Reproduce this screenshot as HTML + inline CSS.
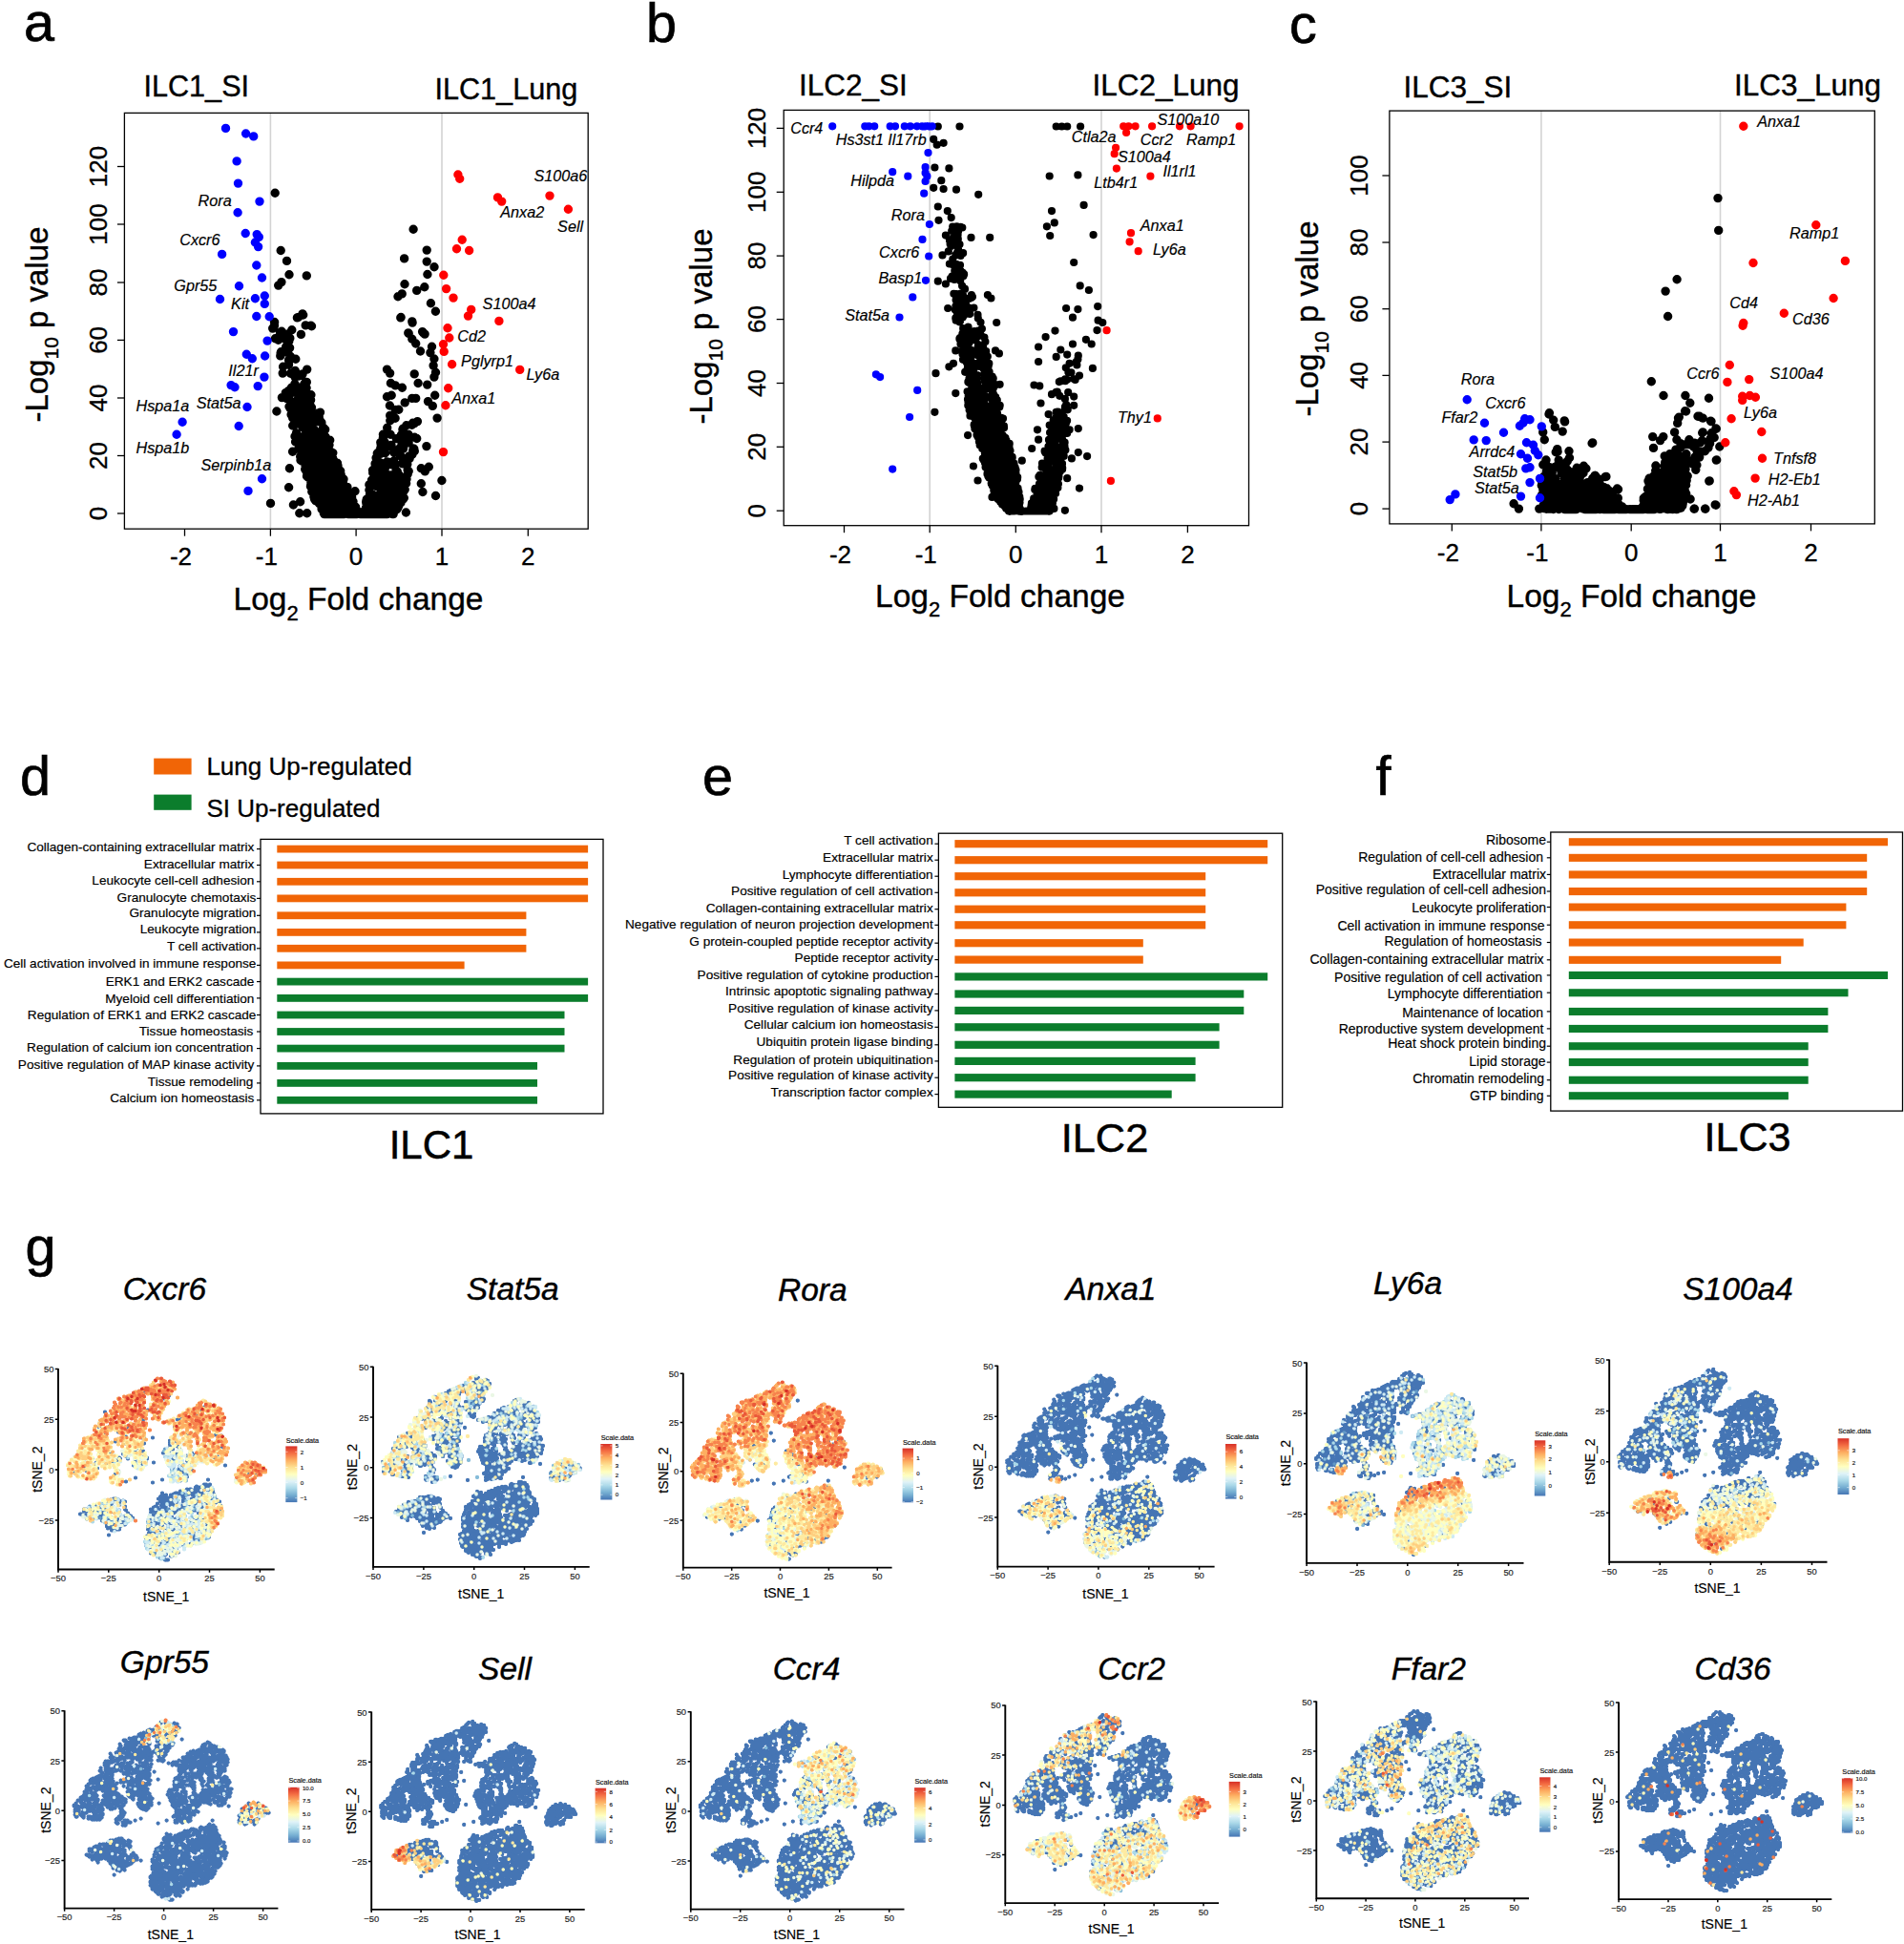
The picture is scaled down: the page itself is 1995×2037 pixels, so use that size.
<!DOCTYPE html>
<html><head><meta charset="utf-8"><title>Figure</title>
<style>html,body{margin:0;padding:0;background:#fff}svg{display:block}text{font-family:'Liberation Sans', sans-serif;stroke:#000}</style></head><body>
<svg width="1995" height="2037" viewBox="0 0 1995 2037" stroke-width=".18">
<defs><linearGradient id="rb" x1="0" y1="0" x2="0" y2="1"><stop offset="0" stop-color="#d73027"/><stop offset="0.125" stop-color="#f46d43"/><stop offset="0.25" stop-color="#fdae61"/><stop offset="0.375" stop-color="#fee090"/><stop offset="0.5" stop-color="#ffffbf"/><stop offset="0.625" stop-color="#e0f3f8"/><stop offset="0.75" stop-color="#abd9e9"/><stop offset="0.875" stop-color="#74add1"/><stop offset="1" stop-color="#4575b4"/></linearGradient></defs>
<rect width="1995" height="2037" fill="#fff"/>
<g id="pa"><line x1="283.4" y1="118.4" x2="283.4" y2="554.2" stroke="#d3d3d3" stroke-width="1.6"/>
<line x1="463" y1="118.4" x2="463" y2="554.2" stroke="#d3d3d3" stroke-width="1.6"/>
<path d="M288.2 202.3h0M433.1 240.3h0M294.2 262.5h0M300.5 273.4h0M447.2 262.1h0M423.6 270.9h0M447.2 274.1h0M455 279.7h0M303 287.8h0M321.3 288.9h0M447.9 287.5h0M294.9 295.6h0M291.7 299.1h0M424 297.7h0M444.8 300.8h0M436.7 304.4h0M421.2 307.9h0M417 310.7h0M451.4 317.7h0M456.4 326.2h0M420.1 332.5h0M432.1 338.1h0M317.7 330h0M312.5 332.5h0M325.8 341.3h0M428.2 349.4h0M442.6 347.6h0M445.1 350.1h0M289.9 431h0M306.6 473.2h0M303.4 490.8h0M302.6 510.7h0M283.5 527.4h0M307.4 529h0M314.6 525.8h0M313.8 537.8h0M321.7 537.8h0M372 514.7h0M345.7 461.3h0M446.9 467.6h0M458.1 438.1h0M441.3 490.8h0M449.3 489.2h0M445.3 493.9h0M462.9 503.5h0M441.3 506.7h0M442.9 515.5h0M456.5 519.5h0M425.4 537h0M447.7 403.1h0M455.7 414.2h0M448.5 420.6h0M453.3 425.4h0M434.2 391.9h0M438.1 401.5h0M419.8 332.9h0M431.8 336.9h0M443.7 348.9h0M427.8 348.9h0M431.8 355.2h0M435.7 360h0M440.5 368h0M452.5 363.2h0M450.9 369.6h0M454.9 376h0M454.1 383.1h0M456.5 390.3h0M454.9 395.1h0M405.5 387.1h0M408.6 391.1h0M409.4 401.5h0M414.2 403.9h0M421.4 406.2h0M405.5 415.8h0M410.2 414.2h0M431.8 417.4h0M435.7 417.4h0M317 328.9h0M311.4 332.9h0M320.2 340.9h0M326.5 341.7h0M315.4 350.4h0M305.8 345.7h0M321.7 387.1h0M317 391.9h0M296.2 391.1h0M295.4 416.6h0M307.4 446.1h0M309 457.3h0M367.8 531h0M318.4 462.7h0M339.9 502.6h0M344.7 483.1h0M337.1 533.4h0M320.3 443.5h0M309.6 463h0M352.1 507.6h0M368.5 524.9h0M300.7 416.7h0M359.2 537.2h0M304.4 391.3h0M348 525.7h0M346.8 537h0M343.8 508.3h0M339.7 524.6h0M349.4 525.6h0M328.9 520.6h0M324.4 443h0M322.3 484.5h0M308.5 435.2h0M356 517.3h0M346.5 473.2h0M357.2 509.7h0M325.1 480.2h0M351.9 492h0M322.1 440.1h0M319.7 491.8h0M362.1 524h0M332.1 510.4h0M347 496.7h0M327.6 479.5h0M344.3 508.2h0M326.7 459.3h0M345 512.3h0M340 537h0M348.8 474.6h0M333.1 491.3h0M352.9 528.8h0M327.9 461.1h0M312.1 435h0M358 500.6h0M336.4 493.2h0M351 522.1h0M293.8 372.9h0M336.6 458h0M324.9 424.2h0M324.8 451.4h0M336 495.2h0M371 535.5h0M327 494.2h0M340.9 501.6h0M340.4 515.4h0M344.5 497.9h0M334.5 488.7h0M347.2 537.1h0M355.9 528.3h0M330.6 434.8h0M335.6 454.7h0M363.4 523.1h0M316.6 479.8h0M339.3 537.7h0M318.7 464.5h0M359.8 532.5h0M329.7 516.4h0M354.3 529.4h0M343.9 528.9h0M328.7 473.2h0M346.4 518.1h0M353.3 537.3h0M332.5 509.8h0M370.6 532.5h0M330.2 501h0M348.5 489.6h0M339.3 537.5h0M362.3 530.3h0M361.3 529.4h0M333.9 478.9h0M370 525.5h0M325.3 454.5h0M356.8 525.3h0M348.3 512.2h0M352.7 518.2h0M348.8 535.4h0M302.8 357.6h0M362.3 519.3h0M365.4 519h0M325.4 466.9h0M329.9 523.3h0M303.9 427.6h0M339.2 448.5h0M325.9 494.1h0M335.5 432.1h0M331.1 474.5h0M339.9 513.6h0M358.5 526.5h0M332.5 508.7h0M361.6 532.8h0M348.1 520.1h0M362.2 517.9h0M300.6 417.6h0M344.8 526.8h0M320.1 458.3h0M358.2 526h0M336.9 442.9h0M362 516.4h0M331.1 477.5h0M359.5 524.5h0M342.9 533.9h0M304.5 411.3h0M330.9 463.7h0M317.9 441.8h0M338.6 516.7h0M323.6 432.3h0M309.8 376.2h0M356.1 530.9h0M337.1 532.8h0M370.4 534.6h0M336.5 456.9h0M351.5 516.7h0M321.5 458.5h0M327.8 494.1h0M346.8 534.1h0M318.6 422.1h0M308.9 402.3h0M360.4 521.5h0M306.7 446h0M317 480.2h0M369.8 532.2h0M347.2 536.4h0M329.8 509.8h0M342.7 528.9h0M314.1 466.9h0M309.3 411.4h0M302.6 353.6h0M338.2 520.3h0M327.6 504.5h0M316.1 483h0M376.6 538h0M352 520.2h0M336.5 507.1h0M372.5 535.2h0M303.8 354.4h0M343.7 532.4h0M354 488h0M346.8 497.4h0M323.8 481.5h0M332.5 497.5h0M333.1 523.7h0M368.2 521.2h0M349.4 507.3h0M351 484.3h0M337.9 512.5h0M340 517.7h0M334.9 439.8h0M341.3 519.6h0M342.6 497.2h0M327.3 490.9h0M348 537.5h0M358.2 534.6h0M339.7 534.7h0M326.7 485.5h0M324.8 455.9h0M309.4 434.1h0M352.6 502h0M373.5 534.4h0M363.7 528.6h0M317.4 447.9h0M355.6 532.6h0M305.5 406.1h0M305.1 420.6h0M299.3 411.6h0M363.8 518.6h0M338.3 452.9h0M330.5 441.9h0M319.5 477h0M331.1 508.8h0M336.4 472.6h0M332.1 523.3h0M303.6 364.6h0M340.9 496.7h0M320 438.3h0M339 512.1h0M330.3 522.9h0M330.9 483.9h0M321.7 494.1h0M332.2 515.5h0M345 531.6h0M319.6 445.7h0M349.5 511.6h0M330.7 524.6h0M340.4 499h0M331.5 483.5h0M340.5 477.6h0M350.1 524.3h0M332.2 504.3h0M347.1 510.6h0M325.9 413.7h0M354.7 521.6h0M340.4 536h0M355.3 500.9h0M363.7 529.4h0M312 425.7h0M344.5 476.5h0M353.9 514.1h0M332.3 468.4h0M334.2 436.5h0M301.4 369.1h0M342.7 528.4h0M353.9 525.7h0M311.6 464h0M340.2 478.4h0M347.3 516.1h0M362.1 529.1h0M375.7 536.4h0M328.6 451.8h0M365.8 522.2h0M294.4 370h0M338 459.9h0M340.9 481.9h0M359.9 507.6h0M293 351.9h0M322.2 453.2h0M346.1 529.1h0M370.4 531.5h0M294.1 370h0M333.2 490.3h0M346.7 532h0M360 523.6h0M346.4 538.4h0M325.7 508.2h0M339.2 486.6h0M312.8 443.7h0M350.1 520.9h0M352.4 521.8h0M357.2 523.4h0M335.7 456.2h0M295.1 347.3h0M355.4 503.1h0M329.1 461.5h0M337.3 513.2h0M367 532.6h0M364.3 532h0M357.1 497.1h0M343.9 463.3h0M354 530.9h0M331 493.9h0M336.1 501.8h0M321.5 499h0M341.9 507.9h0M343.8 519.5h0M331.9 458.2h0M347.5 502.9h0M334.3 513.6h0M349.8 538.4h0M351.3 490.6h0M323.4 445.5h0M355.8 506h0M354.4 510.9h0M334.6 519.4h0M336.8 487.7h0M326.8 515.2h0M342.6 512.6h0M359 511.2h0M346.4 492.4h0M322.9 418.5h0M351.2 502.9h0M340.1 484.8h0M331.5 486.3h0M340.2 486.4h0M313.6 393h0M330.8 440.1h0M327.4 449.7h0M337.3 516h0M344.4 473.8h0M326.5 497.2h0M322.2 444.4h0M325.9 505.5h0M350.4 501h0M338.9 509.7h0M315 482.3h0M358.1 501.4h0M327.9 476.9h0M335.6 477.1h0M339.7 526.3h0M310.2 424.3h0M368.9 534.5h0M335.6 499.6h0M350 500.9h0M359 528.9h0M341.9 472.8h0M353.5 522h0M353 524.7h0M364.2 528.6h0M314.7 432.6h0M369.5 525.4h0M343.4 474.1h0M372.9 537h0M328.5 487.3h0M354.2 508.8h0M314.8 457.6h0M322.5 486.9h0M293.5 348.4h0M319 410h0M327.3 489.5h0M326.8 499.2h0M362.5 530.8h0M356.3 515h0M359 524.1h0M322.8 471.9h0M351 532.7h0M326.9 502.9h0M334.6 527.7h0M351.6 490.7h0M332.5 525.7h0M342.5 474.5h0M299.6 363.5h0M360.3 516.5h0M362.2 532h0M351.5 533.3h0M337.3 502.6h0M342.3 528.9h0M322.3 448.3h0M326.9 492.9h0M323.9 472.6h0M352.6 491.2h0M368.5 536.1h0M315.2 436h0M348.8 513.2h0M308.5 406.5h0M326.5 427h0M369.8 529.9h0M344.3 537.8h0M315.9 481.1h0M331.3 513.5h0M355.9 505.9h0M300.1 414.1h0M369.7 535.3h0M348.4 536.3h0M338.7 532h0M362.9 537.1h0M335 466.8h0M327.3 440.3h0M350.6 512.6h0M298 354.8h0M332.4 523.9h0M309.8 394.6h0M350.8 515.9h0M339.7 495.4h0M350.9 535.3h0M333.2 510.6h0M315.9 427h0M341.2 481.5h0M336.4 467h0M319 465.2h0M287.4 341.5h0M321.1 406.6h0M306.7 438h0M367.8 533.6h0M338.1 505.3h0M358.4 536.4h0M329.7 507.8h0M353.4 512.1h0M303 426h0M325.1 499.5h0M310.5 453.8h0M352.9 536.8h0M322.3 469.2h0M365.8 531.3h0M336.4 452.1h0M344.9 519.5h0M352.3 523.8h0M340.8 517.5h0M341.3 458h0M322.6 492.4h0M331.7 483h0M342.2 471.7h0M332.3 475h0M325.6 419.1h0M334.3 520.5h0M346.9 514.2h0M349.3 533.2h0M320.8 493.6h0M328.9 449.8h0M339.6 518.8h0M339.7 515.7h0M328.1 466h0M327.2 499.3h0M307.1 409.2h0M330 517.7h0M358 504.2h0M321.3 400.4h0M338.2 449.6h0M318.6 404.2h0M355 531h0M356.7 493.5h0M332.5 458h0M323.3 466.3h0M309.3 388.5h0M343.7 511.5h0M327.7 498.6h0M361 530.1h0M354.1 495.1h0M348.8 527.8h0M313 470.1h0M357.1 533.1h0M333.3 522.3h0M354.7 522.6h0M324.6 499.3h0M369.8 534.6h0M321.8 484.4h0M305.1 434.4h0M359.8 514.4h0M322.4 473.4h0M319.5 421.8h0M333.3 433h0M351.1 509.4h0M356.4 497.2h0M332.5 454.4h0M340.7 450.1h0M337.5 523h0M337.9 466.3h0M340.5 500.6h0M359.9 511.4h0M327.7 454.9h0M370.7 536.4h0M331.6 506.3h0M355.8 519.9h0M343.7 538.3h0M363.6 519.6h0M345 466.3h0M342.4 497.4h0M340.2 496.4h0M351.7 497.5h0M302.6 377.3h0M327.7 486.3h0M348.2 519.7h0M339.4 492.1h0M287.5 341.1h0M353.5 485.3h0M331.3 468.5h0M342.3 514.4h0M316.2 393.5h0M347.8 480.3h0M318.9 402.2h0M344.3 513.1h0M320.5 455h0M327.4 465.8h0M345.3 517h0M349 532.1h0M326.2 510.4h0M343.3 528.6h0M324 435.9h0M368.6 520.8h0M350.1 522.9h0M335.6 467.8h0M354.7 508.7h0M350.3 503.6h0M359.7 503h0M315.1 472.3h0M372.6 531.3h0M331.6 524.9h0M348.9 523.2h0M302.8 378.6h0M341.9 470.9h0M360 533.7h0M340.6 496.6h0M364.5 516.2h0M288.4 354.8h0M336.1 496.2h0M318 480h0M340.2 522.4h0M353.5 504.2h0M330.5 435.9h0M316.6 479.2h0M352.1 512.6h0M348.5 520.2h0M302.7 414.7h0M308.4 437.4h0M361.4 512.9h0M352.5 526.8h0M359.6 510.2h0M348 520.7h0M317.2 420h0M361.6 525.9h0M346.5 517h0M376.9 538.1h0M349.6 482.2h0M291.6 356.3h0M337.5 497.7h0M339.4 463.5h0M341.6 524.9h0M327.4 474.1h0M342.3 531.2h0M342.5 495.3h0M300.8 369.1h0M322.9 489.2h0M336.3 510.5h0M322.6 476h0M345.9 525.9h0M336.8 505.1h0M324.3 489.6h0M324.5 427.1h0M323.4 498.3h0M354.9 517.8h0M346 484.1h0M310.8 421.7h0M335.5 502.8h0M340.2 531.4h0M332.9 523h0M347.5 497.9h0M345.7 495h0M338.7 525.1h0M353 494.5h0M325.5 509.7h0M350.3 537.5h0M320.1 488.3h0M358.1 525.2h0M350.9 516.6h0M322.9 500.1h0M332.8 517.5h0M360.7 523.4h0M314.7 478.4h0M364.7 534.3h0M348 532.9h0M330.8 522.1h0M343.6 536.9h0M362 511.8h0M324.7 485.1h0M323.6 478.7h0M334.2 500.5h0M302.5 382.3h0M329.3 453h0M325.6 441.1h0M316.7 431.1h0M336.7 478.8h0M342.8 499.1h0M336 498.2h0M319.3 418.3h0M322.5 496.7h0M329 501.2h0M348.6 525.8h0M330.1 497h0M350.2 522h0M339.1 504.9h0M350.2 532.8h0M335.2 482.7h0M352.5 497.2h0M336.4 471h0M350.1 537h0M319 478.2h0M302 409.8h0M309.5 427.4h0M333.8 441.6h0M362.6 517.1h0M367 529.4h0M343.4 513.3h0M358.6 532h0M355.8 522h0M328.2 454.1h0M375.5 538.2h0M315 405.9h0M348.2 513.5h0M316.6 425.8h0M329.3 459.1h0M361.1 509.7h0M349 511h0M355.7 535.7h0M365.1 536.6h0M340.9 538.6h0M340.8 532.4h0M335.9 501.3h0M368.6 522h0M317.8 412.5h0M335.4 453.4h0M362.4 523.8h0M352.7 524.2h0M333 515.3h0M340.5 459.7h0M362.9 518.8h0M353 516.2h0M311 460.8h0M339.4 508.6h0M361 520.3h0M351.5 508h0M335.5 485.6h0M363.4 535.6h0M306.4 421.8h0M333.8 484.4h0M355.3 516.6h0M285.7 344.1h0M311.9 418.8h0M311.8 444.1h0M315.4 472.2h0M365.8 517.1h0M344.3 482.3h0M342.1 506h0M352.2 502.9h0M318.5 471h0M345.5 508h0M354.4 494h0M310.7 442.2h0M330.6 513.8h0M341.3 537.2h0M362.9 528h0M344.1 480.7h0M334.3 520.7h0M300.5 350.3h0M296.6 384.2h0M350.5 512h0M343.8 468.5h0M335.8 498h0M369.9 538.3h0M318.4 413.5h0M336.5 516.5h0M341.4 460.1h0M294.5 368.8h0M338 492.3h0M355.6 509.2h0M312.7 394.1h0M338.1 475.2h0M335 482.8h0M361.2 523.6h0M360.3 531.9h0M347.9 512.8h0M333.5 484.6h0M287.6 337.5h0M375.5 537.9h0M338.8 518.9h0M348.4 510.3h0M323.9 473.9h0M338.1 498.3h0M338.5 501.9h0M348.8 528.9h0M333.9 512.7h0M319 449.3h0M356.1 529.9h0M331.3 440.5h0M344.3 487.4h0M332.8 517h0M343.5 523.1h0M347.3 521.4h0M339 530.1h0M337.5 523.3h0M325.8 453.5h0M349 526.9h0M322 430.5h0M335 496.1h0M356.9 527.1h0M367.1 534.4h0M366.2 535.5h0M352.8 513.2h0M323.2 491.5h0M323.8 497.9h0M345.4 524.1h0M355 520.9h0M359.8 515.4h0M359.2 525.2h0M348.1 516.1h0M368.4 533.7h0M350 526.3h0M360.9 520.5h0M341.5 491.3h0M319 464.6h0M369.3 535.4h0M360.2 518.6h0M304.4 373.5h0M369 532.8h0M325.1 485.8h0M351.8 526.3h0M370.5 531.8h0M342.4 473.8h0M362.2 513.1h0M362.6 531h0M329.6 523.1h0M342.9 531.8h0M322.8 462.8h0M346.7 504h0M354.7 522.2h0M348.6 480h0M354.9 501.8h0M300.9 357.9h0M335.8 509.8h0M368.3 533.2h0M356.6 531.3h0M326.2 506.8h0M364.1 525.9h0M355.9 497.9h0M301.6 413.1h0M314.9 478.9h0M342.2 509.7h0M303.7 373.2h0M352.5 527.5h0M329.2 499.8h0M361.3 515.1h0M311 459.7h0M312.6 414.2h0M311.9 444.1h0M369.7 530.2h0M329.8 520.9h0M360 502h0M319.1 443.6h0M336.5 454.8h0M330 483.9h0M313 414.3h0M309.1 395.1h0M312.4 412h0M347.7 509.3h0M333.5 518.5h0M350.6 491.8h0M363.5 521.5h0M334.8 457.2h0M363.9 510.4h0M327.7 456.3h0M357.7 532.2h0M373.4 537.8h0M341.8 517h0M344.5 496.5h0M337.1 492.6h0M348 485.6h0M405.4 516h0M395.3 475h0M393.5 531.9h0M415.5 529.4h0M385.7 532.4h0M403.7 524h0M434.3 472.7h0M421 465.5h0M383.1 537.1h0M421 500.5h0M420 526.8h0M409.6 508h0M391 501.7h0M415.5 531.4h0M386.1 526.7h0M411.2 525.9h0M390.9 526.9h0M401.6 526.2h0M403.6 487.4h0M436.7 459.5h0M398.8 472.5h0M420.2 524.1h0M403.2 463.5h0M399.8 516.2h0M393.1 485.9h0M413.2 524.1h0M401.4 455.2h0M413.7 504.6h0M415.3 459.6h0M386.5 530.2h0M402.1 533.3h0M390.9 533.6h0M384.3 530.2h0M422.5 523h0M399.8 489.4h0M408.7 435.4h0M389.2 537.3h0M386.9 507.9h0M396.1 483.2h0M397 473.6h0M394.6 509.8h0M402.2 525.5h0M400.2 520.8h0M396.7 498h0M406.8 530.9h0M419.8 525.1h0M404.1 517.3h0M381.6 537.7h0M402.9 534.3h0M427.2 496.8h0M413.8 516.9h0M386.7 522.5h0M413.4 517.7h0M431.9 476.2h0M418.2 470.3h0M406.7 508h0M413.1 513.7h0M421.2 505.8h0M404.3 515.7h0M422.5 470.3h0M408.9 510.1h0M418.5 475.9h0M394.7 527.1h0M389.5 503.1h0M421.6 515.2h0M399.2 528.5h0M427.1 492.6h0M415.1 493h0M402.2 520.1h0M402.8 499.3h0M394.1 479.8h0M421.6 485.3h0M383.9 524.6h0M407.5 522.8h0M428 479.4h0M385.4 529.6h0M415.8 533.7h0M393.8 498.9h0M428.2 493.7h0M397 502.8h0M397.6 492.4h0M412.7 483h0M401.6 505.9h0M399.6 525.3h0M404.8 510h0M401.3 461.6h0M416.5 530.1h0M412.3 502.8h0M398 500.6h0M392.9 519.4h0M416.8 532.3h0M426.8 486.5h0M403.2 538.5h0M403 524.5h0M390.7 495.5h0M406.9 520.9h0M418.8 459.2h0M407.5 524h0M398.8 505.1h0M397.6 508.2h0M390.8 538.1h0M398 535.1h0M421 512h0M421.8 485.9h0M397.2 526.8h0M386.4 528.6h0M406.6 510.9h0M413.8 533.3h0M381.3 535.9h0M405.5 536.1h0M400.2 465.3h0M398.1 538.2h0M384.3 523.1h0M387.6 538.2h0M393.1 530h0M396.6 508h0M390.5 528.4h0M409.1 455.2h0M404.8 507.6h0M399.9 523.2h0M386.8 538h0M418.9 499.5h0M389 529.2h0M405.7 448.2h0M428.6 478h0M411.2 532.5h0M383.4 532.4h0M396.5 525.7h0M404.9 504.5h0M420.2 478.2h0M388.6 533.7h0M396.5 486.1h0M424.2 421.9h0M393.1 529.1h0M398.8 527.5h0M383.9 527.6h0M390.1 527.5h0M402.3 522.1h0M424.5 459.2h0M422.3 502h0M401.8 519.9h0M414 527.9h0M434.4 458.3h0M392.2 503h0M407.9 535.7h0M420.4 455.7h0M437.4 441.6h0M407 484.8h0M399.5 515.3h0M403.7 519.3h0M385 537.9h0M402.3 531.5h0M426.3 460h0M398 532.4h0M393.6 500.8h0M401.9 535.4h0M406.8 528.3h0M412.7 531.4h0M400.3 524.4h0M422.1 508h0M434.2 443.6h0M392.5 494.4h0M401.5 530.7h0M398.8 489h0M423.3 521.7h0M421.1 511.5h0M428.1 463.9h0M414.7 500.8h0M388.5 522.6h0M408.4 425h0M406.6 526.5h0M391.5 529.6h0M410 466.5h0M399.2 518.8h0M412.1 536.6h0M390.5 492.8h0M386.1 534.7h0M420.8 521h0M389.8 532.8h0M403.6 524.3h0M421.9 450.1h0M422.3 449.1h0M420.5 516.9h0M406 505.3h0M400.3 511.1h0M387.8 516.9h0M410.3 529.8h0M389 533.1h0M394.9 531.7h0M393 536.7h0M414.8 502.6h0M401.9 461.3h0M396.4 499.1h0M407 522.5h0M422.6 468.9h0M391.1 537.9h0M386.9 513.5h0M393.2 536.5h0M392.1 507.2h0M391.9 535.9h0M414.3 486.8h0M423.1 503h0M406.1 506h0M387.5 518h0M403.1 536.1h0M398.8 463.6h0M393.9 531h0M416.5 524.2h0M394.4 527.5h0M424.2 513h0M408 525.2h0M395.3 536.7h0M414.1 438.3h0M410.7 521.7h0M409.9 506.7h0M414.6 502.7h0M397.5 523.7h0M405.9 519.2h0M421.8 506.6h0M402.8 519.3h0M433.8 470.2h0M410.2 527.9h0M410.8 527.7h0M397.6 537.1h0M414.8 506.3h0M432.5 443.3h0M406.7 506.9h0M398.6 538.1h0M416.5 507h0M403 531.7h0M405.1 536.6h0M412.8 472.6h0M416.3 494.1h0M386.7 524.7h0M406.6 484.3h0M397.7 531.8h0M433.2 470.1h0M425.6 506.5h0M399.7 531.3h0M388.3 538.3h0M401.4 458.5h0M409.2 497.9h0M390.7 533.5h0M390.8 523.3h0M425.8 445.7h0M405.2 524.5h0M403.5 517.2h0M393.4 507.8h0M426 502h0M418.7 504.3h0M389.1 525.9h0M412.2 538.3h0M394.7 533.7h0M418.2 497.9h0M405.5 501.7h0M412.6 474h0M398.8 469.6h0M394.9 489.6h0M402.5 519.8h0M398.3 530.9h0M399.1 465.2h0M417.7 530.3h0M400.9 515.7h0M431.6 445.3h0M403.5 531.3h0M410.1 531h0M418.7 507.5h0M412.1 536h0M414.3 528.6h0M421.3 516.3h0M383.3 534.5h0M423.2 514.4h0M405.9 514.6h0M401.3 531.7h0M421.2 517.3h0M410.7 486.9h0M387 532.4h0M396.7 502.5h0M403.6 474.8h0M420.9 515.4h0M385 534.4h0M386.1 536.5h0M397.3 520.6h0M383.6 526h0M403.6 513h0M403.7 486.9h0M399.6 505.3h0M399.1 485.1h0M403.7 512.9h0M407.1 515.1h0M399 509.2h0M432.7 472.1h0M412.2 507.3h0M403.8 489.4h0M405.8 504.3h0M401.5 513.2h0M395.1 509.2h0M390.2 528h0M397.2 504h0M429.1 480.5h0M405.5 484h0M417.8 429.2h0M408.4 521.4h0M405.4 497.2h0M427.3 479.5h0M391.9 525.6h0M413.1 519.2h0M396.3 496.2h0M421.5 519.8h0M418.7 503.1h0M405.5 468.5h0M401.6 536h0M413.5 520h0M400.1 525.3h0M398.7 475.4h0M390.7 518.5h0M415.8 509.4h0M397.9 485h0M407.1 516.6h0M416.4 499.7h0M414.3 429.5h0M416.4 532h0M416.4 531.9h0M401.8 533.7h0M386.4 533.3h0M415.6 523h0M403 492.2h0M394.3 532.9h0M390.5 531.3h0M405.5 512.3h0M408.8 440.7h0M409 509.5h0M394.5 532.7h0M413 532.9h0M386.4 522.2h0M406.9 513.9h0M427.8 455.1h0M415.7 529.8h0M403.1 538.4h0M407.9 536.9h0M353.2 538.6h0M397.8 538.6h0M398.9 538.6h0M395.9 538.6h0M347.4 538.6h0M368.6 538.6h0M347 538.6h0M392 538.6h0M412.2 538.6h0M377.6 538.6h0M387.1 538.6h0M388.2 538.6h0M349.8 538.6h0M366.5 538.6h0M364.9 538.6h0M394.3 538.6h0M369.5 538.6h0M366.3 538.6h0M379.6 538.6h0M354.4 538.6h0M344.1 538.6h0M356.7 538.6h0M340.8 538.6h0M388.4 538.6h0M372.8 538.6h0M384.5 538.6h0M380.9 538.6h0M343.3 538.6h0M399.1 538.6h0M399.3 538.6h0M339.8 538.6h0M370.8 538.6h0M396.9 538.6h0M369.8 538.6h0M402.3 538.6h0M390.3 538.6h0M387.7 538.6h0M405.7 538.6h0M396.4 538.6h0M382.2 538.6h0M342.8 538.6h0M372.6 538.6h0M389.8 538.6h0M377.7 538.6h0M382.2 538.6h0M364.9 538.6h0M401 538.6h0M357.3 538.6h0M386.2 538.6h0M371.3 538.6h0M350.2 538.6h0M340.7 538.6h0M348.8 538.6h0M360.4 538.6h0M373.9 538.6h0M341.2 538.6h0M344.2 538.6h0M397.7 538.6h0M411.2 538.6h0M370.9 538.6h0" stroke="#000" stroke-width="9.4" stroke-linecap="round" fill="none"/>
<path d="M236.5 134.4h0M257.6 140h0M265.7 142.9h0M248.1 168.9h0M249.5 192.1h0M272 211.1h0M249.1 222.7h0M257.2 244.5h0M269.2 245.6h0M271.3 248.4h0M267.4 254h0M270.6 258.6h0M232.6 266.4h0M268.8 278h0M274.5 291h0M250.5 299.8h0M277.3 310h0M230.5 313.5h0M267.4 312.8h0M277.3 318.4h0M268.8 331.5h0M282.2 331.8h0M244.5 347.6h0M280.1 357.1h0M258.3 371.2h0M264.3 375.8h0M277.6 373h0M276.9 395.1h0M242.1 403.6h0M246 405.7h0M270.2 404.6h0M259 426.5h0M191.1 442.3h0M250.2 446.5h0M185.1 455.3h0M274.5 501.8h0M260 514.4h0" stroke="#0000ff" stroke-width="9.4" stroke-linecap="round" fill="none"/>
<path d="M479.9 183h0M481.7 187.2h0M521.5 206.9h0M525.7 211.1h0M576 205.1h0M595.4 219.2h0M484.2 251.2h0M478.5 260.7h0M491.6 262.5h0M464.8 288.2h0M467.6 302.6h0M475 312.1h0M493.7 324.4h0M490.5 331.1h0M522.9 336.4h0M469 343.8h0M470.8 354h0M464.5 360.7h0M465.2 368.4h0M473.6 381.8h0M544.7 387.4h0M469.7 406.8h0M466.9 424.7h0M464.5 473.6h0" stroke="#ff0000" stroke-width="9.4" stroke-linecap="round" fill="none"/>
<rect x="130.4" y="118.4" width="485.8" height="435.8" fill="none" stroke="#000" stroke-width="1.3"/>
<line x1="193.5" y1="554.2" x2="193.5" y2="561.7" stroke="#000" stroke-width="1.3"/>
<text x="189.5" y="592.4" font-size="26" text-anchor="middle" stroke-width="0.31">-2</text>
<line x1="283.4" y1="554.2" x2="283.4" y2="561.7" stroke="#000" stroke-width="1.3"/>
<text x="279.4" y="592.4" font-size="26" text-anchor="middle" stroke-width="0.31">-1</text>
<line x1="373.1" y1="554.2" x2="373.1" y2="561.7" stroke="#000" stroke-width="1.3"/>
<text x="373.1" y="592.4" font-size="26" text-anchor="middle" stroke-width="0.31">0</text>
<line x1="463" y1="554.2" x2="463" y2="561.7" stroke="#000" stroke-width="1.3"/>
<text x="463" y="592.4" font-size="26" text-anchor="middle" stroke-width="0.31">1</text>
<line x1="553.3" y1="554.2" x2="553.3" y2="561.7" stroke="#000" stroke-width="1.3"/>
<text x="553.3" y="592.4" font-size="26" text-anchor="middle" stroke-width="0.31">2</text>
<line x1="122.9" y1="538" x2="130.4" y2="538" stroke="#000" stroke-width="1.3"/>
<text x="112" y="538" font-size="26" text-anchor="middle" transform="rotate(-90 112 538)" stroke-width="0.31">0</text>
<line x1="122.9" y1="477.5" x2="130.4" y2="477.5" stroke="#000" stroke-width="1.3"/>
<text x="112" y="477.5" font-size="26" text-anchor="middle" transform="rotate(-90 112 477.5)" stroke-width="0.31">20</text>
<line x1="122.9" y1="417" x2="130.4" y2="417" stroke="#000" stroke-width="1.3"/>
<text x="112" y="417" font-size="26" text-anchor="middle" transform="rotate(-90 112 417)" stroke-width="0.31">40</text>
<line x1="122.9" y1="356.4" x2="130.4" y2="356.4" stroke="#000" stroke-width="1.3"/>
<text x="112" y="356.4" font-size="26" text-anchor="middle" transform="rotate(-90 112 356.4)" stroke-width="0.31">60</text>
<line x1="122.9" y1="296" x2="130.4" y2="296" stroke="#000" stroke-width="1.3"/>
<text x="112" y="296" font-size="26" text-anchor="middle" transform="rotate(-90 112 296)" stroke-width="0.31">80</text>
<line x1="122.9" y1="235" x2="130.4" y2="235" stroke="#000" stroke-width="1.3"/>
<text x="112" y="235" font-size="26" text-anchor="middle" transform="rotate(-90 112 235)" stroke-width="0.31">100</text>
<line x1="122.9" y1="174.5" x2="130.4" y2="174.5" stroke="#000" stroke-width="1.3"/>
<text x="112" y="174.5" font-size="26" text-anchor="middle" transform="rotate(-90 112 174.5)" stroke-width="0.31">120</text>
<text x="375.5" y="639.2" font-size="33.5" stroke-width=".4" text-anchor="middle">Log<tspan font-size="22" dy="10.5">2</tspan><tspan dy="-10.5"> Fold change</tspan></text>
<text x="50" y="340" font-size="33" stroke-width=".4" text-anchor="middle" transform="rotate(-90 50 340)">-Log<tspan font-size="21" dy="10.5">10</tspan><tspan dy="-10.5"> p value</tspan></text>
<text x="150.5" y="100.8" font-size="30.6" stroke-width="0.37">ILC1_SI</text>
<text x="455.5" y="104" font-size="30.6" stroke-width="0.37">ILC1_Lung</text>
<text x="207.6" y="216.4" font-size="16.2" font-style="italic">Rora</text>
<text x="188.2" y="256.9" font-size="16.2" font-style="italic">Cxcr6</text>
<text x="182.3" y="305.4" font-size="16.2" font-style="italic">Gpr55</text>
<text x="242.1" y="323.7" font-size="16.2" font-style="italic">Kit</text>
<text x="239.3" y="394.1" font-size="16.2" font-style="italic">Il21r</text>
<text x="142.5" y="431" font-size="16.2" font-style="italic">Hspa1a</text>
<text x="205.8" y="427.5" font-size="16.2" font-style="italic">Stat5a</text>
<text x="142.5" y="475" font-size="16.2" font-style="italic">Hspa1b</text>
<text x="210.4" y="493.3" font-size="16.2" font-style="italic">Serpinb1a</text>
<text x="559.5" y="190" font-size="16.2" font-style="italic">S100a6</text>
<text x="524.3" y="228" font-size="16.2" font-style="italic">Anxa2</text>
<text x="584.1" y="242.8" font-size="16.2" font-style="italic">Sell</text>
<text x="505.6" y="323.7" font-size="16.2" font-style="italic">S100a4</text>
<text x="479.2" y="358.2" font-size="16.2" font-style="italic">Cd2</text>
<text x="483.1" y="384.2" font-size="16.2" font-style="italic">Pglyrp1</text>
<text x="551.4" y="397.6" font-size="16.2" font-style="italic">Ly6a</text>
<text x="473.3" y="422.9" font-size="16.2" font-style="italic">Anxa1</text>
<text x="25" y="42.5" font-size="57.5" stroke-width="0.69">a</text></g>
<g id="pb"><line x1="974.2" y1="115.4" x2="974.2" y2="550.7" stroke="#d3d3d3" stroke-width="1.6"/>
<line x1="1154" y1="115.4" x2="1154" y2="550.7" stroke="#d3d3d3" stroke-width="1.6"/>
<path d="M982.8 132.5h0M1005.5 132.5h0M1106.7 132.5h0M1112.5 132.5h0M1118.2 132.5h0M1132.1 132.5h0M978.2 145.9h0M981.7 151.7h0M988.6 149.8h0M979.4 175.5h0M994.4 176.4h0M1099.7 184.5h0M1129.4 183.4h0M986.3 189.2h0M978.2 196.8h0M988.6 198h0M1002 198.7h0M1025.2 203.8h0M982.8 216.5h0M992.8 221.1h0M996.7 228.1h0M983.5 230.8h0M1102 221.1h0M1135.6 214.9h0M1104.8 233.4h0M1096.9 237.3h0M1002.5 237.3h0M1008.3 238.5h0M990.9 246.6h0M1000.2 248.9h0M1017.5 248.9h0M1037.2 248.9h0M1100.2 247h0M1145.6 246.1h0M995.6 255.8h0M987.5 267.4h0M1001.3 267.4h0M1125.2 275h0M996.7 276.7h0M1006 277.8h0M982.8 294.7h0M990.9 297.5h0M1131.7 299.4h0M1140.9 304h0M1034.9 309.1h0M1038.4 312.5h0M1117.1 323h0M1129.4 324.1h0M1150.2 321.1h0M993.2 323h0M1124 332.7h0M1001.3 333.4h0M1024.5 329.9h0M1044.2 338h0M1150.6 335.7h0M1155.3 338h0M1149.5 346.1h0M1105.5 346.6h0M1095.6 353.1h0M1137.9 355.8h0M1124 360.5h0M1143.7 360.5h0M1088.1 363.5h0M1111.3 366.5h0M1001.3 367.4h0M1043 367.4h0M1046.9 370.4h0M1106.7 373.9h0M1129.8 372.7h0M1088.1 379h0M994.4 384.3h0M999 380.8h0M1144.9 385.9h0M980.5 391.2h0M1131 393.6h0M1047.6 402.8h0M1083.5 403.5h0M1089.3 404.4h0M1001.3 412.1h0M1090.5 422.5h0M1098.6 434.1h0M979.4 431.8h0M1087 450.3h0M1129.8 449.1h0M1014.1 456.1h0M1088.1 460.7h0M1081.2 470h0M1129.8 474.1h0M1139.1 478.1h0M1122.9 480.4h0M1070.8 482.7h0M1019.9 488.5h0M1118.2 501.2h0M1131 511.6h0M1024.5 503.5h0M1039.5 520.9h0M1104.4 532.9h0M1115.9 534.8h0M1118.2 371.6h0M1120.6 380.8h0M1119.4 390.1h0M1125.2 397h0M1111.3 399.4h0M1106.7 410.9h0M1115.9 417.9h0M1125.2 415.6h0M1102 413.2h0M1115.9 427.1h0M1125.2 424.8h0M1106.7 431.8h0M1099.7 445.6h0M1106.7 445.6h0M1113.6 445.6h0M1120.6 450.3h0M997.2 242h0M1066.6 527.1h0M1032.6 403.4h0M1054 499.3h0M1038.1 443h0M1054.2 518.8h0M1054.5 486.1h0M1003.8 238.9h0M1037.4 477.3h0M1054 532.3h0M1038 473.7h0M1060.5 488.3h0M1042.7 461.7h0M1039.9 509.1h0M1038.7 496.8h0M1057.7 464.9h0M1019.8 424.2h0M1015.2 312.9h0M1040 404h0M1034.3 392.7h0M1064.5 492.5h0M1062.6 518.4h0M1027.4 410.9h0M1040.1 460.7h0M1002.1 278.3h0M1015.7 358.7h0M1020.4 322.5h0M1046.3 474.4h0M1006.7 284.1h0M1033.8 469.6h0M1056.4 496.9h0M1066.6 517.8h0M1064.4 504.9h0M1064.8 499.1h0M1029.2 414h0M1046.1 463.3h0M1030.5 447.7h0M1054.7 512.7h0M1002.8 265.1h0M1066.5 528.1h0M1040.7 407.1h0M1061.6 514.8h0M1063.7 529.9h0M1044 504.2h0M1002.9 328.6h0M1052.4 462.4h0M1044.8 508h0M1009.7 324.4h0M1013.6 410.3h0M1037.9 491.1h0M1016.5 424.7h0M1066.2 533.4h0M1059 533.8h0M1012.1 368.8h0M1060.4 515.7h0M1032.8 487.4h0M1044.2 519.6h0M1053 493.9h0M1015.3 400.9h0M1034.7 495h0M1053.3 476.7h0M1039.4 401.9h0M1037 395.7h0M1028.2 414.3h0M1058.3 510.5h0M1038.1 498.1h0M1056.9 476.8h0M1059.2 522.3h0M1047.8 486.2h0M1068.3 520.5h0M1055.7 506.1h0M1030.5 481.7h0M1027.1 454.7h0M1052.2 530.1h0M1045.3 518.4h0M1033.5 435.6h0M1009.1 265.2h0M1052 509.6h0M1055.5 507.2h0M1044.3 438.5h0M1021.1 412.9h0M1046.8 481.2h0M1057 535.4h0M1034 483.6h0M1020 407.9h0M1051.4 525.5h0M1045.6 509.7h0M1039.8 462.7h0M1055.1 499h0M1065.5 512.2h0M1025.8 406h0M1044.1 464.6h0M1059.7 530.7h0M1030.4 461.8h0M1065.6 526.1h0M1049 490.5h0M1004.6 282.7h0M1066 501.9h0M1032.6 489.6h0M1016.8 420.8h0M1061.3 499.6h0M1014.3 424.8h0M1041.7 476.2h0M1033.4 469.7h0M1022.5 447.5h0M1047.9 502.6h0M993.8 263.4h0M1017 395.9h0M1034.3 451.6h0M1052.2 474h0M1034.9 485.9h0M1047 523h0M1020.9 347h0M1014 418.5h0M1040.9 428.8h0M1028.1 408h0M1047.4 491.9h0M1016.4 376.4h0M1040 461.6h0M1034.8 373.5h0M1013.5 356h0M1053.3 509.7h0M1050.5 506h0M1044.5 422.8h0M1047.4 448.2h0M1055.6 525.9h0M1054.2 520.2h0M1052.3 529h0M1018.9 311.1h0M1019.4 432h0M1043.1 500.9h0M1037 425.4h0M1046 478.4h0M1058.9 524.1h0M1006.5 237.9h0M1059.2 525.9h0M1020.8 410.9h0M1007.6 311.7h0M1026.1 415h0M1026.4 383.9h0M1054.9 520.4h0M1063.9 533h0M1003.7 323.4h0M1041 464.9h0M1053.6 484.3h0M1004 261.3h0M1058.5 472.3h0M1057.6 496h0M1040.4 429h0M1009.4 345.7h0M1031 439.3h0M1047.3 426.5h0M1016.5 435.7h0M1050.8 473.8h0M1014.5 322.2h0M1008 367.4h0M1003.8 250.4h0M1049 443.1h0M1001.4 320.9h0M1029 367.6h0M1061.4 513.8h0M1026.6 448.1h0M1012.2 373.6h0M1032.8 441.6h0M1054.7 506.8h0M1034.3 473.3h0M1050.1 528.4h0M1053.8 469.8h0M1040.2 429h0M1048.6 469.9h0M1042.3 495.3h0M1026.7 466.4h0M1065 527.6h0M1062.2 516.9h0M1021.3 383.2h0M1040.3 424.1h0M1005.3 337.3h0M1052.8 518.3h0M1037.3 473.7h0M1064.2 534.9h0M1049.6 490.5h0M1045.9 488h0M1008.7 332.5h0M1031.5 431.7h0M1053.4 458.9h0M1066.5 528h0M1055.4 499.8h0M1027.6 377.8h0M1058.3 486.2h0M1061.9 526.2h0M1048.3 486.5h0M1024.9 346.5h0M1027.2 437.3h0M1052.3 509.5h0M1047.3 509.6h0M1065.5 524.1h0M1043.5 488.5h0M1037.2 497.8h0M1033.5 475.1h0M1038.3 477.9h0M1017.7 312h0M1049.6 477.9h0M998.3 271.7h0M1052.7 525.5h0M1059.8 515h0M1043.4 489.3h0M1015.6 378.1h0M1025.9 371.4h0M1057.4 485h0M1061.5 494.2h0M1002 276.9h0M1044.8 419.4h0M1034.6 400.9h0M1024.8 333.4h0M1040.7 396.5h0M1055.1 501.6h0M1026.3 425.4h0M1036.6 485.9h0M1048.2 492.4h0M1001.9 312.9h0M1045.2 522.4h0M1044.5 492.9h0M1010.1 287.4h0M1023.9 393.2h0M1031.2 458h0M1016.4 357.5h0M1055.8 502.6h0M1051.5 519.7h0M994.9 276.5h0M1048.9 520.7h0M1050.6 507.2h0M1048.4 507.3h0M1045.6 507.8h0M1029.6 442h0M1056.8 489.5h0M1053.8 529.6h0M1015.1 346.5h0M1013.8 385.8h0M1052.1 462.2h0M1058.1 494.9h0M1031.6 442.1h0M1046.5 486.3h0M1028.2 439.8h0M1021.5 355h0M1038 447.7h0M1017.2 353h0M1047.2 483.1h0M1054.5 531.2h0M1068.1 522.3h0M1044.4 422.6h0M1055.8 527.9h0M1009 376.8h0M1054.8 524.8h0M1046.1 517h0M1016.9 425.6h0M1016.5 431.6h0M1002.2 308h0M1045 470.6h0M1056.7 521.1h0M1055 529.7h0M1008.8 286.3h0M1046.8 462.3h0M1003.8 328.5h0M1030.6 468.5h0M1048.2 523.6h0M1041.9 512.2h0M1050.8 511.8h0M1046.4 438.9h0M1010.9 302.5h0M1055.3 465.5h0M1045.5 518.2h0M1024.9 366.4h0M1050.9 512.4h0M1049.1 500.8h0M1042.4 480.4h0M1032 376.8h0M1037.6 453.6h0M1059.6 502.6h0M1059.4 510h0M1034.6 416.4h0M1063.1 532.8h0M1046.2 513.5h0M1042.1 449.6h0M1042.2 438.2h0M1028.4 415.2h0M1066.3 531.1h0M1030.1 363.5h0M1020.6 445.2h0M1044.1 514.2h0M1034.7 435.4h0M1067.4 515.4h0M1006.8 307.5h0M1042.6 501.6h0M1026.2 362.9h0M1063.9 503.6h0M1035.2 452.2h0M1053.4 482.5h0M1049.6 475.4h0M1062.4 523h0M1064.3 504.3h0M1049.5 511.9h0M1036.5 459.1h0M1054.5 461.7h0M1062.1 513.6h0M1039.2 418.3h0M1043.3 476.8h0M1048.4 493.7h0M1043.8 506.7h0M1033.4 471.6h0M1046.1 472.9h0M1040.6 499.1h0M1047.6 443.5h0M1057.1 510.9h0M1044.7 428.9h0M1023.8 421.8h0M1063.7 512.8h0M1036.3 500.5h0M1006 332.5h0M1045 498.5h0M1059.2 506.5h0M1047.5 494.1h0M1056.9 481.8h0M1064.2 534.1h0M1047.9 521.9h0M1031.2 443h0M1062.2 529.3h0M1006.8 291.3h0M1052.1 467.8h0M997.6 289.5h0M1065.2 500.5h0M996.8 276.8h0M1041.4 414.9h0M1043.2 446.9h0M1032.2 462h0M1042.1 512.1h0M1018.6 426.9h0M1030.6 439.2h0M1060.6 478.9h0M1046.5 486.4h0M1038.6 488.4h0M1054.8 510.7h0M1009.9 366.7h0M1003.6 246.1h0M1064.9 530.4h0M1047.4 484.8h0M1058.8 525.3h0M1050.2 462.9h0M1044 449.4h0M1018.9 403.9h0M1062.3 533.4h0M1047.9 522.1h0M1051.4 497.3h0M1039.7 440.7h0M995.4 251.4h0M1025.3 454.7h0M1028.7 425.6h0M1051.7 520.9h0M1030.3 428.4h0M999.1 248.3h0M1062.9 494.6h0M1022.3 443.2h0M1020.2 383.3h0M1004 242.6h0M1033.7 373.3h0M1056.8 465.1h0M1060 533.3h0M1005.4 354.9h0M1047.7 424.8h0M1040.1 410.9h0M1060.7 528h0M1033 442.3h0M1055.5 481.8h0M1043.9 518.3h0M1051.9 446.4h0M1025 361.2h0M1063.5 501.2h0M1057.4 531.8h0M1035.2 381.5h0M1060.1 484.6h0M1060.3 524.2h0M1055.1 529h0M1041.6 515h0M1046.7 484.2h0M1056.3 503.1h0M1061.5 530.6h0M1037.5 461.3h0M997.3 290.8h0M1044.4 480.5h0M1063.5 489.5h0M1038.4 451.5h0M1043.1 478.2h0M1027.2 376.1h0M1058.4 518.3h0M1053.3 522.3h0M1065.9 533.6h0M1035.4 434.8h0M1051.2 507.2h0M1041.5 473.8h0M1044 504.7h0M1040.1 397.7h0M1024.4 364.5h0M1059.2 533.1h0M1031.4 353.5h0M1041.7 456.9h0M1021.6 420.5h0M1024.4 412h0M1016.5 349h0M1033.1 427.5h0M1038.9 459.8h0M1023.9 396h0M1054.7 465.9h0M1031.4 399.1h0M1060 523.5h0M1032.5 438.5h0M1051.1 486.6h0M1031.3 391.5h0M1058.2 491.1h0M1037.8 493.2h0M1036.2 427.2h0M1046.5 483.7h0M1019.6 371.6h0M1006.2 294.3h0M1051.5 484.3h0M1035.7 383.6h0M1036.5 425.5h0M1032 484.9h0M1031.9 475.6h0M998.9 252h0M1043.3 443.5h0M1064.3 516.3h0M1036.9 496.7h0M1032.6 444.8h0M1002.1 285.6h0M1048.3 526.1h0M1062.2 532.9h0M1014.3 411.3h0M1049.2 496.1h0M1017.9 309.1h0M1016.1 328.9h0M1028.5 450.7h0M1023.7 441.6h0M1061 500h0M1045.5 452.4h0M1036.8 473.6h0M1044.3 466.2h0M1063.1 508.4h0M1048.4 516h0M1028.1 369.9h0M1056.2 510.6h0M1063.7 508.9h0M1037.1 447.8h0M1053.4 518.4h0M1039 472.2h0M1047.2 516.2h0M1043.2 416h0M1021.1 351h0M1013 380.1h0M1060 512.5h0M1057.9 535.8h0M1015.7 385.7h0M1052.3 515.6h0M1005.6 355.5h0M1007.5 327h0M1037 451.7h0M1068.7 523h0M1063.6 516.7h0M1010.8 325.7h0M1053.8 529.5h0M1029.2 470.1h0M1023 371.8h0M1016.9 376.3h0M1068.8 533.2h0M1052.1 512.7h0M1059.3 522.6h0M1034.2 473.9h0M1059.1 532h0M1014.1 383.6h0M1057 510.1h0M1043.6 435.6h0M1044.5 432.8h0M1067.1 519.1h0M1056.2 533h0M1064.7 525h0M1055.5 466h0M1029.8 441.1h0M1018.2 404.6h0M1023.5 455.7h0M1065.1 534.2h0M1039.8 409.4h0M1015.5 396.6h0M1042 402.6h0M1029.9 423.5h0M1038.1 501.1h0M1049.7 438.2h0M1065.5 523.8h0M1004.7 309h0M1008.4 349.8h0M1053.1 500.3h0M1012.6 325.3h0M1068.5 526.6h0M1047.1 451.5h0M1049 509.9h0M1052.3 526.5h0M1042.4 478.7h0M1043 429.5h0M1063.2 495.4h0M1026.4 430.5h0M1067.5 515.6h0M1015.6 429.5h0M1026.1 421.1h0M1054.6 481.5h0M1047.4 510.8h0M1053 458.6h0M1066.5 527h0M1018.1 409h0M1035.4 428h0M1030.1 412.8h0M1050.6 498.5h0M1052.1 508.9h0M1033.9 484.1h0M1049.2 509.6h0M1049.3 486.1h0M1019.5 399.2h0M1033.7 455.4h0M1043.6 510.3h0M1006.6 267.9h0M1046.3 517.2h0M1053.8 525h0M1029.8 480.6h0M1052.1 481.3h0M1010.8 357.2h0M1067.9 535.7h0M1041.8 488.3h0M1050.1 519.2h0M1045.2 505.1h0M1054 509.5h0M1016.4 368.9h0M1045.7 482.3h0M1025.4 352.1h0M1063.7 517h0M1053.6 501.2h0M1043.1 461.4h0M1036.9 497.3h0M1069.7 535.1h0M1009.4 319.4h0M1066.5 526.6h0M1041.1 466.6h0M1021.2 434.5h0M1062.8 511.4h0M1042.4 403.9h0M1060.7 479.4h0M1009.9 317.1h0M1001.6 314.3h0M1066.5 528.7h0M1056.9 520.8h0M1032.9 403h0M1062 511.2h0M1062.8 531.6h0M1008.9 309h0M1066.2 500.1h0M1037 406.7h0M1017.5 310.5h0M1048.4 451h0M1034.1 466.6h0M1044.8 503.5h0M1064.5 533.4h0M1060.3 485h0M1066.4 530.7h0M1050 514.3h0M1065.2 501.5h0M1031.2 432.6h0M1043 515.7h0M1063.7 490.3h0M1050.6 477.4h0M1000.8 324.5h0M1047.7 497.4h0M1050.5 510.4h0M1018 422h0M1023 417.9h0M1020.1 429.4h0M1021.4 380.9h0M1032.4 358.1h0M1021.4 449.3h0M1063.8 490.5h0M1040.8 430.8h0M1057.6 471.6h0M1008.1 299.5h0M1023.4 447.2h0M1059.2 535.2h0M1039.2 409h0M1036.6 389.7h0M1054.5 532.8h0M1038.7 506.6h0M1051.1 448.1h0M999.4 307.8h0M1037 427.3h0M1028.3 429.3h0M1064.4 509.1h0M1011 303h0M1024.6 457.8h0M1044.2 503.7h0M1045.1 508.3h0M1037.1 426.2h0M1066.2 516.7h0M1070.2 535.9h0M1041.9 448.9h0M1057.5 503h0M1005.2 327.8h0M1064.2 521.9h0M1041.6 507.4h0M1032.4 468.5h0M1048.2 512h0M1066.2 527.1h0M1043.3 453h0M1059.7 501.6h0M1058.4 531.6h0M1058.6 526.6h0M1035.2 429.3h0M1063.9 492.4h0M1051 438.6h0M1050.5 480.7h0M1059.5 525.5h0M1023.1 432.4h0M1021.6 438.5h0M1047.6 474.3h0M1031.9 470.9h0M1051.6 514.9h0M1029.5 430.8h0M1050.2 513.6h0M1039.6 499.2h0M1035.7 447.4h0M1034.5 496.7h0M996 291.8h0M1052.8 523.8h0M1036.3 380.9h0M1017.2 394.2h0M1005.9 354h0M1048.7 524.1h0M1041.5 453.5h0M1049.1 437.8h0M1033.7 397h0M1066.5 517h0M1008.8 285.8h0M1064.1 527.5h0M1042.3 463h0M1060.3 504.9h0M1029.9 372.3h0M1058.2 500.1h0M1063.2 526.9h0M1054.2 532.8h0M1061.9 525h0M1048.5 473.2h0M1048.2 448.1h0M1016.6 366.4h0M1068 528.5h0M1059.6 503.4h0M1006 336.6h0M1052.8 514.5h0M1027.5 350.9h0M1055.7 504.2h0M1010 330.5h0M1027.7 447.9h0M1014.5 342.6h0M1047.9 469.6h0M1060.1 497.7h0M1041.9 474.7h0M1033.2 407.2h0M1040.9 412.8h0M1019.5 371.1h0M1045 433.2h0M1064 530.2h0M1037.5 461.3h0M1052.4 523.3h0M1038.1 397.9h0M1037.6 396.1h0M1011.1 361.8h0M1042.1 419.2h0M1019.7 397.1h0M1025.8 416.1h0M1053 479.5h0M1018.2 423.7h0M1017.6 434h0M1063.4 512.8h0M1000 293h0M1016.2 392h0M1037.3 467.3h0M1058.1 527.2h0M1050.6 456h0M1053.6 525.1h0M1059.5 535.5h0M1061.7 505.1h0M996.5 258h0M1043.8 470.4h0M1057.5 468.7h0M998.2 237.6h0M1047.5 483.7h0M1033.1 431.4h0M1009.9 365.1h0M1054.8 474.4h0M1047 517.3h0M1022.7 440.5h0M1027.4 457.5h0M1050.6 515.3h0M1027.4 383.8h0M1039.6 442.6h0M1062.5 485.6h0M1040.5 445.9h0M1055.5 529h0M1052 448.2h0M1014.7 414.9h0M1014.1 371.8h0M1025.9 445.9h0M1065.9 529.6h0M1046.3 469.7h0M1032.2 414.5h0M1040.5 482.3h0M1032.2 460.8h0M1061.6 505.6h0M1056.5 494.2h0M1029.2 422.7h0M1019.1 382.7h0M1068.6 535.6h0M1033.8 398.2h0M1001.3 284.4h0M1049.4 480.6h0M1007.8 331.2h0M1039.6 394.5h0M1038.8 506.7h0M1059.7 518.3h0M1066.6 511.7h0M1067.7 526.3h0M1062.5 492.4h0M1037.2 494.7h0M1023.8 423.9h0M1005.5 256.1h0M1052.4 506.5h0M1048.1 456.4h0M1054.4 505.4h0M1044 463.1h0M1036.7 455.2h0M1044.1 487.2h0M1028.2 462.4h0M1055.9 486.1h0M1016.2 421.8h0M1044.8 482.9h0M1011.5 350.1h0M1009.4 289.2h0M1062.8 533.9h0M1044.6 460.2h0M1003.3 318.4h0M1006.5 360.5h0M1012.9 357.7h0M1067.6 533.3h0M1041 429.2h0M1038.9 485.6h0M1041.7 427.2h0M1048.6 504.8h0M1045.2 504.5h0M1001.7 335.7h0M1057.8 533.7h0M1026.1 383h0M1031.9 395h0M1011.9 317.8h0M1056.5 533.7h0M1034.1 483.1h0M1043.8 499h0M1028 424.7h0M1032.5 482.9h0M1033 475.9h0M1050.6 460.3h0M1053.6 484.9h0M1033.2 368.2h0M1037.2 480.5h0M1009.6 316.6h0M1057.5 504.2h0M1027.5 337.8h0M1040.4 488.9h0M1047.1 507.3h0M1065.8 511.5h0M1017.9 435.8h0M1052 526.1h0M1059.2 494.2h0M1045.3 510.6h0M995 251.9h0M1043 466.8h0M1057.7 494.9h0M1009.2 344.2h0M1050.6 500.2h0M1047.5 470.9h0M1020.2 387.7h0M1000.1 254.9h0M1061.1 533h0M1030.2 460.8h0M1014.1 325.2h0M1034.1 462.8h0M1051.1 521.7h0M1039 433.8h0M1014.5 421.4h0M1030.3 386.1h0M1031 421.9h0M1028.9 344.6h0M1034.8 448.8h0M1049.6 458.3h0M1039.8 423.5h0M1053.9 499.1h0M1055.6 509.1h0M1063.6 534.4h0M1040.7 406.5h0M1055 469.9h0M1041.3 513.7h0M1034 455.8h0M1050.4 485.8h0M1037 395.6h0M1052.7 497h0M1040 437h0M1035.9 448.6h0M1008.5 370.9h0M1014.3 382.4h0M1059.9 515.9h0M1039.3 475.6h0M1050.5 527.8h0M1040.4 504.9h0M1019.7 417.2h0M1045.3 488.2h0M1039.4 414.5h0M1023.8 436.5h0M1058.2 521.2h0M1055.7 490.5h0M1059.4 511.7h0M1041.6 491.8h0M1062.1 516.1h0M1043.3 466.1h0M1006.6 358.2h0M1034.1 457.5h0M1062.6 508.1h0M1050.6 508.2h0M1033.7 479.3h0M1035.4 499h0M1046.3 466.9h0M1064.4 495.8h0M1050.3 525h0M1046.4 460.8h0M1020.9 446.2h0M1046.4 483.8h0M1056 487.3h0M1014.4 400.2h0M1050.3 473.6h0M1028.5 381.4h0M1023.9 401.9h0M1022.3 356.6h0M1039.2 445.4h0M1032.6 396.9h0M1053.6 474.9h0M1053.8 481.5h0M1004.7 291.3h0M1066.9 520h0M1046.2 512.1h0M1060.1 531.3h0M1057.2 484.9h0M1052.3 517.1h0M1011.2 389.8h0M1035 482.9h0M1019.2 389.4h0M1046.6 520.8h0M1060 512.6h0M1046.6 523.7h0M1040.2 508.7h0M1035.7 405.3h0M1035 460.2h0M1065.6 532h0M1054.6 508.3h0M1058.6 508.6h0M1046.3 478.6h0M1053.3 484.3h0M1025.9 462.8h0M1013.9 365.3h0M1048.4 492.9h0M1044.9 446.2h0M1054.7 523.4h0M1033.3 439.4h0M1061.6 508.2h0M1033.6 432.8h0M1055.6 519.2h0M1018.7 383h0M1043.6 478.7h0M1054.3 499.1h0M1064 501h0M1013.5 354.5h0M1051.1 529.1h0M1019.6 368.8h0M1046.4 523.2h0M1015.8 384.9h0M1000.3 283.7h0M1028.6 437.5h0M1019.1 429.9h0M1041.2 505h0M1061.8 529.4h0M1069 535.3h0M1041.4 502.2h0M1059.8 532.8h0M1090.5 531.8h0M1089.6 507.5h0M1112 436.3h0M1100.2 470h0M1109.2 476.7h0M1099.5 467h0M1118.2 397.8h0M1099.6 532h0M1103.8 519h0M1082.9 525.1h0M1100 502.6h0M1106.6 484h0M1102 515.1h0M1090.4 502.4h0M1097.1 495.3h0M1091.5 499.4h0M1088 522.4h0M1092 485.5h0M1094.3 511h0M1103.7 440.1h0M1106.2 502.5h0M1107.6 511.6h0M1093.3 522.4h0M1089.3 519.1h0M1096.3 532.5h0M1110.6 486.8h0M1090.3 505.9h0M1113 485.9h0M1094.3 498.2h0M1107.4 501.7h0M1111.2 456.7h0M1094.8 473.3h0M1080.7 529.1h0M1097.1 508.2h0M1096.3 535.1h0M1105.1 499.2h0M1127.6 379.4h0M1108.7 472.3h0M1105.4 501.5h0M1102.4 465.3h0M1100.1 460.3h0M1109.2 500.7h0M1101.7 524.5h0M1103.6 505.3h0M1081.7 528.3h0M1095.6 522.5h0M1112.5 432.7h0M1096.2 501.7h0M1103.6 503.8h0M1107.1 442.5h0M1099.8 484.1h0M1083.2 522.4h0M1099.1 511.9h0M1097.5 503h0M1105.3 467.9h0M1105.1 481.5h0M1116.1 397.4h0M1103.7 508.9h0M1101.2 519.7h0M1086.6 517.8h0M1101 499.4h0M1089.1 519.1h0M1103.6 503.5h0M1098 510.7h0M1086.3 520.3h0M1112.6 453.1h0M1092.2 519.1h0M1089.7 497.9h0M1113.1 491.8h0M1102.9 482.4h0M1092 530h0M1105.2 495.6h0M1106.8 436.8h0M1101.1 530.8h0M1108.5 500.5h0M1110.6 493h0M1106.4 493.3h0M1112.7 489.4h0M1116.4 471.6h0M1089.6 511h0M1091.5 525.5h0M1104.4 498.3h0M1108.9 507h0M1084.6 511.9h0M1102.9 501.2h0M1098.8 523.1h0M1101.5 525.8h0M1108.2 508.6h0M1106.7 491.9h0M1101.2 525.3h0M1093.4 528.4h0M1100.2 527.8h0M1117 443.3h0M1103.8 468.3h0M1091.7 489.7h0M1092.1 530.7h0M1100.7 473.4h0M1080 535.3h0M1091.9 517.4h0M1116 426.3h0M1114.7 436.9h0M1110.2 480.1h0M1098.7 524.3h0M1103.9 495.7h0M1097.1 504.2h0M1115 450h0M1100.4 526h0M1089.1 500h0M1115.6 463.7h0M1095.4 509.6h0M1086.6 521.3h0M1097.8 500.5h0M1106.4 486.9h0M1098.4 526h0M1095.2 508.2h0M1094.7 526.5h0M1110 483.2h0M1105.2 456.4h0M1102.3 499.3h0M1084.3 513.1h0M1114.1 475.5h0M1108 506.2h0M1091.8 533.5h0M1099.7 512.5h0M1100.9 515.2h0M1087.7 525.4h0M1094.6 511.3h0M1107.4 511h0M1100.3 502.5h0M1091.9 529.6h0M1110.6 469.7h0M1122.4 390.3h0M1104.8 514.4h0M1094.9 530.3h0M1086.6 527.9h0M1115 466.6h0M1096.6 494.4h0M1093.6 505.1h0M1086.8 521.7h0M1126.6 398h0M1100 526.5h0M1110.7 472h0M1094.2 522.3h0M1112.7 457.7h0M1107.8 410.5h0M1091.9 517.3h0M1108.4 511.1h0M1129.4 376.4h0M1109.2 486.4h0M1103.7 448.5h0M1113.2 490.3h0M1090.7 527.5h0M1104.4 514.7h0M1089 507.1h0M1099.4 514.2h0M1088.4 499.5h0M1103.6 457.7h0M1092.5 534.3h0M1105.8 484.5h0M1080.3 531.5h0M1105 476.3h0M1090.7 535.4h0M1090 531.9h0M1098.1 478.7h0M1101.8 511.8h0M1096.7 521h0M1094.5 533.3h0M1091.6 523.5h0M1099.7 466.3h0M1105.3 461.9h0M1093.1 504.2h0M1102.9 527.1h0M1089.1 513.1h0M1099 460.9h0M1087.3 511.3h0M1100 534.3h0M1101.9 504.9h0M1088.6 528.6h0M1097.5 533.1h0M1098.6 535.6h0M1116.8 385.3h0M1086.6 520.2h0M1089.2 534.7h0M1108.2 501.4h0M1090.3 505.4h0M1088.7 510h0M1087.4 534.3h0M1100.1 453.3h0M1118.9 450.8h0M1096.4 494.1h0M1098.5 467.8h0M1106.9 501.7h0M1105.7 500.3h0M1100.2 526.8h0M1087.9 528.4h0M1110.7 494.3h0M1086.3 530h0M1100.8 467.5h0M1088.5 512.8h0M1104.4 464.3h0M1107.9 435.4h0M1095.1 532.3h0M1096.7 489.1h0M1085 535.5h0M1119.2 411.2h0M1107.8 484.8h0M1102.6 521.4h0M1108.1 506.3h0M1105.6 492.2h0M1118.1 440.8h0M1114.7 477.9h0M1092.2 511.3h0M1090.6 522h0M1108.7 431.6h0M1083.9 522.9h0M1114.6 477h0M1088.5 510.4h0M1114 469.3h0M1095.9 511.7h0M1096.7 514.2h0M1112.8 485.9h0M1106.1 517.1h0M1100.5 492h0M1103.9 450.1h0M1109.4 499.2h0M1116.2 452.7h0M1102.6 501h0M1101.1 465.7h0M1127.9 380.7h0M1100.6 504.9h0M1109.8 400.1h0M1102.6 521.1h0M1094.2 533.7h0M1088.3 519.5h0M1085.5 533.6h0M1099.5 514.8h0M1110.4 458.4h0M1092.2 528.2h0M1110.3 414.8h0M1097.6 480.5h0M1095.4 519.3h0M1109.6 453.1h0M1094 526.1h0M1095 533.4h0M1096 498.1h0M1098.5 490.3h0M1100.4 504.6h0M1100.8 461.5h0M1128.4 382.4h0M1101.5 526.3h0M1101.8 521.5h0M1100.9 524.8h0M1110.7 443.4h0M1109.4 483.2h0M1098.3 489.2h0M1115.5 467.9h0M1107.9 500.4h0M1094.4 515.2h0M1099.3 483.2h0M1113.7 463.9h0M1090.3 525.3h0M1110.7 437.1h0M1096.3 534.2h0M1091.4 526.6h0M1117 427.7h0M1094.6 472.7h0M1084.5 522.7h0M1085 524.8h0M1110.9 478.1h0M1105.3 477.5h0M1112.8 433.9h0M1096.9 534.2h0M1099.7 535.6h0M1103.5 495.7h0M1101.4 523.4h0M1097.5 515.1h0M1093.9 533.1h0M1111.3 450.4h0M1109.5 459.6h0M1107.7 498.4h0M1089.8 526.5h0M1113.1 460.5h0M1117.2 424.1h0M1106.5 484.4h0M1099.2 524.1h0M1102.5 457.1h0M1094.2 514.2h0M1095.5 474.6h0M1100.4 529.8h0M1104.3 468.2h0M1080.9 527.4h0M1100.2 528.3h0M1098.1 531.9h0M1098.9 526.8h0M1097.6 524h0M1106.8 467.8h0M1093.1 523.2h0M1104.1 522.9h0M1099.3 507.4h0M1093.2 518h0M1118.7 429.3h0M1118.1 454h0M1085.1 535.2h0M1097.9 531.5h0M1098 528.7h0M1085.6 526h0M1104.2 517.8h0M1086.2 522.6h0M1101.5 465.3h0M1100 495.8h0M1104.2 479.1h0M1084.5 524h0M1103.5 450.9h0M1095.3 522.4h0M1116.2 399.2h0M1091.1 517.9h0M1107.5 507.7h0M1101.6 496h0M1090.9 518.4h0M1104.8 508.1h0M1095.7 535.5h0M1092 535.5h0M1067.1 535.5h0M1097 535.5h0M1070.7 535.5h0M1071.7 535.5h0M1077.7 535.5h0M1062.3 535.5h0M1079.6 535.5h0M1097.5 535.5h0M1063 535.5h0M1098.4 535.5h0M1075.1 535.5h0M1068.5 535.5h0M1080.6 535.5h0M1062.1 535.5h0M1072 535.5h0M1089.8 535.5h0M1070.5 535.5h0M1088.9 535.5h0M1069.8 535.5h0M1089.4 535.5h0M1088 535.5h0M1082.1 535.5h0M1077.3 535.5h0M1067.4 535.5h0M1062.4 535.5h0M1079.4 535.5h0M1072.4 535.5h0M1093.2 535.5h0" stroke="#000" stroke-width="8.2" stroke-linecap="round" fill="none"/>
<path d="M872.2 132.3h0M906.3 132.3h0M910.5 132.3h0M916.2 132.3h0M932.7 132.3h0M938 132.3h0M947.8 132.3h0M953.8 132.3h0M960.8 132.3h0M966.1 132.3h0M969.6 132.3h0M973.2 132.3h0M976.7 132.3h0M972.5 160.1h0M969.6 175.2h0M935.2 180.2h0M951.3 184.7h0M969.6 181.2h0M971.4 184.7h0M969.6 190h0M968.2 202.7h0M973.9 235h0M966.5 250.9h0M973.2 268.5h0M970 293.8h0M956.3 311.4h0M942.5 332.5h0M917.9 392.3h0M922.1 395.1h0M961.2 408.9h0M953.1 437h0M935.2 491.6h0" stroke="#0000ff" stroke-width="8.2" stroke-linecap="round" fill="none"/>
<path d="M1177.2 132.3h0M1182.5 132.3h0M1189.6 132.3h0M1207.1 132.3h0M1236 132.3h0M1247.6 132.3h0M1298.6 132.3h0M1180.1 139h0M1169.1 154.8h0M1167.7 161.2h0M1169.9 176.6h0M1205.4 184.7h0M1185 244.2h0M1183.6 253.3h0M1192.7 263.2h0M1159.6 346.2h0M1212.8 438.4h0M1163.9 503.9h0" stroke="#ff0000" stroke-width="8.2" stroke-linecap="round" fill="none"/>
<rect x="821.2" y="115.4" width="487.3" height="435.3" fill="none" stroke="#000" stroke-width="1.3"/>
<line x1="884.5" y1="550.7" x2="884.5" y2="558.2" stroke="#000" stroke-width="1.3"/>
<text x="880.5" y="589.5" font-size="26" text-anchor="middle" stroke-width="0.31">-2</text>
<line x1="974.2" y1="550.7" x2="974.2" y2="558.2" stroke="#000" stroke-width="1.3"/>
<text x="970.2" y="589.5" font-size="26" text-anchor="middle" stroke-width="0.31">-1</text>
<line x1="1064.3" y1="550.7" x2="1064.3" y2="558.2" stroke="#000" stroke-width="1.3"/>
<text x="1064.3" y="589.5" font-size="26" text-anchor="middle" stroke-width="0.31">0</text>
<line x1="1154" y1="550.7" x2="1154" y2="558.2" stroke="#000" stroke-width="1.3"/>
<text x="1154" y="589.5" font-size="26" text-anchor="middle" stroke-width="0.31">1</text>
<line x1="1244.4" y1="550.7" x2="1244.4" y2="558.2" stroke="#000" stroke-width="1.3"/>
<text x="1244.4" y="589.5" font-size="26" text-anchor="middle" stroke-width="0.31">2</text>
<line x1="813.7" y1="535.2" x2="821.2" y2="535.2" stroke="#000" stroke-width="1.3"/>
<text x="802" y="535.2" font-size="26" text-anchor="middle" transform="rotate(-90 802 535.2)" stroke-width="0.31">0</text>
<line x1="813.7" y1="468.3" x2="821.2" y2="468.3" stroke="#000" stroke-width="1.3"/>
<text x="802" y="468.3" font-size="26" text-anchor="middle" transform="rotate(-90 802 468.3)" stroke-width="0.31">20</text>
<line x1="813.7" y1="401.5" x2="821.2" y2="401.5" stroke="#000" stroke-width="1.3"/>
<text x="802" y="401.5" font-size="26" text-anchor="middle" transform="rotate(-90 802 401.5)" stroke-width="0.31">40</text>
<line x1="813.7" y1="334.6" x2="821.2" y2="334.6" stroke="#000" stroke-width="1.3"/>
<text x="802" y="334.6" font-size="26" text-anchor="middle" transform="rotate(-90 802 334.6)" stroke-width="0.31">60</text>
<line x1="813.7" y1="268.1" x2="821.2" y2="268.1" stroke="#000" stroke-width="1.3"/>
<text x="802" y="268.1" font-size="26" text-anchor="middle" transform="rotate(-90 802 268.1)" stroke-width="0.31">80</text>
<line x1="813.7" y1="201.3" x2="821.2" y2="201.3" stroke="#000" stroke-width="1.3"/>
<text x="802" y="201.3" font-size="26" text-anchor="middle" transform="rotate(-90 802 201.3)" stroke-width="0.31">100</text>
<line x1="813.7" y1="134.4" x2="821.2" y2="134.4" stroke="#000" stroke-width="1.3"/>
<text x="802" y="134.4" font-size="26" text-anchor="middle" transform="rotate(-90 802 134.4)" stroke-width="0.31">120</text>
<text x="1048" y="635.5" font-size="33.5" stroke-width=".4" text-anchor="middle">Log<tspan font-size="22" dy="10.5">2</tspan><tspan dy="-10.5"> Fold change</tspan></text>
<text x="746" y="342" font-size="33" stroke-width=".4" text-anchor="middle" transform="rotate(-90 746 342)">-Log<tspan font-size="21" dy="10.5">10</tspan><tspan dy="-10.5"> p value</tspan></text>
<text x="837" y="100.3" font-size="31.5" stroke-width="0.38">ILC2_SI</text>
<text x="1144.5" y="100.3" font-size="31.5" stroke-width="0.38">ILC2_Lung</text>
<text x="828.2" y="140" font-size="16.2" font-style="italic">Ccr4</text>
<text x="875.7" y="152" font-size="16.2" font-style="italic">Hs3st1</text>
<text x="930.2" y="152" font-size="16.2" font-style="italic">Il17rb</text>
<text x="891.2" y="195.3" font-size="16.2" font-style="italic">Hilpda</text>
<text x="933.8" y="230.5" font-size="16.2" font-style="italic">Rora</text>
<text x="921.1" y="270.2" font-size="16.2" font-style="italic">Cxcr6</text>
<text x="920.4" y="297.3" font-size="16.2" font-style="italic">Basp1</text>
<text x="885.2" y="336" font-size="16.2" font-style="italic">Stat5a</text>
<text x="1212.4" y="131.2" font-size="16.2" font-style="italic">S100a10</text>
<text x="1122.7" y="148.5" font-size="16.2" font-style="italic">Ctla2a</text>
<text x="1194.8" y="152" font-size="16.2" font-style="italic">Ccr2</text>
<text x="1243" y="152" font-size="16.2" font-style="italic">Ramp1</text>
<text x="1170.9" y="170" font-size="16.2" font-style="italic">S100a4</text>
<text x="1218.4" y="185.4" font-size="16.2" font-style="italic">Il1rl1</text>
<text x="1146.3" y="197" font-size="16.2" font-style="italic">Ltb4r1</text>
<text x="1194.8" y="241.7" font-size="16.2" font-style="italic">Anxa1</text>
<text x="1207.9" y="266.7" font-size="16.2" font-style="italic">Ly6a</text>
<text x="1170.9" y="442.6" font-size="16.2" font-style="italic">Thy1</text>
<text x="677" y="43.8" font-size="57.5" stroke-width="0.69">b</text></g>
<g id="pc"><line x1="1614.9" y1="116.1" x2="1614.9" y2="548.9" stroke="#d3d3d3" stroke-width="1.6"/>
<line x1="1802.5" y1="116.1" x2="1802.5" y2="548.9" stroke="#d3d3d3" stroke-width="1.6"/>
<path d="M1800 207.6h0M1800.7 241.4h0M1757.1 292.8h0M1745.1 305.1h0M1747.6 331.5h0M1730.3 399.7h0M1743 414.5h0M1765.9 414.5h0M1770.8 422.2h0M1790.5 417.3h0M1758.5 438.1h0M1766.6 431h0M1780.7 436.3h0M1784.2 438.1h0M1793 441.6h0M1798.3 449.3h0M1623.4 432.8h0M1639.2 440.9h0M1668.1 464.5h0M1682.1 499.6h0M1694.5 512h0M1791.2 503.9h0M1798.3 482.1h0M1801.8 468h0M1586.1 527.8h0M1591.4 533.1h0M1612.8 533.1h0M1775.4 533.1h0M1786.6 533.1h0M1797.2 528.9h0M1623 434h0M1627.7 440.3h0M1639.6 441.9h0M1637.2 452.1h0M1629.3 447.4h0M1616.7 452.9h0M1618.3 460.8h0M1668.7 463.9h0M1731.7 457.6h0M1742.8 457.6h0M1739.6 461.6h0M1732.5 469.4h0M1754.6 452.9h0M1756.9 460.8h0M1760.9 464.7h0M1759.3 437.1h0M1765.6 430.8h0M1757.7 443.4h0M1779 436.3h0M1783.7 437.9h0M1792.4 441.1h0M1797.9 449h0M1682.9 499.4h0M1695.5 512.8h0M1727 504.1h0M1771.1 523h0M1790.8 504.1h0M1798.7 482h0M1786.9 533.2h0M1797.9 529.3h0M1775.1 533.2h0M1661.1 529.1h0M1665.2 525.9h0M1620.1 517.3h0M1687.6 533.3h0M1634.9 528.6h0M1683.1 523h0M1667 522.9h0M1669.3 530.9h0M1645.6 500.1h0M1662.8 511.2h0M1680.4 532.5h0M1638.5 518.8h0M1689.9 533h0M1673.5 523h0M1656.1 498.6h0M1635.9 491.5h0M1644.5 506.9h0M1659.4 488.2h0M1626.8 531.9h0M1696.9 529.5h0M1666.6 524.1h0M1657.6 527.6h0M1644.2 525.5h0M1660.6 519h0M1652.4 494.8h0M1659.2 489.8h0M1627.3 515.2h0M1672.3 501h0M1646.2 494.7h0M1630.4 512.9h0M1651.2 504.1h0M1620.5 528h0M1674.6 501.7h0M1683.9 532h0M1627.6 524.8h0M1679.6 527.8h0M1617.7 499.5h0M1618.6 517.8h0M1639 512.6h0M1671.1 498.4h0M1695.3 521.9h0M1621.6 527.4h0M1617.6 518.4h0M1649.8 529.9h0M1627.1 518h0M1690 532.8h0M1695.3 527.3h0M1636.1 496h0M1657.6 523.4h0M1660.1 516.5h0M1663.9 520h0M1640.2 486.8h0M1674.3 524.2h0M1640.6 529.1h0M1631.7 470.6h0M1616 520.4h0M1662.9 524.7h0M1668.4 533.2h0M1619.7 517h0M1650.7 517.2h0M1641.2 514.7h0M1668.8 513.3h0M1620.4 533.2h0M1686.6 514.9h0M1653.6 528.8h0M1639.9 518.7h0M1641.1 526.1h0M1664.6 525.9h0M1646.7 527.7h0M1617 509.1h0M1672.7 519.6h0M1633.8 527.4h0M1630.8 506.6h0M1652.1 530.1h0M1622.6 513.7h0M1643 527.1h0M1642.6 503.9h0M1625.3 501.6h0M1669.4 526.8h0M1640.7 497.8h0M1625.4 529.3h0M1630.3 521.1h0M1670 506.4h0M1638.8 530.2h0M1657.1 506.3h0M1637.7 506.4h0M1640.1 531.3h0M1633.2 507.4h0M1649.9 526.5h0M1648.8 524.6h0M1623.4 491.6h0M1696.8 533.5h0M1671.6 498.5h0M1693.1 524.1h0M1626.6 490.2h0M1674.2 510.9h0M1653.9 515.6h0M1643.8 527.9h0M1620.9 529.3h0M1637.4 518.9h0M1618.1 506.1h0M1653.1 494.9h0M1661.9 491h0M1647 495.5h0M1679.6 533.3h0M1640.7 530.4h0M1654.4 515.6h0M1692.5 524.7h0M1641.3 517.9h0M1687.8 528.7h0M1678.6 522.8h0M1631.6 526.4h0M1680 520.9h0M1682.6 530.5h0M1657.4 491.4h0M1615.6 504.9h0M1680.8 517.2h0M1638.6 532.7h0M1659.5 528.4h0M1654 524.5h0M1615.3 508.8h0M1626.1 532.6h0M1621 531.4h0M1644 472.7h0M1658.3 532.1h0M1641.4 527.3h0M1669 526.4h0M1643.2 518.9h0M1643.1 530.1h0M1662.7 531.4h0M1642.6 512.7h0M1630.5 532.2h0M1665.3 525.8h0M1640.9 508.3h0M1656.2 506.8h0M1645.7 524.2h0M1671.8 522.2h0M1672.3 524.5h0M1635.1 523.3h0M1670.3 520.9h0M1651.7 532.3h0M1687.5 524.4h0M1633.9 488h0M1659 495.8h0M1654.2 528.5h0M1684.8 531.4h0M1681.5 515.6h0M1659.7 507.5h0M1655.4 511.7h0M1665.6 531.8h0M1627.6 533.5h0M1618.2 508.9h0M1623.7 532h0M1625.4 498.4h0M1687.9 533.2h0M1687.4 531.4h0M1677.2 515h0M1642.3 483.2h0M1617.5 507h0M1650.4 509.4h0M1622.9 512.8h0M1680.9 510.7h0M1643.1 532.5h0M1680.1 519.8h0M1630.3 529h0M1667.1 528.8h0M1642.7 510.4h0M1648.1 526h0M1649.9 526.4h0M1658.2 532.1h0M1630.2 473.8h0M1626.5 510.8h0M1670.7 514.1h0M1653.5 515h0M1667.2 522.6h0M1623.4 495.9h0M1679.4 531.9h0M1642.6 492.5h0M1674.1 523.9h0M1637.9 530.2h0M1664.8 529.9h0M1634.6 527.3h0M1685.2 514.1h0M1674.3 527.8h0M1685.5 524.7h0M1635.9 519h0M1617.1 529.5h0M1646.2 522.8h0M1645.8 530.4h0M1679.8 527.1h0M1699.8 531h0M1663.7 522.8h0M1683 523.1h0M1650.7 505h0M1673.5 522.7h0M1639.1 501.4h0M1683.6 511.7h0M1633.8 523.1h0M1675.8 529.1h0M1686.3 514.9h0M1629.7 501.7h0M1637.1 530.1h0M1675 530.1h0M1668.7 501.2h0M1688.1 528.7h0M1650.6 527.3h0M1621.3 512h0M1686.8 532h0M1645.1 527.9h0M1667.8 519.2h0M1644.1 533.4h0M1655 524.1h0M1664.7 529.7h0M1633.2 482.1h0M1624.6 520.6h0M1671.1 528.2h0M1691.2 531.6h0M1620.4 494h0M1633.6 486.7h0M1667 509.1h0M1671.8 527.8h0M1675.7 516h0M1678.6 528.5h0M1644.5 479.8h0M1624.1 520.9h0M1643.5 522.3h0M1664.1 512.6h0M1629.4 519.7h0M1662.7 516.4h0M1690.9 530.3h0M1624.4 515.9h0M1622.3 489.1h0M1675.3 526.9h0M1658 518.5h0M1649.6 516.3h0M1629.9 527.4h0M1676.8 532.4h0M1653.1 510.3h0M1640.6 511.3h0M1647.4 528.4h0M1617.6 499.5h0M1635 521.9h0M1639.5 509.3h0M1648.8 526.9h0M1676.3 520.7h0M1685.6 526.4h0M1638.3 531.6h0M1624.8 531.8h0M1664.5 508.6h0M1631.2 530.2h0M1676.3 524.6h0M1663.4 505.6h0M1626.5 518.7h0M1631.1 525.2h0M1660.4 521.2h0M1636.4 529.8h0M1617.2 508.4h0M1673.7 506.7h0M1633.4 484.2h0M1661.1 520.3h0M1689.3 516.9h0M1637.2 514.4h0M1643.8 501h0M1671.2 518.3h0M1681.9 533.5h0M1651.9 515.6h0M1651.9 521.3h0M1660.1 530h0M1658.4 532.9h0M1648.7 516.4h0M1690.3 519.8h0M1622.7 496.7h0M1656.7 507.6h0M1646.2 532.7h0M1621.7 529.2h0M1688.9 520.8h0M1687.9 527.1h0M1625 513.9h0M1650.9 501.2h0M1652.2 490.3h0M1639.5 511.3h0M1676.1 506.4h0M1641 500.9h0M1649 510.2h0M1618.8 531.6h0M1632.4 532.2h0M1657.5 530.7h0M1654.4 513.7h0M1668.6 524.5h0M1654 527.5h0M1643.1 510.2h0M1691.6 530.3h0M1641.6 512.5h0M1659 525.9h0M1632.5 518.5h0M1633.3 533.5h0M1624.8 508.3h0M1631.1 523.4h0M1629.6 529.7h0M1629 525h0M1624.7 533.1h0M1656.9 530.5h0M1617.1 532.5h0M1648.5 523.7h0M1618.9 513.5h0M1647.9 525h0M1698.6 533.1h0M1623.1 529.5h0M1628.5 522.9h0M1641.6 517.4h0M1619.6 531.4h0M1634.9 512h0M1646.4 507.9h0M1630.4 488.9h0M1637.6 528.8h0M1655.8 505.7h0M1622.9 526.6h0M1686.7 514.6h0M1615.4 518.7h0M1623 533.1h0M1618.3 530.5h0M1671.6 532.6h0M1626.2 495.4h0M1632.1 473.3h0M1675.4 506.6h0M1616.8 487h0M1666 527.5h0M1619.4 485.1h0M1686.4 527.8h0M1648.5 531.5h0M1671.9 526.8h0M1624.1 489.9h0M1667.2 511.3h0M1649.6 503.7h0M1634.1 491h0M1634 524.7h0M1647.8 508.6h0M1629.4 528.4h0M1658.8 512.5h0M1643.2 513h0M1627.6 522.5h0M1616.8 513h0M1676.9 523.2h0M1622.3 514.8h0M1686.4 529.1h0M1681.6 516.5h0M1641.2 499.5h0M1655.8 496h0M1646 526.8h0M1649.5 532.3h0M1620 482h0M1623.8 519.6h0M1671 532.2h0M1619.3 529h0M1670.1 530.8h0M1616.1 519h0M1696.9 529.2h0M1662.8 529.4h0M1679.4 524.6h0M1675.9 518.2h0M1630.1 520.9h0M1621.9 530.3h0M1622.3 504.7h0M1698.7 533.2h0M1691 529.9h0M1655.1 532.1h0M1685.3 529.4h0M1664.3 517.8h0M1675.6 509.9h0M1665.4 526.5h0M1727.6 517.8h0M1763.4 485.2h0M1743.9 488.4h0M1744.6 512.8h0M1732.8 498.7h0M1743 522.2h0M1743.8 531.6h0M1748.6 498h0M1753.1 505.6h0M1736.3 527.1h0M1740.6 522.6h0M1730 531.2h0M1760.3 528.7h0M1768.2 498.8h0M1766.6 508.2h0M1742.6 513h0M1793.1 454.3h0M1783.7 453.5h0M1750.1 493.8h0M1770.2 465.8h0M1769.9 460.7h0M1751 530.9h0M1744.1 524.2h0M1727.9 506.3h0M1742.5 496.9h0M1737.7 518.4h0M1763.4 497.3h0M1726.1 524.5h0M1739.4 524h0M1727.3 531.4h0M1762.6 495h0M1758.4 477.6h0M1734.3 528.8h0M1746.1 516.9h0M1740.1 512.6h0M1751.5 482.3h0M1762.1 516.9h0M1747.5 489.5h0M1755.9 526.1h0M1726.1 533.3h0M1747.7 513.3h0M1723.3 528.7h0M1753.9 527.5h0M1766.2 516.8h0M1776.8 492.3h0M1728.4 532.6h0M1738.5 533.2h0M1724.1 522.5h0M1728.4 512.4h0M1732.5 523.6h0M1752.6 490.2h0M1723.5 525.5h0M1750.1 518.5h0M1767.2 503.4h0M1745.3 489.3h0M1752.8 529.7h0M1755.8 491.8h0M1761.1 485.9h0M1728.9 524.8h0M1747.2 533.1h0M1786.4 472.7h0M1752.4 516.7h0M1789.9 462.9h0M1743.6 508.8h0M1731.3 514h0M1750.1 528.1h0M1742.3 512.3h0M1741.8 521.9h0M1754.2 490.1h0M1734.4 529h0M1742 513.8h0M1775.4 482.6h0M1783.4 461.8h0M1744.4 532.7h0M1745.9 512.2h0M1752.1 524.8h0M1761 468.6h0M1743.2 504h0M1763.3 514.2h0M1734.8 505.9h0M1766.2 465.7h0M1758.4 520.6h0M1733.5 523.4h0M1793.8 453.4h0M1738.8 523.3h0M1727.3 524.7h0M1763.3 525.8h0M1730.5 531.3h0M1724.7 527.6h0M1756.7 513.6h0M1765.4 484.8h0M1734.9 488h0M1762.9 524.7h0M1732 531.6h0M1735 515.9h0M1726.4 512.4h0M1762.2 526.4h0M1759.1 529.4h0M1763.1 528.3h0M1755.5 503.5h0M1723.4 529.5h0M1738.9 495.4h0M1756 527.9h0M1744.2 477.9h0M1740.9 513.1h0M1737.3 530.5h0M1727.3 524.7h0M1726.5 529.4h0M1761.8 521.9h0M1728.9 531.4h0M1796.2 458.5h0M1736.6 526h0M1784.2 452.9h0M1742.1 501h0M1735 533h0M1765.4 496.6h0M1745.2 511h0M1743.7 512.9h0M1760.8 513.1h0M1746.5 527.6h0M1791.3 461.2h0M1761.9 528.3h0M1744.7 484.5h0M1730.3 525.3h0M1761.3 532.1h0M1760.7 519.5h0M1721.6 530.3h0M1775.9 479h0M1750.6 502.6h0M1735.5 494.7h0M1743.6 512.7h0M1746.3 529.3h0M1743.7 523.1h0M1736 521h0M1748.2 521.7h0M1792 459.9h0M1749.5 485.3h0M1726.9 525.1h0M1755.8 515h0M1749.9 522.4h0M1763.1 524.7h0M1743.9 517.4h0M1762.6 513.3h0M1743.5 513.4h0M1728.7 507.8h0M1759.8 518.7h0M1734.7 493.3h0M1756.1 481.9h0M1731.4 521.3h0M1763.3 512.3h0M1760.7 518.5h0M1744.6 500.3h0M1743.5 524h0M1738.6 519.9h0M1765 505.3h0M1731.4 510h0M1737.2 526.9h0M1731.8 508h0M1734.2 531.3h0M1722.9 524.7h0M1764.8 512.8h0M1756.6 513.1h0M1773.8 486.3h0M1774.6 468.1h0M1732.6 502.8h0M1759.2 476.8h0M1762.4 516.3h0M1729.8 524.5h0M1762.5 487.1h0M1722.1 531.2h0M1722.3 522h0M1744.6 485.7h0M1738.3 525h0M1742.8 514.4h0M1755 507h0M1726.8 518.2h0M1731.3 502.1h0M1755.9 518h0M1721.3 531.7h0M1741.8 516h0M1782 473.3h0M1740 522.8h0M1764 510.1h0M1737.9 527.5h0M1747.6 531.1h0M1759.2 532.8h0M1749.2 513.7h0M1730.6 531.2h0M1760.8 516.6h0M1736.7 512.8h0M1749.9 504.6h0M1734 527.5h0M1755.8 471.9h0M1751.4 513.2h0M1755.4 521.8h0M1790 469.1h0M1738.9 497.7h0M1738.8 531.9h0M1730.2 523.5h0M1751 478.6h0M1777.9 487.2h0M1759.2 530.1h0M1731.5 520h0M1722.9 528h0M1740.4 515.1h0M1775.7 482.5h0M1737.5 532h0M1729.9 520.4h0M1732.8 525.8h0M1742.8 501.8h0M1730.2 530.4h0M1747.5 517.9h0M1751.3 526h0M1749.8 527.1h0M1733.2 508.4h0M1748.2 496.3h0M1750.5 512.8h0M1745.4 507.1h0M1753.4 532h0M1761.4 481h0M1736.7 510.4h0M1778 472.2h0M1756.1 526.8h0M1765.2 522.2h0M1731.1 515.9h0M1743.9 499.8h0M1755.6 498.3h0M1743 530.5h0M1759.8 482.6h0M1762.2 512.8h0M1744.4 517.7h0M1761.3 510.1h0M1725.3 527.5h0M1755.9 495.2h0M1760.2 523.9h0M1766.9 475.7h0M1770.4 485.1h0M1722.2 524.3h0M1759.5 503.2h0M1742.8 522h0M1735.7 511.1h0M1752.8 501.5h0M1726.9 520.5h0M1738.5 511.9h0M1736.9 499h0M1730.8 520.1h0M1747.6 519.5h0M1723.3 530.5h0M1732.1 515.9h0M1731 514.7h0M1743.4 530.7h0M1791.6 464.8h0M1741.3 514.2h0M1732.3 531.7h0M1762.4 523.5h0M1760.6 530.2h0M1742.3 516.2h0M1762.7 525.4h0M1745.4 528h0M1732.5 514.4h0M1763.3 526.8h0M1766 491.7h0M1756 471.1h0M1761.4 501h0M1740.9 526.7h0M1754.8 523h0M1749.3 528.7h0M1743.4 525.2h0M1760.1 521.1h0M1752.7 497h0M1746.4 502.4h0M1745.4 489.9h0M1750.1 512.5h0M1724.2 520.4h0M1748.2 528.6h0M1753.5 527.2h0M1765.6 514.7h0M1770.6 483.1h0M1724 521.1h0M1757.4 511.8h0M1767.1 465.6h0M1762.4 528.9h0M1751.6 497.5h0M1736.5 497.6h0M1753.7 512.5h0M1732.5 508.8h0M1747.3 529.6h0M1749.6 475.8h0M1724.1 533.4h0M1750.1 492.4h0M1766.7 517.3h0M1737.1 508.3h0M1728.1 501.2h0M1751.6 524.7h0M1722.6 528.5h0M1738.3 514h0M1754.4 530.7h0M1757.4 520.4h0M1752.1 517.8h0M1731.6 523h0M1758.1 517.4h0M1731.9 522.2h0M1726.5 519.2h0M1746.5 523.4h0M1750.6 512.4h0M1722.8 524.4h0M1734.7 532.8h0M1745.4 527.7h0M1754.2 525.3h0M1754.5 508.9h0M1753 497.9h0M1736 518.7h0M1753.7 531.8h0M1727.9 515h0M1781.7 463.6h0M1745.1 507.4h0M1762.8 529.9h0M1736.6 528.6h0M1741.9 530.1h0M1734.1 516.1h0M1775.5 464.3h0M1740.2 533.2h0M1749.8 533.4h0M1780.7 479.1h0M1748.7 532.2h0M1742.1 523.8h0M1734.9 524h0M1747.3 529.7h0M1761 531.1h0M1760.6 532.4h0M1662.3 533.6h0M1649 533.6h0M1730.3 533.6h0M1704 533.6h0M1733.3 533.6h0M1701.3 533.6h0M1716.3 533.6h0M1648.9 533.6h0M1721.6 533.6h0M1701.8 533.6h0M1757 533.6h0M1639.5 533.6h0M1647.2 533.6h0M1721.9 533.6h0M1752.6 533.6h0M1690.6 533.6h0M1726.1 533.6h0M1707.7 533.6h0M1686.8 533.6h0M1696 533.6h0M1712.7 533.6h0M1642.3 533.6h0M1676.3 533.6h0M1729.5 533.6h0M1670.5 533.6h0M1696.9 533.6h0M1670.3 533.6h0M1682.7 533.6h0M1718.7 533.6h0M1730.2 533.6h0M1756.4 533.6h0M1697.4 533.6h0M1663.7 533.6h0M1680.2 533.6h0M1646 533.6h0M1668.2 533.6h0M1710.6 533.6h0M1713.9 533.6h0M1668.5 533.6h0M1661.1 533.6h0M1650.8 533.6h0M1660.7 533.6h0M1700.4 533.6h0M1670.1 533.6h0M1747.4 533.6h0M1708.2 533.6h0M1680.6 533.6h0M1691.8 533.6h0M1643.7 533.6h0M1728.8 533.6h0M1731.1 533.6h0M1683.5 533.6h0M1727.9 533.6h0M1672.3 533.6h0M1665.8 533.6h0M1666.8 533.6h0M1662.9 533.6h0M1713.2 533.6h0M1717.7 533.6h0M1728.2 533.6h0M1651.5 533.6h0M1732.9 533.6h0M1697.6 533.6h0M1685.3 533.6h0M1700.6 533.6h0M1692 533.6h0M1663.4 533.6h0M1687.3 533.6h0M1718.2 533.6h0M1726.7 533.6h0" stroke="#000" stroke-width="9.4" stroke-linecap="round" fill="none"/>
<path d="M1537.2 418.7h0M1555.5 443.3h0M1575.5 453.2h0M1544.2 460.9h0M1557.2 461.6h0M1592.4 446.2h0M1597.7 438.8h0M1603 439.8h0M1595.9 443.3h0M1615.3 446.9h0M1599.5 463.8h0M1606.5 466.2h0M1608.3 472.2h0M1611.8 476.8h0M1593.5 475.7h0M1600.5 480.3h0M1598.8 490.9h0M1603 489.8h0M1613.5 501.4h0M1603 505.6h0M1593.5 520.1h0M1613.5 521.8h0M1524.9 517.9h0M1519.2 523.6h0" stroke="#0000ff" stroke-width="9.4" stroke-linecap="round" fill="none"/>
<path d="M1826.8 132.3h0M1902.8 235.7h0M1837 275.5h0M1933.4 273.4h0M1921.1 312.5h0M1869.3 328.3h0M1826.8 338.5h0M1826.1 341.3h0M1812.3 382.5h0M1832.7 397.6h0M1809.9 400.4h0M1825.7 415.2h0M1833.4 414.5h0M1839.4 416.3h0M1825.7 419.4h0M1814.1 438.8h0M1845.8 452.5h0M1807.8 463.8h0M1846.5 480.3h0M1839.1 501.1h0M1816.9 514.8h0M1819.4 518.6h0" stroke="#ff0000" stroke-width="9.4" stroke-linecap="round" fill="none"/>
<rect x="1455.9" y="116.1" width="508.4" height="432.8" fill="none" stroke="#000" stroke-width="1.3"/>
<line x1="1521.3" y1="548.9" x2="1521.3" y2="556.4" stroke="#000" stroke-width="1.3"/>
<text x="1517.3" y="587.5" font-size="26" text-anchor="middle" stroke-width="0.31">-2</text>
<line x1="1614.9" y1="548.9" x2="1614.9" y2="556.4" stroke="#000" stroke-width="1.3"/>
<text x="1610.9" y="587.5" font-size="26" text-anchor="middle" stroke-width="0.31">-1</text>
<line x1="1709.2" y1="548.9" x2="1709.2" y2="556.4" stroke="#000" stroke-width="1.3"/>
<text x="1709.2" y="587.5" font-size="26" text-anchor="middle" stroke-width="0.31">0</text>
<line x1="1802.5" y1="548.9" x2="1802.5" y2="556.4" stroke="#000" stroke-width="1.3"/>
<text x="1802.5" y="587.5" font-size="26" text-anchor="middle" stroke-width="0.31">1</text>
<line x1="1897.5" y1="548.9" x2="1897.5" y2="556.4" stroke="#000" stroke-width="1.3"/>
<text x="1897.5" y="587.5" font-size="26" text-anchor="middle" stroke-width="0.31">2</text>
<line x1="1448.4" y1="533.1" x2="1455.9" y2="533.1" stroke="#000" stroke-width="1.3"/>
<text x="1433" y="533.1" font-size="26" text-anchor="middle" transform="rotate(-90 1433 533.1)" stroke-width="0.31">0</text>
<line x1="1448.4" y1="463.1" x2="1455.9" y2="463.1" stroke="#000" stroke-width="1.3"/>
<text x="1433" y="463.1" font-size="26" text-anchor="middle" transform="rotate(-90 1433 463.1)" stroke-width="0.31">20</text>
<line x1="1448.4" y1="393.4" x2="1455.9" y2="393.4" stroke="#000" stroke-width="1.3"/>
<text x="1433" y="393.4" font-size="26" text-anchor="middle" transform="rotate(-90 1433 393.4)" stroke-width="0.31">40</text>
<line x1="1448.4" y1="323.7" x2="1455.9" y2="323.7" stroke="#000" stroke-width="1.3"/>
<text x="1433" y="323.7" font-size="26" text-anchor="middle" transform="rotate(-90 1433 323.7)" stroke-width="0.31">60</text>
<line x1="1448.4" y1="254" x2="1455.9" y2="254" stroke="#000" stroke-width="1.3"/>
<text x="1433" y="254" font-size="26" text-anchor="middle" transform="rotate(-90 1433 254)" stroke-width="0.31">80</text>
<line x1="1448.4" y1="184" x2="1455.9" y2="184" stroke="#000" stroke-width="1.3"/>
<text x="1433" y="184" font-size="26" text-anchor="middle" transform="rotate(-90 1433 184)" stroke-width="0.31">100</text>
<text x="1709.5" y="635.5" font-size="33.5" stroke-width=".4" text-anchor="middle">Log<tspan font-size="22" dy="10.5">2</tspan><tspan dy="-10.5"> Fold change</tspan></text>
<text x="1381" y="334" font-size="33" stroke-width=".4" text-anchor="middle" transform="rotate(-90 1381 334)">-Log<tspan font-size="21" dy="10.5">10</tspan><tspan dy="-10.5"> p value</tspan></text>
<text x="1470.5" y="102" font-size="31.5" stroke-width="0.38">ILC3_SI</text>
<text x="1817" y="100.3" font-size="31.5" stroke-width="0.38">ILC3_Lung</text>
<text x="1841.2" y="132.7" font-size="16.2" font-style="italic">Anxa1</text>
<text x="1875" y="249.8" font-size="16.2" font-style="italic">Ramp1</text>
<text x="1812.3" y="322.7" font-size="16.2" font-style="italic">Cd4</text>
<text x="1878.1" y="339.5" font-size="16.2" font-style="italic">Cd36</text>
<text x="1530.8" y="402.9" font-size="16.2" font-style="italic">Rora</text>
<text x="1556.2" y="427.5" font-size="16.2" font-style="italic">Cxcr6</text>
<text x="1510.4" y="442.6" font-size="16.2" font-style="italic">Ffar2</text>
<text x="1767.3" y="396.9" font-size="16.2" font-style="italic">Ccr6</text>
<text x="1854.6" y="396.9" font-size="16.2" font-style="italic">S100a4</text>
<text x="1827.1" y="438.1" font-size="16.2" font-style="italic">Ly6a</text>
<text x="1539.6" y="479.2" font-size="16.2" font-style="italic">Arrdc4</text>
<text x="1543.2" y="500.4" font-size="16.2" font-style="italic">Stat5b</text>
<text x="1544.9" y="517.2" font-size="16.2" font-style="italic">Stat5a</text>
<text x="1858.1" y="485.6" font-size="16.2" font-style="italic">Tnfsf8</text>
<text x="1852.8" y="508.4" font-size="16.2" font-style="italic">H2-Eb1</text>
<text x="1831" y="529.6" font-size="16.2" font-style="italic">H2-Ab1</text>
<text x="1351" y="45" font-size="57.5" stroke-width="0.69">c</text></g>
<g id="pd"><rect x="290.3" y="885.7" width="325.8" height="7.8" fill="#f16506"/>
<line x1="269" y1="889.6" x2="273" y2="889.6" stroke="#000" stroke-width="1.2"/>
<text x="266.4" y="891.8" font-size="13.6" text-anchor="end">Collagen-containing extracellular matrix</text>
<rect x="290.3" y="902.6" width="325.8" height="7.8" fill="#f16506"/>
<line x1="269" y1="906.5" x2="273" y2="906.5" stroke="#000" stroke-width="1.2"/>
<text x="266.4" y="909.7" font-size="13.6" text-anchor="end">Extracellular matrix</text>
<rect x="290.3" y="919.9" width="325.8" height="7.8" fill="#f16506"/>
<line x1="269" y1="923.8" x2="273" y2="923.8" stroke="#000" stroke-width="1.2"/>
<text x="266.4" y="927.4" font-size="13.6" text-anchor="end">Leukocyte cell-cell adhesion</text>
<rect x="290.3" y="937.5" width="325.8" height="7.8" fill="#f16506"/>
<line x1="269" y1="941.4" x2="273" y2="941.4" stroke="#000" stroke-width="1.2"/>
<text x="268.4" y="944.6" font-size="13.6" text-anchor="end">Granulocyte chemotaxis</text>
<rect x="290.3" y="955.4" width="261.1" height="7.8" fill="#f16506"/>
<line x1="269" y1="959.3" x2="273" y2="959.3" stroke="#000" stroke-width="1.2"/>
<text x="268.4" y="960.5" font-size="13.6" text-anchor="end">Granulocyte migration</text>
<rect x="290.3" y="973" width="261.1" height="7.8" fill="#f16506"/>
<line x1="269" y1="976.9" x2="273" y2="976.9" stroke="#000" stroke-width="1.2"/>
<text x="268.4" y="978.1" font-size="13.6" text-anchor="end">Leukocyte migration</text>
<rect x="290.3" y="989.9" width="261.1" height="7.8" fill="#f16506"/>
<line x1="269" y1="993.8" x2="273" y2="993.8" stroke="#000" stroke-width="1.2"/>
<text x="268.4" y="996" font-size="13.6" text-anchor="end">T cell activation</text>
<rect x="290.3" y="1007.5" width="196.3" height="7.8" fill="#f16506"/>
<line x1="269" y1="1011.4" x2="273" y2="1011.4" stroke="#000" stroke-width="1.2"/>
<text x="268.4" y="1013.9" font-size="13.6" text-anchor="end">Cell activation involved in immune response</text>
<rect x="290.3" y="1024.7" width="325.8" height="7.8" fill="#0b7d2c"/>
<line x1="269" y1="1028.6" x2="273" y2="1028.6" stroke="#000" stroke-width="1.2"/>
<text x="266.4" y="1032.9" font-size="13.6" text-anchor="end">ERK1 and ERK2 cascade</text>
<rect x="290.3" y="1042" width="325.8" height="7.8" fill="#0b7d2c"/>
<line x1="269" y1="1045.9" x2="273" y2="1045.9" stroke="#000" stroke-width="1.2"/>
<text x="266.4" y="1050.9" font-size="13.6" text-anchor="end">Myeloid cell differentiation</text>
<rect x="290.3" y="1059.6" width="301.2" height="7.8" fill="#0b7d2c"/>
<line x1="269" y1="1063.5" x2="273" y2="1063.5" stroke="#000" stroke-width="1.2"/>
<text x="268.4" y="1067.5" font-size="13.6" text-anchor="end">Regulation of ERK1 and ERK2 cascade</text>
<rect x="290.3" y="1077.1" width="301.2" height="7.8" fill="#0b7d2c"/>
<line x1="269" y1="1081" x2="273" y2="1081" stroke="#000" stroke-width="1.2"/>
<text x="265.4" y="1085" font-size="13.6" text-anchor="end">Tissue homeostasis</text>
<rect x="290.3" y="1094.7" width="301.2" height="7.8" fill="#0b7d2c"/>
<line x1="269" y1="1098.6" x2="273" y2="1098.6" stroke="#000" stroke-width="1.2"/>
<text x="265.4" y="1101.5" font-size="13.6" text-anchor="end">Regulation of calcium ion concentration</text>
<rect x="290.3" y="1113" width="272.7" height="7.8" fill="#0b7d2c"/>
<line x1="269" y1="1116.9" x2="273" y2="1116.9" stroke="#000" stroke-width="1.2"/>
<text x="266.4" y="1120.1" font-size="13.6" text-anchor="end">Positive regulation of MAP kinase activity</text>
<rect x="290.3" y="1131" width="272.7" height="7.8" fill="#0b7d2c"/>
<line x1="269" y1="1134.9" x2="273" y2="1134.9" stroke="#000" stroke-width="1.2"/>
<text x="265.4" y="1138.1" font-size="13.6" text-anchor="end">Tissue remodeling</text>
<rect x="290.3" y="1148.9" width="272.7" height="7.8" fill="#0b7d2c"/>
<line x1="269" y1="1152.8" x2="273" y2="1152.8" stroke="#000" stroke-width="1.2"/>
<text x="266.4" y="1154.7" font-size="13.6" text-anchor="end">Calcium ion homeostasis</text>
<rect x="273" y="879.4" width="359" height="287.5" fill="none" stroke="#000" stroke-width="1.3"/>
<text x="452" y="1214" font-size="42" text-anchor="middle" stroke-width="0.50">ILC1</text>
<text x="21" y="833" font-size="57.5" stroke-width="0.69">d</text>
<rect x="161.2" y="794.6" width="39.4" height="16.9" fill="#f16506"/>
<rect x="161.2" y="832.6" width="39.4" height="16.2" fill="#0b7d2c"/>
<text x="216.4" y="812.2" font-size="26" stroke-width="0.31">Lung Up-regulated</text>
<text x="216.4" y="856.2" font-size="26" stroke-width="0.31">SI Up-regulated</text></g>
<g id="pe"><rect x="1000.4" y="880.1" width="327.8" height="8.2" fill="#f16506"/>
<line x1="979.4" y1="884.2" x2="983.4" y2="884.2" stroke="#000" stroke-width="1.2"/>
<text x="977.7" y="884.9" font-size="13.6" text-anchor="end">T cell activation</text>
<rect x="1000.4" y="897.1" width="327.8" height="8.2" fill="#f16506"/>
<line x1="979.4" y1="901.2" x2="983.4" y2="901.2" stroke="#000" stroke-width="1.2"/>
<text x="977.7" y="903.1" font-size="13.6" text-anchor="end">Extracellular matrix</text>
<rect x="1000.4" y="914.1" width="262.8" height="8.2" fill="#f16506"/>
<line x1="979.4" y1="918.2" x2="983.4" y2="918.2" stroke="#000" stroke-width="1.2"/>
<text x="977.7" y="920.8" font-size="13.6" text-anchor="end">Lymphocyte differentiation</text>
<rect x="1000.4" y="931.2" width="262.8" height="8.2" fill="#f16506"/>
<line x1="979.4" y1="935.3" x2="983.4" y2="935.3" stroke="#000" stroke-width="1.2"/>
<text x="977.7" y="938.3" font-size="13.6" text-anchor="end">Positive regulation of cell activation</text>
<rect x="1000.4" y="948.6" width="262.8" height="8.2" fill="#f16506"/>
<line x1="979.4" y1="952.7" x2="983.4" y2="952.7" stroke="#000" stroke-width="1.2"/>
<text x="977.7" y="955.7" font-size="13.6" text-anchor="end">Collagen-containing extracellular matrix</text>
<rect x="1000.4" y="965.2" width="262.8" height="8.2" fill="#f16506"/>
<line x1="979.4" y1="969.3" x2="983.4" y2="969.3" stroke="#000" stroke-width="1.2"/>
<text x="977.7" y="972.7" font-size="13.6" text-anchor="end">Negative regulation of neuron projection development</text>
<rect x="1000.4" y="984.1" width="197.4" height="8.2" fill="#f16506"/>
<line x1="979.4" y1="988.2" x2="983.4" y2="988.2" stroke="#000" stroke-width="1.2"/>
<text x="977.7" y="990.5" font-size="13.6" text-anchor="end">G protein-coupled peptide receptor activity</text>
<rect x="1000.4" y="1001.5" width="197.4" height="8.2" fill="#f16506"/>
<line x1="979.4" y1="1005.6" x2="983.4" y2="1005.6" stroke="#000" stroke-width="1.2"/>
<text x="977.7" y="1008.2" font-size="13.6" text-anchor="end">Peptide receptor activity</text>
<rect x="1000.4" y="1019.3" width="327.8" height="8.2" fill="#0b7d2c"/>
<line x1="979.4" y1="1023.4" x2="983.4" y2="1023.4" stroke="#000" stroke-width="1.2"/>
<text x="977.7" y="1026" font-size="13.6" text-anchor="end">Positive regulation of cytokine production</text>
<rect x="1000.4" y="1037.4" width="302.9" height="8.2" fill="#0b7d2c"/>
<line x1="979.4" y1="1041.5" x2="983.4" y2="1041.5" stroke="#000" stroke-width="1.2"/>
<text x="977.7" y="1043" font-size="13.6" text-anchor="end">Intrinsic apoptotic signaling pathway</text>
<rect x="1000.4" y="1054.8" width="302.9" height="8.2" fill="#0b7d2c"/>
<line x1="979.4" y1="1058.9" x2="983.4" y2="1058.9" stroke="#000" stroke-width="1.2"/>
<text x="977.7" y="1061.2" font-size="13.6" text-anchor="end">Positive regulation of kinase activity</text>
<rect x="1000.4" y="1072.2" width="277.2" height="8.2" fill="#0b7d2c"/>
<line x1="979.4" y1="1076.3" x2="983.4" y2="1076.3" stroke="#000" stroke-width="1.2"/>
<text x="977.7" y="1078.2" font-size="13.6" text-anchor="end">Cellular calcium ion homeostasis</text>
<rect x="1000.4" y="1090.7" width="277.2" height="8.2" fill="#0b7d2c"/>
<line x1="979.4" y1="1094.8" x2="983.4" y2="1094.8" stroke="#000" stroke-width="1.2"/>
<text x="977.7" y="1096.3" font-size="13.6" text-anchor="end">Ubiquitin protein ligase binding</text>
<rect x="1000.4" y="1107.8" width="252.2" height="8.2" fill="#0b7d2c"/>
<line x1="979.4" y1="1111.9" x2="983.4" y2="1111.9" stroke="#000" stroke-width="1.2"/>
<text x="977.7" y="1114.5" font-size="13.6" text-anchor="end">Regulation of protein ubiquitination</text>
<rect x="1000.4" y="1125.1" width="252.2" height="8.2" fill="#0b7d2c"/>
<line x1="979.4" y1="1129.2" x2="983.4" y2="1129.2" stroke="#000" stroke-width="1.2"/>
<text x="977.7" y="1130.7" font-size="13.6" text-anchor="end">Positive regulation of kinase activity</text>
<rect x="1000.4" y="1142.5" width="227.3" height="8.2" fill="#0b7d2c"/>
<line x1="979.4" y1="1146.6" x2="983.4" y2="1146.6" stroke="#000" stroke-width="1.2"/>
<text x="977.7" y="1148.5" font-size="13.6" text-anchor="end">Transcription factor complex</text>
<rect x="983.4" y="873.2" width="360.3" height="287.1" fill="none" stroke="#000" stroke-width="1.3"/>
<text x="1157.5" y="1206.8" font-size="43.3" text-anchor="middle" stroke-width="0.52">ILC2</text>
<text x="736" y="832.5" font-size="57.5" stroke-width="0.69">e</text></g>
<g id="pf"><rect x="1643.8" y="878.2" width="334.2" height="8.1" fill="#f16506"/>
<line x1="1620.8" y1="882.2" x2="1624.8" y2="882.2" stroke="#000" stroke-width="1.2"/>
<text x="1620" y="885.4" font-size="14" text-anchor="end">Ribosome</text>
<rect x="1643.8" y="894.8" width="312.4" height="8.1" fill="#f16506"/>
<line x1="1620.8" y1="898.8" x2="1624.8" y2="898.8" stroke="#000" stroke-width="1.2"/>
<text x="1617" y="903.1" font-size="14" text-anchor="end">Regulation of cell-cell adhesion</text>
<rect x="1643.8" y="912.4" width="312.4" height="8.1" fill="#f16506"/>
<line x1="1620.8" y1="916.4" x2="1624.8" y2="916.4" stroke="#000" stroke-width="1.2"/>
<text x="1620" y="921" font-size="14" text-anchor="end">Extracellular matrix</text>
<rect x="1643.8" y="930" width="312.4" height="8.1" fill="#f16506"/>
<line x1="1620.8" y1="934" x2="1624.8" y2="934" stroke="#000" stroke-width="1.2"/>
<text x="1620" y="937.2" font-size="14" text-anchor="end">Positive regulation of cell-cell adhesion</text>
<rect x="1643.8" y="946.5" width="290.6" height="8.1" fill="#f16506"/>
<line x1="1620.8" y1="950.5" x2="1624.8" y2="950.5" stroke="#000" stroke-width="1.2"/>
<text x="1620" y="955.8" font-size="14" text-anchor="end">Leukocyte proliferation</text>
<rect x="1643.8" y="965.2" width="290.6" height="8.1" fill="#f16506"/>
<line x1="1620.8" y1="969.2" x2="1624.8" y2="969.2" stroke="#000" stroke-width="1.2"/>
<text x="1618.5" y="974.5" font-size="14" text-anchor="end">Cell activation in immune response</text>
<rect x="1643.8" y="983.5" width="245.9" height="8.1" fill="#f16506"/>
<line x1="1620.8" y1="987.5" x2="1624.8" y2="987.5" stroke="#000" stroke-width="1.2"/>
<text x="1615.5" y="991.4" font-size="14" text-anchor="end">Regulation of homeostasis</text>
<rect x="1643.8" y="1001.8" width="222.4" height="8.1" fill="#f16506"/>
<line x1="1620.8" y1="1005.8" x2="1624.8" y2="1005.8" stroke="#000" stroke-width="1.2"/>
<text x="1617.5" y="1010.4" font-size="14" text-anchor="end">Collagen-containing extracellular matrix</text>
<rect x="1643.8" y="1017.9" width="334.2" height="8.1" fill="#0b7d2c"/>
<line x1="1620.8" y1="1021.9" x2="1624.8" y2="1021.9" stroke="#000" stroke-width="1.2"/>
<text x="1616" y="1028.6" font-size="14" text-anchor="end">Positive regulation of cell activation</text>
<rect x="1643.8" y="1036.2" width="292.7" height="8.1" fill="#0b7d2c"/>
<line x1="1620.8" y1="1040.2" x2="1624.8" y2="1040.2" stroke="#000" stroke-width="1.2"/>
<text x="1616.5" y="1046.2" font-size="14" text-anchor="end">Lymphocyte differentiation</text>
<rect x="1643.8" y="1055.9" width="271.6" height="8.1" fill="#0b7d2c"/>
<line x1="1620.8" y1="1059.9" x2="1624.8" y2="1059.9" stroke="#000" stroke-width="1.2"/>
<text x="1617" y="1065.6" font-size="14" text-anchor="end">Maintenance of location</text>
<rect x="1643.8" y="1073.9" width="271.6" height="8.1" fill="#0b7d2c"/>
<line x1="1620.8" y1="1077.9" x2="1624.8" y2="1077.9" stroke="#000" stroke-width="1.2"/>
<text x="1617.5" y="1082.5" font-size="14" text-anchor="end">Reproductive system development</text>
<rect x="1643.8" y="1092.2" width="250.9" height="8.1" fill="#0b7d2c"/>
<line x1="1620.8" y1="1096.2" x2="1624.8" y2="1096.2" stroke="#000" stroke-width="1.2"/>
<text x="1620" y="1098.3" font-size="14" text-anchor="end">Heat shock protein binding</text>
<rect x="1643.8" y="1109" width="250.9" height="8.1" fill="#0b7d2c"/>
<line x1="1620.8" y1="1113.1" x2="1624.8" y2="1113.1" stroke="#000" stroke-width="1.2"/>
<text x="1619.5" y="1116.6" font-size="14" text-anchor="end">Lipid storage</text>
<rect x="1643.8" y="1127.7" width="250.9" height="8.1" fill="#0b7d2c"/>
<line x1="1620.8" y1="1131.7" x2="1624.8" y2="1131.7" stroke="#000" stroke-width="1.2"/>
<text x="1618" y="1134.9" font-size="14" text-anchor="end">Chromatin remodeling</text>
<rect x="1643.8" y="1144.2" width="230.1" height="8.1" fill="#0b7d2c"/>
<line x1="1620.8" y1="1148.3" x2="1624.8" y2="1148.3" stroke="#000" stroke-width="1.2"/>
<text x="1617.5" y="1152.9" font-size="14" text-anchor="end">GTP binding</text>
<rect x="1624.8" y="872" width="368.7" height="292.1" fill="none" stroke="#000" stroke-width="1.3"/>
<text x="1831" y="1206.3" font-size="43" text-anchor="middle" stroke-width="0.52">ILC3</text>
<text x="1441.5" y="832.5" font-size="57.5" stroke-width="0.69">f</text></g>
<g id="pg"><g transform="translate(61 1384.5)" fill="none" stroke-linecap="round"><g stroke-width="4.2"><g id="t100">
<path stroke="#4575b4" d="m90 75h0m11 1h0m15 2h0m-5 3h0m-39 2h0m81 7h0m-5 3h0m-4 2h0m-50-2h0m-7 0h0m-38 2h0m56 1h0m40 2h0m3 9h0m-6 0h0m-14-5h0m-3 1h0m-36 0h0m-46 8h0m11-1h0m18 1h0m50 0h0m43 0h0m0 8h0m-23-3h0m-6 2h0m-69-3h0m-4 1h0m-13 3h0m0 5h0m21-3h0m17 1h0m2 0h0m9 0h0m18 3h0m2-3h0m27 2h0m25-4h0m-46 11h0m-1-5h0m0 3h0m-5 0h0m-2-2h0m0 2h0m-27-1h0m-5 0h0m0 2h0m-2-4h0m-11 0h0m-1 2h0m-11-2h0m-7 9h0m1 2h0m20-2h0m5 2h0m2 0h0m1-3h0m3 0h0m1 0h0m2 2h0m1 0h0m28-4h0m3 2h0m7-1h0m31 3h0m11-4h0m4 0h0m-6 10h0m-3 1h0m-12-3h0m-7-1h0m0 3h0m-3-2h0m-2-2h0m-5 3h0m-9 2h0m-2-4h0m-1 3h0m-1-1h0m-4 2h0m0-5h0m-4 4h0m-4-4h0m-17 5h0m-3-1h0m0 0h0m-5 0h0m-3-1h0m-8-3h0m-2 4h0m-2-1h0m-2-2h0m-4 4h0m-18 0h0m-2-5h0m-8 6h0m4 4h0m12-4h0m1 0h0m4 3h0m0-3h0m4 2h0m4-2h0m8 0h0m8 1h0m1 3h0m1 1h0m4-1h0m5-1h0m1-3h0m7 4h0m14-3h0m1 0h0m1 0h0m0 2h0m1 0h0m0 1h0m1 1h0m3-4h0m0 1h0m0-1h0m1 1h0m1 0h0m12 0h0m1 2h0m14-2h0m65 9h0m-40-4h0m-36-1h0m-1 0h0m-6 1h0m-2 2h0m-1 2h0m-2-3h0m0 1h0m-5 2h0m-3 0h0m-1-3h0m-2-2h0m-27 0h0m-2 0h0m-2 0h0m-2 2h0m-4-1h0m-29-1h0m-9 4h0m-3-4h0m-10 4h0m-13 4h0m15-1h0m30 3h0m1-1h0m2-2h0m0 2h0m55 2h0m7-5h0m3 0h0m3 2h0m1-1h0m3 3h0m5-4h0m52 5h0m7-2h0m9 2h0m-10 6h0m-10-2h0m-31 1h0m-22-3h0m-3 0h0m-2 2h0m-2 2h0m-19-1h0m-28-2h0m-10 4h0m28 1h0m46 4h0m6 0h0m2-2h0m1 1h0m1-1h0m3 1h0m1-1h0m0 2h0m3 5h0m-1 0h0m-1-4h0m0 5h0m-1-4h0m0 2h0m-1-3h0m0 3h0m-1-1h0m-1-2h0m0 0h0m-1 3h0m-2-3h0m0 1h0m-1 3h0m0 0h0m-1 0h0m-1-4h0m0 3h0m-1 2h0m0-4h0m0 3h0m-1-4h0m-2 2h0m-1-1h0m0 0h0m0 3h0m-1-4h0m0 0h0m-2 3h0m-1 2h0m-1 0h0m-1 0h0m0-3h0m-1 0h0m-3 0h0m0 0h0m-1 1h0m-6 1h0m-21 6h0m0 0h0m1-1h0m0 1h0m1-4h0m1 2h0m0 3h0m0-3h0m2 3h0m0-2h0m1-1h0m1 3h0m2 0h0m1 0h0m1-3h0m1 1h0m0 2h0m1-1h0m1-3h0m0 3h0m0-1h0m0 2h0m2-5h0m1 5h0m0-5h0m0 4h0m2-2h0m0-2h0m1 4h0m1-4h0m0 2h0m0 1h0m0-1h0m1-1h0m1-1h0m1 1h0m0 3h0m0-4h0m2 2h0m1 0h0m3-1h0m0 0h0m4 1h0m1-2h0m0 1h0m1 2h0m1-2h0m2 3h0m3-3h0m0 2h0m1-2h0m2 4h0m1-1h0m1-3h0m1 0h0m1 2h0m1-1h0m2 2h0m0 0h0m4-3h0m1 4h0m0-2h0m5 6h0m-3-2h0m0 1h0m-1 2h0m-2-1h0m-1-2h0m-2 0h0m-2 4h0m-4-5h0m-1 4h0m-1-3h0m-5 0h0m-1 0h0m0 0h0m0 2h0m-1 2h0m0-4h0m0 0h0m-2 1h0m-1-2h0m-2 2h0m0-2h0m-1 4h0m-3-1h0m0 1h0m0-1h0m-2 0h0m0 1h0m-1-3h0m-1 1h0m-1-1h0m0 2h0m0-1h0m-6 3h0m-1-5h0m0 2h0m0 1h0m0 0h0m-1-1h0m-4 1h0m0-3h0m-1 0h0m0 1h0m0 1h0m-1-2h0m0 3h0m-1 1h0m0-1h0m-1 1h0m0-3h0m0 3h0m0 0h0m0-4h0m0 1h0m0 1h0m0-1h0m-2 4h0m0-5h0m0 2h0m0 3h0m-2-2h0m-1-1h0m0-2h0m0 4h0m-1 1h0m0 0h0m0-2h0m0-3h0m-1 2h0m0-1h0m0 0h0m0 2h0m-1 0h0m0-2h0m-1-1h0m-1 0h0m-1 5h0m-34-2h0m-2-1h0m-4 2h0m0-2h0m-1 0h0m0-1h0m-1 3h0m-2-3h0m0-1h0m-2 3h0m0 0h0m0-3h0m-1 3h0m0-1h0m-1 0h0m-1-1h0m-1 3h0m-1-1h0m-1-1h0m-1 0h0m-1 1h0m-2 1h0m-21 7h0m2 0h0m2 0h0m3 0h0m0-1h0m1-1h0m3-1h0m3-2h0m2 5h0m0-4h0m1 3h0m0-4h0m1 3h0m0 1h0m0-2h0m1-2h0m0 5h0m2-1h0m0-1h0m0 1h0m4-1h0m0 1h0m0-2h0m0 0h0m1-2h0m1 1h0m1 2h0m0-3h0m1 1h0m1 3h0m2 0h0m1 1h0m4-5h0m1 0h0m5 5h0m0-3h0m0 3h0m27 0h0m3-2h0m0 1h0m0 0h0m2-2h0m0 0h0m0 2h0m2-1h0m0 1h0m3 1h0m1 0h0m0-1h0m0-3h0m1-1h0m0 2h0m2 0h0m0 1h0m1-2h0m0 0h0m1 3h0m0-3h0m1-1h0m3 5h0m1-4h0m2-1h0m1 3h0m0-2h0m0 3h0m1-1h0m5 0h0m0 1h0m1-2h0m1-1h0m1 3h0m0 1h0m1-4h0m0 2h0m0-1h0m1 1h0m3 1h0m1-3h0m0 1h0m0 3h0m1-3h0m0 2h0m2-1h0m1-2h0m1 3h0m0-3h0m2-1h0m1 2h0m2 3h0m1-1h0m3-3h0m1 2h0m5-3h0m0 5h0m4-4h0m2 0h0m8 0h0m0 6h0m-14-1h0m-9 3h0m-3-3h0m-2 0h0m-13 1h0m-1 3h0m-2-2h0m-2-2h0m-1 0h0m-1 2h0m-1 1h0m-2-1h0m0 0h0m-3 2h0m0 0h0m-3-3h0m-1 0h0m-3 0h0m0 0h0m0 4h0m-1-1h0m-1 0h0m0 1h0m0-2h0m-1 2h0m-3-3h0m-2-2h0m-1 1h0m0 4h0m0-5h0m-1 0h0m-2 2h0m0 0h0m-23 3h0m-1-2h0m-1 2h0m-1-5h0m-6 5h0m-1-5h0m0 4h0m-1-3h0m-8 1h0m-1-2h0m-1 4h0m0-4h0m-1 1h0m-1 3h0m0 1h0m-2-1h0m-2-2h0m-2 2h0m0 0h0m-4-2h0m-1 2h0m0-1h0m-4-2h0m0-1h0m-2 4h0m0 1h0m-1-5h0m-3 1h0m0 0h0m-1 0h0m0 4h0m0-4h0m-2 0h0m-1 4h0m-2-1h0m-1 0h0m7 5h0m0 0h0m3-3h0m3 1h0m0 2h0m0-1h0m3-2h0m1 1h0m0 1h0m1 0h0m2-2h0m1 0h0m0 0h0m1 2h0m1 3h0m1-3h0m0-1h0m1 2h0m1-3h0m0 1h0m3 1h0m0 2h0m0-3h0m3 2h0m0 1h0m1-2h0m1 2h0m2-2h0m3 1h0m0-2h0m0-1h0m0 3h0m1-3h0m4 5h0m2-2h0m1-3h0m1 1h0m2 4h0m1-1h0m1-4h0m1 1h0m0-1h0m2 2h0m19 2h0m2-1h0m1 0h0m1-3h0m0 2h0m1 3h0m0 0h0m0-5h0m1 3h0m1 1h0m0-3h0m2 3h0m0-3h0m0 2h0m3-1h0m0 3h0m0-1h0m0-3h0m1 3h0m0 0h0m1 0h0m1-2h0m1 1h0m1-3h0m3 5h0m2 0h0m0-4h0m4 2h0m3 1h0m1-3h0m0 2h0m0 1h0m5 1h0m8-2h0m3-1h0m1 3h0m8-3h0m6 2h0m4-2h0m-6 4h0m-1 3h0m-3-2h0m-1 0h0m-7 0h0m-1 4h0m-1-5h0m0 3h0m-3 1h0m-1-3h0m-1 1h0m-9-2h0m0 3h0m-1 2h0m-1-4h0m0 1h0m-4 2h0m-1-4h0m-1 1h0m-1 2h0m-1-1h0m0-2h0m-1 4h0m0-3h0m-1 3h0m0-3h0m-1 2h0m0-2h0m-2 0h0m-4 3h0m-1-1h0m0 0h0m-1 2h0m-1-3h0m0 0h0m0-1h0m-2 0h0m0 0h0m0 0h0m-1 1h0m-1 2h0m-3 1h0m0-5h0m0 4h0m-1 0h0m-2-3h0m-2-1h0m0 5h0m-24-4h0m0 2h0m-2 0h0m-2 0h0m-1 0h0m0 2h0m-1 0h0m-2-5h0m-1 3h0m-1-3h0m0 5h0m-1-2h0m-1-2h0m0 4h0m-1-4h0m-1 0h0m0 1h0m-1-1h0m-1 3h0m-1-4h0m0 5h0m-1-2h0m0 2h0m-1-1h0m0-1h0m0-3h0m0 5h0m0-1h0m1 3h0m1-1h0m1 0h0m2 1h0m0 2h0m2-2h0m0 0h0m1 2h0m2-1h0m3 0h0m30 0h0m1-1h0m1 0h0m0 3h0m1 1h0m0-5h0m1 4h0m3-4h0m0 5h0m3-4h0m2 4h0m2-5h0m4 4h0m1-3h0m0 4h0m1-4h0m1-1h0m0 1h0m4 4h0m1-2h0m2-2h0m4-1h0m2 0h0m4 4h0m5-3h0m1-1h0m1 2h0m0 1h0m1-2h0m7 1h0m6 1h0m0-2h0m2 1h0m1 2h0m3-4h0m0 5h0m4-5h0m-5 10h0m-3-4h0m-1 0h0m0 0h0m-1 4h0m-1-4h0m-1 3h0m0-3h0m-1 0h0m-1 1h0m-3-1h0m0 2h0m-2-2h0m-2 0h0m0 3h0m-2 0h0m-3-2h0m-1 2h0m-1 0h0m0 0h0m-5-2h0m-1 4h0m-1-4h0m-3 4h0m-1-5h0m0 5h0m0-5h0m-5 4h0m0 1h0m-1-2h0m-2 1h0m-2-3h0m-1-1h0m-2 4h0m0-1h0m-2-2h0m0 2h0m0-2h0m-2 3h0m-4-1h0m-1-1h0m-6-1h0m-1-1h0m-1 5h0m0 0h0m-1-2h0m-1 2h0m-39-3h0m39 8h0m0 0h0m1-4h0m4 1h0m1 2h0m1 1h0m5 0h0m0-3h0m2-1h0m0 5h0m2 0h0m1 0h0m0-4h0m2 1h0m0-2h0m3 0h0m1 4h0m1-1h0m0-3h0m0 0h0m1 4h0m0 1h0m0 0h0m2-4h0m0 1h0m5 3h0m1-3h0m0-2h0m4 0h0m4 4h0m1-4h0m5 5h0m1 0h0m1-5h0m0 1h0m4 0h0m2 1h0m0-2h0m2 2h0m-10 4h0m-7 0h0m-2 0h0m-6 5h0m-1-5h0m-1 3h0m0 2h0m-1-5h0m0 4h0m-2-1h0m0-1h0m-3-2h0m-1 2h0m-2 2h0m-2-4h0m0 0h0m-1 1h0m0 2h0m0-3h0m-5 4h0m0-4h0m-1 5h0m0-3h0m-2 1h0m-1 0h0m-4 1h0m-1-3h0m-2 3h0m-1-4h0m-1 1h0m5 8h0m4 1h0m2-4h0m2 5h0m5-5h0m2 0h0m0 5h0m1-1h0m2-4h0m4 1h0m3 4h0m1-4h0m3 1h0m-7 4h0m-1 0h0m-3 4h0m-2 0h0m-1 0h0m-1-1h0m-2-2h0m-1-1h0m-1 2h0m-2-2h0"/>
<path stroke="#649ac7" d="m112 134h0m18 20h0m-97 40h0m82 3h0m17-1h0m-88 10h0m102 0h0m-1 20h0m-44 16h0m10 7h0"/>
<path stroke="#86bcd9" d="m111 136h0m-28 8h0m39 3h0m9 3h0m-11 0h0m2 10h0m1-2h0m10 2h0m3-2h0m-2 9h0m-7-5h0m7 20h0m17 9h0m-6-5h0m-11 2h0m-98 9h0m5-1h0m84-1h0m17 2h0m-5 3h0m-20 1h0m-68-1h0m-8 1h0m7 4h0m2 4h0m52-1h0m3-4h0m10 1h0m9 4h0m16-4h0m-31 5h0m-48 5h0m36 4h0m36-1h0m1-1h0m2-1h0m1 3h0m20 8h0m-5-4h0m-3-1h0m-2 5h0m-20-4h0m-24 6h0m14 1h0m13-1h0m24-1h0m-21 7h0m-17 4h0m-1 0h0m-1-5h0m-6 13h0"/>
<path stroke="#abd9e9" d="m81 133h0m57 5h0m-13 5h0m-4-4h0m-6 2h0m-3 1h0m-20 0h0m-13-3h0m-6 4h0m-14 4h0m24 2h0m50 5h0m-3 1h0m-14-4h0m-33-1h0m-3 1h0m39 6h0m0 2h0m1-1h0m2-1h0m10 8h0m-5 2h0m-1-3h0m-2 0h0m-2 0h0m-2 2h0m-1-3h0m-3-1h0m46 14h0m-10-2h0m-28 9h0m6-3h0m15 2h0m19 2h0m-1 3h0m-19 0h0m-9 3h0m-9-3h0m-1 0h0m-2 2h0m-1-1h0m-8 3h0m-51-3h0m-2-2h0m0 0h0m-5 3h0m-1 1h0m-7 1h0m-3 0h0m0 2h0m7-1h0m0 2h0m3 3h0m71-4h0m1-1h0m7 4h0m1-4h0m5 4h0m1-3h0m5 3h0m-6 5h0m-11 1h0m-11-3h0m-54 3h0m-2-4h0m-6 1h0m-3 2h0m-4 0h0m-13 2h0m0 2h0m14 2h0m3-2h0m3 2h0m1 0h0m4-2h0m11 4h0m33 0h0m1-2h0m12-1h0m1 1h0m6-2h0m8-1h0m8 5h0m8-5h0m-1 10h0m-1 1h0m-1 0h0m-9-4h0m0 4h0m-2-3h0m-7 0h0m-8-2h0m-21 3h0m-2 0h0m-1 1h0m-2-3h0m-21-1h0m-2 1h0m0 1h0m-9 1h0m-6-2h0m-3-1h0m-4 1h0m0 0h0m-13-1h0m63 9h0m16-2h0m14 1h0m5 1h0m1 1h0m6-1h0m4 1h0m2-3h0m1 0h0m2-1h0m0 1h0m3 0h0m2 8h0m-3 2h0m-3-3h0m-9 0h0m-6-2h0m-1 1h0m-2 0h0m0 2h0m-1-2h0m-7 4h0m-8-4h0m-5 3h0m0-4h0m-1 4h0m-3-4h0m-15 9h0m3 0h0m38 0h0m7-3h0m6 4h0m1 0h0m2 0h0m1 0h0m-17 4h0m-7-1h0m-1 2h0m-15-2h0m-1 2h0m-9-1h0m-1-2h0m-5 4h0m7 2h0m16 0h0m5 0h0m2 0h0m-13 8h0m-1-1h0m-1 2h0m-4-2h0"/>
<path stroke="#ceeaf3" d="m135 125h0m-15 4h0m-6 7h0m0-3h0m13 2h0m2 1h0m29 4h0m-18 0h0m-11 1h0m-7 0h0m-4 1h0m-5 1h0m-22-2h0m-2 2h0m-3-2h0m-2 2h0m0-2h0m-5-3h0m-3 1h0m-7 1h0m-20 2h0m-22 5h0m38 0h0m16-3h0m3 3h0m2-3h0m5 1h0m25 2h0m0-3h0m1 0h0m1 5h0m1 0h0m2-1h0m3-3h0m3 2h0m2-1h0m1 0h0m5-2h0m8 3h0m8 0h0m20-3h0m-31 8h0m-3-1h0m-2-1h0m-1 0h0m-5 4h0m-2-2h0m-4 3h0m-1-4h0m-3 3h0m0-3h0m-1-1h0m-1 2h0m-25-2h0m-1 0h0m-5 2h0m-1 2h0m-2 0h0m-24-1h0m-1-2h0m65 10h0m4-1h0m6-4h0m5 2h0m-4 5h0m-4 3h0m0-1h0m-3 2h0m-2-1h0m-1 1h0m-2-2h0m-2 3h0m5 0h0m1 0h0m35 6h0m-28 4h0m-11 7h0m0-2h0m5 1h0m18 1h0m6 0h0m7-5h0m2 2h0m1 0h0m3 7h0m-5 0h0m-1 1h0m0 0h0m-1-3h0m-1 0h0m-4 2h0m-2-1h0m-9 3h0m-5-5h0m-3 5h0m-6 0h0m-4-2h0m-1-1h0m-54 0h0m-5-1h0m-6 2h0m-1 0h0m-7 1h0m-17 5h0m6 0h0m4-3h0m5 3h0m5 1h0m6-2h0m2 2h0m3-4h0m39 5h0m12-5h0m5 3h0m3 2h0m0-1h0m1 0h0m13-1h0m1 2h0m8-3h0m2 1h0m1-1h0m9 9h0m-5-1h0m-2 1h0m-4-5h0m-10 1h0m-7 2h0m-2-1h0m-10-1h0m-5 3h0m-2-3h0m-1-1h0m-3 2h0m-10 3h0m-31-1h0m-1-4h0m-5 0h0m-3 0h0m-1 0h0m-3 0h0m-8 0h0m-3 5h0m-6-2h0m-3-3h0m-4 7h0m5 0h0m0 1h0m1 1h0m6 0h0m8-2h0m2-1h0m9 4h0m2-4h0m6 0h0m1 3h0m3 0h0m2 1h0m1-4h0m0 5h0m3-1h0m0-1h0m17 1h0m1 1h0m4 0h0m3-3h0m13-2h0m1 1h0m1-1h0m6 5h0m2-3h0m4 2h0m0-2h0m1-2h0m2 1h0m6 1h0m6-1h0m0 1h0m5-1h0m0 3h0m2-4h0m6 3h0m2 5h0m-2-1h0m-8 3h0m0-2h0m-1 1h0m0 1h0m-2-4h0m-2 3h0m-2 0h0m-2-1h0m-1 1h0m-3 1h0m-2-1h0m-2-3h0m-3 1h0m-3-1h0m0 5h0m-4 0h0m-1-3h0m-2-1h0m-4 3h0m-1-3h0m-6 2h0m0-3h0m-8 2h0m-30 0h0m-7 2h0m-9-2h0m5 8h0m42-1h0m3 2h0m9 0h0m2-3h0m1 3h0m3-4h0m5 3h0m1 0h0m5-2h0m5-1h0m1 1h0m1 2h0m1-2h0m5 1h0m2 0h0m2-3h0m1 5h0m1-5h0m8 3h0m1 1h0m0 2h0m-1 4h0m-7-1h0m-5 1h0m-4-4h0m-2 4h0m-3-2h0m-4 3h0m-3-5h0m0 3h0m-5 0h0m-2-3h0m-3 4h0m-2-1h0m-1-2h0m-1 1h0m-1 1h0m-1 1h0m-10-2h0m-2 1h0m-2-2h0m0 3h0m-5 1h0m0-1h0m-2 0h0m0 5h0m1-3h0m1 4h0m1 0h0m7-2h0m1 3h0m2 0h0m1-5h0m3 0h0m1 3h0m0 2h0m1-1h0m6 0h0m2-1h0m1 2h0m5-3h0m2 1h0m1-3h0m0 5h0m1-2h0m3 0h0m3 2h0m5-3h0m4 3h0m1-3h0m6 0h0m1-2h0m-13 7h0m-7 2h0m0 2h0m-5-3h0m0-1h0m-1-1h0m-2 3h0m-1-3h0m-1 2h0m-7-2h0m-1 4h0m0-1h0m-1-1h0m-3-2h0m-1 1h0m-1 2h0m-8 0h0m-6 2h0m-2-4h0m0-1h0m20 10h0m1-3h0m4 0h0m1 1h0m6-2h0m-14 8h0m-1 0h0m-1 0h0"/>
<path stroke="#eaf7e5" d="m112 65h0m39 33h0m-14 8h0m-94 0h0m1 7h0m3 12h0m3 0h0m75-1h0m1-4h0m32 9h0m-22 0h0m-4-1h0m-2 1h0m-7 0h0m-2 1h0m-2-2h0m-43 3h0m-49 3h0m1-1h0m2 4h0m8-5h0m16 4h0m13 0h0m3-1h0m4 2h0m3-2h0m4-1h0m3 2h0m31 1h0m2-4h0m8 3h0m2-1h0m2 0h0m9 1h0m12 1h0m3 0h0m2-1h0m7 0h0m2-3h0m-13 9h0m-1-2h0m-10 3h0m-1-5h0m-2 2h0m-4 1h0m-7 2h0m-4 0h0m-3-5h0m-3 1h0m-2 0h0m-22 4h0m-4 0h0m-2-4h0m-5 1h0m-1-2h0m-2 2h0m-1-2h0m-3 1h0m0 2h0m-4 0h0m-10 1h0m-2-3h0m-3 4h0m-13-3h0m-9 2h0m-13 0h0m-3 0h0m4 7h0m14 0h0m5 0h0m6-2h0m1 1h0m2-3h0m9 0h0m0 1h0m22-2h0m5 5h0m0 0h0m0-2h0m1-1h0m3-2h0m2 0h0m0 2h0m1 3h0m0-2h0m21-2h0m1 1h0m10 1h0m1-1h0m0 2h0m3-3h0m13 4h0m1-2h0m1-2h0m2 4h0m1-4h0m1 1h0m2 1h0m0-1h0m21 1h0m-30 3h0m-3 3h0m-1-2h0m-2 2h0m-1 0h0m-16-3h0m-2 0h0m-25 0h0m-2 5h0m-1-1h0m-1 0h0m-1-2h0m-1 0h0m-2 0h0m-1 0h0m-20 2h0m-2-2h0m0-1h0m-13-1h0m-11 0h0m-5 2h0m-1 3h0m-6-5h0m-4 1h0m-8 0h0m8 10h0m2-5h0m0 5h0m14 0h0m2-4h0m26 4h0m0-4h0m1 1h0m53 3h0m3-2h0m3-2h0m1 2h0m0 0h0m9-2h0m3 1h0m2 2h0m58-4h0m-2 6h0m-8 4h0m-54-3h0m-3 1h0m-2 3h0m-65-5h0m56 6h0m33 5h0m35-5h0m-29 8h0m-1 0h0m-2 3h0m-4-2h0m-10 0h0m-13 8h0m23 0h0m3-2h0m2-3h0m2 5h0m1-3h0m2-1h0m4 1h0m0 5h0m-3 2h0m-6-1h0m-3-1h0m-4 4h0m-5-2h0m-6 2h0m-19-4h0m-57 3h0m-1 0h0m-4-3h0m-3 4h0m-4-4h0m-20 10h0m7-3h0m3 2h0m3-4h0m4 2h0m5 0h0m2 1h0m6 0h0m0 2h0m8-5h0m1 0h0m54 5h0m1-3h0m2-1h0m2 1h0m5-2h0m4 3h0m0 0h0m3 0h0m0 0h0m1 1h0m0-4h0m7 0h0m0 4h0m2-3h0m4-1h0m0 5h0m1-3h0m2 3h0m3-5h0m0 3h0m0 2h0m1-2h0m0-2h0m4 10h0m-9 0h0m-3-5h0m-3 3h0m-12-2h0m-5 1h0m-1 0h0m-1-2h0m-2 5h0m-2-2h0m-1 2h0m-6-1h0m-9-2h0m0 2h0m-5 1h0m-32 0h0m-2 0h0m-17-3h0m0 1h0m-4 0h0m-9 1h0m-3 1h0m-6 0h0m-6 0h0m0 2h0m10-1h0m2 0h0m2 2h0m7 3h0m1-2h0m1 1h0m7-1h0m4-1h0m1-2h0m6 2h0m0 1h0m6 2h0m3-1h0m19-3h0m4 1h0m4 2h0m0-4h0m5 2h0m3-2h0m5 4h0m1 1h0m1 0h0m2 0h0m2 0h0m9-2h0m9 1h0m2 1h0m1-4h0m2-1h0m7 1h0m5 0h0m2 7h0m-5-2h0m-1 3h0m-1-3h0m-3 5h0m-4-2h0m-7 2h0m-1 0h0m-1-4h0m-4 3h0m-1-3h0m-1 0h0m-9 1h0m-1 3h0m-2 0h0m-14 0h0m-4-1h0m-33 0h0m-2 0h0m0-4h0m-2 2h0m-4-2h0m-6 0h0m0 3h0m6 3h0m1 0h0m2 1h0m0-1h0m36 1h0m5 0h0m0-1h0m2 0h0m7 0h0m0 4h0m1 1h0m4 0h0m1 0h0m4 0h0m2-4h0m3-1h0m7 5h0m2-4h0m2 1h0m2 2h0m3-4h0m1 2h0m6 0h0m1 2h0m0-1h0m3-3h0m3 4h0m-1 4h0m0 0h0m-3 2h0m-1-3h0m0 1h0m-4-1h0m-1 2h0m-2-2h0m0-1h0m-8 3h0m-2 2h0m-3-2h0m0 0h0m-1 2h0m-1-1h0m-3 1h0m-7-3h0m0 1h0m-1-1h0m0 0h0m-4 1h0m-5-1h0m-10 2h0m-2 1h0m-1-1h0m-1 1h0m0 0h0m-2 0h0m-1 1h0m4 5h0m7-4h0m3 0h0m5-1h0m6 1h0m2 1h0m0-1h0m3 0h0m2-1h0m1 2h0m4 3h0m4-1h0m5-4h0m3 4h0m3 1h0m0-1h0m2 1h0m3-1h0m0-2h0m0 0h0m2-1h0m-18 6h0m-6-1h0m-1 0h0m-4 5h0m0-2h0m-4 2h0m-1-2h0m-1-2h0m0 1h0m-2 2h0m-3-2h0m0 1h0m-2 1h0m-5 0h0m-1-1h0m-2 0h0m-1-1h0m-1 3h0m-4-3h0m-1 0h0m-1-1h0m3 5h0m4 0h0m3 5h0m1 0h0m0-3h0m0 2h0m0-3h0m2 1h0m0 3h0m2-1h0m2-2h0m0-1h0m4 0h0m2 1h0m0 0h0m9-1h0m-3 5h0m-4 0h0"/>
<path stroke="#ffffbf" d="m118 66h0m-7 4h0m-5 10h0m-27 3h0m5 5h0m32-4h0m50 9h0m-6 2h0m-5-4h0m-2 2h0m-10 2h0m-42 0h0m-28 1h0m61 3h0m39 1h0m-39 7h0m-2-4h0m-6 4h0m-7 0h0m0 0h0m-4 0h0m0-1h0m-68 5h0m29 1h0m10-2h0m66 3h0m5-2h0m10-3h0m-4 8h0m-6 3h0m-15-4h0m-14-1h0m-5 2h0m-38 3h0m-56 4h0m1 0h0m3-2h0m3 4h0m9-1h0m23 0h0m4-1h0m1-1h0m1 3h0m5-2h0m2 2h0m2-3h0m36 0h0m1-1h0m12 2h0m13-1h0m2 0h0m16 5h0m-3 3h0m-14-2h0m-20-1h0m-3 3h0m-2 1h0m-2-5h0m-31 1h0m-2 1h0m-2 3h0m0-5h0m-7 1h0m-7-1h0m-16 3h0m-5 1h0m-2-3h0m-4 2h0m-5 0h0m-1-1h0m0-2h0m-1 3h0m-5-2h0m-1-1h0m-6 8h0m5-1h0m2 3h0m10-1h0m0-2h0m9 1h0m1-1h0m4 0h0m15 1h0m2 1h0m1 1h0m1 0h0m1-3h0m2 4h0m0-4h0m1 2h0m3-2h0m2-1h0m2 1h0m28 4h0m1-1h0m3-2h0m2-1h0m8-1h0m1 5h0m10 0h0m9-3h0m1 0h0m0 2h0m4-1h0m5-3h0m7 4h0m2 0h0m2 7h0m-3-2h0m-1 0h0m-5-3h0m-10 0h0m0 2h0m-5 1h0m-6 0h0m-9-2h0m0-1h0m-3 2h0m-5-2h0m-29 4h0m-1-4h0m-3 5h0m-3-2h0m-1-3h0m-1 0h0m-1 4h0m-2-3h0m0 2h0m-9-2h0m-2-1h0m0 0h0m-8 3h0m-7 1h0m-2-3h0m-1-1h0m-5 2h0m-3 3h0m-1-3h0m-6 3h0m-3 0h0m-2-5h0m-1 4h0m-1 1h0m-1-1h0m-1-4h0m-3 3h0m-3 1h0m-4 1h0m0 2h0m1-1h0m3 5h0m1-4h0m4 2h0m6-2h0m4 0h0m5 3h0m3-2h0m1 3h0m0-5h0m7 1h0m3 1h0m5 0h0m2 3h0m2-5h0m14 4h0m1 1h0m1-1h0m4-4h0m1 5h0m6-2h0m23 1h0m5-1h0m5 0h0m5 1h0m0-4h0m6 1h0m2 3h0m1-3h0m4 1h0m1 0h0m6-1h0m5-1h0m5 3h0m2-1h0m2 0h0m4 2h0m3-1h0m24 5h0m-29-2h0m-1 0h0m-27 0h0m-2 1h0m-2 1h0m-44 1h0m-3 2h0m-5-2h0m0-3h0m-18 0h0m-1 0h0m-1 2h0m-1 2h0m-2-3h0m0 0h0m-2-1h0m-5 2h0m-1-1h0m0 3h0m-2-3h0m-2 0h0m-6 1h0m-3 1h0m0 1h0m-1-1h0m0 1h0m-8 1h0m-5-4h0m-8 4h0m-2-3h0m-3-2h0m1 7h0m0 3h0m2-3h0m0 2h0m1 0h0m1-3h0m9 1h0m9 2h0m3-3h0m2 1h0m3 3h0m19-3h0m1 1h0m1-2h0m64 2h0m2 3h0m11-2h0m50 0h0m3-2h0m1 2h0m2 0h0m-2 6h0m-5-3h0m-55 5h0m0-1h0m-1-2h0m-2 0h0m-1 2h0m-5-2h0m-6 2h0m-53 0h0m-4-3h0m-1 1h0m-3 2h0m-19-4h0m0 1h0m-5 1h0m-2-2h0m-4 0h0m-2 2h0m-5-2h0m35 6h0m7 0h0m125 1h0m9-1h0m-36 7h0m0 4h0m-9-5h0m-20 3h0m6 3h0m11 2h0m4 3h0m3-3h0m4 3h0m0 0h0m8 3h0m-2 1h0m-3 2h0m-4-5h0m0 1h0m-2 2h0m-2-3h0m-1 2h0m-5-2h0m-4 3h0m-1 1h0m-1-3h0m-2 1h0m-2 3h0m-1-2h0m-87-1h0m-1 2h0m-2-2h0m-6 3h0m-5 6h0m1-5h0m2 4h0m3 1h0m5 0h0m6-4h0m4 4h0m62-1h0m16 1h0m23-3h0m2 3h0m2-2h0m7-3h0m1 10h0m-5-4h0m-9 1h0m-2 0h0m0 4h0m-1-4h0m-3-1h0m-1 4h0m-10-2h0m-10 0h0m-10 1h0m-11-1h0m-3 1h0m-33 2h0m-12-2h0m-2-2h0m-4 4h0m0-4h0m-1 4h0m-2 0h0m-2-2h0m-5 0h0m-5-1h0m-6 1h0m-3-3h0m0 9h0m9-2h0m10 1h0m6 0h0m1 0h0m3-1h0m1 3h0m3-4h0m12 1h0m35 2h0m1 1h0m3-1h0m18-3h0m13 1h0m4 1h0m6 2h0m1-3h0m2 2h0m1-3h0m2 3h0m2 2h0m0-5h0m5 0h0m-9 6h0m-1 4h0m-1-3h0m-7 1h0m-6-2h0m-2 5h0m-10-3h0m-8 1h0m-3-3h0m-8 0h0m-4 2h0m-15 3h0m-38-3h0m-2 0h0m4 4h0m44 1h0m14 2h0m7 2h0m2 0h0m9-2h0m5-2h0m11 0h0m1-1h0m2 4h0m4-3h0m3-1h0m3 0h0m-4 7h0m-1 2h0m-2-3h0m-3 0h0m-3 3h0m-16 0h0m-6 0h0m-8-3h0m-2 1h0m-2 1h0m-1 1h0m-2-2h0m-3 4h0m-1-4h0m0 4h0m-3-2h0m-5 0h0m-1-1h0m-4 2h0m-3 0h0m-1 0h0m-1 0h0m2 2h0m5 2h0m1 2h0m0-1h0m4 2h0m3-5h0m12 3h0m5 2h0m5-1h0m1 0h0m1-4h0m0 4h0m1-1h0m3-2h0m4-1h0m2 5h0m5-1h0m8-1h0m-14 4h0m-3 0h0m-11 0h0m-4 0h0m-2-1h0m-1 1h0m-8 1h0m-11 1h0m-1 4h0m1 3h0m19 0h0m3 0h0m1-3h0"/>
<path stroke="#feeaa0" d="m113 64h0m8 7h0m-2-4h0m-5 1h0m-9 0h0m-3 3h0m-5-4h0m55 16h0m-38-3h0m-8 2h0m-1-4h0m-27 5h0m-6-2h0m-3-2h0m28 8h0m51 0h0m1-2h0m18 8h0m-5-2h0m-1 1h0m0 1h0m-9-2h0m-5 3h0m-6-2h0m-6 1h0m0 1h0m-28-1h0m-26 0h0m-2-3h0m-18 1h0m-4 2h0m-2 6h0m3 1h0m21-4h0m29 0h0m23 0h0m5 3h0m6-1h0m1-1h0m2-1h0m6 2h0m6-2h0m1 2h0m5 0h0m4 0h0m4 2h0m1 0h0m-1 7h0m-9 0h0m-5-5h0m-2 4h0m-1 1h0m-2-2h0m-7 0h0m-2 1h0m-5 1h0m0 0h0m-4 0h0m0-2h0m-4-2h0m-9-1h0m-5 2h0m-1 1h0m-58 1h0m0 3h0m0 3h0m3 0h0m0-4h0m8 0h0m15 0h0m39 0h0m0 5h0m3 0h0m0-2h0m2-3h0m1 1h0m1 0h0m6-1h0m2 0h0m3 0h0m2 2h0m6 3h0m3 0h0m7-3h0m4-2h0m4 3h0m0 6h0m-9 2h0m-1-1h0m-4-3h0m-1 0h0m-6 4h0m-3-1h0m-18-1h0m-36 2h0m-8-1h0m-8-1h0m-4-3h0m-3 1h0m-5-1h0m-14 5h0m-1-1h0m-3 1h0m-1-4h0m-8 8h0m2-1h0m2 2h0m1-3h0m1 4h0m7-2h0m3 2h0m3 0h0m0 0h0m16-5h0m1 5h0m2 0h0m5-1h0m0 1h0m12-4h0m2 0h0m0 2h0m28-1h0m1 2h0m1-3h0m1 2h0m3 1h0m5 1h0m2-1h0m3-4h0m1 5h0m2-4h0m1-1h0m2 0h0m5 3h0m3 1h0m7-2h0m3 1h0m10 1h0m6 5h0m-5 1h0m-4-3h0m-2 3h0m-5-1h0m-21 1h0m-1-1h0m-1 1h0m-8-4h0m-7 1h0m-35 2h0m-2-2h0m-5 2h0m-4-3h0m-1 5h0m-1-3h0m0-2h0m-1 2h0m-18 1h0m-1-3h0m-5 2h0m-2 3h0m0 0h0m-2-5h0m-1 0h0m-3 5h0m0 0h0m-1 0h0m-2-1h0m-1-2h0m-1 3h0m0-4h0m-3 4h0m-5 0h0m-3-1h0m-2 6h0m1 0h0m2 1h0m4-1h0m4 1h0m6-5h0m1 0h0m4 5h0m1-5h0m0 4h0m0-3h0m2 1h0m1 2h0m2-1h0m0 1h0m2 0h0m1-2h0m1 2h0m0-2h0m18 3h0m2-4h0m2 2h0m5-3h0m8 1h0m51 2h0m11-1h0m1 3h0m2-5h0m1 1h0m1 1h0m2 1h0m0-3h0m1 4h0m0 1h0m3-3h0m1-2h0m0 5h0m7-3h0m7-1h0m-2 6h0m-1-1h0m-4 5h0m-18-3h0m-2 0h0m-2 3h0m-1-1h0m0 0h0m-1 0h0m-6 0h0m-2 0h0m-10 1h0m-36-2h0m-1-2h0m-5 1h0m-1-2h0m-3 5h0m-1-5h0m-6 0h0m-4 3h0m-13 2h0m-2-3h0m-3 2h0m-4 0h0m0 0h0m-1 0h0m-1-4h0m-1 0h0m0 3h0m-11-2h0m-1-1h0m-3 0h0m-1 5h0m-2-3h0m0-1h0m-1 1h0m0 3h0m-2-5h0m-2 0h0m-2 2h0m0 1h0m-8 7h0m2-3h0m3 2h0m2 1h0m6 1h0m2-1h0m7-1h0m7-2h0m0 0h0m1 0h0m0 1h0m2-1h0m3 2h0m1-3h0m3 1h0m2 2h0m12-1h0m20 1h0m4 1h0m3 1h0m48-1h0m1 0h0m2-2h0m1 1h0m2-2h0m3 0h0m0-1h0m2 1h0m2 2h0m2-2h0m0 0h0m1 4h0m2-5h0m11 0h0m1 1h0m1-1h0m30 3h0m14 6h0m-22-2h0m-4 3h0m-23-4h0m-23 1h0m-4 3h0m-2 1h0m-50 0h0m-24-5h0m-4 3h0m-1-2h0m-4 2h0m0-3h0m-5 1h0m-1 0h0m-2 1h0m-6 3h0m-2-1h0m-1-4h0m-4 2h0m-1 0h0m-2 0h0m0 3h0m-3-5h0m-4 5h0m-1-3h0m-1 2h0m0 1h0m-1-2h0m-1-3h0m-3 2h0m-2 1h0m0-2h0m0 3h0m-2-3h0m-2 0h0m0 0h0m2 6h0m2-1h0m0 1h0m0 2h0m6 0h0m2-3h0m1 2h0m10-2h0m0 5h0m1-5h0m2 1h0m1-1h0m1 3h0m0 2h0m1-3h0m1 0h0m0-2h0m21 0h0m67 3h0m10-2h0m51 2h0m0 2h0m4-4h0m1 3h0m1-1h0m2 0h0m3-2h0m10 1h0m-15 7h0m-1-3h0m-1 0h0m-67 5h0m-59-1h0m-3 1h0m0-1h0m-5-1h0m-4 0h0m-16-2h0m-2 2h0m-2-3h0m-1 0h0m-2 3h0m-4-1h0m-2-2h0m-5 1h0m-9-1h0m44 7h0m6 2h0m2-1h0m1-1h0m1 0h0m124-1h0m3 2h0m2-1h0m-34 8h0m-8 6h0m3 1h0m11 4h0m-4 1h0m-5 2h0m-2-3h0m-2-2h0m-14 4h0m-71 1h0m0-1h0m-7 0h0m-2-4h0m-7 3h0m-26 8h0m6 0h0m9-2h0m7-1h0m5 3h0m2-2h0m7-2h0m61 0h0m32 1h0m3 1h0m3 0h0m1-3h0m1 4h0m4-1h0m3-1h0m1 7h0m0 1h0m0-1h0m-2 1h0m-2-2h0m-2 3h0m0-3h0m-4 1h0m-5-2h0m-2 0h0m-23 3h0m-17 0h0m-51-2h0m-1 1h0m-9-1h0m-3-2h0m-16 2h0m0 3h0m-1-3h0m-1 7h0m76 2h0m19-5h0m6 4h0m17 1h0m6 0h0m4-3h0m0 3h0m9-3h0m2-2h0m-7 11h0m-1-1h0m-2-1h0m-1 1h0m0 0h0m-1-3h0m0 3h0m-4-4h0m-1 0h0m-4 4h0m-22-2h0m-34 2h0m0-4h0m-34 1h0m38 7h0m5 2h0m3-4h0m3 1h0m21 3h0m1-2h0m0 3h0m6-4h0m2 2h0m1 2h0m4-3h0m16 2h0m-32 7h0m-16-5h0m0 5h0m-15-3h0m0 1h0m-3-1h0m6 4h0m1 0h0m1 2h0m2 1h0m9-2h0m6 0h0m12 1h0m0-2h0m18 0h0m1 0h0m-43 11h0m-5-4h0m-6 7h0m3 3h0m25-3h0"/>
<path stroke="#fecf80" d="m100 64h0m13 1h0m5 6h0m0-5h0m-2 4h0m-9-1h0m-1 2h0m-3-1h0m-1 1h0m-3-5h0m-1 4h0m-1-2h0m0 1h0m-14 8h0m2 0h0m4-5h0m10 5h0m1-1h0m5-2h0m2-2h0m11 4h0m-5 6h0m-7-1h0m0-1h0m0-1h0m-1 4h0m-1-2h0m-4-1h0m-1 2h0m-11 1h0m-7-2h0m-10-1h0m-4 3h0m-2-1h0m2 5h0m2-2h0m2 1h0m1 0h0m0 0h0m2 1h0m0-3h0m7 4h0m1-4h0m7 5h0m11-1h0m4 0h0m2 1h0m6-2h0m36 1h0m6-4h0m2 2h0m14 7h0m-2-1h0m-3 0h0m-3 2h0m-5-2h0m-1-1h0m-1 2h0m-2 0h0m0-1h0m-9-1h0m-6 2h0m-1 0h0m0-1h0m-27 0h0m-1 1h0m-10-1h0m-1 3h0m-1-3h0m0-2h0m-7 4h0m-3-3h0m-5 3h0m-1-1h0m0-1h0m-6-2h0m-3 0h0m-4 5h0m-6-4h0m-3-1h0m0 4h0m-10 6h0m7 0h0m0-4h0m17 5h0m1-2h0m7-1h0m7-2h0m3 5h0m1-5h0m9 2h0m25 2h0m0 0h0m1 0h0m1-1h0m11-2h0m0 1h0m6-2h0m2 4h0m6-1h0m3 2h0m2-2h0m1 1h0m12 1h0m0-2h0m2 1h0m-1 2h0m0 5h0m-1-5h0m0 5h0m-1-5h0m-4 5h0m-1-4h0m0-1h0m-2 5h0m-2-5h0m-3 1h0m-3-1h0m0 2h0m-3 2h0m-2-4h0m-1 3h0m0 0h0m-3 2h0m-3-3h0m-4 3h0m0-2h0m-2-2h0m-3-1h0m-3 3h0m-1-1h0m0-1h0m-1 2h0m-3 1h0m-7-1h0m-1-1h0m0 2h0m-2 1h0m-13-5h0m-18 5h0m-1-1h0m-8 1h0m-6-2h0m-13 1h0m-8-2h0m-1 1h0m-5 2h0m-5 5h0m5-2h0m4 3h0m8-4h0m1 4h0m2-4h0m3 1h0m6 1h0m3 1h0m5 1h0m5-2h0m1 0h0m2-1h0m4 2h0m2 1h0m33-1h0m0-4h0m3 5h0m0-4h0m0 4h0m1-4h0m0 1h0m3 1h0m5 0h0m0-1h0m1 0h0m1 0h0m0-1h0m0 0h0m0 0h0m2-1h0m7 2h0m1 3h0m6 0h0m0 0h0m1-4h0m1 1h0m1 0h0m4 2h0m2 0h0m2 0h0m5 1h0m2-2h0m0-3h0m0 6h0m-13 5h0m-4-1h0m-7-1h0m-1-2h0m0 3h0m-1-4h0m-2 5h0m-2 0h0m-2-2h0m-2 0h0m-1-3h0m-6 5h0m-4-5h0m-2 0h0m-33 3h0m0 2h0m-1-3h0m0-2h0m-3 2h0m-4 3h0m-2-5h0m0 4h0m-1 1h0m-1-3h0m-9 0h0m-2-1h0m-2 1h0m-2-1h0m-8-1h0m-3 0h0m-1 4h0m-4-2h0m-3 2h0m-16 5h0m3-1h0m1 2h0m4-4h0m2 4h0m1-1h0m4-3h0m0 4h0m2 1h0m1-5h0m2 3h0m1-3h0m2 2h0m0 1h0m12 0h0m4 2h0m1-3h0m0 3h0m2-3h0m6 1h0m2 1h0m3-4h0m4 0h0m2 1h0m2 1h0m1 2h0m32-1h0m2 2h0m7-2h0m0 0h0m5-2h0m1 3h0m3-3h0m1-1h0m4 3h0m11 1h0m2-2h0m3-1h0m8-1h0m2 2h0m1 3h0m2-2h0m1 4h0m-15 0h0m-7 1h0m-2 1h0m-4 1h0m-9-1h0m-2 1h0m-2-3h0m-7 0h0m-2 1h0m-5 0h0m-32 0h0m0 1h0m0-1h0m0-1h0m-1 1h0m-1 3h0m-2 0h0m-1-3h0m-2 0h0m-1-2h0m-6 4h0m-2-3h0m0 0h0m-4 2h0m0 0h0m-5 0h0m0-3h0m-7 1h0m-3 4h0m-3 0h0m0-3h0m-2 0h0m-2-2h0m0 0h0m-3 3h0m-1-2h0m-2 0h0m-1 4h0m-3 0h0m-2-4h0m-5-1h0m-1 5h0m-4 0h0m-1 2h0m9 0h0m23-1h0m18 1h0m2 3h0m11 0h0m51-3h0m1-1h0m0 1h0m8 4h0m3-2h0m2 1h0m1-2h0m1 2h0m2-4h0m1 3h0m0-2h0m5 4h0m1 0h0m2 0h0m0 0h0m0-5h0m11 5h0m2-4h0m-2 5h0m-1 0h0m-2 3h0m-7 1h0m-3 0h0m-1-1h0m-1-3h0m-2 0h0m-4 5h0m0-2h0m-1-1h0m-1-1h0m-3 4h0m-1-4h0m-1 3h0m-9-2h0m-52-1h0m-4-1h0m-23 3h0m-3-1h0m-3 3h0m-3-2h0m-17 2h0m-2-3h0m0 2h0m-3 0h0m-1 0h0m0 1h0m-2-2h0m-1 0h0m0-3h0m-1 2h0m-1 0h0m-3 2h0m3 2h0m4 0h0m0 0h0m3 0h0m2 5h0m1-1h0m1-4h0m1 4h0m9 1h0m1-2h0m6 2h0m0 0h0m4-1h0m3-2h0m34 2h0m24-2h0m26-2h0m0 3h0m8-3h0m1 2h0m18 2h0m0-4h0m0 5h0m3-2h0m1-3h0m35 5h0m-1 4h0m-2-3h0m-2 1h0m-1 4h0m-1-4h0m-1 4h0m-1 0h0m-1-3h0m-1-1h0m-1 1h0m0 3h0m-1-1h0m0 0h0m-2-1h0m-1 2h0m-25-5h0m-35 1h0m-82 3h0m-12 1h0m-6-4h0m-4 4h0m-2-4h0m0 2h0m-2 2h0m-1-1h0m-3-4h0m-1 2h0m-5 4h0m0 3h0m5 1h0m1-3h0m8-1h0m0 0h0m4 2h0m1 0h0m5-2h0m0 5h0m4-2h0m145 2h0m1 0h0m2-3h0m3 3h0m0-1h0m2-4h0m1 2h0m11 0h0m3 1h0m0-2h0m0 0h0m4-1h0m-8 9h0m-7 2h0m-3-5h0m-2 5h0m-1-4h0m-2 4h0m-1-1h0m0-4h0m-114 4h0m-17-4h0m-24 1h0m-2 0h0m-1 0h0m-11-1h0m0 0h0m-7 0h0m44 7h0m7 2h0m128-1h0m1-1h0m1-1h0m8 2h0m1-2h0m1 0h0m-51 9h0m-30 7h0m-68 3h0m-3 0h0m-9 4h0m26 4h0m98 2h0m1-2h0m4 4h0m-1 4h0m0-1h0m-2-2h0m-1 0h0m0 0h0m0-1h0m0 2h0m-3-2h0m-4 4h0m-2 0h0m-1-2h0m-9 0h0m-90 0h0m-26 4h0m1 4h0m2-1h0m24-3h0m94 1h0m5 3h0m3-5h0m3 4h0m1-2h0m1 5h0m-2 3h0m-2-2h0m-60 8h0m58-4h0m-9 9h0m-13 1h0m-38 2h0m2 12h0"/>
<path stroke="#fdae61" d="m108 61h0m0 2h0m12 1h0m2 7h0m-2-5h0m0 3h0m-5-3h0m-1 5h0m-4-3h0m0-1h0m-2 4h0m-4-4h0m-1 3h0m-3 0h0m-2-1h0m-8 1h0m-1 1h0m-8 3h0m0 3h0m2 0h0m0-3h0m4 1h0m1 1h0m1 0h0m5 0h0m0-2h0m4-1h0m1 4h0m2-5h0m4 3h0m7-2h0m3 2h0m1-1h0m9 6h0m-17 3h0m0-2h0m-2-1h0m0 0h0m0-1h0m-3 1h0m0 1h0m-2 1h0m0 0h0m-2-4h0m0 1h0m-9 4h0m-1-2h0m0 1h0m-1-2h0m0 3h0m-2-2h0m-5 0h0m-2-1h0m-2 1h0m-1-3h0m0 0h0m0 3h0m-2-3h0m0 1h0m-3 2h0m-6 1h0m-2-1h0m1 8h0m5-4h0m1-1h0m3 1h0m1 4h0m0-2h0m9-3h0m2 1h0m3 3h0m12 0h0m1-2h0m2-2h0m4 2h0m1 0h0m2 3h0m0 0h0m0-3h0m1 3h0m3-5h0m1 1h0m0 1h0m31 2h0m2-1h0m0-1h0m0 3h0m1-1h0m7-1h0m0 0h0m3 0h0m0 2h0m5-1h0m4 3h0m-3 3h0m-7-1h0m-2 1h0m-5 1h0m-1-5h0m-1 1h0m-2 2h0m-1 1h0m-3-2h0m-7 3h0m-36 0h0m-2-4h0m0 0h0m-1 2h0m-4 1h0m-6 0h0m-1 1h0m-3-1h0m-1 1h0m-1-2h0m-1 2h0m0-2h0m-1-1h0m-8-1h0m-1-1h0m0 3h0m-1 2h0m0 0h0m-2-2h0m-3 1h0m-1 0h0m-1-3h0m-3 4h0m-10 6h0m3-2h0m4 2h0m1-4h0m4 2h0m8-1h0m3 0h0m0-1h0m2 1h0m1 2h0m1-2h0m4 2h0m2 0h0m4-1h0m4 2h0m1-2h0m0 2h0m1-3h0m9 2h0m3-4h0m2 3h0m1-3h0m23 2h0m1 2h0m1-3h0m3 4h0m4-4h0m2 0h0m1 3h0m2-4h0m1 5h0m0-5h0m1 0h0m2 2h0m1 2h0m2-2h0m0 2h0m11-1h0m0 0h0m0 0h0m4 1h0m1-4h0m1 4h0m1-1h0m4 5h0m-1-2h0m-1 2h0m-12-1h0m-6 2h0m-1 0h0m-1-1h0m-1 2h0m-2-1h0m-2-3h0m0 2h0m-1 2h0m-8-3h0m-1 4h0m-1-5h0m-3 1h0m-1 2h0m-3 0h0m0 0h0m-6 2h0m-4-3h0m-2 2h0m-10-4h0m-1 1h0m-19 0h0m-2 3h0m0-1h0m-3-1h0m0-2h0m-9 2h0m-2 0h0m-7 1h0m-1 2h0m0 0h0m-5-1h0m-4-3h0m-3 2h0m-3-2h0m-1 1h0m0-1h0m-2 1h0m-5 6h0m7 3h0m1 0h0m4-2h0m3-1h0m1-2h0m1 4h0m0-1h0m0-2h0m5 1h0m0 0h0m1-2h0m0 0h0m3 1h0m0 2h0m1 1h0m0-3h0m0 0h0m5 1h0m10-2h0m4 0h0m1 1h0m0 0h0m5 3h0m1-3h0m30 0h0m7 2h0m1-1h0m0-2h0m0 3h0m3-2h0m2 3h0m1-3h0m2 2h0m1-3h0m4 4h0m0-4h0m2 5h0m1 0h0m0-4h0m1 2h0m1-1h0m0 0h0m6 3h0m1 0h0m1-5h0m4 4h0m1-1h0m1-1h0m0 0h0m1 0h0m1 1h0m1 2h0m1 0h0m1-2h0m0 0h0m2 2h0m-2 2h0m-1 0h0m-3-1h0m-3 5h0m-3-2h0m-3 2h0m-7-4h0m-2 2h0m-6 0h0m-4-3h0m-3 3h0m-3 1h0m-7 1h0m-32-2h0m-2-2h0m-7 3h0m-14-4h0m0 4h0m-2-2h0m0 1h0m-1-1h0m0 0h0m-13-1h0m-1 0h0m-5 0h0m0 1h0m-2 2h0m-3-1h0m-13 6h0m7 2h0m0-3h0m1 1h0m7-3h0m2 5h0m2 0h0m1-4h0m1 4h0m2-4h0m10 3h0m6-2h0m2 1h0m0 0h0m0-2h0m13 0h0m8-1h0m3 4h0m29-1h0m1-3h0m21 0h0m3 4h0m7-1h0m1-3h0m0 5h0m1-4h0m3-1h0m2 0h0m2 0h0m5 4h0m0-3h0m2 4h0m0-5h0m2 0h0m4 4h0m1 2h0m-3 3h0m0-2h0m-6 4h0m0-5h0m-2 1h0m-3 3h0m-1-3h0m-1 1h0m-7 2h0m-14-4h0m0 5h0m-2-5h0m-5 3h0m-48 0h0m-17 2h0m-16-3h0m-24-1h0m-2 6h0m8 1h0m2 0h0m6-1h0m1 0h0m9 1h0m1 1h0m0-3h0m1 0h0m4 5h0m24-5h0m76 5h0m1-2h0m0-1h0m3 3h0m1-4h0m1-1h0m2 2h0m1 0h0m1-2h0m1 1h0m2 4h0m0-1h0m1 1h0m3-3h0m3 3h0m1-4h0m-2 6h0m-2 0h0m0-1h0m-1 0h0m-2 0h0m-1 0h0m-2 0h0m-3 4h0m-10-1h0m-1-1h0m-5-2h0m-97 4h0m-2-4h0m-7 4h0m-11 1h0m0-5h0m-11 5h0m-3-1h0m1 6h0m12 0h0m3-4h0m12 1h0m114 1h0m2 1h0m3-2h0m3 1h0m2 0h0m1-2h0m25 4h0m19 7h0m-2-1h0m-1-1h0m-4-2h0m-1 1h0m0 2h0m-4-3h0m-2 0h0m-1 0h0m-1 2h0m-4-1h0m-4 1h0m0 0h0m-163-2h0m-4 3h0m-4-1h0m0-3h0m-9 5h0m3 4h0m7-2h0m19 3h0m22-1h0m129 1h0m1-2h0m0 3h0m4 0h0m1-4h0m3 0h0m1 4h0m1-2h0m2 0h0m5-3h0m1 0h0m2 4h0m1-4h0m2 2h0m1-2h0m1 2h0m-10 4h0m-3 3h0m-1 2h0m-1-1h0m-1 1h0m-3-2h0m-6 2h0m-2 0h0m-1-4h0m-61 2h0m-73-1h0m-18-1h0m-3 2h0m-8-3h0m166 6h0m0 2h0m-44 19h0m8 6h0m15 1h0m-6 4h0m-1-1h0m0-1h0m-6 5h0m-103-3h0m-21 7h0m125-1h0m5 1h0m1-2h0m0 9h0m0 0h0m-4-3h0m-101 3h0m-10-3h0"/>
<path stroke="#f7834d" d="m102 62h0m2-2h0m5 5h0m1-3h0m2 1h0m2 2h0m7 4h0m-4-2h0m-4 2h0m-2 0h0m-6-2h0m-4 1h0m-4 3h0m-13 3h0m1 3h0m0-4h0m2 3h0m1-1h0m3-3h0m0 0h0m1 3h0m3-2h0m3 0h0m1 2h0m1-2h0m0-1h0m1 1h0m1 3h0m3 0h0m2-1h0m0-3h0m3 2h0m1-2h0m2 1h0m2 2h0m1 2h0m1-5h0m-2 8h0m-3-1h0m-5 4h0m-1-4h0m-1 4h0m-1 0h0m-1 0h0m-1-4h0m0 0h0m-1-1h0m-1 3h0m-12 1h0m-1 0h0m-1-4h0m-1 0h0m-1 4h0m0 0h0m0-2h0m-1 1h0m-2-3h0m-3 0h0m-1 5h0m-1-5h0m-4 2h0m0-1h0m-3 0h0m-5 3h0m-5 7h0m0-4h0m0 4h0m1-2h0m5-1h0m1-1h0m3 3h0m1-2h0m2 3h0m1-3h0m15 2h0m2-3h0m10 2h0m2 1h0m2-4h0m1 5h0m3-5h0m4 3h0m36-1h0m0 3h0m0 0h0m1-2h0m0 2h0m1-4h0m5 4h0m4 0h0m11 3h0m-1 3h0m-2-1h0m-15-1h0m-5-2h0m-3 0h0m-2 3h0m0 1h0m-1 0h0m-5-2h0m-27-2h0m-1 0h0m-6 1h0m-1 1h0m0 0h0m-3-3h0m-11 3h0m-1-1h0m-2 3h0m-3-5h0m0 2h0m-5 3h0m-2-2h0m0 1h0m-1-2h0m0-1h0m-5 4h0m-2-5h0m-3 0h0m-4 2h0m-1-1h0m-3 3h0m-5 3h0m6 0h0m0 0h0m3-1h0m2 4h0m3 0h0m2-4h0m0 0h0m0 1h0m1 2h0m0 1h0m3 0h0m4 1h0m2-4h0m3 4h0m1-5h0m1 4h0m1 0h0m0 0h0m1-3h0m3 1h0m2 2h0m2-4h0m37 3h0m5-2h0m2-1h0m2 5h0m2 0h0m4-2h0m3 1h0m6-3h0m4 3h0m3-1h0m4 0h0m3-2h0m4-1h0m3 1h0m0 7h0m0-2h0m-4 2h0m-1-1h0m-1 0h0m-2 2h0m-15 0h0m-1 2h0m0-5h0m-1 2h0m0-2h0m-2 1h0m0 2h0m-3 2h0m-2-2h0m0-2h0m-6 2h0m-7 2h0m-7-3h0m-6 1h0m-4 1h0m-11-4h0m-7 5h0m0-5h0m-11 2h0m-12 2h0m-2-1h0m-3-3h0m-5 0h0m-1 5h0m-1-3h0m-6 1h0m-4 3h0m8 0h0m6 4h0m5-1h0m3 1h0m7 0h0m0-1h0m1-1h0m2-2h0m2 4h0m0-1h0m0 1h0m3-3h0m2 4h0m1-4h0m38 4h0m1-1h0m12-2h0m4 1h0m1-3h0m1 3h0m1-3h0m4 2h0m7 1h0m0-1h0m7-1h0m8 3h0m2-4h0m-15 8h0m-2-1h0m0 3h0m-2-1h0m-1-1h0m-4-2h0m-5 5h0m-1-1h0m-4-1h0m-1 1h0m-7-1h0m-35-3h0m-11 2h0m-2-2h0m-3 5h0m-1-4h0m-5-1h0m-1 2h0m0-1h0m-5 3h0m0-1h0m-1-1h0m-16 2h0m-2-2h0m-4 2h0m-5 1h0m-2 0h0m0-5h0m-4 9h0m9-1h0m2 1h0m21 2h0m1-3h0m5 0h0m4 2h0m1-4h0m0 1h0m0-1h0m5 1h0m4 1h0m56-2h0m3 0h0m1 2h0m7 3h0m0-3h0m2 0h0m0 3h0m1-1h0m12-3h0m3 5h0m-9 5h0m-16-5h0m-71 5h0m-34-2h0m-2-2h0m-12-1h0m-1 2h0m22 8h0m0-3h0m2 3h0m107-2h0m6 2h0m5-4h0m6 0h0m2 8h0m-16 0h0m-15-2h0m-125 2h0m-8 9h0m186 0h0m5-1h0m3 0h0m5 3h0m0 2h0m-2-2h0m-1-1h0m-1 0h0m0 1h0m0 1h0m-14-1h0m-178 4h0m17 4h0m110-2h0m47-1h0m3 3h0m2-3h0m1 5h0m6 0h0m4-5h0m3 2h0m2 3h0m2 0h0m1-4h0m2-1h0m2 0h0m-11 8h0m-3 3h0m-3 0h0m-1-5h0m-1 1h0m-11 1h0m-122 7h0m2-3h0m138 1h0m-38 31h0m0 1h0m-1 0h0m-85 8h0m80-3h0m3 3h0m0-5h0m1 6h0m-2 6h0"/>
<path stroke="#ea593a" d="m108 60h0m9 3h0m1 1h0m4 3h0m-3 0h0m-25 3h0m-2 0h0m-13 5h0m6 2h0m6-5h0m3 0h0m4 4h0m7 1h0m1-4h0m5 4h0m2 0h0m0 0h0m6-4h0m-4 7h0m-3 0h0m-4 3h0m-4-1h0m-1 1h0m-13-4h0m-1-1h0m-3 1h0m-5 4h0m-5 0h0m-4 0h0m0-3h0m-8 1h0m12 5h0m1-2h0m6 1h0m7 0h0m10 3h0m12-2h0m43 1h0m8 2h0m-6 5h0m-15-2h0m-36 3h0m-5 0h0m-2 0h0m-1-3h0m-2 1h0m-6-2h0m-4 3h0m0-3h0m-1 3h0m-7 1h0m-6-4h0m-11 4h0m-11 4h0m11 0h0m17-1h0m6-1h0m0 0h0m3 1h0m2 2h0m15-4h0m1 5h0m29-2h0m9-2h0m7 1h0m9 3h0m15 0h0m-22 2h0m-2 4h0m-2-2h0m-2-1h0m-2 0h0m-33 2h0m-22 0h0m-12-4h0m-5 1h0m-17 4h0m0-4h0m-5 1h0m-5 4h0m4 4h0m18 0h0m3 1h0m4-4h0m3 2h0m13-2h0m48-1h0m32 4h0m-1 2h0m-45 0h0m-41 0h0m0 1h0m-5-1h0m-3 1h0m-8 2h0m-27-1h0m3 4h0m35 0h0m80 5h0m14 5h0m-4-4h0m-5 2h0m-9 3h0m-8-3h0m-95 0h0m164 26h0m-6-3h0m-5-1h0m-2 3h0m-176-1h0m177 7h0m4-3h0m3 1h0m1 3h0m-7 6h0m-174-1h0m136 34h0m1 13h0"/>
<path stroke="#d73027" d="m102 62h0m10 7h0m-1-3h0m-4 1h0m-19 4h0m14 6h0m4-4h0m9-1h0m-5 8h0m-27 1h0m-6-2h0m-4 2h0m8 7h0m4 0h0m78 0h0m-12 4h0m-70 2h0m-2 0h0m-2-1h0m-18 8h0m78-1h0m30 1h0m1 3h0m-100 2h0m-7 0h0m63 4h0m26 2h0m17 1h0m5 8h0m43 33h0"/>
</g></g><use href="#t100" stroke-width="3.5"/></g>
<path d="M61 1433.9V1644.5H287.7" fill="none" stroke="#000" stroke-width="1.9"/>
<text x="61" y="1657.3" font-size="9.4" text-anchor="middle" fill="#333">−50</text>
<text x="113.8" y="1657.3" font-size="9.4" text-anchor="middle" fill="#333">−25</text>
<text x="166.7" y="1657.3" font-size="9.4" text-anchor="middle" fill="#333">0</text>
<text x="219.5" y="1657.3" font-size="9.4" text-anchor="middle" fill="#333">25</text>
<text x="272.4" y="1657.3" font-size="9.4" text-anchor="middle" fill="#333">50</text>
<text x="56.4" y="1437.9" font-size="9.4" text-anchor="end" fill="#333">50</text>
<text x="56.4" y="1490.8" font-size="9.4" text-anchor="end" fill="#333">25</text>
<text x="56.4" y="1543.6" font-size="9.4" text-anchor="end" fill="#333">0</text>
<text x="56.4" y="1596.5" font-size="9.4" text-anchor="end" fill="#333">−25</text>
<path d="M61 1644.5v3.2M113.8 1644.5v3.2M166.7 1644.5v3.2M219.5 1644.5v3.2M272.4 1644.5v3.2M61 1434.4h-3.2M61 1487.3h-3.2M61 1540.1h-3.2M61 1593h-3.2" stroke="#000" stroke-width="1.5" fill="none"/>
<text x="174.2" y="1677.6" font-size="14" text-anchor="middle">tSNE_1</text>
<text x="44.5" y="1539.7" font-size="14" text-anchor="middle" transform="rotate(-90 44.5 1539.7)">tSNE_2</text>
<text x="172.4" y="1362.1" font-size="33.5" text-anchor="middle" font-style="italic" stroke-width="0.40">Cxcr6</text>
<rect x="299.3" y="1515.4" width="12.1" height="58.7" fill="url(#rb)"/>
<text x="299.7" y="1511.5" font-size="7.3" fill="#222">Scale.data</text>
<text x="314.7" y="1523.5" font-size="6.1" fill="#333">2</text>
<text x="314.7" y="1539.7" font-size="6.1" fill="#333">1</text>
<text x="314.7" y="1555.7" font-size="6.1" fill="#333">0</text>
<text x="314.7" y="1571.9" font-size="6.1" fill="#333">−1</text>
<path d="M299.3 1521.3h2.3M311.4 1521.3h-2.3M299.3 1537.5h2.3M311.4 1537.5h-2.3M299.3 1553.5h2.3M311.4 1553.5h-2.3M299.3 1569.7h2.3M311.4 1569.7h-2.3" stroke="#fff" stroke-width="0.5" fill="none"/>
<g transform="translate(391 1381.9)" fill="none" stroke-linecap="round"><g stroke-width="4.2"><g id="t101">
<path stroke="#4575b4" d="m108 62h0m0 1h0m2-1h0m3 3h0m5-1h0m2 1h0m2 3h0m-1 3h0m-3-5h0m0 5h0m-3-5h0m-1 2h0m-3-2h0m-1 2h0m-2 3h0m-1-3h0m-2 0h0m0-1h0m-7 3h0m0-1h0m-1 1h0m-3 0h0m-15 6h0m2-1h0m3 0h0m1 2h0m3-2h0m1-2h0m2-1h0m1 4h0m3-2h0m3 3h0m4-5h0m3 5h0m0-1h0m2-3h0m0-1h0m3 3h0m2-1h0m1-1h0m0 4h0m1-5h0m1 3h0m0 0h0m0-2h0m1 2h0m3-2h0m-4 7h0m-2 2h0m-1-1h0m0-1h0m-2 0h0m-3 3h0m-1-2h0m0 0h0m0 0h0m0 0h0m0-2h0m0 4h0m-1 0h0m-1-2h0m-1 0h0m-1-3h0m-1 5h0m-1-3h0m-10-1h0m-5-1h0m-2 3h0m-2-2h0m-3 0h0m-2-1h0m0 3h0m-4 1h0m-7 0h0m-1 0h0m-5 4h0m0 3h0m1-2h0m5-1h0m7 0h0m0 3h0m1-3h0m3 0h0m9-1h0m3-1h0m9 3h0m3 0h0m0 1h0m0 1h0m2-1h0m2-4h0m0 4h0m3-2h0m1-2h0m0 0h0m2 5h0m0-2h0m1 2h0m1-1h0m3-2h0m0 0h0m1-2h0m32 2h0m0 3h0m0-3h0m0 1h0m1 2h0m1-4h0m5 4h0m4 0h0m0 0h0m4-1h0m5 4h0m-1 1h0m0 1h0m-1-1h0m-4 1h0m-1 0h0m-3-1h0m-1 0h0m0 1h0m-1-3h0m-1 2h0m-2 0h0m0-1h0m-1 1h0m-3-1h0m-2 2h0m0-1h0m-1 1h0m-4-2h0m0 2h0m-5-1h0m0 0h0m-2 1h0m0 0h0m-25-1h0m0-3h0m-1 1h0m-1 0h0m-1 2h0m-1 2h0m0-5h0m-5 5h0m0-2h0m0 1h0m-2 1h0m-1-4h0m0 4h0m-1-2h0m-3 0h0m-4-1h0m-1-2h0m-2 4h0m0 0h0m0-1h0m-1 1h0m0-2h0m-5 1h0m0-3h0m0 2h0m-1 1h0m-8-3h0m-1 1h0m-1-1h0m-1 5h0m-8 0h0m-4-2h0m-1 5h0m3-2h0m2 4h0m0-1h0m7-3h0m1 0h0m4 5h0m3-5h0m2 3h0m3-1h0m1 2h0m1-3h0m1 0h0m3 1h0m1 3h0m0-5h0m1 4h0m1 1h0m1 0h0m10-3h0m0 2h0m0-4h0m4 5h0m1-2h0m21 0h0m1 0h0m3-3h0m0 4h0m1-2h0m0 0h0m2-2h0m0 3h0m1 2h0m1-5h0m0 4h0m3-3h0m0 1h0m2-1h0m1 2h0m0-3h0m0 4h0m1-3h0m0 0h0m1 0h0m1-1h0m0 3h0m1-3h0m1 4h0m1-2h0m1 2h0m1-2h0m1-2h0m2 4h0m5 0h0m0-2h0m0 2h0m4 0h0m0-1h0m0 0h0m1-1h0m2-1h0m2 0h0m0 2h0m1 1h0m1-1h0m2 1h0m0 0h0m1 0h0m1 4h0m-1 1h0m0-3h0m0 0h0m-1 0h0m0 5h0m0-2h0m-1-3h0m-2 2h0m-1-1h0m-1 4h0m0-3h0m-1 0h0m-6-1h0m-1 1h0m-1-2h0m-1 0h0m-1 4h0m-2-1h0m-1 0h0m0 1h0m-2-3h0m-1 3h0m-1-1h0m-2-2h0m0 4h0m-1 0h0m0-4h0m-2 2h0m0 1h0m-1 1h0m-4-5h0m-1 5h0m0-4h0m-3-1h0m-3 3h0m0 0h0m-1-2h0m-1 2h0m-1-2h0m0 2h0m-1 2h0m-1-1h0m-1-3h0m-4 0h0m-2 4h0m0 0h0m-3-2h0m0 2h0m-1-1h0m-5 0h0m-4-4h0m-1 1h0m-2-1h0m-12 0h0m-2 5h0m-4 0h0m-1-1h0m-3-2h0m-5 3h0m-4-4h0m0 1h0m-2 1h0m-7 1h0m-1 1h0m-5-1h0m0-2h0m-2 3h0m-4-2h0m-5-1h0m1 9h0m9-1h0m5-2h0m5-1h0m4 3h0m5 1h0m1-1h0m0 0h0m1-2h0m2-1h0m1 2h0m3-1h0m1-1h0m2 0h0m4 1h0m2-1h0m23-1h0m7 1h0m0 0h0m2 1h0m1 3h0m0-3h0m0 3h0m1-4h0m2 0h0m1 3h0m0-2h0m1 1h0m0 0h0m4-3h0m0 4h0m1 0h0m1-1h0m0-1h0m0-1h0m0 1h0m0-2h0m0 1h0m1 0h0m1 2h0m0-3h0m1 0h0m1 0h0m2 3h0m0-3h0m0 3h0m1 2h0m0-4h0m0 0h0m1 3h0m1-4h0m1 1h0m1 2h0m1-3h0m0 3h0m0 2h0m2-1h0m1 1h0m3-3h0m1 3h0m1-5h0m0 3h0m0-1h0m1 1h0m1-1h0m1 2h0m1 0h0m2-3h0m0 1h0m0-2h0m1 1h0m0 2h0m3 2h0m1-2h0m0-2h0m1 4h0m1 0h0m1-4h0m0 3h0m3-4h0m-3 6h0m-1 0h0m-2 2h0m-1 1h0m-3-3h0m-6 5h0m-1-1h0m0-3h0m0 3h0m-2-4h0m0 3h0m-1-1h0m-1 0h0m0-2h0m-3 0h0m-2 1h0m-1-1h0m-1 5h0m0-4h0m0 4h0m-1-5h0m-1 5h0m-1-4h0m-3 2h0m-3 1h0m-1-4h0m-7 1h0m-3 0h0m-1 2h0m-1-2h0m-1 4h0m-26-5h0m-6 4h0m0-1h0m0 2h0m-1-5h0m0 0h0m-1 2h0m0 3h0m-3 0h0m-2-5h0m0 1h0m-1 4h0m-1-1h0m-1 1h0m0 0h0m-1-4h0m-1 0h0m-3 0h0m-2 1h0m-5 3h0m-3-3h0m0 1h0m-1-1h0m-9-2h0m-10 4h0m-18 6h0m9-4h0m2 5h0m1 0h0m0-2h0m3-3h0m2 5h0m6-1h0m13-1h0m3-1h0m1 3h0m1-2h0m0-1h0m0 1h0m1 2h0m3-2h0m0 0h0m1-1h0m3 2h0m0 1h0m0-1h0m1-3h0m0-1h0m1 1h0m3 4h0m0-4h0m2 1h0m4-1h0m2 1h0m1 0h0m0-1h0m0 2h0m27 2h0m1-3h0m1 0h0m0 3h0m1-4h0m0 0h0m5 3h0m1-3h0m3 4h0m0-5h0m2 4h0m0-1h0m1 0h0m2-3h0m1 5h0m0 0h0m1-4h0m1 1h0m0 2h0m1-4h0m2 1h0m1-1h0m1 0h0m3 4h0m0-4h0m0 3h0m1 1h0m0-2h0m1 0h0m1 3h0m5-3h0m1-2h0m1 2h0m0 0h0m0 3h0m0-2h0m1 2h0m2-2h0m0 2h0m0-4h0m2-1h0m1 1h0m6 4h0m1-3h0m0 2h0m1-3h0m0 4h0m2-5h0m0 3h0m0-3h0m3 4h0m1 0h0m1 2h0m-1 1h0m-2 2h0m0-2h0m-1 3h0m-1-4h0m-3 0h0m-1 5h0m0-5h0m-2 1h0m-2 1h0m0 3h0m-1 0h0m0-1h0m-2-2h0m-2 2h0m-4 1h0m-1-3h0m0 2h0m-6 0h0m-1-2h0m0 0h0m-7-2h0m0 5h0m-1-2h0m-1-3h0m0 4h0m-1 0h0m0 1h0m0-1h0m-1 0h0m-1-3h0m-2 2h0m-2 0h0m-3-3h0m0 2h0m-1-1h0m-1 2h0m0 2h0m-1-5h0m0 3h0m-1 0h0m0 1h0m-2 1h0m-1-3h0m0 1h0m-1 0h0m-2-1h0m0 1h0m-27-1h0m-2 0h0m0 1h0m0-1h0m0-1h0m-1 1h0m-1 0h0m0 3h0m-1-3h0m0 3h0m-1 0h0m0-4h0m-1 0h0m0 0h0m0 1h0m-5 2h0m-1-2h0m-1 3h0m-1 0h0m-1-1h0m0-4h0m-2 2h0m0-1h0m-1 2h0m-1-3h0m-2 3h0m-5-3h0m-10 5h0m-1-5h0m-1 2h0m-4 0h0m-1-2h0m-5 3h0m-2 2h0m-9-5h0m-9 10h0m3-2h0m1 0h0m3 3h0m0-5h0m3 5h0m4-3h0m6 1h0m1-2h0m3-1h0m2 5h0m1-1h0m1 0h0m0 0h0m1 0h0m1-2h0m0 0h0m1 0h0m0 1h0m0-2h0m1 3h0m0-1h0m1 2h0m1-4h0m12-1h0m0 4h0m3-1h0m1 2h0m1-1h0m1-4h0m1 4h0m1 0h0m0 1h0m3-1h0m1 1h0m2-5h0m0 1h0m0 4h0m1-3h0m1-2h0m1 0h0m1 2h0m1 0h0m2-1h0m23 4h0m1-3h0m2 2h0m0-2h0m0 2h0m3-2h0m0 0h0m2-1h0m1 1h0m5 2h0m2-3h0m0-1h0m0 3h0m0 0h0m1 2h0m9-4h0m1 4h0m0-4h0m0 4h0m1-2h0m7 2h0m2-3h0m0 2h0m1-1h0m1-1h0m1 3h0m0-1h0m1 0h0m0-1h0m1 2h0m0-1h0m0-3h0m1 0h0m1 3h0m0-3h0m0 1h0m1 1h0m0-2h0m1 1h0m0 1h0m0-3h0m1 4h0m0 1h0m0-3h0m0 2h0m0 1h0m3 0h0m0-3h0m1-2h0m0 1h0m0 4h0m0 0h0m2 0h0m0 0h0m0-5h0m0 1h0m1 1h0m1 0h0m0 3h0m1-5h0m1 1h0m0 0h0m1 1h0m1 2h0m1 1h0m2-5h0m1 0h0m2 1h0m1 4h0m0-4h0m1 0h0m-2 6h0m0 2h0m-1-3h0m0 0h0m-1 0h0m0 1h0m0 1h0m-1-2h0m0 0h0m-2 0h0m-1 0h0m-1 5h0m-1-4h0m0 4h0m-1-1h0m-2 1h0m0-2h0m0 1h0m-1-1h0m-2-3h0m-1 0h0m0 3h0m-1-1h0m-1-2h0m-1 3h0m0-3h0m-3 3h0m-1 0h0m0 2h0m0-2h0m-1-1h0m-1-1h0m0 1h0m-1 3h0m0-2h0m-1-1h0m0-2h0m-1 5h0m0-5h0m0 2h0m0-2h0m-1 1h0m-1 4h0m0-1h0m-1 1h0m0-1h0m-1 1h0m0-3h0m-1 2h0m-2-2h0m-2-2h0m0 5h0m0-2h0m-1 2h0m0-5h0m-1 1h0m0 2h0m0-1h0m-5 2h0m-4 0h0m0-3h0m0-1h0m-2 5h0m-1 0h0m0-2h0m0 2h0m-2-4h0m-1 3h0m-1-1h0m0 0h0m-1-3h0m0 2h0m-3 2h0m0-3h0m-2 0h0m-1-1h0m0 3h0m-1-2h0m0 3h0m-1 1h0m0-5h0m-1 4h0m-2-3h0m-19 3h0m-1 1h0m0-4h0m0 3h0m-2 1h0m-2-3h0m0-1h0m0 3h0m-1-2h0m-1-1h0m0 4h0m0-2h0m0-3h0m-2 5h0m0-2h0m-1-1h0m0 3h0m-1-4h0m0 2h0m-1-3h0m0 1h0m-1 1h0m-4-2h0m0 3h0m-3-1h0m-1 1h0m0 0h0m-1-2h0m0 0h0m-5 4h0m-3-2h0m-6 2h0m-1-1h0m-1 1h0m-1-1h0m-1-4h0m-1 3h0m-4 0h0m0-3h0m-1 0h0m0 3h0m-2-3h0m0 4h0m-11-3h0m-3 4h0m-1 0h0m-1 0h0m-5-3h0m-2 1h0m0 0h0m1 8h0m0 0h0m5-5h0m5 4h0m3-1h0m0 1h0m2-4h0m5 1h0m3 2h0m3 2h0m2-4h0m1 4h0m0 0h0m1-4h0m1-1h0m5 0h0m0 3h0m0-1h0m0-2h0m1 1h0m0 1h0m1 1h0m3 2h0m2-5h0m1 2h0m0-2h0m8 0h0m5 5h0m2-5h0m1 0h0m0 1h0m3-1h0m0 3h0m1 2h0m0-1h0m0 1h0m2 0h0m1-5h0m1 1h0m0 3h0m2 0h0m0-4h0m0 4h0m1-4h0m0 3h0m1-3h0m20 1h0m1 1h0m0 2h0m0-2h0m1-1h0m0 1h0m1 1h0m0-3h0m0 1h0m0 2h0m1 0h0m0-3h0m0 4h0m1 1h0m0 0h0m1-2h0m0 2h0m2-4h0m0 1h0m0 0h0m0 2h0m1-4h0m0 3h0m0 0h0m1-1h0m1 1h0m0-2h0m0 3h0m1-1h0m0 2h0m0-5h0m2 3h0m1-2h0m1 3h0m0-2h0m0-1h0m1 1h0m5 0h0m0-1h0m0-1h0m1 4h0m2-3h0m2 3h0m1-4h0m0 5h0m1-3h0m0 2h0m1 0h0m0-1h0m0-2h0m1 3h0m1 1h0m1-3h0m1 0h0m2 1h0m0-3h0m0 2h0m0-1h0m0 0h0m1 1h0m0 1h0m1 0h0m0-2h0m3-1h0m1 1h0m0 0h0m1 4h0m2-5h0m1 4h0m1-2h0m1 1h0m2-1h0m1-2h0m1 1h0m3 2h0m0-3h0m1 0h0m1 1h0m0 2h0m0-1h0m1-1h0m0 0h0m0-1h0m1 0h0m43 11h0m-4-1h0m-2-3h0m0 0h0m-2 1h0m0 2h0m-1-1h0m-8 2h0m-1-3h0m-5 1h0m-17-1h0m-9-2h0m0 0h0m-1 1h0m-1 0h0m-21 0h0m-3-1h0m0 3h0m-1-2h0m0 3h0m-1-3h0m-1 0h0m0 0h0m-1 1h0m-1-1h0m-1 2h0m-1 2h0m0-3h0m0 2h0m-2-3h0m-1 2h0m0 2h0m-1-1h0m0 1h0m-2-3h0m0 1h0m-4 2h0m-1 0h0m0-3h0m-2-2h0m-1 4h0m0 1h0m-1-3h0m0-1h0m-1 1h0m0-1h0m-1 0h0m0 0h0m-1 0h0m-23-1h0m-1 1h0m-1 0h0m-1 0h0m0 2h0m-1 2h0m-1-1h0m0 1h0m-1-3h0m0 3h0m-1-4h0m0 3h0m0-2h0m-2-2h0m0 1h0m0 1h0m0 3h0m-2-3h0m-1-1h0m-1-1h0m-16 0h0m-2 4h0m0-2h0m-2 1h0m0-2h0m-1 1h0m-2-2h0m-2 3h0m0-3h0m-3 2h0m-1 2h0m-1 0h0m-1-2h0m-2-1h0m0-1h0m-6 3h0m-3 2h0m-1-2h0m-3 0h0m-1-1h0m-1-1h0m-4-1h0m-2 3h0m-2-2h0m-1 1h0m0 2h0m-1 1h0m-2-4h0m-5 2h0m-4-3h0m1 10h0m2-4h0m0 3h0m0 0h0m1 0h0m4 1h0m1-3h0m12 2h0m2-3h0m1 1h0m1 4h0m1-4h0m0 0h0m1-1h0m0 0h0m1 3h0m0 2h0m2-3h0m0-2h0m20 4h0m1-2h0m0 1h0m0-3h0m1 3h0m0-3h0m1 5h0m0-4h0m1 1h0m22-2h0m32 5h0m1-4h0m0 2h0m1 0h0m0-1h0m2 0h0m0 2h0m1-3h0m0 1h0m0 3h0m1-1h0m1-4h0m1 2h0m1 3h0m1-1h0m0 1h0m0-5h0m2 0h0m1 3h0m2-1h0m0 2h0m0-4h0m2 4h0m1-2h0m0 0h0m2-1h0m0 3h0m0-2h0m1 1h0m1-2h0m2 0h0m45 4h0m2-1h0m2 0h0m1 1h0m3-2h0m0 2h0m1 0h0m5-5h0m5 2h0m3 2h0m0-3h0m0 0h0m0-1h0m2 5h0m5-5h0m1 1h0m-9 5h0m-2 2h0m-1 1h0m-1 1h0m-2 0h0m-7-4h0m0 4h0m-1-4h0m-1 3h0m-4 1h0m0-3h0m-1 0h0m0 3h0m-2 1h0m-29-1h0m-22-3h0m-1 4h0m0-4h0m-1 4h0m0 0h0m-1-4h0m0 1h0m0 1h0m-2-1h0m0 1h0m0 1h0m0-1h0m-1-1h0m0 2h0m-1 1h0m-1 0h0m0 0h0m0-5h0m0 5h0m-1-3h0m0 3h0m-1-1h0m-1-1h0m0-1h0m-2 0h0m0 1h0m-2 1h0m-1-3h0m-1 3h0m-1-4h0m-1 0h0m-35 3h0m-16 1h0m-1 1h0m0-1h0m-4-2h0m-3 2h0m-2-1h0m-17-3h0m-1 4h0m0-4h0m0 1h0m-2-1h0m-1 2h0m-2 1h0m-1-2h0m-1 2h0m-9-2h0m-1 0h0m35 5h0m1 1h0m6 2h0m2-1h0m1-1h0m1 0h0m1-1h0m32 1h0m19 0h0m2-1h0m4 0h0m1 0h0m20 5h0m8-2h0m1 2h0m1-2h0m3 1h0m1 0h0m0 1h0m31-5h0m2 1h0m2-1h0m1 1h0m5-1h0m3 0h0m1 1h0m-42 7h0m0 3h0m-1-5h0m0 5h0m0-2h0m-1-3h0m0 2h0m0 3h0m-1-4h0m0 2h0m-1-2h0m-1 1h0m-1-2h0m0 2h0m0-2h0m-1 3h0m-1 2h0m-1-5h0m0 4h0m0-3h0m-1 0h0m0 4h0m0-1h0m-1-4h0m0 0h0m0 0h0m0 4h0m-1-1h0m0 0h0m-1 1h0m-1-4h0m-2 2h0m-1-1h0m0 0h0m0 3h0m-1-3h0m0-1h0m-2 4h0m-1 1h0m-1-2h0m-1 2h0m0-3h0m-1 0h0m-3 0h0m0 1h0m-1 0h0m-1 1h0m-2-1h0m-3 1h0m-21 7h0m0 0h0m2-4h0m1 1h0m0 3h0m0-3h0m2 3h0m0-2h0m1-1h0m1 3h0m2 0h0m1 0h0m1-2h0m1 1h0m0 1h0m1-1h0m1-3h0m0 3h0m0-1h0m0 2h0m1 0h0m0-2h0m1-2h0m0 3h0m1-1h0m0-3h0m0 5h0m2-2h0m0-3h0m1 4h0m0 1h0m1-4h0m0 1h0m0 1h0m0-1h0m1 0h0m1-1h0m0-1h0m1 1h0m0 4h0m0-5h0m2 2h0m1 0h0m0 1h0m3-2h0m0 0h0m0-1h0m3 0h0m1 3h0m1-3h0m1 4h0m1-2h0m1 1h0m1 2h0m2-3h0m1-2h0m0 1h0m0 3h0m1 1h0m0-4h0m1 4h0m1 0h0m0 0h0m1-1h0m0 0h0m1-3h0m1 0h0m0 1h0m0-1h0m1 3h0m0 0h0m1 1h0m1-5h0m1 4h0m0 0h0m0 1h0m1-3h0m0-1h0m0-1h0m1 3h0m2-2h0m1 1h0m0 3h0m0-2h0m0 2h0m5 4h0m-2-1h0m0 0h0m-1-1h0m0 1h0m-1 2h0m-1-3h0m0 3h0m-1 0h0m0-3h0m-1 4h0m-1-2h0m-1-2h0m-1 2h0m0-3h0m-1 5h0m0-1h0m0 1h0m0-4h0m0 4h0m-1-4h0m-1 1h0m0 1h0m0-1h0m-1 1h0m-1-3h0m0 1h0m0 0h0m-1 1h0m0 2h0m-1-1h0m0-2h0m0 0h0m-1 4h0m-1-2h0m-2-2h0m0 3h0m0 1h0m-1-4h0m-1 0h0m0 0h0m0 3h0m-1-4h0m0 1h0m0-1h0m0 2h0m-1 1h0m0-1h0m-1 1h0m0-1h0m0 3h0m-1-3h0m-1 3h0m-1-2h0m0-1h0m0 2h0m-1 0h0m-1 1h0m-1-1h0m0 1h0m-1-5h0m0 4h0m0 0h0m0-1h0m-1 2h0m-1-3h0m0 2h0m0 1h0m-1-4h0m-1 1h0m-1-1h0m0 2h0m0 0h0m-4-3h0m-1 1h0m-1 4h0m0-4h0m-1 0h0m0 1h0m0-2h0m0 3h0m0 0h0m-1-1h0m0 1h0m0 0h0m-1-1h0m0 0h0m-3 1h0m0-3h0m-1 1h0m0 0h0m0 0h0m0 1h0m-1-2h0m0 3h0m-1 1h0m0 0h0m-1 0h0m0-3h0m0 3h0m0 1h0m0-5h0m0 1h0m0 1h0m0 0h0m-1 3h0m-1 0h0m0-4h0m0 2h0m0 2h0m-2-2h0m-1-1h0m0-1h0m-1 4h0m0 0h0m0-2h0m0-3h0m-1 2h0m0-1h0m0 0h0m0 2h0m-1 1h0m0-3h0m-1-1h0m-1 0h0m-1 5h0m-34-2h0m-1 2h0m0-1h0m-1-1h0m0-1h0m-4 2h0m0-2h0m-1 1h0m0-1h0m0 0h0m0-1h0m-1 3h0m0 0h0m-1 0h0m0-4h0m-1 1h0m0 0h0m0 3h0m0-4h0m-2 3h0m0 0h0m0-3h0m-1 4h0m0-1h0m0-1h0m-1-1h0m0 3h0m0-2h0m-1 3h0m0-4h0m0 0h0m-1 3h0m-1-1h0m0 0h0m0 2h0m-1-4h0m0 1h0m-1 0h0m-1 1h0m-1 1h0m0-3h0m-1 3h0m0 1h0m-3 0h0m-2 0h0m-11 4h0m2 2h0m2-3h0m1-2h0m1 4h0m1 1h0m2 0h0m1-5h0m0 3h0m0 2h0m1 0h0m0-4h0m1 4h0m1-1h0m0 0h0m1-4h0m0 2h0m1 1h0m1 0h0m1-1h0m2 0h0m1 2h0m0 0h0m0-2h0m0 1h0m1-3h0m0 1h0m0 2h0m1-2h0m1 2h0m0-3h0m1 1h0m0 2h0m1 1h0m1-2h0m1 1h0m0 2h0m1-1h0m3-4h0m0 1h0m1 0h0m1-1h0m2 0h0m1 1h0m2 4h0m0-3h0m27 3h0m3-2h0m0 1h0m0 1h0m2-3h0m0 3h0m0-3h0m0 3h0m2-2h0m0 1h0m3 1h0m1 0h0m0-1h0m1-4h0m0 2h0m2 0h0m0 2h0m1-3h0m0 0h0m1 3h0m0-3h0m1-1h0m0 1h0m3 4h0m1-3h0m1 2h0m0-1h0m2 0h0m0 1h0m1 1h0m0-2h0m0 1h0m0 1h0m1-3h0m0 2h0m1-3h0m1 2h0m1-2h0m1 2h0m0-1h0m0-2h0m0 4h0m0-4h0m1 2h0m1-1h0m1 4h0m1-3h0m0 1h0m0-1h0m1 1h0m0-3h0m0 4h0m1-4h0m1 4h0m1 0h0m0 1h0m0-5h0m1 3h0m0-2h0m0 1h0m0 1h0m0 0h0m0 2h0m1 0h0m0-1h0m2-1h0m0 0h0m0 1h0m1 0h0m0 0h0m0-2h0m1-1h0m0 4h0m0-4h0m2-1h0m1 3h0m1-3h0m0 2h0m1 2h0m0 1h0m1-1h0m0-4h0m0 4h0m1-2h0m1-1h0m1 0h0m1 2h0m2 2h0m1-3h0m2-1h0m0 4h0m0-2h0m0-1h0m0 3h0m2-3h0m1-2h0m0 3h0m0 2h0m0-1h0m1-3h0m0 4h0m0-2h0m0-2h0m2 2h0m0-2h0m0 3h0m1-4h0m1 5h0m3 0h0m1-2h0m0 0h0m1-3h0m1 2h0m1 2h0m0-2h0m1 7h0m0 2h0m0-1h0m0-3h0m-1 4h0m-1-1h0m0-3h0m0 3h0m-1-2h0m-1 0h0m0 0h0m0-1h0m0 1h0m0 2h0m-1-2h0m0 1h0m-1-2h0m0 3h0m0-2h0m-1 1h0m0-3h0m0 1h0m-1 1h0m0-2h0m0 5h0m-2-2h0m-1 2h0m-2 0h0m-1 0h0m0-2h0m-2-2h0m-1 0h0m-1 4h0m-1-4h0m-1 3h0m0-4h0m-2 5h0m0-5h0m-1 3h0m0 0h0m0 1h0m-3-3h0m-2-1h0m-2 0h0m0 0h0m-2 3h0m-1-1h0m-2-1h0m-1 0h0m-4 1h0m0 2h0m-1-2h0m-1-1h0m0-1h0m-1 3h0m0-2h0m0 2h0m0 1h0m-1 1h0m0-1h0m-1-1h0m-1 0h0m0 0h0m-1 2h0m-1-4h0m-1-1h0m-1 2h0m-1 1h0m-2 0h0m0 2h0m0-3h0m0 0h0m-1-1h0m-1 2h0m0-1h0m-1 2h0m0 0h0m-1 0h0m0-4h0m-2 1h0m-1 3h0m0-3h0m-2 1h0m0-1h0m0 3h0m-1-3h0m0 0h0m0 1h0m0 3h0m-1-1h0m0-2h0m-1 2h0m0-1h0m-1 2h0m0-3h0m-1 1h0m-2-1h0m-2-2h0m-1 1h0m0 4h0m0-5h0m-1 0h0m-2 2h0m0 0h0m-1 3h0m-22 0h0m-1-2h0m0 2h0m-1 0h0m-1 0h0m0-5h0m-6 5h0m0 0h0m-1-5h0m0 2h0m0 2h0m-1-1h0m0-2h0m-1-1h0m-2 4h0m-1-1h0m0-3h0m-1 1h0m-2 0h0m0 0h0m-1 1h0m0-2h0m0 1h0m0 1h0m-1-2h0m0 5h0m0-3h0m0 1h0m0-2h0m-1 4h0m0-5h0m-1 0h0m-1 0h0m0 4h0m-1-1h0m-1 0h0m0 0h0m0 1h0m0-1h0m-2-1h0m0-2h0m-2 4h0m0 0h0m-4 0h0m0 1h0m0-2h0m-1 1h0m-1-2h0m-1 3h0m-2-4h0m0-1h0m-1 3h0m0 2h0m-1-3h0m-1 2h0m-1-4h0m0 5h0m-2-4h0m-1 1h0m-2-1h0m-1 4h0m-2-1h0m6 6h0m0 0h0m0-1h0m3-1h0m1 1h0m2-1h0m0-2h0m0 4h0m0-1h0m0-1h0m2-2h0m1 2h0m0-2h0m1 2h0m0 0h0m0 0h0m0 1h0m3-3h0m1 0h0m0 0h0m0 3h0m1-1h0m1 3h0m1-3h0m0 3h0m0-4h0m1 2h0m0 0h0m0-2h0m0 0h0m1-1h0m0 1h0m0 1h0m1 1h0m0 2h0m0-5h0m1 0h0m1 2h0m0 2h0m0-3h0m3 1h0m0 2h0m0 0h0m1-2h0m0 1h0m0 0h0m1 1h0m0-1h0m2-1h0m0 3h0m0-4h0m1 1h0m0 2h0m0-2h0m1-1h0m0-1h0m0 0h0m1 3h0m0-2h0m0-1h0m0 3h0m1-3h0m0 0h0m4 2h0m0-1h0m0 2h0m0 2h0m1-1h0m1-1h0m1-2h0m1 0h0m0 2h0m1 2h0m0-5h0m1 5h0m0 0h0m1-5h0m0 4h0m0 1h0m1-5h0m1 4h0m0-4h0m1 4h0m1-2h0m3 3h0m13-1h0m1-3h0m2 4h0m2-1h0m0 1h0m0-3h0m1 1h0m1-3h0m0 2h0m1 0h0m0 3h0m0-1h0m0 1h0m0-5h0m1 4h0m0-4h0m0 3h0m1 1h0m1 1h0m0-5h0m1 4h0m0-1h0m0-2h0m0 2h0m2-1h0m1 0h0m0 3h0m0 0h0m0 0h0m0-4h0m1 3h0m0 1h0m0-2h0m1-3h0m0 4h0m0 0h0m1-2h0m1 1h0m1-3h0m0 3h0m1-3h0m0 2h0m1 2h0m1-4h0m0 5h0m0 0h0m1-3h0m1 3h0m0-1h0m0-3h0m1 4h0m2 0h0m1 0h0m1 0h0m1-4h0m1 4h0m1-4h0m0 2h0m0 1h0m1-3h0m1 3h0m0-2h0m1-2h0m1 3h0m1-2h0m0 0h0m0 4h0m1-4h0m1 3h0m4-2h0m2 0h0m0 1h0m0 1h0m2 1h0m1-3h0m0-1h0m1 1h0m0 0h0m1-2h0m1 2h0m3-1h0m0 0h0m0 1h0m0 2h0m2 1h0m0-4h0m1 1h0m0-1h0m3 3h0m0-4h0m1 1h0m1 4h0m0-5h0m0 2h0m1 2h0m1 1h0m0-3h0m0-2h0m2 3h0m0-1h0m0 1h0m1-1h0m0-1h0m1 4h0m0-5h0m1 3h0m0 2h0m0-5h0m1 5h0m0-3h0m1-2h0m0 3h0m2-3h0m2 2h0m1-2h0m1 0h0m-5 8h0m0 0h0m-2 3h0m0-1h0m0 0h0m0-4h0m0 4h0m-1 0h0m-1-2h0m-1 1h0m-1 1h0m0 0h0m0-3h0m-1 0h0m0 4h0m-1-3h0m0-2h0m0 2h0m-1 2h0m-1-3h0m0 0h0m-1-1h0m0 0h0m-1 0h0m0 3h0m-1-3h0m-1 3h0m-1-2h0m0 0h0m-1 0h0m0 4h0m-1-2h0m-1 2h0m0-1h0m0-2h0m-1 2h0m0 0h0m0 1h0m-2 0h0m0-5h0m-1 3h0m-1-2h0m0 2h0m0-3h0m-1 5h0m-1-5h0m0 4h0m-1-4h0m-1 2h0m-1 3h0m0-2h0m-1-2h0m-1 4h0m0-4h0m0 1h0m0 3h0m-1-1h0m-1-2h0m-1 1h0m-2 1h0m0-2h0m0-2h0m-1 1h0m-1 1h0m-1-1h0m0 1h0m-1 0h0m0-2h0m0 4h0m-1 1h0m-1-4h0m0-1h0m0 3h0m0 2h0m-2-2h0m-2 2h0m0 0h0m-1-3h0m0-2h0m0 0h0m0 2h0m-1-2h0m0 1h0m-1 3h0m0-3h0m-1 2h0m0-3h0m0 0h0m0 5h0m-1-1h0m0-2h0m-1 0h0m-1 1h0m0 1h0m0-3h0m-2 1h0m0-2h0m-4 2h0m0-2h0m0 4h0m-1-1h0m0 0h0m0-3h0m-1 5h0m-1-3h0m0 0h0m0-1h0m-2 1h0m0-1h0m0 4h0m0-4h0m-1 2h0m-1 1h0m-2 0h0m0-2h0m-1 3h0m0-2h0m0-3h0m0 4h0m-1 0h0m-1-1h0m-1 1h0m0-3h0m-1 3h0m0-3h0m-1-1h0m0 5h0m0 0h0m0-4h0m-21-1h0m-2 1h0m0 1h0m-1 0h0m0 0h0m0 1h0m-2 0h0m-1 1h0m-2-1h0m0 1h0m0-4h0m0 5h0m-1 0h0m-1-3h0m0 2h0m-1-1h0m0-3h0m-1 3h0m0-2h0m-1-1h0m0 4h0m0 1h0m-1-5h0m0 3h0m-1-2h0m0 4h0m-1-3h0m-1-1h0m0 1h0m0-1h0m-1 0h0m-1 4h0m0-3h0m0 1h0m-1-3h0m0 0h0m0 0h0m0 5h0m-1-2h0m-1 1h0m0-1h0m0-3h0m0 5h0m-1-3h0m-1-1h0m0 1h0m-13-1h0m16 5h0m0 1h0m1-1h0m1 0h0m2 1h0m0 2h0m2-2h0m0-1h0m0 2h0m1 1h0m0 1h0m0-4h0m1 0h0m1 2h0m1-2h0m2 3h0m30-1h0m1-1h0m1 3h0m1-1h0m0 2h0m0-5h0m1 2h0m0 2h0m1-1h0m0 0h0m2-3h0m0 3h0m0 2h0m1-3h0m1 2h0m0-3h0m0-1h0m1 2h0m0 3h0m0-1h0m1-4h0m3 0h0m2 1h0m2 3h0m0-4h0m1 5h0m0-4h0m0 4h0m0 0h0m1-3h0m1-2h0m0 2h0m0-1h0m1 4h0m0-2h0m1 2h0m1 0h0m1-4h0m0 4h0m1-5h0m0 3h0m2-2h0m1 4h0m1-4h0m0 4h0m1-1h0m1-4h0m1 0h0m1 1h0m1 1h0m1 1h0m1 1h0m1-2h0m0 3h0m1-3h0m1 1h0m0 0h0m0-2h0m0 4h0m1-1h0m0-3h0m1 0h0m0 1h0m0-2h0m1 4h0m0-3h0m0 2h0m1-3h0m0 1h0m0 1h0m0-2h0m1 2h0m0-1h0m0 2h0m1 1h0m0 0h0m0-2h0m1 1h0m0 2h0m1-5h0m1 0h0m1 2h0m1 2h0m0 0h0m0-2h0m2 0h0m0-2h0m0 1h0m1 0h0m2-1h0m0 1h0m0 1h0m1 3h0m0-1h0m2-1h0m0 1h0m0-3h0m0 0h0m1-1h0m1 3h0m2 0h0m0-2h0m0 3h0m1 1h0m1-5h0m0 5h0m2-1h0m0-4h0m2 0h0m0 0h0m0 0h0m-4 7h0m-1 3h0m0-1h0m0-3h0m-1 5h0m0-1h0m-1-2h0m0 0h0m0-2h0m-1 0h0m0 3h0m-1-2h0m0-1h0m-1 4h0m0 0h0m0-3h0m-1 0h0m0-1h0m0 2h0m0 1h0m0-2h0m-1 2h0m0-3h0m-1 0h0m0 3h0m0 0h0m-1-3h0m0 2h0m0-1h0m-1-1h0m0 1h0m-1 2h0m-1-3h0m0 2h0m-1 2h0m0-3h0m0 3h0m0-4h0m-1 0h0m-2 0h0m0 3h0m-1-3h0m-1 2h0m0 2h0m-1 0h0m0 0h0m-2-1h0m0-2h0m-1 1h0m-1 3h0m0-2h0m0 0h0m-1 1h0m0-3h0m-1 0h0m-1 4h0m0-2h0m0 0h0m0-3h0m-1 2h0m0 1h0m-1 1h0m0-3h0m-1-1h0m0 4h0m0 1h0m-1-4h0m0 2h0m-1 2h0m0-4h0m-2 4h0m-1-5h0m0 5h0m0-1h0m0-4h0m-1 5h0m-1-5h0m-2 2h0m0 1h0m-1 0h0m0 1h0m0 0h0m0-2h0m0 3h0m-1-1h0m0-3h0m-1 2h0m-1 1h0m0-3h0m-1 2h0m0 0h0m0-1h0m0 0h0m-1-1h0m-1 0h0m0 3h0m0-4h0m-2 4h0m0 0h0m-1-1h0m0 2h0m0 0h0m0-5h0m-1 1h0m0 0h0m0 2h0m0-2h0m0 4h0m-2-1h0m-1-4h0m0 3h0m0-3h0m-3 3h0m0-1h0m-1 0h0m-1 1h0m0 0h0m-1-1h0m0 2h0m-1-3h0m-1 1h0m0 1h0m0 2h0m-1-1h0m-1 1h0m0-4h0m0 4h0m0 0h0m-1-5h0m0 2h0m-1 3h0m0 0h0m0-1h0m-1 1h0m0-2h0m-1 1h0m0 1h0m0 0h0m-1-1h0m-38-2h0m38 7h0m1 0h0m0 1h0m1-4h0m0 0h0m0 0h0m0 0h0m1 4h0m0-1h0m0-3h0m1 4h0m2 1h0m0-4h0m1 2h0m0-1h0m1 2h0m0 0h0m0 1h0m2-5h0m0 0h0m1 2h0m0-2h0m1 2h0m0-1h0m0 4h0m1-1h0m0-3h0m0 0h0m1 4h0m0-2h0m1-3h0m0 1h0m0 4h0m0-5h0m1 1h0m1 4h0m1 0h0m0-5h0m0 2h0m0-2h0m1 3h0m0 2h0m1 0h0m0-3h0m1-1h0m1-1h0m1 1h0m0 0h0m1 3h0m1-1h0m0-3h0m0 0h0m1 4h0m0 0h0m0 1h0m0-3h0m0 3h0m1-1h0m0-3h0m1 0h0m0 2h0m1 2h0m0-3h0m0-1h0m0 0h0m3 1h0m1 3h0m1-4h0m0 2h0m0-3h0m0 2h0m2 1h0m1-3h0m0 4h0m1-1h0m0 1h0m0-3h0m0-1h0m1 5h0m0-4h0m0 0h0m0 3h0m1 0h0m1-2h0m0 1h0m0-3h0m0 3h0m1 1h0m1 0h0m0-3h0m0-1h0m1 5h0m3-5h0m1 0h0m0 0h0m0 5h0m1 0h0m0 0h0m1-5h0m0 2h0m1 2h0m2 1h0m1-1h0m0 1h0m0-4h0m0 1h0m0 2h0m1 0h0m1-2h0m0 3h0m0-5h0m1 4h0m1-2h0m0 2h0m1-4h0m0 4h0m0-2h0m0 0h0m1 0h0m0-2h0m1 1h0m0-1h0m0 0h0m1 4h0m1-4h0m-9 6h0m-6 2h0m0-2h0m0 1h0m-3 0h0m-2 0h0m-1 0h0m-1 1h0m0 1h0m0-3h0m0 5h0m-2-4h0m-2-1h0m-1 2h0m0-1h0m0-1h0m-1 0h0m-1 1h0m0 0h0m-1 4h0m0-2h0m0 0h0m-1 2h0m0-5h0m0 3h0m0-3h0m0 0h0m-1 4h0m0-2h0m0 3h0m-1-5h0m0 4h0m0-3h0m-2 4h0m0-5h0m0 3h0m0-1h0m-1-1h0m0 2h0m-1-2h0m0 1h0m-1 3h0m0-5h0m-1 5h0m0-3h0m0-2h0m0 4h0m-1-4h0m0 4h0m-1 0h0m0-2h0m-1 0h0m0 1h0m-1-3h0m-1 1h0m0 1h0m0 1h0m0-3h0m0 0h0m0 4h0m-1-3h0m0 0h0m-1 4h0m0-2h0m0 0h0m-3 1h0m0 1h0m0-5h0m-1 5h0m0-2h0m0-1h0m-1-1h0m-1 2h0m0 0h0m-1 0h0m0-1h0m-1 2h0m0 1h0m-1-2h0m0 0h0m-1-3h0m-2 1h0m0 1h0m-1 0h0m-1 2h0m0 1h0m0-4h0m-1 3h0m-1-3h0m0 0h0m0 0h0m5 7h0m0-2h0m0 3h0m1-2h0m1 3h0m1-4h0m0 5h0m1-3h0m0-1h0m0 3h0m2-4h0m0 1h0m1 4h0m1 0h0m0-3h0m0 2h0m0-3h0m0 4h0m2-3h0m0 3h0m2-1h0m1-4h0m1 2h0m0-1h0m1 3h0m0-4h0m0 5h0m1-4h0m2 0h0m0 0h0m1-1h0m1 3h0m0-1h0m0-1h0m1 1h0m0 2h0m1-3h0m2 3h0m0-3h0m1 4h0m0-4h0m1-1h0m0 1h0m1-1h0m1 2h0m1 0h0m0 0h0m-3 5h0m-5-1h0m-5 4h0m-1 1h0m-1-2h0m0 0h0m-1-1h0m0 0h0m-1-1h0m0 1h0m-1 1h0m0-3h0m0 1h0m0 2h0m-1-1h0m-2-2h0m-1 1h0"/>
<path stroke="#649ac7" d="m151 97h0m-65 14h0m4 13h0m-56 7h0m36 5h0m-44 7h0m47 1h0m123 8h0m-3 7h0m-7 3h0m-110 43h0"/>
<path stroke="#86bcd9" d="m113 69h0m-16-1h0m16 9h0m-10 8h0m2 4h0m3-5h0m53 8h0m-10 0h0m-14 9h0m18 3h0m-7-1h0m-32 4h0m-40 4h0m10-1h0m49-2h0m26 4h0m-75 4h0m-13-1h0m-22 0h0m-3 8h0m23 2h0m3 0h0m14-3h0m0 0h0m0 14h0m-6 2h0m-27 8h0m31-2h0m14 4h0m115 5h0m-8 0h0m-18 1h0m-58-4h0m-47 2h0m-25 1h0m-13-1h0m-8-2h0m-22 3h0m-5 3h0m201 5h0m-13 2h0m-90 3h0m-42 0h0m123 2h0m-141 22h0m-2-1h0m-14 8h0m9-5h0m-16 11h0m8 6h0m7-3h0m25 7h0"/>
<path stroke="#abd9e9" d="m120 66h0m-4 4h0m-13 1h0m-6-4h0m-9 5h0m13 1h0m4 1h0m10 6h0m-9 0h0m-3 3h0m-4 0h0m-10-5h0m0 3h0m-17-2h0m13 9h0m15 1h0m1-3h0m45 2h0m1 3h0m-45 1h0m-6 2h0m-15 0h0m-15-3h0m-10 7h0m78 1h0m11 1h0m6-2h0m21 0h0m-1 9h0m-16-5h0m-3 1h0m0 2h0m-1-1h0m-1 2h0m-2 1h0m0-1h0m-1-3h0m-8 2h0m-4-3h0m-15 2h0m-52 3h0m-11 5h0m70-4h0m3 0h0m8 2h0m15-1h0m10 4h0m8-1h0m-25 5h0m-24-3h0m-43 5h0m-12-2h0m-2-1h0m0 0h0m-15 0h0m-4-2h0m0 5h0m-4 1h0m29 1h0m6-1h0m9 2h0m54-2h0m6 4h0m11-4h0m12 1h0m-9 9h0m-7-4h0m-2 3h0m-27-2h0m-5 3h0m-34 0h0m-1-1h0m-12-2h0m-27 4h0m-22-1h0m21 2h0m30 5h0m15-1h0m40 0h0m0 0h0m28 1h0m6-5h0m6 0h0m-9 6h0m-15 4h0m-26-4h0m-1 5h0m-26-1h0m-1-1h0m-11-1h0m-28 2h0m-20 1h0m-2-5h0m-2 4h0m-4-4h0m0 3h0m-4 1h0m2 3h0m4-1h0m6 4h0m8 1h0m1-1h0m5-3h0m36 4h0m10-2h0m123 7h0m-11-4h0m-1 2h0m-2 0h0m-33-2h0m-109 2h0m-22-2h0m-7 2h0m-12 1h0m-6-3h0m18 7h0m2 1h0m9 2h0m159-3h0m0 0h0m8 2h0m5-3h0m0 1h0m2 0h0m-11 8h0m-6 2h0m-140-5h0m-3 4h0m141 2h0m-38 10h0m-9-3h0m14 14h0m-1-2h0m-4 0h0m-123 8h0m6-3h0m5 5h0m2-1h0m6 1h0m99-5h0m-6 9h0m-94 1h0m-19 0h0m-1-4h0m0 6h0m0 2h0m1 1h0m2-2h0m13 3h0m76-2h0m33 1h0m-50 6h0m14 8h0m-7 29h0"/>
<path stroke="#ceeaf3" d="m112 70h0m-2-2h0m-11-1h0m-7 3h0m-3 2h0m13 4h0m15-3h0m-1 6h0m-8 2h0m-6-1h0m-14 3h0m-5-1h0m-2 1h0m-2-2h0m-7 2h0m0-2h0m0-1h0m-8 2h0m5 3h0m3 2h0m16 1h0m2-2h0m22 0h0m0 2h0m36 1h0m1-1h0m5-4h0m2 3h0m14 6h0m0-1h0m-1 3h0m-1-3h0m-3 0h0m0 2h0m-2-4h0m-1 1h0m-2 4h0m-4-1h0m-3-3h0m-3-1h0m-2 3h0m-5 2h0m-2 0h0m0-2h0m-3 1h0m-2 0h0m-38-3h0m-5 3h0m-7-3h0m-1 3h0m-6-4h0m-5 0h0m-1 3h0m-11-2h0m-3 4h0m15 6h0m0-2h0m2-2h0m4-1h0m4 2h0m2 0h0m5 1h0m1-3h0m34 4h0m0 0h0m1 1h0m24-2h0m0 1h0m4 0h0m16 1h0m2-1h0m1 1h0m-2 1h0m0 5h0m-9 0h0m-14-2h0m-3 0h0m-1 0h0m-1-1h0m-4 2h0m0-3h0m-2 4h0m-8-2h0m0-1h0m-2 2h0m-2 1h0m-7-2h0m-4 0h0m-16-3h0m-22 0h0m-15 5h0m-12-3h0m8 5h0m3 4h0m9 0h0m17-4h0m0 3h0m4 0h0m31 0h0m17-4h0m6 3h0m20 0h0m2 2h0m3-2h0m-7 5h0m-6 3h0m-3 0h0m-1-1h0m-2-2h0m-5-2h0m-1 3h0m-1 2h0m-2 0h0m-4 0h0m-6-2h0m-1 0h0m-6-3h0m-42 0h0m-5 2h0m-10 2h0m-34 5h0m3 2h0m6-5h0m0 0h0m3 3h0m4-1h0m10 2h0m8-4h0m2 3h0m8 2h0m11-5h0m30 2h0m3 1h0m34 2h0m2-3h0m4-2h0m10 1h0m0 4h0m2 4h0m-5 1h0m-6-3h0m-31 2h0m-51-1h0m-10 1h0m-23-1h0m-19-1h0m3 10h0m0-4h0m14 1h0m2-1h0m5 3h0m20-3h0m4 1h0m3-2h0m1 2h0m0 0h0m57-2h0m19 1h0m-8 8h0m-12 1h0m-45 0h0m-3 1h0m-4-1h0m-5-4h0m-4 1h0m-24 0h0m-2-1h0m-6 1h0m-14-1h0m0 4h0m-9 1h0m-1-3h0m24 6h0m0-1h0m1-1h0m1 4h0m2-3h0m4 0h0m2 4h0m6-3h0m20 2h0m5 0h0m6-3h0m2-1h0m48 4h0m8-4h0m4 4h0m9-1h0m9 0h0m27 2h0m17 5h0m-16-1h0m-6-2h0m-56 2h0m-5-2h0m-51 2h0m-18-3h0m-5 1h0m0 0h0m-20 3h0m-1-1h0m-1 1h0m-6 1h0m-4-2h0m-7-2h0m-5 8h0m7-2h0m11 3h0m28-3h0m64 2h0m8-1h0m57 0h0m2-2h0m1 2h0m0-1h0m4-1h0m1 4h0m5-1h0m1 0h0m1 0h0m1-3h0m2 0h0m10 2h0m-7 4h0m-12 1h0m-5-1h0m-1 0h0m0 2h0m-117 2h0m-13-4h0m-1 1h0m-2 2h0m-21-2h0m-4-1h0m-1 2h0m-2-1h0m-3 2h0m-1-2h0m30 6h0m7 2h0m1 0h0m61-3h0m60 0h0m1 1h0m6 1h0m-85 14h0m45-1h0m-13 3h0m-79 0h0m-20 5h0m-14 6h0m2 0h0m2 0h0m5 0h0m0 0h0m8-5h0m4 4h0m4-4h0m7 5h0m1 0h0m61-3h0m4-1h0m15-1h0m-76 10h0m-12-3h0m-1 4h0m-16-1h0m-5-3h0m0-1h0m-1 1h0m-6 4h0m10 2h0m3-1h0m17 1h0m3 1h0m19-1h0m20 4h0m9-3h0m19 1h0m21 2h0m13-2h0m-41 7h0m-60-2h0m-3 2h0m9 3h0m81 2h0m6-3h0m-2 11h0m-11-2h0m-6-2h0m-14 1h0m-2 1h0m-1-2h0m-2 6h0m15 1h0m14 0h0m-29 5h0m-18-1h0"/>
<path stroke="#eaf7e5" d="m102 63h0m6-3h0m4 4h0m7 3h0m-1 0h0m-7 3h0m-8 1h0m-6 0h0m-14 3h0m2 3h0m0-4h0m3 3h0m11 0h0m2 1h0m5-4h0m0 1h0m1 1h0m18 5h0m-20-2h0m-1 5h0m-1-3h0m-2-1h0m0 4h0m-1-2h0m-11 1h0m-2 0h0m-2-3h0m-4 2h0m-4-1h0m-1-1h0m-2 0h0m0 1h0m-1 1h0m-2 0h0m-7 8h0m2-4h0m8-1h0m4 0h0m5 0h0m1 4h0m64-1h0m1 2h0m3-5h0m3 4h0m1-2h0m0 1h0m3 0h0m5 2h0m-9 2h0m-2 3h0m-9 1h0m0-3h0m-1 0h0m-34 1h0m-10-1h0m-9 2h0m-3-2h0m-6 0h0m-4 2h0m-18-2h0m-10 8h0m0-4h0m1 3h0m2 1h0m3-1h0m1 1h0m3-4h0m2 4h0m8-1h0m3-2h0m1-1h0m3 2h0m4 3h0m2-1h0m4-4h0m18 1h0m1-1h0m2 0h0m1 0h0m22 3h0m9-2h0m6-1h0m6 2h0m6-1h0m2 4h0m3-2h0m4 1h0m7 0h0m-23 7h0m-1-2h0m-4 0h0m-9-3h0m-2 4h0m0-1h0m-2-2h0m0 1h0m-10 3h0m-4-3h0m0 1h0m0 1h0m-4-1h0m-3 1h0m-19 1h0m-3-4h0m-5 3h0m0 0h0m-17 0h0m-6 0h0m-11-1h0m-2 0h0m-9 6h0m4-3h0m2 0h0m2 3h0m2 1h0m5-2h0m0 0h0m3 0h0m1-2h0m3 2h0m1-1h0m3 1h0m9-1h0m7 2h0m0 1h0m0-1h0m44 1h0m1-2h0m8 0h0m1 1h0m3-3h0m7 5h0m3-2h0m1-1h0m3 3h0m2-5h0m7 3h0m1-1h0m3 3h0m1-2h0m1 0h0m-9 5h0m-1 2h0m-15 1h0m-3-2h0m-3 1h0m-1-4h0m-6 4h0m-49-4h0m0 4h0m-11-2h0m-2 2h0m0-3h0m0 4h0m-4-2h0m-12 2h0m-1 0h0m-5-2h0m0 2h0m-4-3h0m-13 7h0m1 0h0m4-2h0m1 2h0m1 0h0m1 2h0m13-4h0m1 4h0m16 0h0m1-2h0m1 2h0m0-4h0m0 3h0m8-1h0m5-3h0m4 1h0m36 2h0m0 0h0m1-3h0m2 5h0m7-1h0m9-4h0m3 0h0m2 3h0m8 1h0m14-2h0m-2 6h0m-7 1h0m-37 1h0m-1-3h0m-1-1h0m-47 1h0m-16 0h0m-9 1h0m-4 1h0m-5 2h0m0-2h0m-1-1h0m1 5h0m1-1h0m2 1h0m14 0h0m20 0h0m11 3h0m61-2h0m16 2h0m1 0h0m10-2h0m0 4h0m-2 4h0m-2-4h0m-33 2h0m-2 1h0m-44-2h0m-6 2h0m-8-2h0m-3 1h0m-4 2h0m-1-2h0m-1 0h0m-9 1h0m-1-2h0m-1-1h0m-2 3h0m-13 0h0m-8-1h0m-1-1h0m0 4h0m-2-4h0m0 2h0m-4-1h0m-1 1h0m-1 1h0m-1-4h0m0 1h0m-1 2h0m-2 2h0m-3 0h0m-1 0h0m10 5h0m2-4h0m4 0h0m1 0h0m6 5h0m3 0h0m10-2h0m0-3h0m8 2h0m22 3h0m8-2h0m46 1h0m31 0h0m2 0h0m37 1h0m8 6h0m-3-2h0m-1-2h0m-4 0h0m-7 0h0m-6 3h0m0 0h0m-59-3h0m-1-1h0m-7 2h0m-77-2h0m0 2h0m-1 0h0m-4-2h0m-4 4h0m-6-4h0m0 0h0m-7 5h0m0-4h0m-1 4h0m-2-5h0m0 1h0m-2-1h0m-9 1h0m-3 0h0m-1 0h0m0 0h0m2 7h0m2 1h0m10-2h0m14 0h0m1 1h0m1 2h0m23-2h0m0 1h0m74-3h0m52 3h0m3 0h0m9 2h0m9-3h0m2 3h0m3-3h0m-26 4h0m-57 1h0m-106-1h0m36 6h0m9 0h0m121 2h0m10 0h0m3-1h0m-55 6h0m-42 8h0m34-2h0m15 2h0m8 7h0m-23-4h0m-86 3h0m-6-1h0m-17 6h0m5 0h0m1 2h0m13-1h0m0-1h0m5 3h0m12-2h0m1 2h0m38-3h0m12-2h0m27 4h0m10 3h0m-103 1h0m-1 2h0m-9-1h0m0-3h0m-3 2h0m-1 2h0m-6 1h0m-5-5h0m-3 7h0m2 0h0m49 2h0m77-1h0m7 3h0m-19 4h0m-81 2h0m-10-1h0m45 3h0m11-1h0m8 1h0m10 4h0m26-5h0m5 4h0m4-4h0m-29 11h0m-32-1h0m-5 1h0m-2 5h0m36 1h0m-15 11h0m6 3h0m0-1h0m-10 1h0"/>
<path stroke="#ffffbf" d="m104 61h0m9 4h0m4-1h0m3 5h0m-1-2h0m-2 1h0m-6 2h0m-2-4h0m-2 4h0m-1 1h0m-2-3h0m-4 2h0m-17 7h0m4-1h0m0 0h0m3-1h0m1-3h0m7 1h0m1 4h0m1 0h0m1-5h0m4 3h0m6-3h0m0 5h0m7-1h0m4-4h0m-16 7h0m-1 4h0m-3-4h0m-14 3h0m-2-2h0m-2 2h0m0-1h0m-1-3h0m-2 3h0m-5 2h0m-4 0h0m-1-2h0m-2-2h0m-4 4h0m-2-1h0m6 6h0m1-1h0m3-2h0m1 2h0m8-3h0m1 2h0m5 3h0m2-4h0m18 2h0m40 2h0m1-3h0m3 6h0m-4-2h0m-4 1h0m-46-1h0m-1 3h0m0-3h0m-14 4h0m-1 0h0m0 1h0m-1-1h0m0 0h0m-1 1h0m-16 0h0m-1-4h0m-1 0h0m-13 10h0m7-5h0m8 4h0m2-4h0m0 1h0m1 3h0m0 0h0m3 0h0m2-2h0m2 1h0m1 1h0m3-4h0m3 4h0m5 0h0m6-1h0m8-3h0m4 0h0m38 2h0m3-2h0m14 5h0m8 0h0m2-5h0m-1 8h0m-3-2h0m-1 4h0m-3-4h0m-14 2h0m-1 0h0m-1-2h0m-8 2h0m-45-1h0m-6 0h0m-5 1h0m0-2h0m-11 4h0m-1 0h0m-5-3h0m-7 3h0m0 0h0m-8-1h0m-2-1h0m-4 2h0m-5 7h0m5-2h0m0 0h0m13 0h0m0-2h0m5 1h0m5 2h0m0 0h0m1 0h0m0-1h0m2 2h0m12-4h0m0 3h0m4-4h0m37 0h0m3 5h0m1-1h0m3-1h0m4-1h0m5-2h0m17 2h0m9 1h0m2 4h0m-1 4h0m-5 0h0m-18-3h0m-18-1h0m-1 2h0m-34-1h0m-4 0h0m-17-2h0m-1 2h0m0-2h0m-3 2h0m-4-2h0m-11 2h0m-2 0h0m0-2h0m-2 1h0m-5 1h0m0 1h0m-2-3h0m-7 8h0m3 3h0m4-4h0m5 4h0m3-5h0m3 5h0m2-3h0m1 3h0m27-1h0m3-3h0m10 3h0m62 1h0m7 2h0m-1 0h0m-14 0h0m-74 0h0m-4 2h0m-5 1h0m-3-4h0m-7 3h0m-1-3h0m-6 0h0m-3 3h0m-4 2h0m0-4h0m-3 4h0m-2-4h0m0 0h0m-3 4h0m0-4h0m-4 0h0m-1 4h0m-4 5h0m2-4h0m3 2h0m1 0h0m5 0h0m5-1h0m3 0h0m3 3h0m6-1h0m1 1h0m2-3h0m1 4h0m19-4h0m0 3h0m1 0h0m11-3h0m32-1h0m45 11h0m-17-5h0m-62 1h0m-6-1h0m-3 0h0m-2 5h0m-12-1h0m-4-1h0m-7 2h0m-1-1h0m-1 1h0m-14 0h0m-2 0h0m-2 0h0m-2-4h0m-10 4h0m-5 5h0m2-3h0m3 0h0m2 3h0m3-4h0m10 1h0m10 0h0m0 1h0m5 2h0m18-1h0m18-3h0m2 5h0m1-3h0m57 1h0m3-1h0m21 2h0m29 1h0m17 5h0m-5-4h0m-6 3h0m-7 2h0m-1-3h0m-3 1h0m-72-2h0m-27-1h0m0 0h0m-5 0h0m-5 2h0m-1-2h0m-2 1h0m-19 4h0m-12-4h0m-11 3h0m-7-2h0m-2 3h0m-7 0h0m-1-1h0m0-4h0m-5 5h0m-3-4h0m-1 6h0m4 1h0m6-1h0m1-1h0m1 0h0m4 1h0m6 4h0m7-5h0m1 3h0m148-3h0m3 5h0m0-1h0m2-4h0m0 4h0m1-1h0m0-1h0m2-1h0m2 2h0m11-2h0m-7 10h0m-5-1h0m0 1h0m-9-5h0m-150 1h0m-5 3h0m-2-3h0m-19-1h0m177 6h0m3 2h0m10-2h0m-46 8h0m1 6h0m-48 8h0m-83 7h0m7-1h0m11-2h0m0 0h0m92 1h0m19 4h0m-2 1h0m-17 0h0m-30 3h0m-43-5h0m-35 6h0m4 3h0m40 2h0m32-5h0m11 1h0m31 10h0m-11-4h0m-22 1h0m-2 8h0m26-2h0m12 0h0m-30 5h0m-1 7h0m-5 9h0m-11-5h0m-6 4h0"/>
<path stroke="#feeaa0" d="m100 64h0m12 1h0m9 4h0m-7-3h0m-13 3h0m-10 3h0m3 3h0m0-2h0m4 1h0m1 3h0m1-4h0m0-1h0m16 6h0m-2 2h0m-10 2h0m-1 1h0m-13 0h0m-2-2h0m-2-2h0m0 3h0m-2 1h0m-3-5h0m-4 5h0m-1-4h0m-7 1h0m-2 8h0m2-3h0m1-1h0m1 2h0m6-2h0m2 0h0m35 1h0m-16 7h0m-19 0h0m0 2h0m-5-1h0m0 1h0m-1-2h0m-1-1h0m-2 2h0m-2 2h0m-1-1h0m-4 1h0m-4-5h0m-1 1h0m-3 3h0m-5 3h0m29 4h0m0-5h0m11 0h0m44 11h0m-75-5h0m0 0h0m-3 0h0m-1 1h0m-2 0h0m-7 2h0m-2-1h0m0 9h0m3-5h0m8 1h0m1 4h0m6-4h0m3 3h0m6-2h0m1 1h0m5 0h0m6-3h0m3 5h0m36-2h0m30 2h0m-14 4h0m-64-3h0m-2 3h0m-9-1h0m-12 2h0m-13 1h0m-6 6h0m11-3h0m2 3h0m0-1h0m0 1h0m2 0h0m0-3h0m1 3h0m3-1h0m48-1h0m-11 5h0m-8-2h0m-30 5h0m0-3h0m-1 2h0m-3-4h0m-3 0h0m-1 1h0m0 0h0m-2 0h0m-1 4h0m-2-5h0m-1 4h0m-1-2h0m-8-2h0m-4 7h0m54 2h0m7 2h0m-38 6h0m-4-3h0m-15 2h0m0-2h0m-3 1h0m-5 1h0m-1 3h0m1 4h0m7-2h0m1 0h0m9-2h0m5 0h0m2-1h0m98 4h0m60-1h0m2 1h0m3 0h0m2 3h0m-1-1h0m-5 1h0m-2 0h0m-5 1h0m-4 1h0m-129-3h0m-38 4h0m-1 1h0m-3-1h0m-1-3h0m-4 4h0m-2 2h0m1 0h0m5 4h0m1-1h0m1 1h0m16-4h0m173-1h0m3 1h0m-19 6h0m-1 4h0m-6-3h0m-59 2h0m-102-4h0m-1 2h0m-5-2h0m172 8h0m-47 35h0"/>
<path stroke="#fecf80" d="m102 71h0m-12 0h0m-1 6h0m17 3h0m-7-1h0m0 0h0m-22 3h0m-18 7h0m15-2h0m7 1h0m0 1h0m-6 1h0m-14 2h0m-4 6h0m9-1h0m16 3h0m2-4h0m-33 16h0m4-3h0m0-1h0m5 4h0m0-4h0m6 2h0m2-1h0m-16 6h0m-8 4h0m-1-1h0m-8 6h0m5-4h0m14 9h0m-3 0h0m-15 0h0m-10-1h0m3 5h0m15 1h0m-11 9h0m-16 5h0m182 7h0m-4-3h0m-2-1h0m-135 0h0m-44 3h0m0 2h0m1 0h0m12 0h0m6 4h0m160-3h0m1 0h0m13 5h0m-15 5h0m-172-5h0m-8 0h0"/>
<path stroke="#fdae61" d="m102 62h0m-8 14h0m17 5h0m-44 2h0m-9 17h0m-28 23h0m3 0h0m15 20h0m-26-5h0m14 7h0m168 5h0m-173 0h0m-18 2h0m10 6h0m6-2h0m172 5h0m0 6h0"/>
</g></g><use href="#t101" stroke-width="3.5"/></g>
<path d="M391 1431.7V1641.9H617.7" fill="none" stroke="#000" stroke-width="1.9"/>
<text x="391" y="1654.7" font-size="9.4" text-anchor="middle" fill="#333">−50</text>
<text x="443.9" y="1654.7" font-size="9.4" text-anchor="middle" fill="#333">−25</text>
<text x="496.7" y="1654.7" font-size="9.4" text-anchor="middle" fill="#333">0</text>
<text x="549.5" y="1654.7" font-size="9.4" text-anchor="middle" fill="#333">25</text>
<text x="602.4" y="1654.7" font-size="9.4" text-anchor="middle" fill="#333">50</text>
<text x="386.4" y="1435.7" font-size="9.4" text-anchor="end" fill="#333">50</text>
<text x="386.4" y="1488.5" font-size="9.4" text-anchor="end" fill="#333">25</text>
<text x="386.4" y="1541.3" font-size="9.4" text-anchor="end" fill="#333">0</text>
<text x="386.4" y="1594.1" font-size="9.4" text-anchor="end" fill="#333">−25</text>
<path d="M391 1641.9v3.2M443.9 1641.9v3.2M496.7 1641.9v3.2M549.5 1641.9v3.2M602.4 1641.9v3.2M391 1432.2h-3.2M391 1485h-3.2M391 1537.8h-3.2M391 1590.6h-3.2" stroke="#000" stroke-width="1.5" fill="none"/>
<text x="504.2" y="1675.2" font-size="14" text-anchor="middle">tSNE_1</text>
<text x="374.5" y="1537.2" font-size="14" text-anchor="middle" transform="rotate(-90 374.5 1537.2)">tSNE_2</text>
<text x="537.2" y="1362.1" font-size="33.5" text-anchor="middle" font-style="italic" stroke-width="0.40">Stat5a</text>
<rect x="629.3" y="1513" width="12.1" height="58.5" fill="url(#rb)"/>
<text x="629.7" y="1509" font-size="7.3" fill="#222">Scale.data</text>
<text x="644.7" y="1517.1" font-size="6.1" fill="#333">5</text>
<text x="644.7" y="1527.2" font-size="6.1" fill="#333">4</text>
<text x="644.7" y="1537.5" font-size="6.1" fill="#333">3</text>
<text x="644.7" y="1548" font-size="6.1" fill="#333">2</text>
<text x="644.7" y="1558.1" font-size="6.1" fill="#333">1</text>
<text x="644.7" y="1568.4" font-size="6.1" fill="#333">0</text>
<path d="M629.3 1514.9h2.3M641.4 1514.9h-2.3M629.3 1525h2.3M641.4 1525h-2.3M629.3 1535.3h2.3M641.4 1535.3h-2.3M629.3 1545.8h2.3M641.4 1545.8h-2.3M629.3 1555.9h2.3M641.4 1555.9h-2.3M629.3 1566.2h2.3M641.4 1566.2h-2.3" stroke="#fff" stroke-width="0.5" fill="none"/>
<g transform="translate(715.8 1382.6)" fill="none" stroke-linecap="round"><g stroke-width="4.2"><g id="t102">
<path stroke="#4575b4" d="m120 85h0m31 13h0m-20 17h0m-39 4h0m-7 5h0m53-1h0m30 5h0m-6-2h0m-5 5h0m-5-3h0m-57-1h0m-21 5h0m7 5h0m1-2h0m70 5h0m-12 3h0m-25-1h0m-2-4h0m-5 0h0m-34 4h0m-32 5h0m26-2h0m10 3h0m1-2h0m31 3h0m0-3h0m4 1h0m5 2h0m2-2h0m23-3h0m18 3h0m35 7h0m-28 1h0m-38-4h0m-10 1h0m-33 0h0m-2 0h0m-4 0h0m0 1h0m-7-1h0m50 5h0m77 2h0m5-2h0m0 2h0m-4 6h0m-11 1h0m-5-1h0m-61 2h0m0-5h0m-3 2h0m-10 0h0m-2 1h0m-39 4h0m6-1h0m17 4h0m10-3h0m13-1h0m6 1h0m1 0h0m4 1h0m23-1h0m43 2h0m-43 4h0m-6 2h0m-38 8h0m10-2h0m9-1h0m2 3h0m15-4h0m7 4h0m1 5h0m-12-1h0m-11 2h0m-11 0h0m-4-1h0m-3-2h0m-6 1h0m0 0h0m-43 2h0m-5-2h0m-3 0h0m0 1h0m0 1h0m-20 6h0m7 0h0m12-5h0m0 2h0m2-2h0m1 0h0m1 1h0m4 2h0m4 0h0m31 2h0m25 0h0m1-3h0m4 2h0m12 1h0m16 0h0m-19 2h0m-8 3h0m-2-1h0m-8-3h0m-2 0h0m0 4h0m-3-3h0m-7 2h0m-1-3h0m-6 1h0m-1 1h0m-1 1h0m0-3h0m0 2h0m-2-1h0m-1 3h0m-31-2h0m-12-2h0m-3 0h0m-3 0h0m-6 0h0m-6 1h0m-7 8h0m7 1h0m2-2h0m1 0h0m3 1h0m0 2h0m6-1h0m1-1h0m1 2h0m0-2h0m1 0h0m1-1h0m1 0h0m4 3h0m15-2h0m1-2h0m3 2h0m20 0h0m3 2h0m4-3h0m4-2h0m2 3h0m2-1h0m2 3h0m1-2h0m1 0h0m1-1h0m0-2h0m0 0h0m26 4h0m11-3h0m-12 7h0m0 3h0m-10-2h0m-4 1h0m-5-3h0m-3 0h0m-2 1h0m-8 0h0m0-1h0m-1 3h0m-4-4h0m-4 4h0m-2-4h0m-1 3h0m-1-1h0m-2-2h0m-12 1h0m-10 2h0m-8 1h0m-1-1h0m0-1h0m-4 1h0m-2 0h0m6 4h0m2 3h0m2-4h0m2 0h0m30 4h0m0-1h0m3 2h0m0-2h0m6-2h0m5 2h0m21 0h0m2 2h0m1-2h0m26-3h0m-7 10h0m-4 1h0m0-3h0m-17 3h0m-5-2h0m-1 0h0m-1-1h0m-2 0h0m-3 3h0m-1-4h0m-3 3h0m-1 1h0m-2-1h0m-2-1h0m-1-3h0m-4 4h0m-2 1h0m-1-1h0m-3 0h0m-48-1h0m39 4h0m0 0h0m1-1h0m0 5h0m0-4h0m1-1h0m2 4h0m7-2h0m6 1h0m8-1h0m1 1h0m7 2h0m3-5h0m1 3h0m1 2h0m2-4h0m9 2h0m1 2h0m2-2h0m1 2h0m2 0h0m3-4h0m3-1h0m-24 7h0m-4 2h0m-1-1h0m-1-1h0m-1 1h0m0 2h0m-3 0h0m0 1h0m-6 0h0m-3-1h0m-1-4h0m-1 2h0m0-1h0m-1 3h0m-1 0h0m-3 1h0m-2-4h0m0-1h0m-4 4h0m-3-1h0m-1 0h0m0-1h0m-2 0h0m11 5h0m7 2h0m0-1h0m2 3h0m4-3h0m4 3h0m2-4h0m0-1h0m-1 6h0m-3 1h0m-2-1h0m-2 5h0m-6-2h0m-4-3h0"/>
<path stroke="#86bcd9" d="m70 147h0m-16 66h0"/>
<path stroke="#abd9e9" d="m81 140h0m-41 54h0m65 2h0m16-1h0m-74 8h0m45 2h0m4 4h0m-1 6h0m-35 0h0m-3 6h0m49-2h0m14 4h0m-21 3h0m-10 0h0m8 4h0m30 8h0m-18 1h0m-8 8h0"/>
<path stroke="#ceeaf3" d="m77 136h0m-2 5h0m-4 2h0m0-2h0m-2 5h0m12 2h0m2-1h0m26 3h0m-27 1h0m-4 2h0m-1-1h0m-14-2h0m52 13h0m1 8h0m6-1h0m-3 20h0m-15 1h0m-57-1h0m-17 7h0m11-2h0m7-2h0m50 4h0m21 3h0m-17 2h0m-2-4h0m-5 2h0m-42 2h0m-8-2h0m-12-1h0m-3 0h0m-2 1h0m-2-1h0m-1 6h0m29 3h0m7-4h0m74 6h0m-20 3h0m-9-3h0m-7 1h0m-8 0h0m-33 1h0m-1 5h0m1 0h0m35 4h0m6-2h0m1 0h0m21-2h0m12 4h0m-22 4h0m-6 1h0m-3-3h0m-13 4h0m-1 5h0m4-4h0m13 1h0m5 1h0m3 3h0m5-2h0m1-3h0m14 7h0m-6 2h0m-15-3h0m-11 5h0m-3-1h0m-4-3h0m10 5h0m2 1h0m1 9h0"/>
<path stroke="#eaf7e5" d="m85 140h0m-2 3h0m-5-2h0m-1 1h0m0 1h0m0-1h0m-2-3h0m0 0h0m-4 1h0m-3 3h0m-2-1h0m-7 7h0m2-2h0m6-2h0m4 0h0m6 0h0m1-1h0m0 5h0m1-4h0m1 3h0m3-3h0m2 3h0m3 1h0m0-4h0m2 2h0m22 1h0m88 6h0m-8 0h0m-75 1h0m-2-2h0m0 1h0m-3-4h0m-31 5h0m-1-1h0m-1-2h0m-3 2h0m3 2h0m2 0h0m34 3h0m6 2h0m5-3h0m2 1h0m54 2h0m8 5h0m-5-1h0m-58 1h0m0 1h0m-3 0h0m-1-3h0m-1 3h0m-2 0h0m-3-4h0m0 4h0m-2-4h0m-2 2h0m1 4h0m1 0h0m4 1h0m2 0h0m1 1h0m0-1h0m1 0h0m2-2h0m2 0h0m1 2h0m59 2h0m-47 6h0m-35 5h0m8 2h0m35 4h0m-25-3h0m-8 5h0m-2-2h0m-2 1h0m-4-3h0m-1 1h0m0 3h0m-2-5h0m0 4h0m-1-3h0m-37 3h0m-14 1h0m-7 0h0m-13 5h0m8-2h0m11 3h0m2-4h0m45 3h0m7-3h0m17 4h0m6-3h0m3 3h0m13-2h0m3-2h0m1 3h0m-22 3h0m-5 4h0m-3-5h0m-1 5h0m-4 0h0m-4-5h0m-4 3h0m-1 1h0m-46 1h0m-4-2h0m-13-2h0m-2 0h0m-4 0h0m0 2h0m-3 1h0m0-2h0m-10 5h0m3 0h0m4 4h0m0 0h0m3 0h0m0-5h0m0 5h0m1-5h0m1 0h0m3 1h0m1 3h0m11-3h0m1 3h0m3 0h0m6 1h0m1-3h0m36-1h0m3 1h0m0 3h0m5-1h0m0-4h0m2 0h0m2 0h0m3 2h0m7 3h0m5 0h0m15-1h0m-6 6h0m-14-3h0m-5 0h0m-3 2h0m-3-3h0m-1 0h0m-2 5h0m0-3h0m-2-2h0m-2 3h0m0-3h0m-1 0h0m0 4h0m-1-4h0m-3 2h0m-1 2h0m-3-1h0m0 2h0m-20-5h0m0 1h0m-18-1h0m-1 4h0m-5-1h0m3 5h0m4 1h0m2-2h0m34-1h0m4 5h0m1-4h0m0-1h0m1 5h0m1-5h0m2 0h0m11 4h0m1-2h0m0 0h0m1 2h0m0-4h0m3 5h0m2-4h0m0 2h0m5-2h0m5 3h0m1-1h0m5-1h0m1-2h0m-5 11h0m-2-5h0m-4 2h0m0 3h0m-6-4h0m-1 4h0m-1-2h0m0-2h0m-1 2h0m-3 0h0m-2 1h0m0-3h0m-2 4h0m-1-4h0m-2 2h0m-4-3h0m-3 5h0m0-1h0m-1-1h0m0 2h0m-1-3h0m0 1h0m-2-1h0m-2 0h0m0 1h0m-3 8h0m0-5h0m2 1h0m3 1h0m1 1h0m1 2h0m0-5h0m1 5h0m1-4h0m3 1h0m1 2h0m1-3h0m0 1h0m3-2h0m0 3h0m1 1h0m0-4h0m0 0h0m1 0h0m4 4h0m1-1h0m1-1h0m2 2h0m3-4h0m2 2h0m1 1h0m3 1h0m0-4h0m1 5h0m1 0h0m14 1h0m-1 0h0m-8 2h0m-6-2h0m-3 1h0m-2 1h0m-1-1h0m-1 3h0m-1-1h0m-4-1h0m0-2h0m-1 3h0m-1 0h0m0-2h0m-1 0h0m-1 2h0m-2-2h0m-1-1h0m-2 0h0m-5 2h0m-9 3h0m-1-3h0m-1 0h0m5 6h0m0-1h0m5 1h0m2-1h0m1 1h0m4 2h0m3-3h0m4 0h0m1 2h0m0 0h0m3-2h0m3-1h0m0 1h0m-12 9h0m-2-2h0m0 1h0m-2 0h0m0-3h0m-2 0h0"/>
<path stroke="#ffffbf" d="m107 78h0m-7 12h0m-31 2h0m14 9h0m23-3h0m-17 9h0m-32 0h0m-2-4h0m5 10h0m5 5h0m-11-3h0m-20 10h0m36-4h0m16 7h0m-52 0h0m14 4h0m1 0h0m2 4h0m19-4h0m2 5h0m2 0h0m4-1h0m7 1h0m21 6h0m-19 0h0m0-1h0m-2-2h0m-2 0h0m-2 2h0m-2 0h0m0-4h0m-3 5h0m-4-3h0m-1 2h0m0 0h0m0-2h0m0 0h0m-2-1h0m-2 3h0m-15-1h0m-18 7h0m21 0h0m7 0h0m5-4h0m8 0h0m2 4h0m1-1h0m2-2h0m1 2h0m1-2h0m0 0h0m0-1h0m5 3h0m2 1h0m19 1h0m1-2h0m92 7h0m-2-1h0m-5-2h0m-1 4h0m-7-1h0m-64 1h0m-5-4h0m-2 3h0m-1-4h0m0 4h0m0-1h0m-1 2h0m-1-4h0m0 4h0m0-5h0m0 4h0m-1 0h0m-23-4h0m-1 4h0m0-3h0m0-1h0m-4 4h0m0 1h0m-1-1h0m-5 1h0m-1-2h0m-16 0h0m-3 2h0m-1-5h0m-2 3h0m-6 4h0m9-1h0m21 0h0m2 0h0m4 2h0m30-2h0m0 5h0m1-4h0m1 4h0m1 0h0m1-3h0m1 3h0m3-4h0m1-1h0m4 5h0m4 0h0m54-1h0m0 0h0m2-1h0m1 0h0m13 1h0m1-1h0m-1 3h0m-2 3h0m-13 0h0m-1 2h0m-3-5h0m0 4h0m-2 1h0m-47-4h0m-4 3h0m0 0h0m-1-3h0m-1 3h0m-3-3h0m-2 2h0m-2-3h0m0 1h0m-5 3h0m-62 5h0m11 1h0m0-3h0m55-1h0m1 1h0m1 2h0m1-1h0m3-2h0m3 1h0m57 1h0m0 0h0m3-1h0m2 0h0m4 1h0m1 1h0m0-2h0m-51 10h0m-9 0h0m-1 0h0m-28 6h0m0-1h0m12 1h0m8-5h0m34 10h0m-4-1h0m-6 1h0m-3-4h0m-4 3h0m-5 1h0m-3 1h0m-9-2h0m0 2h0m-3-3h0m-1-1h0m-3 4h0m0-4h0m-1 3h0m0 1h0m0 0h0m-1-3h0m-1-2h0m-2 3h0m-3 2h0m-1-2h0m-3 2h0m-2 0h0m-1 0h0m0-1h0m-1-3h0m0 2h0m-42 1h0m-5-2h0m-1 3h0m-2-2h0m-18 7h0m1-2h0m5 0h0m2 2h0m0 1h0m1-4h0m0 3h0m2-2h0m1-1h0m2 3h0m1 1h0m0-3h0m3 3h0m1-2h0m1-3h0m5 0h0m0 0h0m0 3h0m3-1h0m2 0h0m1 0h0m35 3h0m2-1h0m2-3h0m0 1h0m1-2h0m1 4h0m1-1h0m0 0h0m1-2h0m1 1h0m0 1h0m1-2h0m1-1h0m7 3h0m1-2h0m4 2h0m3-1h0m2-2h0m5 0h0m6 2h0m2 0h0m3 3h0m11-3h0m3-2h0m3 11h0m-4 0h0m0-4h0m-17-1h0m-3 2h0m-1 0h0m-3-2h0m-2 4h0m-1-1h0m-1-3h0m-3 4h0m-3-1h0m0 2h0m-2 0h0m-3-5h0m0 3h0m-1-2h0m0 0h0m-2-1h0m-1 0h0m-1 5h0m-1-2h0m-4 0h0m-3 1h0m0-1h0m-1 1h0m-1-3h0m-1 4h0m-4-1h0m-1-3h0m-1 0h0m-3 3h0m-23 1h0m-3-3h0m-7 1h0m-6-3h0m-1 0h0m-1 2h0m0 1h0m-1-1h0m0-1h0m0 3h0m0-1h0m-2 0h0m0-1h0m-1 0h0m-3-2h0m-1 4h0m-2-4h0m-4 5h0m-1 0h0m-2-5h0m-5 2h0m-2 0h0m-1 1h0m0 0h0m0 1h0m0-3h0m-2 0h0m-3 5h0m4 3h0m2 2h0m2-2h0m0-1h0m1 1h0m1-2h0m1 0h0m0 2h0m1 2h0m3-2h0m0-3h0m1 0h0m5 0h0m2 4h0m1-1h0m0-3h0m2 0h0m2 3h0m3 1h0m0 1h0m3-1h0m0-1h0m1 1h0m1-2h0m1 3h0m1-5h0m3 2h0m1 2h0m0 1h0m4-4h0m1 0h0m1 0h0m2 2h0m22 1h0m2-2h0m0 2h0m1 0h0m2-1h0m1-1h0m0-1h0m1 0h0m0 2h0m1-2h0m2 0h0m4 4h0m1-3h0m4-2h0m0 4h0m6 0h0m0-3h0m5 1h0m2 0h0m0-2h0m1 2h0m9 1h0m19 1h0m5-2h0m-17 8h0m-5 1h0m-2-4h0m-2 3h0m-3-1h0m-3 2h0m-2-3h0m0-1h0m-1 2h0m-1 0h0m-1 2h0m-3-2h0m0-1h0m0-2h0m-1 5h0m-1-5h0m-2 2h0m-1-2h0m-1 5h0m-1-1h0m-1-3h0m0 2h0m-2 0h0m-2 0h0m-1-1h0m-2-2h0m-1 4h0m0 1h0m-1 0h0m-2-2h0m0 0h0m-1-1h0m-1 1h0m-5-2h0m-2 4h0m-3-4h0m-22 1h0m0 1h0m0 1h0m-10 1h0m-1-4h0m-1 2h0m0 2h0m-1-5h0m-1 4h0m-4 1h0m-1 0h0m-4-4h0m-10-1h0m14 6h0m3 2h0m2 2h0m2 0h0m0-1h0m2-3h0m1 3h0m2-3h0m0 1h0m29 0h0m1 2h0m2 0h0m0 1h0m1-2h0m1-2h0m4 5h0m1-4h0m1 0h0m2 0h0m0 1h0m5 0h0m2 1h0m3-3h0m1 3h0m2-2h0m5 0h0m10 3h0m3-1h0m5 2h0m5-2h0m9 6h0m-1-3h0m-1 5h0m-2-3h0m-3 0h0m-3-1h0m-3-1h0m-2 1h0m-6 3h0m-1-1h0m-1 1h0m-1-2h0m0-2h0m-2 4h0m-1 0h0m-2 1h0m-4-5h0m0 0h0m-1 1h0m-1 0h0m-3 2h0m-1 2h0m-2-4h0m0 4h0m0-2h0m-1 1h0m0 1h0m0-5h0m-1 2h0m-1 0h0m0-1h0m0 4h0m-1-3h0m-1-2h0m-2 2h0m-4-2h0m-2 5h0m-2-5h0m-1 5h0m-2-1h0m-1 1h0m0-4h0m-2 4h0m-3 6h0m1-5h0m1 0h0m1 5h0m1-5h0m6 4h0m1 0h0m0-2h0m3-1h0m1 2h0m2-2h0m5 1h0m1-1h0m0 4h0m0-4h0m3 2h0m0 0h0m1-3h0m1 3h0m5 1h0m3 1h0m0-4h0m1 2h0m0-1h0m2-2h0m0 4h0m2 1h0m7-4h0m0 2h0m1 2h0m4-3h0m3 1h0m1 0h0m-11 5h0m-5 0h0m-1 0h0m-5-2h0m-3 0h0m-1 1h0m-2 1h0m-1-2h0m-1 1h0m-1 3h0m-1-2h0m0 2h0m-1-3h0m-3 4h0m-1-2h0m-1-2h0m-1 2h0m0 2h0m-1-5h0m0 2h0m-1 2h0m-3-4h0m0 1h0m-1 3h0m0-1h0m-2 1h0m-1 0h0m-1-4h0m-1 4h0m-2 1h0m0-3h0m0-2h0m-4 1h0m1 5h0m4 3h0m1-2h0m1 4h0m1-4h0m3-1h0m1 2h0m2 1h0m6-1h0m2-2h0m0 1h0m1-1h0m3 2h0m3 0h0m0-2h0m3 2h0m0 1h0m0 0h0m6-3h0m-12 7h0m-6 4h0m-1 0h0m-2-2h0m-2 1h0m-1-1h0m-3-1h0"/>
<path stroke="#feeaa0" d="m85 77h0m11-1h0m7-2h0m10-1h0m4 1h0m-6 7h0m-6-1h0m-3-1h0m-5-1h0m-1 1h0m-14 4h0m-1-3h0m-14 5h0m3 0h0m5-1h0m1 5h0m10-3h0m0 1h0m11 1h0m4 1h0m1-4h0m10-1h0m-32 7h0m-11 0h0m-13 9h0m10 1h0m4 0h0m14-4h0m13 3h0m49 3h0m-4 0h0m-54 1h0m-4-1h0m-7 3h0m-21-1h0m-11 3h0m1 2h0m20 1h0m12-2h0m63 3h0m2-2h0m-12 4h0m-45 4h0m0 0h0m-8-1h0m-6 1h0m-18 0h0m-9 0h0m-3-3h0m-5 2h0m3 7h0m2-1h0m2 1h0m3-3h0m2-1h0m25 5h0m1-4h0m0 4h0m3-1h0m4-3h0m36 4h0m39-4h0m-69 7h0m-1 0h0m-7 3h0m0 0h0m-3-1h0m-1-2h0m-7-1h0m0 4h0m0 0h0m-3-2h0m-3-3h0m-15 2h0m-4 1h0m-2 0h0m-2 2h0m-4-1h0m-3 1h0m0-4h0m-1-1h0m0 9h0m3-3h0m3 3h0m4-2h0m4 4h0m3-4h0m2 0h0m14 3h0m4-3h0m1 4h0m4-2h0m4 2h0m3-1h0m0-1h0m3-3h0m3 0h0m67 2h0m-35 9h0m-7 0h0m-1-2h0m-2-1h0m0 1h0m-26 2h0m0-5h0m-5 0h0m0 0h0m-2 4h0m0-1h0m-3 2h0m-1-3h0m-4-2h0m-1 1h0m-2 4h0m0-3h0m-10 1h0m-4-3h0m-1 1h0m-1 3h0m-4-1h0m-16 1h0m-8 0h0m6 4h0m13 3h0m1-5h0m2 5h0m1-2h0m3-1h0m0 3h0m2-1h0m1 0h0m0 1h0m2-3h0m1-2h0m2 3h0m1 2h0m1-5h0m1 2h0m9-1h0m18 2h0m0 0h0m1 0h0m1-1h0m1 0h0m0-1h0m20 1h0m3-1h0m0 4h0m2-1h0m1-3h0m2 4h0m1-4h0m0 2h0m0 2h0m1 0h0m0-3h0m25 1h0m56 5h0m0 0h0m0 3h0m-4-3h0m0 3h0m-6 0h0m-1 0h0m-1 0h0m-1-1h0m-26-1h0m-23 2h0m-2-4h0m-3 3h0m-4 1h0m-2 0h0m-3-4h0m-3-1h0m-2 0h0m-2 0h0m0 1h0m-2 2h0m-1 1h0m0-2h0m-3-1h0m-13 0h0m-8 2h0m0-3h0m0 4h0m-1-1h0m-3 1h0m-2-2h0m-1 1h0m0-3h0m-2 1h0m-18-1h0m-2 4h0m0 0h0m-1 0h0m-1-4h0m-1 5h0m-1 0h0m-1-1h0m-7-1h0m-3-1h0m-1 3h0m-10-2h0m-4 0h0m-4-2h0m-1-1h0m-7 4h0m0 0h0m-5 7h0m45 0h0m1-5h0m2 5h0m17-5h0m2 2h0m1 0h0m3 1h0m34-1h0m1 2h0m1 0h0m3-1h0m1-2h0m1 2h0m3-1h0m4-2h0m1 4h0m0 1h0m2-5h0m0 4h0m49-4h0m1 5h0m2-3h0m1 3h0m1-1h0m1 0h0m1-1h0m0-2h0m1 1h0m1 3h0m5-5h0m4 4h0m0 1h0m1-4h0m2 3h0m2-2h0m0 0h0m0 2h0m0-4h0m2 5h0m-6 3h0m-5 3h0m-4-3h0m-3-2h0m-3 0h0m-1 1h0m-1-1h0m-1 0h0m0 2h0m0-1h0m-3 2h0m-48-3h0m-4 1h0m-12 1h0m-58-1h0m-4 2h0m-23-1h0m-3 2h0m-10 0h0m-1-3h0m-7-1h0m50 8h0m0-1h0m1 0h0m61 0h0m55 2h0m1 1h0m3-1h0m0 0h0m2 1h0m1-4h0m0 5h0m3-2h0m1-1h0m2 1h0m5-2h0m-43 8h0m-1-3h0m0 4h0m-5 0h0m-2-1h0m-3 1h0m-4-1h0m-9 2h0m-67-5h0m46 10h0m8 0h0m3 1h0m3-1h0m1 0h0m1-1h0m1 0h0m2-2h0m1 4h0m0-5h0m6 2h0m1-2h0m0 1h0m1 3h0m2 0h0m5-2h0m2-2h0m1 0h0m1 3h0m1-3h0m3 3h0m5 0h0m1 4h0m-1 2h0m-2 2h0m-2-4h0m0-1h0m-3 4h0m0-4h0m-4 1h0m-5 2h0m0-2h0m-2 3h0m-1 1h0m-11-1h0m-6-1h0m-2 0h0m0 2h0m-1-4h0m-1 4h0m-1-4h0m-1 0h0m0 0h0m-3 2h0m0-2h0m-3 2h0m-1 2h0m-6-2h0m-1-1h0m-36 3h0m-5 0h0m0-1h0m-1-2h0m0 1h0m-1-1h0m-1 1h0m-2 2h0m-5-1h0m-2 1h0m-12 6h0m3-3h0m2 0h0m3 0h0m1 3h0m2-1h0m3 0h0m0 0h0m1-4h0m0 5h0m1-4h0m4 4h0m0-1h0m2-4h0m3 2h0m5-1h0m43 2h0m2-3h0m0 1h0m3 3h0m2-2h0m2 2h0m2-1h0m2 1h0m1 0h0m3 1h0m5 0h0m0 0h0m2-3h0m1 3h0m1-2h0m0-1h0m6-2h0m3 4h0m1-3h0m2 1h0m3 2h0m2-4h0m1 5h0m1-2h0m3-1h0m0-2h0m7 4h0m-3 3h0m-1 2h0m-7 2h0m-3-2h0m0 0h0m0-2h0m0 0h0m-3 2h0m-3-1h0m-2-2h0m-1 0h0m0 5h0m0-4h0m-7 3h0m-2-4h0m-1 3h0m0-2h0m-2-1h0m-2 0h0m-4 0h0m-1 5h0m-5-1h0m-4-1h0m-2-1h0m-4 1h0m-4-2h0m-2 4h0m-34-4h0m-6 1h0m0 3h0m-2-3h0m-1-1h0m-1 0h0m0 0h0m0 1h0m-1 1h0m-2 0h0m-2 2h0m-1 0h0m-1-5h0m-2 5h0m-1-5h0m0 5h0m-5-4h0m-1 0h0m-1 3h0m-3 0h0m0-3h0m-3 4h0m0-3h0m-1-2h0m-4 3h0m-3 0h0m2 5h0m3-1h0m1 4h0m2-1h0m2-2h0m1 0h0m2 2h0m0 0h0m1-3h0m1 1h0m1 2h0m1-2h0m0 0h0m1-2h0m3 5h0m1 0h0m3-4h0m0-1h0m1 1h0m3 4h0m2-2h0m1-1h0m1 1h0m0 0h0m1-1h0m1 0h0m2-1h0m2 4h0m1 0h0m2-4h0m0 4h0m3-3h0m2 0h0m1 3h0m28 0h0m0 0h0m6-1h0m3-4h0m4 5h0m0-2h0m5 0h0m2 0h0m3-3h0m2 3h0m6 1h0m1 1h0m5-2h0m4 0h0m0 1h0m3 0h0m0-1h0m2 1h0m4 1h0m6 0h0m7-4h0m1-1h0m-13 10h0m0-2h0m-1-2h0m0 2h0m-2 0h0m-1-2h0m-2 2h0m-1 0h0m-3 3h0m0-5h0m-3 1h0m-1 3h0m0-1h0m-5 1h0m-3-1h0m-7 0h0m0-3h0m0 4h0m-1-2h0m-6 1h0m-2 0h0m-3-3h0m-1 5h0m0-2h0m0-3h0m-6 1h0m-1-1h0m-2 4h0m-1-3h0m-27-1h0m-4 2h0m0-1h0m-3 4h0m-3 0h0m0-4h0m-1 1h0m-1 3h0m-8-2h0m-3-1h0m-1-2h0m-1 2h0m-1-2h0m0 3h0m-1 0h0m-2-2h0m-12 0h0m16 5h0m2 1h0m4 1h0m1-1h0m0 0h0m3-1h0m31 4h0m10-3h0m14-1h0m4 0h0m2 3h0m2-1h0m1 0h0m3 2h0m3 1h0m0-1h0m0-2h0m2-2h0m1 3h0m0 1h0m1-3h0m0 2h0m0 1h0m2 1h0m0-2h0m1 1h0m1 1h0m0-4h0m1 3h0m2-3h0m1 0h0m1-1h0m1 1h0m0 2h0m1-1h0m0 0h0m0-2h0m0 3h0m2-1h0m1 1h0m2 1h0m5-3h0m2 1h0m3-2h0m-4 6h0m-2 0h0m-1 2h0m-2-2h0m-2 2h0m-1-1h0m-1 4h0m-1-4h0m0-1h0m-1 2h0m0 2h0m-1-1h0m-1 1h0m0-1h0m-1-1h0m0 1h0m-1 2h0m-1-3h0m-2 0h0m-2 3h0m0-4h0m-2 4h0m0 0h0m-3-1h0m-3 0h0m-1-2h0m-1 3h0m-16-5h0m-4 2h0m-3 0h0m-14 3h0m0 6h0m1-4h0m0 0h0m2 3h0m7-3h0m2 4h0m7-3h0m1 0h0m4 3h0m1 0h0m7-4h0m1 0h0m1-1h0m1 1h0m1 1h0m3 2h0m0-3h0m2 0h0m11 1h0m0 3h0m2 0h0m3-4h0m0 2h0m-5 3h0m-6 0h0m-4 0h0m-12 1h0m-1 0h0m-3 2h0m-5 1h0m-3-3h0m-1 1h0m-3-2h0m-5 3h0m-1 1h0m-5 1h0m5 6h0m5 0h0m7 0h0m6-2h0m0 2h0m4-3h0m0 5h0m-10-1h0m-4 0h0m0 2h0m-4-2h0"/>
<path stroke="#fecf80" d="m115 71h0m-8-1h0m-2-2h0m-1 0h0m0 1h0m-5-1h0m-1 9h0m1-1h0m1-3h0m1 0h0m5 2h0m3-1h0m1-2h0m5 1h0m2 4h0m-5 6h0m-2-2h0m-3 2h0m-6-3h0m0 2h0m-3 0h0m-3-1h0m-1-2h0m-3 1h0m-1-2h0m-1 3h0m-4 1h0m0-1h0m-4-2h0m-1 1h0m-18 8h0m2 0h0m3 1h0m2-3h0m3-2h0m6 0h0m2 3h0m1 1h0m2-4h0m0 1h0m16 4h0m3-1h0m0-3h0m2 4h0m0-2h0m2-1h0m2 0h0m2 0h0m1 3h0m42 6h0m-4-2h0m-7-1h0m0 3h0m-31-3h0m-4 2h0m0-1h0m-1 2h0m-2-3h0m-3 3h0m-3-1h0m-1-2h0m-1 2h0m-2-1h0m-9 1h0m-3 0h0m-1-3h0m-9 2h0m-2-2h0m-1 0h0m0 3h0m-2-2h0m0 3h0m-3-5h0m-11 9h0m1 2h0m1-3h0m4-1h0m1 3h0m6 1h0m2-5h0m3 2h0m0 1h0m5 0h0m1 1h0m1-3h0m2 4h0m0-2h0m3-2h0m1 1h0m2 1h0m1-2h0m5 2h0m4 2h0m1-2h0m4 2h0m2-3h0m0 3h0m34-4h0m2 4h0m0 0h0m8-2h0m1-1h0m11 1h0m8 6h0m-2 1h0m-2 1h0m0-3h0m-4 1h0m-3 0h0m-5 2h0m-15-2h0m-4 0h0m-3 2h0m-6-3h0m-22 2h0m-15 0h0m-1-1h0m-2-2h0m-4 2h0m-1 0h0m0-2h0m-3 0h0m-4 1h0m0 0h0m-1 2h0m-11-1h0m-2 1h0m-3-3h0m0 4h0m-1-3h0m-3 1h0m-2-1h0m-7 7h0m2 2h0m1-5h0m3 1h0m1 0h0m1 1h0m4 2h0m0 1h0m1-2h0m5 1h0m2-2h0m7 0h0m1-2h0m9 1h0m0 4h0m3-2h0m4 0h0m1-3h0m24 4h0m1-2h0m1 2h0m5 1h0m8-4h0m1 4h0m3-3h0m2 1h0m0 1h0m2 0h0m0 0h0m4-3h0m3 4h0m1 0h0m1-4h0m5-1h0m0 2h0m2-1h0m16 3h0m-2 3h0m-6 4h0m-6-3h0m-1 0h0m-1 1h0m0-2h0m-4 2h0m-2-2h0m-4 1h0m-18 3h0m-1-1h0m-32-4h0m-1 0h0m-7 5h0m-1-4h0m-2 1h0m-2 3h0m-1-4h0m-1 2h0m-1-3h0m-3 2h0m-1-1h0m0 2h0m-3 0h0m0 2h0m-2-3h0m-1-2h0m-4 3h0m-3-3h0m-2 4h0m-1-3h0m0 0h0m-10 2h0m0-1h0m0 9h0m0 0h0m2-2h0m4 1h0m13-4h0m0 1h0m2-1h0m2 4h0m0-2h0m0-2h0m0 1h0m0 2h0m1-2h0m6-1h0m4 4h0m1-1h0m0 0h0m1-1h0m1 1h0m4-2h0m2-1h0m0 3h0m2 0h0m30 1h0m4 1h0m10-3h0m2-1h0m1 3h0m3 0h0m1 0h0m7-4h0m3 3h0m1 1h0m2-1h0m4 2h0m15 5h0m-7-1h0m-2 1h0m-2 1h0m-4 0h0m-6-5h0m0 3h0m-34-2h0m-30 4h0m-1-5h0m-3 5h0m-6-2h0m-2-1h0m-1 2h0m-1-1h0m-2-2h0m0 4h0m-1-2h0m-1 1h0m-2-3h0m-7 3h0m-8-1h0m0 1h0m-4-1h0m-1-3h0m-1 3h0m0 2h0m-2-1h0m-1-3h0m-4 2h0m-4-2h0m-1 0h0m-2-1h0m-1 1h0m0 3h0m-1-3h0m-2 3h0m0 1h0m1 5h0m3-1h0m1 2h0m3-5h0m1 3h0m1 0h0m3 2h0m8-3h0m3 3h0m1-2h0m2 1h0m12-3h0m5 3h0m1-2h0m2 1h0m2-1h0m3-2h0m2 4h0m1-2h0m0-1h0m1-1h0m1 0h0m0 3h0m1-3h0m1 1h0m27 3h0m1-4h0m1 1h0m2 1h0m0-2h0m3 2h0m28-2h0m4 4h0m5-1h0m2 2h0m9-4h0m3 4h0m-2 5h0m-5-4h0m-5 3h0m-2 0h0m0 0h0m-7-1h0m-3-1h0m0 1h0m-2 1h0m-2 2h0m-9-2h0m-10-2h0m-10 3h0m-3 1h0m-3-3h0m-26 2h0m0-4h0m-1 5h0m-24 0h0m-6 0h0m-1-5h0m0 0h0m-1 4h0m0-2h0m-2 0h0m-1 2h0m-1-4h0m-1 4h0m0 0h0m0-4h0m-1 3h0m-2-2h0m-8-1h0m-1 4h0m-1-2h0m-1 1h0m-6 1h0m-5 4h0m1-2h0m2 5h0m1-5h0m2 1h0m1 3h0m0-4h0m0 2h0m1 1h0m1-1h0m0 0h0m1 1h0m0 1h0m4-2h0m8 3h0m0-5h0m2 2h0m1-1h0m1-1h0m2 2h0m2-2h0m2 2h0m1 2h0m4 1h0m1 0h0m14-2h0m17-2h0m24 3h0m10-1h0m3 1h0m6 0h0m3 1h0m2-2h0m4-1h0m1 3h0m6-3h0m4 3h0m9-3h0m6 2h0m0 0h0m38 6h0m-2 1h0m-1 0h0m0-1h0m-4 0h0m-5-2h0m-1 3h0m-1-3h0m-26-1h0m-3 3h0m-2 0h0m-3-4h0m-11 0h0m-7 1h0m-1-1h0m-1 3h0m0-1h0m-3 2h0m0 0h0m-1 1h0m-1-1h0m-3 0h0m-1 0h0m-1-3h0m0-1h0m-1 0h0m-4 1h0m-9-1h0m-24 4h0m-7-1h0m0 0h0m-24 1h0m-1 1h0m-3-3h0m-1-1h0m-3 1h0m-2 3h0m-1-4h0m0 4h0m-1-1h0m-1-1h0m-2-3h0m-11 1h0m-1 3h0m-5-1h0m-4 0h0m0 1h0m-2-2h0m-7 2h0m-1-1h0m2 6h0m1-3h0m1 2h0m3-2h0m2 1h0m3 2h0m1 2h0m2-5h0m1 4h0m0-1h0m1-1h0m1 1h0m1-3h0m2 0h0m4 0h0m2 4h0m2-1h0m10-3h0m9 4h0m0-2h0m1 2h0m1 0h0m1 0h0m22-1h0m0-1h0m1 1h0m2-3h0m39 3h0m57 1h0m2-1h0m0-2h0m3 3h0m0-3h0m7 2h0m3 0h0m2 0h0m0-3h0m1 1h0m2 3h0m3 0h0m2 1h0m1-1h0m0-1h0m-4 5h0m-3-1h0m-1 2h0m-4-3h0m0 0h0m-1 0h0m-1 3h0m-5-2h0m-1 2h0m-1 0h0m-3-1h0m0-1h0m-3 3h0m-1-2h0m-49-2h0m-69 0h0m-1 2h0m-3-1h0m-19-1h0m-3 4h0m-6-4h0m-5 3h0m-1 2h0m-4-2h0m0-1h0m-1 2h0m-2-3h0m-3-1h0m0 0h0m-1 1h0m14 5h0m27 4h0m5-1h0m3 1h0m3-1h0m49 0h0m65-1h0m2-1h0m1 0h0m1 2h0m3 2h0m1-2h0m4-1h0m3 3h0m3-5h0m0 0h0m-42 9h0m-2 2h0m-2 0h0m-1 0h0m-1-5h0m-1 1h0m-3 1h0m-3 1h0m-2 1h0m0-2h0m0 3h0m-1-2h0m-9 2h0m-69-5h0m-2 0h0m61 9h0m2 2h0m1-2h0m1 2h0m0-1h0m4 1h0m4-1h0m0-1h0m4-1h0m3-1h0m1 4h0m4-1h0m0 0h0m5-2h0m1 1h0m3-3h0m1 4h0m0-2h0m0 0h0m1 3h0m0-5h0m6 11h0m-10-3h0m-2 1h0m0 2h0m-1-2h0m0-3h0m0 1h0m-2 0h0m-2 0h0m-3 2h0m-1-1h0m0 1h0m-4 0h0m-2 1h0m-3-1h0m-3 1h0m-2 1h0m-5-2h0m-1-1h0m-3-1h0m-2-1h0m-1 5h0m0-3h0m-2 0h0m-1 1h0m-1-1h0m-6-1h0m-37 4h0m-6-1h0m-8 0h0m-3 1h0m-2 0h0m-5 3h0m3-1h0m5 1h0m1 1h0m10-3h0m5 4h0m33-3h0m9 1h0m1-1h0m0 0h0m2-1h0m4 4h0m1 1h0m5-3h0m5 3h0m2-4h0m1 0h0m0 1h0m1 1h0m0 1h0m0-4h0m0 0h0m0 0h0m1 2h0m2-2h0m1 4h0m1-3h0m2 0h0m1 3h0m3-2h0m1-2h0m7 0h0m0 5h0m2-4h0m1 1h0m0-2h0m0 1h0m1 2h0m2 2h0m1-5h0m5 5h0m2-1h0m2 5h0m-4 1h0m-2 0h0m-3 0h0m-1 1h0m0-5h0m-2 1h0m-1 0h0m0-1h0m-4 3h0m-3-1h0m-3 3h0m-1-5h0m-1 3h0m-4-1h0m-1-1h0m-1-1h0m-1 5h0m-9-3h0m-1 2h0m-10 0h0m-7-4h0m-45 4h0m-4-4h0m-5 4h0m-1 0h0m-7-3h0m-3 4h0m0-3h0m4 9h0m0-2h0m1-1h0m20 0h0m6 0h0m2 2h0m30 0h0m1 1h0m17-4h0m0-1h0m1 4h0m0-1h0m11 0h0m5 0h0m1 1h0m4-2h0m1-2h0m2 1h0m2 2h0m1-1h0m0 1h0m2-2h0m0 3h0m2 1h0m0-1h0m0-3h0m1 1h0m2 0h0m0-1h0m6 0h0m0 3h0m0-4h0m1 1h0m0 1h0m-4 7h0m-2-3h0m-2 1h0m0 4h0m-1-1h0m-1-1h0m-2 1h0m-2-2h0m-1 0h0m-3 1h0m0 1h0m-2-3h0m-7 0h0m-1 4h0m-4-2h0m-3 1h0m-1-4h0m-2 5h0m-4-5h0m-2 4h0m-5-2h0m-1-1h0m-44 0h0m-1-1h0m-4 5h0m-9-5h0m0 0h0m-3 3h0m-2 1h0m-1 1h0m-2 0h0m-15-3h0m16 5h0m9 1h0m3-2h0m36 1h0m10 4h0m2-2h0m1-3h0m13 3h0m7-1h0m0 0h0m1-1h0m0-1h0m6 0h0m0 2h0m3-1h0m1 3h0m1-4h0m4 4h0m1-3h0m0 1h0m3 2h0m2-2h0m2-2h0m2 1h0m2-1h0m-9 10h0m0-1h0m0-2h0m-1 3h0m-1-4h0m0 1h0m-1 3h0m-1-2h0m-1 3h0m-2-4h0m-3 4h0m-1-4h0m-2 3h0m-1-4h0m-1 3h0m-1-3h0m-6 2h0m-1-1h0m-1-1h0m-6 1h0m-4 1h0m-1 3h0m-1-5h0m-23 6h0m18 1h0m15 4h0m5-3h0m4 0h0m0-1h0m1 0h0m7-1h0m0 5h0m4-4h0m1 1h0m1-2h0m0 5h0m-5 1h0m-7 0h0m0 0h0m-1 3h0m-9-1h0m-2-1h0m-4 3h0m-23 2h0m1 5h0m0-5h0m14 2h0m3-2h0m-9 7h0"/>
<path stroke="#fdae61" d="m113 70h0m-5 1h0m-4 0h0m-6-2h0m-1 1h0m-11 7h0m1-1h0m7 1h0m0-4h0m1 3h0m2-2h0m2 2h0m2-2h0m2 1h0m1 2h0m2-3h0m0-2h0m1 4h0m6 1h0m1-5h0m2 0h0m0 3h0m-3 7h0m-1-2h0m0-2h0m-1 0h0m-3 1h0m-5-1h0m-1 1h0m-5 0h0m-1 3h0m-2 0h0m-2-3h0m-1 3h0m-3-4h0m-1 0h0m0 3h0m-1 1h0m-2 0h0m-1-1h0m-3 2h0m-1 0h0m-1-3h0m0 3h0m-16 4h0m6-1h0m1 1h0m4-3h0m0 0h0m0 3h0m1 0h0m0-2h0m2 1h0m2 3h0m0 0h0m0-2h0m2 1h0m1-2h0m3 0h0m2-2h0m0 1h0m1 4h0m8-1h0m1-1h0m1 1h0m3 0h0m0-2h0m2 0h0m0 0h0m0 1h0m0-1h0m0-1h0m2 4h0m3-2h0m4-2h0m36 4h0m1 0h0m9 5h0m-4 1h0m-3-2h0m0 0h0m-1 1h0m-5-3h0m0 2h0m-1-1h0m-1 0h0m0 2h0m0-1h0m-1 0h0m-30-2h0m-1-1h0m-2 3h0m-3 2h0m-2-4h0m-6 3h0m-2 1h0m-1 0h0m-7-4h0m-6 2h0m-3 0h0m-2 2h0m-3-3h0m-2 3h0m0-3h0m-2 3h0m-2-2h0m0-3h0m-4 2h0m-1 3h0m-5-1h0m0 7h0m0-4h0m0 4h0m1-1h0m2-4h0m1 4h0m5 0h0m1-2h0m2-2h0m4 5h0m4 0h0m0-3h0m1 0h0m0-1h0m0 2h0m0 0h0m1 0h0m3 0h0m2 0h0m1 2h0m1 0h0m3-2h0m0 2h0m2-2h0m2-1h0m1 2h0m1-3h0m7 3h0m2-4h0m1 2h0m32 1h0m0 1h0m1 0h0m0 0h0m0-3h0m1 4h0m1 0h0m1-2h0m0 2h0m1-3h0m4-1h0m1-1h0m0 2h0m0-1h0m3 2h0m0-3h0m5 1h0m0 2h0m1-3h0m3 1h0m0 1h0m3-1h0m1 3h0m3 5h0m-1 2h0m0 0h0m-4-5h0m0 2h0m-2-2h0m-1 5h0m-1-4h0m-1 1h0m-1 3h0m-1-1h0m-1 0h0m-1-1h0m-2 2h0m-4-5h0m-1 1h0m-1 0h0m-4 4h0m0 0h0m-2-5h0m-2 0h0m0 2h0m-2-1h0m-3 2h0m0 1h0m-1 1h0m-1-3h0m-2-1h0m-5 2h0m0 0h0m-23 2h0m-3 0h0m-7-3h0m-1 2h0m-1 0h0m-1-1h0m-5-3h0m-3 3h0m-2 1h0m-3-3h0m-1 2h0m-3-2h0m-5 2h0m-1-3h0m0 0h0m-4 3h0m-5-2h0m0 2h0m-6 1h0m-7 6h0m1-3h0m3 4h0m6-5h0m2 5h0m0-5h0m2 3h0m0 0h0m1 2h0m3-2h0m1 2h0m5-3h0m2-1h0m2 0h0m7 4h0m5 0h0m2-5h0m28 3h0m3-2h0m2 0h0m2 4h0m4-1h0m0 0h0m1-2h0m1-2h0m2 0h0m3 4h0m0-2h0m1 3h0m2 0h0m2-5h0m1 2h0m3 3h0m0 0h0m2-2h0m0-2h0m2 3h0m1 0h0m0-2h0m0 0h0m0 0h0m0 0h0m1 1h0m2-1h0m0 1h0m0-2h0m7-1h0m4 4h0m3 0h0m1 1h0m3 0h0m1-4h0m0 0h0m1 3h0m-4 7h0m-1-4h0m0 0h0m-2 2h0m0-2h0m-2 0h0m0 2h0m-1-2h0m-1 0h0m0 1h0m-1 0h0m-2-1h0m-3 3h0m-3 0h0m-3 1h0m-1-2h0m0-1h0m-1 2h0m-1-1h0m-1 2h0m0-1h0m0-3h0m-2 1h0m-4-1h0m-2-1h0m0 0h0m0 0h0m-1 5h0m-6-3h0m0-2h0m-1 5h0m-1-4h0m-1-1h0m0 4h0m-1-2h0m-2 0h0m-31 1h0m-3-3h0m-1 3h0m-5-2h0m0 0h0m-1 4h0m-6 0h0m-1 0h0m-4-2h0m-1-1h0m-1 1h0m0-1h0m-5-2h0m-6 0h0m-6 3h0m-2 1h0m0-3h0m-1 3h0m-7-3h0m-1 4h0m2 3h0m3 3h0m1-2h0m1-2h0m0 2h0m6 0h0m11-2h0m1 0h0m2-1h0m0 1h0m2 1h0m0-2h0m1 3h0m0 2h0m8 0h0m2-5h0m2 5h0m7-5h0m1 5h0m1-3h0m0-1h0m29 4h0m4-4h0m4 2h0m2-1h0m1 0h0m2 3h0m2-3h0m2 2h0m0-1h0m1-2h0m0 1h0m2 1h0m1-3h0m0 1h0m3 3h0m0-1h0m1-3h0m6 0h0m0 0h0m1 3h0m0-1h0m2 0h0m2-1h0m2 3h0m2 1h0m3-1h0m1-4h0m8 8h0m-4 2h0m-2-1h0m-2-3h0m-11 1h0m0 0h0m-2 3h0m-6-2h0m0-2h0m-1 2h0m0-1h0m-1 0h0m-7 3h0m-2 0h0m-1 1h0m-2-3h0m-3 1h0m-2 1h0m-2-2h0m0 3h0m0-2h0m-1 1h0m-2-3h0m0 0h0m0 0h0m-2 4h0m0-4h0m-1 3h0m0-4h0m0 3h0m-2 0h0m-26-2h0m-2-1h0m-5 0h0m-1 3h0m-5-1h0m0 1h0m-3-3h0m-1 5h0m-3-3h0m-1-2h0m0 3h0m-1 0h0m-4-1h0m-11-2h0m0 2h0m0-2h0m-1 4h0m-1-1h0m-1 0h0m-2-1h0m0 3h0m0-1h0m-6 1h0m-1-3h0m-3 1h0m0-2h0m-3 2h0m-4-2h0m-5 10h0m1-1h0m10-4h0m2 2h0m1 3h0m2-1h0m3-3h0m2 3h0m3-4h0m0 0h0m2 3h0m4-2h0m1 4h0m8-3h0m9 3h0m10-5h0m5 0h0m0 0h0m25 5h0m4 0h0m1-3h0m0-1h0m1 2h0m6-3h0m0 4h0m1 1h0m2-4h0m2 0h0m4 1h0m0 1h0m1 2h0m0-3h0m1-1h0m0 3h0m9-2h0m6 3h0m1 0h0m2 0h0m1-3h0m4 2h0m0-2h0m6 3h0m5-1h0m0-4h0m1 1h0m2 4h0m-2 4h0m-1-3h0m0 4h0m-1 0h0m-1-1h0m-1 0h0m0-1h0m-1 2h0m-3-2h0m-2 0h0m-1 0h0m-2 1h0m-2 1h0m-1-2h0m-3-2h0m-2 3h0m0-3h0m-1 3h0m0 2h0m-1-5h0m-1 1h0m-1 3h0m-1-4h0m0 0h0m-2 4h0m-7-3h0m-9 2h0m0-1h0m0 2h0m-3-2h0m-4 2h0m-1-4h0m-6 2h0m-41 1h0m-17-1h0m-1 0h0m-1-2h0m-1 2h0m-2-1h0m0 1h0m-13-2h0m-2 4h0m-2 0h0m-3-4h0m-1 0h0m0 4h0m-2-4h0m-1 0h0m0 3h0m0 1h0m-2-2h0m-1 0h0m-6 9h0m2-2h0m1 2h0m2-3h0m0-1h0m1 1h0m1 1h0m2-2h0m1 0h0m5 1h0m1-2h0m1 3h0m1 1h0m1 0h0m2-1h0m10-1h0m1 0h0m4 0h0m3 0h0m0 3h0m1-5h0m4 1h0m4 3h0m25-2h0m1 1h0m30-2h0m3 2h0m2-1h0m1 2h0m4-3h0m3 1h0m2-1h0m0-1h0m1 2h0m1 1h0m2-3h0m1 1h0m2 4h0m1 0h0m0-3h0m3 1h0m0 2h0m1 0h0m1-5h0m3 5h0m0-2h0m9-2h0m3 1h0m1 1h0m0 0h0m1 2h0m1 0h0m1-1h0m27 6h0m-5 1h0m-25-4h0m-1 1h0m-2 2h0m-5-4h0m-7 1h0m-4-1h0m-4 1h0m-2-1h0m-1 1h0m-6-1h0m0 4h0m-1-1h0m-47-2h0m-27-1h0m-3 3h0m-3 1h0m-1 1h0m-3-4h0m-3-1h0m-1 2h0m-2 0h0m-3 2h0m-3-3h0m0 1h0m-3-1h0m-1 4h0m-2-1h0m-5 1h0m0-1h0m-2-1h0m-1 1h0m-1-3h0m-5 4h0m-1 0h0m0-2h0m0-2h0m-2 4h0m-1 0h0m1 4h0m1 1h0m1 1h0m1 0h0m1-1h0m0-1h0m1-1h0m5-1h0m1 2h0m0-3h0m1 2h0m1 1h0m1-3h0m2 2h0m1 0h0m2 3h0m0-3h0m2-2h0m3 4h0m0-3h0m1 3h0m0-1h0m0 0h0m2-1h0m1 3h0m0 0h0m0-2h0m1-3h0m0 2h0m8 0h0m5-1h0m5-1h0m2 2h0m69 3h0m1-5h0m3 3h0m2-1h0m48-1h0m3-1h0m7 5h0m2-4h0m4 4h0m6-5h0m1 3h0m0-2h0m-1 7h0m-16 0h0m-1 2h0m-5-3h0m0 2h0m-122 0h0m0-2h0m-1-1h0m-20 1h0m0 1h0m-1 2h0m-1-4h0m-1 3h0m-4-2h0m0 1h0m-1-2h0m-1 4h0m0-3h0m-4 3h0m-1-1h0m-5 0h0m-2-1h0m-4-2h0m-1 3h0m18 3h0m5 1h0m17-1h0m2 1h0m2-1h0m5 5h0m6-2h0m117 2h0m12-1h0m0-1h0m-41 8h0m-2-1h0m-1-2h0m-1 1h0m-1 1h0m0-1h0m-1 0h0m-4-1h0m-2 1h0m-22 5h0m2-2h0m9 1h0m3 4h0m7 0h0m1-5h0m2 1h0m3 2h0m1 2h0m2 0h0m3-4h0m1 0h0m2 4h0m2 4h0m-2 1h0m0-4h0m-4 3h0m-1-2h0m-1 2h0m-1 0h0m-3 2h0m-2-2h0m0 1h0m-1-3h0m0 4h0m-2-5h0m-2 3h0m-3 2h0m-3-2h0m-86 1h0m2 4h0m16 3h0m36-5h0m23 4h0m6 1h0m3-2h0m2-1h0m2-2h0m3 4h0m8-1h0m2 1h0m0-3h0m4 2h0m1-3h0m2 0h0m3 5h0m1-3h0m0-2h0m1 9h0m-2 1h0m0 0h0m-1 1h0m-1-1h0m-1-1h0m-1-1h0m0 0h0m-7 1h0m-2 1h0m-2-3h0m-3 4h0m-10-5h0m-2 1h0m-2 0h0m-74 4h0m-1-4h0m-4 1h0m-4 3h0m-13-4h0m0 8h0m16 0h0m4 2h0m9-4h0m63 4h0m14-3h0m3 0h0m0-2h0m1 1h0m7 4h0m2-4h0m0 1h0m2 2h0m2-2h0m7-2h0m-3 10h0m-2-2h0m-2 1h0m-1-2h0m-1 4h0m0-4h0m-1 2h0m-1-2h0m-3 4h0m-1-4h0m-1 1h0m-4 2h0m-5-2h0m-4-1h0m-18 3h0m-44-4h0m-4 1h0m-18 1h0m0 5h0m1-1h0m78 5h0m4-1h0m6-1h0m2 0h0m3 2h0m6 0h0m2-5h0m1 0h0m1 1h0m1 0h0m-4 10h0m-7-1h0m0-3h0m-13 1h0m-12 7h0m15 0h0m10 0h0m1-2h0"/>
<path stroke="#f7834d" d="m110 71h0m-1 0h0m-1 0h0m-8-4h0m-12 9h0m6-2h0m0 1h0m0 0h0m1-3h0m4 5h0m3 0h0m4-3h0m6 2h0m1-2h0m1-1h0m1 2h0m1 2h0m-7 6h0m-6-5h0m-2 5h0m-3-1h0m0 1h0m-2-5h0m-1 1h0m0 4h0m-8-5h0m-2 0h0m-9 3h0m-15 6h0m1 1h0m1-1h0m3-2h0m3 2h0m0 1h0m0-3h0m1 4h0m0-3h0m1 3h0m2-5h0m0 5h0m5-2h0m2 0h0m0 2h0m2-5h0m0 3h0m13-3h0m0 1h0m2-1h0m1 1h0m1 3h0m0-3h0m0 1h0m1 1h0m1-3h0m2 4h0m5-3h0m1 3h0m1-2h0m48 8h0m-5-2h0m-8-2h0m-1 5h0m0-1h0m-2 0h0m0 0h0m-35-2h0m-1 0h0m-2-2h0m-2 5h0m-2-2h0m-1-3h0m-3 3h0m0 1h0m-9-4h0m-2 4h0m-7 1h0m0-1h0m-5 1h0m-3-5h0m-4 0h0m-1 3h0m-7-1h0m-1-1h0m0 3h0m-10 7h0m9-5h0m8 0h0m2 4h0m4-2h0m0-1h0m4 2h0m1 2h0m1-4h0m2 2h0m1 1h0m3-1h0m12-1h0m0-1h0m1 0h0m1 3h0m1 1h0m0-2h0m2-2h0m1 4h0m4 0h0m22 0h0m3 0h0m1-2h0m1 2h0m1-3h0m0 0h0m1 1h0m2 1h0m4-3h0m3 2h0m1-2h0m2 0h0m0 4h0m4-5h0m0 2h0m2 1h0m5 0h0m5-1h0m0 1h0m1-2h0m1 4h0m1-3h0m0-1h0m4 9h0m-2-1h0m0-2h0m-1 4h0m0-2h0m0 0h0m-1 2h0m-2-2h0m-6-1h0m-4-1h0m0 1h0m-1-2h0m-2 5h0m0-2h0m-2 0h0m-2-2h0m0 2h0m-1 2h0m-1-2h0m-4 0h0m-2-2h0m-3-1h0m0 0h0m-1 5h0m-3-1h0m-1-2h0m-2-1h0m-1 2h0m-1-2h0m-3 1h0m-1 1h0m-19 2h0m0-3h0m-5-1h0m0 2h0m-15 0h0m-8 2h0m-1-5h0m-2 4h0m-2-4h0m-4 3h0m-3 0h0m0 2h0m-14-5h0m-1 3h0m-3 4h0m4 1h0m7-1h0m3 4h0m2-1h0m5 1h0m1-2h0m7 1h0m7 1h0m1-2h0m1 1h0m7 0h0m17-1h0m1 0h0m3-1h0m1-1h0m3 0h0m0 2h0m1 1h0m2-4h0m3 0h0m1 3h0m1 1h0m1-2h0m1 0h0m1-2h0m1 2h0m0 0h0m1-2h0m0 1h0m5-1h0m1 5h0m0 0h0m0 0h0m3-1h0m2-3h0m0 2h0m2-1h0m0-1h0m0 1h0m4 2h0m5-1h0m1 2h0m2-5h0m4 5h0m0-1h0m2-2h0m1-2h0m0 0h0m2 0h0m0 1h0m3 3h0m2 1h0m1-4h0m-5 9h0m0 0h0m-1-1h0m-1 1h0m0-3h0m-3-1h0m-4 3h0m-3-2h0m-2-1h0m-1 0h0m-1 3h0m0 1h0m-4-3h0m0 0h0m-4 2h0m-1-2h0m-4-1h0m-3 5h0m0-2h0m0-2h0m-1 1h0m0-2h0m-4 1h0m-2-1h0m-2 0h0m-1 4h0m0 0h0m-1-4h0m-1 5h0m-1-5h0m-33 3h0m-1-3h0m0 1h0m-2-1h0m-1 5h0m-6-3h0m-1-1h0m-6 3h0m-4-4h0m-4 3h0m-4 0h0m-1 0h0m0-3h0m-4 5h0m-1-3h0m-10 4h0m0 0h0m6 1h0m2 4h0m2-3h0m20 3h0m2-4h0m3 4h0m3-2h0m2 2h0m0-5h0m3 5h0m0-2h0m42 1h0m7 1h0m4-1h0m0 1h0m0 0h0m2-1h0m2 0h0m1-3h0m10-1h0m1 4h0m0-2h0m0 1h0m1 2h0m2-1h0m6-4h0m0 2h0m3 3h0m1-1h0m1 0h0m4 7h0m-3-2h0m-2-2h0m-3 3h0m-7 1h0m-2-5h0m0 3h0m-2 0h0m0 0h0m-2 1h0m-5-1h0m-2-1h0m0-2h0m0 5h0m-9-5h0m0 3h0m-3 0h0m-2-1h0m-1 0h0m0-1h0m-40-1h0m-3 0h0m-10 1h0m-5 0h0m-2 2h0m-1 0h0m0-2h0m-5 3h0m-2-2h0m-4 3h0m-4-1h0m-6-3h0m-1 3h0m-2 1h0m-2 0h0m-2-2h0m-1 0h0m-3 0h0m-3 2h0m-2 0h0m-2-3h0m-4 6h0m3-2h0m10 1h0m2 2h0m0 2h0m0-4h0m3 0h0m1 4h0m3-1h0m1-4h0m20 1h0m3 0h0m45 0h0m6 0h0m0 0h0m1 2h0m1-2h0m6 0h0m3 1h0m3 1h0m0 2h0m8-5h0m0 0h0m4 1h0m2 4h0m1-3h0m1 1h0m2 2h0m1-4h0m5 3h0m1 0h0m1-4h0m1 3h0m1 1h0m1 1h0m0-3h0m1 2h0m2-2h0m7 3h0m-2 6h0m-3-1h0m0 1h0m0 0h0m-5-1h0m-2-4h0m-2 3h0m-2-1h0m-1-2h0m-1 4h0m-1-4h0m-1 1h0m0 3h0m0-1h0m-1 0h0m-4-1h0m-4 0h0m-9 2h0m-1 0h0m-9 1h0m-2-4h0m-5 4h0m-4-5h0m-62 2h0m-3-2h0m-6 2h0m-9 3h0m-2-2h0m-5 2h0m-8 5h0m3-4h0m1 3h0m3 1h0m1-2h0m0-2h0m5 5h0m8 0h0m4-2h0m3 1h0m5-1h0m71-3h0m2 1h0m6 0h0m2-1h0m5 5h0m2-3h0m2 0h0m1 1h0m1-3h0m1 0h0m0 4h0m0 1h0m3-5h0m1 0h0m1 1h0m0 0h0m3-1h0m0 4h0m2-4h0m1 1h0m1 1h0m2 1h0m1-1h0m0 3h0m6-1h0m1-3h0m4-1h0m24 10h0m-29-3h0m-12 0h0m-3 2h0m-4-2h0m-2-1h0m-1 1h0m-4 2h0m-1-3h0m-1 1h0m-4 3h0m-1-2h0m-13-1h0m-73 4h0m-3-4h0m-3 1h0m-1 1h0m-2 0h0m-11 1h0m0-3h0m-2 3h0m-8-3h0m-3 5h0m2 5h0m0-5h0m3 4h0m2 0h0m0 0h0m1-2h0m0 0h0m1 3h0m1-4h0m10 3h0m2-1h0m0-2h0m1 3h0m0-3h0m92 0h0m9 3h0m50 2h0m-8 3h0m-121 1h0m0 1h0m-21-3h0m-1 1h0m0 1h0m-3-1h0m0 2h0m-1 0h0m-2-1h0m-18-1h0m-2-2h0m43 5h0m1 4h0m131 1h0m10-3h0m-47 7h0m0-3h0m-16 4h0m22 6h0m7 6h0m-4-2h0m-7-1h0m-4 4h0m-8-5h0m-1 4h0m-11-3h0m-75 8h0m115 8h0m-2-5h0m-1 4h0m-2-1h0m-94-2h0m92 8h0m0 1h0m1-2h0m-8 4h0m-101 2h0m94 7h0m1-3h0m6 2h0m7-2h0m-13 14h0"/>
<path stroke="#ea593a" d="m114 70h0m-10-4h0m-13 10h0m18-1h0m1 2h0m5 2h0m-6 0h0m-1 4h0m-7-2h0m-6 2h0m-13-1h0m-1 1h0m-10 2h0m3 4h0m1 0h0m9-1h0m1 0h0m0-1h0m11-1h0m5 2h0m1-2h0m49 6h0m-8 2h0m-57 1h0m-12-5h0m-17 5h0m2 2h0m2-1h0m2 5h0m2-2h0m11 2h0m6-4h0m2 2h0m10-3h0m6 5h0m4-5h0m26 3h0m1 0h0m5-1h0m2-2h0m4 0h0m0 2h0m10 0h0m2 2h0m7 6h0m-5-2h0m-13 3h0m-1-2h0m0 2h0m-3-3h0m-2-2h0m-56 1h0m-2-1h0m0 3h0m-1 2h0m-11-3h0m0 1h0m-8-1h0m-4 8h0m9 1h0m17-3h0m2 3h0m18-5h0m11 3h0m2 1h0m0-2h0m3 2h0m12 0h0m5 0h0m0-2h0m3 2h0m2-4h0m7 2h0m2 2h0m16 6h0m-6-2h0m-2-1h0m-16 3h0m-15-2h0m-1 0h0m-3 0h0m-1 3h0m-2-1h0m-1-1h0m-39 0h0m-19-2h0m0 0h0m-1 4h0m-21 6h0m0-1h0m1 0h0m5-4h0m1 5h0m4-5h0m15 0h0m55 1h0m22 3h0m1-2h0m10 1h0m12 2h0m3 0h0m-6 4h0m-12-1h0m0-2h0m-14 4h0m-13 1h0m-5-5h0m-31 0h0m-39 1h0m-21 8h0m2 2h0m12 0h0m4-2h0m88-1h0m23-2h0m2 5h0m0-2h0m1-3h0m10 4h0m3 5h0m-1 1h0m-4 0h0m-6-4h0m-4 4h0m-4-4h0m0 1h0m0 0h0m-8 3h0m-2-1h0m-8 1h0m-1-1h0m-8-1h0m-97 0h0m-10 6h0m1 0h0m1-2h0m11 2h0m5 3h0m9 0h0m86-1h0m27 1h0m2-4h0m4 2h0m1 4h0m-2-1h0m-1 3h0m-5-2h0m-22 0h0m-87 4h0m-13-1h0m-19 6h0m17-1h0m-4 9h0m5 1h0m92 14h0m7 1h0m14-3h0m7 7h0m-21 4h0m28 12h0"/>
<path stroke="#d73027" d="m108 75h0m-5 5h0m-18 9h0m15-1h0m57 7h0m-25 13h0m3 4h0m27-3h0m2 8h0m0-1h0m-18 2h0m-18-4h0m-54 3h0m-36 18h0m-7 12h0m1 0h0m102-3h0m8 1h0m3-1h0m4 4h0m-115 17h0"/>
</g></g><use href="#t102" stroke-width="3.5"/></g>
<path d="M715.8 1438.7V1642.6H934.6" fill="none" stroke="#000" stroke-width="1.9"/>
<text x="715.8" y="1655.4" font-size="9.4" text-anchor="middle" fill="#333">−50</text>
<text x="766.7" y="1655.4" font-size="9.4" text-anchor="middle" fill="#333">−25</text>
<text x="817.5" y="1655.4" font-size="9.4" text-anchor="middle" fill="#333">0</text>
<text x="868.4" y="1655.4" font-size="9.4" text-anchor="middle" fill="#333">25</text>
<text x="919.3" y="1655.4" font-size="9.4" text-anchor="middle" fill="#333">50</text>
<text x="711.2" y="1442.7" font-size="9.4" text-anchor="end" fill="#333">50</text>
<text x="711.2" y="1494" font-size="9.4" text-anchor="end" fill="#333">25</text>
<text x="711.2" y="1545.2" font-size="9.4" text-anchor="end" fill="#333">0</text>
<text x="711.2" y="1596.5" font-size="9.4" text-anchor="end" fill="#333">−25</text>
<path d="M715.8 1642.6v3.2M766.7 1642.6v3.2M817.5 1642.6v3.2M868.4 1642.6v3.2M919.3 1642.6v3.2M715.8 1439.2h-3.2M715.8 1490.5h-3.2M715.8 1541.7h-3.2M715.8 1593h-3.2" stroke="#000" stroke-width="1.5" fill="none"/>
<text x="824.5" y="1673.9" font-size="14" text-anchor="middle">tSNE_1</text>
<text x="700.5" y="1540.6" font-size="14" text-anchor="middle" transform="rotate(-90 700.5 1540.6)">tSNE_2</text>
<text x="851.3" y="1362.5" font-size="33.5" text-anchor="middle" font-style="italic" stroke-width="0.40">Rora</text>
<rect x="945.6" y="1517.6" width="11.4" height="56.7" fill="url(#rb)"/>
<text x="946" y="1513.6" font-size="7.3" fill="#222">Scale.data</text>
<text x="960.3" y="1530.3" font-size="6.1" fill="#333">1</text>
<text x="960.3" y="1545.6" font-size="6.1" fill="#333">0</text>
<text x="960.3" y="1560.8" font-size="6.1" fill="#333">−1</text>
<text x="960.3" y="1575.9" font-size="6.1" fill="#333">−2</text>
<path d="M945.6 1528.1h2.3M957 1528.1h-2.3M945.6 1543.4h2.3M957 1543.4h-2.3M945.6 1558.6h2.3M957 1558.6h-2.3M945.6 1573.7h2.3M957 1573.7h-2.3" stroke="#fff" stroke-width="0.5" fill="none"/>
<g transform="translate(1045.3 1381.6)" fill="none" stroke-linecap="round"><g stroke-width="4.2"><g id="t103">
<path stroke="#4575b4" d="m102 62h0m0 0h0m2-2h0m3 1h0m1 1h0m0-2h0m0 5h0m1-3h0m2 1h0m1 1h0m1 0h0m0 0h0m1 1h0m3-2h0m1 0h0m2 2h0m0-1h0m2 3h0m0 4h0m-1-3h0m0 2h0m-1-1h0m-1-2h0m-1-1h0m0 0h0m0 1h0m-1 4h0m0-4h0m-1 3h0m-1-4h0m-1 5h0m0-4h0m-1 2h0m-1 0h0m-1 2h0m0-1h0m-1-2h0m0-1h0m0 2h0m0-3h0m-2 5h0m-1-4h0m0 2h0m-1 2h0m-1-3h0m-1-1h0m-1 3h0m0 0h0m-1 1h0m0 0h0m-1-3h0m0 3h0m-1-1h0m-1-4h0m-1 4h0m0-1h0m-1-1h0m0 3h0m0-2h0m-3 1h0m-3 0h0m-1 0h0m-1 1h0m-1 0h0m-9 4h0m2-1h0m0 3h0m2 0h0m0 0h0m0-4h0m1 1h0m1 2h0m0 1h0m0 0h0m0-4h0m1 2h0m1 0h0m1 1h0m0-2h0m1-2h0m0 4h0m1-4h0m0 3h0m1-3h0m0 0h0m1 3h0m2 1h0m0-4h0m1 1h0m3 0h0m0 3h0m1 1h0m0-2h0m0 2h0m1-4h0m0 3h0m0-4h0m1 0h0m0 4h0m1 0h0m3-2h0m0 3h0m0-2h0m0 1h0m1-4h0m0 1h0m1-1h0m0 0h0m2 2h0m2 3h0m1-4h0m0 4h0m1-4h0m0 4h0m2-2h0m0 0h0m0-3h0m1 2h0m0 3h0m1-5h0m1 3h0m1-2h0m33 10h0m-27-3h0m-9-2h0m-1 1h0m-1 1h0m0 0h0m-1 2h0m-1-2h0m0-1h0m-1 2h0m-1-1h0m-2 3h0m0-2h0m0 2h0m-1 0h0m-1-3h0m0 0h0m0 1h0m0-1h0m0-1h0m0 3h0m0-3h0m-1 1h0m0 3h0m0 0h0m0-4h0m0-1h0m-1 3h0m0 1h0m0 1h0m-1 0h0m0 0h0m0-3h0m0 0h0m-1-1h0m0 0h0m-1-1h0m0 4h0m0 0h0m-1-1h0m0-1h0m-1-2h0m0 1h0m0 3h0m-9-3h0m0 4h0m-1-5h0m0 2h0m0 2h0m-1 1h0m0-2h0m-1 1h0m-1-4h0m0 1h0m-1-1h0m0 3h0m-1-1h0m-1 1h0m0 1h0m0-1h0m0 2h0m-1 0h0m-1 0h0m0-2h0m-2-1h0m0 3h0m-1 0h0m0-5h0m-1 5h0m0-2h0m0-2h0m-1-1h0m0 0h0m0 3h0m0-3h0m0 5h0m-2-5h0m0 5h0m0-4h0m-1 1h0m-1 3h0m0-2h0m0 1h0m0-2h0m0-1h0m0 1h0m-1 1h0m0-1h0m-1 3h0m-1-4h0m0 0h0m-2 4h0m-2-2h0m0 1h0m-1 0h0m0-1h0m-1 0h0m-4 7h0m0-3h0m0 4h0m1-2h0m4 2h0m1-3h0m1-1h0m1 2h0m2 1h0m0-4h0m0 0h0m2 2h0m1-1h0m0 4h0m0-3h0m0 3h0m1-3h0m0-2h0m0 2h0m1 1h0m0 2h0m2-3h0m1-2h0m4 4h0m0 0h0m2-3h0m1 3h0m0-3h0m1 3h0m3 0h0m0 0h0m1 1h0m1-4h0m0-1h0m7 3h0m3 0h0m0 1h0m0 0h0m0 0h0m1-2h0m1 2h0m1-4h0m1 0h0m0 4h0m1 1h0m1 0h0m1-3h0m1-2h0m0 2h0m2 3h0m0 0h0m0-3h0m1 3h0m1-3h0m0 1h0m0 0h0m2-3h0m1 1h0m0 1h0m1-2h0m30 4h0m1-1h0m1-1h0m0 0h0m0 3h0m0-1h0m0 0h0m0-2h0m0 3h0m1-4h0m0 2h0m0 2h0m0-1h0m1-3h0m5 4h0m0-2h0m1 0h0m0-1h0m0 1h0m2 2h0m1 0h0m0-2h0m4 2h0m0-1h0m1 0h0m6 5h0m0-1h0m-1 3h0m-1-4h0m0 1h0m-1 0h0m0 2h0m-1-1h0m-1-2h0m0 3h0m-3-3h0m0 2h0m-1 0h0m-1-1h0m0 3h0m-2-2h0m-1-1h0m0 2h0m-1 0h0m0-4h0m-1 1h0m0 2h0m-2 0h0m0-3h0m0 3h0m0-1h0m-1 1h0m0-2h0m-2 4h0m0-5h0m-1 1h0m-1 2h0m-1-2h0m0 2h0m0 0h0m-1 1h0m-1 1h0m-1-4h0m0 0h0m-1 4h0m0 0h0m0-3h0m-1 0h0m0 1h0m0 2h0m-1 0h0m0-3h0m-3 1h0m-1 0h0m0-1h0m-1 3h0m0-2h0m-1 0h0m0 1h0m-1 1h0m-24-3h0m-1 1h0m-1-2h0m0-1h0m-1 3h0m-1 2h0m-4-3h0m-1 3h0m0 0h0m0-2h0m0 0h0m-1 2h0m-1-1h0m-1-3h0m0 0h0m0 0h0m0 0h0m0-1h0m-1 2h0m0 0h0m0-2h0m-1 3h0m-2 0h0m-1 1h0m-3 0h0m0-3h0m-3 2h0m0-2h0m0 2h0m-1 2h0m0-4h0m0 0h0m-1 2h0m0 1h0m-2 1h0m0-1h0m-1-1h0m0 2h0m-1-2h0m0 0h0m0-2h0m0 2h0m0-3h0m0 2h0m0 1h0m-1 2h0m0 0h0m0-2h0m-1-1h0m0-2h0m0 3h0m-1 2h0m-1-2h0m-1 2h0m-1-5h0m-1 2h0m0 2h0m-1-2h0m0-1h0m-1 0h0m-1-1h0m-1 0h0m0 3h0m-1 2h0m-1 0h0m0 0h0m-1-2h0m-1 2h0m0-5h0m-2 4h0m-1-4h0m0 4h0m-1-3h0m0 0h0m-1 0h0m-2-1h0m0 5h0m0-3h0m-1 2h0m0-4h0m-1 3h0m-2 1h0m-6 1h0m0 4h0m0 2h0m1-2h0m0-2h0m2 2h0m3-1h0m1-1h0m0 3h0m0-4h0m1 1h0m1 3h0m1 1h0m0-5h0m2 3h0m0 1h0m0-2h0m3 1h0m2-3h0m0 0h0m1 3h0m0 0h0m2-1h0m1 1h0m2-2h0m0 0h0m1 4h0m0-5h0m1 2h0m0 3h0m0-3h0m1 2h0m1-3h0m0 1h0m2 0h0m1 3h0m0-5h0m1 4h0m1 0h0m0 0h0m0-3h0m1 3h0m0-3h0m0 3h0m2-3h0m2 1h0m0 1h0m1-1h0m1 2h0m0-4h0m1 4h0m0-4h0m1 4h0m1 1h0m0-1h0m1-2h0m0-2h0m9 2h0m0 2h0m3-4h0m0 0h0m1 5h0m0-3h0m0-2h0m2 0h0m1 0h0m18 4h0m0 0h0m1 0h0m0-1h0m1 0h0m2-1h0m1 2h0m1-3h0m0 0h0m2 2h0m0-1h0m1 3h0m1-2h0m0 2h0m1-1h0m2-2h0m0-1h0m2 0h0m1 2h0m0-1h0m1-1h0m0 0h0m1-1h0m1 4h0m0 1h0m0-5h0m0 0h0m1 0h0m1 4h0m3-1h0m1-2h0m0 1h0m0-1h0m2 2h0m2 1h0m1 1h0m1-5h0m0 5h0m1-2h0m0-1h0m0 1h0m1 1h0m0 0h0m2 1h0m1-2h0m0 0h0m0 0h0m0 0h0m1-2h0m2 3h0m0-3h0m2 4h0m0-5h0m0 2h0m1 2h0m1-4h0m0 3h0m1 2h0m1-1h0m0 1h0m0-2h0m1 2h0m0-4h0m0 3h0m1 0h0m0 0h0m1 1h0m-1 3h0m-1-2h0m0 5h0m0-3h0m0-2h0m-1 5h0m0 0h0m0-3h0m-1-2h0m-2 2h0m0-1h0m-1 0h0m-1 4h0m0-4h0m-1 0h0m0-1h0m-1 3h0m-1 2h0m-1 0h0m-3-5h0m-1 1h0m-3 1h0m0 2h0m-1 1h0m-1-3h0m-1-2h0m0 3h0m0 0h0m0 0h0m-1-1h0m-1 3h0m0-5h0m-1 3h0m0 1h0m0-1h0m0 0h0m-1 2h0m0 0h0m0-5h0m0 3h0m0 0h0m-1-1h0m0-2h0m-1 0h0m0 2h0m0 0h0m0 3h0m-1-1h0m0-3h0m0 2h0m0 0h0m-1-1h0m-1 0h0m0 1h0m-1 2h0m0 0h0m-2 0h0m0-2h0m0-2h0m-1 4h0m0-3h0m-1 3h0m0 0h0m-1-1h0m0-3h0m0-1h0m-1 5h0m-2 0h0m0 0h0m0-2h0m0-3h0m0 3h0m-2-2h0m0 0h0m-1 2h0m0-1h0m-1 0h0m0-1h0m0 0h0m-2-1h0m0 3h0m0 0h0m-1 0h0m0 2h0m-1-1h0m0 1h0m-1-4h0m-3 4h0m-1-5h0m-2 5h0m0-3h0m0 3h0m-1-3h0m0 0h0m0 2h0m-2-2h0m0 3h0m0-1h0m-1 1h0m0-2h0m0 1h0m-1-1h0m-3 0h0m-1 0h0m-4-3h0m-1 1h0m-2-1h0m-4 0h0m-7 5h0m-3-4h0m0 3h0m-3-3h0m-1 3h0m-1-1h0m0 1h0m0-1h0m-1 2h0m-2-3h0m0-2h0m-1 2h0m-3-2h0m-1 5h0m-4-4h0m0 1h0m-2 1h0m0-1h0m-1 2h0m-1 0h0m-1-1h0m-3-3h0m-1 3h0m-1 2h0m-1-1h0m0 1h0m-2-5h0m-1 5h0m-1-1h0m0-1h0m0 1h0m0-2h0m-2 3h0m0-4h0m-2 0h0m-2 2h0m-1-2h0m-2 2h0m-1-2h0m-1 1h0m0-1h0m-2 1h0m-1 1h0m0 2h0m-5 5h0m1-2h0m4 0h0m0 1h0m1 1h0m1-4h0m1 5h0m1 0h0m0-5h0m0 5h0m0-3h0m2 2h0m2-1h0m3-1h0m0 0h0m1-2h0m0 1h0m0-1h0m1 4h0m0-2h0m1-1h0m0 3h0m1-4h0m2 4h0m0-4h0m1 1h0m0 1h0m0-1h0m0 3h0m1-4h0m0 0h0m3 1h0m0 2h0m1 1h0m0-1h0m0-2h0m0-1h0m1 4h0m0-1h0m1 2h0m0-5h0m1 4h0m1 1h0m0-1h0m1-2h0m1 1h0m2-3h0m1 5h0m1-1h0m0-2h0m0 2h0m1-2h0m0 1h0m2-3h0m1 3h0m1-1h0m0 2h0m0-4h0m0 2h0m0 2h0m2-2h0m1-1h0m1-1h0m1 5h0m0-4h0m0 1h0m0-2h0m1 1h0m0 3h0m2 1h0m1-4h0m1 3h0m1-3h0m30 0h0m0 3h0m0-4h0m0 0h0m0 5h0m0-2h0m2 2h0m0-4h0m1 4h0m0-2h0m0 2h0m0-4h0m0 4h0m1-4h0m0 1h0m0 2h0m2-3h0m1 2h0m0 0h0m0-2h0m1 1h0m0-2h0m0 3h0m3-2h0m1 3h0m0-1h0m0-2h0m1 1h0m0-2h0m1 2h0m0-1h0m0 0h0m0 0h0m0 0h0m1-1h0m1 0h0m0 1h0m0 1h0m0-2h0m1 0h0m3 2h0m0 1h0m1 1h0m0-4h0m0 0h0m1 3h0m1 1h0m0-2h0m1 3h0m0 0h0m0-5h0m1 2h0m0 1h0m1-1h0m0 2h0m1-2h0m1 2h0m1 1h0m1-1h0m0 1h0m0 0h0m1-4h0m1 0h0m0 4h0m1 0h0m0-3h0m1-2h0m0 3h0m0-1h0m1 1h0m1-1h0m1 2h0m1 0h0m1-2h0m0 2h0m1-4h0m0 2h0m0 0h0m1-1h0m0 1h0m0 2h0m1-1h0m1 2h0m1 0h0m0-2h0m1-1h0m0-2h0m0 5h0m0-3h0m1 3h0m1 0h0m1-3h0m0 3h0m0-5h0m0 3h0m1 1h0m1-4h0m-4 6h0m-2 1h0m0 0h0m0 2h0m-1 2h0m-2-5h0m0 2h0m-3 3h0m-2-3h0m-1 3h0m0 0h0m0-2h0m0 2h0m-1-1h0m0-3h0m0 2h0m-2 2h0m0-2h0m-1-1h0m0 2h0m-1-3h0m-1 0h0m-2-1h0m-2 1h0m-1 2h0m-1 0h0m0 2h0m0-4h0m0 3h0m-1-4h0m0 5h0m-1-1h0m-1-3h0m0 4h0m0-3h0m0 2h0m-2 1h0m0 0h0m-1-2h0m0 0h0m-1-1h0m0 2h0m-2-1h0m0 1h0m-1-4h0m0 0h0m-3 3h0m-2 0h0m-1 1h0m0 1h0m-1-5h0m-3 0h0m-1 0h0m0 3h0m-1-3h0m0 2h0m-1 3h0m-26-5h0m-6 3h0m0 0h0m0 2h0m-1-3h0m0-2h0m-1 1h0m0 4h0m-2-3h0m-1 0h0m0 2h0m-2-4h0m0 0h0m-1 5h0m-1-2h0m-1-3h0m0 4h0m0 1h0m0-1h0m-1-3h0m0 4h0m-1-3h0m0-2h0m-3 1h0m-1-1h0m-1 2h0m0-2h0m-1 2h0m-3 0h0m-1 3h0m0-1h0m0-1h0m-1 0h0m0-2h0m0 1h0m0-1h0m0-1h0m0 4h0m-2-2h0m0-1h0m0 0h0m0 1h0m-1 0h0m0 0h0m-1-1h0m0 1h0m-3-2h0m-8 0h0m-1 1h0m0 3h0m0 0h0m-1-3h0m0 4h0m-1-3h0m-2 0h0m-1 3h0m-1-4h0m0 1h0m0 2h0m-1 0h0m-1 0h0m-1 1h0m-1-4h0m-1 4h0m0-4h0m0 2h0m-2 2h0m0-5h0m-11 9h0m1-1h0m1 1h0m1 0h0m1-1h0m1 2h0m1-1h0m0-2h0m1 4h0m0-2h0m0-1h0m1 0h0m0 1h0m1 2h0m0-5h0m1 4h0m0 1h0m1 0h0m0-4h0m0 3h0m1-1h0m3-3h0m1 0h0m0 4h0m0-2h0m0-2h0m1 5h0m1-1h0m0-1h0m0-1h0m0 3h0m1-5h0m0 5h0m1 0h0m0-4h0m1 1h0m0 3h0m1-5h0m0 5h0m1-1h0m0 1h0m0-4h0m1 0h0m0 2h0m1 2h0m0 0h0m0 0h0m8-1h0m3-1h0m3-1h0m0 3h0m1 0h0m0-3h0m1 1h0m0-1h0m0 2h0m0-2h0m0 2h0m1 0h0m1-2h0m1 2h0m0-4h0m1 2h0m0 1h0m1-1h0m1 3h0m2-2h0m0 1h0m0 0h0m0 0h0m1-4h0m0 1h0m0-1h0m1 0h0m0 4h0m1-1h0m1-2h0m1-1h0m0 5h0m1-3h0m0-1h0m3-1h0m1 1h0m1 1h0m0-1h0m1 0h0m1 1h0m0-2h0m1 1h0m0 3h0m0-3h0m0 2h0m2 0h0m7-1h0m18 2h0m1-2h0m0 2h0m1-2h0m0 0h0m1-2h0m0 1h0m1 2h0m0-1h0m1 1h0m0-3h0m2 5h0m0-1h0m1 0h0m1-4h0m2 5h0m3-1h0m0-1h0m1 0h0m2 1h0m0-4h0m1 5h0m1-4h0m1 0h0m0 3h0m1-4h0m2 1h0m1-1h0m1 0h0m1 0h0m2 3h0m0-3h0m0 3h0m0-1h0m1 2h0m0 0h0m0-2h0m1 0h0m1 2h0m5 1h0m0-2h0m0-1h0m1-2h0m0 5h0m1-4h0m0 1h0m0 3h0m0-3h0m1 2h0m0 0h0m1-2h0m1 1h0m0-3h0m2 0h0m1 1h0m1-1h0m5 4h0m0-3h0m1 4h0m0-4h0m0 3h0m1-4h0m0 5h0m0-5h0m1 2h0m0 3h0m1-5h0m0 0h0m1 0h0m0 5h0m2-2h0m1 1h0m1 1h0m-1 2h0m-1 2h0m-1 0h0m0-2h0m-1 3h0m-5-4h0m-1 5h0m-1-4h0m0 0h0m-2 0h0m0 1h0m-1 3h0m0-1h0m0 0h0m-1-3h0m-1 0h0m0 3h0m0-3h0m-2 2h0m-1 0h0m-3 2h0m-1-3h0m0 2h0m-2-1h0m-4 0h0m-1-1h0m0 0h0m0-2h0m-7 0h0m-1 3h0m0 2h0m-1-5h0m0 4h0m-1-1h0m0 1h0m0-1h0m-1 1h0m-1-3h0m-2 1h0m0 0h0m-2 1h0m-3-3h0m0 1h0m-1 0h0m-1 1h0m0 2h0m-1-4h0m0 3h0m-1 0h0m0 1h0m-2 1h0m-1-5h0m0 2h0m0 1h0m-1-3h0m0 3h0m-2-2h0m0 2h0m-27-1h0m-2 0h0m0 1h0m0-1h0m0-1h0m0-1h0m-1 2h0m-1 0h0m0 3h0m-1-2h0m0-1h0m0 2h0m-1 1h0m0-1h0m0-1h0m0-3h0m-1 0h0m0 1h0m0 1h0m-2 3h0m0-3h0m-1-2h0m-2 3h0m-1-2h0m-1 4h0m-1 0h0m-1-1h0m0-4h0m-1 5h0m-1-3h0m0-2h0m0 1h0m0-1h0m0 0h0m-1 2h0m0 0h0m-1-2h0m-2 3h0m0 0h0m-5-3h0m-3 0h0m-4 0h0m-2 3h0m-1 0h0m0 2h0m-2-3h0m0 0h0m-1 3h0m0-3h0m-1 2h0m-1-2h0m-1-1h0m0 0h0m-1-1h0m0 0h0m-1 5h0m-2-2h0m0 0h0m0-3h0m-1 0h0m0 1h0m-1 2h0m-1-2h0m-1 4h0m0 0h0m0 0h0m0-4h0m-1 4h0m0-2h0m-1-1h0m-1 2h0m0 1h0m0-2h0m-1-1h0m-1 2h0m0-3h0m0 0h0m-3 4h0m0-5h0m-2 0h0m-1 5h0m-1-5h0m0 1h0m-1 1h0m0 3h0m-2 0h0m-1-1h0m-2 6h0m1 0h0m1-3h0m1 1h0m0 3h0m1-4h0m2 1h0m1 2h0m0-3h0m1 0h0m1 4h0m1-1h0m1 1h0m0-4h0m1 1h0m2-1h0m3-1h0m0 0h0m1 0h0m2 0h0m0 3h0m0-2h0m1 0h0m1 4h0m1-5h0m0 4h0m2-2h0m1 2h0m1 0h0m1-1h0m0 1h0m1-2h0m0 2h0m1 0h0m0-2h0m0-1h0m1 1h0m0 1h0m0-3h0m1 3h0m0 1h0m0-4h0m0 2h0m1 2h0m0 1h0m1-4h0m0-1h0m2 5h0m13-3h0m0 1h0m1 2h0m1-2h0m1-2h0m0 0h0m0 3h0m0-1h0m1 2h0m0-2h0m1 0h0m0-2h0m0 3h0m2 1h0m0-2h0m1 0h0m1 1h0m1-4h0m1 1h0m0 0h0m0 4h0m1-4h0m1-1h0m1 5h0m0-1h0m1-2h0m0-2h0m1 2h0m0 2h0m2 0h0m0-3h0m1 3h0m22 0h0m1-2h0m1 1h0m0 2h0m1-1h0m0-3h0m1 4h0m2-4h0m0-1h0m0 2h0m2-1h0m1 1h0m5 2h0m2-3h0m0-1h0m0 3h0m0 0h0m1 2h0m1-1h0m8-3h0m1 2h0m0 1h0m0-4h0m0 1h0m0 3h0m8 1h0m1-3h0m0 0h0m1 2h0m1-2h0m1 3h0m0-4h0m1 4h0m0-2h0m1 0h0m0-1h0m1 3h0m0-1h0m0-4h0m2 2h0m1 1h0m0-3h0m0 1h0m1-1h0m0 2h0m0 0h0m0 3h0m1-2h0m0 1h0m0-2h0m0 2h0m0 1h0m0-1h0m3 1h0m0 0h0m0-3h0m1 3h0m0-5h0m0 1h0m0 4h0m0-1h0m1-4h0m0 4h0m1 0h0m0 1h0m0 0h0m0-5h0m0 0h0m1 2h0m1 0h0m1-2h0m1 0h0m0 1h0m1-1h0m0 2h0m1 3h0m0-1h0m1 0h0m2-4h0m0 0h0m1 2h0m1 3h0m0 0h0m1-4h0m0 0h0m1 4h0m1-4h0m-2 5h0m0 2h0m-2-2h0m0 1h0m0 0h0m0-1h0m-1 0h0m0 0h0m-1 3h0m-1-3h0m-1 0h0m-1 5h0m-1-5h0m0 5h0m-1-1h0m-2 0h0m0-2h0m0 2h0m-1 1h0m0-2h0m-2 1h0m-1-1h0m-1-1h0m0-2h0m-1 0h0m-1 2h0m-3 1h0m-1-1h0m0 3h0m0-2h0m-1-1h0m-1 0h0m-1 2h0m0-2h0m-1 0h0m-1 3h0m0-5h0m0 2h0m0-2h0m0 5h0m0-3h0m-1-1h0m-1 4h0m0-2h0m-1 1h0m0 0h0m-1 0h0m0-4h0m0 1h0m0 3h0m-1-1h0m-2-1h0m-1 3h0m-1 0h0m-1-1h0m0-4h0m0 0h0m-1 0h0m0 3h0m0-1h0m-1 0h0m-1 2h0m-1-1h0m-2 0h0m-4 0h0m0-2h0m0-1h0m-2 4h0m-1 1h0m0-3h0m0 3h0m-1 0h0m-1-4h0m-1 3h0m-1-1h0m0 2h0m0-2h0m-1-3h0m0 1h0m-2-1h0m-1 5h0m0-2h0m0-3h0m-2 0h0m-1 3h0m-1-2h0m0 3h0m-1 1h0m-1-1h0m-2-4h0m-17 5h0m-1-2h0m0 2h0m0-1h0m-1-1h0m0 0h0m0-3h0m-1 4h0m0-3h0m0 3h0m-1 1h0m-1 0h0m0 0h0m-2-4h0m0-1h0m0 3h0m-1 0h0m0 0h0m0-1h0m-1-2h0m0 5h0m-1-5h0m0 3h0m-1-3h0m0 4h0m0-1h0m-1-1h0m0 3h0m-1-5h0m0 3h0m-1-2h0m0-1h0m0 0h0m0 1h0m-1 1h0m-1-2h0m-1 0h0m-2 0h0m0 3h0m-1 2h0m0-4h0m0 4h0m-3-2h0m0 0h0m0 0h0m-1-1h0m-1-1h0m0-1h0m-5 5h0m-2-2h0m-1 1h0m-1-2h0m-1-1h0m-1 4h0m-1-3h0m-1 2h0m0-2h0m-2 3h0m-1-1h0m0-3h0m0 3h0m-2-2h0m0-2h0m-1 4h0m-1 0h0m0-1h0m-1 1h0m-1-2h0m0 3h0m0-5h0m-1 3h0m0 2h0m-1-5h0m0 0h0m-1 5h0m0-1h0m-1-2h0m0 0h0m-6 3h0m-2-4h0m-1 4h0m0-5h0m0 5h0m0-1h0m-1 1h0m0-5h0m-1 0h0m0 2h0m0 2h0m-1 0h0m-1 1h0m0-1h0m-1 0h0m0 0h0m-1 0h0m0-3h0m0-1h0m0 1h0m0 4h0m-1-3h0m0 2h0m-1-1h0m-1 0h0m0-3h0m0 0h0m0 3h0m-1-1h0m-1 0h0m0-2h0m0 5h0m-1-1h0m0 1h0m-1-3h0m0 2h0m0-1h0m0-1h0m-1 2h0m-1 0h0m-1 0h0m0 1h0m-7 6h0m2 0h0m0-1h0m2-3h0m3 0h0m0 2h0m1-3h0m1 4h0m0 0h0m2 1h0m0 0h0m1-4h0m3 4h0m1-5h0m0 0h0m0 3h0m1 0h0m0 1h0m2-4h0m2 5h0m0-1h0m1 0h0m0-3h0m1-1h0m1 3h0m0-3h0m0 4h0m1 1h0m1-5h0m0 1h0m4 4h0m0-1h0m1-3h0m0 3h0m0-3h0m1 0h0m0 1h0m1 3h0m1-3h0m0-1h0m0 2h0m1 2h0m1-2h0m0-2h0m0 2h0m1 1h0m1-4h0m1 1h0m1 4h0m0 0h0m1-5h0m1 0h0m0 1h0m1 2h0m0-3h0m1 4h0m1-3h0m2 2h0m0-1h0m0-2h0m1 1h0m0 1h0m1 1h0m1-1h0m1 0h0m1 3h0m2-5h0m1 2h0m0-2h0m0 2h0m13 2h0m1 1h0m1-5h0m0 4h0m1-4h0m0 1h0m1 3h0m1-4h0m0 5h0m0-2h0m1-3h0m1 5h0m0-2h0m0 2h0m0-2h0m0 2h0m1-5h0m0 2h0m3-2h0m0 4h0m2-3h0m0 2h0m0-3h0m0 2h0m0 2h0m1 1h0m0 0h0m0-2h0m0 0h0m1-3h0m7 4h0m12-3h0m2 1h0m0 2h0m0-3h0m1-1h0m0 1h0m0 1h0m1 1h0m0-1h0m0-1h0m0 1h0m1-2h0m0 4h0m1 1h0m0 0h0m1-2h0m0 2h0m1-2h0m1-2h0m0 1h0m0-1h0m1 1h0m0 1h0m1-2h0m1 2h0m0-2h0m0 2h0m1-1h0m0 2h0m2-1h0m1-2h0m1 2h0m0-1h0m0-2h0m1 2h0m5 0h0m0-2h0m0 0h0m1 4h0m1 0h0m1-3h0m1 2h0m1 2h0m0-2h0m1 0h0m0-1h0m2 1h0m0-1h0m0 0h0m0-1h0m1 2h0m1 2h0m1-4h0m1 1h0m1 1h0m0-1h0m1-2h0m0 1h0m0 0h0m1 1h0m0 0h0m1 1h0m0-2h0m2 2h0m1-3h0m1 1h0m1 4h0m2-5h0m1 3h0m1-1h0m1 0h0m1 1h0m1-1h0m2-1h0m3 3h0m0-2h0m0-2h0m0 5h0m1-4h0m0-1h0m1 3h0m0 0h0m0-2h0m1-1h0m0 0h0m0 3h0m1-3h0m24 4h0m2 1h0m3-2h0m2 1h0m3 0h0m0 1h0m1 0h0m8 5h0m0 0h0m0 0h0m0-1h0m-1 2h0m-1 0h0m0-1h0m-1-1h0m-1-2h0m0 2h0m-2-3h0m0 1h0m-1 0h0m0-1h0m-1 1h0m0 3h0m0-3h0m0 1h0m-1 1h0m-2-3h0m0 0h0m-1 1h0m-1 2h0m0-2h0m-1 4h0m-1-4h0m0 0h0m0-1h0m-1 5h0m0-2h0m-1 2h0m-1-3h0m-2 0h0m0 3h0m-1-1h0m0-2h0m0 2h0m0-2h0m-1-2h0m0 1h0m-1 1h0m-1 3h0m0-2h0m0 0h0m-2 1h0m-14-3h0m-9-1h0m0 0h0m-1 0h0m-1 0h0m-21 1h0m-3 1h0m-1-2h0m0 4h0m-1-4h0m-1 1h0m0 2h0m0-3h0m-1 1h0m-1 0h0m0-1h0m-1 3h0m-1 1h0m0-1h0m-1-2h0m-1 0h0m0-1h0m-1 3h0m0 1h0m0 1h0m-1-1h0m0 1h0m-2-3h0m0 0h0m0 1h0m-5 2h0m0 0h0m0-4h0m-2-1h0m-1 4h0m0-3h0m0 4h0m-1-3h0m0-2h0m-1 1h0m0-1h0m-1 1h0m0-1h0m-1 0h0m-23 0h0m-1 0h0m-1 0h0m-1 0h0m0 3h0m-1 2h0m-1-5h0m0 5h0m-1-4h0m0 4h0m0-1h0m-1-4h0m-1 4h0m0-2h0m-1-2h0m0 2h0m0 2h0m-1-2h0m-1 0h0m0 1h0m0-3h0m-1 1h0m-1-1h0m-16 0h0m0 0h0m-1 0h0m-1 4h0m-1 0h0m-1-2h0m0 0h0m0-1h0m0 2h0m-1-2h0m0 0h0m0 0h0m-1 0h0m-1-1h0m-2 3h0m0-3h0m-3 2h0m-1-2h0m0 1h0m0 2h0m-1 1h0m0-3h0m-1 0h0m0 0h0m-2 0h0m0 1h0m0-2h0m-5 4h0m-1-2h0m0 3h0m-2-1h0m-1-1h0m0-3h0m0 5h0m0-1h0m-1-1h0m0 1h0m-1-4h0m-2 2h0m-1 0h0m-2-1h0m0 1h0m0 3h0m0-3h0m-1 3h0m-1-1h0m0 1h0m0-4h0m-1 4h0m0-5h0m-1 2h0m-1-1h0m0 2h0m-1 1h0m-1 1h0m0-4h0m0 4h0m0-5h0m-1 2h0m0 2h0m-1 0h0m0 1h0m-1-2h0m0-3h0m-1 1h0m0-1h0m0 0h0m-3 2h0m-1 3h0m0-1h0m-1-1h0m0-2h0m0 3h0m-1-2h0m-1-1h0m-1 0h0m0 4h0m-1-4h0m0 0h0m1 6h0m0 3h0m2-4h0m0 3h0m0-2h0m0 1h0m1 1h0m0-3h0m0 3h0m0-2h0m0 2h0m1-1h0m0-2h0m2 4h0m2-3h0m1 4h0m0-2h0m1-3h0m0 4h0m0-3h0m1-1h0m1 2h0m0-1h0m4-1h0m0 0h0m3 1h0m1 1h0m1 1h0m0-1h0m1 1h0m0-3h0m0 4h0m1-4h0m1 5h0m1-4h0m0-1h0m0 0h0m1 0h0m0 1h0m0 4h0m1-3h0m0-2h0m0 5h0m1-3h0m1 0h0m0 2h0m0-4h0m1 3h0m0 1h0m19-3h0m0 3h0m1-2h0m0-2h0m1 3h0m0-3h0m1 4h0m0-3h0m0 2h0m0-2h0m1 1h0m53 3h0m0 0h0m2-4h0m0 2h0m1 0h0m0-1h0m2-1h0m0 3h0m1-3h0m0 1h0m0 3h0m1-2h0m0 0h0m1-3h0m1 2h0m1 2h0m1-1h0m0 2h0m0-5h0m3 2h0m1-1h0m0-1h0m1 1h0m0 3h0m2 0h0m1-2h0m0 0h0m2-1h0m0 3h0m0-2h0m1 1h0m1-3h0m2 1h0m44 4h0m1-1h0m2-4h0m0 2h0m0 1h0m0 0h0m0 2h0m2-2h0m1-1h0m0 3h0m0 0h0m0-2h0m0 2h0m0-4h0m0 3h0m1-3h0m0 2h0m1-3h0m0 0h0m0 3h0m1 0h0m0 2h0m0-2h0m0 2h0m0-3h0m1-2h0m1 3h0m0-2h0m2 2h0m1-2h0m0 0h0m1 3h0m0 1h0m1-2h0m1 0h0m1 0h0m1-3h0m1 2h0m2 3h0m0-3h0m1 1h0m0-2h0m0 0h0m0 0h0m0-1h0m1 5h0m0-5h0m1 4h0m0 0h0m2-3h0m0-1h0m2 2h0m0-2h0m1 0h0m0 0h0m1 2h0m-10 4h0m-1 2h0m-1 1h0m-1 1h0m0-1h0m-1 2h0m0 0h0m-1-1h0m-1 1h0m-2-5h0m0 5h0m-1-1h0m0 1h0m0-4h0m-1 2h0m-2-3h0m0 3h0m-1-3h0m0 0h0m-1 3h0m0-3h0m0 5h0m-1 0h0m0-4h0m-2 4h0m0 0h0m0 0h0m-1-4h0m0-1h0m-1 3h0m0 0h0m-1-3h0m-1 4h0m-29 0h0m-23 0h0m0-3h0m-1 4h0m0-1h0m-1-3h0m0 0h0m0 1h0m-2 0h0m0 1h0m-1-1h0m0 2h0m0-1h0m0 1h0m-1 1h0m0-2h0m-1 2h0m0 0h0m0-5h0m-1 2h0m0 2h0m0 1h0m-1-1h0m-1 1h0m0-3h0m-1 0h0m-1 1h0m-1-1h0m-2-1h0m0 3h0m-1 0h0m-2-4h0m-7 4h0m-28-2h0m-6 2h0m-8 0h0m-2 0h0m-1 0h0m-2-4h0m-1 1h0m-1 1h0m-1 1h0m-1-3h0m-1 3h0m-2 0h0m-16-2h0m-1-1h0m0 1h0m-1 2h0m0-2h0m-2-1h0m-1 0h0m0 3h0m0-2h0m-1 1h0m-1 1h0m0-2h0m-1-1h0m0 1h0m-1 2h0m-2-1h0m-1-2h0m-1 0h0m0 0h0m-1 2h0m-4-1h0m-1-1h0m0 0h0m-7 0h0m-1 0h0m43 6h0m11 1h0m1-1h0m4 0h0m28 1h0m19-1h0m2 0h0m5 0h0m1 0h0m25 5h0m2-2h0m1 1h0m4 0h0m1 1h0m27-5h0m1 1h0m5-1h0m0 2h0m0 0h0m1 0h0m0-1h0m1-1h0m0 1h0m2-1h0m6 2h0m1-2h0m2 1h0m-43 7h0m-2-2h0m0 1h0m0 4h0m0 0h0m-1-2h0m-1-3h0m-1 2h0m0 0h0m-1-2h0m0 0h0m-1 3h0m-1 2h0m-1-5h0m-1 0h0m0 4h0m0-1h0m-1-3h0m-1 3h0m-1-3h0m0 4h0m0-1h0m-1-2h0m-1-1h0m-1 2h0m-1-1h0m0 0h0m0 3h0m-1-4h0m0 0h0m-2 5h0m-1-1h0m-1-2h0m-1 0h0m-1 3h0m-1-3h0m-2 0h0m0 0h0m-1 1h0m-1 1h0m-2 1h0m0-2h0m-24 7h0m1-1h0m0 1h0m1-4h0m1 2h0m0 3h0m0-3h0m2 2h0m1-2h0m1 3h0m2 0h0m1 0h0m1-3h0m1 1h0m0 2h0m1-1h0m1 0h0m0-1h0m0 2h0m1 0h0m0-2h0m1-3h0m0 4h0m1 1h0m0-1h0m2-2h0m0-2h0m0 4h0m1 0h0m0 1h0m1-3h0m0 1h0m0-1h0m1-1h0m1-1h0m0 0h0m1 1h0m0 3h0m2-2h0m1 0h0m0 0h0m3-1h0m0 0h0m4 1h0m1-1h0m1 2h0m1-2h0m1 4h0m1-1h0m3-1h0m1 1h0m1 0h0m1 1h0m1-2h0m0 1h0m2-4h0m0 2h0m0-2h0m1 3h0m0 1h0m1 1h0m0-3h0m0 0h0m1-2h0m1 4h0m0 1h0m0 0h0m1-3h0m0-1h0m3-1h0m1 2h0m0 3h0m0-2h0m0 1h0m5 5h0m-3-2h0m0 1h0m-1 1h0m-1-2h0m-1 2h0m0 0h0m0-2h0m-1 0h0m0 4h0m-1-2h0m-2 0h0m-1 2h0m0-1h0m0 1h0m0-5h0m-1 1h0m0 0h0m-1 1h0m0 1h0m0-2h0m-2-1h0m0 0h0m0 0h0m-2 3h0m0 1h0m0-3h0m0 0h0m-1 4h0m-1-3h0m-2-2h0m0 3h0m-1-2h0m-1 0h0m0 2h0m-1 2h0m0-4h0m0-1h0m0 1h0m-1 2h0m-1 0h0m0-1h0m0 2h0m-1-3h0m-2 1h0m0-2h0m-1 4h0m0-2h0m0 2h0m-1 1h0m-1-2h0m0 2h0m-1-5h0m0 3h0m0 1h0m0-1h0m-1 1h0m-1-2h0m0 1h0m0 1h0m-1 1h0m-1-4h0m0 0h0m-1 0h0m0 2h0m0-1h0m-4 3h0m-2 0h0m0-4h0m-1-1h0m0 3h0m0 0h0m-1 0h0m-1-1h0m0 0h0m-3 0h0m0-2h0m-1 1h0m0-1h0m0 1h0m0 1h0m-2 2h0m0-1h0m-1 1h0m0-3h0m0 3h0m0-4h0m0 1h0m0 1h0m0-1h0m-1 4h0m-1 0h0m0-5h0m0 5h0m-2-2h0m-1-1h0m0 2h0m-1 0h0m0-4h0m0 5h0m0-2h0m0-3h0m-1 2h0m0-1h0m0 0h0m0 2h0m-1 0h0m-1-2h0m0-1h0m-1 0h0m-1 5h0m-34-2h0m-1 2h0m0-1h0m-6-2h0m0-1h0m-1 3h0m-1-4h0m-1 1h0m0-1h0m0 4h0m0-4h0m-2 3h0m0 0h0m-1 0h0m0-1h0m-1 1h0m-1 1h0m-2-1h0m-2-1h0m-2 2h0m-1 0h0m-1-2h0m-6 3h0m-12 6h0m0 0h0m2-2h0m2-1h0m1 3h0m0-1h0m1-1h0m1 2h0m0 0h0m3-1h0m3-4h0m0 3h0m1-2h0m2 3h0m1 1h0m2-1h0m4-1h0m0 1h0m0 0h0m0-2h0m1-2h0m0 3h0m1-2h0m1 2h0m2 1h0m1-2h0m1 2h0m4-4h0m0 1h0m1-1h0m1 0h0m2 0h0m3 2h0m0 3h0m27 0h0m3-2h0m0 1h0m2-2h0m0 3h0m0-1h0m2-1h0m0 1h0m3 1h0m0-4h0m1 4h0m0-1h0m1-4h0m0 2h0m2 0h0m0 1h0m1-2h0m0 0h0m1 3h0m0-3h0m1-1h0m0 0h0m1 5h0m2 0h0m1-4h0m1 3h0m0-1h0m1-3h0m1 1h0m0 3h0m1 1h0m0-2h0m1 1h0m1-3h0m1 2h0m0-2h0m2 2h0m0 1h0m1-2h0m2 2h0m0 1h0m1-4h0m0 2h0m0-1h0m1 1h0m0-3h0m0 4h0m2 0h0m1 1h0m0-5h0m1 3h0m0-2h0m0 1h0m0 1h0m0 0h0m0 2h0m1-3h0m0 3h0m0-1h0m2-1h0m0 0h0m1 1h0m0-4h0m0 4h0m0-3h0m1 0h0m0 3h0m0-3h0m1 4h0m2-3h0m1 0h0m1 3h0m1-1h0m1-2h0m1-1h0m1 0h0m3-1h0m0 5h0m1-3h0m2-2h0m0 5h0m0-2h0m0-1h0m0 3h0m1-3h0m2-2h0m0 3h0m0 0h0m1-2h0m2 2h0m0-2h0m0 2h0m1-3h0m1 4h0m3 1h0m1-2h0m1-3h0m1 1h0m1 3h0m0-2h0m1 7h0m0 1h0m0-1h0m-1 1h0m-1 0h0m-2-2h0m0-1h0m0 1h0m0 1h0m-1-1h0m0 1h0m-1 0h0m0 2h0m0-3h0m-1 0h0m0-2h0m-1 1h0m0-1h0m0 5h0m-1 0h0m-1-2h0m-1 2h0m-2 0h0m-1 0h0m0-2h0m-1 2h0m0-4h0m-1-1h0m0 1h0m-2 0h0m-1 0h0m-3 4h0m0-5h0m-1 3h0m0 1h0m-3-4h0m-2 0h0m-2 0h0m-3 3h0m0-1h0m-2-1h0m-1 0h0m-4 1h0m0 1h0m-1-1h0m-2-1h0m0 2h0m0 1h0m-1 1h0m0-1h0m-2-2h0m0 0h0m-1 3h0m-1-5h0m-2 2h0m-1 1h0m-2 0h0m0 1h0m0-2h0m0 0h0m-2 1h0m0-2h0m-1 3h0m0 0h0m-1 0h0m-2-3h0m-1 3h0m-1-3h0m-1 1h0m0-1h0m0 3h0m-1-3h0m0 4h0m-1-3h0m-1 2h0m0 1h0m0-2h0m-1 2h0m-1 0h0m0-2h0m-4-3h0m-1 1h0m-1-1h0m-2 2h0m-1 3h0m-22 0h0m-2 0h0m-1 0h0m0-5h0m-7 0h0m0 0h0m-1 1h0m-2-1h0m-2 3h0m0-3h0m-1 1h0m-3 1h0m0 0h0m-1 1h0m-1 2h0m-2 0h0m0-5h0m0 4h0m-2-1h0m-8 1h0m-3 1h0m-2-5h0m-1 2h0m-2 1h0m0-3h0m-3 1h0m0 0h0m-1 4h0m-3 0h0m-2-1h0m-1 0h0m3 3h0m7 0h0m0 0h0m3-1h0m0 4h0m0-1h0m4-1h0m0-1h0m0 1h0m0 1h0m4-3h0m0 0h0m3 0h0m3 5h0m2-3h0m3 2h0m1-1h0m4 1h0m1-4h0m1 3h0m0-2h0m0 2h0m8-3h0m1 1h0m0 2h0m2 2h0m0-1h0m1 0h0m1-4h0m1 4h0m5 1h0m13-1h0m1-3h0m0 4h0m6-5h0m1 2h0m0 3h0m0-1h0m0 1h0m0-5h0m1 4h0m0-4h0m0 1h0m0 2h0m1 1h0m1-1h0m1-2h0m0 2h0m2-1h0m0 2h0m1-2h0m0 3h0m0 0h0m0-4h0m1 3h0m0-1h0m1-3h0m0 4h0m1-2h0m1 1h0m1-3h0m0 3h0m1-3h0m0 1h0m1 3h0m1-4h0m0 5h0m0 0h0m0 0h0m1-3h0m1 3h0m0-4h0m5 4h0m1-3h0m1 2h0m1-1h0m0 1h0m1-4h0m1 4h0m0-2h0m1-2h0m1 3h0m1-3h0m0 1h0m0 4h0m1-5h0m5 2h0m2-1h0m0 3h0m1 1h0m1 0h0m1-3h0m1-1h0m0 4h0m0-3h0m1-1h0m0-1h0m1 2h0m3-1h0m0 1h0m0 2h0m2-4h0m0 2h0m1-1h0m2 1h0m1 2h0m1-3h0m1 4h0m0-4h0m1 3h0m0-1h0m0-1h0m1 3h0m0-5h0m2 3h0m0-1h0m0 0h0m0 3h0m1-3h0m0-2h0m1 5h0m1-2h0m0-3h0m1 4h0m0-3h0m1 1h0m2-2h0m2 2h0m2-2h0m-5 8h0m-2 3h0m0-1h0m0 0h0m0-4h0m0 4h0m-1 0h0m-2-1h0m-1 1h0m0-3h0m-1 3h0m0-3h0m-1-1h0m0 2h0m-1 2h0m0-2h0m-1-1h0m0 0h0m-1-1h0m-1 0h0m0 3h0m-1-3h0m-1 3h0m-1-2h0m0-1h0m-1 1h0m0 3h0m-2 1h0m0-3h0m0 2h0m0-2h0m-1 1h0m0 1h0m0 0h0m-2 1h0m0 0h0m0-5h0m-2 3h0m0-2h0m0 2h0m0-3h0m-1 5h0m-1-5h0m0 3h0m0 2h0m-2-3h0m-1 2h0m0-1h0m-1 2h0m-1 0h0m0-4h0m0 1h0m-1-1h0m0 3h0m-1-2h0m-1 1h0m-2 1h0m0-2h0m-1-1h0m-1 0h0m-1 0h0m0 1h0m-1-2h0m0 3h0m-1 2h0m0-3h0m-1-1h0m0-1h0m0 2h0m0 3h0m-4-1h0m-1-2h0m0-2h0m0 2h0m-1 3h0m0-5h0m0 1h0m-1 2h0m0-2h0m-1-1h0m0 5h0m-1-1h0m0-3h0m-1 3h0m0-3h0m-1 3h0m0-3h0m-2 0h0m-4 1h0m-1 1h0m0 0h0m0-3h0m-1 5h0m-1-3h0m0-1h0m-2 0h0m0 0h0m0 0h0m-1 1h0m-1 2h0m-2 0h0m0-2h0m-3 1h0m-1-2h0m-1 3h0m-1-3h0m-28 2h0m-1 0h0m0 1h0m-2-2h0m-1 1h0m-2-3h0m0 4h0m-1-4h0m-3 2h0m0-1h0m-1 0h0m-1 1h0m0 0h0m-1 1h0m0 2h0m-1-2h0m-1 1h0m-2-3h0m4 5h0m1 0h0m2 3h0m2-2h0m0 0h0m4 0h0m0-1h0m2 2h0m30 0h0m2-1h0m1 4h0m0-5h0m1 4h0m3-4h0m0 3h0m0 2h0m2-4h0m0-1h0m1 1h0m0 4h0m3-5h0m4 4h0m2-3h0m0 4h0m1-4h0m1-1h0m0 2h0m1 3h0m0-2h0m1 2h0m1 0h0m1-4h0m0 4h0m3 0h0m0-4h0m2 0h0m0 3h0m1 0h0m0 1h0m1-5h0m1 0h0m1 2h0m0-1h0m3 3h0m1 1h0m2-2h0m0 0h0m0 2h0m1-4h0m1 0h0m0 1h0m0-2h0m1 4h0m1-2h0m0 1h0m0-3h0m1 1h0m1 2h0m0-2h0m1 2h0m2 0h0m0-3h0m1 2h0m1 2h0m0-1h0m2-1h0m0-2h0m1 5h0m0-4h0m1-1h0m1 0h0m0 1h0m0 0h0m3 2h0m0 1h0m0-3h0m0 0h0m1-1h0m2 4h0m1 0h0m0-1h0m0-2h0m0 3h0m2-4h0m0 5h0m1-5h0m1 0h0m1 0h0m0 0h0m1 0h0m-5 10h0m0-4h0m-1 5h0m0-1h0m-1-2h0m0 0h0m0-2h0m-1 0h0m-1 0h0m0 0h0m-1 4h0m0-4h0m-1 1h0m0-1h0m0 3h0m-1-3h0m-1 0h0m0 3h0m0 0h0m-1-3h0m0 2h0m0-1h0m-2 4h0m0-2h0m0-2h0m-1 1h0m-1 2h0m0-3h0m0 3h0m0-4h0m-2 0h0m-1 0h0m0 3h0m-2-1h0m0-2h0m-2 4h0m-1-1h0m0-2h0m-1 2h0m0-1h0m-1 3h0m0-2h0m-1 0h0m0-3h0m-2 5h0m0-2h0m-1 2h0m0-2h0m-1-2h0m0 0h0m-1-1h0m0 3h0m-1 0h0m-4 1h0m-1 1h0m-1-5h0m-2 3h0m0-3h0m-1 2h0m0 2h0m-1-3h0m0 3h0m-2 0h0m-1-2h0m-1-1h0m-1-1h0m0 4h0m0-4h0m-3 5h0m-1 0h0m-2-1h0m-1-1h0m-3 0h0m-4 1h0m-1-1h0m0 2h0m-1-1h0m-1 0h0m-2 1h0m0 0h0m0 0h0m0 0h0m-1-2h0m-40-1h0m40 4h0m1 3h0m4 0h0m3-3h0m2 5h0m0-4h0m1 0h0m1 4h0m1-5h0m3 5h0m2-1h0m0-2h0m0-1h0m3 0h0m1-1h0m2 4h0m0-2h0m0 3h0m2-3h0m0 1h0m1-1h0m5-2h0m0 0h0m0 2h0m1 0h0m1 1h0m1-3h0m0 0h0m0 4h0m1-1h0m1-2h0m0 3h0m1-1h0m1 0h0m3 2h0m4-5h0m0 0h0m0 5h0m1 0h0m2-1h0m2-2h0m1 2h0m0-3h0m0 4h0m0-1h0m1 0h0m0-4h0m1 2h0m2 0h0m1-2h0m0 4h0m0-2h0m0 0h0m1 0h0m0-2h0m1 0h0m1 3h0m1-3h0m-15 8h0m0-2h0m0 1h0m-3 0h0m-4 1h0m0-2h0m-1 5h0m-4-5h0m0 1h0m-1-1h0m0 0h0m-2 3h0m-1 2h0m0-5h0m-2 3h0m-2 2h0m0-5h0m0 2h0m-2 1h0m-1-3h0m-1 2h0m0 2h0m-2 0h0m-3 0h0m-1-3h0m0 0h0m-1 2h0m-5-2h0m-1 2h0m-1-1h0m-2 1h0m-2 1h0m-2-2h0m-2-2h0m-1 1h0m11 5h0m0 0h0m1 5h0m1-3h0m2 3h0m4-4h0m4 0h0m1-1h0m10 2h0m-14 8h0m-4-3h0m-1 1h0"/>
<path stroke="#649ac7" d="m122 241h0"/>
<path stroke="#86bcd9" d="m72 142h0m60 68h0m-34 7h0m14-1h0m3 24h0m-8 9h0"/>
<path stroke="#abd9e9" d="m100 63h0m-3 3h0m1 7h0m-17 5h0m-12 8h0m18 8h0m-18 1h0m-13 14h0m26 6h0m-37 15h0m110 2h0m-9 13h0m-12 5h0m-1 2h0m-72 0h0m-41 1h0m-2-1h0m1 9h0m168 3h0m-53-1h0m21 8h0m-49 13h0m18-1h0m-97 14h0m100-3h0m-71 5h0m-1-1h0m-3 0h0m-23 1h0m19 8h0m75 0h0m28 2h0m12 3h0m-48 1h0m-21-3h0m19 11h0m2-4h0m4 10h0m22 2h0m3 4h0m-17 3h0m-22 2h0m0-4h0m-6 3h0m2 7h0m4 0h0m5-4h0m13 0h0"/>
<path stroke="#ceeaf3" d="m105 66h0m-3 11h0m5-3h0m-19 9h0m-4-1h0m70 2h0m-3 8h0m-53 3h0m-42 6h0m28-4h0m47-1h0m7 5h0m11-4h0m0 2h0m-22 8h0m-7-3h0m-70 1h0m5 8h0m1 0h0m109-3h0m-97 10h0m90 5h0m-95 4h0m-19 4h0m30 4h0m3-4h0m52 2h0m24-2h0m13 3h0m-14 3h0m-81 0h0m-20-1h0m-21 0h0m56 10h0m85-4h0m25 7h0m-111 0h0m125 7h0m2 3h0m-81 4h0m20 8h0m2 2h0m-13 4h0m-12-2h0m-7 4h0m22 6h0m-19 1h0m-7 1h0m-2 1h0m-52-3h0m-7 0h0m0 0h0m-1 0h0m-5 1h0m-7 9h0m1-5h0m4 3h0m0 1h0m74 1h0m1-3h0m3-1h0m13 2h0m3-3h0m4 4h0m24 3h0m-23 2h0m-30-2h0m-17-1h0m-44 0h0m-7 2h0m-17 3h0m4 3h0m2-2h0m9 5h0m1-4h0m11 3h0m1-2h0m18 0h0m47-1h0m2 0h0m40 7h0m-7 2h0m-22-3h0m-16 4h0m-4-3h0m-9-2h0m-1 3h0m-12 1h0m-31 1h0m-3-5h0m-9 0h0m42 7h0m4 2h0m3-1h0m28 0h0m9 0h0m11 0h0m2 9h0m-2-2h0m-21 2h0m-2 0h0m0-4h0m-12 2h0m0-2h0m-4 3h0m-1-2h0m-1 2h0m-14-2h0m-4 2h0m0 5h0m1 1h0m1-4h0m1 4h0m8-4h0m1 5h0m6-4h0m6 3h0m1-4h0m2 1h0m6 4h0m6-5h0m2 0h0m17 4h0m-25 3h0m0 2h0m-1-3h0m-8 0h0m-3 2h0m-20-2h0m6 7h0m1 3h0m2-4h0m4 5h0m12-3h0m4 2h0m-6 6h0m-2 0h0m-2-1h0m-2-2h0"/>
<path stroke="#eaf7e5" d="m94 74h0m-7 6h0m-6 1h0m-20 13h0m74 7h0m4-5h0m3 4h0m2-2h0m4 0h0m3-2h0m-102 8h0m96 4h0m-100 10h0m86 5h0m-12 5h0m-52 3h0m-37-5h0m18 7h0m33 1h0m74 2h0m-86 2h0m72 11h0m1-2h0m12-2h0m13 3h0m-30 7h0m-99-5h0m169 6h0m-150 13h0m105 9h0m-1-1h0m-2-2h0m-1 2h0m-7 1h0m-39 5h0m36-1h0m4 3h0m15 3h0m0 0h0m-25-2h0m-19 2h0m-6-2h0m-4 2h0m-45 0h0m-10-2h0m-1 3h0m-2-2h0m-4 1h0m-20 9h0m5-3h0m1-2h0m2 4h0m2-4h0m1 5h0m3-2h0m14 2h0m1 0h0m0-1h0m9-1h0m1 2h0m30-1h0m2-2h0m19 1h0m1 1h0m5-4h0m1 1h0m23 2h0m8 2h0m1-4h0m12 6h0m-4 1h0m-2-1h0m-1 0h0m-10 4h0m-25-5h0m-1 2h0m-20-1h0m-9 4h0m-27 0h0m-1 0h0m-7-1h0m-1-2h0m-10 0h0m0-2h0m-1 3h0m-1-2h0m-1 4h0m-10 0h0m-6-2h0m-6-2h0m-2 0h0m3 8h0m0 0h0m4 0h0m7-1h0m5 3h0m2-4h0m1 0h0m3 3h0m0-3h0m11-1h0m4 2h0m0 1h0m5 2h0m3-4h0m1-1h0m29 0h0m0 5h0m5-1h0m10 1h0m2 0h0m12-1h0m9-3h0m14 2h0m-33 6h0m-18-1h0m-2 3h0m-5-5h0m0 4h0m-4-4h0m-1 5h0m0 0h0m-24-4h0m-1 2h0m-1 0h0m-1 1h0m-6 1h0m-3-4h0m0 4h0m-1-4h0m-3 3h0m-1-4h0m-2 3h0m-1-2h0m2 5h0m4 1h0m3 3h0m38-1h0m7 1h0m1-4h0m3 0h0m2 1h0m22 4h0m2-4h0m3 0h0m14 2h0m10 1h0m-2 3h0m-1 2h0m-19 1h0m-7-1h0m-3 2h0m-4 0h0m-1 0h0m-1-5h0m-5 3h0m-1 0h0m-6 0h0m-1 1h0m-1-3h0m-8 2h0m-1 1h0m-2-2h0m-2 3h0m-3-1h0m-1 5h0m1-3h0m5 2h0m1 1h0m2-3h0m1 2h0m4-2h0m0 0h0m1 1h0m1 4h0m4-5h0m5 4h0m1-1h0m1-2h0m1 0h0m3 4h0m9-3h0m0 1h0m1 1h0m1 0h0m11 0h0m2 1h0m-13 2h0m-1 0h0m-10 2h0m-1-1h0m0 3h0m-1-5h0m-4 1h0m-1 4h0m0-3h0m-1 3h0m-1-5h0m-2 3h0m-1-3h0m-1 0h0m-2 5h0m-4 0h0m-3-2h0m-1 2h0m-1-2h0m-1-3h0m-2 2h0m-2 2h0m0 1h0m-1-1h0m4 5h0m4-1h0m4-1h0m0 4h0m7-5h0m0 5h0m1-4h0m0 3h0m5-2h0m0 2h0m4 1h0m2-5h0m1 2h0m-6 5h0m-1-1h0m-7 3h0m-2-2h0m-1-1h0"/>
<path stroke="#ffffbf" d="m56 97h0m35 2h0m64 3h0m-63 0h0m77 28h0m-48 0h0m-54 6h0m73 4h0m-57 9h0m4 5h0m-75 3h0m49 2h0m-6 5h0m149 4h0m-43 6h0m0 4h0m-12 1h0m-8-2h0m-13 3h0m9 0h0m8 2h0m4-1h0m1 0h0m3 2h0m1-2h0m5 3h0m6 6h0m-2-1h0m-5 1h0m-10 1h0m-2-4h0m-5 4h0m-15-4h0m-3 2h0m-59 1h0m-1-2h0m-2 2h0m-5-1h0m-2 1h0m-1 1h0m-4-4h0m-1 4h0m-3-1h0m-7 5h0m6 1h0m2-2h0m1 1h0m0 2h0m2-3h0m3-2h0m3 5h0m0-5h0m1 1h0m12-1h0m79 3h0m0 1h0m13-1h0m10 7h0m-15-3h0m-3 3h0m0-4h0m-3 3h0m-23 0h0m-17-3h0m-3 2h0m-3 0h0m-49 3h0m0-3h0m0-1h0m-1-1h0m-4 3h0m-2-1h0m-2 2h0m-1-1h0m-4 1h0m-4-3h0m0 4h0m-1 0h0m-3-5h0m-2 0h0m-2 7h0m2 2h0m6-2h0m0 0h0m3-1h0m4 0h0m2 2h0m2 0h0m2 2h0m0-2h0m1-2h0m3 1h0m2 1h0m2 2h0m0-1h0m2-1h0m2-2h0m7 3h0m0 0h0m5 2h0m2-4h0m22 3h0m2-1h0m0 2h0m0-3h0m7 2h0m5 0h0m29-1h0m9-3h0m13 5h0m-48 2h0m-5 3h0m-10 1h0m-1-1h0m-28-2h0m-5-2h0m-1 5h0m-3-4h0m-5 1h0m0-1h0m-3-1h0m-2 4h0m0-4h0m0 5h0m8 4h0m0-3h0m1 0h0m1 2h0m42 2h0m3 1h0m6-1h0m3-3h0m5 2h0m2 2h0m10-3h0m1 0h0m4 1h0m1-2h0m0 1h0m13-2h0m0 4h0m4 5h0m-3-2h0m-19 0h0m-2 0h0m-1 3h0m-6-4h0m-5 2h0m-3 0h0m0-1h0m-1 2h0m-2-2h0m0 4h0m0-2h0m-3-3h0m-1 1h0m0 2h0m-1-2h0m-5 1h0m-2 1h0m-1-1h0m-1-1h0m-3 4h0m-4-1h0m0 0h0m1 2h0m4 5h0m0-4h0m2 3h0m0 0h0m4-2h0m1-1h0m5-1h0m1 3h0m0 2h0m4-5h0m1 3h0m5 2h0m0-4h0m3 0h0m2 1h0m3 3h0m1-1h0m5-3h0m0-1h0m4 0h0m2 2h0m0 3h0m1-5h0m-9 9h0m-2-3h0m-5 1h0m-1 4h0m-3-1h0m-3-1h0m-5-1h0m-3-1h0m0-1h0m-1 3h0m-1 0h0m-3 1h0m-1-1h0m0-1h0m-12-1h0m5 7h0m3-2h0m7 2h0m2 2h0m3 0h0m5-3h0m4-1h0m2 6h0m-13 2h0m-1 0h0m-1 1h0m-4-2h0"/>
<path stroke="#feeaa0" d="m54 142h0m11 29h0m80 2h0m13-2h0m-2 5h0m-3 1h0m-29 3h0m37 2h0m-1 5h0m-7 1h0m-89 0h0m-3-2h0m-8 3h0m-1-2h0m-2 1h0m-1 2h0m-22 7h0m6 0h0m9-5h0m3 1h0m0 1h0m7 0h0m0 0h0m7 1h0m76 1h0m12-4h0m13 5h0m11 6h0m-2-3h0m-15 3h0m-17-3h0m-14-2h0m-26 2h0m-33 2h0m-4-1h0m-7 1h0m-3-1h0m-1 1h0m-5-4h0m-3 2h0m0 1h0m-7 1h0m0 1h0m-1 4h0m0-1h0m1 3h0m0-2h0m5-2h0m5 1h0m6 1h0m5 0h0m1-1h0m3-1h0m0 0h0m3-1h0m1 0h0m4 0h0m0 5h0m7-5h0m0 5h0m3-1h0m0-1h0m24-1h0m14-1h0m4 2h0m3 2h0m34 1h0m-14 3h0m-5 2h0m-38-2h0m-26-3h0m-2 1h0m0 1h0m-8 2h0m-14-3h0m-13-1h0m16 7h0m47 1h0m40 2h0m6-2h0m2-1h0m6 9h0m-1-2h0m-6-2h0m-6 3h0m-20-1h0m-14-2h0m-4 2h0m-7-2h0m-3 5h0m0 5h0m12 0h0m1-1h0m12 2h0m13 0h0m17-1h0m5-3h0m-31 6h0m-3 0h0m-5 2h0m-3-1h0m-8 1h0m-6-2h0m-2 0h0m3 5h0m3 5h0m11-3h0m8-1h0m4 0h0m3 1h0m-7 4h0m-10 2h0m-4-2h0"/>
<path stroke="#fecf80" d="m64 167h0m-2 4h0m2-1h0m91 18h0m-114 8h0m10-2h0m2-1h0m1 4h0m2-2h0m1 2h0m50 5h0m-34-1h0m-9 1h0m-1-1h0m-18 1h0m-5-1h0m-1-1h0m-5 0h0m-8 3h0m7 1h0m15 3h0m8-1h0m5-1h0m39 2h0m21 3h0m-60 3h0m-3 0h0m0 3h0m55 5h0m28 0h0m-6 4h0m-7-2h0m-32 0h0m-1 9h0m11 1h0m7 5h0m-2-4h0m6 8h0"/>
<path stroke="#fdae61" d="m56 169h0m6-1h0m2 3h0m4 17h0m-6 2h0m-19 1h0m-5 3h0m8-2h0m122 2h0m-103 9h0m-16 1h0m7 3h0m56 3h0m-52 5h0m36 5h0m39 0h0m20-2h0m-61 8h0"/>
<path stroke="#f7834d" d="m65 169h0"/>
</g></g><use href="#t103" stroke-width="3.5"/></g>
<path d="M1045.3 1430.8V1641.6H1272.6" fill="none" stroke="#000" stroke-width="1.9"/>
<text x="1045.3" y="1654.4" font-size="9.4" text-anchor="middle" fill="#333">−50</text>
<text x="1098.1" y="1654.4" font-size="9.4" text-anchor="middle" fill="#333">−25</text>
<text x="1150.9" y="1654.4" font-size="9.4" text-anchor="middle" fill="#333">0</text>
<text x="1203.8" y="1654.4" font-size="9.4" text-anchor="middle" fill="#333">25</text>
<text x="1256.6" y="1654.4" font-size="9.4" text-anchor="middle" fill="#333">50</text>
<text x="1040.7" y="1434.8" font-size="9.4" text-anchor="end" fill="#333">50</text>
<text x="1040.7" y="1487.7" font-size="9.4" text-anchor="end" fill="#333">25</text>
<text x="1040.7" y="1540.7" font-size="9.4" text-anchor="end" fill="#333">0</text>
<text x="1040.7" y="1593.6" font-size="9.4" text-anchor="end" fill="#333">−25</text>
<path d="M1045.3 1641.6v3.2M1098.1 1641.6v3.2M1150.9 1641.6v3.2M1203.8 1641.6v3.2M1256.6 1641.6v3.2M1045.3 1431.3h-3.2M1045.3 1484.2h-3.2M1045.3 1537.2h-3.2M1045.3 1590.1h-3.2" stroke="#000" stroke-width="1.5" fill="none"/>
<text x="1158.4" y="1674.5" font-size="14" text-anchor="middle">tSNE_1</text>
<text x="1029.6" y="1536.6" font-size="14" text-anchor="middle" transform="rotate(-90 1029.6 1536.6)">tSNE_2</text>
<text x="1164" y="1361.7" font-size="33.5" text-anchor="middle" font-style="italic" stroke-width="0.40">Anxa1</text>
<rect x="1284" y="1513" width="11.5" height="57.6" fill="url(#rb)"/>
<text x="1284.4" y="1508.2" font-size="7.3" fill="#222">Scale.data</text>
<text x="1298.8" y="1523.4" font-size="6.1" fill="#333">6</text>
<text x="1298.8" y="1538.8" font-size="6.1" fill="#333">4</text>
<text x="1298.8" y="1554.9" font-size="6.1" fill="#333">2</text>
<text x="1298.8" y="1570.7" font-size="6.1" fill="#333">0</text>
<path d="M1284 1521.2h2.3M1295.5 1521.2h-2.3M1284 1536.6h2.3M1295.5 1536.6h-2.3M1284 1552.7h2.3M1295.5 1552.7h-2.3M1284 1568.5h2.3M1295.5 1568.5h-2.3" stroke="#fff" stroke-width="0.5" fill="none"/>
<g transform="translate(1369.1 1377.9)" fill="none" stroke-linecap="round"><g stroke-width="4.2"><g id="t104">
<path stroke="#4575b4" d="m100 64h0m2-2h0m0 1h0m2-2h0m4 0h0m0 2h0m0-3h0m1 5h0m1-3h0m2 3h0m0-1h0m1 1h0m1 0h0m3-2h0m1 1h0m2 1h0m2 6h0m-1-2h0m0 2h0m-1-5h0m0 3h0m-1-2h0m-1-1h0m0 5h0m-1-3h0m-1 2h0m-1-4h0m-1 5h0m0-3h0m-1 1h0m-1 0h0m-1 1h0m0-1h0m0-3h0m-1 2h0m-2 3h0m0-2h0m-1-1h0m-1 3h0m-1-3h0m-2 2h0m-1 1h0m-1-3h0m-3 2h0m0-1h0m-1-1h0m0 3h0m0-1h0m0-3h0m-3 3h0m-2 0h0m-2 0h0m-1 1h0m-10 5h0m2-1h0m2 2h0m0-3h0m1 0h0m1 3h0m0 0h0m0-4h0m2 3h0m0 0h0m1 0h0m0-1h0m1-2h0m0 3h0m0-4h0m2 0h0m0 0h0m0 0h0m1 4h0m2 0h0m0-3h0m2 1h0m2-1h0m0 4h0m1 0h0m0-1h0m1-3h0m0 3h0m0-4h0m1 1h0m0 4h0m4-3h0m0 3h0m0-2h0m0 1h0m1-3h0m0 1h0m1-2h0m3 2h0m1-2h0m0 5h0m1-4h0m1 4h0m0 0h0m1-4h0m1 2h0m0 0h0m0-2h0m1 2h0m1-2h0m1 3h0m1-3h0m-3 5h0m0 0h0m-1 2h0m-1 0h0m-1 2h0m-1-2h0m-1 1h0m-1-1h0m-2 3h0m0-2h0m0 2h0m-1 0h0m-1-2h0m0-1h0m0 1h0m0 0h0m0 0h0m0-2h0m0 3h0m0-2h0m-1 3h0m0 0h0m0-5h0m-1 3h0m0 1h0m0-2h0m-1 3h0m0 0h0m-1-4h0m0-1h0m-1 0h0m0 4h0m0 1h0m-1-2h0m0-1h0m-1-1h0m0 4h0m-9-4h0m-1-1h0m0 3h0m0 1h0m-1 1h0m0-3h0m-1-2h0m-1 2h0m-1-2h0m-1 4h0m0 1h0m0-2h0m-1 0h0m0-3h0m0 3h0m-2 0h0m0-2h0m0 2h0m0-3h0m-2 3h0m-1-2h0m-1 4h0m0-3h0m-1-2h0m0 1h0m0-1h0m0 5h0m-1-5h0m-1 2h0m-1 1h0m-1 2h0m0-1h0m0-1h0m0 2h0m0-4h0m0 1h0m-1 0h0m-2 0h0m0-1h0m-4 3h0m0 0h0m-1 0h0m0 0h0m-1 0h0m-4 7h0m0-3h0m5 3h0m2-4h0m1 3h0m2 0h0m0-3h0m1-1h0m0 3h0m0-2h0m1 1h0m1 0h0m0 3h0m0-3h0m1 0h0m0-1h0m1 2h0m0 0h0m0-3h0m2 2h0m1-2h0m1 0h0m1 0h0m2 4h0m1-4h0m1 1h0m0-1h0m1 4h0m1 0h0m5-2h0m0-1h0m7 2h0m3 0h0m0 1h0m0 0h0m0 1h0m1-3h0m3-2h0m0 4h0m1 1h0m2-3h0m1-2h0m0 3h0m2-1h0m2 0h0m0 2h0m0 1h0m0-2h0m2-3h0m1 2h0m1-2h0m32 5h0m0 0h0m1 0h0m7-2h0m7 1h0m1 1h0m6 4h0m-13 0h0m-1 1h0m0-3h0m-3 0h0m-1 2h0m-2-3h0m-9 3h0m-3 1h0m-1-1h0m-1 2h0m-1-1h0m-24-4h0m-1 2h0m-1-1h0m0 2h0m-1-2h0m-1 2h0m-1 2h0m-4-3h0m-1 3h0m0-2h0m-1 2h0m-1-3h0m0 3h0m-1-4h0m0 0h0m0 1h0m0-2h0m-1 3h0m0-3h0m-1 4h0m-2-1h0m-1 1h0m-3 0h0m-1-4h0m-2 4h0m0-2h0m0 2h0m0-1h0m-1 1h0m0-3h0m0 1h0m-1 2h0m-2 0h0m-1 0h0m0 1h0m-1-2h0m0 1h0m0-2h0m0 2h0m0-4h0m0 2h0m-1 3h0m0-2h0m-1-1h0m0-2h0m-1 5h0m-1-2h0m-1 2h0m-1-5h0m-1 3h0m0 1h0m0-4h0m-2 1h0m0-1h0m-1 1h0m-1-1h0m0 3h0m-1 2h0m0 0h0m0 0h0m-2-1h0m-1-3h0m-2 4h0m-1-5h0m-1 1h0m0 0h0m-1 4h0m0-3h0m-2-2h0m0 5h0m0 0h0m0-3h0m-1-1h0m-1 2h0m-2 1h0m-6 6h0m0-4h0m0 5h0m1-2h0m0-2h0m2 3h0m3-1h0m1-1h0m0 0h0m0 2h0m0-4h0m1 2h0m1 2h0m1 1h0m0-5h0m2 4h0m0 0h0m0-1h0m3 1h0m2-4h0m0 0h0m0 1h0m1 3h0m1-4h0m1 3h0m1 1h0m2-3h0m1 4h0m0-5h0m1 3h0m0 2h0m1-1h0m1-3h0m2 1h0m1 3h0m0-5h0m1 0h0m0 5h0m1-1h0m1 0h0m0 0h0m1-3h0m1-1h0m0 1h0m0 1h0m2-2h0m0 4h0m1-2h0m1 2h0m0-4h0m2 4h0m0 1h0m1 0h0m0 0h0m1-2h0m0 0h0m0-3h0m9 2h0m0 2h0m0-4h0m3 0h0m0 0h0m1 5h0m0-5h0m1 3h0m1-3h0m1 0h0m24 2h0m3 3h0m7-1h0m1-3h0m15 1h0m0 1h0m2 2h0m5-4h0m2 0h0m0 2h0m4 2h0m3 0h0m0 3h0m-2-2h0m-4 1h0m0 1h0m-2 3h0m-3 0h0m-5-4h0m-3 3h0m-2-3h0m-1 2h0m-2 2h0m0-4h0m-4 1h0m-1 3h0m0-2h0m-1-1h0m-10 3h0m0 0h0m0-5h0m-4 1h0m-4 4h0m-6-3h0m-2 0h0m-3 2h0m-4 0h0m-6-3h0m-2-1h0m-4 0h0m-7 5h0m0-5h0m-3 1h0m0 4h0m-4 0h0m-1-1h0m0 0h0m0 0h0m-3-2h0m0-2h0m-4 0h0m-1 5h0m-4-4h0m0 1h0m-2 2h0m0-1h0m-1 1h0m-1 0h0m-1 0h0m-3-4h0m-2 5h0m0 0h0m-1-1h0m-4 0h0m0-2h0m-1-2h0m-1 5h0m0-4h0m-2 0h0m-2 2h0m-1 0h0m0-1h0m-1 1h0m-2-1h0m-1-1h0m-3 3h0m-4 4h0m4-2h0m0 3h0m0 0h0m1 2h0m1-5h0m2 0h0m0 5h0m0-2h0m2 1h0m2-1h0m3-1h0m0 0h0m1-1h0m0 0h0m0-1h0m1 5h0m0-1h0m0-1h0m0-2h0m1 1h0m1-1h0m2-1h0m1 4h0m0-2h0m0 0h0m0 0h0m0 3h0m1-4h0m0 0h0m4 3h0m0-2h0m0-1h0m1 3h0m2 1h0m1 0h0m0-1h0m1-2h0m1 1h0m2-2h0m2 3h0m0-1h0m0 1h0m1-2h0m0 1h0m4 1h0m0-3h0m0 3h0m2-2h0m0-2h0m1 1h0m1-1h0m1 2h0m0 0h0m1 2h0m2 1h0m1-3h0m1 2h0m1-3h0m30 0h0m0 3h0m3 1h0m0-1h0m3-3h0m5 1h0m2 2h0m1-4h0m2 0h0m0 2h0m0 1h0m1-3h0m3 0h0m0 3h0m1-3h0m4 3h0m1 2h0m4 0h0m3-3h0m1-2h0m0 3h0m3 1h0m3-2h0m1-1h0m3 4h0m1-2h0m1 2h0m2-2h0m0-2h0m-10 10h0m-4-4h0m-2 3h0m-1-2h0m-6-1h0m-2 0h0m0 4h0m-6-2h0m-14 0h0m-2-2h0m-27-1h0m-6 4h0m0-1h0m-1-1h0m0-2h0m-1 2h0m0 3h0m-2-3h0m-1 0h0m0 3h0m-2-5h0m0 0h0m0 1h0m-1 4h0m-2-5h0m0 5h0m0 0h0m0-1h0m-1-3h0m0 4h0m-1-3h0m0-1h0m-4-1h0m-1 2h0m-1 1h0m-3-1h0m-1-2h0m0 4h0m0 0h0m-1-1h0m0-2h0m0 1h0m0 0h0m0-2h0m-2 2h0m0 0h0m0 1h0m-1-1h0m0 0h0m-1-1h0m0 2h0m-3-3h0m-5 0h0m-3 1h0m-1 4h0m0-1h0m-1-2h0m-1 0h0m-2 0h0m0-2h0m-1 0h0m0 5h0m-1-1h0m0-2h0m0 3h0m-1-1h0m-1 0h0m-2-3h0m-1 1h0m0 1h0m-2 2h0m0-5h0m-9 9h0m2-1h0m1 3h0m1-2h0m1 2h0m0-2h0m0 0h0m1 0h0m1 2h0m0-5h0m0 4h0m2-3h0m0 3h0m1 1h0m1-5h0m2 0h0m0 0h0m1 0h0m0 5h0m0-3h0m0-2h0m1 5h0m1-1h0m0 0h0m0 1h0m1-5h0m0 3h0m1 2h0m0-4h0m1 2h0m0 2h0m1-4h0m0 4h0m1-1h0m0 1h0m0-3h0m1 0h0m0 1h0m1 2h0m0 0h0m8-1h0m3-1h0m3-1h0m0 3h0m1 0h0m0-2h0m1-3h0m0 3h0m0-1h0m0 3h0m0-2h0m0-2h0m0 3h0m1 1h0m1-2h0m1 2h0m0-4h0m1 2h0m2 2h0m2-2h0m0 2h0m0-1h0m1-4h0m0 1h0m0-1h0m1 1h0m0 3h0m1-1h0m2-3h0m0 5h0m0-4h0m1 0h0m1 1h0m2-1h0m1 1h0m1-1h0m1 1h0m1 0h0m1 0h0m0 2h0m0-3h0m0 2h0m29-1h0m0 3h0m1-4h0m5 3h0m1-3h0m12-1h0m2 1h0m5-1h0m1 4h0m11-4h0m4 0h0m6 4h0m0-2h0m5 3h0m2-1h0m-1 3h0m-10 4h0m-1 0h0m-4-2h0m-7 0h0m-12 2h0m-5-4h0m-2 1h0m-11 2h0m-2-4h0m-2 2h0m-27 0h0m-2 0h0m0 1h0m0-1h0m0 0h0m0-1h0m-1 1h0m-1 3h0m-1-1h0m0-2h0m-1 3h0m0 0h0m0-3h0m-1-1h0m-2 1h0m-1-2h0m-2 4h0m-1-3h0m-1 4h0m0 0h0m-2-1h0m0-4h0m-2 2h0m0-2h0m0 1h0m0 0h0m0 0h0m-1 2h0m0 0h0m-1-3h0m-2 3h0m0 0h0m-5 0h0m0-3h0m-3 0h0m-4 1h0m-2 2h0m-1 0h0m0 2h0m-1-5h0m-1 3h0m-1 2h0m0-3h0m-1 2h0m-2-2h0m0 0h0m-1-2h0m0 0h0m0 0h0m-1 5h0m-1-2h0m-1 0h0m-1-3h0m0 1h0m-1 2h0m-1-2h0m-1 4h0m0 0h0m0 0h0m0-4h0m-1 4h0m0-2h0m-1-1h0m0-2h0m-1 4h0m0 1h0m-1-3h0m-1 3h0m0-4h0m0 0h0m-2 0h0m-2-1h0m-1 0h0m-2 0h0m0 1h0m-1 1h0m0 3h0m-3-1h0m0 3h0m1-1h0m0 2h0m1 0h0m2 0h0m1 3h0m0-5h0m1 1h0m2 3h0m1 1h0m0-4h0m1 1h0m2 0h0m3-1h0m1-1h0m2 1h0m0 2h0m1-2h0m2-1h0m0 4h0m0-2h0m1-2h0m1 2h0m1 3h0m1-4h0m1 3h0m0 0h0m1-1h0m1 1h0m0-2h0m0 0h0m1 0h0m0-1h0m1 3h0m0 0h0m0-4h0m0 3h0m1 2h0m0 0h0m1-4h0m12-1h0m0 4h0m3-2h0m0 1h0m1 2h0m2-4h0m0 3h0m1 1h0m0-1h0m1-3h0m0 3h0m2-3h0m1 2h0m0 0h0m1 2h0m2-5h0m0 1h0m0 1h0m0 0h0m1 0h0m1-2h0m1 4h0m1-2h0m1 0h0m0 2h0m2 0h0m0-3h0m26 3h0m24 1h0m15 0h0m0-1h0m4-1h0m2-1h0m5 2h0m5-4h0m7 1h0m0 6h0m0 2h0m-2-2h0m-4-1h0m-5 3h0m0 1h0m-7-2h0m-5 0h0m-3 0h0m-10 1h0m-1-3h0m-2 4h0m0-2h0m-4 2h0m-4-1h0m-5-2h0m-1 3h0m-9-3h0m0 3h0m0-4h0m-22 4h0m0 0h0m-1-1h0m0-3h0m-1 5h0m0-1h0m-2 1h0m-2-3h0m0-1h0m-1 3h0m0-2h0m-1-1h0m0 2h0m0-3h0m-1 0h0m0 1h0m-1 2h0m-1-1h0m0 3h0m-1-5h0m0 1h0m-1-1h0m0 1h0m-1 1h0m-1-2h0m-1 1h0m-2 0h0m0 2h0m-1 2h0m-3-2h0m0 0h0m-1-1h0m0-1h0m-1 1h0m-4 3h0m-3-2h0m-2 0h0m-2-3h0m-1 3h0m-1 0h0m-1 1h0m-1 1h0m-1-1h0m0-3h0m-2 2h0m0-3h0m-1 5h0m-1 0h0m0-1h0m-1 0h0m-1-1h0m0 2h0m0-5h0m-1 0h0m0 3h0m-2-3h0m-1 2h0m0 1h0m-8-1h0m-1 3h0m0-4h0m0 4h0m0 0h0m-1 0h0m0-5h0m-1 0h0m0 5h0m-1-1h0m0-4h0m-1 5h0m0 0h0m-1-1h0m0 0h0m-1 0h0m0-2h0m0-1h0m0 0h0m0 4h0m-1-2h0m0 2h0m-2-2h0m0-3h0m0 1h0m0 2h0m-1-1h0m-1 0h0m0-2h0m-1 5h0m0 0h0m-1-3h0m0 2h0m0-1h0m0 0h0m-1 1h0m-1 1h0m-1 0h0m-5 5h0m2-3h0m3 0h0m0 2h0m1-2h0m1 4h0m0-1h0m2 1h0m0 0h0m1-4h0m0-1h0m4 3h0m1 0h0m0 1h0m2-4h0m2 4h0m1 0h0m0-3h0m1-1h0m1 3h0m1-3h0m0 4h0m1-3h0m4 4h0m1-4h0m0 0h0m1 0h0m0 1h0m1 3h0m0-5h0m1 2h0m0-1h0m1-1h0m1 1h0m0 2h0m1 0h0m0 1h0m2-3h0m1 4h0m0 0h0m1-4h0m1-1h0m0 1h0m1 2h0m0-3h0m1 5h0m4-4h0m3 1h0m1 3h0m2-5h0m1 2h0m17 3h0m1-5h0m0 5h0m1-2h0m1 2h0m1-5h0m0 2h0m1 3h0m2-4h0m0 3h0m2-3h0m0 3h0m0 0h0m1 1h0m0-5h0m0 3h0m0 0h0m21-2h0m6 4h0m2-3h0m3 1h0m0-2h0m0 3h0m5-3h0m7 3h0m4 0h0m2 0h0m1-2h0m0-1h0m8 0h0m9 1h0m2 1h0m9-3h0m25 4h0m2 1h0m3-2h0m14 8h0m0-2h0m0 2h0m-1-1h0m-2-1h0m-4 1h0m-1-4h0m0 1h0m-2-1h0m-3 1h0m-3 4h0m0 0h0m0-2h0m-4-1h0m-1 0h0m-2 1h0m-1 2h0m0-2h0m0 0h0m-16-1h0m-35-2h0m-2 1h0m-3 0h0m-2 2h0m-4 2h0m-11-3h0m-2-1h0m-24-1h0m-3 1h0m0 2h0m-1 2h0m-1-5h0m-2 4h0m-1-2h0m-1-2h0m0 0h0m-2 3h0m-2-3h0m0 1h0m-17-1h0m-1 4h0m-2-2h0m0 1h0m0-2h0m0 2h0m-1-2h0m-2-1h0m-2 3h0m-3-1h0m-1-2h0m0 2h0m-1 2h0m0-2h0m-1-1h0m0 0h0m-2 0h0m0 1h0m-1-2h0m-4 4h0m-1-1h0m0 2h0m-2-1h0m0-4h0m-1 0h0m0 5h0m0-1h0m-1-1h0m0 1h0m-1-4h0m0 0h0m-2 3h0m-1-1h0m-1-2h0m0 1h0m-1 1h0m0 3h0m0-3h0m-2 2h0m0 1h0m0-4h0m-1 4h0m0-5h0m-1 3h0m-1-3h0m0 1h0m0 2h0m-1 1h0m-1-3h0m0 4h0m-1-3h0m0 2h0m-1 0h0m0 1h0m-1-2h0m0 1h0m0-4h0m-1 1h0m0 0h0m-1 1h0m-2 1h0m-2 0h0m0-2h0m0 3h0m-2-3h0m0-1h0m-1 1h0m-1 0h0m0 0h0m0-1h0m1 7h0m0 3h0m0-4h0m1 2h0m1-2h0m0 3h0m0-2h0m0 2h0m1 0h0m0-3h0m0 1h0m0 2h0m1-1h0m3 2h0m1-3h0m2 4h0m0-4h0m1-1h0m1 0h0m0 2h0m1-1h0m3 0h0m0-1h0m3 1h0m1 1h0m3-1h0m1 4h0m1-4h0m0 0h0m1-1h0m0 1h0m0-1h0m1 3h0m0-2h0m2-1h0m1 3h0m19-2h0m0 3h0m1-2h0m0-2h0m1 3h0m0-3h0m1 5h0m0-3h0m1 0h0m53 3h0m2-2h0m5 0h0m1-3h0m3 5h0m15-4h0m46 2h0m3 0h0m1-2h0m0 2h0m1 1h0m1-4h0m0 3h0m0-1h0m1 3h0m4-4h0m1-1h0m0 5h0m0 0h0m5-3h0m3 2h0m1-4h0m2 5h0m3-3h0m0-1h0m2-1h0m0 2h0m-6 4h0m-3 0h0m-3 3h0m-1 1h0m-1 1h0m0-1h0m-5 0h0m0 1h0m0-4h0m-2 3h0m-1-4h0m-1 1h0m-1 2h0m0 2h0m-4-5h0m-1 4h0m-30 0h0m-24 1h0m-1 0h0m-3-3h0m0 2h0m-1 0h0m-2-2h0m0 3h0m0 0h0m-18-1h0m-28-1h0m-6 1h0m-8 0h0m-2 0h0m-4-3h0m-1 1h0m-1 1h0m-2 1h0m-23-4h0m-4 3h0m-2 0h0m-1-3h0m-1 0h0m-1 2h0m-4-1h0m-1-1h0m0 0h0m0 1h0m-8-1h0m43 6h0m1 1h0m1 0h0m5-1h0m2 3h0m1 0h0m0-2h0m1 0h0m1-1h0m4 0h0m53 0h0m2 0h0m60 0h0m1 1h0m3-1h0m0 0h0m4 0h0m1 1h0m1-1h0m7 0h0m-51 11h0m-45 6h0m0 0h0m1-2h0m1-2h0m1 1h0m0 3h0m2 0h0m1-3h0m4 3h0m4-4h0m0 3h0m0-1h0m3 1h0m20-3h0m1 4h0m11-1h0m8 6h0m-10-4h0m-2 1h0m-5 0h0m-10 4h0m-3-1h0m-6-4h0m-5 2h0m-5-1h0m-1-1h0m-1 2h0m-1 2h0m0-3h0m0 1h0m-2 1h0m0 2h0m-1-2h0m-2-2h0m0 3h0m-1 1h0m0-5h0m-1 2h0m0 1h0m-1 1h0m-1-4h0m-1 0h0m-35 3h0m-1 1h0m-1-1h0m-4-1h0m-4-1h0m0 3h0m-2-1h0m-1 1h0m0-1h0m-1 1h0m-1 1h0m0-4h0m-3 0h0m-1 1h0m-1 1h0m-2 1h0m-1-1h0m-18 8h0m3-2h0m7 1h0m2-4h0m1 0h0m0 3h0m1 2h0m0-4h0m4 2h0m2-1h0m3 1h0m0-3h0m0 4h0m0-2h0m1-2h0m0 3h0m1 2h0m1-2h0m2 2h0m2-2h0m1 1h0m3-4h0m0 1h0m4-1h0m3 3h0m0-1h0m0 3h0m35-2h0m7-2h0m2 0h0m5 3h0m3 0h0m13 1h0m24 0h0m3-1h0m6-1h0m-4 3h0m-58 5h0m-32-2h0m-10-3h0m-8 1h0m-1 1h0m0-1h0m-3-1h0m-1 5h0m-2-2h0m0 0h0m-2-3h0m-2 4h0m-1-1h0m-3 2h0m-11-4h0m6 7h0m3-2h0m1 2h0m1 0h0m6 3h0m1-2h0m0-2h0m1-1h0m0 1h0m0 1h0m2-2h0m4 4h0m1-1h0m2 1h0m1-3h0m2-1h0m2 0h0m6 3h0m1-2h0m1 2h0m2 2h0m2-4h0m1 0h0m1 3h0m0-1h0m1-1h0m3 3h0m17 0h0m1-3h0m4-2h0m29 5h0m17-3h0m15 3h0m0-5h0m-5 6h0m-10 5h0m-20-3h0m-56-2h0m-3 2h0m0 0h0m-5 2h0m0-4h0m0 5h0m-3-5h0m-1 5h0m-1-1h0m-4-3h0m-1 0h0m-1 2h0m-1 1h0m0-4h0m-2 5h0m1 1h0m1 0h0m5 2h0m1 1h0m1-3h0m1 2h0m1-2h0m2 3h0m39-2h0m2 4h0m8 0h0m8-5h0m13 5h0m11-1h0m6 0h0m-4 7h0m-7-1h0m-22 0h0m-7 1h0m-5-5h0m-12 5h0m-41-3h0m46 8h0m10 1h0m7-5h0m10 2h0m3-1h0m0-1h0m12 2h0m6 0h0m-25 6h0m-3 0h0m-11 1h0m-14-2h0m-1 0h0m8 9h0m24-2h0m-13 9h0"/>
<path stroke="#649ac7" d="m115 80h0m30 20h0m17-1h0m0 0h0m7 1h0m-14 4h0m-16 1h0m-23 2h0m-53-2h0m71 5h0m32 7h0m-44 2h0m-83 4h0m49-1h0m47 3h0m-10 6h0m-11 5h0m0-2h0m15 2h0m33 1h0m-46 10h0m33-3h0m17 6h0m-39 2h0m-98 4h0m91 2h0"/>
<path stroke="#86bcd9" d="m105 67h0m-17 22h0m60-2h0m0 2h0m0-2h0m22 5h0m-12 1h0m-5 0h0m-16 0h0m-63 6h0m52 1h0m10 1h0m6-2h0m6-1h0m3-1h0m20 10h0m-6-4h0m-22 2h0m-28 0h0m-9-3h0m19 11h0m15-5h0m22 2h0m7 4h0m-6 2h0m-9 3h0m-2-5h0m-17 0h0m-45 5h0m-25-3h0m56 7h0m10 0h0m17 1h0m27 3h0m-2 2h0m-6 2h0m-30-1h0m-13-1h0m5 7h0m22 1h0m2-4h0m-2 9h0m-1-4h0m-24 5h0m-11-5h0m-60 5h0m75 3h0m11-2h0m0 5h0m18-1h0m11-1h0m-31 7h0m-4-3h0m-16 0h0m-100 0h0m103 9h0m2-1h0m70-3h0m-59 7h0m65 5h0m5 1h0m-151 31h0m2 12h0m3 8h0m97 4h0m-33 10h0m0 0h0"/>
<path stroke="#abd9e9" d="m122 68h0m-4-1h0m-17 5h0m1 4h0m10 5h0m-23 1h0m13 6h0m8 1h0m38-3h0m2-1h0m4-1h0m1 5h0m1-3h0m13 9h0m-4-3h0m-12 2h0m0-2h0m-1 0h0m-4 1h0m-4-2h0m-2 3h0m-69-3h0m-6 9h0m14-2h0m9-2h0m40 2h0m1-2h0m0 4h0m6 0h0m8-4h0m6 2h0m13 0h0m5-2h0m3 4h0m0 7h0m0-5h0m-6 2h0m-1-2h0m-13 3h0m-1-1h0m-1 2h0m-1-1h0m-1 0h0m-1-1h0m-1 3h0m-6-2h0m-2-3h0m0 5h0m0-4h0m-1 4h0m-6-2h0m-2 0h0m-1 0h0m-17 1h0m-54 0h0m8 4h0m1 2h0m1-1h0m1-2h0m55-1h0m2 2h0m0 3h0m2-5h0m3 2h0m0 1h0m6-2h0m0 1h0m2-2h0m6 3h0m2-2h0m2 2h0m0-1h0m12 2h0m2 0h0m1-4h0m0 1h0m0 2h0m2 2h0m0-2h0m2-3h0m6 0h0m-15 8h0m-4 1h0m-10 2h0m-9-5h0m-3 3h0m-3 1h0m-1-4h0m-3 1h0m-1-1h0m-49 1h0m-48 9h0m6-3h0m56-1h0m3 4h0m25 1h0m1-3h0m11 3h0m3-2h0m3 2h0m2-1h0m18-2h0m1 3h0m2 0h0m11-1h0m-1 2h0m-3 2h0m-5-1h0m-24 4h0m-6-2h0m-4-2h0m-6 0h0m0 1h0m-1 1h0m-2 0h0m-33-3h0m-48 3h0m-14 7h0m6-2h0m20 2h0m24 0h0m1-4h0m16 4h0m22 0h0m1-2h0m15-2h0m31 5h0m3-3h0m1-1h0m2 4h0m0 0h0m1-3h0m1 2h0m2-3h0m7 5h0m-1 0h0m-1 0h0m-3 0h0m-2 0h0m0 5h0m-8-3h0m-11 3h0m0-5h0m-1 1h0m-1 4h0m0-1h0m-2 1h0m0-1h0m-5-4h0m0 5h0m-14 0h0m-4 0h0m0-2h0m-9 2h0m-28-2h0m-1 2h0m-53-3h0m-1-2h0m-13 5h0m19 2h0m0-1h0m78 2h0m0 2h0m3 0h0m1 1h0m3-4h0m2 1h0m5 1h0m1 1h0m0-2h0m6 0h0m9 2h0m2-2h0m3-2h0m1 2h0m4-2h0m2 5h0m5-2h0m7 0h0m3-3h0m37 7h0m-5 1h0m-7-1h0m-28-1h0m-4 1h0m-21 0h0m-3 2h0m-6-3h0m-3 5h0m-8 0h0m-1 0h0m-7-4h0m-23-1h0m-7 0h0m-2 2h0m-25-1h0m-44 8h0m6 0h0m102-1h0m9 0h0m2-2h0m4 0h0m1 4h0m49 1h0m8-2h0m0 2h0m7-2h0m-4 8h0m-64-4h0m-1 3h0m-3-1h0m-1-1h0m-103-2h0m94 6h0m5 0h0m65 0h0m-132 18h0m-9 1h0m118 14h0m-11-2h0m-28 4h0m-56 0h0m-13-2h0m-6 1h0m-3-1h0m7 6h0m3-1h0m2 1h0m13-3h0m59 1h0m6 3h0m15 0h0m16-2h0m-6 9h0m-15-2h0m-15-1h0m-14-2h0m-24 4h0m-33 1h0m-8-4h0m0 6h0m78 2h0m4-3h0m17 3h0m-6 5h0m-5-2h0m-45 1h0m-5 5h0m7 1h0m2 0h0m1 0h0m2-1h0m3 0h0m22 4h0m21-4h0m-20 9h0m-8 2h0m-27 3h0"/>
<path stroke="#ceeaf3" d="m113 65h0m-3 3h0m-7 3h0m-1 0h0m-3-5h0m-14 11h0m5-2h0m8-2h0m9-1h0m-3 11h0m-2-3h0m-12 3h0m-3-1h0m-6 1h0m-4-2h0m-1 0h0m-9 2h0m-8 6h0m1-2h0m5-1h0m20-1h0m61 3h0m2-2h0m0 3h0m1-4h0m0 4h0m10-2h0m0 2h0m9 3h0m-3 2h0m-2-4h0m-1 1h0m0 3h0m-1-2h0m-1 3h0m-13-4h0m0 3h0m-12 0h0m-45-2h0m-9 2h0m-2 0h0m-6-1h0m3 5h0m10 0h0m41 2h0m0-1h0m1 0h0m6 0h0m2 1h0m3-2h0m5-2h0m0 1h0m1-1h0m6 4h0m0-2h0m2 2h0m2 0h0m7 0h0m4 0h0m3-1h0m4 1h0m0 0h0m-1 2h0m-1 0h0m0 5h0m-14-5h0m-1 0h0m-2 5h0m-1-2h0m-5 2h0m-1-4h0m-1-1h0m0 0h0m-3 4h0m-3-3h0m-3 0h0m-5 0h0m-5 4h0m-5 0h0m-6-2h0m0 2h0m-1-2h0m-34-1h0m-22-2h0m-11 3h0m-2 0h0m-8 7h0m28 0h0m13-4h0m2 3h0m6-2h0m35 2h0m2-1h0m2 0h0m3 2h0m0-2h0m2-2h0m4 3h0m0-3h0m1 3h0m0-1h0m2-2h0m1 0h0m6 0h0m0 5h0m0-3h0m1 3h0m8 0h0m3-2h0m6 1h0m4-1h0m0 4h0m-4-1h0m-6 5h0m0-2h0m-1 1h0m-10-4h0m-2 0h0m-2 5h0m-4-2h0m0 2h0m-2-1h0m-11-4h0m-2 2h0m-55 2h0m-17-3h0m-1 4h0m-20 4h0m69 0h0m20-1h0m12 1h0m1 1h0m2-4h0m6 0h0m1 0h0m2 0h0m0 0h0m10 3h0m0-1h0m1 3h0m1-3h0m3-2h0m3 1h0m8 0h0m2-1h0m-4 6h0m-2 1h0m-2 1h0m-3 2h0m-7-2h0m0 2h0m-6 0h0m-1-2h0m-11 2h0m-3-1h0m-5-1h0m-2 0h0m-4 3h0m-1-1h0m0-1h0m-36 0h0m-36-1h0m-4-2h0m-6 7h0m3 0h0m14-1h0m19 4h0m7-4h0m36 0h0m10 3h0m1 2h0m10 0h0m0-5h0m10 4h0m0-2h0m3 2h0m3-3h0m2 0h0m1 0h0m0 1h0m0 1h0m0-3h0m1 3h0m0 2h0m6-5h0m3 0h0m4 5h0m3-5h0m0 7h0m-1-1h0m-9 3h0m-2 1h0m-1-1h0m-3-3h0m-4 3h0m0 2h0m0-2h0m-7 2h0m-1-1h0m-1-3h0m-6 4h0m-1-4h0m0 2h0m0-1h0m-9-2h0m-7 3h0m-1-3h0m-2 0h0m-1 5h0m-8-4h0m-24 3h0m-17-3h0m-9 3h0m-17 0h0m-18-1h0m1 3h0m14 5h0m1-1h0m7-3h0m9 1h0m23 2h0m5 0h0m6-4h0m2 0h0m21 2h0m1-1h0m1 2h0m0-3h0m3 3h0m3 0h0m3-1h0m0-2h0m1 5h0m3-5h0m6 1h0m0-1h0m2 4h0m4-1h0m2 1h0m0-1h0m2 2h0m4-3h0m9-2h0m8 1h0m1 3h0m5-4h0m39 7h0m-3-1h0m-2 3h0m-5-1h0m-6 0h0m-30-1h0m-29 1h0m-3 3h0m-2-4h0m-4 1h0m0 1h0m-9-3h0m-2 1h0m-29 4h0m-1-3h0m-28-1h0m-35-1h0m-8 5h0m-2-3h0m20 4h0m90 2h0m3 0h0m2 3h0m2-5h0m2 2h0m4 0h0m3 0h0m53 3h0m0 0h0m0-4h0m0 3h0m5-3h0m7 2h0m1-3h0m4 1h0m-3 7h0m-1 1h0m-4 2h0m-1-4h0m-8 4h0m-3-1h0m0-3h0m-1 0h0m-56 0h0m-2 2h0m-3 2h0m-5-3h0m-2-1h0m-2 3h0m-63-1h0m-42-3h0m51 8h0m54-1h0m74 1h0m11-2h0m-47 21h0m-93-1h0m0 0h0m0-1h0m-6 1h0m-4 1h0m-3-1h0m-2 7h0m9 1h0m2 1h0m6-5h0m75 4h0m5-2h0m15-1h0m7 4h0m4-1h0m1 5h0m0 2h0m-4-3h0m-3-2h0m-1 5h0m-7-4h0m-7 2h0m-3 0h0m-10-1h0m-21 2h0m-52-4h0m0 2h0m0 2h0m-1-1h0m0-2h0m-1-1h0m-8 1h0m-10-1h0m11 8h0m0 2h0m1-2h0m3 0h0m0 3h0m2-5h0m12 5h0m1-1h0m0 1h0m21 0h0m16-1h0m7 1h0m4 0h0m7-3h0m11 1h0m4 2h0m7 0h0m4-5h0m4 5h0m0-5h0m6 2h0m1 1h0m0 7h0m-3-2h0m-2 2h0m-4-3h0m-4 2h0m-2 2h0m-3 0h0m-2-5h0m-2 0h0m-4 2h0m-11 2h0m-1-2h0m-6 3h0m-1-5h0m0 2h0m-2 2h0m-1-2h0m-1 2h0m-4-2h0m-8-1h0m-5 3h0m-37-1h0m-4-3h0m-1 1h0m36 7h0m14-2h0m4 4h0m2-2h0m3 3h0m8 0h0m4-3h0m5 1h0m0-2h0m1 0h0m2 3h0m1-3h0m0 0h0m2 3h0m1-1h0m6-2h0m1 0h0m2 0h0m11 3h0m-2 3h0m-7-1h0m-3 0h0m-8 0h0m-1 2h0m-1 2h0m0 0h0m-3-2h0m-1 1h0m-2-2h0m-1-1h0m-1 5h0m-2-5h0m-9 3h0m-1 2h0m-1-4h0m-3 2h0m-2-2h0m-4 2h0m-6 0h0m-2 0h0m-5 2h0m-3-2h0m-1 7h0m0 0h0m1-4h0m4 5h0m8-2h0m3 2h0m3 0h0m0-4h0m1 0h0m3 3h0m5-3h0m5 0h0m3-1h0m0 5h0m2-4h0m2 1h0m1 3h0m3 0h0m4 0h0m1-5h0m4 5h0m0-3h0m1 2h0m4-2h0m3 2h0m-8 2h0m-6 1h0m-14 0h0m0 0h0m-1 2h0m-1 2h0m-2-4h0m-6 2h0m0-3h0m-5 4h0m-1-1h0m-4 2h0m-3-2h0m-1 1h0m-1 0h0m-6 0h0m7 4h0m18 4h0m-14 0h0"/>
<path stroke="#eaf7e5" d="m119 67h0m-19 3h0m-6 5h0m5 2h0m26 3h0m-26-1h0m-13 2h0m-14 0h0m9 7h0m22-4h0m12 2h0m34 1h0m6 1h0m4 1h0m7 4h0m-9 1h0m-2-3h0m0 2h0m-4-1h0m-4 1h0m-1 1h0m-2 1h0m0-3h0m-1 3h0m-1-3h0m-1 3h0m-40-1h0m-4-2h0m-34 2h0m9 4h0m10 2h0m45 0h0m12-3h0m2 0h0m2 1h0m2 1h0m1-3h0m2 4h0m1 0h0m1-2h0m1 0h0m6-1h0m11 4h0m4-4h0m1 3h0m-1 5h0m-2-3h0m-2 2h0m-4 2h0m-9-4h0m-3 4h0m-3-1h0m-1-2h0m0 2h0m-2 0h0m0 0h0m-4 2h0m-7-5h0m-1 4h0m-2-2h0m-4 1h0m0-2h0m-3 0h0m-3 0h0m-3 2h0m0 2h0m-1-1h0m-32-3h0m-29 3h0m-13-2h0m13 8h0m18 1h0m5-2h0m1 0h0m5 2h0m0-4h0m40 0h0m0 3h0m3-1h0m8-3h0m6 5h0m5-5h0m3 5h0m0-1h0m1 1h0m1-4h0m1 1h0m1 3h0m1-3h0m2 0h0m3 1h0m4 0h0m5 1h0m1 0h0m-1 2h0m-4 1h0m-1 4h0m-14-4h0m-2-1h0m-3 3h0m-1 0h0m0 2h0m-3-3h0m0 3h0m-20-5h0m-41 4h0m-36-3h0m-8 10h0m35-2h0m1-1h0m3 2h0m44-3h0m1 2h0m1 0h0m7-3h0m7 1h0m10 3h0m0-2h0m1 0h0m8 0h0m0 3h0m3-3h0m11 3h0m6-1h0m-3 6h0m-1-4h0m-10 1h0m-6 4h0m-16-5h0m-1 3h0m-1-3h0m-1 3h0m-13 1h0m-37-2h0m-1 3h0m-54 0h0m21 4h0m21-2h0m2 3h0m6 1h0m36-3h0m3 0h0m5 2h0m2-3h0m10 0h0m1 0h0m1 2h0m7 2h0m4-3h0m2 1h0m0-1h0m3-1h0m2 4h0m1-1h0m5-4h0m5 1h0m4 9h0m-1-4h0m-2 5h0m-4 0h0m-1 0h0m-3-5h0m-9 2h0m-1 1h0m-2-3h0m0 3h0m-14 0h0m-6-2h0m-3 2h0m-5-1h0m-3 2h0m-2-3h0m-1 2h0m-3 1h0m-19 1h0m-3-4h0m-13 0h0m-3-1h0m-3 2h0m-1 1h0m-12-2h0m-7-1h0m-7 1h0m-20-1h0m3 6h0m17 3h0m11-1h0m2-2h0m1 0h0m1 3h0m14-3h0m44 0h0m1 5h0m3-4h0m18 0h0m8 1h0m2 1h0m0-2h0m0 0h0m6 0h0m1 0h0m12-1h0m2 1h0m1 2h0m32 1h0m3 0h0m1 1h0m9 5h0m-1 0h0m-7-2h0m-1 0h0m-5 1h0m-2-2h0m0 0h0m-3 1h0m-2 3h0m-1-1h0m-28-4h0m-32 3h0m-4 0h0m-10-3h0m-1 4h0m0 1h0m-2-3h0m0-1h0m-26 0h0m-4 3h0m-2-2h0m-25 3h0m-5-5h0m-5 4h0m-4-4h0m-9 3h0m-22 2h0m4 6h0m20-3h0m24-1h0m56 0h0m5 0h0m11 3h0m1-2h0m3 1h0m1-2h0m49 1h0m0 2h0m8-1h0m2 0h0m11-1h0m0-2h0m1 5h0m2-5h0m0 0h0m0 5h0m3-5h0m-21 6h0m-3 0h0m-5 2h0m-1-2h0m0 5h0m-54-4h0m0 2h0m-4 2h0m-2 0h0m-1-1h0m-1-1h0m0-1h0m-2 1h0m-2 1h0m-56 0h0m-6-4h0m-3 3h0m7 6h0m130-2h0m0 1h0m1 0h0m9 0h0m-41 13h0m6 5h0m0 0h0m-1 0h0m-1-1h0m-4 2h0m-3 2h0m-3-2h0m-3 0h0m-1 2h0m-1-2h0m-4 0h0m-84 1h0m-1 0h0m-1-4h0m-2 3h0m-2-2h0m0 1h0m-3 3h0m-1-3h0m-4 3h0m-3 0h0m-11 5h0m2 1h0m2-1h0m4-4h0m3 4h0m8-1h0m5-1h0m1 3h0m77-4h0m0 3h0m4 0h0m7-4h0m3 1h0m1 2h0m3-1h0m2-1h0m4 4h0m0-2h0m2-2h0m1-1h0m1 4h0m8 6h0m0-3h0m-2 3h0m-1-2h0m-1-1h0m0 3h0m-2 0h0m0-2h0m-1-1h0m-3 2h0m-3 2h0m0-2h0m-7 1h0m0-4h0m-2 5h0m-10-2h0m-3-2h0m-1 0h0m-4 3h0m-2-4h0m-1 3h0m-1 1h0m-1-1h0m-2 2h0m-7-4h0m-9 1h0m-49 2h0m-1-4h0m-1 1h0m-3-1h0m-1 3h0m-3-3h0m-2 4h0m-8 0h0m-15 1h0m4 5h0m0-1h0m8-3h0m9 2h0m6-1h0m3 1h0m4 2h0m1-3h0m1-1h0m0 3h0m1-3h0m4 3h0m1 1h0m4 1h0m4-5h0m23 5h0m3-1h0m4 0h0m3-2h0m0 3h0m1-1h0m1 0h0m6-4h0m1 2h0m1 3h0m0-1h0m0-3h0m1 4h0m3 0h0m1 0h0m1-3h0m1 3h0m1-4h0m0 3h0m1-1h0m0-2h0m2-1h0m1 3h0m1-2h0m0 0h0m8 1h0m5-1h0m0-1h0m1 2h0m3-1h0m0 3h0m2-3h0m6 1h0m1 2h0m5-2h0m5-2h0m-3 10h0m0-4h0m-4 1h0m-1 0h0m-1 3h0m-3-4h0m-4 1h0m-1 0h0m-1 1h0m-3 3h0m-2-2h0m-1-2h0m-1 4h0m-4 0h0m-2 0h0m0-3h0m-1 2h0m-2-1h0m-2 1h0m0-2h0m0-2h0m-1 1h0m-1 1h0m-4 1h0m0 2h0m-2-2h0m-2 2h0m-3-4h0m-1 2h0m0-3h0m0 0h0m-2 2h0m-7 0h0m0-2h0m-1 3h0m0-3h0m-2 1h0m-2 1h0m0 3h0m-10 0h0m-23-4h0m-1 2h0m-2 0h0m-1 1h0m-4 0h0m-1-1h0m-1 0h0m0-2h0m-1-1h0m-2 5h0m-4-3h0m-1-2h0m0 5h0m-2-2h0m-2-2h0m3 6h0m10 0h0m35 2h0m0-3h0m1 2h0m5 2h0m0-4h0m1 2h0m0 2h0m1-4h0m3 0h0m2 1h0m2 3h0m3-4h0m0 1h0m3 4h0m1 0h0m3 0h0m2-4h0m0 4h0m2-5h0m2 1h0m4 1h0m3 2h0m1-2h0m1 1h0m3 1h0m0-2h0m3 1h0m0-3h0m2 4h0m0-2h0m2 0h0m4 3h0m1-5h0m2 0h0m3 4h0m1 1h0m1 0h0m4-5h0m-5 10h0m-1 0h0m-1-2h0m0-2h0m-1 0h0m0 3h0m-2 1h0m-1-2h0m-1 1h0m-1-3h0m0 3h0m-2-2h0m-1 2h0m0-1h0m-2-1h0m-3-1h0m0 3h0m-5 0h0m-1 0h0m-4 2h0m0-2h0m0 0h0m-1-1h0m-4-1h0m-3 4h0m0-1h0m-1 1h0m-3-3h0m0 1h0m0-1h0m-3 1h0m-1-1h0m-1 1h0m0-1h0m-1-1h0m-1 0h0m0 3h0m-2 0h0m-1-1h0m0 2h0m-1-4h0m0 0h0m0 0h0m0 4h0m-6-3h0m-1 0h0m-3 2h0m-1-2h0m0 1h0m-1 1h0m-1 1h0m0-4h0m-1-1h0m-1 5h0m0-1h0m-1 1h0m-1 4h0m1-3h0m0 0h0m1 4h0m1 0h0m7-2h0m0-2h0m2 1h0m2 0h0m0-1h0m1 1h0m2 1h0m1 1h0m0 2h0m3-5h0m4 2h0m1-1h0m1 1h0m0 1h0m1-1h0m3 0h0m1 3h0m2-5h0m1 4h0m2-1h0m3 0h0m2 1h0m0-4h0m5 0h0m0 0h0m0 0h0m0 5h0m1-3h0m5-1h0m3 3h0m1-2h0m2 0h0m1-1h0m0-1h0m-16 7h0m-3 0h0m-1 1h0m0-2h0m-5 2h0m0-1h0m-1-1h0m-7 0h0m-4 4h0m-1 1h0m-1-3h0m-1 0h0m0 1h0m-1-3h0m-1 1h0m0 1h0m0 1h0m0-3h0m-1 1h0m0 0h0m-4-1h0m-2 1h0m-2 1h0m-4 2h0m-4 0h0m-1-3h0m5 5h0m0 3h0m2-2h0m1-1h0m0 5h0m4-5h0m1 1h0m6 0h0m3 0h0m2-1h0m10 2h0"/>
<path stroke="#ffffbf" d="m107 75h0m-19 9h0m0 4h0m68-1h0m12 5h0m-1 1h0m0 1h0m-6 0h0m-12-2h0m-6 0h0m-1 3h0m-36-5h0m-8 5h0m36 4h0m0-3h0m6 1h0m5-1h0m6 0h0m7 4h0m2 1h0m2-2h0m9 1h0m0 5h0m-10-3h0m-2 1h0m-10 2h0m-4-2h0m-10 2h0m-4 0h0m0-2h0m-5 3h0m-7 1h0m-1-2h0m-60 3h0m57 0h0m7 1h0m12 3h0m2-3h0m7 2h0m0-2h0m6 1h0m18 3h0m2 0h0m-12 5h0m-5-2h0m-9 3h0m-4-2h0m-3 0h0m-63-2h0m-45 8h0m95-3h0m14 1h0m3-1h0m5 4h0m0-1h0m0 0h0m13 0h0m5-3h0m5 1h0m3 2h0m0-3h0m1 1h0m2 8h0m-5 1h0m-5-3h0m-2 3h0m-2-2h0m-2 1h0m-12-1h0m0-1h0m-19-1h0m-3 0h0m0 3h0m-41-2h0m-32 1h0m-30 8h0m29 0h0m35-3h0m32 1h0m2-1h0m29 1h0m1 1h0m6 1h0m0-2h0m6 3h0m1 0h0m1-5h0m0 4h0m1-3h0m5 1h0m1 2h0m4-4h0m0 2h0m3-1h0m-2 5h0m-1 0h0m-7 4h0m-6-4h0m-6 3h0m-3-2h0m-8 3h0m-2-2h0m-15 3h0m-9-4h0m-27 3h0m-2 1h0m-9-2h0m-6-3h0m-17 9h0m3-1h0m5 1h0m15-3h0m1 0h0m3 0h0m1 3h0m6 0h0m10 1h0m14-2h0m2 1h0m24 1h0m1-2h0m8 0h0m2 1h0m11-1h0m6 2h0m0-4h0m1 2h0m41 8h0m-2-3h0m0 0h0m-5-1h0m-10 4h0m-1-3h0m-56 2h0m0-3h0m-4 2h0m-4 2h0m-7-2h0m-40 0h0m-1 0h0m-1-1h0m-17-1h0m-5 2h0m-43 4h0m6 1h0m11 1h0m29 1h0m2 0h0m23-3h0m32 5h0m5 0h0m5-1h0m0-4h0m5 2h0m0 2h0m56-4h0m3 2h0m0 2h0m5-4h0m3 1h0m4 2h0m3-3h0m2 1h0m1 0h0m3 0h0m-6 5h0m-14 0h0m-61 2h0m-3 2h0m-13-4h0m-52 5h0m35 2h0m95 1h0m11-1h0m-48 7h0m-8 8h0m3 1h0m6-5h0m6 2h0m0 3h0m2 2h0m-1 3h0m0 0h0m-2 0h0m-1-3h0m0 4h0m-3-2h0m0-3h0m-1 5h0m0-4h0m0 4h0m-5-1h0m-5 1h0m-5-3h0m-7 2h0m-2 1h0m-10-2h0m-55 2h0m-1-3h0m-5 1h0m-2-3h0m0 0h0m-7 4h0m0-1h0m-5 1h0m0 0h0m-20 7h0m4-3h0m3 0h0m5 3h0m5 0h0m2-1h0m3-2h0m2-1h0m2 0h0m1 2h0m4 2h0m4-4h0m4 0h0m2 4h0m47 0h0m4-2h0m2 1h0m2-3h0m2 1h0m4 3h0m0-3h0m5 0h0m0 1h0m0 2h0m1 0h0m2-1h0m2 1h0m0-4h0m3 2h0m2 2h0m1-1h0m0 0h0m1-2h0m1-1h0m4-1h0m0 5h0m3 0h0m0-2h0m0 2h0m2-3h0m2-1h0m8 2h0m1-3h0m1 2h0m1 0h0m0 9h0m-1-1h0m0-3h0m-2 1h0m-1 0h0m-1-1h0m-1 2h0m-1-1h0m-9-1h0m-1 4h0m-1-4h0m-3-1h0m-1 3h0m-7-3h0m0 0h0m-3 2h0m-7 0h0m0 0h0m-2-1h0m-1 2h0m-3 0h0m0 0h0m-3-3h0m-4 2h0m-2 1h0m-2 1h0m-5-2h0m0-1h0m-10 0h0m-27 4h0m-2 0h0m0-5h0m-6 5h0m0 0h0m-1-1h0m-10-4h0m0 5h0m-1-1h0m-1-3h0m-3 2h0m-4 1h0m-4-1h0m-6 1h0m-12 1h0m3 2h0m7 1h0m11-2h0m1 2h0m1 3h0m2-2h0m0-2h0m4 0h0m4 2h0m4-1h0m2-1h0m5 0h0m4 0h0m2 4h0m26-1h0m1-1h0m2-1h0m2 2h0m0-2h0m1 3h0m1-2h0m0 0h0m4 0h0m2-1h0m4-1h0m0 3h0m1 1h0m6-2h0m6 1h0m5 0h0m4-2h0m5 0h0m0-1h0m1 1h0m0 0h0m5-1h0m3 1h0m0-1h0m7 1h0m2 1h0m2-3h0m1 3h0m1 2h0m2-5h0m5 0h0m-5 8h0m0 0h0m-6 2h0m-1 1h0m-1-3h0m0 0h0m-2-1h0m-2-1h0m-1 0h0m-6 4h0m-7-4h0m-2 3h0m-1-2h0m-1 0h0m0 4h0m-1-4h0m-7 0h0m-3 0h0m0-1h0m-5 2h0m-1-2h0m0 1h0m-4 3h0m-1-1h0m0 1h0m-1-2h0m-1-2h0m-4 4h0m-1-1h0m-1-1h0m-1 0h0m-2-1h0m-1 2h0m-1 1h0m-2-2h0m-1 3h0m0-2h0m0-3h0m0 4h0m-4-3h0m-1 0h0m-29 2h0m-6 0h0m-3-1h0m-2 3h0m-1-5h0m-1 3h0m-3-1h0m5 4h0m2 3h0m39-2h0m1 0h0m0 3h0m1 1h0m1-1h0m3-1h0m0 2h0m1-3h0m10-2h0m1 1h0m0 4h0m2-4h0m1 2h0m3-2h0m1 2h0m2-2h0m5-1h0m4 4h0m2-2h0m3-2h0m3 2h0m0 0h0m0-1h0m0 2h0m2 2h0m1-5h0m2 2h0m3-2h0m2 0h0m1 0h0m0 2h0m3 1h0m0 1h0m0-3h0m0 0h0m3 3h0m2-3h0m1-1h0m2 0h0m2 0h0m-5 9h0m0-3h0m-1 5h0m-3-4h0m0-1h0m-1 4h0m0-3h0m-1 0h0m-5-1h0m-1 4h0m-1 0h0m0-4h0m-7 1h0m-2 4h0m0-2h0m-2 1h0m0-3h0m-3 0h0m0 2h0m-1 1h0m0-3h0m-1 3h0m0 1h0m-1-4h0m0 2h0m-1 2h0m-2 0h0m-1-5h0m-1 0h0m-1 0h0m-2 1h0m-1 3h0m-3-3h0m-1 1h0m-2-2h0m-6 4h0m-1-4h0m0 3h0m-5 0h0m-1-1h0m0 2h0m-4 1h0m-1-3h0m-1 3h0m-2-1h0m0 1h0m0 4h0m1-3h0m5 2h0m1 3h0m2-5h0m2 3h0m1 1h0m1 1h0m4-5h0m5 1h0m2 2h0m0-3h0m1 5h0m1-1h0m1-3h0m1 4h0m5-2h0m0-1h0m3 2h0m1 0h0m1-3h0m0 3h0m4-3h0m6 4h0m2-1h0m2 1h0m1-1h0m1 0h0m1-4h0m2 4h0m1-4h0m0 4h0m0-2h0m4-2h0m-15 6h0m-5 1h0m-2 4h0m-2-5h0m-2 0h0m-1 0h0m-2 3h0m-2 0h0m-1 1h0m-1-4h0m-2 3h0m-3 2h0m0-5h0m-1 5h0m-4-4h0m-1-1h0m-2 5h0m-4 0h0m0-2h0m-1-3h0m-1 3h0m-3 0h0m-1-3h0m-2 1h0m0 2h0m-1-1h0m-1 3h0m-1-5h0m-1 1h0m9 6h0m2 0h0m2 4h0m0-3h0m0 3h0m7-1h0m5-2h0m0-1h0m2 0h0m2 3h0m1 1h0m0-4h0m1-1h0m0 1h0m0 6h0m-4 0h0m-9 1h0m-2 1h0m0-1h0m-4-1h0"/>
<path stroke="#feeaa0" d="m104 68h0m48 15h0m-49-2h0m33 12h0m-6 11h0m27 15h0m-15-4h0m-11 2h0m-7 8h0m32-1h0m13-4h0m7 6h0m-23 0h0m-17 4h0m-9 5h0m35 2h0m4-3h0m12-1h0m-19 5h0m-10 2h0m-4-2h0m-63 5h0m-2-3h0m-8 3h0m-20-1h0m13 2h0m16 1h0m4 4h0m0 0h0m3-5h0m28 1h0m6 2h0m24-1h0m7 2h0m18 0h0m0-4h0m22 7h0m-4 3h0m-50-3h0m-2 0h0m-6-1h0m-45 5h0m-23-5h0m-2 2h0m-28 9h0m7-3h0m80 1h0m18-2h0m51 4h0m3 2h0m-65-1h0m-65 0h0m-24 0h0m-4 2h0m-2 1h0m124 9h0m-23 4h0m-14 7h0m1-1h0m2-1h0m5 0h0m22-2h0m1 4h0m7-2h0m1-1h0m1 3h0m1-3h0m4 1h0m6 6h0m-6 0h0m-4-2h0m-2 3h0m0-3h0m-1 0h0m-5 0h0m-4 3h0m-2-3h0m0-1h0m-1 2h0m-1 1h0m-4-1h0m-1 2h0m-31-3h0m-44 3h0m-2 0h0m-2-3h0m-3 2h0m-2-2h0m-12 4h0m-7 6h0m1-5h0m1 2h0m4 3h0m2-5h0m1 2h0m0 0h0m1-2h0m0 2h0m6 2h0m3-4h0m47 5h0m0-3h0m5 3h0m6-1h0m6-2h0m3 3h0m0-2h0m0 2h0m5-2h0m0-3h0m0 4h0m0-4h0m1 2h0m3 1h0m1-3h0m0 4h0m1-4h0m1 4h0m2-1h0m0 0h0m1 0h0m0 1h0m4-3h0m2-1h0m2 0h0m1 4h0m1 0h0m12-1h0m0 1h0m3-1h0m6 5h0m-7 3h0m-5-4h0m-2 1h0m-5 2h0m-5-4h0m-15 1h0m-5 0h0m-3 2h0m-2 2h0m-1-4h0m-1 3h0m-2-4h0m-3 4h0m0-3h0m-2 3h0m-1-3h0m0 4h0m-1-1h0m0-2h0m-1 3h0m0-2h0m-6-3h0m-1 5h0m0-5h0m-3 2h0m-41-1h0m-1 1h0m-2-2h0m-2 4h0m-11 0h0m-2 1h0m-2-5h0m-1 5h0m-2-5h0m-1 5h0m-2-4h0m-1 1h0m-2-1h0m-1 4h0m3 1h0m4 1h0m0 2h0m1 0h0m2-1h0m0-2h0m0 3h0m3-1h0m1 0h0m0 0h0m3-2h0m1 0h0m0 3h0m3-2h0m2 3h0m1-1h0m0 2h0m0-5h0m2 2h0m15 0h0m5-2h0m29 2h0m1 3h0m1-2h0m1 1h0m1-4h0m3 2h0m1 3h0m0 0h0m1 0h0m1-5h0m2 3h0m1 0h0m1-3h0m10 1h0m17 4h0m12-3h0m2-1h0m1 2h0m0-3h0m1 5h0m0-2h0m3-1h0m0 3h0m1-4h0m1 4h0m8-5h0m-6 10h0m-1 0h0m-2-1h0m-6-3h0m-1 3h0m-3-2h0m-4 3h0m-2 1h0m-2-2h0m-2-3h0m0 3h0m-14-3h0m-1 5h0m-9 0h0m-3-4h0m-7 2h0m-1 2h0m-9-1h0m-1-1h0m-1-2h0m-1 3h0m-1 1h0m-23-3h0m-5 1h0m-9-1h0m-6-2h0m0 4h0m-1-2h0m8 5h0m0-1h0m1 0h0m40 3h0m0 0h0m2-3h0m12 5h0m2-3h0m1 3h0m9-1h0m6-1h0m1 2h0m4-4h0m2-1h0m0 2h0m12 0h0m7 1h0m3-3h0m3 0h0m-11 9h0m-1-3h0m-2 1h0m-1-1h0m-24 0h0m-5 4h0m-3 0h0m-2-1h0m-3 2h0m-1-5h0m-12 5h0m-6-1h0m0 1h0m5 2h0m1 2h0m1 1h0m4 1h0m3 0h0m5-3h0m4-1h0m2 3h0m0 0h0m0 1h0m3-4h0m12 2h0m0-3h0m16 5h0m3-5h0m-12 8h0m-9-1h0m-9 3h0m-2 1h0m-1-3h0m0 1h0m-1-1h0m-3 2h0m-1 0h0m-8 1h0m-1-3h0m-4 3h0m-1-2h0m1 8h0m5-1h0m2-2h0m1 3h0m2-5h0m1 2h0m2 2h0m2-3h0m3 3h0m6-4h0m2 2h0m-11 8h0m-2 0h0m-2-1h0m-2-2h0m-1-1h0m0 3h0"/>
<path stroke="#fecf80" d="m106 79h0m26 19h0m35 13h0m-43 15h0m53 11h0m-94 18h0m-2-5h0m-48 10h0m175-1h0m-171 4h0m-2-1h0m-1 4h0m119 5h0m1 2h0m7 1h0m-1 0h0m-7 1h0m-1 3h0m-2-1h0m-4-1h0m-2-2h0m-5 5h0m-13 1h0m1 4h0m0 1h0m4-4h0m1-1h0m2 2h0m3-1h0m5 2h0m1 1h0m2-1h0m1 2h0m2-3h0m3 3h0m2-2h0m1 1h0m0 0h0m1-3h0m1 3h0m1 1h0m2-1h0m4-3h0m1 4h0m-1 2h0m-7 1h0m-2-1h0m-1 1h0m-5-1h0m-1 0h0m-3 1h0m-2-2h0m-1 5h0m-1-2h0m0 1h0m-2 1h0m-2-1h0m0-1h0m-1 1h0m-1-2h0m-3-1h0m0 2h0m-7-3h0m-1 3h0m-5-2h0m-2 3h0m0 0h0m-1-4h0m-1 5h0m-1 0h0m-72 0h0m-14 6h0m12 0h0m5 0h0m1-1h0m3 0h0m4-2h0m4-1h0m41 4h0m3-2h0m4 1h0m4-3h0m1-1h0m0 4h0m0-2h0m2 0h0m1-1h0m2-1h0m5 3h0m1-3h0m1 2h0m0 2h0m2-2h0m1-1h0m1 2h0m4-2h0m2 1h0m1 1h0m3-3h0m4 3h0m1-1h0m16 0h0m3-2h0m0 11h0m-13-4h0m-17 3h0m-16-3h0m-4 0h0m-2 3h0m-1-2h0m-1 3h0m0-2h0m-6-3h0m-2 2h0m-44 3h0m-6-3h0m-6 0h0m-2 0h0m-5 3h0m-1-1h0m-1-4h0m-4 7h0m5-1h0m1 3h0m0 2h0m2-5h0m4 3h0m12 1h0m24 0h0m18 0h0m2-3h0m5-1h0m1 5h0m0-5h0m4 1h0m3 0h0m6-1h0m0 2h0m34 8h0m-7 0h0m-91 0h0m-15-3h0m116 12h0m-2 2h0m-55 6h0m28 8h0m0-5h0m-5 1h0m-4-1h0m-10 11h0m8-5h0m0 5h0m3-4h0m2 2h0m1-1h0m3-1h0m-3 5h0m-7 3h0m-2-2h0m0 1h0m-1-1h0"/>
<path stroke="#fdae61" d="m154 120h0m-96 26h0m20 3h0m43-1h0m11 3h0m-42-1h0m-58 10h0m5 1h0m1 0h0m2-1h0m1 0h0m-2 3h0m-2 3h0m-6-3h0m0 0h0m128 9h0m0 1h0m3 6h0m-1-2h0m-1-1h0m0 3h0m0-2h0m-2-2h0m-1 1h0m0-2h0m-2 3h0m-2-3h0m0 4h0m-1 0h0m-1-4h0m0 0h0m0 0h0m-2 5h0m0-4h0m-4 0h0m0 3h0m-3 0h0m-2-1h0m-5 0h0m-4 0h0m-21 5h0m4 3h0m4-2h0m1 1h0m4-4h0m1 0h0m4 2h0m0 1h0m1-1h0m2 3h0m6-5h0m5 0h0m10 5h0m3-4h0m1 1h0m3 2h0m2-3h0m-5 7h0m-1-1h0m-10 0h0m-2 2h0m-1-1h0m-6-2h0m-3 1h0m-1 1h0m-7-1h0m-1 2h0m-2-1h0m0 0h0m-3-2h0m-1 1h0m-1 2h0m-7-1h0m-1 3h0m0-2h0m-1-2h0m-77 10h0m2 0h0m1 0h0m68-3h0m12-1h0m12 0h0m14 2h0m-18 5h0m-3 1h0m0-1h0m-16 0h0m-29 3h0m-20-3h0m-18-1h0m-2 1h0m-4-2h0m-1 1h0m-5 3h0m12 6h0m0-3h0m31 4h0m7-5h0m88 3h0m-68 3h0m-34 5h0m49 29h0m1 4h0"/>
<path stroke="#f7834d" d="m38 163h0m-5 1h0m-1-1h0m113 10h0m10-2h0m3 1h0m4 4h0m-1 3h0m-2-1h0m-3-2h0m-2 3h0m-2-4h0m-2 0h0m0 2h0m-1 1h0m-1-4h0m-3 1h0m-1 0h0m-5 1h0m-4 0h0m-1 1h0m-26 7h0m4-1h0m9 2h0m1 0h0m1-1h0m1-1h0m4-2h0m5 1h0m1 1h0m3-2h0m5 0h0m8 0h0m4 0h0m6-1h0m-17 11h0m-3-5h0m-3 3h0m-6 0h0m-6 2h0m-1-4h0m0 1h0m-5 1h0m-1-1h0m-3 2h0m0-3h0m0 4h0m-2-5h0m-9 5h0m-77 6h0m8-2h0m65 1h0m0 1h0m2 0h0m6 0h0m3-1h0m29-4h0m-44 11h0m-56-1h0m-5-1h0m-1 1h0m-4 6h0m3-2h0"/>
<path stroke="#ea593a" d="m159 175h0m-18 4h0m-1 0h0m-11-1h0m-13 7h0m14-4h0m0-1h0m-4 7h0m-3 2h0m-16-2h0"/>
<path stroke="#d73027" d="m138 176h0m-9 6h0"/>
</g></g><use href="#t104" stroke-width="3.5"/></g>
<path d="M1369.1 1427.5V1637.9H1596.5" fill="none" stroke="#000" stroke-width="1.9"/>
<text x="1369.1" y="1650.7" font-size="9.4" text-anchor="middle" fill="#333">−50</text>
<text x="1422" y="1650.7" font-size="9.4" text-anchor="middle" fill="#333">−25</text>
<text x="1474.8" y="1650.7" font-size="9.4" text-anchor="middle" fill="#333">0</text>
<text x="1527.7" y="1650.7" font-size="9.4" text-anchor="middle" fill="#333">25</text>
<text x="1580.6" y="1650.7" font-size="9.4" text-anchor="middle" fill="#333">50</text>
<text x="1364.5" y="1431.5" font-size="9.4" text-anchor="end" fill="#333">50</text>
<text x="1364.5" y="1484.4" font-size="9.4" text-anchor="end" fill="#333">25</text>
<text x="1364.5" y="1537.2" font-size="9.4" text-anchor="end" fill="#333">0</text>
<text x="1364.5" y="1590.1" font-size="9.4" text-anchor="end" fill="#333">−25</text>
<path d="M1369.1 1637.9v3.2M1422 1637.9v3.2M1474.8 1637.9v3.2M1527.7 1637.9v3.2M1580.6 1637.9v3.2M1369.1 1428h-3.2M1369.1 1480.9h-3.2M1369.1 1533.7h-3.2M1369.1 1586.6h-3.2" stroke="#000" stroke-width="1.5" fill="none"/>
<text x="1352.4" y="1533" font-size="14" text-anchor="middle" transform="rotate(-90 1352.4 1533)">tSNE_2</text>
<text x="1475" y="1355.6" font-size="33.5" text-anchor="middle" font-style="italic" stroke-width="0.40">Ly6a</text>
<rect x="1607.8" y="1509.3" width="11.5" height="58.2" fill="url(#rb)"/>
<text x="1608.2" y="1504.7" font-size="7.3" fill="#222">Scale.data</text>
<text x="1622.6" y="1517.6" font-size="6.1" fill="#333">3</text>
<text x="1622.6" y="1531.2" font-size="6.1" fill="#333">2</text>
<text x="1622.6" y="1545" font-size="6.1" fill="#333">1</text>
<text x="1622.6" y="1558.6" font-size="6.1" fill="#333">0</text>
<path d="M1607.8 1515.4h2.3M1619.3 1515.4h-2.3M1607.8 1529h2.3M1619.3 1529h-2.3M1607.8 1542.8h2.3M1619.3 1542.8h-2.3M1607.8 1556.4h2.3M1619.3 1556.4h-2.3" stroke="#fff" stroke-width="0.5" fill="none"/>
<g transform="translate(1686.2 1376.8)" fill="none" stroke-linecap="round"><g stroke-width="4.2"><g id="t105">
<path stroke="#4575b4" d="m109 58h0m-5 1h0m-6 6h0m1 0h0m4-5h0m0 1h0m3 4h0m2-5h0m1 1h0m0 3h0m1-3h0m1 4h0m1-3h0m1 1h0m0 0h0m1 0h0m0 1h0m1 0h0m3-2h0m0 3h0m0-3h0m1 2h0m1-1h0m0 2h0m1-1h0m1 2h0m0 4h0m-1-3h0m0 2h0m-2-3h0m-1 3h0m-1 2h0m-1 0h0m0-2h0m-1 1h0m-1-4h0m-1 2h0m-1 2h0m0-2h0m0 0h0m-1-2h0m-1 0h0m-2 4h0m0-4h0m0 4h0m-1 1h0m-1-2h0m-1-2h0m-1 2h0m0 0h0m0-3h0m-1 3h0m-1 1h0m0 1h0m-1-4h0m-1 4h0m0 0h0m-1-2h0m0 2h0m-1-4h0m0 0h0m0 2h0m-4-1h0m0 3h0m-2 0h0m-1 0h0m0-1h0m-1-1h0m-1 1h0m0 0h0m-4 1h0m-12 6h0m2 0h0m1-1h0m0 1h0m0 0h0m2 0h0m2-3h0m2 3h0m0-4h0m0 3h0m1 0h0m1 0h0m0-4h0m1 3h0m0 2h0m0-1h0m0-3h0m1 3h0m1 1h0m0-3h0m0 0h0m2 1h0m0-2h0m0 2h0m0 2h0m2-4h0m2 1h0m2 0h0m1-2h0m2 0h0m0 3h0m1 0h0m0-1h0m0 1h0m0 2h0m1-2h0m1 2h0m1-3h0m0 1h0m1 2h0m0-1h0m2-4h0m0 3h0m0 1h0m1-2h0m2-1h0m2 0h0m1 3h0m2 0h0m0-4h0m0 3h0m1-3h0m1 2h0m0 0h0m1 2h0m1 1h0m0-4h0m1 1h0m2-2h0m35 11h0m-2-1h0m-37-4h0m0 4h0m-1-3h0m-1 4h0m0-5h0m-1 1h0m-1 1h0m0-2h0m-2 0h0m-1 4h0m0 1h0m-1-3h0m0 1h0m0 1h0m-1-3h0m0 1h0m0-2h0m-1 1h0m0 2h0m0-3h0m0 3h0m0-3h0m-1 4h0m0-1h0m-1-1h0m0 1h0m0-2h0m-1 4h0m0-5h0m0 3h0m0 1h0m0-3h0m-1 2h0m-1 0h0m-1-1h0m0-1h0m-1 2h0m-8 1h0m-1 1h0m0-5h0m0 2h0m-1 1h0m0-2h0m0 3h0m0-2h0m-2-2h0m-1 2h0m-1-1h0m-1 1h0m0 1h0m0 0h0m-1-1h0m0 2h0m-1-2h0m0 2h0m0 0h0m-1-3h0m-1 3h0m-1 0h0m-2-2h0m0-2h0m0 5h0m-1-3h0m-1 2h0m0-4h0m-2 5h0m0-4h0m-1 1h0m0 0h0m0-2h0m-1 1h0m-1 3h0m0-4h0m0 5h0m-1-5h0m-2 3h0m-2 0h0m0-1h0m-1 0h0m-6 9h0m1 0h0m0-2h0m0-3h0m1 4h0m3 1h0m1-1h0m2-4h0m0 1h0m1 4h0m5-5h0m0 0h0m0 1h0m2 0h0m2 4h0m1-4h0m2 4h0m3-2h0m1-3h0m2 3h0m0-3h0m1 3h0m3 0h0m0 0h0m1-3h0m0 4h0m8 1h0m0-3h0m1 3h0m1-3h0m0 1h0m0 0h0m1 0h0m0-2h0m2 2h0m1 0h0m1 1h0m1 0h0m2 1h0m1 0h0m0-4h0m1 3h0m1 0h0m0-3h0m1 0h0m0 3h0m0-2h0m1 0h0m2-1h0m32 1h0m1-1h0m0 3h0m0-1h0m0-2h0m0 3h0m0-2h0m1-1h0m0 2h0m1-3h0m0 2h0m0 1h0m0 1h0m0-1h0m1-3h0m2 5h0m3-1h0m0-2h0m0 3h0m1-3h0m0-1h0m2 3h0m1 0h0m0-2h0m3 1h0m1 1h0m1-1h0m6 5h0m0-1h0m-1 3h0m0 1h0m-1-5h0m0 1h0m-1 0h0m0 4h0m0-2h0m-2-3h0m0 2h0m-1 0h0m-2 0h0m-1-2h0m0 2h0m-1-1h0m0 3h0m-3 1h0m-1-2h0m0-2h0m0 2h0m-1-1h0m-1-2h0m-1 1h0m0 0h0m-1 1h0m0-1h0m0-1h0m-1 5h0m-1-4h0m0 3h0m-2-4h0m-1 0h0m0 2h0m0 0h0m0 0h0m-1 1h0m0 2h0m-1 0h0m-1-1h0m0 1h0m0 0h0m0-5h0m-1 4h0m0 0h0m0-3h0m0-1h0m-1 1h0m0 1h0m0 2h0m-2 0h0m0-3h0m-1 4h0m-1-3h0m-1 0h0m0-1h0m-1 3h0m0-2h0m-2 0h0m0 1h0m-1 1h0m-2 1h0m-22-4h0m0 1h0m-2 0h0m0 3h0m-1-1h0m-1 1h0m-2 0h0m-1-4h0m-1 1h0m-1 2h0m0 0h0m0-2h0m-1 1h0m0 1h0m-1-4h0m0 0h0m0 0h0m0 0h0m0 4h0m-1-3h0m-1 0h0m-1 1h0m-1 0h0m-2 1h0m0 2h0m-3 0h0m0-3h0m0-2h0m-3 2h0m0-2h0m0 0h0m0 2h0m-1 0h0m0 2h0m0-4h0m-1 5h0m0-2h0m-2 0h0m0 1h0m-1-2h0m0 0h0m0-1h0m0 1h0m-1 2h0m-1 0h0m0-2h0m0 2h0m-1-3h0m-2 1h0m0 2h0m-3-1h0m-1 2h0m0-4h0m0-1h0m-4 3h0m0 1h0m0 0h0m-3 0h0m0 1h0m-4-5h0m0 0h0m0 0h0m-1 3h0m-1-2h0m-1 2h0m0 2h0m-2-3h0m-1 3h0m-1-2h0m-6 1h0m2 4h0m1 0h0m4-2h0m0 1h0m0-1h0m0 3h0m0 1h0m2-4h0m0 3h0m3 0h0m1-1h0m0-1h0m2 1h0m3 0h0m1 0h0m2-1h0m2-1h0m0 0h0m2 1h0m0 3h0m1-3h0m0 2h0m1-3h0m1 0h0m1 1h0m2 3h0m1-4h0m0 5h0m1-2h0m0 0h0m0 0h0m1-3h0m1 0h0m2 1h0m2 2h0m0-2h0m2 2h0m1 1h0m1-2h0m0 1h0m1-2h0m7 4h0m1-4h0m1 2h0m1 2h0m2-1h0m1 1h0m0-4h0m16 4h0m4-2h0m1 0h0m0-1h0m0 1h0m2 2h0m0-3h0m2-1h0m0 2h0m2-3h0m0 0h0m2 2h0m0 2h0m0 1h0m0-4h0m1 3h0m1-2h0m0 2h0m0 1h0m1-2h0m1 1h0m1-3h0m0-1h0m2 0h0m0 2h0m0 1h0m1-2h0m0-1h0m1 0h0m1 3h0m0-2h0m1 3h0m0 1h0m2-4h0m0 2h0m0 2h0m1-2h0m0 2h0m1-5h0m1 5h0m0-3h0m0-2h0m1 0h0m0 1h0m1 4h0m1-3h0m1 1h0m1 2h0m1-1h0m1-2h0m0 2h0m1-3h0m0 1h0m1 1h0m0 0h0m0 2h0m2-1h0m0-2h0m1 0h0m0 0h0m0 0h0m1-2h0m1 5h0m1-2h0m0-3h0m2 4h0m0-3h0m2 1h0m1 3h0m1 0h0m0-2h0m0 1h0m0 0h0m0-2h0m1 3h0m0-5h0m0 3h0m1 0h0m0 0h0m1 1h0m-1 3h0m-1 4h0m0-1h0m-1 0h0m0-3h0m-1 4h0m0-1h0m-2-3h0m-1-1h0m0 5h0m0-5h0m-2 0h0m0 4h0m0-4h0m-1 2h0m-1 2h0m-1 1h0m0-1h0m-4-4h0m-2 5h0m-1-4h0m0 2h0m-2 1h0m-1-2h0m0-1h0m0 1h0m-1 0h0m0-1h0m-1 3h0m-1-1h0m0-1h0m-1 2h0m0-2h0m0 0h0m0 0h0m-1-1h0m0 3h0m-1 0h0m0 1h0m-1 0h0m0-2h0m0-1h0m0-1h0m0 0h0m0 1h0m-1-2h0m-1 5h0m0-4h0m0 1h0m0 3h0m-1-4h0m0 3h0m-1 0h0m-1 0h0m0-2h0m-1-1h0m0-1h0m-1 4h0m0 1h0m0 0h0m0 0h0m-1-1h0m0 0h0m0-4h0m-1 3h0m0 1h0m0 1h0m-1 0h0m-1-1h0m-1 0h0m0-2h0m-2-2h0m0 2h0m0-2h0m-1 2h0m0-1h0m0 4h0m0-5h0m0 0h0m-2 2h0m-1 0h0m0 2h0m0-2h0m-1 1h0m0 1h0m0 0h0m-2-4h0m-2 5h0m0 0h0m-1-1h0m-1-3h0m-1 3h0m-1 0h0m0-3h0m0 0h0m0 1h0m0 1h0m-3-2h0m0 3h0m0-1h0m0 0h0m-1-1h0m0 2h0m0-2h0m-3 1h0m-1-1h0m-6-2h0m-15 0h0m-1 3h0m-3-3h0m0 5h0m-1-1h0m0 1h0m-1-3h0m0 2h0m0-1h0m0-1h0m-3-1h0m0 4h0m0-4h0m-2 4h0m-3-1h0m-4-4h0m0 1h0m-2 0h0m-1 2h0m0 0h0m-1-1h0m-2 3h0m-3 0h0m-2-2h0m-1 2h0m-3-2h0m0 0h0m0-2h0m-1-1h0m0 5h0m-1 0h0m-2-5h0m-3 2h0m0-2h0m-1 1h0m-1 1h0m-1-2h0m-1 1h0m0-1h0m-1 5h0m-7 6h0m1-4h0m0 2h0m4-2h0m1 1h0m3 2h0m0 0h0m0-2h0m2 1h0m2-1h0m1 3h0m2-4h0m0 0h0m1 4h0m1-1h0m0-2h0m0-2h0m1 0h0m5 0h0m3 0h0m1 2h0m2 3h0m0-3h0m0 3h0m1-2h0m1 0h0m1-2h0m1 1h0m4 1h0m1-1h0m1-1h0m0 4h0m2-3h0m1 1h0m1-1h0m0 1h0m1-2h0m1 4h0m2-1h0m1-4h0m2 5h0m0-1h0m2-4h0m1 0h0m4 5h0m26-2h0m1 2h0m0-1h0m0-2h0m1-1h0m1 3h0m0-2h0m0 3h0m0-1h0m0 0h0m1-4h0m0 4h0m0-4h0m0 5h0m0-2h0m1-2h0m1 4h0m0-5h0m1 2h0m1-1h0m0 1h0m0-2h0m1 2h0m3-2h0m1 3h0m0-1h0m0-1h0m1 4h0m0 0h0m0-5h0m0 1h0m0-1h0m0 0h0m0 0h0m1 1h0m1 1h0m1-1h0m4 0h0m0 1h0m1 1h0m1-1h0m0 3h0m0-4h0m1 3h0m0 0h0m1 0h0m1-3h0m0 0h0m0 1h0m1 2h0m1-3h0m1 2h0m1 1h0m1 0h0m0 0h0m0 0h0m1-4h0m0 0h0m1 4h0m0 0h0m1-3h0m1 1h0m0-1h0m1 1h0m1-1h0m0 2h0m2 0h0m1-1h0m0 1h0m1-2h0m0 0h0m0 2h0m1 2h0m0-5h0m0 1h0m1 1h0m1 2h0m0-3h0m1 3h0m0-2h0m1 0h0m0 2h0m0-2h0m1 2h0m0 1h0m0-1h0m1-2h0m1 3h0m0-2h0m1 0h0m0 8h0m-1 0h0m-1 0h0m-3-5h0m0 0h0m-1 2h0m-1 2h0m-1-3h0m-1 4h0m-2 0h0m-1-1h0m-1-3h0m-1 3h0m0 0h0m0-2h0m-1 1h0m0-3h0m0 3h0m-2 2h0m0-1h0m-1-1h0m0-1h0m-1-2h0m0 1h0m-1-1h0m-5 0h0m0 2h0m-1 0h0m0 2h0m0-4h0m0 5h0m0-2h0m-1 1h0m-1 1h0m0-2h0m-1-3h0m0 5h0m-1-1h0m0-1h0m-1 2h0m-1 0h0m0-3h0m0 0h0m-1 3h0m0-3h0m0 1h0m-3-1h0m0 1h0m-2 2h0m-1-3h0m-2 0h0m-1 2h0m-1-1h0m-4-1h0m-2-1h0m-1 3h0m-31-2h0m-1 1h0m-1-2h0m0 4h0m-1-1h0m-2-3h0m0 0h0m-1 4h0m0-1h0m-2-4h0m-1 4h0m0-1h0m-1 2h0m-1-2h0m0 0h0m-1 1h0m-1 1h0m-1 0h0m0 0h0m-3-4h0m-1 1h0m0-2h0m-4 3h0m-1 2h0m0-2h0m-1-1h0m0-1h0m-2 1h0m-1-1h0m-1-1h0m0 1h0m-11 2h0m-1-3h0m-1 0h0m0 4h0m-1 1h0m-2-4h0m-1 3h0m0 1h0m-1-2h0m0-3h0m0 1h0m0 2h0m-1 0h0m0 0h0m-1 2h0m0 0h0m0 0h0m-1 0h0m-1-5h0m-1 4h0m0-3h0m-13 7h0m0 3h0m1-3h0m1 0h0m0 3h0m1-3h0m0 3h0m1-4h0m1 2h0m1-1h0m0-2h0m1 2h0m1 2h0m0-3h0m0 1h0m1 2h0m0-1h0m2 1h0m0 1h0m1-1h0m0-2h0m0-2h0m0 3h0m4 2h0m0-4h0m1 4h0m1-2h0m0 1h0m1-1h0m0 2h0m0-1h0m0 1h0m1-5h0m1 4h0m0-2h0m0 2h0m1 0h0m1-1h0m1-1h0m0-2h0m1 4h0m0-3h0m0 4h0m0-1h0m8-1h0m1 2h0m2 0h0m3-4h0m1 3h0m1 0h0m0-2h0m0-1h0m0 2h0m1-1h0m0 2h0m1 1h0m1-3h0m1-1h0m0 1h0m0 3h0m1-4h0m2 4h0m1-2h0m0 1h0m1-4h0m0 3h0m2 0h0m1 2h0m1-1h0m0-4h0m2 1h0m4-1h0m1 1h0m1-1h0m0 1h0m1 0h0m0 2h0m0-3h0m2 3h0m8-1h0m17 2h0m2 1h0m0-4h0m0 2h0m1-2h0m0 0h0m1-1h0m0 0h0m1 2h0m0 0h0m1 0h0m1 3h0m1 0h0m0-1h0m1-4h0m0 3h0m1 2h0m2-1h0m2-2h0m1 0h0m0 1h0m0-1h0m3 2h0m1 0h0m0-4h0m1 0h0m0 3h0m1 2h0m1 0h0m1-5h0m5 2h0m1 0h0m0 0h0m1 1h0m0 0h0m0-2h0m0 0h0m0 4h0m2-2h0m5 2h0m0-3h0m0-1h0m0 3h0m1-4h0m1 3h0m0-2h0m0 3h0m0-3h0m1 2h0m1-1h0m0-1h0m1 3h0m3-4h0m5 3h0m0-2h0m1 4h0m0 0h0m1-5h0m0 3h0m1 1h0m0-4h0m1 2h0m0 3h0m2-5h0m0 4h0m2-1h0m1 0h0m1 2h0m-1 1h0m-1 2h0m-1 3h0m0-3h0m0 3h0m0-5h0m-2 3h0m-2 2h0m-1-2h0m-1 2h0m-1-1h0m-1-3h0m-2-1h0m0 1h0m0 4h0m0 0h0m-1 0h0m0-1h0m0-1h0m0 1h0m-1-4h0m-1 0h0m0 3h0m0-2h0m-3 1h0m0 0h0m-1 3h0m-3-4h0m0 2h0m-2-1h0m-4 1h0m-1-2h0m0 0h0m-8 3h0m0 1h0m-1-3h0m-1 1h0m0-1h0m0 2h0m0-1h0m-1 0h0m-1-3h0m-2 1h0m-1 1h0m-1 0h0m-3 3h0m-1-4h0m0-1h0m-1 1h0m-1 3h0m0-2h0m-1 0h0m0 1h0m-2 1h0m-1-1h0m0-2h0m-1-1h0m0 3h0m0-1h0m-1 0h0m-1-1h0m0 1h0m-1 3h0m-27-4h0m-1 0h0m-1 0h0m0 1h0m0-1h0m0-1h0m-1 1h0m0 0h0m-1 0h0m-2 3h0m0 0h0m0-2h0m0-1h0m0 4h0m-1-5h0m-1 5h0m-1 0h0m-4-5h0m-1 4h0m-2-1h0m-1-2h0m0 4h0m-1-5h0m0 0h0m0 2h0m0-2h0m-4 2h0m-1 3h0m-4-3h0m-7-2h0m-1 5h0m-1-3h0m-1 3h0m0-3h0m0 2h0m-1-3h0m-2 0h0m-2 0h0m-1 0h0m-2 3h0m-1 1h0m-1-3h0m-1 0h0m-2-2h0m-1 5h0m0-1h0m0-4h0m0 2h0m-1 2h0m-2-1h0m0-1h0m-1-1h0m-1 3h0m0-4h0m0 0h0m-2 0h0m-1 4h0m-3 1h0m0-5h0m-2 1h0m0 3h0m-2 1h0m-1-2h0m-2 6h0m1 2h0m0-2h0m1-3h0m1 5h0m1-4h0m2 0h0m1 0h0m1 3h0m0-4h0m1 5h0m1-1h0m0 1h0m1-1h0m0 1h0m1-4h0m2 0h0m3-1h0m0 0h0m3 0h0m0 2h0m0-2h0m1 0h0m1 5h0m2 0h0m0-4h0m3 2h0m0-3h0m1 3h0m0 0h0m1 2h0m1-2h0m0-2h0m0 4h0m1-4h0m0 1h0m0-2h0m0 1h0m1 2h0m0-1h0m1 1h0m0 1h0m1-4h0m2 5h0m13-3h0m2 1h0m1-3h0m0 0h0m1 4h0m0 1h0m0-2h0m0 0h0m1 0h0m1-3h0m0 3h0m1-3h0m1 2h0m0 3h0m0-3h0m1 2h0m1 1h0m1 0h0m0-1h0m1-4h0m0 1h0m1 4h0m1-2h0m1-2h0m0-1h0m0 5h0m1-2h0m1-2h0m1 2h0m1-3h0m0 3h0m2 2h0m20-2h0m1-2h0m2 2h0m0 0h0m0 2h0m1-4h0m2 0h0m1 0h0m1-1h0m1 5h0m1-4h0m1 4h0m4-2h0m2-3h0m0 2h0m0 0h0m1 2h0m1-1h0m0 0h0m8-3h0m0 4h0m0 0h0m1-2h0m0 3h0m0-5h0m1 5h0m6 0h0m1-1h0m1-3h0m0 0h0m1 4h0m0-2h0m0 2h0m1-3h0m1 3h0m0-4h0m1 3h0m0-1h0m1 1h0m0-1h0m0-1h0m0-1h0m1-1h0m0 0h0m1 3h0m1-3h0m0 1h0m1-1h0m0 2h0m0 2h0m0-4h0m1 1h0m0 1h0m1 0h0m0-1h0m0 2h0m0 2h0m0-1h0m1 1h0m1-4h0m0 4h0m1-1h0m0 1h0m0-1h0m1-4h0m0 4h0m0 0h0m1-1h0m1 0h0m0 1h0m0 0h0m0-4h0m1 1h0m1 0h0m2 4h0m0-5h0m0 0h0m1 5h0m0-4h0m1 4h0m1-1h0m0 1h0m1 0h0m1 0h0m0-4h0m0 4h0m1 0h0m1 0h0m0 0h0m1-5h0m0 0h0m1 4h0m1-4h0m-2 6h0m0 2h0m-2-2h0m-1 0h0m-1 3h0m-1 2h0m0 0h0m-2-1h0m0 1h0m-1 0h0m-1-2h0m-2 1h0m0-2h0m0 1h0m-1-1h0m-1 3h0m-1-1h0m-1-2h0m-3-1h0m0 4h0m-3-3h0m-1 0h0m0 2h0m0-2h0m0 3h0m-1-4h0m-2 3h0m0-2h0m0-1h0m-1 0h0m-1 3h0m0-3h0m0 4h0m0 0h0m0-3h0m-2 2h0m0-4h0m0 3h0m-1 1h0m0-1h0m-1 1h0m0-4h0m0 3h0m-2 0h0m-1-2h0m-2 4h0m0-1h0m-1-2h0m-1-2h0m0 4h0m0-2h0m-1-1h0m0 0h0m-1 2h0m-2-1h0m0 3h0m-2-2h0m-3-3h0m-1 3h0m-2-1h0m0 2h0m-1 0h0m0 1h0m-2-5h0m-1 5h0m0-3h0m0 1h0m-1-1h0m0-1h0m-3 3h0m-1-1h0m0-3h0m-1 0h0m0 5h0m-1 0h0m-1-2h0m0-1h0m-1-2h0m-1 3h0m0 1h0m-3-4h0m-16 5h0m-1 0h0m-1 0h0m0-2h0m-1 2h0m0-5h0m0 2h0m0 1h0m-1 1h0m0 0h0m-2 1h0m0-1h0m-1-1h0m-1-2h0m0-1h0m0 5h0m0-3h0m0-1h0m-1 3h0m-1-4h0m0 5h0m0-3h0m-1-2h0m-1 4h0m0-2h0m-1-1h0m0 4h0m0-1h0m0-2h0m-1 3h0m0-4h0m0-1h0m-1 0h0m-1 1h0m-1-1h0m-3 1h0m0 1h0m-1 2h0m0 1h0m0 0h0m-2-4h0m0 1h0m-1-1h0m0 1h0m0 1h0m-1-3h0m-1 1h0m-3 4h0m-1-1h0m0 1h0m-3-3h0m-1 1h0m-2-3h0m0 5h0m-1 0h0m-1-3h0m-1 2h0m0-2h0m-1 1h0m-1 2h0m0-1h0m0-1h0m-1 0h0m0-3h0m-1 2h0m-3 2h0m-1 0h0m-1-2h0m0 2h0m-1-2h0m0 3h0m-1-5h0m0 3h0m-1 2h0m-1-4h0m-7 4h0m-1-1h0m0-3h0m-1 3h0m0-4h0m0 5h0m-2-3h0m-1 1h0m0 2h0m-1-1h0m0 0h0m-1 0h0m0-1h0m-1 0h0m0 2h0m0-4h0m0 3h0m-1 1h0m0-3h0m-1 1h0m0-1h0m-1 0h0m0-2h0m-1 1h0m-1 0h0m0 4h0m-1-1h0m-1-3h0m0 2h0m0-1h0m0 0h0m-1 1h0m-1 1h0m-1 0h0m-7 7h0m2 0h0m0-2h0m2-3h0m3 1h0m0 2h0m2 1h0m0-4h0m0 3h0m2 2h0m0-1h0m0 1h0m1-5h0m1 5h0m2 0h0m1-3h0m1 0h0m1 3h0m0-2h0m3 0h0m1 2h0m0-2h0m1-3h0m1 2h0m1 3h0m0-2h0m1-3h0m0 0h0m0 5h0m1 0h0m1 0h0m2 0h0m0-1h0m1-4h0m0 4h0m0-4h0m1 0h0m1 4h0m0-3h0m1 0h0m1 4h0m0-5h0m0 2h0m1-2h0m0 5h0m1-2h0m0 1h0m1-4h0m1 0h0m1 4h0m0 0h0m1-4h0m1 0h0m1 2h0m1 2h0m1-3h0m0 4h0m1 0h0m1-3h0m0-1h0m1-1h0m4 5h0m1 0h0m0 0h0m2-4h0m1 1h0m13 2h0m0 1h0m1-2h0m1 2h0m1-5h0m1 4h0m0 0h0m1 1h0m0-3h0m1 2h0m0-1h0m0 1h0m1-1h0m0 2h0m0-4h0m1 4h0m0-1h0m2-4h0m1 3h0m1-3h0m0 3h0m0-1h0m1 3h0m0 0h0m0-1h0m0-2h0m0 3h0m1-3h0m20-2h0m1 2h0m1 1h0m0-2h0m0 0h0m1-1h0m0 2h0m1 0h0m1 1h0m0 1h0m1 0h0m0-2h0m1 3h0m0 0h0m1-4h0m0 0h0m0 2h0m1-3h0m0 2h0m1 0h0m1-1h0m0-1h0m0 3h0m1-1h0m0 0h0m1 2h0m2-2h0m1-1h0m0-1h0m0 0h0m1 3h0m1-2h0m1 4h0m2 0h0m1-4h0m0-1h0m1 3h0m2 0h0m1-2h0m1 2h0m1 0h0m0 2h0m0-1h0m0-1h0m1-2h0m1 2h0m0-1h0m0 1h0m0-3h0m1 2h0m1 1h0m0 2h0m1-4h0m0 0h0m1 0h0m2 1h0m0 0h0m1-1h0m0-1h0m0 0h0m1 2h0m1 0h0m0-2h0m2 3h0m1-3h0m1 4h0m0-4h0m4 3h0m1-2h0m1 1h0m0 0h0m2-1h0m2-1h0m1 5h0m0 0h0m1-2h0m0 2h0m1-2h0m0-1h0m1-1h0m0 1h0m1 1h0m0-2h0m1-1h0m0 0h0m0 2h0m25 2h0m2 0h0m3-2h0m2 1h0m1 2h0m2-2h0m0 2h0m1-1h0m1 1h0m8 6h0m-1-2h0m0 1h0m0 0h0m-1 1h0m-1 0h0m0-2h0m-1-1h0m-1-2h0m0 3h0m-1 2h0m-1-5h0m0 5h0m0-5h0m-1 0h0m-1 1h0m0 0h0m0 1h0m-2 3h0m-1-5h0m-1 1h0m-1 1h0m0-2h0m-1 5h0m-1-4h0m0-1h0m-1 4h0m0-1h0m-1 1h0m-1-3h0m-1 0h0m0 4h0m-1-4h0m0 4h0m-1 0h0m0-2h0m0-2h0m0 2h0m0-2h0m-1-1h0m0 0h0m-1 2h0m-1 3h0m0-3h0m0 0h0m-2 1h0m-14-2h0m-11-1h0m-1 0h0m-21 0h0m-2 2h0m-1 1h0m-1-3h0m-1 5h0m0-5h0m0 0h0m-1 0h0m0 2h0m0-1h0m-1-1h0m-1 2h0m0-2h0m-1 1h0m0 2h0m-1 2h0m-1-5h0m0 0h0m-1 2h0m0 2h0m-1-1h0m0 1h0m0 1h0m-2-4h0m0 4h0m-1-4h0m0 2h0m-4 1h0m0 0h0m0-3h0m-3 2h0m0-3h0m-1 1h0m0-1h0m-1 1h0m0-1h0m-1 0h0m0 0h0m-1 0h0m-26 0h0m0 2h0m-1-2h0m-1 3h0m0 2h0m-1-1h0m-1 0h0m-1-4h0m0 3h0m0-2h0m0 0h0m-1 3h0m-1-4h0m0 1h0m-2 0h0m-1 0h0m-1-1h0m-17 4h0m-1-2h0m-1 0h0m0 2h0m-1-4h0m0 0h0m0 2h0m0-2h0m-1 1h0m0-1h0m-4 3h0m-3-3h0m-2 4h0m0-3h0m-1-1h0m0 1h0m-1-1h0m-1 1h0m-5 3h0m0 1h0m-1-3h0m0 3h0m-2-2h0m-1 2h0m0-3h0m0 2h0m0-1h0m0 2h0m-1-2h0m0 0h0m-3 2h0m0-3h0m-1-1h0m-1-1h0m0 1h0m-1 4h0m0-1h0m0-3h0m-2 3h0m0 0h0m-1 0h0m0 1h0m-1-3h0m-1 0h0m-1 3h0m0-2h0m-1-3h0m0 4h0m-1 0h0m0-3h0m0 3h0m0 1h0m-1-1h0m-1-1h0m0 0h0m-1-3h0m0 0h0m-1 2h0m-2 0h0m-1 3h0m0-1h0m-1 1h0m0-3h0m0-2h0m0 3h0m-1-2h0m0 4h0m-1-5h0m-1 0h0m0 5h0m-1-5h0m1 6h0m0 4h0m1 1h0m1-3h0m1 1h0m0-1h0m0-1h0m0 1h0m1-1h0m0-1h0m3 3h0m1 2h0m0-5h0m1 5h0m0-2h0m1-3h0m0 5h0m0-5h0m2 1h0m1 0h0m2 4h0m0 0h0m4-4h0m2 1h0m0 1h0m0-1h0m1 1h0m1-3h0m1 4h0m0 1h0m1-5h0m1 0h0m1 2h0m0 3h0m0 0h0m0-5h0m1 4h0m1-3h0m0 0h0m1 1h0m0 1h0m0 1h0m19-4h0m0 3h0m1-2h0m0 1h0m1 1h0m0-3h0m0 0h0m1 3h0m0-3h0m1 1h0m0 1h0m52 3h0m2-1h0m0 1h0m1-4h0m1 2h0m0 0h0m1-2h0m1 0h0m0 3h0m1 0h0m1-4h0m0 1h0m1 1h0m0 1h0m1-2h0m0-1h0m1 5h0m1-1h0m0 0h0m1-1h0m2-1h0m1-1h0m2 0h0m0 3h0m1-1h0m1-1h0m0-1h0m3-1h0m0 3h0m0-2h0m1-1h0m3 0h0m44 5h0m1-1h0m2-4h0m0 1h0m0 1h0m0 1h0m0 2h0m0 0h0m2-1h0m0-1h0m1-2h0m0-1h0m0 5h0m0-3h0m0 2h0m0-4h0m0 3h0m1-1h0m1-2h0m0 5h0m0-3h0m0 1h0m1-1h0m0 2h0m0 1h0m0 0h0m0-4h0m2 2h0m0-3h0m2 1h0m0 1h0m1-1h0m1 3h0m0 1h0m1-3h0m1 0h0m1 0h0m2-1h0m1 4h0m1 0h0m0-3h0m1 1h0m0-3h0m0 0h0m0 0h0m1 1h0m0 4h0m1-1h0m0 0h0m1 1h0m1-5h0m2 1h0m0-1h0m1 0h0m1 1h0m-11 7h0m-1 1h0m-1 0h0m0-1h0m-1 3h0m0 0h0m0 0h0m-1-1h0m-3-4h0m0 5h0m-1-1h0m0 0h0m0-3h0m-1 2h0m-2 0h0m-1-3h0m-1 3h0m0-3h0m-1 4h0m0-3h0m0 3h0m-2 1h0m0 0h0m0 0h0m-1-5h0m-1 3h0m0 0h0m-1-3h0m0 2h0m-1 3h0m0-1h0m-29 0h0m-23-4h0m0 1h0m-1 3h0m-1 0h0m0-3h0m0-1h0m0 4h0m-1-3h0m0 1h0m-1 0h0m-1 0h0m0 0h0m0 1h0m0-1h0m-1 2h0m0-1h0m-1 2h0m-1-4h0m0 3h0m0 0h0m0 0h0m-1-1h0m0 2h0m-1 0h0m0-3h0m-1 0h0m-1 1h0m-1-2h0m-1 4h0m-1-5h0m0 4h0m-1-1h0m-10 1h0m-28-2h0m-5 2h0m-9-1h0m-2 1h0m0-1h0m-2-3h0m-2 0h0m-1 1h0m-1 2h0m-1-3h0m-1 3h0m-1-1h0m-17-1h0m-1-1h0m-1 3h0m0-2h0m-2 2h0m0-3h0m-1 1h0m-1 1h0m-1 1h0m0-3h0m-1 0h0m0 0h0m-1 2h0m-2-2h0m0 2h0m-3-1h0m-4-1h0m-1 0h0m35 6h0m11 0h0m1 0h0m4 0h0m29 1h0m19-1h0m8 0h0m19 4h0m6 1h0m0 0h0m2 0h0m2-3h0m5 3h0m27-4h0m5-1h0m0 2h0m0 0h0m1-1h0m0 0h0m1-1h0m2 0h0m6 1h0m2-1h0m1 0h0m-43 8h0m-1 2h0m0-2h0m-1 3h0m-1-4h0m0 4h0m0-5h0m0 2h0m-2-2h0m-1 0h0m0 2h0m-1 0h0m-3 1h0m0 0h0m-1 1h0m0 0h0m-1-2h0m-1-2h0m0 4h0m0-2h0m-5 2h0m-3-1h0m-1-1h0m-1 3h0m0-4h0m-1 3h0m-1-3h0m-2 0h0m0 1h0m-3 2h0m-1 1h0m0-3h0m-5 3h0m-20 5h0m1 0h0m1-1h0m1-1h0m0-1h0m2 3h0m0-2h0m1-1h0m4 4h0m0 0h0m1-3h0m2 2h0m0 0h0m1 0h0m0-1h0m1-2h0m0 4h0m1-3h0m2 3h0m0-5h0m2 4h0m1-4h0m1 1h0m0 0h0m1-1h0m2 0h0m2 2h0m0 0h0m4-1h0m0-1h0m5 1h0m1 0h0m0 2h0m2 2h0m0-3h0m4-1h0m0 0h0m1 3h0m1 0h0m0 0h0m2 0h0m1-4h0m1 0h0m0 2h0m1 2h0m1-4h0m0 1h0m2 3h0m0-1h0m0 1h0m1-3h0m3 4h0m1-3h0m3 6h0m-3-1h0m-1 2h0m0 0h0m-1 2h0m-1-5h0m-1 2h0m-2 2h0m-1 1h0m0-4h0m-1 1h0m-1-1h0m0 1h0m-1-2h0m-1 0h0m-1 3h0m-1 2h0m-3-2h0m-1 2h0m-1-5h0m0 0h0m0 3h0m-1 2h0m0-5h0m-1 1h0m-1 2h0m0-1h0m-2 2h0m-1-4h0m-1 4h0m-2-1h0m-2 0h0m0 1h0m0-1h0m-2-1h0m0 1h0m0 1h0m-3-2h0m-4-2h0m-1 0h0m-2 2h0m0 0h0m-1 0h0m-4-2h0m0 1h0m-1-1h0m-1 0h0m-1 0h0m0 0h0m0 2h0m0-1h0m-1 0h0m0 3h0m-1-4h0m-1 2h0m0 3h0m-4-3h0m0-1h0m0 2h0m-1-2h0m-4 3h0m-42-1h0m-12-1h0m-21 9h0m14-4h0m1-1h0m11 5h0m8-4h0m7 4h0m1 0h0m27 0h0m2-2h0m2-1h0m0 3h0m1-3h0m1 2h0m4 1h0m0-4h0m1 3h0m3-3h0m2-1h0m6 4h0m1-4h0m1 3h0m1 2h0m0-2h0m1 1h0m1-3h0m2 0h0m1 1h0m0-2h0m1 1h0m2 3h0m1-1h0m4 0h0m0 2h0m1-2h0m1-1h0m2 1h0m0-1h0m1-1h0m0 0h0m7-1h0m5 0h0m4 0h0m0 3h0m0-1h0m2 2h0m14 3h0m-9 4h0m-5 0h0m-9-2h0m-3-3h0m0 3h0m-4-3h0m-6 1h0m0-1h0m-7 2h0m-3 0h0m0 0h0m-1 3h0m-3-3h0m-1 0h0m-3 1h0m0 1h0m0-3h0m-1 0h0m-5 3h0m-1-3h0m-1 3h0m-1-2h0m0-1h0m0-1h0m0 1h0m-1 4h0m-3 0h0m0-2h0m-2-1h0m-3-2h0m-5 5h0m-40-5h0m-9 2h0m-17-1h0m0 8h0m4 0h0m0 0h0m2-1h0m1-2h0m7 0h0m3 5h0m2-4h0m4 0h0m9 2h0m13 2h0m6 0h0m14 0h0m4-4h0m3 2h0m2-2h0m1 4h0m1-5h0m0 3h0m1-3h0m2 2h0m1 2h0m0-3h0m2 3h0m2-1h0m1-3h0m1 1h0m2 4h0m3-1h0m2 1h0m6-1h0m4-4h0m0 1h0m10 4h0m9-5h0m6 4h0m5 1h0m-2 2h0m-16 2h0m-2 0h0m-3-1h0m-5 1h0m-5-2h0m-1 1h0m-7 0h0m0 3h0m-2-2h0m-2-2h0m-17 3h0m-2-1h0m-4-2h0m-1 4h0m-38-4h0m-7 0h0m9 6h0m0-1h0m2 4h0m4-2h0m33 2h0m3-1h0m2 0h0m0 2h0m13-4h0m1-1h0m9 5h0m4-3h0m4 3h0m1 0h0m1-4h0m5 3h0m0-1h0m6-1h0m7-1h0m1 3h0m0-3h0m1 1h0m5 3h0m-6 5h0m-3-1h0m-9 0h0m-9 2h0m-2-2h0m-1-2h0m-1 4h0m0-2h0m-4-3h0m-5 3h0m-1-2h0m-12-1h0m-4 2h0m-9 3h0m-41-3h0m39 7h0m1-3h0m12 1h0m13 4h0m5-4h0m8 4h0m20-3h0m-37 8h0m-5-1h0m-3 5h0m5-2h0m7 6h0"/>
<path stroke="#649ac7" d="m74 124h0"/>
<path stroke="#86bcd9" d="m89 71h0m-31 35h0m-15-1h0m36 10h0m-30 0h0m-3 9h0m21 0h0m100 11h0m-83 8h0m-8-5h0m52 29h0m14 19h0m-5 0h0"/>
<path stroke="#abd9e9" d="m92 69h0m3 4h0m10 0h0m1 6h0m-34 9h0m12 6h0m-25 0h0m0 7h0m14-1h0m4 1h0m9-3h0m4 2h0m3 1h0m-1 5h0m-41-2h0m17 7h0m7-3h0m2 3h0m3 2h0m8 1h0m-8 4h0m-11-3h0m-3 0h0m2 6h0m1-1h0m14 5h0m7-3h0m-5 7h0m-4-2h0m-3 1h0m-11 7h0m4-2h0m88 3h0m10 6h0m-41 0h0m-69-2h0m-23 3h0m-9-5h0m181 17h0m0-2h0m-126-1h0m-1 0h0m-48 8h0m126 12h0m-27 12h0m25-2h0m-26 4h0m-6 3h0m-9 1h0m-7-1h0m-2-3h0m-45 4h0m53 7h0m0-5h0m7 3h0m10 1h0m9-1h0m12 4h0m-25 4h0"/>
<path stroke="#ceeaf3" d="m101 62h0m19 5h0m-12 1h0m-9 9h0m27 1h0m-22 5h0m-27-1h0m-4 0h0m-8-2h0m5 7h0m2 1h0m1-4h0m36 11h0m-4 0h0m-17-2h0m-6-1h0m-8-1h0m-6 1h0m-4 1h0m-1 0h0m-14 5h0m32 1h0m91 4h0m-37 1h0m-72 2h0m-1 0h0m-5-1h0m-2 1h0m-11-3h0m-1 3h0m13 2h0m1 3h0m3 2h0m6-5h0m8 5h0m3-3h0m8-2h0m72 10h0m-14-3h0m-2 4h0m-62-5h0m-3 0h0m-11 0h0m-14 3h0m-11-1h0m6 6h0m4 2h0m37-3h0m68 9h0m-69 0h0m-36 0h0m-2-3h0m-2 4h0m-7-1h0m-3 0h0m8 5h0m31 0h0m96 0h0m-79 6h0m-1 0h0m-5 0h0m-17-3h0m-17 5h0m-4-2h0m-16 1h0m-5 0h0m-6 0h0m26 5h0m11-2h0m59 1h0m90 6h0m-73 2h0m-83-1h0m-23-3h0m-9 0h0m-6 7h0m8 3h0m15-4h0m27 4h0m-8 5h0m99 5h0m4 1h0m4 7h0m-5-3h0m-5-1h0m-2 5h0m-2-5h0m-2 1h0m-1-1h0m-3 4h0m-14 5h0m19 1h0m2-1h0m9 2h0m4-3h0m1-2h0m-4 11h0m-1-2h0m0-3h0m-4 2h0m-5-2h0m-9 3h0m-1 2h0m-6-4h0m-10 2h0m-6 0h0m0 0h0m-1 0h0m-2 2h0m-3-1h0m-1-4h0m0 4h0m-2-1h0m-45-1h0m-7-2h0m-8 5h0m7 4h0m45 1h0m1 1h0m0-1h0m8-4h0m3 3h0m2-2h0m3 3h0m3-1h0m3-1h0m1-2h0m5 0h0m3 1h0m0 1h0m0 0h0m2 2h0m3-1h0m12-1h0m14-2h0m10 8h0m-4 1h0m-4-3h0m-41 0h0m-10 1h0m-7 2h0m-7-2h0m-76 3h0m76 5h0m1-2h0m2-1h0m3 3h0m3 2h0m4-3h0m14 2h0m3-2h0m4 2h0m6-2h0m4 0h0m6-2h0m1 5h0m9 3h0m-3-2h0m-8 4h0m-40-4h0m-3 1h0m-1 0h0m0 0h0m-48 6h0m3-1h0m48 0h0m39 11h0m-2-5h0m-5 4h0m10 6h0"/>
<path stroke="#eaf7e5" d="m106 71h0m-5-3h0m-3 0h0m15 12h0m-7-2h0m-34 1h0m-3 4h0m-5-2h0m-4 5h0m10 3h0m1 0h0m3-1h0m1-2h0m6 3h0m0-2h0m27-3h0m8 0h0m42 8h0m-69 3h0m-8-5h0m-1 2h0m-10-1h0m-1 3h0m-19 2h0m9 4h0m5 1h0m17-2h0m88 0h0m2 1h0m-100 4h0m-3 3h0m-21 0h0m-3 5h0m18-3h0m0 2h0m8 1h0m21-1h0m31-3h0m37 11h0m-91-5h0m0 2h0m-3-1h0m-1 0h0m-26 3h0m-2 1h0m35 5h0m6-2h0m2 0h0m8 8h0m-16-3h0m-20 1h0m-7 0h0m-4 2h0m-16 3h0m6 4h0m2-5h0m14 1h0m1 3h0m0 1h0m3-3h0m0 1h0m5 1h0m17 0h0m2 1h0m55 0h0m32 2h0m-8-1h0m-104 4h0m-16 0h0m-14 0h0m40 4h0m3 2h0m39-1h0m16-3h0m99 8h0m-15-2h0m-81 4h0m-29-4h0m-32 1h0m-34-1h0m-13 7h0m1 4h0m1-3h0m125 0h0m75-2h0m-19 11h0m-41 5h0m5-1h0m2 3h0m-6 4h0m-6-3h0m-3-1h0m0 2h0m-4 3h0m-35 5h0m2-4h0m2 5h0m3 0h0m5 0h0m1-2h0m2 1h0m2 0h0m3-2h0m1 3h0m1-4h0m6 1h0m3-1h0m4 1h0m7 0h0m5-2h0m2 3h0m5-2h0m4 2h0m3 5h0m-2-2h0m-2 1h0m-5 3h0m0-4h0m-3 3h0m-3 1h0m-1-4h0m-6 0h0m-1 3h0m-2-2h0m-3 1h0m0 0h0m-7-1h0m-2 1h0m-4 3h0m-2 0h0m-1-5h0m0 3h0m-2-1h0m-2 0h0m-1 0h0m-3 2h0m-1 0h0m-4-2h0m-2 2h0m-3-4h0m-37 4h0m-7-4h0m-2 4h0m-2-1h0m-2 0h0m-1 2h0m-4-3h0m-2 2h0m-17 5h0m4 1h0m2-1h0m15-2h0m1-1h0m49 4h0m7-2h0m2 0h0m1 2h0m8-3h0m2 4h0m3-3h0m2 1h0m4-3h0m4 0h0m1 5h0m0-3h0m0 1h0m2 0h0m2-2h0m1 3h0m1 1h0m2-3h0m2 2h0m3-3h0m0-1h0m2 2h0m4 2h0m2-2h0m2 1h0m0-1h0m1-1h0m0 0h0m2 2h0m5 1h0m1-2h0m1-2h0m1 3h0m0 7h0m-1-2h0m-3 3h0m0-4h0m-9 4h0m-2-5h0m-1 5h0m-5-1h0m-11-3h0m-6 1h0m-1 0h0m-3-2h0m-2 2h0m-9 1h0m0-2h0m-1 3h0m-9 0h0m0-2h0m0 1h0m-2 2h0m-7-5h0m-1 2h0m-1 0h0m-33-2h0m0 0h0m-15 4h0m-22 3h0m8 4h0m25-1h0m10-4h0m4 0h0m2 4h0m18 1h0m0-1h0m6-1h0m1-3h0m2 5h0m0-5h0m1 4h0m0-1h0m4-1h0m1 2h0m1 1h0m5-4h0m5 4h0m3-2h0m4-3h0m4 0h0m10 5h0m3-3h0m1-1h0m2 1h0m5-1h0m7 1h0m3 0h0m3-1h0m1 3h0m-5 6h0m-6-4h0m0 0h0m-2 3h0m-11-3h0m-2 4h0m-1 1h0m-1-4h0m-5 3h0m-5-4h0m-2 1h0m0-1h0m-10 1h0m-1 0h0m-7 4h0m0-2h0m-1-1h0m-8 2h0m-3-4h0m-1 4h0m-29-4h0m-12 3h0m43 4h0m0 4h0m1-1h0m1-3h0m3-1h0m2 4h0m5-4h0m3 4h0m7-3h0m0 4h0m14-3h0m0 3h0m7-3h0m2 3h0m2-3h0m7-1h0m3-1h0m5 0h0m-1 6h0m-5 1h0m0 1h0m-2 1h0m-1-2h0m-7-1h0m-8 3h0m-3 2h0m-9 0h0m-7-3h0m-7-1h0m-14-1h0m-2 4h0m38 3h0m15 3h0m1 0h0m1-2h0m3-2h0m-17 7h0m-8-1h0m-5 7h0m1 3h0m4-2h0"/>
<path stroke="#ffffbf" d="m117 66h0m-6 2h0m-5 4h0m-18 7h0m0 2h0m-9-2h0m-3 3h0m-6 3h0m86 1h0m-75 6h0m-3 2h0m-6-4h0m-6 5h0m-16 5h0m99 4h0m-85 0h0m-1 3h0m-5 0h0m-1 4h0m4-2h0m5 2h0m9 1h0m6-2h0m3 3h0m3-5h0m0 1h0m1 2h0m61 2h0m-26 6h0m-56-5h0m-23 10h0m19-2h0m9-2h0m10 0h0m2 5h0m82 1h0m-89 4h0m-9-2h0m-19 1h0m-7-3h0m-5 1h0m-13 10h0m57-4h0m1 0h0m33 4h0m-72 3h0m17 5h0m1 0h0m26 6h0m0 4h0m-36-3h0m-1-1h0m-40-1h0m17 6h0m175 11h0m-50 6h0m5 2h0m-3-1h0m-9 0h0m-16 3h0m-71 8h0m65-5h0m1 4h0m1-2h0m4 0h0m21 2h0m4-1h0m5 2h0m6-1h0m5 5h0m-4-1h0m0 2h0m-2-1h0m-3-3h0m-1 3h0m-5-3h0m-4 2h0m-4-2h0m-3 4h0m0-3h0m-1 4h0m-5 0h0m-5 0h0m-10-3h0m-11 1h0m-2-3h0m-41 1h0m-5 3h0m-6-1h0m-1-2h0m-3 3h0m-1 1h0m-1-3h0m-5 0h0m-20 9h0m0 0h0m7 0h0m0 0h0m2-4h0m3 3h0m0 0h0m7-1h0m0-1h0m2 2h0m7 1h0m4-3h0m1 3h0m2 0h0m2-5h0m6 4h0m35-1h0m7-2h0m7 0h0m2 2h0m7 0h0m2 2h0m6 0h0m1-4h0m7 1h0m3 2h0m1 0h0m7-2h0m4 1h0m2 2h0m1-2h0m9-2h0m0 1h0m2 9h0m-1-1h0m-1 0h0m0-3h0m-2 0h0m0 1h0m-1-1h0m0 2h0m-1-2h0m0-1h0m-1 0h0m-2 1h0m0 4h0m-2-2h0m-1 2h0m-2-2h0m-2-2h0m-6 4h0m-2-2h0m-5-3h0m-4 3h0m-2-2h0m-8 3h0m-2 0h0m-4-4h0m-9 4h0m-8 1h0m-1-3h0m-6 3h0m-36-4h0m-13 3h0m-10-2h0m-1 1h0m-4 2h0m-2-3h0m0 1h0m-2 2h0m-2 0h0m-7-1h0m14 6h0m13-4h0m17 5h0m6-1h0m3-4h0m22 4h0m1 1h0m4 0h0m1-1h0m2 0h0m5-1h0m3 0h0m2-3h0m1 0h0m0 4h0m3 1h0m0-2h0m0-2h0m6 1h0m2 2h0m1-4h0m2 3h0m7-2h0m11 0h0m0 1h0m6 0h0m2-1h0m1 3h0m2-4h0m1 3h0m1-1h0m1 0h0m0-2h0m2 10h0m-1-3h0m-3 3h0m-1-4h0m-4 3h0m-3-2h0m0-1h0m-1 4h0m-2-2h0m-3 3h0m-2-2h0m0-3h0m-5 2h0m-2 0h0m-1-1h0m0 3h0m-4-2h0m0-2h0m-4 3h0m-1-1h0m-3 1h0m-4-3h0m-1 1h0m-1 1h0m-1-2h0m-1 4h0m-1-1h0m-2-2h0m-1-1h0m-3 2h0m-1-2h0m-4 1h0m-1 4h0m-1-1h0m0-2h0m-3 3h0m0-3h0m-2 1h0m-1-2h0m-24-1h0m-2 1h0m-3 2h0m-3 1h0m-3 1h0m0-5h0m0 5h0m-1-1h0m-1-4h0m-1 0h0m-6 0h0m-1 5h0m1 1h0m5 1h0m4 0h0m32 1h0m1-1h0m2 2h0m6-2h0m1 0h0m2-1h0m1 5h0m4-4h0m1-1h0m2 1h0m3 4h0m0-2h0m3 0h0m0 2h0m3 0h0m2-1h0m2-4h0m7 3h0m0-2h0m3 0h0m0 1h0m0 1h0m2-2h0m1 0h0m1 2h0m7-2h0m2-1h0m2 0h0m1 3h0m4 1h0m1 0h0m2-4h0m2 0h0m-4 9h0m0 1h0m-1-4h0m-2 0h0m-4 0h0m-1 0h0m-1 0h0m-3 4h0m0 0h0m-5-2h0m0-2h0m-4 3h0m-1 2h0m-1-2h0m0-3h0m-3 3h0m-1-2h0m-1 4h0m-1-4h0m-5 3h0m-1-4h0m-3 2h0m-2 2h0m-1-3h0m-3 2h0m-1-3h0m-4 1h0m0 3h0m-1 0h0m-5-1h0m0-1h0m-3 0h0m-1-1h0m-6 2h0m0 3h0m4 5h0m1-2h0m4-3h0m1 1h0m1 0h0m2-1h0m15 1h0m5-1h0m3 4h0m4-1h0m0-3h0m1 4h0m0 0h0m2 1h0m3-5h0m1 0h0m0 5h0m3-1h0m3 0h0m0-3h0m1-1h0m4 2h0m1-1h0m0-1h0m1 0h0m0 4h0m-13 4h0m-1-2h0m-6 3h0m0-3h0m-9 3h0m0-3h0m-2 1h0m-5 1h0m-5 1h0m-7 0h0m18 8h0m0-4h0m1-1h0m-1 7h0m-3 0h0m-4 3h0m-7-4h0m-4 2h0"/>
<path stroke="#feeaa0" d="m72 81h0m-4 5h0m2 13h0m-9 12h0m6-1h0m24 8h0m-58 24h0m-6-3h0m130 34h0m2 4h0m-24-1h0m-29 9h0m24-5h0m23 3h0m13 6h0m-2 2h0m-24 0h0m-4-1h0m-68 1h0m-5-3h0m0-1h0m-2 2h0m0-3h0m-1 0h0m-3 2h0m-2 2h0m0-3h0m-1 1h0m0 1h0m-2 2h0m-2-1h0m-2 0h0m-2 0h0m-4 1h0m-1 0h0m-12 5h0m4-2h0m3 3h0m6 0h0m3-4h0m1-1h0m0 5h0m1-2h0m2 0h0m3-2h0m1 2h0m0-1h0m2-1h0m4 1h0m1 2h0m48 1h0m29-3h0m4 2h0m6 0h0m1-1h0m5 1h0m4 1h0m8-1h0m4-1h0m4 7h0m0-1h0m-2 2h0m-2-3h0m-4 0h0m0-2h0m-7 1h0m-2 0h0m-1 4h0m-2-1h0m-3-4h0m-18 3h0m-1-3h0m-1 2h0m-10 0h0m-9 3h0m-2-4h0m-34 4h0m-4 0h0m-12-2h0m-4-3h0m0 1h0m-1 3h0m-1 1h0m-4-2h0m-8 2h0m0-2h0m-3 2h0m-8-4h0m0-1h0m3 6h0m1 2h0m3 1h0m1-3h0m1 0h0m1 2h0m4 0h0m4-1h0m4 3h0m4-2h0m6 1h0m1-3h0m5 3h0m1 0h0m2 0h0m5-3h0m0 1h0m20 0h0m6 1h0m8 2h0m1 0h0m5 0h0m2 1h0m1-3h0m9 1h0m5 2h0m1-5h0m7 4h0m2-3h0m3 0h0m0-1h0m1 5h0m9-1h0m1-1h0m0-2h0m2 2h0m1 2h0m5-2h0m0-3h0m3 0h0m3 2h0m-3 6h0m0-1h0m-2 3h0m0-4h0m-2 4h0m-1-1h0m-2 1h0m0-3h0m-2 3h0m0-2h0m-1-1h0m-1-1h0m-5 0h0m-2 2h0m-1 1h0m-1 1h0m-1 1h0m-1 0h0m-1-4h0m-2 2h0m-5 2h0m-6-4h0m-5 4h0m0-3h0m0 3h0m-4-1h0m-1-4h0m0 2h0m-1 3h0m-2 0h0m-1-1h0m-3 0h0m-6 0h0m-1-1h0m-1-2h0m-8-1h0m-2 3h0m-3 2h0m-29-1h0m-1 1h0m-2-2h0m-5-2h0m-3 3h0m0-2h0m-1 3h0m-2-2h0m-2-2h0m-13-1h0m18 6h0m2 3h0m5-1h0m37-2h0m1 2h0m4-1h0m1-1h0m9 5h0m0-1h0m1-3h0m0 4h0m2 0h0m0-4h0m6 0h0m3 3h0m0-3h0m2-1h0m1 0h0m3 4h0m0-2h0m3 0h0m2 2h0m1-4h0m1 4h0m0-3h0m1 1h0m0 0h0m0 1h0m2-2h0m4 2h0m3-1h0m1-1h0m1-1h0m1 1h0m0 3h0m0-1h0m6 0h0m1-2h0m3 3h0m2-4h0m0 0h0m1 0h0m-4 7h0m-3 4h0m-1-3h0m0 0h0m-1-2h0m-2 0h0m0 1h0m-2-1h0m0 3h0m-1-1h0m-2 1h0m0-2h0m-1-1h0m0 2h0m-2-1h0m-1-1h0m-5 4h0m-2-1h0m-1 0h0m-3-2h0m0 2h0m-3-3h0m-1 3h0m-2 2h0m0-4h0m-2 4h0m-1 0h0m0-5h0m-3 3h0m-1 1h0m0 1h0m-1-1h0m-3-1h0m-1-1h0m-1 2h0m-3-1h0m0 2h0m0 0h0m0-5h0m-1 2h0m-9 1h0m0 1h0m-1 0h0m-2-1h0m-1-2h0m-5 3h0m0 1h0m0-1h0m0 5h0m0 1h0m2 0h0m5 0h0m13-3h0m5 3h0m1-3h0m1 0h0m1 2h0m6-1h0m0 0h0m2-2h0m0 3h0m1 1h0m0-3h0m2-1h0m2 2h0m1-1h0m1-1h0m4 0h0m2 2h0m0 3h0m1-5h0m0 1h0m3 1h0m1 3h0m0-1h0m2 1h0m0-1h0m3-2h0m0 2h0m1-4h0m2 0h0m-14 7h0m-4 0h0m-2 0h0m-6-1h0m-1 0h0m-2 3h0m-1 2h0m0 0h0m-1-5h0m-1 4h0m0-2h0m-2-2h0m-2 3h0m-2-1h0m-1-2h0m-1 5h0m-3-3h0m-12-2h0m0 3h0m-2-2h0m-4 0h0m4 5h0m3 5h0m2-3h0m3 3h0m13-3h0m2-1h0m6 1h0m1 0h0m-14 9h0m-2-3h0"/>
<path stroke="#fecf80" d="m102 70h0m-56 42h0m107 75h0m-85 1h0m-4 0h0m-3-2h0m-4 3h0m-5-2h0m-3 0h0m-6 4h0m-1 0h0m-1 0h0m-10 6h0m3-2h0m3-3h0m1 2h0m7 2h0m6-2h0m0 3h0m1-4h0m2 3h0m4 1h0m2-1h0m1 0h0m7-4h0m2 3h0m97 6h0m-7 2h0m-5-4h0m-3-1h0m-35 3h0m-44 2h0m-1 0h0m-6 0h0m-2-1h0m-1-3h0m-4-1h0m-4 2h0m-1 0h0m0 1h0m-1-2h0m0 2h0m-2 2h0m-2-3h0m-3 2h0m-2-2h0m-1 3h0m-2-2h0m-1 0h0m-1-1h0m-3-2h0m0 4h0m-1-1h0m-2-3h0m-3 1h0m-3-1h0m2 6h0m4 1h0m0 0h0m3 0h0m4 1h0m8 1h0m0-3h0m1 1h0m1 3h0m1-1h0m4 0h0m0 1h0m1-2h0m3 0h0m0-1h0m1 1h0m2-1h0m9 0h0m1 4h0m2-2h0m0 2h0m2-4h0m2 3h0m0-2h0m45 3h0m1-1h0m2-3h0m15 0h0m3 4h0m5-1h0m4-4h0m11 5h0m2-3h0m0 8h0m-16 1h0m0-1h0m-6 1h0m-1 0h0m-6 0h0m-1-4h0m-1 1h0m-4-1h0m-11 0h0m-4 0h0m-7 2h0m-38-2h0m0 1h0m-8 0h0m-2 1h0m-2-2h0m0 4h0m-2-3h0m-3 0h0m-1-2h0m-1 5h0m-1-5h0m2 7h0m6 2h0m46 2h0m0-1h0m8 1h0m22-2h0m8 0h0m1-3h0m2 4h0m5-2h0m7 2h0m0 6h0m-2-1h0m-1-3h0m-1 4h0m0-4h0m-2 3h0m-14-2h0m-1 1h0m-6-1h0m-1 3h0m-9-4h0m-1 2h0m-4 1h0m0-1h0m-3-1h0m0-1h0m-3 1h0m-1 2h0m-3 0h0m-4 0h0m-3-1h0m0 3h0m-3 0h0m0 0h0m-1 0h0m0-1h0m0 1h0m-1 0h0m-1-1h0m1 2h0m0 0h0m6 4h0m0 0h0m2-2h0m0-2h0m1 2h0m2 2h0m1-4h0m2 1h0m0 4h0m1-5h0m0 1h0m2 2h0m0-1h0m0-1h0m2-1h0m1 1h0m1 0h0m1 2h0m0-3h0m0 4h0m0-4h0m1 2h0m1 2h0m1-2h0m1-1h0m1 4h0m0-3h0m4 3h0m1-5h0m1 2h0m2 1h0m0 2h0m3-2h0m0 1h0m8 1h0m5 0h0m5-3h0m-17 6h0m-1 3h0m-4-3h0m-3-1h0m-1-1h0m-1 5h0m-5-4h0m-1 4h0m-4-3h0m-2-2h0m-1 1h0m0 0h0m0-1h0m-2 3h0m-3-3h0m-8 4h0m-1-2h0m-1-1h0m-1 3h0m4 5h0m14 2h0m2-4h0m1 0h0m1 0h0m1-1h0m1 3h0m1-1h0m4-1h0m-3 5h0m-7 4h0m-2-1h0m-1-2h0m-2 2h0m0-2h0m0 1h0"/>
<path stroke="#fdae61" d="m64 166h0m-2 1h0m3 1h0m5 21h0m-1 2h0m-11-2h0m-1-1h0m-2-1h0m-23 10h0m3-2h0m8 2h0m6-1h0m0-2h0m3 1h0m4-2h0m0 2h0m8-3h0m2 0h0m4 2h0m4 7h0m-2 2h0m-7-1h0m-1 1h0m-4-2h0m-1-2h0m-5 1h0m-3 1h0m-6 0h0m-1-3h0m-9 2h0m-1 2h0m0 1h0m-5-4h0m-3 4h0m4 4h0m0 0h0m3-1h0m3-2h0m4 1h0m7 4h0m0-5h0m5 1h0m4 1h0m1 1h0m1 1h0m5-4h0m4 0h0m1 3h0m5 2h0m5-3h0m84 3h0m-4 1h0m-59 4h0m-29-1h0m-2 1h0m-2-1h0m-2 1h0m-3 1h0m-5-4h0m0 0h0m0 0h0m-3-1h0m-1 3h0m-1 1h0m0-1h0m64 5h0m7 3h0m17-5h0m0 10h0m-22-1h0m0 1h0m-2-3h0m-18 3h0m-2-2h0m0 7h0m0 1h0m2-3h0m1 1h0m3-2h0m2 5h0m3-4h0m0 4h0m5-1h0m6 1h0m1-1h0m12 0h0m0 3h0m-2 0h0m-3 0h0m-2 2h0m-1-3h0m0 4h0m-3 1h0m0-2h0m0-1h0m-2-2h0m-2 5h0m-2-3h0m-1-1h0m-1-1h0m0 4h0m-1-1h0m-1 2h0m-4 0h0m0 0h0m-2-4h0m0-1h0m-1 3h0m0-1h0m-1 3h0m-1-1h0m-5-2h0m-2-1h0m-1 0h0m5 7h0m2-1h0m2-1h0m0 5h0m1-4h0m2-1h0m1 5h0m0-1h0m3 1h0m1-1h0m4-3h0m5 0h0m-8 7h0m-1 0h0m0 1h0"/>
<path stroke="#f7834d" d="m57 168h0m0 0h0m5 3h0m3-2h0m0 2h0m-2 16h0m-13 1h0m-9 8h0m1-1h0m2 1h0m1-2h0m7 1h0m1 1h0m0 1h0m11 5h0m-8-3h0m-1 0h0m-6 1h0m-13-1h0m-10 4h0m14 2h0m1 0h0m7 2h0m9 0h0m3-2h0m2-1h0m6 2h0m98 8h0m-95-3h0m-6 2h0m-4-2h0m-2 2h0m53 13h0m-3 1h0m-13 0h0m-4 5h0m13-1h0m1 2h0m4 0h0m0 0h0m8 2h0m-2-1h0m-2 4h0m-5-3h0m-5 1h0m-3 1h0m-2 0h0m-4 1h0m-1 1h0m-1-5h0m8 10h0m3-3h0m8 1h0m1 2h0m0 1h0m6 0h0m5-5h0m-12 9h0m-3-1h0"/>
<path stroke="#ea593a" d="m64 170h0m-4 16h0m-3 10h0m-3 7h0m-2-5h0m-7 6h0m1 2h0m2-1h0m1 2h0m3-1h0m4 0h0m3 2h0m2-4h0m-11 7h0m9 5h0m57 22h0m-11 1h0m-3-2h0m3 4h0m7 0h0m-7 5h0"/>
<path stroke="#d73027" d="m47 197h0m16 4h0m-13 0h0m-10 6h0m9-3h0m12 0h0m43 41h0m3-3h0"/>
</g></g><use href="#t105" stroke-width="3.5"/></g>
<path d="M1686.2 1424.6V1636.8H1914.5" fill="none" stroke="#000" stroke-width="1.9"/>
<text x="1686.2" y="1649.6" font-size="9.4" text-anchor="middle" fill="#333">−50</text>
<text x="1739.3" y="1649.6" font-size="9.4" text-anchor="middle" fill="#333">−25</text>
<text x="1792.3" y="1649.6" font-size="9.4" text-anchor="middle" fill="#333">0</text>
<text x="1845.4" y="1649.6" font-size="9.4" text-anchor="middle" fill="#333">25</text>
<text x="1898.5" y="1649.6" font-size="9.4" text-anchor="middle" fill="#333">50</text>
<text x="1681.6" y="1428.6" font-size="9.4" text-anchor="end" fill="#333">50</text>
<text x="1681.6" y="1482" font-size="9.4" text-anchor="end" fill="#333">25</text>
<text x="1681.6" y="1535.3" font-size="9.4" text-anchor="end" fill="#333">0</text>
<text x="1681.6" y="1588.7" font-size="9.4" text-anchor="end" fill="#333">−25</text>
<path d="M1686.2 1636.8v3.2M1739.3 1636.8v3.2M1792.3 1636.8v3.2M1845.4 1636.8v3.2M1898.5 1636.8v3.2M1686.2 1425.1h-3.2M1686.2 1478.5h-3.2M1686.2 1531.8h-3.2M1686.2 1585.2h-3.2" stroke="#000" stroke-width="1.5" fill="none"/>
<text x="1799.5" y="1669.3" font-size="14" text-anchor="middle">tSNE_1</text>
<text x="1670.5" y="1531.5" font-size="14" text-anchor="middle" transform="rotate(-90 1670.5 1531.5)">tSNE_2</text>
<text x="1821" y="1361.7" font-size="33.5" text-anchor="middle" font-style="italic" stroke-width="0.40">S100a4</text>
<rect x="1925.5" y="1507.2" width="11.9" height="58.8" fill="url(#rb)"/>
<text x="1925.9" y="1502.4" font-size="7.3" fill="#222">Scale.data</text>
<text x="1940.7" y="1522" font-size="6.1" fill="#333">3</text>
<text x="1940.7" y="1534.9" font-size="6.1" fill="#333">2</text>
<text x="1940.7" y="1547.7" font-size="6.1" fill="#333">1</text>
<text x="1940.7" y="1560.8" font-size="6.1" fill="#333">0</text>
<path d="M1925.5 1519.8h2.3M1937.4 1519.8h-2.3M1925.5 1532.7h2.3M1937.4 1532.7h-2.3M1925.5 1545.5h2.3M1937.4 1545.5h-2.3M1925.5 1558.6h2.3M1937.4 1558.6h-2.3" stroke="#fff" stroke-width="0.5" fill="none"/>
<g transform="translate(67.6 1739.6)" fill="none" stroke-linecap="round"><g stroke-width="4.2"><g id="t106">
<path stroke="#4575b4" d="m101 65h0m19 6h0m-2-2h0m0-2h0m0 3h0m-2-3h0m0 2h0m-1-3h0m-3 2h0m-6-2h0m-5 0h0m-5 4h0m-16 7h0m2 0h0m1 0h0m0-1h0m4-1h0m0-1h0m2 1h0m0-2h0m1 0h0m2 2h0m1-2h0m7 1h0m1-1h0m3 3h0m0-2h0m4 3h0m4-1h0m1-2h0m2 1h0m1-1h0m3 0h0m4 9h0m-7-4h0m-2 1h0m-1-2h0m-1 5h0m-1-3h0m-1 2h0m-2 1h0m-2-5h0m-2 5h0m0-1h0m0 0h0m-1-1h0m-1 2h0m-1-1h0m0-2h0m-1-1h0m-1 2h0m-1-2h0m-1 1h0m0-2h0m0 2h0m0 2h0m-1-3h0m-3 0h0m-5 2h0m-1-3h0m-1 5h0m-1-2h0m0-3h0m-1 2h0m-1-1h0m0 2h0m0 2h0m0-3h0m-1 0h0m-1 0h0m-1 1h0m0-1h0m-2-2h0m-2 3h0m0 1h0m-1-1h0m0 0h0m0 0h0m-2 0h0m0 1h0m-2 1h0m0-1h0m-1 1h0m0 0h0m-2-1h0m0 0h0m-10 6h0m4-4h0m1 1h0m0-1h0m1 0h0m0 1h0m0 4h0m1-1h0m1-2h0m2 3h0m0-2h0m0 0h0m1-1h0m1 3h0m0-5h0m1 2h0m0-2h0m0 1h0m0 3h0m0 1h0m1 0h0m0-2h0m0 2h0m0-5h0m1 2h0m1 0h0m1 3h0m0-5h0m0 0h0m1 2h0m0 1h0m1-1h0m1 0h0m2-2h0m0 2h0m0 0h0m0-2h0m1 4h0m0-4h0m1 0h0m0 1h0m1 0h0m4 1h0m0 0h0m0-2h0m1 1h0m1 3h0m0-1h0m8-2h0m1-1h0m1 1h0m0 4h0m1-4h0m1 2h0m0-1h0m0-2h0m1 2h0m2-1h0m1-1h0m0 5h0m1-3h0m1 3h0m1 0h0m2 0h0m2-2h0m1 2h0m32 0h0m0 0h0m1 0h0m1-1h0m1 0h0m2-2h0m2 1h0m2 2h0m13 6h0m-1-1h0m-1 1h0m-1 0h0m-2-1h0m-2-2h0m0-1h0m-1 3h0m-1 1h0m-1-5h0m-1 2h0m0 0h0m-2 3h0m0-5h0m-1 2h0m0-2h0m0 3h0m-1 1h0m0-4h0m-1 5h0m-1-2h0m0 2h0m0-1h0m0 1h0m-2 0h0m-1-5h0m0 1h0m0 1h0m0-1h0m-1 3h0m0-3h0m-1 3h0m0-2h0m0-1h0m0 1h0m0-2h0m-1 1h0m-2 3h0m-1 1h0m0-1h0m-1 1h0m-1 0h0m-4 0h0m-25-5h0m0 2h0m0-2h0m-1 2h0m-1 3h0m0-3h0m-1 1h0m-1 0h0m-2-1h0m-1 0h0m-2 3h0m-2-4h0m-1-1h0m0 1h0m0 0h0m-1 3h0m0 0h0m0 0h0m0-1h0m-1 0h0m0-3h0m-1 5h0m-6-1h0m-1-2h0m-1-1h0m0 0h0m-1 3h0m-1 0h0m-1-3h0m0 3h0m-1-3h0m-3 4h0m0-4h0m-1 3h0m0-1h0m0-2h0m-1 2h0m-1 2h0m-3-2h0m-1 2h0m0-5h0m0 2h0m-1 3h0m0-1h0m-1 0h0m0-2h0m0 0h0m-2 1h0m0 0h0m-1-2h0m0 4h0m-2-5h0m-1 3h0m-2-1h0m-1 1h0m-1 1h0m0 0h0m-1 0h0m-1-4h0m-1 3h0m0-2h0m0 4h0m0-3h0m-1 1h0m-9 5h0m1 2h0m5-3h0m1 4h0m0-1h0m0-1h0m1-3h0m1 4h0m1-2h0m0-1h0m2 0h0m0 4h0m2-4h0m1 0h0m2 1h0m0 1h0m0 0h0m1-3h0m1 1h0m0 1h0m1 3h0m0-3h0m0-1h0m3 3h0m0-1h0m0 1h0m2 1h0m0-4h0m0 4h0m2-1h0m0-2h0m1-2h0m1 2h0m0 3h0m1-3h0m0-2h0m0 2h0m1 0h0m0-2h0m0 4h0m1-4h0m0 0h0m0 0h0m0 0h0m1 0h0m0 4h0m0-3h0m1 1h0m0 2h0m0-3h0m1 2h0m1-3h0m0 2h0m0-1h0m1-1h0m0 5h0m1 0h0m0-5h0m0 0h0m1 2h0m1 1h0m0-3h0m3 5h0m0-4h0m0 2h0m2-3h0m1 0h0m3 2h0m1-1h0m1 4h0m0-3h0m0-1h0m0-1h0m1 0h0m3 3h0m0 0h0m1-1h0m0 3h0m2-5h0m0 3h0m0 0h0m1-3h0m21 5h0m1-3h0m1 2h0m0 0h0m2 1h0m0-5h0m0 2h0m0 3h0m1-4h0m1 1h0m0-2h0m1 0h0m1 0h0m1 3h0m0 2h0m0-1h0m1-2h0m1 2h0m1-4h0m0 2h0m0 3h0m0-1h0m1-2h0m0 0h0m0 2h0m1-2h0m0 1h0m0 0h0m0 2h0m1-3h0m1-1h0m0 2h0m1-3h0m0 5h0m0-5h0m0 0h0m2 4h0m1-2h0m0 2h0m1 0h0m0 1h0m0-2h0m1-3h0m3 0h0m1 1h0m0-1h0m1 0h0m0 3h0m1 2h0m1-3h0m1-2h0m1 5h0m0-5h0m2 4h0m1-4h0m0 4h0m1-4h0m1 1h0m1 2h0m0 2h0m1-3h0m0 1h0m1-3h0m2 4h0m2 4h0m0 3h0m-1-5h0m0 0h0m0 1h0m-1 1h0m0 3h0m0-3h0m0 3h0m0-5h0m0 3h0m-1 0h0m0-3h0m0 1h0m-1 1h0m-1-2h0m0 5h0m0-5h0m-1 1h0m0 3h0m0 0h0m-2-3h0m0 3h0m-1 0h0m0-1h0m-2-3h0m-1 0h0m0 0h0m0 2h0m-2-1h0m0 0h0m0 2h0m-1 1h0m-1-4h0m0 2h0m0-2h0m-1 2h0m-1 2h0m-1-1h0m0-3h0m-1 0h0m-1 3h0m0 2h0m0 0h0m-1 0h0m-1-5h0m-1 3h0m-1 2h0m0-5h0m0 3h0m0 2h0m-1-1h0m0-3h0m0 2h0m-1 2h0m-1-4h0m0 1h0m0 2h0m0 1h0m0-2h0m0 2h0m-2-1h0m-1 1h0m-1-5h0m0 0h0m-2 5h0m0-2h0m-1-1h0m-1-1h0m0 3h0m-1-4h0m0 2h0m0 1h0m-1-1h0m0 0h0m-1 0h0m-2 1h0m0 1h0m-1 1h0m0 0h0m0-4h0m-1 4h0m0-1h0m0 0h0m-2-1h0m0 2h0m0-5h0m-1 1h0m0-1h0m-1 0h0m0 0h0m-1 4h0m-3-1h0m-2 2h0m-1 0h0m-1 0h0m0 0h0m-2 0h0m-10-2h0m-1-2h0m0 3h0m-2-1h0m-1-2h0m-2 2h0m-7 0h0m-1-3h0m0 1h0m-1 1h0m-1-1h0m0 2h0m0-2h0m-2 0h0m-1 3h0m-1-4h0m-3 1h0m0-1h0m-1 1h0m0 0h0m-1 3h0m0-3h0m0 4h0m0-3h0m-1 0h0m-2 0h0m-2-2h0m-2 1h0m-1 1h0m0 1h0m0 2h0m-2-5h0m0 5h0m-3-5h0m0 0h0m-3 0h0m0 3h0m-3-3h0m0 1h0m-2 1h0m0 0h0m-1-2h0m-1 4h0m-1-3h0m0 1h0m-1 1h0m-2 1h0m-1-4h0m-1 0h0m0 5h0m-1 0h0m0-4h0m0 3h0m-1-4h0m0 5h0m-1 0h0m-1-1h0m-1 1h0m0-1h0m-2 0h0m-5 7h0m4-5h0m0 2h0m1 3h0m0 0h0m1-3h0m2 0h0m0 3h0m7-1h0m0 1h0m1-2h0m0-1h0m1 3h0m0-1h0m0-2h0m1-1h0m0 3h0m0-4h0m0 1h0m1 1h0m0 1h0m2-1h0m1 2h0m0 1h0m0-5h0m0 4h0m1-1h0m0 0h0m0-2h0m0 1h0m1-2h0m2 4h0m1 0h0m0-1h0m1 2h0m0-5h0m1 1h0m0 2h0m1-2h0m1-1h0m1 4h0m5-2h0m0 3h0m1-1h0m0 1h0m2-2h0m0 2h0m1 0h0m0-2h0m1 2h0m1-1h0m1-2h0m0-2h0m1 0h0m0 0h0m0 3h0m0 0h0m1-2h0m0 2h0m1 1h0m0 0h0m0 1h0m2-4h0m2 3h0m1 0h0m1-3h0m18-1h0m0 0h0m4 0h0m0 2h0m0-2h0m0 1h0m1 0h0m0 0h0m2-1h0m1 2h0m0 0h0m3 2h0m0-1h0m0-1h0m1 0h0m1 2h0m1 0h0m1 0h0m0 1h0m0-5h0m0 1h0m1-1h0m0 2h0m0 0h0m1 2h0m0-4h0m1 5h0m0-1h0m1 1h0m0-3h0m0 3h0m3-1h0m1-2h0m0-1h0m0-1h0m0 0h0m0 4h0m1 0h0m0 1h0m0-3h0m0 1h0m1 2h0m0-4h0m0 2h0m0 1h0m0-2h0m1-1h0m0 4h0m0-3h0m0 1h0m1-1h0m0 1h0m0 1h0m0-1h0m0 0h0m2-1h0m0-2h0m1 2h0m1 3h0m0-3h0m0 3h0m1-2h0m0-3h0m0 3h0m1 2h0m1-3h0m0-1h0m0-1h0m1 1h0m0 2h0m1-1h0m0 3h0m0 0h0m1-3h0m0-2h0m0 0h0m0 0h0m1 0h0m0 4h0m1-3h0m1-1h0m0 0h0m2 4h0m0 0h0m0-2h0m1 3h0m1-3h0m0-1h0m1 3h0m1 1h0m1-1h0m2 1h0m1-1h0m1-1h0m0 1h0m0-2h0m0 3h0m1-3h0m0 1h0m0-3h0m2 1h0m0 4h0m1-2h0m0 2h0m0 0h0m1 0h0m2 0h0m1-2h0m0-1h0m0-1h0m1 0h0m1 1h0m-2 6h0m0-2h0m0 0h0m-2 2h0m0 0h0m-1-1h0m-1 3h0m0-3h0m-1 1h0m0 1h0m0-2h0m-1-1h0m-1 2h0m0 3h0m-1-4h0m-1-1h0m-3 0h0m-1 4h0m-1-4h0m0 4h0m-2-3h0m0 1h0m-2 2h0m0-3h0m0 3h0m0-3h0m0 1h0m-1-1h0m0 3h0m-1-4h0m-2 2h0m0-1h0m-1-1h0m-1 3h0m0 2h0m0-3h0m-1 3h0m0-3h0m0 1h0m0-2h0m-1-1h0m0 2h0m-1-1h0m-1 2h0m0 1h0m-3 1h0m0 0h0m-1 0h0m-3-2h0m0-1h0m-1-1h0m0-1h0m-2 5h0m-2 0h0m-1-5h0m-1 3h0m-2-3h0m-1 1h0m0-1h0m0 2h0m0 0h0m0 0h0m0 1h0m-1 0h0m0 2h0m-1-2h0m0 2h0m-1-4h0m0 1h0m0-2h0m-26 3h0m-5-2h0m0 4h0m-1-3h0m-1 2h0m0 0h0m0-2h0m-1-2h0m-1 1h0m0 3h0m-1 0h0m-2-2h0m0 1h0m-1 0h0m-1-3h0m-1 3h0m-2 0h0m0 2h0m-1-2h0m-1-2h0m-1 0h0m0 3h0m-1-3h0m0 1h0m-1 2h0m0-1h0m-1 2h0m0-5h0m-2 0h0m-1 1h0m0 3h0m0-2h0m-1 0h0m-1-1h0m0 2h0m0 2h0m0-1h0m0-1h0m-1-3h0m0 0h0m-1 4h0m0 0h0m0 0h0m0-4h0m0 5h0m-1-1h0m0 0h0m-1 0h0m0 1h0m-2-5h0m0 1h0m-1 1h0m-3-1h0m-1 0h0m0 0h0m-1 1h0m-3 1h0m-1 0h0m0-3h0m-1 4h0m-1 0h0m0-4h0m-2 5h0m0-3h0m0-1h0m-1 1h0m-1 1h0m0 2h0m-1-4h0m-3 3h0m-1 0h0m0 1h0m-1-4h0m-1 1h0m-9 9h0m1 0h0m1 0h0m0-1h0m2 1h0m1-2h0m0 2h0m1 0h0m1-3h0m0 3h0m2-4h0m1 4h0m0-2h0m1-1h0m2 0h0m1 1h0m0 1h0m0-2h0m1 0h0m0-2h0m0 1h0m1 0h0m0 0h0m1 1h0m0 0h0m0 3h0m1-1h0m1 1h0m1-2h0m1-2h0m1 0h0m0 3h0m0 0h0m0-4h0m15 4h0m1-4h0m0 5h0m0-4h0m1 1h0m0 3h0m0-4h0m0 4h0m0-2h0m0-3h0m2 5h0m1-2h0m1 2h0m0 0h0m0-1h0m4 1h0m1-3h0m0 1h0m0-1h0m1 1h0m1-2h0m1 0h0m0 2h0m0-2h0m0-1h0m1 2h0m0-2h0m1 4h0m0-1h0m0-2h0m2 0h0m1 2h0m1 1h0m1-3h0m0 3h0m0 0h0m1 0h0m0 1h0m0-3h0m1 2h0m0-1h0m1-3h0m0 1h0m9 4h0m18-1h0m1 0h0m0 1h0m1-2h0m0 0h0m1 2h0m0 0h0m1-4h0m0 4h0m1-3h0m3 1h0m3-3h0m0 2h0m2 3h0m1 0h0m1-3h0m3 2h0m0-4h0m0 0h0m0 3h0m2-1h0m0-1h0m1 1h0m1 0h0m0 0h0m0 1h0m2-1h0m0 0h0m0-1h0m1 1h0m0-1h0m1 4h0m0-3h0m1-1h0m0 1h0m0-1h0m0 4h0m1-1h0m0 0h0m7-4h0m0 4h0m0-4h0m1 2h0m0 2h0m0-3h0m1 3h0m0 1h0m0-5h0m1 1h0m0-1h0m0 1h0m1 0h0m0 1h0m0 2h0m0-1h0m2-2h0m1 1h0m1 1h0m1 0h0m2-1h0m1-2h0m1 4h0m1 0h0m2-1h0m0 0h0m1-1h0m0 3h0m0-3h0m2 1h0m3 5h0m-1 1h0m0-3h0m-1 5h0m0-5h0m0 3h0m-1 2h0m0-4h0m-2 1h0m-1-1h0m-1 0h0m-1 1h0m-1-1h0m0 1h0m-1 1h0m-2 0h0m-1 1h0m-2 0h0m-1-1h0m-2-3h0m0 1h0m-1 0h0m-1 0h0m-1 0h0m-1 1h0m0-2h0m0 2h0m-1 2h0m-1 1h0m-3-4h0m-2 3h0m0-4h0m0 0h0m0 4h0m0-1h0m-1-3h0m-7 2h0m0 3h0m-1-3h0m-1-1h0m-1 0h0m-1 2h0m0-2h0m-2 4h0m0 0h0m-1-5h0m0 0h0m-1 5h0m-2-4h0m-1 1h0m0 2h0m-1-1h0m-1 2h0m0-5h0m-1 2h0m0 1h0m0-2h0m0 4h0m-1 0h0m-3-2h0m0 1h0m0 1h0m-1 0h0m0-4h0m-2 0h0m0 3h0m0 1h0m-25-5h0m-1 4h0m-1-4h0m0 0h0m-1 4h0m0 0h0m0-1h0m-1 1h0m0 1h0m0-1h0m-1 0h0m-1 0h0m-1-1h0m-1 0h0m0 2h0m0-1h0m-3 0h0m0-3h0m-1-1h0m0 2h0m-1-1h0m-1 3h0m-1-4h0m0 1h0m0-1h0m-2 1h0m0 1h0m-2 2h0m0-1h0m0 0h0m0 0h0m-1-2h0m0 2h0m0 2h0m0 0h0m-1-3h0m-1-1h0m-1 4h0m0-4h0m0-1h0m0 5h0m-1-4h0m-1 0h0m-3 1h0m-3-2h0m0 2h0m-4 1h0m-2 2h0m-1 0h0m-1-1h0m0-3h0m0 1h0m0 0h0m-1 3h0m0-5h0m-1 0h0m0 1h0m0 3h0m-1-3h0m-1 0h0m0 3h0m0 0h0m0-3h0m-1 3h0m-1-3h0m0-1h0m0 3h0m0-2h0m0 1h0m0 0h0m-1-1h0m-1 0h0m0 4h0m0-3h0m-1 1h0m0 2h0m-1 0h0m0-2h0m-1 0h0m-2-2h0m0 0h0m0 4h0m-1-4h0m0 1h0m-1 2h0m0 1h0m-1-4h0m0-1h0m-1 1h0m0 3h0m0-1h0m-1 0h0m-2-2h0m0 2h0m-1-1h0m-1 1h0m-2-3h0m0 2h0m0 1h0m-2 1h0m-2 2h0m0 3h0m1-1h0m0 2h0m1 0h0m0-3h0m1 3h0m2-2h0m0 2h0m0-1h0m2-2h0m2 2h0m1-2h0m0 3h0m1 0h0m1-4h0m0 1h0m2 2h0m0 0h0m0-2h0m1 0h0m0 1h0m1-1h0m0 0h0m1 2h0m0 2h0m0-2h0m1 0h0m3-1h0m0-1h0m0 3h0m1-2h0m0 2h0m2-1h0m1-3h0m1 1h0m0 4h0m1-1h0m0 0h0m1 0h0m0 1h0m1-2h0m0-2h0m0 4h0m2-2h0m0-1h0m8-2h0m4 2h0m2 3h0m1-1h0m3-4h0m0 3h0m0 0h0m0-1h0m2-1h0m1 0h0m1 3h0m0 1h0m1 0h0m0-5h0m2 2h0m0 2h0m1-2h0m0 1h0m0 1h0m0 0h0m2-3h0m0 1h0m1-2h0m0 2h0m0 2h0m0-1h0m1-2h0m1 3h0m0-3h0m2 2h0m23 1h0m2 0h0m3 0h0m0-2h0m0 2h0m2-1h0m1-3h0m0 4h0m1-3h0m0-1h0m2 0h0m2 1h0m2 2h0m0-1h0m0 3h0m0 0h0m8-5h0m1 0h0m0 1h0m0-1h0m1 3h0m0-3h0m1 5h0m0-4h0m0 1h0m0 1h0m9-3h0m0 4h0m0 0h0m2 1h0m1-1h0m2 1h0m0 0h0m1-2h0m0 0h0m0-3h0m1 1h0m1 2h0m0 1h0m1-1h0m0 1h0m0 1h0m0 0h0m0-3h0m0 1h0m2 2h0m0-1h0m1-4h0m1 4h0m1-3h0m0-1h0m1 2h0m0 1h0m0-1h0m0-1h0m1 1h0m1 2h0m0-1h0m1 1h0m1-2h0m0-1h0m1 2h0m0 0h0m1-1h0m0 2h0m0-4h0m3 0h0m2 2h0m0 2h0m0-2h0m2 1h0m1 0h0m1 0h0m-1 4h0m-1 2h0m0 2h0m-1-3h0m0 0h0m-1 0h0m0 1h0m0 0h0m0-1h0m-1 0h0m0 0h0m-2-2h0m0 1h0m0 1h0m-1 0h0m-2 0h0m-1-2h0m-2 0h0m0 5h0m-1 0h0m0-4h0m0 0h0m0-1h0m-2 1h0m0 0h0m0 0h0m0 0h0m-1 1h0m0 3h0m0-3h0m-1 2h0m-1-2h0m0-1h0m0-1h0m0 2h0m0-1h0m-1 3h0m-1-3h0m-2-1h0m0 4h0m0 1h0m0 0h0m-1-1h0m-1-3h0m0-1h0m0 3h0m-1-2h0m0 4h0m0-5h0m0 4h0m-1 0h0m-1-2h0m0 2h0m0 1h0m-1-3h0m0-2h0m0 2h0m-1 1h0m-1-2h0m-1 1h0m0 1h0m-3 1h0m-3-2h0m0 3h0m-1-2h0m0 2h0m0-3h0m0-1h0m0 3h0m-1-3h0m0 3h0m-2 1h0m-6-5h0m0 5h0m0-2h0m0-1h0m0-2h0m-1 1h0m-2 4h0m-1-5h0m-1 3h0m-2 2h0m0 0h0m-1-3h0m0 2h0m-2-2h0m-1 1h0m-2 0h0m-1-1h0m0 3h0m-1-5h0m0 3h0m0-3h0m0 2h0m-3-2h0m-1 3h0m-18 2h0m-1 0h0m0-2h0m0-1h0m-2-2h0m0 0h0m-2 4h0m0-1h0m0-3h0m-1 5h0m0-1h0m-1-2h0m0-2h0m-1 3h0m0 2h0m-1-3h0m0 1h0m0 2h0m-1-1h0m0-3h0m-1 1h0m0 3h0m-1-2h0m0 0h0m0-1h0m0-1h0m-1 3h0m0-1h0m-1-1h0m0 1h0m-2-3h0m0 0h0m0 3h0m-1-1h0m0 0h0m0-2h0m-1 3h0m0-2h0m0-1h0m0 0h0m0 5h0m-2-1h0m0-3h0m0-1h0m-1 5h0m0 0h0m-1-1h0m0 1h0m0-2h0m-1 1h0m-1-4h0m-6 5h0m-2 0h0m-1-2h0m-1-1h0m-1 2h0m-1-3h0m0 4h0m-1-4h0m-1-1h0m0 0h0m-1 3h0m-1-3h0m0 2h0m-1 3h0m0-3h0m0-2h0m-1 0h0m0 0h0m-1 0h0m-1 1h0m0 1h0m-1 3h0m-1-3h0m0 3h0m-1-2h0m0-1h0m0-2h0m-1 5h0m-1-1h0m-7 0h0m-1-1h0m-1-2h0m-1 0h0m0 1h0m-1 0h0m0 2h0m0-2h0m-1 0h0m-1-1h0m-1 2h0m-1 0h0m-1 1h0m-1 1h0m0 0h0m0-3h0m0 0h0m0 3h0m-1-1h0m0-1h0m-1 1h0m0-4h0m-1 0h0m0 2h0m-1 2h0m0 1h0m-1 0h0m-5 4h0m3 0h0m0-3h0m0 5h0m0-4h0m1 0h0m0 2h0m1-3h0m0 0h0m2 0h0m0 1h0m1 2h0m0-1h0m3 0h0m0 3h0m1-5h0m0 2h0m0-1h0m0 4h0m0-4h0m1-1h0m1 0h0m0 1h0m0 0h0m1-1h0m0 2h0m2-2h0m1 1h0m0 0h0m0 1h0m0 1h0m0-2h0m1-1h0m1 5h0m0-3h0m1 1h0m0 0h0m0-1h0m5 1h0m0 0h0m1 0h0m1 1h0m1 0h0m0-2h0m0-2h0m1 3h0m0 2h0m0-3h0m1 1h0m0-2h0m1 4h0m0-5h0m0 5h0m1-4h0m0-1h0m0 2h0m1-1h0m0 2h0m2 0h0m1-1h0m0 1h0m0-3h0m1 5h0m0-3h0m0-1h0m1-1h0m1 1h0m0 3h0m2-3h0m0 4h0m0-1h0m1-2h0m0 1h0m0 1h0m1 1h0m1-5h0m0 4h0m1 0h0m2-3h0m1 1h0m1 2h0m0-2h0m0 3h0m7-4h0m1 0h0m0 1h0m6 0h0m1 0h0m0-1h0m1 2h0m1-3h0m1 2h0m0 0h0m0 3h0m1-4h0m1-1h0m0 5h0m0-1h0m1-4h0m0 2h0m1 0h0m1 0h0m0-1h0m1 0h0m1-1h0m0 3h0m0 2h0m0-3h0m0 3h0m0-5h0m1 0h0m0 2h0m0-2h0m0 5h0m1-3h0m0 3h0m1-4h0m18-1h0m1 3h0m0-2h0m1 3h0m0 0h0m0-4h0m1 3h0m0 1h0m1-2h0m0 1h0m0 2h0m1 0h0m0-3h0m0 3h0m1-4h0m0-1h0m1 5h0m2-2h0m0 1h0m0-1h0m1-2h0m0 4h0m0 0h0m1-1h0m0-4h0m1 5h0m0-2h0m0 2h0m1-1h0m0-2h0m1-1h0m0 0h0m1 4h0m0-4h0m1 2h0m1 1h0m0-2h0m1 2h0m3-4h0m2 4h0m0-1h0m0-1h0m3 1h0m1-3h0m1 2h0m0-1h0m0 4h0m1-1h0m1 1h0m0-2h0m1 2h0m0-1h0m1-4h0m0 5h0m1-4h0m0 2h0m0 1h0m0-4h0m1 4h0m0-3h0m0-1h0m1 1h0m0-1h0m1 5h0m0-1h0m1 0h0m0-3h0m0 1h0m0 1h0m0-1h0m0 1h0m1 1h0m1 1h0m0-2h0m0-3h0m3 3h0m0-2h0m0 1h0m1 1h0m3-1h0m1 3h0m1 0h0m0-1h0m1 1h0m1-5h0m1 1h0m0 3h0m2-3h0m0-1h0m0 3h0m2-3h0m0 1h0m1 3h0m0-3h0m0 1h0m0 0h0m1 1h0m0 2h0m0-1h0m1-2h0m0 0h0m0 0h0m0 3h0m1-3h0m1-2h0m41 11h0m-3 0h0m-2-2h0m-1 0h0m-1-1h0m0 2h0m-1-4h0m0 3h0m-1 2h0m-1-3h0m-2 1h0m-2 0h0m0 0h0m-4 0h0m0-3h0m-1 4h0m-20-1h0m-4-3h0m-2 0h0m-1 0h0m0 2h0m-2 0h0m0 0h0m-1 0h0m-1 0h0m-8-1h0m-2-1h0m-9 1h0m-2 2h0m0-3h0m-1 0h0m-1 2h0m0-1h0m0 3h0m-1-4h0m-1 2h0m-1 1h0m0-1h0m0-2h0m0 2h0m-1-2h0m0 4h0m-1-1h0m0-1h0m-1 3h0m0-3h0m-1 2h0m0 1h0m-1-2h0m-1 0h0m0-1h0m-1 3h0m-1-5h0m-2 4h0m0 0h0m0 1h0m-2-4h0m-3 2h0m-1-3h0m-1 2h0m-1-1h0m0 2h0m0-2h0m-1 3h0m0-2h0m0-1h0m-1 3h0m0-2h0m0 0h0m0-2h0m-1 3h0m-1-3h0m0 2h0m-14-2h0m-8 1h0m0 1h0m-1-1h0m0-1h0m-1 2h0m0 0h0m-1-2h0m0 5h0m-1-3h0m-2 0h0m0 2h0m0-4h0m-1 1h0m0 1h0m0-1h0m-1 3h0m0-3h0m0 3h0m-1-2h0m0-1h0m-1 0h0m0 1h0m0 2h0m-1 0h0m0 1h0m0-3h0m-1 2h0m0-1h0m-1-3h0m0 3h0m-1-3h0m0 1h0m-15 1h0m0 0h0m-1-1h0m0 1h0m-1 2h0m-2 0h0m0 1h0m0-2h0m0 2h0m-1-2h0m0 0h0m0 0h0m0 0h0m-2-1h0m-1 0h0m-1-1h0m0 4h0m-3-3h0m0 2h0m-1-1h0m0-2h0m0 0h0m-1 2h0m-1 0h0m0 0h0m-1 0h0m0-3h0m-1 4h0m0-2h0m-1 0h0m-2-1h0m-1-1h0m-1 1h0m-1 3h0m0-4h0m-1 2h0m-2 3h0m0 0h0m0-3h0m-1 0h0m0 0h0m-1-2h0m-2 4h0m-1-3h0m0 3h0m0-4h0m0 0h0m-1 3h0m0 1h0m0 0h0m-3-2h0m0-2h0m0 3h0m-1 1h0m-1-3h0m0 4h0m-1-2h0m-1-1h0m-1 1h0m0 1h0m-1-3h0m0 0h0m-1 4h0m0 0h0m0-3h0m-1-1h0m0 2h0m0-3h0m-1 4h0m0-1h0m0-1h0m-3 2h0m-1 1h0m0-2h0m-1 1h0m-1-1h0m0-2h0m0-1h0m-1 3h0m-1 0h0m0 0h0m0-1h0m1 7h0m0-2h0m1 2h0m1-1h0m0 1h0m0 0h0m0 1h0m1 1h0m0-3h0m0 3h0m0-5h0m0 5h0m1-1h0m0-2h0m0-1h0m0 0h0m4 2h0m0 2h0m1-3h0m0 1h0m1-3h0m0 0h0m1 1h0m0 1h0m1-1h0m0 3h0m0-1h0m1-3h0m2 1h0m0 1h0m1 0h0m1-2h0m0 1h0m1 0h0m0 0h0m1 2h0m1 1h0m0 1h0m1-1h0m0-2h0m1 3h0m1-3h0m1 1h0m0-3h0m1 2h0m0 0h0m0 1h0m0-2h0m0 1h0m1-2h0m0 2h0m0-2h0m1 4h0m1 0h0m0 0h0m0-2h0m1 3h0m0-5h0m0 1h0m8-1h0m2 0h0m9 3h0m0-3h0m1 0h0m0 4h0m0 1h0m0-3h0m1 3h0m0-3h0m1 1h0m0 2h0m0-2h0m1 1h0m19-4h0m1 0h0m2 1h0m0-1h0m1 0h0m0 1h0m0 0h0m31 2h0m0-3h0m0 1h0m0 4h0m1 0h0m0-1h0m2-1h0m0-2h0m1 2h0m0-2h0m0 3h0m1 1h0m0 0h0m1-3h0m1 2h0m2 1h0m0-3h0m1-2h0m0 1h0m1-1h0m0 1h0m1 2h0m0 1h0m1-2h0m1 1h0m0-3h0m2 4h0m1 0h0m1-3h0m1 2h0m0 1h0m0 1h0m1-5h0m1 2h0m2 1h0m46 1h0m0 1h0m0 0h0m0-5h0m2 5h0m0-4h0m1 2h0m0 0h0m1 2h0m1-5h0m0 5h0m0-5h0m1 1h0m0 3h0m1-2h0m1 3h0m0-2h0m1-2h0m1 0h0m7 3h0m1-4h0m2 5h0m0-2h0m0 0h0m3 0h0m0-1h0m2-2h0m0 0h0m1 4h0m0-2h0m2 2h0m-6 2h0m-5 4h0m-2 1h0m-7 0h0m-2-3h0m0 3h0m-3-4h0m0 2h0m0-2h0m0-1h0m-3 2h0m-2 0h0m0 2h0m-1-3h0m-47-1h0m-3 0h0m-1 2h0m0 1h0m-1-3h0m-1 3h0m0 0h0m0 1h0m-1 1h0m-1-1h0m0 1h0m-1-1h0m0 0h0m-1-3h0m0 4h0m-1-3h0m0-2h0m-1 4h0m-2 0h0m0 0h0m-1-3h0m-1-1h0m0 4h0m0 1h0m-2-2h0m-2-2h0m-1 0h0m-1 1h0m-34 2h0m-18-4h0m-1 2h0m-1 1h0m-1-3h0m0 4h0m-1 1h0m-1-3h0m-1 3h0m-1-1h0m-1 1h0m-14-5h0m0 0h0m-1 3h0m-1-2h0m-1 4h0m0-3h0m0-1h0m0 2h0m0 0h0m-2-1h0m-1-1h0m0 1h0m0 3h0m0-2h0m-2-3h0m0 4h0m-1 1h0m0-2h0m0 0h0m-1-1h0m-1 3h0m-1-1h0m-1-2h0m-1 0h0m-1 0h0m0 2h0m-5-3h0m0 2h0m0-1h0m0-2h0m-1 2h0m-1-1h0m-1-1h0m-4 2h0m-1 0h0m-1-2h0m43 8h0m1 1h0m1 0h0m5 2h0m0-3h0m2 2h0m0-4h0m0 0h0m0 5h0m1-5h0m0 5h0m0-3h0m1 0h0m1 0h0m0-2h0m3 2h0m5-2h0m24 3h0m9-3h0m9 2h0m0-2h0m2 0h0m0 2h0m4-1h0m1-1h0m0 2h0m1-2h0m0 2h0m0-2h0m1 1h0m0 0h0m2-1h0m0 0h0m3 1h0m1-1h0m1 0h0m19 5h0m1-1h0m3-4h0m1 5h0m27-5h0m4 1h0m0 0h0m0 0h0m2 3h0m0 0h0m1-1h0m0 0h0m1 0h0m4-3h0m1 1h0m2 0h0m1 3h0m0-4h0m1 1h0m0 0h0m0 1h0m1 0h0m-42 8h0m0 0h0m-1-2h0m0-1h0m-1 2h0m0 1h0m-1-4h0m0 2h0m0 3h0m-1-3h0m0-2h0m-1 3h0m0 0h0m0-2h0m-1 1h0m0 2h0m0 0h0m-2-3h0m0-1h0m0 3h0m-1 2h0m-1-3h0m0-1h0m0 0h0m0 0h0m0 4h0m-1-1h0m-1-2h0m0 2h0m-1-1h0m-1-1h0m-2 0h0m0 1h0m0-2h0m0 3h0m-1-2h0m0 0h0m-3 3h0m-1-1h0m-1 0h0m-2-1h0m-2 0h0m0 1h0m-1 0h0m-3 1h0m-3 0h0m-19 3h0m0 3h0m1-1h0m0-1h0m2 1h0m1-1h0m5 1h0m1 1h0m2-2h0m0 2h0m1-1h0m1-2h0m1 2h0m0-2h0m2 2h0m0-3h0m1 4h0m1-3h0m0 1h0m0 1h0m0-1h0m1 0h0m1-1h0m0 0h0m1 0h0m0-1h0m2 3h0m0-4h0m1 4h0m0 0h0m3-1h0m0 0h0m0-1h0m1-2h0m2 1h0m1-1h0m0 4h0m0-3h0m1 2h0m1 2h0m1-2h0m0-3h0m1 4h0m3 1h0m0-1h0m1-3h0m0 2h0m0 0h0m0-3h0m2 0h0m0 0h0m1 5h0m1-3h0m0 3h0m1-5h0m0 2h0m1 0h0m0 2h0m0 1h0m1-1h0m1-2h0m0 1h0m2 0h0m0 2h0m0-4h0m1 2h0m0-2h0m1-1h0m0 0h0m0 4h0m1-2h0m1 3h0m1-1h0m5 7h0m-3-1h0m0 0h0m-1-2h0m0 3h0m0-2h0m-1 0h0m0-3h0m-1 5h0m0 0h0m0-4h0m0 1h0m0 3h0m-2-3h0m-1 0h0m0 2h0m-1-4h0m-1 0h0m0 5h0m0-3h0m0-1h0m-1 4h0m0-4h0m0 2h0m0-1h0m-1-2h0m-1 3h0m0 2h0m0-2h0m-1-1h0m0 0h0m0 2h0m-1-2h0m0 2h0m0-4h0m-2 5h0m0-5h0m0 0h0m0 2h0m0 1h0m-1-3h0m0 4h0m-1-4h0m-1 2h0m0 3h0m-1-3h0m-1 0h0m0 0h0m0-2h0m0 5h0m-1-4h0m0 1h0m0 0h0m0 1h0m-1 2h0m-1-1h0m0 0h0m0-1h0m-1 0h0m-1-1h0m-1 2h0m0-2h0m-1 3h0m0-1h0m0 1h0m-2 0h0m-1-3h0m0 3h0m0 0h0m-2-1h0m0 1h0m-2-2h0m0 0h0m-1-1h0m0-2h0m0 4h0m0 0h0m-4-4h0m0 1h0m-1 1h0m-1 0h0m-1 0h0m0 1h0m0-2h0m0 3h0m0 1h0m0-5h0m-1 3h0m0-3h0m0 4h0m0 0h0m-1-4h0m0 4h0m0 0h0m-1-4h0m0 1h0m-1-1h0m-1 0h0m0 4h0m0-3h0m-1 1h0m0 0h0m0 1h0m0 1h0m-1-2h0m0 3h0m0-4h0m-1 4h0m0-5h0m0 5h0m0-1h0m0-1h0m-1-1h0m0-1h0m0 1h0m-1 0h0m0-1h0m-1 3h0m-1-4h0m0 5h0m-1 0h0m-1-4h0m0 3h0m0-2h0m-1 1h0m0 2h0m0-3h0m-1 2h0m0-1h0m0-3h0m0 4h0m-1-4h0m0 0h0m0 5h0m0-3h0m-1 0h0m0-1h0m-35 3h0m-2 0h0m0-1h0m-4 2h0m0-1h0m-1 0h0m0-1h0m0 0h0m0 0h0m-1 2h0m0 0h0m-1 0h0m0-4h0m0 1h0m-1 0h0m0 0h0m0-1h0m-2 4h0m0 0h0m0-4h0m-1 4h0m0 0h0m0-1h0m0 0h0m-1-2h0m0 3h0m0-2h0m-1 0h0m0-1h0m-1 2h0m-1 1h0m-1-2h0m0 1h0m-1-1h0m-1 1h0m-1-1h0m-17 7h0m2-1h0m1 2h0m0 0h0m1-2h0m2-2h0m0 4h0m0-1h0m3-3h0m1 0h0m0 0h0m1 0h0m0 0h0m0 3h0m0-1h0m2 2h0m0-2h0m0-1h0m0 2h0m1 1h0m0-4h0m0-1h0m0 3h0m1 1h0m1 1h0m0-5h0m0 1h0m1 4h0m0 0h0m0-2h0m1-3h0m1 3h0m1 2h0m0 0h0m0-4h0m0 4h0m0-2h0m0 0h0m1-1h0m0 0h0m0 3h0m0-4h0m0 3h0m1-4h0m1 4h0m0-4h0m0 3h0m0-2h0m1 4h0m1 0h0m2-1h0m0-1h0m1-3h0m3 1h0m0 2h0m1-1h0m1-1h0m2 0h0m0 1h0m2 2h0m0-3h0m0-1h0m1 3h0m29 2h0m2-1h0m1-1h0m1 2h0m0-5h0m1 4h0m3-1h0m1-3h0m0 1h0m0-1h0m0 5h0m0-1h0m2 1h0m1-2h0m0-1h0m0 1h0m1-3h0m0 1h0m0 4h0m1-3h0m0 0h0m0 0h0m1-2h0m0 0h0m0 0h0m4 3h0m0 2h0m1-4h0m1 3h0m0-1h0m0 2h0m1 0h0m0 0h0m1-2h0m1-1h0m1 2h0m0-4h0m0 3h0m1 0h0m1 2h0m0-1h0m0-3h0m0 4h0m0-4h0m1 2h0m0-1h0m3 1h0m0 1h0m0-1h0m1 1h0m0-3h0m0 4h0m1-4h0m0 4h0m1-5h0m1 5h0m0-5h0m0 1h0m1 3h0m0-2h0m0 2h0m0 1h0m0-1h0m0 1h0m0-5h0m1 4h0m0-3h0m1 0h0m0 4h0m1 0h0m0-1h0m1-1h0m0-1h0m0-1h0m0 4h0m0-2h0m1-3h0m1 1h0m1 3h0m0-4h0m1 3h0m1-2h0m1 4h0m1 0h0m0-4h0m0 0h0m1 3h0m1-1h0m0-1h0m2 2h0m0-3h0m1-1h0m0 1h0m1 2h0m2-1h0m1 2h0m0-1h0m1 1h0m0-3h0m1 0h0m0 4h0m0-5h0m0 0h0m1 4h0m0 0h0m0-1h0m1-1h0m1 3h0m1-1h0m0-2h0m0-1h0m0 0h0m3-1h0m2 4h0m0 0h0m2-2h0m1 3h0m0-2h0m0 1h0m2 6h0m-1 1h0m0-2h0m-2 0h0m0 2h0m-1-2h0m0 2h0m-1-2h0m0 0h0m0-1h0m0 2h0m0 0h0m-1-1h0m0 2h0m0-2h0m-1-1h0m-1 2h0m0-3h0m0 0h0m0 1h0m-1 1h0m0-3h0m-2 4h0m-2-3h0m-1-1h0m0 4h0m-1-2h0m-1 1h0m0-3h0m-1 3h0m0-1h0m0-2h0m-1 3h0m-2 0h0m0-3h0m-1 1h0m-2 1h0m0 2h0m0 1h0m-1-1h0m-1-4h0m0 0h0m-1 4h0m0-4h0m-2 1h0m-2 0h0m0 0h0m-1-1h0m-1 0h0m-1 4h0m0-1h0m-2-3h0m0 3h0m-1-1h0m0 0h0m-1-2h0m0 1h0m-3 2h0m0 2h0m-1-1h0m-1-2h0m0-2h0m0 1h0m-1 3h0m0-2h0m0 2h0m-1 1h0m-2-1h0m0 0h0m0 0h0m-2-2h0m-1-1h0m-1 2h0m0-2h0m0 0h0m-1 3h0m-2 1h0m0-2h0m0-3h0m0 4h0m-1-1h0m0 0h0m-1 1h0m0-4h0m0 5h0m0 0h0m-2 0h0m0-4h0m-1 2h0m-2 0h0m-1 2h0m-1-2h0m0 0h0m-1-1h0m0 0h0m0 1h0m-1 2h0m0-5h0m0 4h0m0 1h0m0-4h0m-1 4h0m-1-1h0m0-1h0m-2 0h0m-1-3h0m-1 0h0m-1 1h0m0-1h0m-1 2h0m0-2h0m-1 2h0m-1-2h0m0 3h0m-1 0h0m-23 1h0m-3-4h0m0 0h0m-6 1h0m0 0h0m0 2h0m0 2h0m-1-1h0m0-1h0m-1-2h0m-2-1h0m0 5h0m0-5h0m0 0h0m-1 0h0m0 4h0m0-3h0m-1 1h0m-1-1h0m-1 1h0m0 1h0m-1 0h0m0-2h0m0 1h0m0 1h0m-1 0h0m0-2h0m0-1h0m0 3h0m0 1h0m0-2h0m-1 0h0m0 3h0m0-4h0m0 4h0m-1-4h0m-1 0h0m-1 3h0m-1 0h0m0 0h0m0 1h0m0-1h0m-2-1h0m0-2h0m-1-1h0m0 5h0m-1 0h0m-1-5h0m0 4h0m0-2h0m-1-1h0m0-1h0m-2 5h0m0-5h0m0 3h0m0 1h0m-1 1h0m0 0h0m-1-5h0m0 0h0m-2 0h0m0 2h0m-1 3h0m0-4h0m0-1h0m-1 4h0m-1-4h0m0 3h0m0 2h0m0-4h0m0 0h0m-3 0h0m0 1h0m-1 0h0m0 0h0m0 1h0m0-2h0m0-1h0m-1 2h0m-1-2h0m-1 2h0m0-2h0m-3 6h0m1 0h0m1 1h0m1 1h0m0-2h0m2 2h0m1 3h0m0 0h0m0-4h0m0 3h0m3-2h0m0-2h0m0 1h0m0 3h0m1-4h0m0 4h0m0-1h0m0 1h0m0 0h0m1-4h0m1 3h0m0-3h0m0 2h0m0-1h0m0 2h0m1-2h0m0 4h0m0-1h0m1-2h0m1-1h0m0-1h0m1 4h0m0-1h0m0 0h0m0 0h0m0 1h0m1-1h0m0-2h0m2 0h0m1 3h0m1-3h0m0 1h0m1 2h0m1-2h0m1 3h0m0-2h0m0 1h0m0-2h0m0 0h0m1-1h0m0 4h0m0-2h0m0 0h0m1 1h0m0-3h0m1 0h0m0-1h0m1 3h0m0 2h0m0-3h0m1-2h0m0 3h0m1-3h0m1 3h0m0 2h0m0 0h0m1-2h0m0 1h0m0 0h0m0-1h0m1 1h0m1 1h0m1-2h0m0-1h0m1 1h0m0 2h0m0-2h0m1-1h0m0-1h0m0 0h0m1 4h0m0-3h0m0-1h0m0 4h0m1-4h0m0 0h0m1-1h0m1 0h0m0 0h0m2 4h0m0-2h0m0 2h0m1 0h0m0 1h0m2-1h0m0-2h0m1 0h0m0-2h0m1 0h0m0 0h0m0 1h0m2 0h0m0 4h0m0-5h0m1 1h0m0 4h0m0-3h0m0 0h0m1-1h0m1 4h0m0-2h0m0 1h0m16 1h0m2-3h0m0-2h0m3 3h0m1 2h0m0-5h0m0 4h0m1-3h0m0 2h0m1 0h0m0 2h0m1-4h0m0 1h0m1 3h0m0 0h0m0-2h0m0 1h0m2-3h0m0 3h0m0-4h0m0 1h0m0 3h0m1-4h0m0 2h0m1 1h0m1 0h0m0-3h0m1 5h0m0-1h0m0-2h0m1-1h0m1-1h0m0 4h0m0 1h0m1-1h0m1 0h0m1-3h0m0 0h0m0 2h0m1-1h0m0 3h0m1-4h0m1 2h0m1-3h0m0 5h0m0-3h0m4 2h0m2-1h0m0-3h0m0 2h0m2 0h0m0 2h0m0 1h0m1-5h0m0 2h0m1 3h0m0-2h0m0-3h0m1 2h0m1 2h0m1-2h0m0 0h0m1 0h0m5 1h0m1 1h0m1-1h0m3 0h0m0-1h0m0 1h0m1 0h0m1-1h0m0-1h0m1 2h0m2-1h0m0 1h0m0 2h0m1-3h0m1-2h0m0 2h0m1 1h0m1-3h0m0 2h0m1 1h0m1-3h0m0 5h0m0-4h0m1 2h0m1 1h0m0-1h0m1-2h0m0 3h0m1-4h0m0 0h0m0 3h0m1-2h0m1 3h0m0-4h0m1 3h0m0 1h0m0-2h0m1 2h0m0-3h0m1 4h0m0-4h0m1 2h0m1 1h0m1-3h0m1 0h0m2-1h0m1 1h0m0-1h0m0 4h0m1-4h0m0 1h0m-5 8h0m0 0h0m-1 2h0m0-5h0m0 5h0m0-4h0m-1 4h0m-1-2h0m0-3h0m0 5h0m-1-5h0m-1 4h0m0-4h0m-1 5h0m0-3h0m0 3h0m0-3h0m-1-1h0m0 0h0m-1 4h0m0-2h0m0 1h0m-1-4h0m0 0h0m0 2h0m-1-1h0m0 1h0m0-1h0m-1 3h0m-1-3h0m0 0h0m-2 1h0m0 2h0m0-2h0m-1 0h0m-1-2h0m-1 4h0m0 1h0m0-2h0m-1 2h0m0 0h0m-2-4h0m-2 3h0m0-2h0m0 2h0m0-3h0m-1-1h0m-1 1h0m0 3h0m0 1h0m0-5h0m-2 1h0m0-1h0m-1 3h0m0 1h0m-1-2h0m-1 0h0m0 1h0m-1 2h0m-1-2h0m0 1h0m-1-4h0m0 4h0m-2 1h0m0-2h0m0-1h0m0-2h0m-1 3h0m-1 0h0m-1-1h0m0 1h0m-1-2h0m0 4h0m-1-2h0m-1-1h0m0 0h0m0 2h0m0-4h0m-2 0h0m0 4h0m-1-4h0m-1 0h0m-1 3h0m0-2h0m0 0h0m0 2h0m-1-2h0m0 1h0m0-2h0m-1 4h0m0 1h0m0-5h0m0 2h0m-1-1h0m0 0h0m0 2h0m0-3h0m-1 0h0m0 5h0m-1-1h0m0 1h0m0-2h0m-1 2h0m0-3h0m-1 1h0m0 0h0m-1-2h0m-2-1h0m-1 3h0m0-3h0m0 0h0m-1 4h0m0-3h0m0 4h0m0-5h0m0 0h0m-1 4h0m0 0h0m0-3h0m-1 2h0m0 0h0m-1-3h0m0 2h0m-1 0h0m-1 1h0m0-1h0m-1-2h0m0 5h0m0-1h0m0-4h0m-2 5h0m-1-2h0m-1-3h0m0 4h0m0 1h0m0-4h0m0 4h0m-1-5h0m0 4h0m-1 1h0m0-3h0m-1 0h0m-1 0h0m0-2h0m0 5h0m-1-4h0m-12-1h0m-7 0h0m-1 1h0m0-1h0m0 0h0m-1 0h0m-1 2h0m0 1h0m-1 0h0m0 0h0m-1 1h0m-1 0h0m-1 1h0m0-5h0m-1 4h0m-1 0h0m0 1h0m0-4h0m-2 3h0m-1 0h0m0-3h0m-1 3h0m0-2h0m-1-1h0m0 4h0m-1-4h0m0-1h0m0 4h0m-1-2h0m-1 1h0m-1 0h0m0-1h0m0 1h0m0-1h0m-1 0h0m-1 3h0m0-2h0m0 1h0m-1-3h0m0 0h0m0 0h0m-2 4h0m0-1h0m0-2h0m0 3h0m-1-5h0m0 3h0m-1-1h0m0 1h0m-2-3h0m0 0h0m-11 2h0m-1-2h0m17 7h0m0-1h0m0 2h0m1-1h0m1-1h0m2 2h0m0 2h0m2-2h0m0-1h0m0-1h0m1 4h0m0 1h0m0-4h0m1-1h0m0 1h0m1-1h0m0 3h0m1-1h0m0-1h0m1-1h0m1 0h0m0 4h0m1-4h0m28 3h0m0-2h0m0-1h0m1 2h0m2 0h0m0 3h0m1-1h0m0 1h0m0-4h0m1 3h0m0-1h0m1-3h0m0 4h0m2-3h0m0 3h0m1-2h0m0 1h0m1 0h0m0 2h0m0-5h0m0 1h0m1 0h0m0 4h0m3-5h0m0 1h0m1 0h0m2 1h0m1 3h0m0-4h0m0 4h0m1-3h0m1 1h0m1-2h0m0 2h0m0-1h0m0 0h0m1 2h0m2-4h0m1 2h0m1 2h0m2-4h0m0 0h0m0 2h0m2 0h0m0 3h0m1 0h0m1-4h0m0-1h0m1 1h0m1 2h0m0-1h0m2 2h0m1 1h0m1-2h0m1 1h0m0-1h0m0-1h0m1 2h0m1 1h0m0-3h0m1 0h0m0 1h0m0 1h0m0-3h0m1-1h0m0 5h0m0-3h0m0-2h0m1 3h0m0-2h0m0 1h0m0 1h0m0 1h0m0-3h0m1 2h0m0-3h0m0 2h0m0 3h0m1 0h0m0-2h0m1 1h0m1 0h0m0-3h0m1 2h0m0-3h0m0 1h0m1 3h0m1 1h0m0-2h0m1-3h0m0 1h0m0-1h0m1 3h0m0-1h0m0-2h0m1 2h0m1-2h0m0 1h0m0 0h0m1 2h0m0-1h0m0 3h0m0-2h0m1-2h0m0-1h0m1 4h0m0-2h0m1-1h0m0 4h0m0-3h0m1 2h0m1 1h0m1-1h0m1-2h0m0 3h0m1-4h0m1 0h0m1 4h0m0-5h0m1 1h0m1 0h0m0 0h0m1 0h0m1-1h0m-5 6h0m0 2h0m-2-2h0m0 5h0m0-1h0m0-3h0m-1 4h0m-1-1h0m0-1h0m0 0h0m0-2h0m-1 0h0m0 0h0m-1 4h0m0-4h0m0 1h0m-1 0h0m0-1h0m0 4h0m0-2h0m-1 1h0m0-2h0m-1-1h0m0 3h0m0 0h0m0-3h0m0-1h0m0 4h0m-1-3h0m0 2h0m0-1h0m-1-1h0m-1 3h0m0-2h0m-1-1h0m0 2h0m-1 2h0m0 0h0m-1-3h0m0-1h0m-1 0h0m-1 0h0m0 3h0m-1-4h0m-1 3h0m0 2h0m0-4h0m-2 4h0m0 0h0m-1-1h0m0-2h0m-1 2h0m0-1h0m-1 1h0m-1 0h0m0 0h0m0-3h0m-1 1h0m0-2h0m-1 4h0m0 0h0m0-4h0m0 1h0m-1 2h0m0 1h0m-1 1h0m0-3h0m0 0h0m-1-1h0m0 4h0m-1-3h0m0 2h0m-1-2h0m-2-2h0m-1 1h0m0 4h0m0-4h0m-1-1h0m-1 0h0m0 1h0m-2 2h0m0 1h0m0-1h0m0 1h0m0-3h0m-1 4h0m0 0h0m0-5h0m-1 5h0m0-3h0m0-2h0m-1 4h0m0-4h0m-1 4h0m0 0h0m0-4h0m0 3h0m0 2h0m0-3h0m-1 1h0m0 0h0m-1 2h0m0-1h0m0-2h0m-1-2h0m0 2h0m0-2h0m0 0h0m0 2h0m0-1h0m-2 4h0m0-1h0m0-3h0m-1 2h0m0-1h0m-1 0h0m0 2h0m0-2h0m0 3h0m-2-5h0m0 5h0m0-4h0m-1 3h0m-1-4h0m-2 4h0m0-1h0m0 0h0m-1 1h0m0-4h0m-1 4h0m0 1h0m-1-2h0m0 2h0m-1-3h0m0 1h0m-1 1h0m-1 1h0m0-3h0m0-2h0m-2 5h0m0-4h0m0 2h0m-2 2h0m0 0h0m0-1h0m-1 1h0m0 0h0m-38-2h0m38 7h0m0 0h0m0-4h0m0 5h0m0 0h0m1-4h0m1-1h0m0 1h0m0 0h0m0 0h0m1 4h0m0-5h0m0 0h0m0 4h0m0 1h0m0-5h0m1 0h0m0 0h0m0 0h0m1 2h0m1 2h0m0-1h0m1 1h0m0-4h0m1 5h0m0 0h0m1-4h0m0 0h0m1 2h0m0-2h0m1 2h0m0-1h0m1 3h0m0-3h0m1 2h0m0-2h0m1-1h0m0 1h0m0-1h0m2 1h0m1-1h0m0 1h0m0-2h0m1 4h0m0-4h0m1 0h0m0 5h0m0-2h0m0-1h0m1-1h0m1 0h0m1 1h0m1 0h0m1 2h0m0-3h0m0 4h0m0-4h0m1 4h0m0 0h0m0-2h0m1 1h0m0-2h0m1 0h0m0 1h0m0 1h0m0-4h0m1 3h0m0-1h0m0 0h0m3 0h0m0-2h0m1 0h0m1 0h0m0 1h0m0 2h0m0-2h0m0 2h0m1 0h0m1-3h0m0 4h0m1-3h0m0 0h0m0 4h0m1-1h0m0 1h0m0-5h0m0 0h0m1 2h0m0-1h0m0 4h0m1-5h0m0 4h0m1-4h0m0 3h0m0 1h0m0-3h0m0 3h0m1 1h0m1 0h0m0-3h0m0-1h0m1-1h0m3 1h0m0 0h0m1 0h0m1 2h0m1-2h0m0 1h0m1 3h0m2-2h0m1 2h0m0 0h0m0-3h0m0 3h0m1 0h0m0-4h0m1-1h0m0 3h0m0 2h0m2-2h0m0 2h0m1-4h0m0 2h0m0 2h0m0-2h0m0 0h0m1-1h0m0-2h0m0 1h0m0 0h0m1 3h0m1-3h0m3-1h0m-9 6h0m-2 0h0m-1 0h0m-4 0h0m0 0h0m-1 2h0m0 0h0m0-2h0m-1 1h0m-2 1h0m-1-2h0m-2 2h0m0-1h0m-1 2h0m0 0h0m0-2h0m-2-1h0m0 1h0m-2-1h0m-1 1h0m0 2h0m0-1h0m0-2h0m-1 1h0m-1 1h0m-1 2h0m0-2h0m0-2h0m0 4h0m-1-3h0m0 3h0m0-4h0m0 1h0m-1 3h0m0-2h0m-1-1h0m0 4h0m0-3h0m-1-2h0m-1 1h0m0 2h0m0 0h0m-1-1h0m0 0h0m0 2h0m-1-4h0m0 3h0m0-3h0m-1 3h0m0-2h0m-1 0h0m0 4h0m-1 0h0m0-1h0m-1 1h0m0-2h0m0 0h0m-1-2h0m0 3h0m-1-1h0m0-2h0m-1 0h0m0-1h0m0 4h0m0-3h0m0 0h0m0 4h0m-1-5h0m0 2h0m0 2h0m0-2h0m-1-2h0m0 3h0m-2-3h0m0 0h0m-1 5h0m0-1h0m0 1h0m0-4h0m-1 2h0m-1-1h0m0-2h0m0 0h0m-1 4h0m0 0h0m-1 0h0m0-1h0m-1 1h0m-1 0h0m0-3h0m0 2h0m-2 2h0m0-3h0m0-2h0m-1 3h0m-1 1h0m0-1h0m0-1h0m-1 3h0m-1-4h0m0 1h0m0-1h0m-1 1h0m2 4h0m3 2h0m0-1h0m1 2h0m1-2h0m1 4h0m1 0h0m0-5h0m0 5h0m0-5h0m1 2h0m0-1h0m2-1h0m0 1h0m0 0h0m1 4h0m0-4h0m1 1h0m1 1h0m2-3h0m0 4h0m1-3h0m1 2h0m1 2h0m0-3h0m1 3h0m0-4h0m1 1h0m1-2h0m0 1h0m0 1h0m1-2h0m0 1h0m1 2h0m1 0h0m0-1h0m0 1h0m0 2h0m1-5h0m0 2h0m2 3h0m0-4h0m1 1h0m0-2h0m1 0h0m0 1h0m0 1h0m1-2h0m0 1h0m1 2h0m1-1h0m0 1h0m5-3h0m-8 7h0m-1-1h0m-3 1h0m0 0h0m-1-1h0m-3 5h0m-2 0h0m-1 0h0m0-5h0m-1 4h0m-1-1h0m0 0h0m-1-1h0m0 1h0m0-1h0m-1 1h0m0-3h0m0 1h0m0 1h0m0 1h0m-3-3h0m0 1h0m0-1h0m-1 0h0m0 2h0"/>
<path stroke="#649ac7" d="m90 75h0m9-2h0m4 6h0m11 8h0m89 65h0m-6 7h0m11 3h0m-25 8h0m-85 29h0"/>
<path stroke="#86bcd9" d="m98 75h0m-13 7h0m-5 32h0m82 16h0m32 24h0m8 4h0m8-2h0m-19 8h0"/>
<path stroke="#abd9e9" d="m113 69h0m-2-2h0m-3 3h0m-10 13h0m5 3h0m4 1h0m4-2h0m-15 10h0m-70 47h0m164 11h0m8 9h0m-14 0h0m6 7h0m-139 46h0m61 20h0"/>
<path stroke="#ceeaf3" d="m108 65h0m2 2h0m-14 4h0m-7 4h0m7 1h0m1 0h0m5-3h0m4 1h0m12-2h0m-14 11h0m-1-5h0m-12 0h0m-13 5h0m25 2h0m3 1h0m-33 25h0m85 3h0m-41 14h0m-43 7h0m81-3h0m12 8h0m-115 4h0m82 0h0m65 11h0m-8-1h0m-170 3h0m168 4h0m2-3h0m0 3h0m5 0h0m13 2h0m-5 1h0m-12-2h0m-1 8h0m-145 20h0m67 2h0m31 8h0m-94 3h0m111 2h0m-104 14h0m62-2h0m-10 33h0m-3 0h0"/>
<path stroke="#eaf7e5" d="m102 64h0m1 7h0m-1-1h0m1 7h0m6-5h0m1 1h0m3 9h0m-24 4h0m15 0h0m2-2h0m7 4h0m49 3h0m-60 0h0m-1 0h0m-46 9h0m0 12h0m12 12h0m92 5h0m-24 26h0m57 6h0m7 0h0m6-2h0m1-1h0m-1 5h0m-16 7h0m0-2h0m4 2h0m-138 24h0m66 3h0m-51 2h0m-38 0h0m71 11h0m-51 6h0m1 1h0m72-1h0"/>
<path stroke="#ffffbf" d="m111 68h0m-2 3h0m-5-1h0m-5-3h0m-6 10h0m3-3h0m0-2h0m8 4h0m2-4h0m3 3h0m2-3h0m4 5h0m5-3h0m-10 9h0m-6 0h0m0 0h0m-3-1h0m-14-3h0m-1 6h0m16-1h0m4 2h0m-8 12h0m-59 31h0m28 12h0m17 8h0m122 4h0m-9 0h0m-6 1h0m-2 1h0m0 5h0m9-3h0m2 4h0m6-3h0m5-1h0m1-1h0m-14 7h0m-6 0h0m-2 4h0m0-3h0m-1-1h0m-3 4h0m0-2h0m0-2h0m-60 6h0m75 1h0m-152 20h0m115 8h0m-126 3h0"/>
<path stroke="#feeaa0" d="m116 70h0m-4 1h0m-5-3h0m-19 6h0m8-2h0m4 3h0m1-1h0m4 1h0m5-3h0m4 9h0m-1-3h0m0 5h0m-2-3h0m-2 0h0m-5 2h0m-1-2h0m-15 2h0m13 4h0m1 1h0m-5 7h0m-23 5h0m28-1h0m53 33h0m53 24h0m-4-1h0m0-3h0m-4 2h0m-187 8h0m178-3h0m5 1h0m11 1h0m0 3h0m-12 2h0m-4-1h0m-6 3h0m-1 4h0m-136 21h0"/>
<path stroke="#fecf80" d="m115 71h0m-5-3h0m-1 1h0m-3 1h0m-9 3h0m1 3h0m7-1h0m5 1h0m7 0h0m2-4h0m-19 7h0m-3 2h0m-11-2h0m-5 7h0m28-2h0m-51 14h0m-7 37h0m150 26h0m4-1h0m8-2h0m0 0h0m-11 9h0m-1 0h0m-129 43h0"/>
<path stroke="#fdae61" d="m99 71h0m14 4h0m1-2h0m-26 6h0m-5 9h0m-21 37h0m20 4h0m116 20h0m3 3h0m-2-2h0m-4 1h0m-7 4h0m-2 3h0m17 0h0m7 0h0m-15 11h0"/>
<path stroke="#f7834d" d="m106 64h0m0-1h0m11 7h0m-20-1h0m-3 7h0m6 0h0m-11 2h0m-1 5h0m-4 1h0m106 69h0m6 11h0"/>
<path stroke="#ea593a" d="m208 153h0m-12 2h0m-8 0h0"/>
</g></g><use href="#t106" stroke-width="3.5"/></g>
<path d="M67.6 1792.3V1999.6H291.4" fill="none" stroke="#000" stroke-width="1.9"/>
<text x="67.6" y="2012.4" font-size="9.4" text-anchor="middle" fill="#333">−50</text>
<text x="119.6" y="2012.4" font-size="9.4" text-anchor="middle" fill="#333">−25</text>
<text x="171.6" y="2012.4" font-size="9.4" text-anchor="middle" fill="#333">0</text>
<text x="223.6" y="2012.4" font-size="9.4" text-anchor="middle" fill="#333">25</text>
<text x="275.6" y="2012.4" font-size="9.4" text-anchor="middle" fill="#333">50</text>
<text x="63" y="1796.3" font-size="9.4" text-anchor="end" fill="#333">50</text>
<text x="63" y="1848.5" font-size="9.4" text-anchor="end" fill="#333">25</text>
<text x="63" y="1900.7" font-size="9.4" text-anchor="end" fill="#333">0</text>
<text x="63" y="1952.9" font-size="9.4" text-anchor="end" fill="#333">−25</text>
<path d="M67.6 1999.6v3.2M119.6 1999.6v3.2M171.6 1999.6v3.2M223.6 1999.6v3.2M275.6 1999.6v3.2M67.6 1792.8h-3.2M67.6 1845h-3.2M67.6 1897.2h-3.2M67.6 1949.4h-3.2" stroke="#000" stroke-width="1.5" fill="none"/>
<text x="178.8" y="2031.8" font-size="14" text-anchor="middle">tSNE_1</text>
<text x="53" y="1896.7" font-size="14" text-anchor="middle" transform="rotate(-90 53 1896.7)">tSNE_2</text>
<text x="172.4" y="1753.3" font-size="33.5" text-anchor="middle" font-style="italic" stroke-width="0.40">Gpr55</text>
<rect x="302" y="1872.8" width="11.6" height="57.9" fill="url(#rb)"/>
<text x="302.4" y="1868.4" font-size="7.3" fill="#222">Scale.data</text>
<text x="316.9" y="1875.5" font-size="6.1" fill="#333">10.0</text>
<text x="316.9" y="1889.3" font-size="6.1" fill="#333">7.5</text>
<text x="316.9" y="1903.1" font-size="6.1" fill="#333">5.0</text>
<text x="316.9" y="1916.9" font-size="6.1" fill="#333">2.5</text>
<text x="316.9" y="1931.2" font-size="6.1" fill="#333">0.0</text>
<path d="M302 1873.3h2.3M313.6 1873.3h-2.3M302 1887.1h2.3M313.6 1887.1h-2.3M302 1900.9h2.3M313.6 1900.9h-2.3M302 1914.7h2.3M313.6 1914.7h-2.3M302 1929h2.3M313.6 1929h-2.3" stroke="#fff" stroke-width="0.5" fill="none"/>
<g transform="translate(389.2 1740.9)" fill="none" stroke-linecap="round"><g stroke-width="4.2"><g id="t107">
<path stroke="#4575b4" d="m101 65h0m1-1h0m4 0h0m0-1h0m2 2h0m12 5h0m-2-1h0m0-2h0m-1 3h0m-1-3h0m0 2h0m0 0h0m0 1h0m-1 0h0m0-4h0m-2 3h0m-1-1h0m0 3h0m-1-3h0m0-1h0m-1 1h0m0-1h0m-1 2h0m-1 2h0m0-1h0m-1-2h0m-1-2h0m0 4h0m-3 1h0m0-1h0m-1 0h0m-2-4h0m-1 5h0m0-4h0m-2 2h0m-2 2h0m0-1h0m-15 7h0m2 0h0m1 0h0m0-1h0m4-1h0m0-1h0m0 0h0m2 1h0m0-2h0m1 0h0m0 2h0m2-2h0m0 2h0m1 2h0m1-1h0m1-4h0m1 0h0m0 2h0m0 2h0m1-3h0m0 3h0m1 0h0m0-3h0m0 2h0m1 0h0m0 0h0m1-1h0m1 0h0m0-1h0m0 0h0m2 4h0m1-1h0m0 0h0m0-2h0m1 3h0m0-2h0m0 0h0m1-1h0m0-2h0m2 5h0m1-2h0m0-2h0m0-1h0m1 0h0m0 4h0m1 0h0m0-4h0m1 2h0m1 1h0m1 2h0m0-4h0m1 1h0m0 1h0m2 1h0m1-4h0m1 0h0m0 2h0m1 0h0m3 9h0m-7-4h0m-2 2h0m0-1h0m-1-2h0m0 0h0m0 4h0m0 1h0m-1 0h0m-1-3h0m0 0h0m-1 3h0m0-1h0m-1-2h0m-1 3h0m-4 0h0m0 0h0m0 0h0m0 0h0m0-1h0m0 0h0m0 0h0m-1-2h0m0-2h0m0 1h0m0 2h0m-1 2h0m-1-1h0m-1 0h0m0-3h0m0 0h0m0 1h0m-1 1h0m-1 2h0m0-4h0m-1 1h0m0-2h0m0 2h0m0 1h0m0 1h0m-1-3h0m-3 0h0m-2-1h0m-2 0h0m-1 1h0m0 2h0m0 1h0m-1-3h0m0-1h0m0 5h0m-1 0h0m-1-2h0m0-3h0m0 4h0m0-3h0m-1 1h0m-1-1h0m0 2h0m0 2h0m0-3h0m-1 0h0m-1 0h0m-1 1h0m0-1h0m-2-2h0m-1 5h0m-1-2h0m-1 0h0m0 0h0m0 1h0m0-1h0m-2 0h0m0 1h0m-1 1h0m-1 0h0m0-1h0m-1 1h0m0 0h0m-2-1h0m-1 0h0m-9 6h0m4-4h0m1 1h0m0 0h0m0-1h0m1 0h0m0 5h0m1-1h0m1-3h0m2 1h0m0 3h0m0-2h0m0 0h0m2 1h0m0-4h0m0 5h0m1-3h0m0-2h0m0 1h0m0 3h0m1 1h0m0-2h0m0 2h0m1-3h0m1 0h0m1 3h0m0-3h0m0-2h0m0 0h0m0 3h0m2-1h0m1 0h0m1-2h0m1 0h0m0 2h0m0 0h0m1 2h0m0-4h0m0 2h0m1-2h0m0 1h0m0 0h0m1 3h0m1-4h0m2 1h0m1 0h0m0 1h0m0-2h0m1 4h0m0-3h0m1 2h0m0-1h0m8-1h0m1-1h0m1 1h0m0 4h0m0-4h0m2 2h0m0-1h0m0 0h0m0-2h0m1 3h0m0-3h0m0 1h0m0 1h0m1 0h0m0 0h0m1-1h0m1-1h0m0 2h0m0 3h0m1-3h0m0 1h0m0-3h0m0 2h0m1 3h0m1 0h0m1-5h0m1 5h0m1-4h0m1 2h0m1 1h0m0 1h0m1-2h0m31 2h0m0 0h0m1 0h0m1-1h0m1 0h0m2-2h0m2 1h0m2 2h0m13 6h0m0 0h0m-2-1h0m0 1h0m-1 0h0m-2-1h0m-1-3h0m-1 1h0m0-1h0m-1 2h0m-1 1h0m-1-4h0m-1 2h0m0 0h0m-2 3h0m0-5h0m-1 0h0m0 3h0m-1 1h0m0 1h0m0-3h0m0-2h0m-1 5h0m-1-2h0m0 2h0m0-1h0m-1 0h0m-1 1h0m-1-5h0m0 2h0m0-1h0m-1 3h0m0-3h0m-1 3h0m0-3h0m0 0h0m0 0h0m0 1h0m0-2h0m-1 0h0m-3 5h0m0-1h0m0 0h0m-1 1h0m-2 0h0m-3 0h0m0 0h0m-25-5h0m0 1h0m0-1h0m-1 2h0m-1 3h0m0-3h0m-1 1h0m-1 0h0m-2-1h0m-1 0h0m-1-1h0m-1 4h0m-2-4h0m-1-1h0m0 1h0m0 0h0m-1 3h0m0 0h0m0-1h0m-1 1h0m0 0h0m-1 1h0m0 0h0m0-2h0m0-3h0m-6 4h0m-1-2h0m-1-1h0m0 0h0m-1 3h0m-1 0h0m-1 0h0m-1-3h0m-3 4h0m0 0h0m0-4h0m-1 3h0m0-1h0m0-2h0m-1 2h0m-1 1h0m-3-1h0m-1 2h0m0-5h0m0 2h0m-1 3h0m0-1h0m-1-2h0m-1 2h0m0-2h0m-1 1h0m-1-2h0m0 2h0m-2-3h0m-1 3h0m-2-1h0m-1 1h0m-1 0h0m0 1h0m-1 0h0m-1-4h0m-1 3h0m0-2h0m0 4h0m0-3h0m-1 1h0m-1 2h0m-8 3h0m1 2h0m5 1h0m0-4h0m1 3h0m0 0h0m0-1h0m1 1h0m1-3h0m1 1h0m0 0h0m2-1h0m0 4h0m2-4h0m0 0h0m3 1h0m0 1h0m0 0h0m1-3h0m1 1h0m0 1h0m0 0h0m1 3h0m0-4h0m3 3h0m0-1h0m0 1h0m2 1h0m0-4h0m0 4h0m1-2h0m1 1h0m0-2h0m1-2h0m1 2h0m0 3h0m1-3h0m0-2h0m0 2h0m1-1h0m0-1h0m0 0h0m0 4h0m1-4h0m0 0h0m0 0h0m1 1h0m0 3h0m0-3h0m1 1h0m0 2h0m1-1h0m1-3h0m0 2h0m0-1h0m1-1h0m0 5h0m1 0h0m0-5h0m0 0h0m1 2h0m1 1h0m0-3h0m3 5h0m0-4h0m0 2h0m2-3h0m1 0h0m2 2h0m2-1h0m0 1h0m1 3h0m0-3h0m0-1h0m0-1h0m0 0h0m3 3h0m0-1h0m1 1h0m1-1h0m0 3h0m1-5h0m0 3h0m1 0h0m1-3h0m21 5h0m1-3h0m1 2h0m0 0h0m1-2h0m1 3h0m0-5h0m0 5h0m0-4h0m2 1h0m0-2h0m2 0h0m1 3h0m0 2h0m0-1h0m1-1h0m0-1h0m2 0h0m0-2h0m0 2h0m0 2h0m0-1h0m1-1h0m0 2h0m1-2h0m0 1h0m0-1h0m0 3h0m1-3h0m0 1h0m1-2h0m1-1h0m0 4h0m0-4h0m0 0h0m2 4h0m1 0h0m0-2h0m0 2h0m1 1h0m0-2h0m1-3h0m4 1h0m0-1h0m0 3h0m1-3h0m0 4h0m2-3h0m1-1h0m1 5h0m0 0h0m0-5h0m1 5h0m1-1h0m1-4h0m0 3h0m1-3h0m1 3h0m0 2h0m0-4h0m2 1h0m0 1h0m3 1h0m2 3h0m-1-1h0m0 5h0m0-4h0m-1 1h0m0 3h0m0-3h0m0 1h0m0-3h0m-1 3h0m0-3h0m0 1h0m0 4h0m0-5h0m-1 2h0m-1-2h0m0 0h0m-1 1h0m0 3h0m0 1h0m0-1h0m-2-3h0m0 3h0m-1 0h0m0-1h0m-3-3h0m-1 2h0m-1-1h0m0 0h0m-1 3h0m0-1h0m-1-3h0m0 0h0m-1 2h0m-1 0h0m-1 1h0m0 1h0m0-4h0m-2 3h0m0 2h0m0-5h0m-1 5h0m0 0h0m-1-5h0m-1 3h0m-1 2h0m0-5h0m0 3h0m0 2h0m-1-1h0m0-3h0m0 2h0m-2-1h0m0 3h0m0-2h0m0 2h0m0 0h0m-1-4h0m0 3h0m-1 0h0m-1 1h0m-1-5h0m0 0h0m-2 5h0m0-2h0m-1-1h0m-1-1h0m0 3h0m-1-4h0m0 2h0m0 1h0m-1-1h0m-1 0h0m0 0h0m-2 1h0m-1 2h0m0 0h0m0-1h0m-1 1h0m0-1h0m0 0h0m0-3h0m-2 2h0m0-3h0m0 5h0m-1 0h0m-1-4h0m0-1h0m0 0h0m0 0h0m-1 4h0m-4-1h0m-1 2h0m-1 0h0m-1 0h0m0 0h0m-2 0h0m-2 0h0m-8-2h0m-1-2h0m0 2h0m-2-1h0m-2-1h0m-2 2h0m-6 0h0m-1-3h0m0 1h0m-1 1h0m-1-1h0m0 2h0m0-2h0m-2 0h0m-1 3h0m-1-4h0m-3 1h0m-1 0h0m0 0h0m0-1h0m-1 4h0m0-3h0m0 4h0m0-3h0m-1 0h0m-2 0h0m-3-2h0m-1 1h0m-1 0h0m0 2h0m0 1h0m-2 1h0m-1-5h0m-2 0h0m0 0h0m-3 0h0m0 3h0m-3-3h0m0 0h0m-2 2h0m0 0h0m-1-2h0m-1 4h0m-1-3h0m0 1h0m-1 1h0m-2 1h0m-1-4h0m-1 5h0m-1-5h0m0 5h0m0-1h0m-1-4h0m0 1h0m0 4h0m-1 0h0m-1-1h0m-1 1h0m0-1h0m-2 0h0m-5 7h0m4-5h0m0 2h0m1 3h0m0 0h0m1-3h0m2 0h0m0 3h0m7-1h0m0 0h0m1-1h0m0 0h0m0-1h0m0 0h0m1 3h0m0-2h0m1-2h0m0 3h0m0-4h0m0 0h0m1 2h0m0 1h0m2-1h0m1 2h0m0 0h0m0-4h0m0 1h0m0 3h0m1-1h0m0 0h0m0-2h0m1-1h0m2 4h0m1 0h0m0-1h0m1 2h0m0-5h0m1 1h0m0 2h0m1-2h0m1-1h0m1 4h0m1 1h0m2-2h0m1-2h0m1 4h0m1-1h0m0 1h0m2-2h0m0 2h0m1 0h0m0-2h0m1 2h0m1-1h0m1-2h0m0-2h0m0 0h0m1 0h0m0 3h0m0 0h0m1-2h0m0 2h0m1 1h0m0-1h0m0 2h0m2-4h0m2 3h0m1-1h0m0-2h0m19-1h0m0 0h0m4 2h0m0-2h0m0 0h0m1 1h0m0 0h0m2-1h0m1 2h0m0-1h0m3 3h0m0-1h0m0-1h0m0-1h0m2 3h0m1 0h0m1 0h0m0 0h0m0-4h0m0 1h0m1 2h0m0-1h0m0 0h0m2 3h0m0-1h0m1 1h0m0-3h0m0 3h0m3-4h0m0 3h0m1-2h0m0-2h0m0 0h0m0 4h0m1 0h0m0 1h0m0-2h0m0 1h0m0-2h0m0 1h0m1 2h0m0-4h0m0 1h0m1-1h0m0 4h0m0-3h0m0 1h0m1-1h0m0 0h0m0 2h0m0-1h0m0-1h0m2 0h0m0-2h0m1 1h0m1 4h0m0-3h0m0 1h0m0 2h0m1-2h0m0-3h0m1 5h0m1-3h0m0-1h0m0-1h0m1 1h0m0 2h0m1-1h0m0 3h0m0 0h0m1-3h0m0 2h0m0-4h0m0 0h0m0 0h0m1 0h0m0 1h0m2-1h0m0 0h0m1 4h0m1 0h0m0-2h0m1 2h0m0-3h0m1 1h0m0 2h0m1 1h0m2-1h0m2 1h0m1-1h0m1-2h0m0 1h0m0 1h0m0-2h0m0 1h0m0 2h0m1-5h0m1 5h0m0 0h0m1-4h0m1 4h0m0-2h0m0 2h0m0 0h0m3 0h0m0-2h0m1-2h0m0 0h0m1 1h0m0-1h0m-1 5h0m-1 2h0m0-2h0m-1 1h0m0 1h0m-1-1h0m-1 3h0m0-3h0m-1 0h0m0 2h0m0 2h0m-1-4h0m-1 1h0m-1 2h0m0-3h0m-1-1h0m-1 0h0m-2 0h0m-1 4h0m-2-4h0m0 4h0m-1-3h0m0 1h0m-1 3h0m-1-1h0m0 0h0m-1-3h0m0 0h0m0 0h0m0 1h0m-1 2h0m0-4h0m-2 2h0m-1-1h0m0-1h0m-1 3h0m0-1h0m-1 0h0m0 3h0m0-4h0m-1 4h0m0-2h0m-1-2h0m0-1h0m0 2h0m-1 1h0m0 1h0m-3 1h0m0 0h0m-1 0h0m-3-3h0m0 0h0m-1-2h0m0 0h0m-2 5h0m-2 0h0m-3-2h0m-2-3h0m0 1h0m0 2h0m0-3h0m-1 1h0m0 2h0m0-2h0m0 1h0m0 3h0m-1-2h0m0 2h0m-1-5h0m0 2h0m0-2h0m-26 2h0m-5-1h0m0 4h0m-2-1h0m0-2h0m0 0h0m-1 2h0m0-4h0m-1 1h0m-1 3h0m0 0h0m-2-2h0m0 0h0m-1 1h0m-1-3h0m-1 2h0m0-2h0m-2 3h0m0 1h0m-1-1h0m-1-2h0m-1 0h0m0 2h0m-1-2h0m0 1h0m-1 2h0m0-1h0m-1 2h0m-2-5h0m-1 4h0m0-3h0m-1 1h0m0-1h0m-1-1h0m0 3h0m0 2h0m0-1h0m0-2h0m-1-2h0m0 0h0m-1 4h0m0 0h0m0 0h0m0-4h0m0 5h0m-2-1h0m0 0h0m0 0h0m-1 1h0m-1-4h0m-1-1h0m0 2h0m-3-1h0m-1 0h0m0-1h0m-1 2h0m-3 1h0m-1 0h0m0-3h0m-1 4h0m-1 0h0m0-4h0m-2 5h0m0-3h0m0-1h0m-1 1h0m-1 3h0m-1-4h0m-3 3h0m-1 0h0m0 1h0m-1-4h0m-1 1h0m-9 9h0m1 0h0m1 0h0m0-1h0m2 1h0m1-2h0m0 2h0m1 0h0m1-3h0m0 3h0m2-4h0m1 4h0m0-2h0m1-1h0m2 0h0m1 0h0m0 2h0m0-2h0m1 0h0m0-2h0m0 1h0m1-1h0m0 1h0m1 0h0m0 1h0m0 3h0m1-1h0m1 1h0m1-2h0m1-2h0m1 0h0m0 3h0m0 1h0m0-1h0m0-4h0m12 5h0m3-1h0m1-4h0m0 4h0m0 1h0m0-4h0m1 1h0m0 3h0m0-4h0m0 4h0m0-2h0m0-3h0m2 5h0m1-2h0m1 2h0m0 0h0m0-1h0m4-2h0m0 3h0m1-3h0m0 1h0m0 0h0m1-2h0m2 0h0m0 2h0m0-2h0m0-1h0m1 2h0m0-2h0m1 4h0m0-1h0m0-2h0m2 2h0m0-2h0m2 3h0m0-1h0m1-2h0m0 3h0m1 0h0m0 0h0m0-2h0m1 2h0m0-4h0m0 3h0m0 2h0m1-4h0m8 4h0m19-1h0m1 0h0m0 0h0m1-1h0m0 0h0m1 2h0m0 0h0m1-4h0m0 4h0m0-3h0m4 1h0m3-3h0m0 2h0m1 3h0m1 0h0m2-3h0m2-2h0m0 3h0m1 0h0m0-3h0m2 2h0m0-1h0m1 1h0m0 1h0m1-1h0m0 0h0m1-1h0m0 0h0m1 1h0m0 0h0m1-1h0m0 0h0m1 4h0m0 0h0m1-4h0m0 1h0m0-1h0m1 3h0m0 0h0m7 1h0m0-5h0m0 1h0m0 3h0m1-2h0m0 2h0m0 0h0m1 0h0m0-4h0m1 1h0m0-1h0m0 0h0m0 1h0m1 4h0m0-3h0m0 2h0m0-1h0m2-2h0m1 1h0m1 1h0m1-1h0m2-1h0m2 3h0m1 0h0m1-1h0m0 0h0m2-1h0m0 3h0m0-3h0m1 1h0m4 5h0m-1 1h0m0-3h0m-1 5h0m0-5h0m-1 5h0m0-2h0m-1-2h0m-1 1h0m-2-1h0m0-1h0m-1 2h0m-1-2h0m0 2h0m-2 2h0m0-1h0m-1 0h0m-1 1h0m-2-1h0m-1 0h0m0 1h0m-2 1h0m0-4h0m0 4h0m-2-4h0m0 0h0m-1 0h0m-1 0h0m-1 1h0m0 2h0m-2 1h0m-2-5h0m-2 4h0m0-4h0m0 0h0m0 4h0m0-1h0m-1-3h0m-7 2h0m-1 0h0m0 3h0m-1-5h0m0 5h0m-1-4h0m-1 0h0m-2 3h0m-1 1h0m0-5h0m0 0h0m-1 5h0m-2-4h0m-1 3h0m-1-2h0m0 1h0m-1 1h0m0-4h0m-1 2h0m0 0h0m0-1h0m0 4h0m-1 0h0m-3-1h0m0 1h0m-1-2h0m0-1h0m0 3h0m-1-4h0m-1 0h0m0 3h0m0 1h0m-25-5h0m-1 4h0m-2 0h0m0 0h0m-1 1h0m0-1h0m0-1h0m-1 1h0m0 0h0m-1 0h0m-2 1h0m0-3h0m0 1h0m0 1h0m-1-1h0m-2 1h0m0-3h0m-1-1h0m0 2h0m-1 3h0m0-4h0m-1 2h0m-1-2h0m0-1h0m-1 0h0m-1 1h0m0 1h0m-2 2h0m0-1h0m0 0h0m-1-1h0m0-1h0m0 2h0m0 2h0m0-1h0m-2-2h0m-1 3h0m0-5h0m0 5h0m0-4h0m-1 0h0m0 0h0m-1 0h0m-3 4h0m-1-3h0m-2-2h0m0 2h0m-4 1h0m-2 2h0m-1 0h0m-1-4h0m0 1h0m0-1h0m-1 3h0m0 1h0m-1-5h0m0 1h0m0 3h0m-1-3h0m-1 0h0m0 3h0m0 0h0m0-3h0m-1 3h0m-1-4h0m0 2h0m0-1h0m0 1h0m0 0h0m-1-2h0m0 1h0m-1 0h0m0 4h0m0-3h0m-1 0h0m0 3h0m-1 0h0m0-2h0m-1 0h0m-1 0h0m-1-2h0m0-1h0m0 5h0m-1-4h0m0 1h0m-1 2h0m-1-3h0m0-1h0m0 5h0m-1-4h0m0 3h0m0-1h0m-1 0h0m-2-2h0m0 2h0m-1-1h0m-1 0h0m-2-2h0m0 2h0m0 1h0m-2 1h0m-2 2h0m0 3h0m1-1h0m0 2h0m1-1h0m0-2h0m1 3h0m2-2h0m0 1h0m0 0h0m2-2h0m2 2h0m1-2h0m0 3h0m1 0h0m1-4h0m0 1h0m2 2h0m0 0h0m0-2h0m1 0h0m0 1h0m1-1h0m0 0h0m1 2h0m0 2h0m0-2h0m1 0h0m2-1h0m1-1h0m0 3h0m1-3h0m0 3h0m2-1h0m1 2h0m0-5h0m1 1h0m0 3h0m1 0h0m0 0h0m1 0h0m0 1h0m0-3h0m1 3h0m0-3h0m0-1h0m0 3h0m2-1h0m0-1h0m12 0h0m2 3h0m1-1h0m1 1h0m2-5h0m0 3h0m0 0h0m0 2h0m0-3h0m2 3h0m0-2h0m0-2h0m1 0h0m1 2h0m0 2h0m1 0h0m2-3h0m0 2h0m1-2h0m0 1h0m0 0h0m0 1h0m2-3h0m0 1h0m1-2h0m0 1h0m0 3h0m0-1h0m1-3h0m1 4h0m0-3h0m2 2h0m23 1h0m2-1h0m3 1h0m0-2h0m0 2h0m2-4h0m0 3h0m1 1h0m1-3h0m0-1h0m2 0h0m2 1h0m2 2h0m0-1h0m0 3h0m0 0h0m2 0h0m6-5h0m1 0h0m0 0h0m0 0h0m1 3h0m1 2h0m0-4h0m0 1h0m0 1h0m9-3h0m0 4h0m0 0h0m2 1h0m1-1h0m1 1h0m1-1h0m0-2h0m1 1h0m0-3h0m1 3h0m0-2h0m1 3h0m1-1h0m0 1h0m0 1h0m0 0h0m0-3h0m0 1h0m1 2h0m1-1h0m1-4h0m1 4h0m1-1h0m0-2h0m0-1h0m1 2h0m0 0h0m0-1h0m1 1h0m0 1h0m1 1h0m1 0h0m1-2h0m0-1h0m1 2h0m0 0h0m1-1h0m0 2h0m0-4h0m3 0h0m1 2h0m1 0h0m0 2h0m2-1h0m0 0h0m2 0h0m-1 4h0m-1 2h0m0 1h0m-1-3h0m0 1h0m-1 0h0m0 1h0m0 0h0m-1-1h0m0 0h0m-1 3h0m-1-4h0m0 1h0m-1 0h0m0-1h0m0-1h0m-2 2h0m-2-2h0m-1 5h0m-1-5h0m0 5h0m0-4h0m0 0h0m-1-1h0m-1 1h0m0 0h0m0-1h0m-1 2h0m0-1h0m0 4h0m0-3h0m-1 2h0m-1-2h0m0-2h0m0 0h0m0 2h0m-1 2h0m0-3h0m-1 0h0m-2-1h0m0 5h0m0 0h0m-1-1h0m0 0h0m-1-3h0m0-1h0m-1 1h0m0 2h0m0-3h0m0 4h0m-1 0h0m-1 0h0m0-3h0m-1 1h0m0-2h0m0 4h0m0-2h0m0 2h0m-1-1h0m0 2h0m-1-4h0m-1 1h0m0 1h0m-2 2h0m-1-1h0m-3-2h0m0 2h0m-1-2h0m0 3h0m0-3h0m-1-1h0m0 3h0m0-3h0m0 3h0m-3 1h0m-1 0h0m-4-5h0m0 3h0m0-1h0m-1-1h0m0 4h0m-2-1h0m-1-4h0m-1 3h0m-2 2h0m0 0h0m-1-3h0m0 1h0m-2-1h0m-1 3h0m0-3h0m-2 1h0m-1-2h0m0 4h0m-1-5h0m0 3h0m0-3h0m-1 1h0m-2-1h0m-1 3h0m-18 2h0m-1 0h0m0-2h0m0-1h0m-2-2h0m0 0h0m-2 3h0m0 2h0m0-5h0m-1 3h0m0 2h0m0-1h0m-1-2h0m0-2h0m-1 2h0m0 3h0m-1-3h0m0 1h0m0 2h0m-2-3h0m0 2h0m0 1h0m0-4h0m-1 2h0m0-1h0m0 0h0m0-1h0m-1 2h0m-1-2h0m0 3h0m0-2h0m-2-2h0m0 3h0m-1-1h0m0-2h0m-1 3h0m0-2h0m0 1h0m0-2h0m0 5h0m-2-2h0m0-2h0m-1 4h0m-1-1h0m0 1h0m0-3h0m0 3h0m-1-2h0m0-1h0m-1-2h0m-6 5h0m-2 0h0m-1-2h0m-1-2h0m-1 3h0m-1 0h0m-1-4h0m0 1h0m-1-1h0m-1 3h0m-1-3h0m0 2h0m-1 3h0m0-3h0m0-2h0m-1 0h0m-1 0h0m-1 1h0m0 1h0m-1 2h0m-1-2h0m0 3h0m-1-3h0m0-1h0m0-1h0m-1 4h0m-1 0h0m-7-1h0m-1-1h0m-1-1h0m-1-1h0m0 2h0m-1 0h0m0 2h0m0-3h0m-1 1h0m-1-2h0m-1 3h0m-1 1h0m0-2h0m-1 2h0m-1 1h0m0 0h0m0-4h0m0 1h0m0 3h0m-1-1h0m0-2h0m-1 2h0m0-4h0m-1 0h0m0 2h0m-1 2h0m0 0h0m-1 1h0m-7 6h0m2-2h0m3 0h0m0-3h0m0 5h0m0-4h0m1-1h0m0 2h0m1-2h0m0 0h0m2 0h0m0 1h0m1 2h0m0-2h0m3 1h0m0 3h0m1-5h0m0 2h0m0-2h0m0 5h0m0-4h0m1-1h0m1 0h0m0 1h0m0-1h0m1 0h0m0 2h0m2 3h0m0-5h0m1 1h0m0 0h0m0 1h0m0 1h0m0-2h0m1 4h0m0-5h0m1 2h0m1 0h0m0 1h0m0-2h0m5 2h0m0 0h0m1 0h0m1 1h0m0-3h0m1 3h0m0-4h0m1 3h0m0 2h0m0-3h0m1 1h0m0-2h0m1 4h0m0-5h0m0 5h0m1-5h0m0 0h0m0 2h0m1-2h0m0 3h0m2-1h0m1 0h0m0 1h0m0-3h0m0 0h0m1 5h0m0-3h0m0-1h0m1-1h0m1 0h0m0 3h0m2-2h0m0 3h0m0 0h0m0-2h0m1 1h0m0 1h0m1 1h0m1-5h0m0 4h0m1 0h0m2-3h0m1 1h0m1 2h0m0-2h0m0 2h0m7-4h0m1 1h0m0 1h0m6 0h0m1 0h0m0-1h0m1 2h0m1-3h0m1 2h0m0 0h0m0 3h0m1-4h0m1 1h0m0-2h0m0 5h0m0 0h0m0-1h0m2-3h0m0 0h0m1 1h0m1-2h0m0 1h0m1 2h0m0 2h0m0-3h0m0 2h0m0-4h0m1 0h0m0 1h0m0-1h0m0 5h0m1-3h0m0 3h0m1-4h0m18-1h0m1 3h0m0-2h0m1 3h0m0-1h0m0-3h0m1 2h0m0 1h0m0 1h0m1 1h0m0-1h0m0-1h0m0 1h0m1-2h0m1-1h0m1 4h0m1 0h0m1-2h0m0 1h0m0-1h0m1-2h0m0 3h0m0 1h0m1-2h0m0-3h0m1 4h0m0 1h0m0-2h0m0 2h0m1-4h0m1 0h0m0 0h0m1 4h0m0-5h0m1 3h0m1 2h0m0-1h0m0-2h0m1 2h0m4 0h0m0-2h0m1 0h0m1-2h0m2 3h0m0-3h0m1 5h0m1 0h0m0-4h0m0 0h0m0 4h0m1-1h0m0 1h0m1 0h0m0-1h0m0-1h0m1 1h0m1-4h0m0 5h0m0-5h0m1 3h0m0 0h0m1-2h0m0 3h0m0-4h0m0 0h0m2 1h0m0 4h0m0-1h0m0-1h0m1 1h0m0 0h0m0-2h0m0 1h0m0-1h0m1 1h0m1 2h0m0-5h0m1 5h0m2-2h0m0-2h0m0 1h0m1 1h0m2-1h0m1 3h0m2-1h0m0 0h0m1 1h0m0-5h0m1 4h0m1-3h0m1-1h0m0 0h0m1 3h0m1-3h0m1 4h0m0-2h0m0-1h0m1 0h0m0 1h0m1 1h0m0 2h0m0 0h0m0-2h0m1-1h0m0 0h0m0 0h0m0 3h0m1-3h0m29 3h0m13 6h0m-1 0h0m-2 0h0m0-1h0m-1-2h0m-2 0h0m0 1h0m0 0h0m-1 0h0m0-1h0m0 2h0m-1-4h0m0 1h0m0 0h0m0 2h0m-1 1h0m-1-2h0m-1 0h0m-1-2h0m0 3h0m-1 2h0m0-2h0m-1 0h0m-1 0h0m0-1h0m-1-1h0m0 4h0m-1-1h0m-1-1h0m0-3h0m-1 4h0m-1 0h0m0 0h0m-1-2h0m0 1h0m0 2h0m-1-1h0m-1 0h0m0 1h0m-16-2h0m-6-3h0m-1 1h0m-1-1h0m-1 2h0m0 0h0m-1 0h0m-1 0h0m-8-1h0m-11 0h0m-2 2h0m-2-2h0m0 0h0m0 3h0m-2-2h0m-1 0h0m0-2h0m0 2h0m-1 0h0m0 3h0m0-2h0m-1-3h0m0 2h0m-1 2h0m0-2h0m-1 2h0m0 1h0m0-4h0m-2 2h0m0 0h0m0-1h0m-1 3h0m-1 0h0m-2-2h0m0 1h0m0 1h0m-2-5h0m-3 3h0m-2-1h0m-1 1h0m0-2h0m-1 3h0m0-3h0m0 1h0m0-1h0m-1 2h0m0-1h0m0-2h0m-1 3h0m0-1h0m-1 0h0m-1-2h0m-13 0h0m-9 1h0m0 0h0m0-1h0m0 2h0m-1 0h0m-1 0h0m0-2h0m0 5h0m-1-3h0m-2 0h0m0 1h0m0-3h0m-1 0h0m0 2h0m0-1h0m-1 3h0m0-3h0m0 2h0m-1-2h0m0 0h0m-1-1h0m0 2h0m0 2h0m-1 0h0m0 1h0m0-4h0m-1 3h0m0-1h0m-1-3h0m0 2h0m-1-2h0m0 1h0m-15 1h0m0 0h0m-1-1h0m-1 3h0m0-2h0m-2 2h0m0 0h0m0-1h0m0 1h0m-1-1h0m0 0h0m0 0h0m-1 0h0m-1-1h0m-1 0h0m-1-2h0m0 5h0m-3-3h0m0 2h0m-1-1h0m0-2h0m0 4h0m0-4h0m-1 2h0m-1 0h0m0 0h0m-1 0h0m0-3h0m-1 3h0m0-1h0m-1-1h0m-2-1h0m-1 0h0m-2 1h0m0 3h0m0-4h0m-1 2h0m-2 3h0m0 0h0m0-3h0m-1-1h0m0 1h0m0 3h0m-1-5h0m-2 4h0m-1-3h0m0 3h0m0-4h0m-1 3h0m0 1h0m0 0h0m-3-2h0m0-2h0m0 3h0m-1 1h0m-1-3h0m0 4h0m-1-2h0m-1-1h0m-1 1h0m0 1h0m-1-3h0m0 0h0m-1 4h0m0 0h0m0-3h0m-1-2h0m0 2h0m0-2h0m-1 4h0m0-2h0m0 0h0m-3 2h0m-1 1h0m0-2h0m-1 1h0m-1-1h0m0-2h0m-1 1h0m-1 1h0m0 0h0m0-2h0m1 8h0m0-2h0m1 2h0m1-2h0m0 4h0m0-2h0m0 0h0m0 1h0m1 0h0m0-2h0m0 2h0m0-4h0m0 4h0m1 0h0m0-2h0m0-1h0m0-1h0m2 5h0m2-2h0m0 2h0m1-3h0m0 1h0m1-3h0m0 1h0m0-1h0m1 1h0m0 0h0m1 0h0m0 2h0m0 0h0m1-3h0m2 1h0m0 1h0m1-1h0m1-1h0m0 1h0m1 0h0m0-1h0m1 3h0m1 1h0m0 1h0m1-1h0m0-2h0m1 3h0m1-3h0m1 1h0m1-2h0m0 2h0m0-2h0m0 1h0m1-2h0m0 2h0m0-2h0m1 4h0m1 0h0m0 0h0m0-2h0m1 3h0m0-5h0m0 5h0m0-4h0m8-1h0m11 3h0m0-3h0m0 4h0m1-4h0m0 4h0m0-2h0m1 3h0m0-3h0m1 1h0m0 2h0m0-3h0m1 2h0m19-4h0m1 0h0m1 0h0m1 1h0m1-1h0m0 1h0m0 0h0m31 2h0m0-3h0m0 1h0m0 4h0m1 0h0m0-2h0m2 0h0m0-2h0m0-1h0m1 2h0m0 2h0m1 0h0m0 1h0m1-3h0m1 2h0m2 1h0m0-4h0m1 0h0m1-1h0m0 1h0m1 2h0m0 1h0m1-3h0m1 2h0m0-3h0m1 5h0m1-1h0m0-1h0m2-2h0m1 1h0m0 2h0m0 0h0m1-4h0m0 2h0m3 1h0m45 0h0m0 1h0m1-2h0m0 3h0m0-5h0m2 5h0m0-4h0m0 4h0m0-2h0m1 1h0m0-1h0m0 1h0m2-3h0m0 4h0m0-3h0m0-2h0m0 4h0m0 1h0m1-4h0m0 2h0m1 2h0m0-3h0m1 0h0m1-1h0m0 4h0m1-2h0m0-3h0m1 3h0m1-2h0m1 4h0m1 0h0m0 0h0m1-3h0m2 0h0m0 2h0m1-4h0m1 5h0m0-3h0m0 2h0m1-2h0m0 1h0m0-1h0m0-1h0m1 3h0m2-3h0m0 2h0m0-1h0m2-2h0m0 0h0m0 2h0m0-1h0m1-1h0m0 4h0m0-2h0m1 0h0m1 2h0m-5 3h0m-1-1h0m-1 1h0m0-1h0m-3 1h0m0 0h0m-2 3h0m-1 1h0m0 0h0m0 0h0m-3-5h0m0 1h0m-2 1h0m-2 3h0m0-2h0m-2-3h0m0 5h0m-1-4h0m0 1h0m0-1h0m-1 4h0m0-3h0m0 0h0m-1-2h0m0 0h0m-1 0h0m0 1h0m0 2h0m-2 0h0m0-1h0m0-1h0m-1 4h0m0 0h0m-1-3h0m0-2h0m0 4h0m-1-3h0m-47-1h0m-4 2h0m0 1h0m-1-3h0m-1 3h0m0 0h0m0 0h0m-1 1h0m-1 0h0m-1 0h0m0 0h0m0 1h0m0-1h0m-1 1h0m-1-5h0m0 2h0m0-2h0m-1 3h0m-1 2h0m-1-1h0m-1 0h0m-1-4h0m0 0h0m0 5h0m-1-2h0m-2-1h0m-1 3h0m-1-4h0m0 0h0m-1 1h0m-35 2h0m-17-4h0m-1 2h0m-2-2h0m0 2h0m0 1h0m-1 2h0m-1-3h0m-1 3h0m-2 0h0m0-1h0m-14-4h0m-2 3h0m0-2h0m-1 1h0m0-1h0m0 2h0m0 0h0m-1 2h0m-1-3h0m-1-2h0m0 2h0m0 3h0m0-2h0m-2-3h0m0 4h0m-1 1h0m0-2h0m0-1h0m-1 0h0m-1 2h0m-1 0h0m-1-2h0m-2 0h0m0-1h0m0 2h0m-5-2h0m0 1h0m0 0h0m0-2h0m-1 2h0m-1-1h0m-5 1h0m-1-1h0m-1-1h0m43 8h0m1 0h0m1 0h0m5 3h0m0-4h0m2 2h0m0-3h0m0 0h0m0 4h0m1-4h0m0 5h0m0-3h0m1 0h0m1 0h0m0-2h0m3 2h0m5-2h0m23 3h0m10-3h0m9 2h0m1-2h0m1 1h0m4 0h0m1 0h0m1-1h0m0 0h0m0 2h0m0-2h0m1 1h0m0 0h0m1-1h0m4 0h0m0 0h0m1 0h0m20 4h0m1 0h0m3 1h0m0-5h0m1 5h0m27-4h0m0-1h0m1 3h0m2-2h0m1 0h0m0 0h0m1 3h0m1-2h0m0-2h0m0 4h0m0-4h0m1 3h0m0 0h0m1-2h0m0 1h0m2 0h0m1-2h0m1 0h0m1 1h0m2 2h0m0-2h0m1 0h0m0 0h0m0 0h0m0-1h0m2 2h0m0 0h0m-42 8h0m0 0h0m-1-3h0m-1 0h0m0 2h0m0 1h0m-1-4h0m0 2h0m0 3h0m-1-3h0m-1 1h0m0 0h0m0-2h0m-1 1h0m0 2h0m-1 0h0m-1-3h0m0-1h0m0 2h0m-1 3h0m-1-3h0m0-1h0m0 0h0m0 4h0m-1-4h0m-1 1h0m0 2h0m0 0h0m-1-2h0m-1 0h0m-2 0h0m0-2h0m0 3h0m-1-1h0m0 1h0m0-2h0m-3 4h0m-2-1h0m0-1h0m-2 0h0m-2 0h0m0 1h0m-1 0h0m-3 0h0m-3 1h0m-20 5h0m1-2h0m1 1h0m0 0h0m2 1h0m1-1h0m5 1h0m1 1h0m1 0h0m1-2h0m0 1h0m1 0h0m1-2h0m1 2h0m0-2h0m2 2h0m0-3h0m1 4h0m0-3h0m1 1h0m0 1h0m0-1h0m0 0h0m1-1h0m0-1h0m2 1h0m0-1h0m1-1h0m1 3h0m0 1h0m1 0h0m3-2h0m0 0h0m0 0h0m1-2h0m1 1h0m2-1h0m0 4h0m0-3h0m1 2h0m1 0h0m0 2h0m1-1h0m4 1h0m0-2h0m1-2h0m0 1h0m0 0h0m2-2h0m0 0h0m1 4h0m1-2h0m0 3h0m0 0h0m1-5h0m0 2h0m1 0h0m0 1h0m0 2h0m0 0h0m1-1h0m1-3h0m0 2h0m1 2h0m1-2h0m0-2h0m1 1h0m0-1h0m0 3h0m1-4h0m0 0h0m1 2h0m1 2h0m0 1h0m5 5h0m-2-1h0m0 1h0m-1-2h0m0 1h0m-1-1h0m0 3h0m0 0h0m-1 0h0m0-5h0m0 0h0m0 4h0m-1 1h0m0-3h0m-1 0h0m-1 2h0m-2-4h0m0 4h0m0-3h0m0-1h0m-1 5h0m0-5h0m0 2h0m0 0h0m0 0h0m-2 1h0m0 1h0m0-1h0m-1-1h0m0 2h0m-1-3h0m0 3h0m0-2h0m-2 2h0m0-4h0m0 0h0m0 2h0m0 0h0m-1-2h0m-1 0h0m-1 2h0m0 3h0m-2-3h0m0 0h0m0 0h0m-1-2h0m0 2h0m0-1h0m0 4h0m-1-4h0m0 2h0m-1 1h0m0 0h0m0-1h0m0 0h0m-2 0h0m-1-2h0m-1 4h0m0-1h0m0-1h0m0 2h0m-2 0h0m-1-4h0m0 4h0m-1 0h0m0-1h0m-1 0h0m0 1h0m-2-2h0m0 0h0m-1-1h0m0-2h0m-1 4h0m-3-3h0m-1-1h0m0 2h0m-1 0h0m-1 0h0m0 1h0m0-2h0m0 3h0m0-4h0m-1 3h0m0-3h0m0 4h0m0 0h0m-1-4h0m0 3h0m0 1h0m0-1h0m-1-3h0m0 0h0m-2 0h0m0 4h0m-1-2h0m0 0h0m0 0h0m0 1h0m0-2h0m-1 0h0m0 4h0m0-5h0m-1 5h0m0-5h0m0 5h0m-1 0h0m0-3h0m0 3h0m0-4h0m0 1h0m0 2h0m-1-4h0m-1 2h0m0 2h0m-1-4h0m0 4h0m-2-4h0m0 3h0m0-1h0m0 3h0m-1-1h0m0-3h0m-1 2h0m0-1h0m0 0h0m0-2h0m0 4h0m-1-4h0m0 0h0m0 5h0m0-3h0m-1-1h0m-1 0h0m-35 3h0m0 1h0m-1-1h0m0-1h0m-4 0h0m-1 1h0m0-1h0m0 0h0m0 0h0m-1 2h0m-1-4h0m0 0h0m-1 1h0m0 3h0m0-3h0m0 3h0m0-4h0m-2 3h0m0 0h0m0-3h0m-1 4h0m0-1h0m0-1h0m0 1h0m-1-2h0m0 1h0m-1-1h0m0 0h0m-1 3h0m0-1h0m-1 0h0m-1-1h0m0 1h0m-1-1h0m-1 1h0m0 0h0m-2 1h0m-1-1h0m-9 7h0m1 0h0m2-5h0m1 1h0m0 0h0m1 0h0m0-1h0m0 4h0m0-2h0m1 3h0m1 0h0m0-2h0m0 0h0m1 2h0m0-4h0m0-1h0m0 3h0m1 1h0m1 1h0m0-5h0m1 5h0m1-5h0m2 4h0m0 1h0m0-4h0m0 4h0m0-2h0m1-2h0m0 1h0m0 2h0m0-3h0m2 3h0m0-4h0m0 2h0m0-1h0m1 1h0m0 2h0m1 1h0m1-2h0m1 1h0m1 1h0m3-4h0m0 1h0m1 0h0m1-1h0m2 0h0m0 1h0m2-2h0m1 3h0m29 1h0m0 1h0m2-2h0m2 2h0m0-5h0m1 4h0m3-1h0m1-3h0m0 1h0m0-1h0m0 5h0m0-2h0m2 0h0m0 2h0m1-3h0m0 0h0m1-2h0m0 0h0m0 5h0m1-5h0m0 1h0m0 1h0m0 0h0m1-2h0m3 3h0m1 2h0m0-1h0m1-3h0m1 3h0m0-1h0m0 2h0m1-1h0m0-1h0m1 2h0m1-3h0m1 2h0m0-4h0m0 2h0m1 0h0m0-1h0m1 3h0m0-1h0m0-2h0m0 4h0m1-2h0m0-1h0m3 1h0m0 1h0m0-3h0m0 4h0m0-2h0m1 1h0m0-3h0m1-1h0m0 5h0m2 0h0m0-5h0m0 1h0m1 3h0m0-2h0m0 1h0m0 2h0m0-1h0m0 0h0m1 0h0m0-4h0m1 1h0m0 4h0m1-1h0m0 0h0m1-2h0m0 0h0m0-2h0m0 5h0m0 0h0m0-2h0m2-3h0m0 1h0m1 3h0m1-1h0m1 2h0m0-4h0m1 4h0m1-2h0m0 2h0m0-4h0m0 4h0m0-5h0m2 2h0m0 0h0m1 2h0m0-4h0m2 0h0m1 3h0m2-1h0m0 1h0m1 1h0m1-1h0m0-3h0m1 1h0m0 3h0m0 1h0m0-5h0m0 0h0m1 2h0m0 2h0m0-2h0m2 2h0m0-2h0m0 3h0m0-4h0m1 0h0m1 4h0m4-1h0m0 0h0m1-3h0m1 2h0m1 2h0m0-2h0m1 7h0m0 1h0m-2 0h0m0-3h0m0 3h0m-1-2h0m-1 0h0m0 0h0m0-1h0m0 1h0m0 1h0m-1-1h0m0-3h0m0 4h0m-1-2h0m0 3h0m0-2h0m-1 1h0m0-3h0m0 1h0m-1 1h0m0-2h0m-2 3h0m-2-4h0m-1 0h0m0 4h0m-1-2h0m-2 0h0m0 0h0m0-2h0m0 0h0m-1 3h0m0-1h0m-2 0h0m0-2h0m-1 5h0m0-4h0m-2 0h0m0 3h0m-1 0h0m0 1h0m-2-3h0m0 2h0m0-4h0m-3 1h0m-1 0h0m0-1h0m-1 0h0m-2 4h0m-1-1h0m-2-3h0m0 2h0m0 0h0m-1-2h0m0 0h0m-3 3h0m0 2h0m-1-2h0m-1-2h0m0-1h0m-1 3h0m0 1h0m0-3h0m0 4h0m-1-3h0m-1 3h0m-1-1h0m0 0h0m0 0h0m-3-3h0m0 1h0m-1 1h0m0-3h0m0 0h0m-1 4h0m-2 0h0m0 1h0m0-2h0m-1 0h0m-1 1h0m0-4h0m0 2h0m0 0h0m-1 3h0m0 0h0m-1 0h0m0-5h0m-2 2h0m-1 3h0m0-3h0m-1 3h0m-1-2h0m0-1h0m-1 0h0m0 0h0m0 1h0m-1 2h0m0-5h0m0 3h0m0 1h0m0-4h0m-1 5h0m-1-2h0m-1 1h0m-2-1h0m-1-3h0m0 0h0m-1 1h0m0-1h0m-1 2h0m0-1h0m-1 0h0m-1 2h0m-1-3h0m0 3h0m-23 1h0m-3-4h0m0 1h0m0-1h0m-6 1h0m0 0h0m0 2h0m0 2h0m0 0h0m-1-1h0m0-2h0m-2-1h0m-1 3h0m0-4h0m-1 0h0m0 0h0m0 4h0m0-3h0m-1 1h0m-1-2h0m-1 2h0m0 0h0m-1 1h0m0-3h0m0 2h0m-1 1h0m0-2h0m0-1h0m0 3h0m0 1h0m0-2h0m-1-1h0m0 3h0m-1-2h0m0-1h0m-1 0h0m0 4h0m-1-1h0m-1 0h0m0 0h0m0 1h0m0-1h0m-2-3h0m-1 4h0m-2-1h0m0-3h0m-1-1h0m-2 0h0m0 3h0m-1 1h0m-1-1h0m0-3h0m-3 5h0m0-4h0m-2 4h0m0 0h0m0-5h0m-7 6h0m6 2h0m3 1h0m3-2h0m0-1h0m1 3h0m0-1h0m0 1h0m1-3h0m2 1h0m1 2h0m1-2h0m0 0h0m2 1h0m1 0h0m1-1h0m0 4h0m3-2h0m0-1h0m1-2h0m0 2h0m2 1h0m1 1h0m0 0h0m0-1h0m3 2h0m2-3h0m0-1h0m1 3h0m0-2h0m0-1h0m0 3h0m3-4h0m0 0h0m2 1h0m3 0h0m1-1h0m1 0h0m0 0h0m2 1h0m0 4h0m0-5h0m1 1h0m0 1h0m0-1h0m0 1h0m2 2h0m16 1h0m2-3h0m0-2h0m3 5h0m0-2h0m1-3h0m0 4h0m1-3h0m0 2h0m1 0h0m0 2h0m1-4h0m0 0h0m1 4h0m0 0h0m0-3h0m0 2h0m1-4h0m1 5h0m0-4h0m0 3h0m0-4h0m0 4h0m1-4h0m0 2h0m1 1h0m1 0h0m0-3h0m0 5h0m0-3h0m1 3h0m0 0h0m0-1h0m1-3h0m0 4h0m0 0h0m1-2h0m1 1h0m1-3h0m0 3h0m1-3h0m0 1h0m1 0h0m0 3h0m1-4h0m1 2h0m1 1h0m0-2h0m4 2h0m2-1h0m0-3h0m0 2h0m1 3h0m1-3h0m0 2h0m0 1h0m1-5h0m0 2h0m1 3h0m0-2h0m1-2h0m1 3h0m1-3h0m0 1h0m1-1h0m0 4h0m4-2h0m2 1h0m0 1h0m1-3h0m2 0h0m1 1h0m0 0h0m1-1h0m1 0h0m0-1h0m3 1h0m0-1h0m0 2h0m0 2h0m1-5h0m1 2h0m1 1h0m0-1h0m2-2h0m0 3h0m1 2h0m0-5h0m1 2h0m1 2h0m0-3h0m0 2h0m1 2h0m0-1h0m1-4h0m0 0h0m0 3h0m0-2h0m2 3h0m0-1h0m0-3h0m1 3h0m0-2h0m1 2h0m0-2h0m1 3h0m0-3h0m0-1h0m1 5h0m0-3h0m1 1h0m1-2h0m1 0h0m2 2h0m1-3h0m0 0h0m1 0h0m0 1h0m-5 8h0m0-1h0m-1 3h0m-1 0h0m0 0h0m0-4h0m0 4h0m-1-5h0m0 5h0m-1-2h0m0-3h0m-1 4h0m-1 1h0m0 0h0m0-5h0m0 2h0m0 3h0m-1-3h0m0-1h0m-1-1h0m0 5h0m0-2h0m0 0h0m-1-3h0m0 2h0m-1 0h0m-1 2h0m0-3h0m0 0h0m-1 0h0m-1 0h0m-1 1h0m0 2h0m0-3h0m-1 1h0m0 3h0m-1-5h0m-1 3h0m0 2h0m0-2h0m-1 1h0m0 1h0m-1 0h0m-2-4h0m-1 3h0m0-2h0m0-1h0m-1-1h0m0 4h0m-1 0h0m0 0h0m0-4h0m-1 1h0m-1-1h0m-1 3h0m0 2h0m0-1h0m-2-2h0m0 1h0m-1-1h0m0 3h0m-1-3h0m-1 1h0m0 1h0m-2 1h0m0-2h0m0-2h0m0-1h0m-1 2h0m-1 0h0m-1 0h0m0 1h0m-1-2h0m0 3h0m-1-1h0m-1-1h0m0 1h0m-1-2h0m-1-1h0m0 4h0m-2 1h0m0-5h0m0 0h0m-1 3h0m0-2h0m0 0h0m0 2h0m-1-3h0m0 2h0m0-2h0m-1 4h0m0-4h0m0 2h0m-1 1h0m0-2h0m0 4h0m-1-5h0m0 5h0m0-5h0m0 2h0m0-2h0m-1 5h0m0-3h0m-1 2h0m0 1h0m0-3h0m-1 0h0m-1 0h0m0-1h0m-4 2h0m0-2h0m0 4h0m0-5h0m0 0h0m-1 4h0m0 0h0m0 0h0m0-3h0m-1 2h0m0 0h0m-1-1h0m-1 0h0m-1 0h0m0 0h0m-1-2h0m0 5h0m0-2h0m0-3h0m-2 5h0m-1-2h0m-1-3h0m0 4h0m0 1h0m0-4h0m0 4h0m-2-1h0m0 0h0m0-2h0m-1-1h0m-1 1h0m0-2h0m0 5h0m-1-4h0m-13-1h0m-7 0h0m-2 3h0m-9 0h0m-3-2h0m-1 3h0m-5-3h0m-4 1h0m3 4h0m1 1h0m3 3h0m2-4h0m1 3h0m1-2h0m1-1h0m0 3h0m2-3h0m1 3h0m29 0h0m0-3h0m0 0h0m1 2h0m2 0h0m0 1h0m0 1h0m1 1h0m0-4h0m1 2h0m0-3h0m0 2h0m1 2h0m2-4h0m0 4h0m0-2h0m1 3h0m0-3h0m1 0h0m0-2h0m0 1h0m0 4h0m1-5h0m2 0h0m1 1h0m0 0h0m2 1h0m2 3h0m0-4h0m0 4h0m1-3h0m0 3h0m1-3h0m1-1h0m0 2h0m0-1h0m0 0h0m1 1h0m2 2h0m1-3h0m1-2h0m0 4h0m2-4h0m0 2h0m2 3h0m0-3h0m0 3h0m2-5h0m0 1h0m0-1h0m1 1h0m1 2h0m0-2h0m2 2h0m1 2h0m1-2h0m0 2h0m1-1h0m0-1h0m0-1h0m0 3h0m1-1h0m0-2h0m1 3h0m1-3h0m0 1h0m0 1h0m0-3h0m0-1h0m1 0h0m0 5h0m0-3h0m1 1h0m0-3h0m0 2h0m0 1h0m0 1h0m0-3h0m1 2h0m0-1h0m0 3h0m0-1h0m1 0h0m2 0h0m0-4h0m0 0h0m1 3h0m0-2h0m1 3h0m1-4h0m0 5h0m0-3h0m1-2h0m0 0h0m1 3h0m0-1h0m0 0h0m1-2h0m0 1h0m1 1h0m0 1h0m1-1h0m0 3h0m0-1h0m1-3h0m1 3h0m0-2h0m1-1h0m0 4h0m0-3h0m1 1h0m1 2h0m1-1h0m1 1h0m0-3h0m0 3h0m1-4h0m1-1h0m1 5h0m0-4h0m2 0h0m0 0h0m0-1h0m-4 6h0m0 2h0m-1 3h0m0-2h0m0-2h0m-1 4h0m0 0h0m-1-2h0m0-1h0m0-1h0m-1 0h0m0 2h0m-1-2h0m0 4h0m0-4h0m0 0h0m-1-1h0m0 5h0m0-2h0m-1-1h0m0 2h0m0-2h0m-1-2h0m0 4h0m0 0h0m0-3h0m-1 2h0m-1-3h0m0 2h0m0-2h0m0 2h0m-1 1h0m0-1h0m-1-1h0m0 2h0m-1 2h0m-1 0h0m0-3h0m0-1h0m-1 0h0m-1 0h0m-1 2h0m0-3h0m-1 3h0m0-2h0m-1 3h0m-1 1h0m0 0h0m-1-3h0m-1 2h0m0 0h0m0-2h0m-1 1h0m-1 1h0m0 0h0m-2-3h0m0 2h0m0 1h0m0-4h0m-2 4h0m0-3h0m0 1h0m0 1h0m-1-2h0m0 1h0m-1-1h0m0 3h0m-1-2h0m-1 3h0m-1-5h0m-1 0h0m0 4h0m-1 1h0m0-5h0m-1 0h0m0 0h0m-1 0h0m-1 3h0m0 1h0m0-3h0m-1 2h0m0 2h0m0-5h0m-1 4h0m0 1h0m-1-1h0m-1-4h0m0 3h0m0 1h0m0-2h0m-1 2h0m0 0h0m0-2h0m0 0h0m-1-1h0m-1-1h0m0 1h0m0-1h0m0 2h0m0 2h0m0-3h0m-2 4h0m0-4h0m-1 2h0m0-1h0m0 3h0m-1-4h0m0 3h0m0-2h0m0 3h0m-2-1h0m-1-4h0m0 4h0m0-3h0m-1-1h0m-2 4h0m0-1h0m0 0h0m-2 1h0m0 0h0m0-4h0m-1 2h0m0 3h0m0-1h0m-1-2h0m0 0h0m-1 2h0m-1 0h0m0-3h0m0-1h0m-1 5h0m-1 0h0m0-4h0m0 2h0m-1 2h0m-1 0h0m0 0h0m0-1h0m-1 1h0m0 0h0m-38-2h0m38 6h0m0-3h0m0 4h0m0 1h0m1-4h0m0-1h0m1 5h0m0-5h0m0 0h0m0 0h0m1 0h0m0 3h0m0 2h0m0-5h0m1 0h0m0 0h0m1 5h0m0-3h0m1 1h0m0 0h0m1 1h0m0-4h0m1 5h0m0 0h0m1-4h0m0 0h0m1 2h0m0-3h0m1 3h0m0 2h0m1 0h0m0-4h0m1 3h0m0-3h0m1 0h0m0 0h0m0 0h0m1 1h0m2-1h0m0 1h0m0-2h0m1 3h0m1-3h0m0 5h0m0-3h0m0-1h0m1 0h0m1-1h0m1 1h0m0 1h0m1 3h0m0-4h0m1 3h0m0-3h0m1 4h0m0 0h0m0-3h0m1 2h0m0-2h0m1 0h0m0 1h0m0 0h0m0-3h0m1 2h0m0 0h0m0-1h0m3 1h0m1-2h0m0 5h0m1-5h0m0 1h0m0 2h0m0-2h0m0 2h0m1-1h0m1 2h0m1-3h0m0 3h0m0-3h0m0 4h0m0-5h0m1 3h0m0-3h0m1 2h0m0-1h0m0 4h0m1-5h0m0 4h0m0 0h0m1-4h0m0 2h0m0 2h0m0-4h0m1 5h0m0-4h0m1 3h0m0-4h0m1 0h0m3 1h0m0 0h0m1 4h0m0-4h0m1 2h0m1-2h0m0 1h0m1 3h0m2 0h0m0-2h0m1 1h0m0-3h0m0 3h0m1-4h0m0 3h0m0 1h0m0-3h0m1 4h0m0 0h0m1 0h0m1-3h0m1-1h0m0 1h0m0-1h0m0 4h0m0-2h0m0-1h0m1 0h0m0-2h0m0 1h0m1 3h0m1-4h0m-9 6h0m0 0h0m-4 0h0m-1 2h0m0 0h0m-1-2h0m0 0h0m-3 2h0m0-2h0m-2 2h0m0-1h0m-1 1h0m0 1h0m0-2h0m-1 4h0m-1-5h0m-1 1h0m-1-1h0m-1 0h0m0 2h0m0 0h0m-1-1h0m0-1h0m-2 4h0m0-3h0m0 0h0m0 3h0m-1-3h0m0 3h0m0-4h0m0 0h0m-2 4h0m0-4h0m0 5h0m0-3h0m-1-2h0m-1 5h0m0-5h0m0 3h0m-1-1h0m0 1h0m-1-1h0m0-2h0m0 4h0m0-4h0m-1 1h0m0 1h0m-1 3h0m0-2h0m0-3h0m0 4h0m-1-3h0m0 4h0m0-1h0m-1 1h0m-1-3h0m0 2h0m-1-3h0m0 0h0m-1 0h0m0-1h0m0 2h0m0 2h0m0-3h0m0-1h0m0 4h0m-1-4h0m0 2h0m0 2h0m0-3h0m-1-1h0m0 3h0m-2-3h0m-1 5h0m0-5h0m0 5h0m0-4h0m-1 4h0m0-2h0m0 0h0m-1-1h0m0-2h0m-1 3h0m0 0h0m-1 1h0m0-1h0m-1 1h0m-1-1h0m0 0h0m-1-2h0m-1 4h0m0-3h0m-1 1h0m-1 1h0m0-2h0m0 0h0m-1 2h0m0 1h0m-1-4h0m0 1h0m0-1h0m-1 0h0m5 7h0m0-1h0m1 2h0m1-2h0m1 4h0m0 0h0m0-5h0m1 1h0m0 3h0m0-4h0m1 2h0m2-2h0m0 1h0m1 0h0m1 1h0m1 0h0m1 3h0m1-5h0m0 4h0m1-3h0m1 2h0m0-1h0m1 3h0m0-4h0m0 4h0m1-3h0m0 3h0m2-4h0m1-1h0m0 0h0m1 3h0m0 0h0m0-2h0m1 2h0m0 2h0m1-4h0m2 0h0m1 0h0m0 1h0m0-2h0m1 0h0m0 0h0m0 0h0m1 0h0m1 2h0m1 0h0m0 1h0m-3 4h0m-1-1h0m-3 1h0m0-1h0m-1 0h0m-3 4h0m-2 0h0m-1 1h0m-1-2h0m0 0h0m-1-1h0m0 0h0m-1 0h0m0 0h0m0-1h0m-1-1h0m0 1h0m0 2h0m0-1h0m-3-2h0m0 0h0m0 0h0m-1 0h0m0 2h0"/>
<path stroke="#86bcd9" d="m53 204h0"/>
<path stroke="#abd9e9" d="m44 117h0m12 91h0m7 7h0m-11-1h0"/>
<path stroke="#ceeaf3" d="m89 75h0m43 54h0m39 11h0m-136 18h0m8 35h0m33 16h0m-6 3h0m-6-1h0m-11 4h0"/>
<path stroke="#eaf7e5" d="m100 91h0m-16 0h0m-16 4h0m59 19h0m-39 12h0m59 53h0m-19 11h0m-15-1h0m-50 2h0m106 9h0m-129 2h0m7 6h0m3-4h0m4 5h0m4-3h0m18 1h0m-14 8h0m-7-3h0m-2 1h0m-2 1h0m-1-3h0m65 11h0m-4 14h0"/>
<path stroke="#ffffbf" d="m125 108h0m33 80h0m-108 7h0m1 0h0m17 1h0m32-1h0m20 2h0m17-4h0m13 0h0m-15 8h0m-83 2h0m-8 0h0m-8 2h0m11 1h0m1 0h0m7 1h0m3 0h0m1 2h0m1-4h0m10 1h0m4 3h0m22 0h0m-24 2h0m0-1h0m-3 2h0m-1 2h0m-4 1h0m-4-1h0m-1 1h0m-4-3h0m0 1h0m-6-3h0m0 2h0m-15-2h0m17 8h0m1-2h0m1 1h0m2 1h0m2 0h0m4-2h0m77 2h0m9-1h0m-15 6h0m-15 2h0m-1-1h0m-4 1h0m-3 1h0m-19 6h0m11-3h0m2 16h0m10-4h0m6 4h0m-13 4h0"/>
<path stroke="#feeaa0" d="m142 179h0m6 11h0m-9-2h0m-78 3h0m-6 0h0m-7 0h0m0 5h0m0-1h0m6 6h0m-20 1h0m-5-2h0m4 8h0m6 0h0m6-1h0m2 1h0m11-2h0m1 1h0m7 1h0m1 0h0m5 1h0m72-2h0m-41 3h0m-30 0h0m-8 4h0m-1 0h0m-3 0h0m-2-3h0m-4 2h0m-1-1h0m-2-1h0m0 0h0m-2 3h0m0 0h0m-2-2h0m-2-2h0m0 0h0m5 6h0m75 10h0m-7 10h0"/>
<path stroke="#fecf80" d="m48 188h0m-13 7h0m2 0h0m15 1h0m-6 5h0m-1-3h0m-5 5h0m-1 0h0m-3-5h0m0 2h0m-3-2h0m0 3h0m-7-3h0m3 10h0m3-4h0m1 4h0m0-2h0m2-2h0m1 5h0m1-4h0m3 2h0m7 0h0m1 0h0m1 1h0m1-3h0m4 4h0m2 0h0m6-4h0m4 2h0m1 1h0m2 0h0m2-4h0m0 6h0m-2 2h0m-2 2h0m-1 1h0m0-5h0m-6 2h0m0-1h0m-3 1h0m-7 3h0m7 2h0m1 3h0m0-3h0m1-1h0"/>
<path stroke="#fdae61" d="m31 196h0m3 1h0m0-1h0m3-3h0m-9 7h0m-2 0h0m-3 4h0m3 2h0m3 2h0m0-3h0m4 3h0m2-1h0m0-1h0m0-1h0m4 1h0m10-1h0m2 4h0m11-4h0m-6 7h0m-3 1h0m-18-2h0m22 7h0"/>
<path stroke="#f7834d" d="m42 198h0m-7 0h0m-3 1h0m0 0h0m-3-1h0m-2 0h0m1 8h0m4-1h0m0 2h0m4 1h0m25 9h0"/>
<path stroke="#ea593a" d="m33 195h0m-4 5h0m0-2h0m-5 5h0m1 1h0m4 4h0m5-4h0"/>
<path stroke="#d73027" d="m30 198h0m-1 3h0m0-2h0"/>
</g></g><use href="#t107" stroke-width="3.5"/></g>
<path d="M389.2 1793.6V2000.9H612.7" fill="none" stroke="#000" stroke-width="1.9"/>
<text x="389.2" y="2013.7" font-size="9.4" text-anchor="middle" fill="#333">−50</text>
<text x="441.1" y="2013.7" font-size="9.4" text-anchor="middle" fill="#333">−25</text>
<text x="493" y="2013.7" font-size="9.4" text-anchor="middle" fill="#333">0</text>
<text x="545" y="2013.7" font-size="9.4" text-anchor="middle" fill="#333">25</text>
<text x="596.9" y="2013.7" font-size="9.4" text-anchor="middle" fill="#333">50</text>
<text x="384.6" y="1797.6" font-size="9.4" text-anchor="end" fill="#333">50</text>
<text x="384.6" y="1849.7" font-size="9.4" text-anchor="end" fill="#333">25</text>
<text x="384.6" y="1901.8" font-size="9.4" text-anchor="end" fill="#333">0</text>
<text x="384.6" y="1953.9" font-size="9.4" text-anchor="end" fill="#333">−25</text>
<path d="M389.2 2000.9v3.2M441.1 2000.9v3.2M493 2000.9v3.2M545 2000.9v3.2M596.9 2000.9v3.2M389.2 1794.1h-3.2M389.2 1846.2h-3.2M389.2 1898.3h-3.2M389.2 1950.4h-3.2" stroke="#000" stroke-width="1.5" fill="none"/>
<text x="500.5" y="2032.4" font-size="14" text-anchor="middle">tSNE_1</text>
<text x="373.5" y="1897.6" font-size="14" text-anchor="middle" transform="rotate(-90 373.5 1897.6)">tSNE_2</text>
<text x="529" y="1759.7" font-size="33.5" text-anchor="middle" font-style="italic" stroke-width="0.40">Sell</text>
<rect x="623.6" y="1873.7" width="11.5" height="57.6" fill="url(#rb)"/>
<text x="624" y="1869.7" font-size="7.3" fill="#222">Scale.data</text>
<text x="638.4" y="1879.6" font-size="6.1" fill="#333">8</text>
<text x="638.4" y="1892.8" font-size="6.1" fill="#333">6</text>
<text x="638.4" y="1906.2" font-size="6.1" fill="#333">4</text>
<text x="638.4" y="1919.5" font-size="6.1" fill="#333">2</text>
<text x="638.4" y="1932.3" font-size="6.1" fill="#333">0</text>
<path d="M623.6 1877.4h2.3M635.1 1877.4h-2.3M623.6 1890.6h2.3M635.1 1890.6h-2.3M623.6 1904h2.3M635.1 1904h-2.3M623.6 1917.3h2.3M635.1 1917.3h-2.3M623.6 1930.1h2.3M635.1 1930.1h-2.3" stroke="#fff" stroke-width="0.5" fill="none"/>
<g transform="translate(723.8 1740.6)" fill="none" stroke-linecap="round"><g stroke-width="4.2"><g id="t108">
<path stroke="#4575b4" d="m101 65h0m1-1h0m4 0h0m0-1h0m2 2h0m12 5h0m-2-1h0m0-2h0m-1 3h0m0 0h0m-1-3h0m0 2h0m0 0h0m-1 1h0m0-4h0m-2 3h0m-1-1h0m0 3h0m-1-3h0m0-1h0m-1 1h0m0-2h0m-1 5h0m0-2h0m-1 1h0m-1-2h0m-1-2h0m0 4h0m-4 0h0m-1-4h0m-2 5h0m0-4h0m-2 2h0m-1 2h0m0-1h0m-16 7h0m3 0h0m0-1h0m4-1h0m0 2h0m0-3h0m1 0h0m1 1h0m0 0h0m0-2h0m1 2h0m2 0h0m1-2h0m0 4h0m1-1h0m2-4h0m0 2h0m0 2h0m0-4h0m1 1h0m0 3h0m1 0h0m0-1h0m1-2h0m1 1h0m0 0h0m0 1h0m1-1h0m0-1h0m1 0h0m1 4h0m1-2h0m0 1h0m0-2h0m1 1h0m0 0h0m1-1h0m0 3h0m0-5h0m2 5h0m1-2h0m0-2h0m0-1h0m1 0h0m0 4h0m1-4h0m1 4h0m1-1h0m0-1h0m1-1h0m1 4h0m0-2h0m1-1h0m1 2h0m1-4h0m1 0h0m1 2h0m3 8h0m-7-4h0m-2 3h0m0-1h0m-1-2h0m0 0h0m0 4h0m0 1h0m-1 0h0m-1-3h0m0 0h0m-1 3h0m0-1h0m-1-2h0m-1 3h0m-4 0h0m0 0h0m0 0h0m0 0h0m0-1h0m0 0h0m0 0h0m-1-2h0m0-1h0m0 2h0m-1 2h0m-1-1h0m0 0h0m0 1h0m0-3h0m-1-1h0m0 0h0m-1 2h0m-1 2h0m0-4h0m-1 1h0m0-2h0m0 2h0m0 1h0m0 1h0m-1-3h0m-3 0h0m-2-1h0m-2 0h0m-1 1h0m0 2h0m0 2h0m0-1h0m-1-3h0m-1 4h0m0-5h0m-1 3h0m0-3h0m0 4h0m-1-2h0m-1-1h0m0 2h0m0 2h0m0-3h0m-1 0h0m-1 0h0m-1 1h0m0-1h0m-2-2h0m0 5h0m-2-2h0m-1 0h0m0 0h0m0 1h0m0-1h0m-2 0h0m0 1h0m-1 1h0m-1 0h0m0-1h0m-1 1h0m0 0h0m-2-1h0m0 0h0m-10 6h0m1 1h0m3-5h0m1 1h0m0-1h0m1 0h0m0 1h0m0 4h0m1-1h0m1-3h0m2 1h0m0 3h0m0-2h0m0 0h0m2 1h0m0-4h0m0 5h0m1-3h0m0-2h0m0 1h0m0 3h0m1 0h0m0-1h0m0 2h0m1-3h0m1 0h0m1 3h0m0-5h0m0 0h0m1 2h0m0 1h0m1-1h0m1 0h0m2-2h0m0 2h0m0 0h0m0-2h0m1 4h0m0-4h0m0 2h0m1-2h0m0 1h0m1 0h0m0 3h0m1-4h0m2 1h0m1 0h0m0 1h0m1-2h0m1 4h0m0-1h0m0-1h0m8-1h0m1-1h0m1 1h0m0 4h0m1-4h0m1 2h0m0-2h0m0 1h0m1 1h0m0-3h0m0 2h0m1 0h0m1-1h0m0 0h0m1-1h0m0 1h0m0 3h0m1-2h0m0-2h0m0 2h0m1 1h0m0 2h0m1 0h0m1-5h0m1 5h0m1-4h0m1 2h0m1 1h0m0 1h0m1-3h0m38 1h0m2 2h0m13 6h0m-11-3h0m-3 0h0m-3 2h0m-6-4h0m-34 0h0m0 0h0m-1 2h0m-1 3h0m-1-2h0m-1 0h0m-2-1h0m-1 0h0m-1-2h0m-1 1h0m0 4h0m-2-4h0m-1-1h0m0 1h0m0 0h0m-1 3h0m0 0h0m0 0h0m0-1h0m-1 2h0m0-1h0m0-1h0m0-3h0m-1 5h0m-6-1h0m-1-2h0m-1-1h0m0 0h0m-1 3h0m-1 0h0m-1-3h0m0 3h0m-1-3h0m-3 4h0m0-1h0m0-3h0m-1 3h0m0-2h0m-1 1h0m-1 1h0m-3-1h0m-1 2h0m0-5h0m0 2h0m-1 3h0m0-1h0m-1 0h0m0-2h0m0 0h0m-2 1h0m0-1h0m-1-1h0m0 4h0m-2-5h0m-1 3h0m-2-1h0m-1 1h0m-1 0h0m0 1h0m-1 0h0m-2-2h0m0-1h0m0 4h0m0-3h0m-1 1h0m-1 2h0m-8 3h0m1 2h0m1 1h0m4-4h0m1 3h0m0 1h0m0-1h0m0-1h0m2 1h0m1-2h0m0-1h0m0 1h0m2-1h0m0 4h0m2-4h0m0 0h0m3 1h0m0 1h0m0 0h0m1-3h0m1 1h0m0 1h0m1 3h0m0-3h0m0-1h0m3 3h0m0-1h0m0 0h0m2 2h0m0-5h0m0 5h0m1-2h0m1 1h0m0-2h0m1-2h0m1 2h0m0 3h0m1-3h0m0-2h0m0 2h0m1-1h0m0-1h0m0 0h0m0 4h0m1-4h0m0 0h0m1 0h0m0 3h0m0-2h0m1 1h0m0 2h0m0-3h0m1 2h0m1-3h0m0 2h0m0-2h0m1 0h0m0 5h0m1 0h0m0-5h0m0 0h0m1 2h0m1 1h0m0-3h0m3 5h0m0-5h0m0 3h0m2-3h0m1 0h0m3 1h0m1 0h0m0 1h0m1 3h0m0-3h0m0-1h0m0-1h0m1 0h0m2 2h0m1 1h0m0 0h0m1-1h0m0 3h0m2-5h0m0 3h0m24 1h0m2 1h0m9-1h0m2-2h0m1 1h0m13-2h0m4 3h0m8 7h0m-1-3h0m-1 0h0m-2 2h0m-2 0h0m-6-3h0m-5-1h0m-2 0h0m-4 5h0m0-2h0m0 2h0m-3 0h0m0 0h0m-8-1h0m-1-4h0m0 2h0m-1 0h0m-1 0h0m-3 3h0m-11 0h0m-14-3h0m-1-1h0m0 2h0m-2-1h0m-1-1h0m-2 2h0m-7 0h0m-1-3h0m0 1h0m-1 1h0m-1-2h0m0 3h0m0-2h0m-2 0h0m-1 2h0m-1-3h0m-3 1h0m0-1h0m-1 0h0m0 1h0m-1 3h0m0-3h0m0 4h0m0-3h0m-3 0h0m-2-2h0m-2 1h0m-1 0h0m0 2h0m0 1h0m-2 1h0m-1-5h0m-2 0h0m0 0h0m-3 0h0m0 3h0m-3-3h0m0 0h0m-2 2h0m0 0h0m-1-2h0m-1 4h0m-1-4h0m0 2h0m-1 1h0m-2 0h0m-1-3h0m-2 5h0m0-4h0m0 3h0m-1-4h0m0 5h0m-1 0h0m-1-1h0m-1 1h0m0-1h0m-2 0h0m-5 7h0m4-5h0m0 2h0m1 3h0m1-3h0m2 0h0m0 3h0m7-1h0m0 0h0m1-1h0m0-2h0m1 2h0m0 2h0m0-2h0m1-3h0m0 4h0m0-4h0m0 0h0m1 2h0m0 1h0m2-1h0m1 2h0m0 0h0m0-4h0m0 4h0m1-1h0m0 0h0m0-2h0m0 0h0m1-1h0m2 4h0m1 0h0m0-1h0m1 2h0m0-5h0m1 1h0m0 2h0m1-3h0m1 0h0m1 4h0m3-1h0m1-2h0m1 4h0m1-1h0m0 1h0m2-2h0m0 2h0m1 0h0m0-2h0m1 2h0m1-1h0m1-2h0m0-2h0m1 0h0m0 0h0m0 2h0m0 1h0m1-2h0m0 2h0m1 1h0m0-1h0m0 2h0m2-4h0m2 3h0m1-1h0m1-2h0m36 4h0m6 0h0m0-3h0m0 1h0m1 2h0m0-3h0m1 1h0m1-1h0m0 0h0m4 3h0m1-5h0m2 1h0m3-1h0m5 4h0m8 0h0m1-2h0m0 1h0m3-2h0m5 5h0m-1 2h0m-3 2h0m-3-2h0m-9-1h0m-1 4h0m-8-4h0m-2 0h0m-4 4h0m-14-3h0m-2 1h0m-27-1h0m-5-2h0m0 5h0m-2-1h0m0 0h0m0-2h0m0 0h0m-1-2h0m-1 1h0m0 3h0m-1 0h0m-2-2h0m0 0h0m-1 1h0m-1-3h0m0 0h0m-1 2h0m-2 1h0m0 1h0m-1-1h0m-1-3h0m-1 1h0m0 2h0m-1-2h0m0 1h0m-1 2h0m0-1h0m-1 2h0m-2-5h0m-1 1h0m0 3h0m0-3h0m-1 1h0m-1-2h0m0 3h0m0 2h0m0-1h0m0-2h0m-1-2h0m0 0h0m-1 4h0m0 0h0m0 0h0m0-4h0m0 5h0m-1-1h0m0 0h0m-1-1h0m0 2h0m-2-5h0m0 1h0m-1 1h0m-3-2h0m-1 1h0m0-1h0m-1 2h0m-3 1h0m-1 0h0m0-3h0m-1 4h0m-1 0h0m0-4h0m-2 4h0m0-2h0m0-1h0m-1 1h0m-1 1h0m0 2h0m-1-4h0m-3 2h0m-1 1h0m0 1h0m-1-4h0m-1 1h0m-9 9h0m1 0h0m1 0h0m0-1h0m2 1h0m1-2h0m0 2h0m1 0h0m1-3h0m0 3h0m2-4h0m1 4h0m0-2h0m1-1h0m2 0h0m1 0h0m0 2h0m0-2h0m1-2h0m1 0h0m0 1h0m1 0h0m0 1h0m0 3h0m1-2h0m1 2h0m1-2h0m1-2h0m1 0h0m0 3h0m0 1h0m0-1h0m0-4h0m12 5h0m3-1h0m1-4h0m0 4h0m0-4h0m1 2h0m0 3h0m0-1h0m0-4h0m0 5h0m0-2h0m0-3h0m2 5h0m1-2h0m1 2h0m0-1h0m4 1h0m1-3h0m0 1h0m0-1h0m1 1h0m1 2h0m1-4h0m0 2h0m0-2h0m0-1h0m1 2h0m0-2h0m1 4h0m0-1h0m0-2h0m2 0h0m1 2h0m1 1h0m1-3h0m0 3h0m0-1h0m1 1h0m0 0h0m0-2h0m1 2h0m0-4h0m0 3h0m0 2h0m1-4h0m9 4h0m19-1h0m0 0h0m1-1h0m0 0h0m2 2h0m14-2h0m2-2h0m2 2h0m3-2h0m2 0h0m0 1h0m8 3h0m3-4h0m1 0h0m0 4h0m0-1h0m0-2h0m12 0h0m3 1h0m0 6h0m-13 1h0m-2 1h0m0-4h0m-1-1h0m-10 0h0m0 0h0m0 2h0m-18-1h0m-1 2h0m-2-3h0m-1 2h0m0 3h0m-1 0h0m-3-2h0m-28-3h0m-1 4h0m-1-4h0m-1 4h0m0 0h0m0-1h0m-1 1h0m0 1h0m0-1h0m-1 0h0m-1 0h0m-1 1h0m0-3h0m-1 0h0m0 3h0m0-2h0m0 1h0m-3 0h0m0-3h0m-1 1h0m-1 3h0m0-5h0m-1 3h0m-1-3h0m0 1h0m0-1h0m-2 1h0m0 1h0m-2 2h0m0-2h0m0 1h0m-1-2h0m0 2h0m0 2h0m0-1h0m-1-2h0m-1-1h0m-1 4h0m0-5h0m0 5h0m-1-4h0m0 0h0m-1 0h0m-3 4h0m0-3h0m-3-2h0m0 2h0m-4 1h0m-2 2h0m-1 0h0m-1-1h0m0-3h0m0 1h0m0-1h0m-1 3h0m-1-4h0m0 1h0m0 3h0m-1-3h0m-1 0h0m0 3h0m0-3h0m-1 3h0m-1-4h0m0 0h0m0 2h0m0-1h0m0 1h0m0-1h0m-1 0h0m-1 0h0m0 4h0m0-3h0m-1 0h0m0 3h0m-1 0h0m0-2h0m-1 0h0m-1 0h0m-1-2h0m0-1h0m0 5h0m-1-4h0m0 1h0m-1 2h0m-1-3h0m0-1h0m0 5h0m-1-4h0m0 3h0m0-1h0m-1 0h0m-2-3h0m0 3h0m-1-1h0m-1 0h0m-2-2h0m0 2h0m0 1h0m-2 1h0m-2 2h0m0 3h0m1-1h0m0 2h0m1-1h0m0-2h0m1 3h0m2-3h0m0 2h0m0 0h0m2-2h0m2 2h0m1-2h0m0 3h0m1 0h0m1-4h0m0 1h0m2 1h0m0 0h0m0-1h0m1 0h0m0 1h0m1-1h0m0 0h0m1 2h0m0 2h0m0-2h0m1 0h0m3-1h0m0-1h0m0 3h0m1-3h0m0 3h0m2-1h0m1 2h0m0-5h0m1 1h0m0 3h0m1 0h0m0-1h0m1 2h0m0-3h0m1 3h0m0-3h0m0-1h0m0 3h0m2-1h0m0-1h0m12 0h0m2 3h0m1-1h0m1 1h0m2-5h0m0 3h0m0 0h0m0 2h0m0-3h0m2 3h0m0-2h0m0-2h0m1 0h0m1 2h0m0 2h0m1 0h0m2-3h0m0 2h0m1-2h0m0 1h0m0 1h0m2-3h0m0 1h0m1-1h0m0 3h0m0-1h0m1-3h0m1 4h0m0-3h0m2 2h0m23 1h0m2-1h0m3 1h0m4-3h0m0-1h0m6 5h0m8-5h0m2 3h0m0-3h0m1 3h0m12 1h0m3-4h0m2 2h0m1 0h0m0 2h0m5-4h0m1 2h0m4-1h0m1 1h0m0 1h0m6 5h0m-1 0h0m-2 0h0m-1-1h0m-3-1h0m-3 5h0m-1-5h0m-1 1h0m0-1h0m-3 0h0m-2 1h0m-10 0h0m-1 1h0m-3 2h0m-3-2h0m-1 2h0m-1 0h0m-8-1h0m-3 1h0m-4 1h0m0 0h0m-6-3h0m-1 3h0m-1-2h0m-3-3h0m-1 2h0m-18 3h0m0 0h0m-1 0h0m0-2h0m0-1h0m-2-2h0m0 0h0m-2 3h0m0-1h0m0 3h0m0-5h0m-1 5h0m0 0h0m0-1h0m-1-3h0m-1 1h0m0 3h0m-1-3h0m0 0h0m0 3h0m-1-1h0m-1-2h0m0 3h0m0-4h0m-1 2h0m0-1h0m0 0h0m0-1h0m-1 3h0m0-1h0m-1-2h0m-2-1h0m0 2h0m-1-1h0m0 1h0m0-2h0m-1 3h0m0-2h0m0-1h0m0 5h0m-2-2h0m0-2h0m-1 4h0m-1-1h0m0 1h0m0-3h0m0 3h0m-1-2h0m0-1h0m-1-2h0m-6 5h0m-2-1h0m-1-1h0m-1-2h0m-1 3h0m-1-4h0m0 4h0m-1-3h0m-1-1h0m-1 3h0m-1-3h0m0 2h0m-1 2h0m0-2h0m0-2h0m-1 0h0m-1 5h0m0-5h0m-1 0h0m0 2h0m-2 0h0m0 3h0m-1-3h0m0-1h0m0-1h0m-1 4h0m-1 0h0m-7-1h0m-1-1h0m-1-1h0m-1-1h0m0 2h0m-1 0h0m0 2h0m0-3h0m-1 1h0m-1-2h0m-1 3h0m-1 0h0m0-1h0m-1 2h0m-1 1h0m0 0h0m0-3h0m0 3h0m-1-1h0m-1 0h0m0-4h0m-1 0h0m0 2h0m-1 2h0m0 0h0m-1 1h0m-7 6h0m2-2h0m3-3h0m0 5h0m0-4h0m1-1h0m0 2h0m1-2h0m0 0h0m0 5h0m2-5h0m1 3h0m0-2h0m3 1h0m0 2h0m1-4h0m0 2h0m0-2h0m0 5h0m0-4h0m1-1h0m1 0h0m0 1h0m0-1h0m1 0h0m0 2h0m2 3h0m0-5h0m0 5h0m1-4h0m0 0h0m0 1h0m0 1h0m0-2h0m1-1h0m1 5h0m0-3h0m1 0h0m0 1h0m0-2h0m5 2h0m0 0h0m1 0h0m1 1h0m1 0h0m0-3h0m0-1h0m1 3h0m0 2h0m0-4h0m1 2h0m0-2h0m1 4h0m0-5h0m0 5h0m1-5h0m0 2h0m1-2h0m2 2h0m1 0h0m0 1h0m0-3h0m1 5h0m0-3h0m0-1h0m0-1h0m1 0h0m1 0h0m0 3h0m2-2h0m0 3h0m0-1h0m1-1h0m0 1h0m0 0h0m1 1h0m1-4h0m1 3h0m2-2h0m1 1h0m1 2h0m0-2h0m0 2h0m7-4h0m1 1h0m0 0h0m6 1h0m1 0h0m0-1h0m1 2h0m1-3h0m1 2h0m0 0h0m0 3h0m1-4h0m1 0h0m0 4h0m0 0h0m0-1h0m3-2h0m0-1h0m1 0h0m1-1h0m0 3h0m0 2h0m0-4h0m0 3h0m0-4h0m1 1h0m0-1h0m0 4h0m1-2h0m0 3h0m1-4h0m7 4h0m13-2h0m0-3h0m1 3h0m1-1h0m0 0h0m3 2h0m2-1h0m0 1h0m0-1h0m0 2h0m1-4h0m1 2h0m1 2h0m0-2h0m2-2h0m2 2h0m1 2h0m7-5h0m2 3h0m2-2h0m1 4h0m0-1h0m1 1h0m0 0h0m1-1h0m2-1h0m0-3h0m1 4h0m2 0h0m1-1h0m0-2h0m4 4h0m5-3h0m2 2h0m40 1h0m14 6h0m-2 0h0m-2 0h0m-1-3h0m-1 1h0m-1-1h0m-1 1h0m0-3h0m0 4h0m-1-4h0m0 1h0m-1 3h0m-1-2h0m0 0h0m-1 1h0m-1 2h0m0-5h0m0 2h0m-2 1h0m0-1h0m0 0h0m-2-2h0m0 5h0m-1-1h0m-1-1h0m0-3h0m-2 5h0m0-1h0m-1-2h0m0 0h0m-1 2h0m-1 0h0m0 1h0m-16-2h0m-9-1h0m-21-1h0m-2 2h0m-2 1h0m-3-4h0m-1 3h0m-1-1h0m-2 3h0m-1-3h0m-5 2h0m-7-2h0m-2 0h0m-1-2h0m-2 2h0m-22-1h0m-1 0h0m0-1h0m0 2h0m-1 0h0m0 0h0m-1-2h0m0 4h0m-1-2h0m-2 0h0m0 1h0m0-3h0m-1 0h0m0 2h0m0-1h0m-1 3h0m0-3h0m0 2h0m-1-2h0m0 0h0m-1-1h0m0 2h0m0 2h0m-1 0h0m0 1h0m0-4h0m-1 3h0m0-1h0m-1-3h0m0 2h0m-1-2h0m0 1h0m-15 1h0m0 0h0m-1-1h0m0 1h0m-1 2h0m-2 0h0m0 0h0m-1-1h0m0 0h0m0-1h0m0 0h0m-2-1h0m-1 1h0m-1-2h0m0 5h0m-3-3h0m0 2h0m-1-1h0m0-2h0m0 4h0m0-4h0m-1 2h0m-1 0h0m0 0h0m-1 0h0m0-3h0m-1 3h0m0-1h0m-1-1h0m-2-1h0m-1 0h0m-1 1h0m-1 3h0m0-4h0m-1 1h0m-2 4h0m0 0h0m0-3h0m-1-1h0m0 1h0m0 3h0m-1-5h0m-3 1h0m0 3h0m-1-2h0m0 2h0m0 0h0m-3-2h0m0-2h0m0 2h0m-1 2h0m-1-3h0m0 3h0m-1-2h0m-1 0h0m-1 1h0m0 1h0m-1-3h0m0 0h0m-1 4h0m0 0h0m0-3h0m-1-2h0m0 2h0m-1 2h0m0-2h0m0 0h0m-3 2h0m-1 0h0m0-1h0m-2 0h0m0-2h0m-1 1h0m-1 1h0m0 0h0m0-2h0m1 7h0m0-1h0m1 2h0m1-2h0m0 4h0m0-2h0m0 0h0m1 1h0m0-2h0m0 2h0m0-4h0m0 4h0m1 0h0m0-2h0m0-1h0m0-1h0m2 5h0m2-3h0m0 3h0m1-3h0m0 1h0m1-3h0m0 1h0m0-1h0m1 1h0m0 0h0m1 0h0m0 2h0m0 0h0m1-3h0m2 1h0m0 1h0m1-1h0m1-1h0m0 1h0m1 0h0m0-1h0m1 3h0m1 1h0m0 1h0m1-3h0m1 3h0m1-3h0m1 0h0m1-1h0m0 1h0m0 1h0m0-2h0m0 1h0m1-2h0m0 2h0m0-2h0m1 4h0m1 0h0m0 0h0m0-2h0m1 2h0m0-4h0m0 5h0m0-4h0m8-1h0m11 2h0m0-2h0m0 5h0m1-5h0m0 3h0m0 1h0m0-2h0m1 3h0m0-3h0m1 1h0m0 2h0m0-3h0m1 2h0m19-4h0m1 0h0m2 1h0m0-1h0m1 0h0m0 1h0m0 0h0m31-1h0m4 3h0m1 2h0m5-4h0m1-1h0m3 0h0m2 5h0m2-4h0m3 1h0m2 1h0m46-1h0m0 1h0m0 1h0m0 1h0m0-5h0m2 5h0m1-2h0m0 2h0m1-1h0m1-3h0m0 1h0m0-2h0m0 4h0m0 1h0m1 0h0m0-4h0m0 2h0m1-1h0m1 0h0m1-1h0m1 2h0m0-3h0m2 1h0m1 4h0m4-3h0m0 2h0m2-2h0m0 2h0m1 1h0m0-3h0m0 0h0m0 0h0m0-1h0m3 2h0m0-1h0m2-2h0m1 4h0m0-2h0m1 0h0m0 0h0m1 2h0m-6 2h0m-1 1h0m-3 0h0m-1 3h0m-1 1h0m-1 0h0m0-1h0m-3-4h0m0 1h0m-4 4h0m0-2h0m-2-3h0m0 2h0m0-1h0m0 4h0m-1-3h0m0-1h0m-1 1h0m-1 1h0m0-3h0m-1 0h0m-2 2h0m0 0h0m0-1h0m-1 4h0m0 0h0m-1-5h0m0 4h0m-1-3h0m-47-1h0m-6 3h0m0 0h0m-3 1h0m-1 1h0m-1-3h0m-3 2h0m-2-4h0m-4 1h0m0 4h0m-36-1h0m-17 1h0m-1-5h0m-1 2h0m-1 0h0m-1 1h0m-1 2h0m-1-3h0m-1 3h0m-1-1h0m-1 1h0m-14-5h0m-1 3h0m-1-2h0m-1 4h0m0-4h0m0 0h0m0 2h0m0-1h0m-3-2h0m0 2h0m0 3h0m0-2h0m-2-3h0m0 4h0m-1 1h0m0-2h0m0-1h0m-1 0h0m-1 2h0m-1 0h0m-1-2h0m-1 0h0m-1-1h0m0 2h0m-5-2h0m0 1h0m0-1h0m0-1h0m-1 2h0m-1-1h0m-5 1h0m-1-1h0m-1-1h0m43 8h0m2 0h0m5 3h0m0-4h0m2 2h0m0-3h0m0 4h0m1-4h0m0 4h0m0-2h0m1 0h0m1 0h0m0-2h0m3 2h0m5-2h0m24 3h0m9-3h0m9 2h0m9-1h0m1 0h0m5-1h0m1 0h0m19 4h0m1 0h0m3 1h0m0-5h0m1 5h0m27-4h0m0-1h0m1 3h0m3-2h0m0 0h0m2 1h0m0-2h0m0 4h0m0 0h0m0-4h0m1 3h0m1-2h0m2 1h0m2-2h0m0 0h0m3 1h0m1 2h0m0-2h0m0 0h0m0-1h0m1 1h0m1 1h0m-42 7h0m0 1h0m-1-3h0m0 0h0m-1 2h0m0 1h0m-1-4h0m0 5h0m-1-3h0m-1 1h0m0 0h0m0-2h0m-1 0h0m0 3h0m-2-3h0m0-1h0m-2 2h0m0-1h0m0 0h0m0 0h0m0 4h0m-1-1h0m-1-2h0m-2 0h0m-2 0h0m0-2h0m0 3h0m-1-1h0m0-1h0m0 4h0m-3 0h0m-1-1h0m-3-1h0m-2 0h0m0 1h0m-1 0h0m-1 1h0m-2-1h0m-3 1h0m-19 3h0m0 2h0m1-1h0m2 1h0m1-1h0m5 1h0m1 1h0m1 0h0m1-3h0m0 3h0m0-1h0m2-2h0m0 3h0m1-4h0m2 3h0m0-3h0m1 4h0m1-3h0m0 1h0m0 1h0m0-1h0m2-1h0m0-1h0m1 0h0m2 2h0m1 1h0m3-2h0m0 0h0m0-1h0m1-1h0m2 1h0m1-1h0m0 4h0m0-3h0m2 4h0m2-1h0m3 1h0m1-3h0m0 0h0m2-2h0m2 2h0m0 3h0m0 0h0m1-5h0m1 2h0m0 3h0m1-1h0m1-3h0m0 2h0m1 2h0m0 0h0m1-2h0m0-2h0m1 1h0m1-2h0m0 4h0m2 0h0m1 0h0m5 6h0m-3-1h0m0 0h0m-1-1h0m0 3h0m0-2h0m0 2h0m-1-5h0m-1 5h0m0 0h0m0-5h0m0 4h0m-2-2h0m-1 0h0m0 2h0m-1-4h0m-1 2h0m0-1h0m-1-1h0m0 2h0m0 0h0m-2 2h0m0-1h0m-1-1h0m-1-1h0m0 2h0m-2 1h0m0-4h0m0 2h0m0 0h0m-1-2h0m0 4h0m-1-4h0m-1 5h0m-2-3h0m0 0h0m0 0h0m0-2h0m0 4h0m-1-2h0m0-1h0m0 2h0m-1 1h0m-1-1h0m0 0h0m-1 0h0m-1-2h0m-1 3h0m0-3h0m-1 4h0m0-2h0m0 2h0m-2-1h0m-1-3h0m0 4h0m0 0h0m0-1h0m-2 1h0m-2-2h0m0-1h0m-1 0h0m0-2h0m0 4h0m-1 0h0m-3-3h0m-1-1h0m0 2h0m-1 0h0m-1 0h0m0 1h0m0-2h0m0 3h0m0 0h0m0-4h0m-1 4h0m0 0h0m-1-4h0m0 3h0m0 0h0m-1-3h0m-2 0h0m0 4h0m-1-2h0m0 0h0m0 0h0m0 1h0m-1-2h0m0 3h0m0-4h0m-1 5h0m0-5h0m0 5h0m0-2h0m0 0h0m-1 2h0m0-3h0m0 3h0m0-4h0m0 1h0m-1 0h0m0-2h0m-1 4h0m-1-4h0m0 4h0m-1 1h0m-1-5h0m0 3h0m0-1h0m-1 0h0m0 2h0m0-3h0m-1 2h0m0-1h0m0-2h0m0 4h0m-1-4h0m0 0h0m0 5h0m0-3h0m-1-1h0m-1 0h0m-34 3h0m-1 1h0m-1-1h0m0-1h0m-4 2h0m0-2h0m-1 1h0m0-1h0m0 0h0m0-1h0m-1 3h0m0 0h0m-1 0h0m0-4h0m0 0h0m-1 1h0m0 0h0m0 3h0m0-4h0m-2 3h0m0 0h0m0-3h0m-1 4h0m0-1h0m0-1h0m0 1h0m-1-2h0m0 1h0m-1-1h0m0 0h0m-1 3h0m0-1h0m-1 0h0m-1-2h0m0 1h0m-1 0h0m-1 0h0m0 2h0m0-1h0m-1 1h0m0-3h0m-1 3h0m-1-1h0m-15 6h0m2-1h0m1 2h0m0-1h0m1-1h0m2-2h0m0 3h0m0-1h0m1 2h0m0 0h0m2-5h0m1 1h0m0 0h0m1 0h0m0-1h0m0 4h0m0-2h0m1 3h0m0-4h0m1 4h0m0-3h0m0 1h0m1 2h0m0-4h0m0-1h0m0 3h0m1 1h0m1 1h0m0-5h0m1 4h0m0 1h0m0-2h0m2 0h0m1 1h0m0 1h0m0-4h0m0 4h0m0-2h0m0 0h0m1-2h0m0 1h0m0 2h0m0-4h0m0 4h0m2 0h0m0-4h0m0 2h0m0-1h0m1 1h0m0 2h0m1 1h0m2-1h0m0 1h0m0-2h0m1 2h0m3-4h0m1 0h0m1 0h0m2 0h0m0 1h0m2 2h0m0-4h0m1 3h0m29 1h0m0 1h0m1 0h0m1-2h0m1 0h0m0 2h0m1 0h0m1-1h0m3-2h0m1-2h0m0 1h0m0-1h0m0 5h0m0-2h0m2 2h0m1-2h0m0-1h0m0 0h0m1-2h0m0 0h0m0 5h0m1-4h0m0 1h0m0 0h0m1-2h0m0 0h0m4 3h0m0 2h0m0-1h0m1-3h0m1 3h0m0-1h0m1 1h0m0 1h0m1-2h0m0 2h0m1-3h0m1 2h0m0-4h0m0 2h0m1 0h0m1 2h0m0-1h0m0-2h0m0 4h0m0-4h0m1 2h0m2 2h0m1-3h0m0 2h0m0-1h0m1 1h0m0-3h0m0 4h0m1 0h0m1-5h0m1 5h0m0-4h0m1 3h0m0-2h0m0 1h0m0 2h0m0-1h0m0 0h0m1-4h0m1 0h0m1 4h0m1-2h0m0 0h0m0 3h0m0-2h0m1 2h0m0-5h0m1 1h0m1 3h0m1-1h0m1-2h0m1 4h0m1-4h0m0-1h0m1 3h0m1-1h0m2 2h0m0-4h0m1 1h0m1 2h0m3 0h0m1 0h0m0-3h0m1 1h0m0 3h0m0-4h0m0 0h0m1 4h0m0 0h0m0-2h0m2 3h0m1-1h0m0-2h0m0-1h0m0-1h0m1 5h0m4-1h0m0 0h0m1-3h0m2 4h0m0-2h0m0 0h0m2 7h0m-1 1h0m0-1h0m0-2h0m-2 3h0m0 0h0m-2-2h0m0 0h0m0-1h0m0 1h0m-1 0h0m0-3h0m0 4h0m-1-2h0m-1 1h0m0-2h0m0 0h0m0 1h0m-3 2h0m-2-4h0m-1 0h0m0 4h0m-1-2h0m-1 0h0m0-2h0m-1 2h0m0-1h0m0-1h0m-1 2h0m-2 0h0m-1 3h0m0-4h0m-2 0h0m0 4h0m-1-1h0m-2-3h0m-3 0h0m-1 0h0m0-1h0m-3 4h0m0-1h0m-2-3h0m0 3h0m-1-1h0m0 0h0m-1-2h0m0 0h0m-3 3h0m0 2h0m-1-2h0m-1-2h0m-1 2h0m0-1h0m0 2h0m0-4h0m0 5h0m-1 0h0m-2-1h0m0-1h0m-2-2h0m-1 0h0m-1 2h0m0-3h0m0 0h0m-1 4h0m-2 0h0m0 1h0m0-2h0m0 0h0m-1-1h0m0 0h0m-1 2h0m0-4h0m0 5h0m0 0h0m-2 0h0m0-5h0m-2 2h0m-1 3h0m0-3h0m-1 3h0m-1-3h0m-1 0h0m0 0h0m0 0h0m-1 3h0m0-5h0m0 3h0m0 1h0m0-4h0m-2 4h0m0-1h0m-2 0h0m-2-3h0m-1 1h0m-1 1h0m0-1h0m-1 0h0m-1-1h0m0 3h0m-1 0h0m-23 1h0m-2-3h0m-1-1h0m0 0h0m-5 5h0m-1-4h0m0 0h0m0 2h0m0 2h0m0 0h0m-1-1h0m0-2h0m-2-1h0m-1 3h0m0-4h0m-1 0h0m0 4h0m0-3h0m-1 1h0m-1-2h0m-1 2h0m0 0h0m-1 1h0m0-3h0m0 1h0m0 2h0m-1 0h0m0-2h0m0-1h0m0 3h0m0 1h0m0-2h0m-1 0h0m0-1h0m0 3h0m-1-3h0m-1 0h0m0 4h0m-1-1h0m-1-1h0m0 1h0m0 1h0m0-1h0m-2-1h0m0-2h0m-1-1h0m0 5h0m-1 0h0m-1-1h0m0-3h0m-1-1h0m-2 5h0m0-5h0m0 3h0m0 1h0m-1 1h0m0-1h0m-1-1h0m-2-3h0m0 2h0m-1 2h0m0-3h0m0-1h0m-1 4h0m-1 1h0m0-5h0m0 3h0m0 1h0m0-4h0m0 1h0m-1 0h0m-2-1h0m0 1h0m-1 1h0m0 0h0m0 0h0m0-2h0m0 0h0m-1 2h0m-1-2h0m-1 2h0m-2 3h0m-1 0h0m2 1h0m1 2h0m0-2h0m2 2h0m1 2h0m0 0h0m0-4h0m0 4h0m3-2h0m0-2h0m0 1h0m0 2h0m1 0h0m0-1h0m0 2h0m0 0h0m1-4h0m1 2h0m0-2h0m0 2h0m0-2h0m0 3h0m1-2h0m0 4h0m1-4h0m1 0h0m0-1h0m1 3h0m0-1h0m0 1h0m0-1h0m0 2h0m1-2h0m0-2h0m2 1h0m1 2h0m1-2h0m0 0h0m1 2h0m1-2h0m1 3h0m0-1h0m0 1h0m0-2h0m0 0h0m1-1h0m0 3h0m0-2h0m0 0h0m1 2h0m0 1h0m0-4h0m1-1h0m0 0h0m1 3h0m0 2h0m0-3h0m1-2h0m1 0h0m1 3h0m0 1h0m0 1h0m1-2h0m0 1h0m0 0h0m0-1h0m1 1h0m1 1h0m1-2h0m0 2h0m0-3h0m1 1h0m0 2h0m0-3h0m1 0h0m0-1h0m0 0h0m1 3h0m0-2h0m0-1h0m0 3h0m1-3h0m0 0h0m2-1h0m2 3h0m0-2h0m0 3h0m1 0h0m0 0h0m2 0h0m1-2h0m0-2h0m1 0h0m0 0h0m0 0h0m1 5h0m1-4h0m0 4h0m0-5h0m1 5h0m0-3h0m0 0h0m1-1h0m1 4h0m0-2h0m16 2h0m2-3h0m0-2h0m2 5h0m1-2h0m1 1h0m0-4h0m0 4h0m1-3h0m0 1h0m1 1h0m0 2h0m1 0h0m0-4h0m0 0h0m1 4h0m0 0h0m0-3h0m0 2h0m2 1h0m0-4h0m0 3h0m0-4h0m0 0h0m0 4h0m1-4h0m0 1h0m1 2h0m1 0h0m0-3h0m0 5h0m1 0h0m0 0h0m0-1h0m0-2h0m1-1h0m0 4h0m1-2h0m0 2h0m1-1h0m1 0h0m1-3h0m0 0h0m0 1h0m1 0h0m0 3h0m1-4h0m1 2h0m1 1h0m1 1h0m4 0h0m1-2h0m0-3h0m0 2h0m1 3h0m1-3h0m0 2h0m0 1h0m1-5h0m0 1h0m1 4h0m0-2h0m1-2h0m1 3h0m1-2h0m1-1h0m6 2h0m1-1h0m0 3h0m2-3h0m1 1h0m0 0h0m1-1h0m1 0h0m0-1h0m1 2h0m2-1h0m0 3h0m1-5h0m0 1h0m1 0h0m1 1h0m2 1h0m1-3h0m0 5h0m0-5h0m1 2h0m1 2h0m0-2h0m1 3h0m0 0h0m0-5h0m0 4h0m1-4h0m0 0h0m1 1h0m1 3h0m0-4h0m1 3h0m0 0h0m0-2h0m1-1h0m1 4h0m1-2h0m1 3h0m0-2h0m2-2h0m3-1h0m0 3h0m1-2h0m-5 8h0m-1 2h0m0 0h0m0-4h0m-1 4h0m0 0h0m-1-3h0m0 3h0m-2-1h0m-1 0h0m0-4h0m0 2h0m0 3h0m-1-3h0m-1 3h0m0-2h0m0 0h0m-2-2h0m-1 3h0m-1-3h0m0 0h0m-2 1h0m0 2h0m0-3h0m-1 0h0m0 4h0m-2-2h0m0 2h0m0-2h0m-1 1h0m0 1h0m-1 0h0m-1-5h0m-2 3h0m0-1h0m0 2h0m0-3h0m-1-1h0m0 5h0m-1-4h0m0 3h0m0 0h0m-2-4h0m-1 3h0m0 2h0m0-2h0m-2-1h0m0 0h0m0 1h0m-1 2h0m-1-3h0m0 1h0m-1 1h0m-2 1h0m0-3h0m0-2h0m-2 2h0m-1 1h0m-1-2h0m0 3h0m-1-1h0m-1-1h0m0-1h0m-2 3h0m-1-4h0m-1 5h0m0-5h0m-1 3h0m0-2h0m0 0h0m0 1h0m-1-2h0m-1 3h0m0 1h0m0-4h0m0 2h0m-1-1h0m0-1h0m0 2h0m0 3h0m0-5h0m-1 5h0m-1 0h0m0-3h0m-1 2h0m0 1h0m0-3h0m-1 0h0m0 0h0m-1-1h0m-3 2h0m0-3h0m-1 4h0m0-3h0m0 4h0m0-5h0m-1 4h0m0 0h0m0-3h0m-1 2h0m0-1h0m-1 0h0m-1-2h0m-1 2h0m0 0h0m-1 3h0m0-2h0m0-3h0m-2 5h0m-2-5h0m0 4h0m0 1h0m0-4h0m0 4h0m-2-1h0m0-2h0m-1-1h0m-1-1h0m0 5h0m-1-5h0m-12 0h0m-7 0h0m-1 1h0m0-1h0m0 0h0m-1 0h0m-1 1h0m0 2h0m-1-1h0m0 0h0m-1 2h0m-1 0h0m-1 1h0m0-5h0m-1 4h0m-1 0h0m0 1h0m0-4h0m0 4h0m-2-2h0m0 2h0m-1-1h0m0-3h0m-1 3h0m0 1h0m0-3h0m-1-1h0m0 4h0m-1-5h0m0 4h0m-1-2h0m-1 0h0m-1 1h0m0-1h0m0 0h0m0 0h0m-1 0h0m-1 3h0m0-1h0m0-1h0m0 0h0m-1-2h0m0 0h0m0 0h0m-1 3h0m0 1h0m-1 0h0m0-1h0m0-3h0m0 3h0m-1-2h0m-1 0h0m0 0h0m-2-2h0m0 0h0m-11 1h0m-1-1h0m17 6h0m0 2h0m1-2h0m0 0h0m1 1h0m2 1h0m0 2h0m2-3h0m0 0h0m0 1h0m0-2h0m1 0h0m1 0h0m1 3h0m1-2h0m0-1h0m2 0h0m0 3h0m29 0h0m0-3h0m0 0h0m1 2h0m2 0h0m0 2h0m1-1h0m0 1h0m0-3h0m1 2h0m0-3h0m0 2h0m1 2h0m3-2h0m1 0h0m0 3h0m0-5h0m0 0h0m1 0h0m3 1h0m3 1h0m1 3h0m0-4h0m0 4h0m1 0h0m0-3h0m0 3h0m1-3h0m1-1h0m0 2h0m0-1h0m0 0h0m1 1h0m2 2h0m1-3h0m1 2h0m1-4h0m1 2h0m2 0h0m0 3h0m1 0h0m1-4h0m0-1h0m1 1h0m1 2h0m0-2h0m2 2h0m1 2h0m1-2h0m1 1h0m0-1h0m0 2h0m1-1h0m1 1h0m0-3h0m1 0h0m0 1h0m0 1h0m0-4h0m1 0h0m0 5h0m0-3h0m1 0h0m0-2h0m0 2h0m0 1h0m0 1h0m1-2h0m0 3h0m1-1h0m0-2h0m1 1h0m1 1h0m0-4h0m1 3h0m0-2h0m1 3h0m1-4h0m0 2h0m1-2h0m0 0h0m1 3h0m0-1h0m1-2h0m0 2h0m1-1h0m1 1h0m0 3h0m0-1h0m1-3h0m1 2h0m0-1h0m1-1h0m0 4h0m1-2h0m2 1h0m1 1h0m0-4h0m0 4h0m1-4h0m1-1h0m1 5h0m2-4h0m0-1h0m1 0h0m-5 6h0m0 2h0m-1 3h0m0-2h0m0-2h0m-1 4h0m0 0h0m-1-2h0m0-3h0m-1 1h0m0 0h0m0 2h0m-1 2h0m0-4h0m0 0h0m-1-1h0m0 5h0m0-2h0m-1 1h0m0-2h0m-1-2h0m0 4h0m0 0h0m0-4h0m0 3h0m-1-3h0m0 2h0m-2 1h0m0-1h0m-1 3h0m0-4h0m0 2h0m-1 1h0m-2-4h0m-1 1h0m0 2h0m-1-3h0m-1 3h0m0 1h0m0-4h0m-2 5h0m-1-1h0m0-2h0m-1 2h0m-1-1h0m-1 1h0m0 0h0m0-3h0m-1 0h0m-1 4h0m0-2h0m0 1h0m-2 0h0m0-3h0m0 1h0m-1-1h0m0 3h0m-1-3h0m0 3h0m-1 1h0m0-3h0m-2-2h0m-1 0h0m0 4h0m-1-4h0m0 5h0m-1-5h0m0 0h0m-2 2h0m0 1h0m0 0h0m0 1h0m0-3h0m-1 3h0m0 1h0m-1-1h0m0-2h0m-1-2h0m-1 3h0m0-1h0m-1 2h0m0-2h0m0 0h0m-1 1h0m0-2h0m-1 0h0m0-1h0m0 2h0m0-1h0m-2 4h0m0-1h0m0-3h0m-1 2h0m0-1h0m-1-1h0m0 3h0m0-2h0m0 3h0m-2-5h0m0 4h0m0-3h0m-1 3h0m-1-4h0m-2 4h0m0-1h0m0 0h0m-1 1h0m0-4h0m-1 4h0m0 1h0m-1-3h0m0 2h0m-1-3h0m0 1h0m-1 2h0m-1 0h0m0-3h0m0-1h0m-1 5h0m0 0h0m-1 0h0m0-1h0m0-3h0m0 1h0m-2 3h0m0-1h0m-1 1h0m-38-2h0m38 6h0m0-3h0m0 4h0m0 1h0m1-5h0m1 0h0m0 0h0m0 0h0m0 0h0m1 4h0m0-4h0m0 3h0m0 1h0m0-4h0m1 0h0m1 5h0m0-3h0m1 1h0m0 0h0m1 1h0m0-4h0m1 5h0m0 0h0m1-4h0m1 2h0m0-3h0m1 3h0m0-2h0m0 4h0m1-1h0m1 0h0m0-3h0m1-1h0m0 1h0m0 4h0m0-5h0m2 2h0m1-1h0m0 1h0m0-2h0m1 3h0m1-3h0m0 5h0m0-3h0m0-1h0m1 0h0m1-1h0m1 1h0m1 4h0m1-1h0m0-3h0m1 4h0m0 0h0m0-3h0m1 2h0m0-2h0m1 0h0m0 1h0m0 0h0m0-3h0m1 2h0m0 0h0m0-1h0m3 1h0m1-2h0m1 0h0m0 1h0m0 2h0m0-3h0m1 2h0m1 2h0m1-4h0m0 1h0m0 4h0m1-2h0m0-3h0m0 0h0m1 2h0m0-1h0m0 4h0m1-5h0m0 4h0m1-2h0m0 2h0m0-4h0m0 4h0m1 1h0m1-1h0m0-3h0m0-1h0m1 0h0m3 1h0m0-1h0m1 5h0m0-4h0m1 1h0m0 3h0m1-5h0m0 2h0m1 2h0m2-1h0m1 2h0m0-4h0m0 3h0m2-1h0m0 2h0m3-3h0m0 1h0m0-1h0m1 0h0m0-2h0m0 1h0m0 0h0m1 3h0m1-4h0m-8 6h0m-1 0h0m-5 2h0m0-1h0m0-1h0m-1 0h0m-2 2h0m-1-2h0m-2 1h0m0 0h0m-1 1h0m0 1h0m0-2h0m-1 4h0m-1-5h0m0 1h0m-2-1h0m-1 0h0m0 2h0m0 0h0m-1-1h0m0-1h0m-1 1h0m-1 3h0m0-3h0m0 3h0m-1 1h0m0-4h0m0 3h0m0-4h0m0 0h0m-1 4h0m0-2h0m-1-2h0m0 5h0m0-3h0m-1-2h0m-1 5h0m0-5h0m0 3h0m-1-1h0m0 0h0m0 1h0m-1-3h0m0 2h0m0-2h0m-1 0h0m-1 5h0m0-2h0m0-3h0m0 4h0m-1-3h0m0 4h0m0-1h0m-1 1h0m0-3h0m0 0h0m-1-1h0m0 3h0m-1-2h0m0-1h0m-1 0h0m0-1h0m0 4h0m0-4h0m0 0h0m0 4h0m-1-4h0m0 2h0m0 2h0m0-3h0m-1-1h0m0 3h0m-3 2h0m0-2h0m0-3h0m0 5h0m0-5h0m-1 5h0m0-2h0m-1-2h0m0-1h0m-1 3h0m-1 1h0m0-1h0m0 2h0m-1-1h0m-1-1h0m0 0h0m-1-3h0m-1 2h0m-1 1h0m-1 1h0m0-2h0m0-1h0m-1 3h0m0 1h0m-1-4h0m0 0h0m0 0h0m-1 0h0m5 7h0m0-1h0m1 2h0m1-2h0m1 4h0m1-1h0m0-4h0m0 5h0m1-3h0m0-1h0m2-1h0m0 1h0m1 4h0m0-4h0m1 1h0m1 0h0m1 3h0m1-5h0m0 4h0m1-3h0m1 2h0m1-1h0m0 3h0m1-1h0m0-3h0m1 1h0m1-1h0m0 0h0m1-1h0m0 0h0m1 3h0m0-2h0m1 2h0m0 2h0m1-4h0m2 4h0m0-4h0m1 4h0m0-4h0m0-1h0m1 0h0m0 2h0m1-2h0m0 0h0m1 2h0m1 0h0m0 1h0m-3 4h0m-4 0h0m0-1h0m-1 0h0m-3 4h0m-2 0h0m-1 1h0m-1-2h0m0 0h0m-1-1h0m-1 0h0m0 0h0m0-1h0m-1 0h0m0 2h0m0-1h0m-3-2h0m0 0h0m0 0h0m-1 0h0m0 2h0"/>
<path stroke="#649ac7" d="m128 106h0m38 10h0m-46 5h0m26 5h0m-10 8h0m24 1h0m-35 9h0m7 7h0m-1 8h0"/>
<path stroke="#86bcd9" d="m145 89h0m-66 2h0m49 10h0m38-3h0m5 5h0m-2 4h0m-32-2h0m-21 1h0m-3 2h0m27 2h0m-3 9h0m-4-3h0m-11-1h0m-45 6h0m63 0h0m31 5h0m-27 4h0m-26 0h0m16 2h0m25 7h0m-2 3h0m-7-3h0m-39 8h0m3 1h0m9 0h0m17-1h0m7 0h0m18 4h0m-40 4h0m-9-4h0m8 9h0m12 0h0m73 3h0m-85 2h0m-1 2h0m-5 1h0m6 2h0"/>
<path stroke="#abd9e9" d="m162 94h0m-8 1h0m-1-5h0m-1 3h0m-5-3h0m-1 4h0m-2 3h0m1 3h0m18-4h0m6 8h0m-3 2h0m-23-2h0m-17 3h0m-3-2h0m-6 5h0m11 3h0m11-4h0m6 1h0m1-2h0m10 4h0m-6 3h0m-22 4h0m-4 4h0m6 2h0m23-1h0m14-1h0m-5 7h0m-28 1h0m-6 0h0m-11-3h0m-37 7h0m74 2h0m2 0h0m4-5h0m6 0h0m-19 10h0m-11-2h0m0 3h0m-19-3h0m-1 0h0m-3 9h0m0-1h0m2 1h0m0-3h0m1-1h0m17 1h0m16 3h0m0-5h0m3 3h0m1 0h0m7 1h0m6-3h0m-31 7h0m-6 0h0m-9 1h0m-5 0h0m0-1h0m-57 2h0m59 3h0m0 4h0m1 0h0m8-4h0m2 0h0m8 2h0m75-2h0m-15 7h0m-65-2h0m-3 4h0m-14-3h0m13 5h0m3 0h0m61 2h0m-56 26h0m3 1h0m8 10h0m4 17h0"/>
<path stroke="#ceeaf3" d="m87 84h0m58 5h0m9 1h0m-4 5h0m-2 0h0m-1-3h0m-7 3h0m-35 4h0m2-3h0m26 1h0m4 2h0m3 1h0m5-4h0m9 1h0m5 4h0m11 1h0m-2 0h0m-18 3h0m-5 0h0m-17-2h0m-2 2h0m-7 0h0m-6 2h0m-58 3h0m59-1h0m3 0h0m3 2h0m0-2h0m13 3h0m1 0h0m6 1h0m4-4h0m9 3h0m2 1h0m5-4h0m0 2h0m7 2h0m2-4h0m-6 6h0m0 4h0m-4-5h0m-10 4h0m-5-2h0m-1 3h0m-11-5h0m-8 0h0m-1 1h0m0 0h0m0 2h0m-80 5h0m97 0h0m11 2h0m14-1h0m3-1h0m0 0h0m5 6h0m-1-2h0m-9 3h0m-4 0h0m-6-3h0m-17 2h0m-3-1h0m-15 4h0m-6 6h0m5-2h0m8 0h0m2 2h0m18-1h0m7-3h0m1 3h0m1-2h0m0 1h0m9 1h0m1-2h0m2 2h0m9-1h0m-1 4h0m-4 4h0m-12-4h0m-6 3h0m0 1h0m-1-1h0m-1-4h0m-1 1h0m-3 1h0m-1 1h0m-4 2h0m-14-5h0m-8 3h0m-7-2h0m-88 0h0m-1 1h0m-2 5h0m90 0h0m4 3h0m17 0h0m8 0h0m3-1h0m1-3h0m2 1h0m19-1h0m1 5h0m1-2h0m38 5h0m-14 1h0m-38-2h0m-18 1h0m-4 1h0m-6 0h0m-9-2h0m-58 2h0m-45 1h0m0 6h0m104-1h0m3-3h0m2 4h0m67 0h0m12 1h0m-69 3h0m-2 1h0m-1 1h0m-2 0h0m-5 0h0m-2 1h0m-2-3h0m-3-1h0m3 6h0m4 0h0m1 0h0m1-1h0m1 0h0m22 11h0m-4 8h0m-2 3h0m-24-3h0m2 10h0m7-3h0m19 3h0m13-3h0m8 7h0m-61 2h0m-36 2h0m5 0h0m41 4h0m6-1h0m40-3h0m0-1h0m-7 8h0m-51-1h0m48 7h0m-15 9h0m-2-3h0m-20 2h0m9 5h0m4 1h0m17 0h0m3 0h0m-31 10h0"/>
<path stroke="#eaf7e5" d="m82 76h0m8-3h0m29 1h0m27 15h0m19 6h0m-1 0h0m-14-2h0m-5-2h0m0 0h0m-3 3h0m-1 1h0m-2 0h0m-5 1h0m3 5h0m1-3h0m1 1h0m3-1h0m0 0h0m0 3h0m3-5h0m3 2h0m0 2h0m1-1h0m1-3h0m4 0h0m4 0h0m4 0h0m0 3h0m3 0h0m0 2h0m1-2h0m3 1h0m-1 3h0m-2-1h0m0 0h0m-4 3h0m-3-3h0m-3 3h0m-2-1h0m-2 2h0m-3 0h0m-1-4h0m-3 4h0m-5 1h0m-6-2h0m-2 2h0m-4 0h0m0-1h0m-2-4h0m-10 5h0m-66 0h0m66 1h0m4 3h0m4 0h0m0 1h0m0-3h0m1-1h0m0 2h0m7-1h0m0-1h0m3 2h0m1 0h0m6 3h0m2-2h0m3-3h0m1 1h0m4 3h0m1-2h0m1 3h0m10 0h0m0 0h0m4-4h0m-2 6h0m-3 2h0m-3-2h0m-8 1h0m-2-1h0m-1 0h0m-3 1h0m-2 1h0m-1 0h0m-1-3h0m-2 3h0m-6 2h0m-1-3h0m-8 1h0m-3 0h0m-2-3h0m-77 6h0m76 5h0m1-3h0m16 0h0m1 0h0m1 0h0m3 0h0m3 2h0m9 0h0m0-4h0m7 2h0m4 2h0m5 3h0m-2 0h0m-3-1h0m-4 4h0m-9-2h0m-1 2h0m-1 1h0m-15 0h0m-9-3h0m-8-1h0m-2 3h0m0 1h0m-44-3h0m-24 2h0m4 6h0m64-1h0m3 1h0m5-3h0m2 1h0m20 2h0m6-2h0m6-2h0m2 1h0m2 1h0m1 2h0m0-1h0m7-3h0m2 2h0m2 7h0m0 1h0m-2-2h0m-9 2h0m-3-3h0m-1 4h0m-2-4h0m-1 3h0m-6-4h0m-1 4h0m-1-3h0m-1-1h0m0 2h0m-1 3h0m-9-4h0m-1-1h0m-16 2h0m-3 3h0m-57 5h0m27-3h0m26 3h0m10 1h0m3 0h0m2-3h0m10 3h0m1 0h0m4 0h0m1-5h0m1 0h0m3 4h0m2-1h0m3-2h0m5 4h0m3-5h0m3 0h0m3 1h0m2 1h0m0 3h0m0 0h0m43 6h0m-8-2h0m-38-3h0m-4 2h0m-23-1h0m0-1h0m-3 5h0m0-3h0m-2 0h0m-1 2h0m-4 1h0m-1 0h0m-4-5h0m-6 1h0m-85 3h0m88 5h0m6 2h0m3-2h0m1-2h0m4 3h0m55 0h0m8-1h0m3 2h0m7-1h0m3-3h0m-2 5h0m-3 1h0m-73 2h0m-4 1h0m-2-4h0m-1 0h0m-4 0h0m-66 8h0m69-2h0m66 3h0m11-1h0m-45 6h0m-4 2h0m-1-2h0m-4 2h0m-1-2h0m-9 1h0m-29 6h0m12 1h0m6-1h0m5 0h0m11 0h0m5-2h0m3 3h0m2-2h0m2 3h0m6-3h0m2 6h0m-1 0h0m-5 2h0m-1 1h0m-2-2h0m-3 2h0m-1-5h0m-3 2h0m-25 1h0m-66 2h0m7 3h0m40-2h0m34 4h0m2-3h0m3-1h0m3 5h0m3-3h0m6 0h0m15 9h0m-1-3h0m-1 2h0m-2 0h0m-14-4h0m-108 0h0m-6 10h0m94-3h0m2 4h0m4-2h0m13-1h0m7 1h0m4 0h0m4-3h0m-3 6h0m-5 0h0m-1 1h0m-1 0h0m-6-1h0m-8 0h0m-11 2h0m-2 0h0m-9 0h0m-22 2h0m-38 5h0m1-3h0m42 2h0m2 3h0m17-5h0m5 0h0m5 5h0m18-3h0m5 6h0m-6 0h0m-1-2h0m-3 5h0m-1-3h0m-12-2h0m-1 2h0m-14 2h0m-1 0h0m-2 0h0m-4 1h0m-18-1h0m0 6h0m9-3h0m15-1h0m8 5h0m22-4h0m-36 19h0m-2-2h0"/>
<path stroke="#ffffbf" d="m104 70h0m-1 1h0m0 14h0m44 3h0m1 0h0m2-2h0m10 5h0m-4 1h0m-1 3h0m-2-2h0m-6-2h0m-1 0h0m-1 1h0m0-2h0m-4 4h0m-31-3h0m-2 1h0m21 6h0m3 0h0m2 0h0m2-2h0m1 4h0m3-4h0m1 1h0m0 0h0m1 2h0m3-3h0m4 5h0m5-2h0m6 2h0m11 6h0m-2-5h0m0 2h0m-4-1h0m-2 0h0m-6 0h0m-2 1h0m0-2h0m-3 3h0m-2 2h0m-7-2h0m0 2h0m-1-4h0m-3-1h0m0 0h0m-4 1h0m-2 1h0m-3 1h0m-1 2h0m-4-4h0m0-1h0m-1 0h0m-46 1h0m-35 10h0m28 0h0m38-5h0m0 0h0m11 5h0m2-1h0m2-4h0m3 4h0m1 1h0m3-1h0m1-2h0m3-1h0m0 4h0m1-1h0m0-2h0m2 0h0m7 3h0m1-3h0m0-2h0m1 4h0m2-4h0m0 0h0m2 2h0m1-2h0m8 4h0m4-1h0m0 2h0m4-2h0m0-2h0m-12 5h0m-1 4h0m-5 0h0m0 0h0m-4-3h0m-3 1h0m-1 0h0m-6 3h0m-4-5h0m-2 5h0m-7-5h0m-1 5h0m-51 6h0m45-1h0m3 1h0m8-3h0m1 3h0m3-3h0m3 1h0m5-2h0m3 4h0m1-4h0m9 0h0m2-1h0m1 2h0m15 9h0m-2-3h0m-2-2h0m-9 3h0m-5-2h0m-9-1h0m-7 5h0m-1-3h0m-1-2h0m-5 0h0m-5 3h0m-2-1h0m-5 3h0m-2-4h0m6 5h0m24 0h0m2 5h0m4-2h0m7 1h0m16-1h0m-2 4h0m0 1h0m-1 1h0m-9-3h0m-4 2h0m-2 0h0m0-2h0m-6 3h0m-1 1h0m0 0h0m-6-1h0m-6 1h0m-1-2h0m-9 3h0m-1-4h0m-3-1h0m-11 0h0m-29 0h0m-7 2h0m-31 2h0m-28 5h0m31 0h0m62-3h0m10 5h0m3-4h0m4 3h0m7 1h0m11-4h0m1 4h0m6-3h0m6 2h0m1 1h0m2-4h0m4 0h0m1 0h0m1 4h0m0-2h0m1-1h0m0 0h0m40 8h0m-4-2h0m-12 1h0m-29-2h0m-1 1h0m-26 0h0m-7 1h0m-12 0h0m1 6h0m5-1h0m6 2h0m4-1h0m3-1h0m52-1h0m1 2h0m5 2h0m2 0h0m6-3h0m2-2h0m-14 11h0m-6-3h0m-149 0h0m161 5h0m-46 10h0m-1 0h0m-20 3h0m11 0h0m13 1h0m5-2h0m-6 7h0m0 2h0m-19 1h0m-1-2h0m5 7h0m8 1h0m9-1h0m9 5h0m-19 1h0m0-4h0m-20 3h0m-16 0h0m-82-3h0m26 8h0m24 1h0m41-1h0m47 6h0m-4-2h0m-2 5h0m-28-4h0m-6 2h0m-31-1h0m7 4h0m0 4h0m6-4h0m1 1h0m27 0h0m2 0h0m1 2h0m16 2h0m-11 1h0m-20 0h0m-5 0h0m-26 5h0m11 2h0m11 0h0m32 4h0m2-3h0m1-2h0m0 4h0m-31 4h0m-22 3h0m15 6h0m-4 4h0"/>
<path stroke="#feeaa0" d="m103 78h0m64 17h0m-1-1h0m-14-4h0m-3 4h0m-4 0h0m-10 1h0m5 3h0m0 1h0m7 1h0m2 0h0m10 1h0m0-5h0m5 1h0m1 9h0m-3 0h0m-6 0h0m-1-4h0m-6 5h0m-3-5h0m-1 1h0m-3 3h0m-1 0h0m-17-4h0m-10 5h0m11 3h0m1 1h0m6 1h0m11-2h0m2 3h0m0 0h0m6-1h0m11 1h0m1 0h0m7-3h0m-5 5h0m-1 0h0m-3 3h0m-3-4h0m-4 3h0m-4-1h0m-10 2h0m-19 1h0m-1-3h0m7 4h0m2 5h0m9-3h0m4-1h0m1 4h0m1-1h0m8-2h0m0 2h0m2-4h0m3 1h0m1 1h0m1 1h0m12 8h0m-7-3h0m-3 1h0m-6 2h0m-11-1h0m-12-1h0m0-2h0m-9 3h0m-1-3h0m-4 4h0m-3 3h0m10 3h0m11-4h0m14 4h0m0-1h0m6 0h0m4-2h0m11 2h0m2-1h0m-2 6h0m-3-3h0m-7 1h0m-9-1h0m0 5h0m-5-1h0m-14 1h0m-6-3h0m-5 1h0m-9-2h0m7 9h0m1-4h0m12 2h0m4-2h0m10 2h0m1 2h0m15-4h0m0 3h0m3 1h0m-52 5h0m7 3h0m16 0h0m74 0h0m-22 7h0m-62 4h0m-7-2h0m67 4h0m-65 15h0m24-1h0m13-3h0m-29 13h0m31 7h0m-14 2h0m10 9h0m-59 2h0m-40 7h0m73-2h0m12 3h0m5-3h0m10-2h0m-44 6h0m29 10h0m-43 5h0"/>
<path stroke="#fecf80" d="m157 90h0m-4 5h0m-2 0h0m-4-4h0m-12 4h0m-5 5h0m2-4h0m0 5h0m38 1h0m-1 2h0m-26 3h0m-13-1h0m-4 1h0m-13 0h0m0 3h0m1-1h0m9 3h0m11-3h0m4-1h0m3 3h0m0 0h0m17 2h0m10 1h0m-24 5h0m-10 1h0m17 0h0m11 1h0m6 4h0m-17 2h0m-21 4h0m0-1h0m24 7h0m12-3h0m5 0h0m-3 5h0m-1 1h0m-2 0h0m-9-2h0m-25 5h0m-7 2h0m4 3h0m10-3h0m31 1h0m-53 8h0m-1-2h0m-83 8h0m89-2h0m22 18h0m-91 27h0m95 14h0m-18 8h0"/>
<path stroke="#fdae61" d="m162 91h0m-2 1h0m-1 1h0m11 9h0m-11 2h0m-12 1h0m-10 2h0m-20 0h0m3 3h0m8 0h0m6 1h0m26 2h0m1-5h0m2 7h0m-15-1h0m-21 0h0m45 15h0m-7-1h0m-4 11h0"/>
<path stroke="#f7834d" d="m158 94h0m-2 6h0m-20 4h0m34 36h0"/>
<path stroke="#ea593a" d="m136 137h0"/>
</g></g><use href="#t108" stroke-width="3.5"/></g>
<path d="M723.8 1793.2V2000.6H947.5" fill="none" stroke="#000" stroke-width="1.9"/>
<text x="723.8" y="2013.4" font-size="9.4" text-anchor="middle" fill="#333">−50</text>
<text x="775.7" y="2013.4" font-size="9.4" text-anchor="middle" fill="#333">−25</text>
<text x="827.7" y="2013.4" font-size="9.4" text-anchor="middle" fill="#333">0</text>
<text x="879.7" y="2013.4" font-size="9.4" text-anchor="middle" fill="#333">25</text>
<text x="931.7" y="2013.4" font-size="9.4" text-anchor="middle" fill="#333">50</text>
<text x="719.1" y="1797.2" font-size="9.4" text-anchor="end" fill="#333">50</text>
<text x="719.1" y="1849.3" font-size="9.4" text-anchor="end" fill="#333">25</text>
<text x="719.1" y="1901.4" font-size="9.4" text-anchor="end" fill="#333">0</text>
<text x="719.1" y="1953.5" font-size="9.4" text-anchor="end" fill="#333">−25</text>
<path d="M723.8 2000.6v3.2M775.7 2000.6v3.2M827.7 2000.6v3.2M879.7 2000.6v3.2M931.7 2000.6v3.2M723.8 1793.8h-3.2M723.8 1845.8h-3.2M723.8 1897.9h-3.2M723.8 1950h-3.2" stroke="#000" stroke-width="1.5" fill="none"/>
<text x="834.9" y="2032.4" font-size="14" text-anchor="middle">tSNE_1</text>
<text x="707.8" y="1896.7" font-size="14" text-anchor="middle" transform="rotate(-90 707.8 1896.7)">tSNE_2</text>
<text x="845" y="1759.7" font-size="33.5" text-anchor="middle" font-style="italic" stroke-width="0.40">Ccr4</text>
<rect x="958.1" y="1873.2" width="11.6" height="57.5" fill="url(#rb)"/>
<text x="958.5" y="1868.8" font-size="7.3" fill="#222">Scale.data</text>
<text x="973" y="1879.6" font-size="6.1" fill="#333">6</text>
<text x="973" y="1896.7" font-size="6.1" fill="#333">4</text>
<text x="973" y="1913.6" font-size="6.1" fill="#333">2</text>
<text x="973" y="1930.1" font-size="6.1" fill="#333">0</text>
<path d="M958.1 1877.4h2.3M969.7 1877.4h-2.3M958.1 1894.5h2.3M969.7 1894.5h-2.3M958.1 1911.4h2.3M969.7 1911.4h-2.3M958.1 1927.9h2.3M969.7 1927.9h-2.3" stroke="#fff" stroke-width="0.5" fill="none"/>
<g transform="translate(1053.3 1734.1)" fill="none" stroke-linecap="round"><g stroke-width="4.2"><g id="t109">
<path stroke="#4575b4" d="m100 65h0m1 0h0m1-2h0m4 2h0m14 5h0m-4-1h0m0 0h0m0 1h0m-1-4h0m-3 4h0m-1-3h0m0 0h0m-2 2h0m-1 2h0m0-1h0m-1-2h0m-4 3h0m0-2h0m-1 1h0m-3-4h0m-3 5h0m-16 6h0m2-1h0m5-1h0m3-2h0m0 2h0m3 2h0m1-1h0m3-1h0m2-1h0m0 1h0m1-1h0m1-1h0m0 0h0m2 4h0m1-2h0m0 1h0m1 1h0m0-2h0m0-1h0m1 0h0m2 3h0m1-3h0m0-1h0m1-1h0m1 0h0m1 2h0m2 3h0m0-4h0m1 0h0m2 3h0m3-2h0m3 8h0m-9-1h0m0-1h0m-1-2h0m0 4h0m0 0h0m-1 0h0m-1-3h0m-1 3h0m-1-2h0m-1 2h0m-2 1h0m-2 0h0m0-1h0m-1-3h0m0-1h0m0 2h0m-1 3h0m-1-2h0m0 2h0m-1-1h0m0-4h0m0 2h0m-1 1h0m-1 2h0m-1-5h0m-9 4h0m-2 1h0m-1-2h0m0 1h0m-2-1h0m-1-1h0m-2 1h0m-2-3h0m-3 2h0m0 1h0m0 1h0m-3 1h0m-1-2h0m-1 2h0m-2-1h0m-1-1h0m-9 7h0m5-3h0m0-1h0m2 3h0m3 2h0m0-2h0m0 0h0m2 1h0m1-4h0m2 2h0m2 0h0m0 0h0m2 0h0m1 0h0m2 0h0m1 0h0m1-2h0m0 1h0m1 2h0m3-3h0m1 2h0m0-2h0m1 4h0m11 0h0m0-3h0m2 0h0m0 0h0m1 1h0m1 0h0m1-1h0m1 0h0m1 1h0m2 3h0m4-2h0m1 2h0m32 0h0m0-1h0m0 1h0m1 0h0m1-1h0m1-1h0m2-1h0m2 0h0m1 3h0m1 0h0m0 0h0m3 0h0m10 6h0m0-1h0m-2 0h0m0 0h0m-1 1h0m-1 0h0m-1-1h0m-1-3h0m-1 1h0m0-2h0m-1 3h0m-3-2h0m0 1h0m-1 3h0m-1 0h0m-1-2h0m-1 0h0m0 2h0m0-4h0m0-1h0m-1 5h0m-1-2h0m0 2h0m0-1h0m-1 0h0m-1 0h0m-1-4h0m0 2h0m0-1h0m-1 3h0m0-3h0m-1 2h0m0 2h0m0 0h0m0-4h0m0 0h0m0 0h0m0 1h0m-1-2h0m-3 4h0m0-1h0m0 1h0m-1 0h0m-5 1h0m0 0h0m-25-5h0m0 1h0m0-1h0m-1 2h0m-1-1h0m-1 4h0m-1-2h0m-1 2h0m-2-4h0m-2 3h0m-1-4h0m-1 1h0m-1-1h0m0 1h0m-1 3h0m-1 0h0m-1 1h0m-6-1h0m-1-2h0m-2 2h0m0 1h0m-1-1h0m-5 1h0m0-1h0m-1 1h0m-2-1h0m-3-2h0m-1 0h0m-1 3h0m-2-2h0m0-2h0m-4-1h0m-8 1h0m0 3h0m-9 7h0m5 0h0m1-3h0m5 3h0m5-2h0m1-3h0m1 1h0m0 1h0m4 0h0m2 3h0m0-5h0m1 3h0m1 1h0m2-2h0m2-1h0m0 3h0m2-4h0m1 4h0m1-1h0m1-1h0m0-2h0m1 0h0m1 4h0m1-2h0m3 3h0m1 0h0m0-3h0m2-2h0m1 0h0m4 2h0m1 2h0m0-2h0m3 1h0m0-1h0m2-1h0m2 1h0m20 3h0m2 0h0m1-3h0m1 2h0m0 0h0m1-2h0m1 3h0m0-5h0m0 0h0m2 2h0m0-2h0m2 0h0m1 3h0m0 1h0m0-1h0m1-2h0m1 4h0m1-4h0m0-1h0m0 2h0m0 2h0m0-1h0m1 0h0m1-1h0m0 1h0m0-1h0m0 3h0m1-3h0m0 0h0m1-2h0m1 4h0m0-4h0m2 4h0m1 0h0m0-2h0m0 2h0m1 0h0m0-1h0m1-3h0m4 0h0m0 0h0m0 3h0m1 1h0m2-3h0m1-1h0m1 5h0m0 0h0m0-5h0m1 5h0m2-5h0m0 3h0m2 0h0m0 2h0m0-5h0m2 1h0m0 1h0m0 3h0m3-1h0m2 3h0m-1-1h0m0 4h0m0-4h0m-1 2h0m0 3h0m0-3h0m0 0h0m0-2h0m-1 2h0m0-2h0m0 1h0m0 4h0m0-5h0m-1 2h0m-1-2h0m-1 1h0m0 2h0m0 1h0m0 0h0m-2-4h0m0 4h0m-1 0h0m0-2h0m-3-2h0m-1 2h0m-1-1h0m0 0h0m-1 3h0m0-1h0m-1-3h0m0 0h0m-1 2h0m-1 0h0m-1 0h0m0 2h0m0-4h0m-2 3h0m0 2h0m0-5h0m-1 5h0m0 0h0m0-1h0m-2-1h0m-1 2h0m0-5h0m0 5h0m0-2h0m0 2h0m0 0h0m0 0h0m-1-1h0m0-4h0m0 3h0m-2-1h0m0 3h0m0-2h0m0 2h0m0-1h0m0 1h0m-1-5h0m0 3h0m-1 1h0m-1 1h0m-1-5h0m-1 5h0m-1 0h0m-1-3h0m-1-2h0m-1 0h0m0 3h0m-1-1h0m-1-1h0m0 4h0m-2-2h0m-1 2h0m0 0h0m-1-2h0m0 0h0m-3 2h0m0 0h0m-1-5h0m-5 3h0m-2 2h0m-1-1h0m-3 1h0m-1 0h0m-8-3h0m-3 0h0m-2-2h0m-2 2h0m-6 1h0m-1-2h0m-1 0h0m-1-1h0m0 3h0m0-2h0m-2-1h0m-2 0h0m-3 0h0m-1 0h0m-1 4h0m0-3h0m0 1h0m-1-1h0m-5-1h0m-1 1h0m-1 3h0m-2 1h0m-6-3h0m-5 0h0m-1-2h0m-2 0h0m0 2h0m-3 1h0m-2 2h0m-1-1h0m-1-4h0m0 1h0m-3 3h0m-2 0h0m-1 2h0m0 2h0m1 3h0m0 0h0m1-3h0m2 0h0m4 3h0m4-2h0m0 0h0m0-2h0m1 2h0m2 0h0m2-1h0m1-2h0m0 4h0m1-1h0m0 0h0m3 1h0m1-1h0m2-3h0m0 3h0m1-3h0m2 4h0m1 1h0m2-2h0m1-2h0m1 4h0m1-1h0m0 1h0m2-3h0m0 3h0m1 0h0m0-2h0m1 2h0m1-1h0m1-2h0m0-2h0m1 2h0m0 1h0m1-2h0m0 2h0m1 1h0m0 0h0m2-3h0m3 2h0m19-3h0m0 0h0m4 2h0m0-2h0m1 1h0m0 0h0m3 0h0m0 0h0m3 2h0m0 0h0m0-1h0m0 3h0m0-4h0m2 3h0m1 1h0m0-1h0m1-1h0m0 1h0m0-4h0m0 1h0m1 2h0m0-2h0m0 1h0m2 3h0m0-1h0m1 0h0m0-2h0m0 3h0m3-4h0m0 3h0m1-3h0m0 3h0m1 0h0m0 1h0m0-2h0m0 1h0m0-2h0m0 1h0m1-2h0m0 1h0m1-1h0m0 4h0m0-3h0m0 0h0m1 0h0m0 0h0m0 2h0m0-2h0m0 0h0m2 0h0m1-1h0m1 4h0m0-3h0m0 1h0m0 2h0m1-3h0m0 3h0m0-5h0m1 4h0m1-2h0m0-1h0m1 0h0m0 2h0m1-1h0m0 3h0m0-1h0m0 1h0m1-4h0m0 3h0m1-4h0m0 1h0m2-1h0m1 3h0m1 1h0m1 0h0m0-4h0m1 2h0m0 3h0m0-1h0m1 1h0m2-1h0m3 0h0m1-3h0m0 2h0m0 1h0m0-2h0m0 1h0m0 2h0m1-5h0m1 5h0m0 0h0m1-4h0m1 4h0m0-3h0m0 3h0m0 0h0m3 0h0m0-2h0m1-2h0m0 0h0m1 1h0m0-1h0m-2 7h0m0-2h0m-1 1h0m0 1h0m-1-1h0m-1 0h0m-1 0h0m0 2h0m0 2h0m-1-4h0m-1 1h0m-1 2h0m0-4h0m-1 0h0m-1 0h0m-2 0h0m-1 4h0m-1 1h0m-1-2h0m-1-2h0m0 0h0m-1 4h0m-1-2h0m0 1h0m-1-3h0m0 0h0m0 0h0m-1 2h0m0-3h0m-2 2h0m-1-1h0m-1 2h0m0-1h0m-1-1h0m0 4h0m0-4h0m-1 4h0m0-2h0m-1-2h0m0 1h0m-1 1h0m0 1h0m-3 1h0m0 0h0m-1 0h0m-3-3h0m0 3h0m0-3h0m-1-2h0m0 0h0m-2 5h0m-2 0h0m-1-5h0m-2 2h0m-2-2h0m-1 1h0m0 0h0m0 1h0m-1 2h0m-1-4h0m0 2h0m-26 0h0m-5-2h0m0 5h0m-2-1h0m0-2h0m0-1h0m-1 3h0m0-4h0m-1 1h0m-1 3h0m0 0h0m-2-2h0m0 0h0m-1 1h0m-1-3h0m-1 0h0m-2 3h0m0 1h0m-1-2h0m-1-2h0m-1 0h0m-1 1h0m-1 3h0m-1 1h0m-2-5h0m-1 1h0m-1 0h0m0 4h0m-1 0h0m0-5h0m0 4h0m0-1h0m0-1h0m-2 2h0m0 0h0m0-4h0m0 5h0m-2-2h0m0 1h0m-1 0h0m-1-3h0m-1-1h0m-4 1h0m-9 1h0m-1 0h0m-1 2h0m-16 7h0m2 0h0m0-1h0m2 1h0m3-1h0m0 1h0m2-4h0m1 4h0m0-2h0m1-2h0m3 1h0m0 2h0m0-2h0m1 0h0m0-2h0m0 0h0m1 5h0m0-5h0m0 0h0m1 1h0m0 1h0m0 3h0m2 0h0m1-3h0m1-1h0m1 3h0m0 1h0m0-2h0m0-3h0m12 5h0m3-1h0m1 0h0m0 0h0m0-4h0m1 2h0m0 3h0m0-5h0m0 5h0m0-2h0m2 1h0m1-1h0m1 1h0m0 1h0m4-3h0m0 3h0m1-3h0m0 1h0m0-1h0m1-1h0m1 4h0m1-5h0m0 3h0m0-2h0m0-1h0m1 2h0m0-2h0m1 3h0m0-2h0m2 1h0m0-1h0m2 3h0m0-1h0m1-2h0m0 3h0m1-1h0m0 1h0m0-2h0m1-2h0m0 3h0m0 2h0m1-4h0m8 4h0m19-1h0m1 0h0m0 0h0m1-1h0m0 0h0m1 2h0m0 0h0m1-4h0m0 4h0m0-3h0m4 1h0m3-3h0m0 1h0m1 4h0m1 0h0m0 0h0m2-3h0m2 1h0m1 0h0m2-1h0m0-1h0m1 1h0m0 1h0m1-1h0m0 0h0m1-1h0m0-1h0m1 2h0m0 0h0m1-1h0m0 0h0m1 4h0m0-1h0m1-3h0m0 4h0m0-3h0m1 2h0m7 1h0m0-5h0m0 1h0m0 3h0m1-2h0m0 1h0m0 1h0m1 0h0m0-4h0m1 1h0m0-1h0m0 1h0m1 4h0m0-4h0m0 3h0m0-2h0m2-1h0m1 1h0m1 1h0m1-1h0m2-1h0m2 3h0m1-1h0m1-1h0m0 0h0m2 0h0m0 2h0m0-2h0m1 1h0m4 5h0m-1 1h0m0-3h0m-1 5h0m0-5h0m-1 5h0m0-2h0m-1-2h0m-1 1h0m-2-1h0m0-1h0m-1 2h0m-1-2h0m0 2h0m-2 1h0m0 0h0m-1 0h0m-1 1h0m-2-1h0m-1 0h0m0 1h0m-2 1h0m0-4h0m0 4h0m-2-5h0m0 0h0m-1 1h0m-1 0h0m-1 0h0m0 3h0m-2 1h0m-2-5h0m-1 5h0m-1-1h0m0-4h0m0 0h0m0 4h0m0-2h0m-8 0h0m-1 3h0m-1-5h0m0 5h0m0 0h0m-1-4h0m-1 2h0m0-2h0m-2 3h0m-1 1h0m0-5h0m-1 5h0m-2-4h0m-1 2h0m-1-1h0m0 1h0m-1 1h0m0-4h0m-1 1h0m0 1h0m0-2h0m0 5h0m-1 0h0m-3 0h0m-1-2h0m0-1h0m0 3h0m0-1h0m-1-4h0m-1 1h0m0 2h0m0 2h0m-25-5h0m-1 4h0m-1-4h0m-1 4h0m0-1h0m-1 2h0m0-2h0m-1 1h0m0 0h0m-1 0h0m-1 1h0m-1 0h0m0-3h0m0 1h0m0 1h0m-1-2h0m-2 2h0m0-3h0m-1 1h0m-1 3h0m-1-2h0m-1-2h0m0-1h0m-2 1h0m0 1h0m-2 2h0m0-2h0m0 1h0m-1 0h0m0 1h0m-2-2h0m-1-2h0m0 5h0m0-4h0m-1 0h0m-1 0h0m-3 4h0m-1-3h0m-2 0h0m-4 1h0m-2 2h0m-1 0h0m-1-4h0m0 1h0m0-1h0m-1 3h0m-1-4h0m0 1h0m0 3h0m-2 0h0m0-1h0m0-2h0m-1 2h0m-1-3h0m0 1h0m0 1h0m0-1h0m-1 0h0m-1-1h0m0 5h0m-1 0h0m-1 0h0m-3-4h0m0-1h0m0 5h0m-1-5h0m0 2h0m-1 2h0m-1-3h0m-1 0h0m-3-1h0m-1 2h0m-1 0h0m-2 0h0m-2 2h0m-2 2h0m0 3h0m1 1h0m1-3h0m1 3h0m2-3h0m0 2h0m2-2h0m2 2h0m1-3h0m0 4h0m2-4h0m0 1h0m2 1h0m0 0h0m1-1h0m0 1h0m1-1h0m1 1h0m0 3h0m0-2h0m1 0h0m2-1h0m1-1h0m0 2h0m1-2h0m0 3h0m2-1h0m1 2h0m0 0h0m1-4h0m0 3h0m1 0h0m0-1h0m1 1h0m0 1h0m0-3h0m1 3h0m0-3h0m0-1h0m0 3h0m2-1h0m0-1h0m12-1h0m2 4h0m1-1h0m3-1h0m0 0h0m0 2h0m0-4h0m1 4h0m1 0h0m0-2h0m0-2h0m2 2h0m0 2h0m1 0h0m2-3h0m0 2h0m1-1h0m0 0h0m0 0h0m2-3h0m0 2h0m1-1h0m0 3h0m0-2h0m1-2h0m1 4h0m0-3h0m2 4h0m0-2h0m23 0h0m2 0h0m0 2h0m3-2h0m0-1h0m0 2h0m2-1h0m1 1h0m1-3h0m0-1h0m2 0h0m2 0h0m2 3h0m0-1h0m0 3h0m0 0h0m2 0h0m0 0h0m6-5h0m1 0h0m1 3h0m1 2h0m0-4h0m0 1h0m0 1h0m9 1h0m0 0h0m2 0h0m1-1h0m1 2h0m0 0h0m1-1h0m0-2h0m1 1h0m0-3h0m1 2h0m0-1h0m1 3h0m1-2h0m0 2h0m0 1h0m0-1h0m0-2h0m0 1h0m1 2h0m1-1h0m1-4h0m1 4h0m1-1h0m0-2h0m0-1h0m1 2h0m0 0h0m0-2h0m1 2h0m0 0h0m3 0h0m1 0h0m0 1h0m1-1h0m0 2h0m0-4h0m3 0h0m1 2h0m1 0h0m0 2h0m2-1h0m1 4h0m-1 1h0m0 2h0m-1-3h0m0 0h0m-1 1h0m0 1h0m0 0h0m0-1h0m-1 0h0m0-1h0m-1 4h0m-1-5h0m0 2h0m-1 0h0m0-1h0m0-1h0m-2 2h0m-2-2h0m-1 4h0m-1-4h0m0 5h0m0-4h0m0-1h0m-2 1h0m0 0h0m0-1h0m-1 1h0m0-1h0m0 4h0m0-2h0m-1 2h0m-1-2h0m0-2h0m0 0h0m0 1h0m-1 3h0m0-4h0m-1 1h0m-2-1h0m0 4h0m-1 0h0m0 0h0m-1-3h0m0-1h0m-1 1h0m0 2h0m0 1h0m-1 0h0m-1-1h0m0-2h0m-1 1h0m0-2h0m0 4h0m0-2h0m0 2h0m-1-1h0m0 2h0m-1-4h0m-1 1h0m0 1h0m-2 2h0m-1-1h0m-3-2h0m0 2h0m-1-2h0m0 2h0m0-2h0m-1-2h0m0 4h0m0 0h0m-1 1h0m-2 0h0m-1 0h0m-4-2h0m0-1h0m-1-1h0m0 4h0m-2-1h0m-1-4h0m-1 3h0m-2 2h0m0-1h0m-1-2h0m0 1h0m-2-1h0m-1 3h0m0-3h0m-2 0h0m-1-1h0m0 4h0m-1-5h0m0 2h0m-1-1h0m-2-1h0m-1 2h0m-18 3h0m-1 0h0m0-2h0m0-1h0m-2-2h0m-2 2h0m0 3h0m0-5h0m-1 3h0m0 2h0m0 0h0m0-1h0m-1-3h0m0-1h0m-1 2h0m0 3h0m-1-3h0m0 0h0m0 2h0m-2 0h0m0 1h0m0-4h0m-1 2h0m0-1h0m0 0h0m0-2h0m-1 3h0m-1-2h0m0 3h0m0-2h0m-2-2h0m0 2h0m-1-1h0m-1 2h0m0-2h0m0 1h0m0-2h0m0 5h0m-2-2h0m0-2h0m-1 4h0m-1-1h0m0 1h0m0-3h0m0 3h0m-1-2h0m0-1h0m-1-2h0m-6 5h0m-2-1h0m-1-2h0m-1-1h0m-1 3h0m-2-4h0m0 1h0m-1-1h0m-1 3h0m0 2h0m-1-5h0m0 2h0m-1 0h0m0-2h0m-3 0h0m0 2h0m-1 2h0m-1-2h0m0 3h0m-1-3h0m0-1h0m0-1h0m-1 4h0m-1 0h0m-7-1h0m-2-2h0m-1-1h0m0 2h0m-1 2h0m0-3h0m-1 4h0m-1-5h0m-1 3h0m-1 0h0m0-1h0m-1 2h0m-1 1h0m0-4h0m0 4h0m-1-1h0m0-2h0m-1-2h0m-1 1h0m-1 2h0m-8 8h0m5-5h0m0 5h0m1-3h0m1-2h0m0 0h0m0 5h0m2-5h0m1 3h0m0-2h0m3 3h0m1-4h0m0 2h0m0 3h0m0-4h0m1-1h0m0 5h0m1-5h0m0 1h0m0-1h0m1 2h0m2 3h0m0-5h0m1 0h0m0 0h0m0 2h0m0 1h0m0-2h0m1 4h0m0-5h0m1 2h0m1 0h0m0 1h0m0-2h0m5 2h0m0-1h0m1 1h0m1 1h0m0-3h0m1 3h0m0-4h0m1 3h0m0 2h0m0-4h0m1 2h0m1 2h0m0-5h0m0 5h0m1-5h0m0 2h0m1-2h0m0 2h0m2 0h0m1 0h0m0 1h0m0-3h0m1 2h0m0-1h0m1-1h0m1 0h0m0 3h0m2-2h0m0 3h0m0-1h0m0-1h0m1 1h0m0 0h0m1 1h0m1-4h0m0 4h0m1-1h0m2-2h0m1 1h0m1 2h0m0-2h0m0 2h0m7-4h0m1 1h0m0 0h0m7 1h0m1 1h0m1-3h0m1 2h0m0 0h0m0 3h0m1-4h0m1 0h0m0 4h0m0 0h0m0-1h0m2-3h0m0 0h0m2-1h0m0 1h0m0 4h0m1-2h0m0 2h0m0-4h0m0 3h0m0-4h0m1 1h0m0-1h0m0 4h0m1-2h0m0 2h0m1-3h0m7 4h0m12-2h0m0-2h0m1 3h0m0-1h0m0-3h0m1 2h0m0 1h0m0 0h0m1 2h0m0-1h0m0-2h0m0 2h0m1-2h0m1-1h0m1 3h0m2-2h0m0 2h0m1 1h0m1-2h0m0-3h0m1 4h0m0 1h0m0-2h0m1-2h0m1 0h0m0 0h0m1 4h0m0-5h0m1 2h0m1 3h0m0-1h0m0-2h0m1 2h0m4 0h0m0-2h0m1 3h0m0-3h0m3 1h0m1 2h0m1 0h0m0-4h0m0 0h0m0 4h0m1-1h0m0 1h0m1 0h0m0-1h0m0-1h0m1 1h0m1-4h0m0 5h0m0-5h0m1 3h0m0 0h0m1-2h0m0-1h0m0 0h0m2 0h0m0 5h0m0-1h0m0-1h0m1 0h0m0 1h0m0-2h0m0 1h0m0-2h0m1 2h0m2 2h0m2-2h0m0-2h0m0 1h0m1 1h0m2-1h0m1 3h0m2-1h0m0 0h0m1-4h0m1 3h0m1-2h0m1-1h0m0 0h0m1 3h0m1-3h0m1 4h0m0-3h0m1 4h0m0-4h0m0 0h0m1 2h0m0 2h0m0 0h0m0-2h0m1-1h0m0 0h0m0 0h0m0 3h0m1-3h0m36 7h0m-1 1h0m-6-2h0m-8 3h0m-18-2h0m-7-2h0m-1-1h0m-1 1h0m0 1h0m-1 0h0m-1 0h0m-8-1h0m-11 0h0m-2 2h0m-2-2h0m0-1h0m0 4h0m-2-2h0m-1 0h0m0-2h0m0 2h0m-1 0h0m0 3h0m0-2h0m-1-1h0m-1 2h0m0-2h0m-1 1h0m0 2h0m0-4h0m-2 1h0m0 1h0m0-1h0m-1 3h0m-1 0h0m-2-2h0m0 1h0m0 1h0m-2-5h0m-3 3h0m-3-1h0m0-1h0m-1 3h0m0-2h0m0-1h0m-1 2h0m0-3h0m-1 3h0m0-1h0m-1 0h0m-23-1h0m0-1h0m0 2h0m-1 0h0m-1 0h0m0 2h0m-1-2h0m-2 0h0m0 1h0m0-3h0m-1 0h0m0 2h0m0-1h0m-1 3h0m0-3h0m0 2h0m-1-2h0m0 0h0m-1-1h0m0 2h0m0 2h0m-1 0h0m0 1h0m0-4h0m-1 3h0m0-1h0m-1-3h0m-1 0h0m0 1h0m-15 1h0m0 0h0m-1-1h0m-1 3h0m0-2h0m-2 1h0m0 1h0m0-1h0m0 1h0m-1-1h0m0-1h0m0 0h0m-1 1h0m-2-1h0m-1-2h0m0 5h0m-3-3h0m0 2h0m-1-1h0m0-2h0m0 4h0m-1-2h0m-1 0h0m0 0h0m-1 0h0m0-3h0m-1 3h0m0-1h0m-1-1h0m-2-1h0m-1 0h0m-2 1h0m0 3h0m0-4h0m-3 5h0m0 0h0m0-3h0m-1-1h0m0 1h0m0 3h0m-1-5h0m-2 4h0m-1-3h0m0 3h0m-1-2h0m0 2h0m0 0h0m-3-2h0m-1 2h0m-1-3h0m0 3h0m-1-2h0m-2 2h0m-1-3h0m0 0h0m-1 4h0m0 0h0m0-3h0m-1 0h0m-1 2h0m0-2h0m-3 2h0m-1 0h0m0-1h0m-1 1h0m-1-1h0m0-2h0m-1 1h0m-1 1h0m0-2h0m1 6h0m1 2h0m1 2h0m0-2h0m0 0h0m0 1h0m1 0h0m0-2h0m0 2h0m0-4h0m0 4h0m1 0h0m0-2h0m0-1h0m0-1h0m2 5h0m2-3h0m0 3h0m1-3h0m0 0h0m1-2h0m0 1h0m0-1h0m1 0h0m0 1h0m1 0h0m0 2h0m0 0h0m1-3h0m2 1h0m0 1h0m2-2h0m0 1h0m1 0h0m0-1h0m1 3h0m1 1h0m0 1h0m1-1h0m0-2h0m1 3h0m1-3h0m1 0h0m0 0h0m1-1h0m0 2h0m0-2h0m0 1h0m1-2h0m0 2h0m0-2h0m1 4h0m1 0h0m0 0h0m0-3h0m1 3h0m0-4h0m0 5h0m0-4h0m8-1h0m11 2h0m0-2h0m0 3h0m0 2h0m1-3h0m1 3h0m0-3h0m1 1h0m0 2h0m0-3h0m1 2h0m19-4h0m1 0h0m1 0h0m1 1h0m1-1h0m0 1h0m0 0h0m31 2h0m0-2h0m0 4h0m1 0h0m0-2h0m2 0h0m0-3h0m0 0h0m1 2h0m0 1h0m1 1h0m0 1h0m1-3h0m1 2h0m2 1h0m0-4h0m1 0h0m1-1h0m0 1h0m1 2h0m0 1h0m1-3h0m1 2h0m0-3h0m1 5h0m1-1h0m0-1h0m2-2h0m1 1h0m0 3h0m0-2h0m0 1h0m1-4h0m0 2h0m3 1h0m51-2h0m0 4h0m4 0h0m1-5h0m3 4h0m2-3h0m4 3h0m1-2h0m5-2h0m-26 11h0m-53-3h0m0 1h0m-1-3h0m-1 3h0m0 0h0m0 0h0m-2 1h0m-1 0h0m0 0h0m0 1h0m0-1h0m-1 1h0m-1-5h0m0 2h0m0-2h0m-1 3h0m-1 2h0m-1-1h0m-2-4h0m0 0h0m0 5h0m-1-2h0m-2-1h0m-1 3h0m-1-4h0m0 0h0m-36 3h0m-16 1h0m-1-5h0m-1 2h0m-2 0h0m0 1h0m-1 2h0m-1-3h0m-1 3h0m-2 0h0m0-1h0m-14-4h0m-2 3h0m0-2h0m-1 0h0m0 0h0m0 2h0m-1 2h0m-1-3h0m-1-2h0m0 2h0m0 3h0m0-2h0m-2-3h0m0 4h0m-1 1h0m0-2h0m0-1h0m-1 0h0m-1 2h0m-1 0h0m-1-2h0m-2 0h0m0-1h0m0 2h0m-5-2h0m0 1h0m0-1h0m0-1h0m-1 2h0m-1-1h0m-5 1h0m-1-1h0m42 7h0m1 0h0m1 0h0m5 3h0m0-4h0m2 2h0m0-3h0m0 4h0m1-2h0m1 0h0m1 0h0m3 0h0m5-2h0m23 3h0m10-3h0m9 2h0m2-1h0m4 0h0m1 0h0m1-1h0m0 0h0m0 2h0m0-2h0m1 1h0m0 0h0m1-1h0m4 0h0m1 0h0m24 0h0m1 5h0m39-5h0m4 0h0m-40 10h0m-1-3h0m-1 2h0m-1-1h0m-3 2h0m-2-2h0m-2 0h0m0-1h0m0 0h0m0 4h0m0 0h0m-2-1h0m-2-2h0m-2 0h0m-1 0h0m0-1h0m0 4h0m-3 0h0m-2-2h0m-2 0h0m-2 1h0m-7 1h0m-20 5h0m2-1h0m2 1h0m1-1h0m10-1h0m0 3h0m1-1h0m2 0h0m0-3h0m1 4h0m1-2h0m1-2h0m2 1h0m2 1h0m1 1h0m3-2h0m0 0h0m0 0h0m2-1h0m2 3h0m1-2h0m1 1h0m0 2h0m5 0h0m0-2h0m5 2h0m0 0h0m3-1h0m1-1h0m1 2h0m1-2h0m2-3h0m1 2h0m1 2h0m2 5h0m-2 2h0m-1-3h0m-2 0h0m-2-1h0m-1 1h0m-2 2h0m0-1h0m-1-1h0m-1 1h0m0-1h0m-2-2h0m0 2h0m-1-2h0m-1 0h0m-1 2h0m0 3h0m-3-5h0m0 2h0m0-1h0m-2 3h0m-2-1h0m-1-2h0m-4 0h0m0 4h0m-5-5h0m-1 4h0m-3-3h0m-1-1h0m0 2h0m-2 0h0m0 1h0m0 1h0m-1-1h0m0 1h0m-1 0h0m-1-4h0m-3 2h0m0 0h0m0-1h0m-1 0h0m0 3h0m0-4h0m-1 0h0m-1 5h0m0-3h0m0 3h0m-3-1h0m-2-4h0m0 3h0m-1 1h0m0-3h0m-1 2h0m0-3h0m0 4h0m-1-4h0m0 0h0m0 5h0m-1-4h0m-42 3h0m-2-3h0m-4 3h0m0 0h0m-23 5h0m2 0h0m3 2h0m3-4h0m3 2h0m1-2h0m7 1h0m2-2h0m10 1h0m2 1h0m33 3h0m1-2h0m3 1h0m4-1h0m2 0h0m3-2h0m0 1h0m1-2h0m3 3h0m1 2h0m0-1h0m2 0h0m1 0h0m0-1h0m1 2h0m2-3h0m2-1h0m1 2h0m4 1h0m1-4h0m3 3h0m0 2h0m0-1h0m0 0h0m1 0h0m2-3h0m0 3h0m1-2h0m0-2h0m0 5h0m0 0h0m5 0h0m2-4h0m2 1h0m6 0h0m2-2h0m1 4h0m3 1h0m0-5h0m1 1h0m7 2h0m1 2h0m-4 1h0m0 4h0m-11-4h0m-9 2h0m0-2h0m-10 0h0m-6 1h0m-2 1h0m-2 1h0m0 1h0m-3-3h0m-1-1h0m-1 4h0m-2 1h0m0-2h0m-2-3h0m-1 5h0m-1-5h0m-2 2h0m-1 3h0m0-3h0m-3 1h0m-3 0h0m-4-3h0m-2 2h0m-1-1h0m-2 2h0m-26-2h0m-10-1h0m-4 2h0m-1-2h0m-1 4h0m-1-3h0m-9 3h0m-1-4h0m-2 5h0m-4-5h0m0 2h0m-7 5h0m0 3h0m3-2h0m0-2h0m5 1h0m2 2h0m0-1h0m4 1h0m1-2h0m1 2h0m6-1h0m3 3h0m7-3h0m0-1h0m1 0h0m2-1h0m2 4h0m1 0h0m2-3h0m7 4h0m18-3h0m4 2h0m1-1h0m3 2h0m2-1h0m3-4h0m21 1h0m10 1h0m3 1h0m5-2h0m1-1h0m4 0h0m8 3h0m1 0h0m3 8h0m-1 0h0m-2-5h0m-2 5h0m-3-5h0m-4 1h0m-1 0h0m-1 4h0m-3-1h0m-4-3h0m-1-1h0m-1 4h0m-8-1h0m-5-1h0m0 1h0m-4-2h0m-3-1h0m-1 3h0m-3 0h0m-1-3h0m0 0h0m-1 5h0m-1 0h0m0-3h0m-1 0h0m-1-1h0m-5 3h0m-3-2h0m-2-2h0m-3 3h0m-1 1h0m0-3h0m-3 0h0m-1 4h0m-14-5h0m-7 0h0m-2 3h0m-4-3h0m-7 5h0m-10-3h0m-1 0h0m-2-2h0m5 8h0m6-1h0m1 3h0m5-1h0m29 0h0m0-3h0m3 2h0m2 0h0m3-2h0m0 2h0m6-1h0m4 4h0m3-3h0m9 3h0m0-3h0m0 3h0m9-2h0m5-2h0m1 1h0m4 1h0m2 2h0m0-3h0m1-2h0m1 3h0m2 0h0m5 0h0m4-2h0m-1 10h0m0-2h0m-2 0h0m-7-3h0m-3 5h0m-5-4h0m-4 1h0m-6 2h0m-2 0h0m-5 1h0m0-5h0m-4 3h0m0 2h0m-3-5h0m0 2h0m-1 0h0m-1 1h0m-3 2h0m0-1h0m-5-4h0m-1 0h0m-5 2h0m-7 3h0m-1 0h0m0 0h0m-38-2h0m38 7h0m7-4h0m6 4h0m6-2h0m5-1h0m3 2h0m6 0h0m4-3h0m1 2h0m2-2h0m2 5h0m0-5h0m5 1h0m2 1h0m5-2h0m6 4h0m-20 4h0m-8 2h0m-4-4h0m-1 0h0m-6 5h0m0-3h0m-3 2h0m-1-4h0m-6 0h0m-4 3h0m-6-2h0m6 6h0m1 4h0m1-1h0m14-3h0m1-1h0m1 1h0m6-1h0m-13 9h0m-2-3h0m-3 0h0"/>
<path stroke="#649ac7" d="m149 186h0m-4 11h0m11-5h0m1 2h0m-58 5h0m41 17h0"/>
<path stroke="#86bcd9" d="m67 98h0m-7 4h0m-4 6h0m60 0h0m7 9h0m-67-3h0m117 21h0m-53 13h0m39 1h0m-16 28h0m-1 7h0m11-1h0m-28 12h0m12 1h0m32 4h0m-63 1h0m-47 1h0m-9-3h0m54 9h0m0-4h0m25 4h0m8 1h0m25-3h0m6-2h0m-26 10h0m-26-3h0m-10 0h0m-3-1h0m-8 2h0m5 8h0m55 1h0m-4 6h0m0-4h0m-25 3h0m-18 1h0m16 4h0m18 0h0m4 2h0m-44 8h0m19 6h0m-5-1h0"/>
<path stroke="#abd9e9" d="m79 83h0m-6-2h0m65 14h0m-57 2h0m22 1h0m29 6h0m-76 4h0m67 7h0m-1 4h0m-55-3h0m-2-2h0m5 14h0m-23-1h0m-2 1h0m-21 5h0m13 0h0m38 0h0m89 0h0m-74 10h0m-60-3h0m-8 1h0m-2 1h0m1 3h0m4 0h0m85-1h0m12 5h0m-62 7h0m6 12h0m86 4h0m5 6h0m-9-3h0m16 14h0m-9-1h0m-18 1h0m0 2h0m-17-2h0m-3-3h0m-3 5h0m-1-2h0m-10-2h0m-46 3h0m-2 4h0m0 2h0m52-4h0m0 5h0m22-3h0m0-1h0m9 2h0m16 1h0m12-3h0m1 7h0m-17-2h0m-30 3h0m-5-1h0m0 0h0m-2 3h0m-4 0h0m-3 0h0m0-1h0m-43-3h0m-10 2h0m-5 1h0m0 1h0m-2-2h0m-3-2h0m-19 4h0m1 1h0m9 0h0m5 3h0m13-3h0m50 2h0m5 0h0m28 1h0m2 1h0m6-3h0m6 2h0m5 0h0m2-2h0m2 2h0m7-2h0m-17 5h0m-3 5h0m-31-3h0m-10 0h0m-7 3h0m-4-5h0m-31 5h0m-11-1h0m-1 0h0m43 4h0m9 3h0m35-1h0m9-4h0m1 1h0m6 7h0m0-1h0m-1 0h0m-6 1h0m-7 1h0m-4-1h0m-16-2h0m-1 3h0m-2-1h0m-5 2h0m-13 1h0m-2-1h0m-1-2h0m-3 3h0m-1 1h0m8 1h0m6 1h0m13-1h0m5 0h0m17 4h0m4-4h0m-7 7h0m-1-2h0m-11 2h0m-3 2h0m-1-4h0m-2 2h0m-16 5h0m13 2h0m-13 3h0"/>
<path stroke="#ceeaf3" d="m101 73h0m3 10h0m-16-2h0m-15 1h0m-14 7h0m7-4h0m37 0h0m7 4h0m48 5h0m-60-3h0m-1 3h0m-29-4h0m-5 1h0m-2 2h0m0 0h0m-3-1h0m0-1h0m-3 9h0m13 1h0m9 0h0m3-5h0m52 5h0m6-2h0m3-2h0m7 5h0m-13 3h0m-1-2h0m-5 3h0m-58-3h0m-5-1h0m-6 0h0m0 10h0m5 0h0m4-4h0m13 0h0m50 0h0m2 5h0m17-4h0m7 4h0m10 1h0m-104 4h0m-9-4h0m-28 11h0m6-2h0m0 2h0m38-1h0m10 0h0m53-4h0m9 0h0m-8 8h0m-17 2h0m-75-2h0m-10 1h0m15 3h0m114 4h0m-27 2h0m-88 5h0m-18-3h0m-8-2h0m-4 9h0m0-2h0m9-1h0m92 5h0m2-4h0m24 2h0m5-3h0m16 1h0m25 7h0m-72 0h0m-40 0h0m-40-1h0m153 5h0m3 11h0m-4 0h0m-69-1h0m-4 2h0m42 10h0m-2-3h0m-6 0h0m-4 1h0m-4-2h0m-27 10h0m13-3h0m10 0h0m8 0h0m0 1h0m4 0h0m7-1h0m0 3h0m2 7h0m-9-4h0m-7 1h0m-1 3h0m-1-2h0m-9 1h0m-3-1h0m-2 1h0m-9-4h0m-6 1h0m0 3h0m-5 1h0m-45-2h0m-4 2h0m-3 0h0m-1-3h0m0 1h0m-4-1h0m-1 1h0m-1 0h0m-1-1h0m-11 8h0m4-3h0m1 0h0m1 0h0m1 4h0m4 0h0m3 0h0m3-4h0m12 0h0m2-1h0m34 0h0m8 2h0m0 0h0m1-2h0m1 0h0m12 1h0m1 3h0m6 1h0m20-2h0m5-3h0m1 4h0m2-2h0m9 1h0m1 7h0m-3-1h0m-1-1h0m-16 3h0m-2-4h0m-1 4h0m-12-3h0m-1-2h0m-4 3h0m-2 0h0m-12 1h0m-1 1h0m-6-2h0m-1-1h0m-2 3h0m-36-5h0m-7 4h0m-8-1h0m-1 0h0m0-3h0m-1 4h0m-4 0h0m-2-3h0m-4-1h0m-2 0h0m-7 0h0m-5 8h0m1 2h0m3-3h0m0 2h0m1 1h0m3 0h0m4-1h0m2-2h0m6 0h0m1 3h0m4-4h0m3 4h0m14-2h0m22 3h0m5-2h0m1-3h0m7 2h0m1 1h0m2 2h0m0 0h0m0-1h0m6 1h0m3-1h0m4 0h0m6-1h0m16-1h0m1 1h0m2 0h0m7-1h0m8 2h0m3-3h0m3 2h0m1-3h0m1 0h0m0 1h0m-5 7h0m-2 3h0m0-4h0m-1-1h0m-3 5h0m0-3h0m-2-2h0m0 3h0m-9 0h0m-1 2h0m-6-5h0m-5 2h0m-5-2h0m-11 3h0m-2-3h0m-2 0h0m-8 0h0m-1 4h0m-4-2h0m-7 2h0m-2-2h0m-20-2h0m-3 2h0m-1 0h0m-3 3h0m-1-1h0m-1 0h0m-1 1h0m-5-4h0m-4 1h0m-2-1h0m-2 4h0m-1-5h0m-1 2h0m4 5h0m6 0h0m34-1h0m4 5h0m0-4h0m2 3h0m3-2h0m1 0h0m1-2h0m5 2h0m4 0h0m6-2h0m6 1h0m0-1h0m2 1h0m4 2h0m2 1h0m1 1h0m1-3h0m3 1h0m4-2h0m7 4h0m0-1h0m12-3h0m-5 6h0m-6 3h0m-15 0h0m-4-4h0m-2 2h0m-5-2h0m-6 3h0m-1 2h0m-3-3h0m-2-2h0m0 0h0m0 1h0m-4 3h0m-8-4h0m-1 4h0m-3 0h0m-1 1h0m-1 0h0m0-4h0m-1 5h0m7 1h0m3 0h0m1 0h0m5 2h0m1 2h0m4 0h0m1-1h0m1-2h0m3 0h0m8 3h0m0-5h0m3 0h0m0 4h0m0 0h0m1-4h0m0 4h0m1-2h0m13 1h0m3 0h0m1 2h0m1-5h0m0 1h0m-12 5h0m-4 2h0m-12 2h0m-6-4h0m-1 2h0m-2-1h0m-4 0h0m-2-1h0m0 3h0m-6 0h0m-2 1h0m-3 3h0m9 1h0m6 3h0m10-5h0m3 2h0m-6 5h0m-8 2h0m-3-1h0"/>
<path stroke="#eaf7e5" d="m83 77h0m0-2h0m4-1h0m2-1h0m9 2h0m6-2h0m6 3h0m5-1h0m-4 4h0m-1 4h0m-6-1h0m-6 1h0m0-4h0m-7-1h0m-4 1h0m-4 1h0m-6 3h0m-13 1h0m7 1h0m10-1h0m18 1h0m2 2h0m5 0h0m2 8h0m-6-5h0m-5 2h0m-2 0h0m-11-2h0m-11 5h0m-2-3h0m-2 1h0m-4 0h0m-5 1h0m-4 1h0m-1 5h0m1 0h0m1-3h0m1 1h0m2-1h0m5 2h0m13-1h0m1-2h0m1 0h0m0 0h0m1 3h0m5-3h0m13 0h0m62 4h0m-33 6h0m-2-1h0m-12 2h0m-11-4h0m-18 2h0m-17-3h0m-10 2h0m-7-2h0m-6 5h0m-7 5h0m15 0h0m4-2h0m5-2h0m21 0h0m2 3h0m79 6h0m-15-2h0m-27 1h0m-43 0h0m-7 1h0m-7-3h0m-19 4h0m-6-1h0m-1 1h0m-5 7h0m36 2h0m-29 2h0m-2 0h0m-5 1h0m-3-1h0m-6 6h0m3 0h0m44-3h0m88 5h0m15-2h0m-23 8h0m-103-1h0m-35 5h0m4-3h0m27 1h0m67 4h0m3 3h0m-60-1h0m-28 1h0m33 8h0m57-4h0m69 2h0m2-1h0m15 3h0m-9 5h0m-2-3h0m-6 2h0m0-1h0m-1 4h0m-71-4h0m-103-1h0m53 10h0m66-4h0m53 1h0m16 0h0m-43 5h0m-2 3h0m0 0h0m-8-1h0m-17 2h0m-22 4h0m10 3h0m3-1h0m2-2h0m4 1h0m0 1h0m0-1h0m10-3h0m11 2h0m3 2h0m3 1h0m3 0h0m1-4h0m5 10h0m-4-1h0m-3 1h0m0-5h0m-11 2h0m-3 2h0m-4 1h0m0-1h0m-2 1h0m-2 0h0m-10-3h0m-1-1h0m0-1h0m-2 3h0m-4 0h0m-5 1h0m-3-2h0m-40 2h0m-1 0h0m0-1h0m-4 2h0m-1-2h0m-2-2h0m-1 1h0m-2-1h0m-4 4h0m-2-1h0m-2 0h0m-1 1h0m-2-1h0m-6 2h0m2 0h0m0 4h0m0-2h0m5-2h0m5 4h0m2 0h0m0-2h0m2 3h0m1-2h0m2 2h0m3-4h0m36 3h0m2-1h0m2 2h0m10-3h0m8 3h0m5 0h0m5-4h0m3-1h0m3 4h0m5 0h0m3 1h0m1-5h0m3 4h0m8 0h0m5 1h0m6 6h0m-4-3h0m0 2h0m0-1h0m-1-1h0m-5-2h0m-1 4h0m-1-2h0m-2 0h0m0-2h0m-9 4h0m-4-3h0m0-1h0m-3 4h0m-1-1h0m-1 0h0m-1-1h0m-7-2h0m-3 4h0m-4-4h0m-12 2h0m-1 0h0m-1-2h0m-3 4h0m-2-1h0m-3-2h0m-2 2h0m-33-2h0m0 4h0m-14-1h0m-4-4h0m-6 5h0m0-1h0m-1-4h0m-3 1h0m-2 2h0m0 2h0m-1-4h0m-3 1h0m0 0h0m0 1h0m0-2h0m0-1h0m-2 0h0m-1 0h0m3 10h0m6-2h0m1-1h0m2 0h0m0-1h0m2 0h0m4 1h0m5 0h0m2 2h0m4 0h0m0 1h0m0-1h0m3-1h0m1 1h0m7 0h0m1 1h0m4-4h0m0 0h0m2 5h0m0-5h0m1 1h0m2 2h0m18-3h0m3 5h0m8-5h0m2 5h0m2 0h0m3-4h0m11 2h0m1 2h0m2-5h0m22 2h0m1 0h0m3 3h0m6-5h0m3 1h0m1 4h0m-2 4h0m-1 1h0m-1-4h0m-1 1h0m-2 1h0m-5 2h0m-3 1h0m-4-4h0m-5-1h0m-1 4h0m-2-1h0m-3 1h0m-3-2h0m-1 0h0m-2 2h0m-6 1h0m-1-4h0m-1 1h0m-3 3h0m-8-2h0m0 2h0m-40-1h0m-3-3h0m-3 2h0m-1-1h0m-1-1h0m-3 1h0m-1 0h0m-21-2h0m21 8h0m0 2h0m2-2h0m0-2h0m38 4h0m2-1h0m0-3h0m5 1h0m9 1h0m5-2h0m2 4h0m10-1h0m2 2h0m4-5h0m1 5h0m1-1h0m1 1h0m3-1h0m4-4h0m1 2h0m1-1h0m4 1h0m1 0h0m3 2h0m1-2h0m0 3h0m5-4h0m-8 8h0m-2-3h0m-1 2h0m-13 3h0m-4-1h0m0-3h0m-2 2h0m-2-2h0m-1 1h0m-13 1h0m0 1h0m-3-2h0m-3 1h0m0-1h0m-1-1h0m-3 0h0m-7 1h0m-2-2h0m-4 4h0m-1 6h0m0-1h0m3 0h0m0-3h0m2 5h0m1-2h0m4-3h0m4 1h0m0 0h0m7-1h0m1 1h0m0 1h0m1-1h0m5 2h0m4-3h0m1 1h0m2 3h0m2-1h0m1 2h0m8-4h0m0 0h0m3 0h0m9 0h0m-6 5h0m0 0h0m-5 2h0m-4-2h0m-5 0h0m-3 2h0m-1-2h0m-9 4h0m-1-3h0m-1 4h0m0-5h0m0 4h0m-6-2h0m0 2h0m0-2h0m-4-1h0m-10 1h0m-1 2h0m-2-3h0m10 7h0m8-1h0m1 2h0m0-1h0m1 3h0m0-4h0m3 0h0m1-1h0m2 5h0m1-4h0m4 0h0m1-1h0m-2 6h0m-3 1h0m-4 4h0m-7-1h0m-3-4h0"/>
<path stroke="#ffffbf" d="m95 69h0m-6 6h0m0 2h0m3-2h0m12 8h0m-2-1h0m-9-4h0m-6 5h0m-3-3h0m-1-1h0m-2 1h0m-1 0h0m-5 1h0m-5 1h0m-6 7h0m8-1h0m3-4h0m5 0h0m1 4h0m1-3h0m15 0h0m10 4h0m2-5h0m-2 9h0m-3-1h0m-8 1h0m-1 2h0m-11-2h0m-1-3h0m-3 0h0m-1 1h0m-1 1h0m-10 0h0m0 3h0m-6-2h0m-14 5h0m1 1h0m24 2h0m5-3h0m0-2h0m6 0h0m1 4h0m6-4h0m8 1h0m0-1h0m6 2h0m32 7h0m-19 1h0m-38-4h0m-1 4h0m-13-4h0m-12 3h0m-7 2h0m-1 6h0m10-1h0m34-3h0m-22 9h0m-14-2h0m-8-1h0m-3 0h0m-4 4h0m-1-5h0m-1 2h0m107 8h0m-58 6h0m-16 0h0m-4-3h0m-7-1h0m-24 5h0m-1-2h0m0 6h0m5-2h0m124 3h0m-84 4h0m-55 0h0m28 9h0m26-3h0m41 1h0m17-3h0m13 5h0m41 3h0m-2 3h0m-72-4h0m-94 2h0m-3-3h0m-9 3h0m17 4h0m159-1h0m2 3h0m1 1h0m0 1h0m3-4h0m9 10h0m-9 0h0m-2-3h0m0 0h0m-4 0h0m-2-2h0m-55 4h0m-92-2h0m27 4h0m87 4h0m32-4h0m1 3h0m2-2h0m4 2h0m0 0h0m1-1h0m-35 9h0m-3-4h0m-1 3h0m-1-4h0m-1 5h0m-3 0h0m-14-2h0m-1 1h0m-24 5h0m17-1h0m6 1h0m21-3h0m0 2h0m1 3h0m2-4h0m3 1h0m1-2h0m5 9h0m-1-1h0m-2-2h0m0 0h0m-2 2h0m-3-2h0m-1 2h0m-6 2h0m-1 0h0m-7-1h0m-9 2h0m-11-1h0m-4 0h0m-1-2h0m-2 3h0m-1-3h0m-1-2h0m-6 2h0m0 0h0m-1 0h0m-43 0h0m-1 3h0m-2-3h0m-2 2h0m-1-1h0m-2-1h0m-1 2h0m-1 0h0m-3 1h0m-2 0h0m-16 5h0m3 0h0m3-3h0m0 2h0m6 2h0m1-2h0m1-3h0m1 4h0m2-1h0m2 0h0m1 0h0m0 0h0m7 2h0m10-1h0m1-1h0m29 2h0m8-3h0m1-1h0m2 4h0m2-5h0m8 3h0m3-1h0m1 2h0m1-2h0m2 0h0m3 2h0m0 1h0m4 0h0m0-4h0m1 3h0m1-4h0m1 0h0m4 0h0m2 3h0m3 2h0m2-3h0m3-1h0m3 2h0m2 0h0m4 1h0m10 7h0m-4-2h0m0 0h0m0 1h0m-4-1h0m0-2h0m-11 1h0m-1-1h0m-3 3h0m-5-3h0m-8-1h0m-5 0h0m-1 5h0m-11-2h0m-16-3h0m-5 0h0m-23 4h0m-9 1h0m-3-4h0m-2-1h0m0 1h0m-2-1h0m-2 1h0m0 2h0m-3-1h0m0-1h0m-3 3h0m-4 1h0m-4-2h0m0 1h0m-5-4h0m-1 4h0m-1 1h0m-3-5h0m-1 0h0m-3 8h0m7 2h0m0 0h0m2-3h0m0 2h0m4-1h0m7 0h0m1 2h0m0-2h0m1 0h0m0 1h0m2-2h0m1 4h0m3-2h0m2 2h0m2 0h0m2-3h0m0-1h0m1 3h0m3-4h0m2 1h0m4-1h0m1 0h0m1 5h0m2-4h0m0 1h0m2 2h0m24-1h0m0 2h0m1-4h0m0 0h0m2-1h0m1 5h0m3-2h0m4 1h0m1 0h0m5-2h0m8 2h0m5-2h0m11 1h0m11-3h0m3 5h0m1-5h0m0 0h0m0 3h0m2 1h0m5-1h0m-1 8h0m-1 0h0m-3 0h0m-2 0h0m0-2h0m-2-1h0m-1-1h0m-1 0h0m-2 1h0m-3 1h0m-6 1h0m-4-1h0m-3-1h0m-1 0h0m-3-1h0m-5 2h0m-1-1h0m0 1h0m-2-3h0m-5 4h0m-6-2h0m-4-2h0m-5 2h0m-1 3h0m0-5h0m-4 5h0m-2-1h0m-31 1h0m-3-1h0m-4-2h0m-2 1h0m0 0h0m-2 0h0m-1-2h0m-2 3h0m-4-4h0m5 6h0m0 0h0m2 1h0m5 2h0m1-3h0m0 1h0m1-1h0m1 0h0m1 0h0m33 3h0m7-3h0m3 0h0m8 1h0m3 4h0m4-5h0m0 2h0m5-1h0m1 2h0m3 2h0m3-3h0m3-2h0m0 2h0m1-2h0m2 4h0m2-4h0m2 4h0m1-4h0m2 2h0m2 0h0m1 0h0m1-1h0m1 3h0m3 1h0m4-5h0m1 5h0m0-4h0m-2 5h0m-5 1h0m-2 1h0m-1-2h0m0 4h0m0 0h0m-2-2h0m-1 1h0m-1-2h0m0 2h0m-2 2h0m0-3h0m0-1h0m-1 0h0m-1 0h0m-6 3h0m-7-3h0m-1 0h0m-1 1h0m-8-2h0m-2 0h0m-3 1h0m-1 0h0m-6 3h0m-1 0h0m-3 0h0m0-1h0m-2 1h0m-2-2h0m-7 4h0m2 5h0m0-5h0m2 0h0m0 0h0m1 2h0m2 2h0m1 1h0m2-2h0m1 0h0m0-1h0m3-1h0m3-1h0m2 0h0m1 1h0m5 4h0m6-3h0m1 3h0m1-5h0m3 1h0m2 0h0m2 2h0m1 2h0m11 0h0m2-1h0m1 1h0m3-3h0m0-1h0m3-1h0m-15 6h0m-5 2h0m-7-1h0m-3 0h0m-2 3h0m0-4h0m0 5h0m-4-5h0m-3 5h0m0-1h0m-3-3h0m0 0h0m-1-1h0m-7 2h0m-6 3h0m-2-3h0m-2 0h0m1 4h0m6 5h0m0-5h0m1 0h0m4 5h0m3 0h0m5-3h0m8-1h0m1 0h0m0 1h0m4 1h0m-13 7h0m-3-2h0m-1 0h0m0 1h0m0-2h0m-1 1h0m-4-2h0m0 2h0"/>
<path stroke="#feeaa0" d="m116 66h0m-6 0h0m-21 8h0m3-1h0m3-1h0m3 3h0m-1 4h0m0 2h0m-1-2h0m-13 4h0m-7-2h0m-14 3h0m8 5h0m2-2h0m0 2h0m15-4h0m15 0h0m4 1h0m5-2h0m-24 7h0m-8 1h0m-7 2h0m-10 3h0m0 0h0m9 3h0m5-4h0m6 2h0m16-1h0m6 4h0m20 0h0m4 1h0m-2 5h0m-2-4h0m-8 4h0m-36-5h0m-4 2h0m-20 2h0m-3 6h0m1-2h0m6-1h0m29 3h0m32 5h0m-47 0h0m-1-1h0m-7 1h0m-7-1h0m-9 1h0m-2-3h0m-19 11h0m17-2h0m4-2h0m17 10h0m-19-4h0m-6 1h0m-2 1h0m94 3h0m-55 13h0m8 1h0m112 7h0m-4-3h0m-4 4h0m-101-3h0m-41-1h0m-26 2h0m-10 5h0m172 2h0m3 1h0m1 0h0m2 1h0m0-1h0m3-2h0m3 1h0m14-2h0m-20 6h0m0 1h0m0-1h0m-2-1h0m-1 1h0m-4 1h0m-1-1h0m4 6h0m4 0h0m2 1h0m3-1h0m3 0h0m-44 7h0m-13 0h0m-5 2h0m-7 1h0m-12 6h0m1-1h0m8-2h0m22-2h0m12 4h0m1 7h0m-1-1h0m-12-2h0m-5 0h0m-2-1h0m-3 1h0m-7 2h0m-2-2h0m-1 0h0m-9-2h0m-10 0h0m-42 5h0m-6-2h0m-1 2h0m-2 0h0m-4 0h0m-1-3h0m-20 9h0m11 0h0m0-2h0m2 2h0m1-1h0m3 0h0m0 1h0m1-5h0m6 4h0m4-2h0m56-1h0m1 4h0m4-5h0m15 2h0m2-1h0m16 0h0m1 1h0m8 2h0m0 0h0m-1 5h0m-11-1h0m-1 0h0m-5 2h0m-20 0h0m-2 1h0m-56-5h0m-6 3h0m-1-1h0m-4 2h0m-1-2h0m-4 0h0m-3 3h0m-15 0h0m-3-4h0m-4 1h0m-2 0h0m7 6h0m2 0h0m0-2h0m4 4h0m8-1h0m0 1h0m0-2h0m1 3h0m2-5h0m2 2h0m2 2h0m4-1h0m0-1h0m1 3h0m3-4h0m11 0h0m1 4h0m0-3h0m22 3h0m6 0h0m0-1h0m7 1h0m1-2h0m4-1h0m1-1h0m1 2h0m7-3h0m0 2h0m2 0h0m0 3h0m1-3h0m1 3h0m3-4h0m1 0h0m9 1h0m2 0h0m4 0h0m0 3h0m8-1h0m5-3h0m5 8h0m-7-1h0m-4 2h0m0-3h0m-16 4h0m-3 0h0m-4-2h0m-4-2h0m-4 3h0m-3-3h0m-1 0h0m0-1h0m-3 2h0m-8-1h0m-1 3h0m-1-1h0m0 0h0m-6 2h0m-27-4h0m0-1h0m-1 0h0m-2 2h0m-1 2h0m-8 0h0m0-3h0m-5 1h0m-2 3h0m0-2h0m-1-2h0m0 3h0m-2-3h0m-15 0h0m22 7h0m3 1h0m1-2h0m40 4h0m9-4h0m0 4h0m1 0h0m2-2h0m0-1h0m11-2h0m7 4h0m3 0h0m2-1h0m0-1h0m0 1h0m15-2h0m9 0h0m-4 7h0m-6 3h0m0-2h0m-4-3h0m-10 5h0m-3-2h0m-1 1h0m-10-4h0m0 4h0m-2-4h0m-2 1h0m-5 3h0m0 0h0m-4-3h0m-10 3h0m-6-1h0m-3 8h0m1-4h0m1-1h0m4 3h0m5 2h0m6-4h0m8 4h0m1-3h0m1 0h0m0 1h0m9-2h0m12 2h0m5 1h0m5-2h0m-3 4h0m-15 3h0m0-2h0m-4-1h0m-7 2h0m-2 3h0m-1-3h0m0 1h0m-3 0h0m-3 1h0m-6-4h0m-1 0h0m-1 5h0m0-2h0m0 0h0m-8 0h0m-3-2h0m4 7h0m4-1h0m6 1h0m2-2h0m0 4h0m8-1h0m-6 7h0"/>
<path stroke="#fecf80" d="m118 67h0m-1 2h0m-4 0h0m-3-2h0m-4 3h0m-9-1h0m-10 5h0m9 0h0m0 2h0m2-3h0m5 3h0m3-4h0m13 1h0m-15 8h0m0 1h0m-4-3h0m-3 0h0m0 2h0m-9-2h0m-3-1h0m-17 8h0m7 2h0m0-4h0m5 1h0m4-1h0m4 0h0m7 5h0m10-1h0m8 0h0m-26 2h0m-8 4h0m-25 2h0m4 2h0m13 1h0m17-1h0m0-2h0m8 1h0m28 5h0m-53 3h0m-23 2h0m-2-1h0m9 7h0m1-5h0m4 4h0m6-4h0m-4 10h0m-11-2h0m-2 2h0m-5-1h0m30 9h0m-47 3h0m53 4h0m-26 9h0m-7-4h0m-14 2h0m-9 3h0m7 6h0m174 3h0m-1 1h0m-1-2h0m-6 2h0m-1-1h0m0 0h0m-1 3h0m-2-2h0m0-3h0m-4 4h0m-1 0h0m-170-2h0m167 8h0m1 1h0m2 0h0m3-3h0m1 1h0m3-2h0m12 2h0m4-1h0m1 2h0m1-2h0m-15 4h0m0 1h0m-10-1h0m0 3h0m-1 4h0m1 3h0m1-2h0m0-2h0m0 4h0m9-1h0m-44 4h0m-7 3h0m-28 4h0m20-2h0m14 2h0m13 8h0m-4-2h0m-6 2h0m-4 0h0m-2 1h0m-9-2h0m-82-2h0m-7 6h0m55-1h0m4 5h0m23-3h0m9-1h0m24 10h0m-2-2h0m-3 1h0m0-3h0m-3 3h0m-20-4h0m-9 5h0m-9-3h0m-4 2h0m-11-4h0m-51 2h0m-2-1h0m-1 4h0m-7 0h0m-7-2h0m-15 3h0m3 0h0m10 5h0m19-1h0m5-3h0m1 3h0m8 0h0m44-3h0m18 4h0m20-2h0m3-2h0m1 3h0m6-4h0m-12 8h0m-9 2h0m-1-3h0m-9 4h0m-10-5h0m-3 2h0m-16 1h0m-44 1h0m49 3h0m11 1h0m17 1h0m0-2h0m4 1h0m13 3h0m3 6h0m0 0h0m-3-4h0m-3 0h0m-1 3h0m-8-4h0m-1 3h0m-8-2h0m0 3h0m-2 0h0m-4 1h0m-6-1h0m-2 0h0m-1 0h0m-8-2h0m0 3h0m-6-2h0m-8 3h0m5 5h0m4 0h0m7-4h0m7 3h0m10 1h0m17-1h0m0-3h0m-12 6h0m-6-1h0m-3 1h0m0 0h0m-1-1h0m-6 2h0m-7 1h0m0 1h0m0-4h0m-5 5h0m-3-1h0m-1 0h0m-2-1h0m-1-2h0m-1 1h0m-2 2h0m3 5h0m6-2h0m9 4h0m10-5h0m-11 11h0m-4-2h0"/>
<path stroke="#fdae61" d="m119 71h0m-1-3h0m-23 3h0m2 2h0m8 10h0m-20-5h0m-14 5h0m-1 0h0m1 2h0m0 3h0m2 1h0m1-4h0m15 2h0m0-2h0m25 1h0m-57 7h0m8 5h0m3-1h0m7 1h0m48 7h0m-20 0h0m-40-3h0m-14 5h0m17 6h0m-18 5h0m29 8h0m-27 4h0m148 19h0m13 6h0m-8-5h0m-2 2h0m-7 2h0m-2-1h0m-1 0h0m-180 5h0m182 0h0m3 1h0m2-2h0m7 4h0m0-3h0m1 0h0m3-1h0m0 1h0m0 0h0m2-2h0m1 2h0m-5 4h0m-6 5h0m-5-3h0m-41 9h0m39-5h0m4 1h0m3 1h0m-48 19h0m-101 7h0m11-2h0m66 1h0m16 0h0m3-3h0m8 6h0m-4 3h0m-22 0h0m-97-3h0m66 7h0m10 0h0m4 1h0m47-1h0m-18 7h0m-29 2h0m-16-4h0m-5 1h0m-40 5h0m62 3h0m17-1h0m0 3h0m14 3h0m-8 2h0m-17-4h0m-29 5h0m2 6h0m55-2h0m1-1h0m-11 4h0m-9 5h0m-2-4h0m-10 2h0m-7-1h0m-2-1h0m-5 4h0m-4-2h0m16 6h0m4 2h0m5-3h0"/>
<path stroke="#f7834d" d="m106 64h0m0-1h0m12 8h0m-3-1h0m-3-2h0m-3 4h0m2 4h0m2-1h0m0 3h0m-50 7h0m39-1h0m-41 25h0m-26 13h0m6 0h0m47 2h0m-18 13h0m-51 6h0m193 12h0m-2 0h0m-2 0h0m-4 0h0m-1-5h0m0 3h0m-4-3h0m-1 5h0m-5 6h0m7 0h0m0-1h0m3-2h0m11 1h0m-6 3h0m-1 1h0m-3 0h0m0 0h0m-3 3h0m-17 0h0m5 2h0m10 1h0m2 1h0m-90 18h0m-60 5h0m53 12h0m3 25h0m10-2h0"/>
<path stroke="#ea593a" d="m108 65h0m-21 12h0m29 1h0m92 76h0m-1-2h0m-3 0h0m-2 2h0m-2-2h0m-11 6h0m17 0h0m0-1h0m3 6h0m-86 68h0m10-3h0"/>
<path stroke="#d73027" d="m99 71h0m106 81h0m-3 14h0"/>
</g></g><use href="#t109" stroke-width="3.5"/></g>
<path d="M1053.3 1786.4V1994.1H1277" fill="none" stroke="#000" stroke-width="1.9"/>
<text x="1053.3" y="2006.9" font-size="9.4" text-anchor="middle" fill="#333">−50</text>
<text x="1105.2" y="2006.9" font-size="9.4" text-anchor="middle" fill="#333">−25</text>
<text x="1157.2" y="2006.9" font-size="9.4" text-anchor="middle" fill="#333">0</text>
<text x="1209.1" y="2006.9" font-size="9.4" text-anchor="middle" fill="#333">25</text>
<text x="1261" y="2006.9" font-size="9.4" text-anchor="middle" fill="#333">50</text>
<text x="1048.7" y="1790.4" font-size="9.4" text-anchor="end" fill="#333">50</text>
<text x="1048.7" y="1842.6" font-size="9.4" text-anchor="end" fill="#333">25</text>
<text x="1048.7" y="1894.9" font-size="9.4" text-anchor="end" fill="#333">0</text>
<text x="1048.7" y="1947.1" font-size="9.4" text-anchor="end" fill="#333">−25</text>
<path d="M1053.3 1994.1v3.2M1105.2 1994.1v3.2M1157.2 1994.1v3.2M1209.1 1994.1v3.2M1261 1994.1v3.2M1053.3 1786.9h-3.2M1053.3 1839.1h-3.2M1053.3 1891.4h-3.2M1053.3 1943.6h-3.2" stroke="#000" stroke-width="1.5" fill="none"/>
<text x="1164.5" y="2026.3" font-size="14" text-anchor="middle">tSNE_1</text>
<text x="1037.5" y="1890.3" font-size="14" text-anchor="middle" transform="rotate(-90 1037.5 1890.3)">tSNE_2</text>
<text x="1185.6" y="1759.7" font-size="33.5" text-anchor="middle" font-style="italic" stroke-width="0.40">Ccr2</text>
<rect x="1287.7" y="1866.9" width="11.6" height="57.7" fill="url(#rb)"/>
<text x="1288.1" y="1862.7" font-size="7.3" fill="#222">Scale.data</text>
<text x="1302.6" y="1879.6" font-size="6.1" fill="#333">3</text>
<text x="1302.6" y="1892.8" font-size="6.1" fill="#333">2</text>
<text x="1302.6" y="1905.9" font-size="6.1" fill="#333">1</text>
<text x="1302.6" y="1918.9" font-size="6.1" fill="#333">0</text>
<path d="M1287.7 1877.4h2.3M1299.3 1877.4h-2.3M1287.7 1890.6h2.3M1299.3 1890.6h-2.3M1287.7 1903.7h2.3M1299.3 1903.7h-2.3M1287.7 1916.7h2.3M1299.3 1916.7h-2.3" stroke="#fff" stroke-width="0.5" fill="none"/>
<g transform="translate(1379.3 1729.2)" fill="none" stroke-linecap="round"><g stroke-width="4.2"><g id="t110">
<path stroke="#4575b4" d="m102 64h0m3 1h0m1-1h0m13 7h0m-1-2h0m0-1h0m-1 2h0m-1-3h0m0 3h0m0 0h0m0 1h0m-1 0h0m0-4h0m-3 3h0m0-1h0m-1-1h0m0 3h0m-1-3h0m0 0h0m-1-1h0m-1 4h0m0-1h0m-1-4h0m-1 0h0m0 3h0m-1 2h0m-2-1h0m-1 1h0m-2-5h0m0 0h0m-2 1h0m-1 3h0m-2 0h0m-8 6h0m0-1h0m1-1h0m1 2h0m0 0h0m0-1h0m1-1h0m2 0h0m0 2h0m2 1h0m1-2h0m0-2h0m1 1h0m0 2h0m0-4h0m0 5h0m2-1h0m0-2h0m0 2h0m1-4h0m0 3h0m0 1h0m1-2h0m0 1h0m1-1h0m0 0h0m2-2h0m0 5h0m1-1h0m0 1h0m0-3h0m1 2h0m0-1h0m1 0h0m2-3h0m0 1h0m1 2h0m0-1h0m1-1h0m0 4h0m1 0h0m0-4h0m1 2h0m1 1h0m1-2h0m1 0h0m0 2h0m2-4h0m0 5h0m1-5h0m0 2h0m1 1h0m4 8h0m-8-4h0m-1 3h0m0-4h0m0 3h0m-1-2h0m0-1h0m0 5h0m-1 0h0m0 0h0m-1-3h0m-1 0h0m0 3h0m-1-2h0m-1 2h0m-1-5h0m-2 0h0m-1 5h0m0 0h0m-1 0h0m0-3h0m0-2h0m0 1h0m0 3h0m0-1h0m-2 2h0m-1 0h0m0-4h0m0 3h0m0-1h0m-1 1h0m0-2h0m-1 3h0m0-3h0m-1 0h0m0-1h0m0 1h0m0 2h0m0 0h0m-1-2h0m-4-1h0m0-1h0m-2 1h0m-3-1h0m0 2h0m0 2h0m-2 0h0m0-3h0m0 4h0m-1-2h0m-1-1h0m-2 1h0m-1 1h0m0-4h0m-5 4h0m-1-1h0m-1 1h0m-2 0h0m-4 0h0m-3 7h0m1-3h0m5 0h0m1 2h0m0-4h0m1 5h0m0-5h0m1 3h0m1-1h0m1 3h0m0-3h0m0-1h0m0 2h0m2 0h0m0-3h0m1 3h0m1-3h0m1 0h0m0 3h0m1 0h0m1-1h0m1-2h0m1 1h0m1 0h0m2 1h0m0-2h0m0 3h0m0-2h0m1 4h0m0-1h0m0-3h0m1 1h0m8 0h0m1-2h0m1 2h0m0 3h0m0-3h0m2 2h0m0-2h0m0 0h0m0-2h0m1 3h0m0-3h0m0 1h0m0 1h0m1 0h0m0 0h0m1-2h0m0 0h0m0 0h0m0 0h0m0 2h0m1 0h0m0 3h0m1-2h0m0 1h0m0-4h0m0 3h0m3 2h0m1-5h0m1 1h0m1 3h0m1 1h0m32 0h0m2-1h0m2-1h0m2 0h0m14 8h0m0 0h0m-8 0h0m-2-3h0m-2-2h0m-1 4h0m0-2h0m-2 3h0m-2 0h0m-1-2h0m-1 2h0m-1-3h0m0 0h0m-1 2h0m-4 1h0m0 0h0m-30-4h0m-1 1h0m0-1h0m-1 2h0m0-3h0m-1 2h0m-1 2h0m0-4h0m-2 3h0m-4-2h0m-2-1h0m0 1h0m0 1h0m0 0h0m-1 3h0m-1-1h0m-1 1h0m0-5h0m-8 2h0m0-1h0m-2 4h0m-1-4h0m-1 0h0m-3 0h0m-1 2h0m-6-3h0m-1 5h0m-1-2h0m-1 1h0m0-2h0m0-2h0m-1 4h0m-1-1h0m-2-2h0m-1 3h0m-2-2h0m-1 1h0m-4-1h0m-1 2h0m-8 6h0m6 1h0m0-2h0m1 2h0m2-3h0m2 0h0m2 0h0m0 0h0m3 1h0m1-2h0m1 1h0m0 1h0m1-3h0m3 5h0m0-2h0m0-3h0m0 4h0m1 1h0m1-5h0m2 5h0m0-3h0m1-2h0m0 5h0m1-3h0m1 1h0m0-2h0m0 2h0m1-2h0m1 0h0m2 2h0m1-2h0m1 2h0m0 2h0m1-4h0m0-1h0m1 5h0m1-2h0m3 0h0m1-2h0m2-1h0m1 1h0m4 1h0m1 0h0m0-2h0m0 1h0m3 2h0m1 0h0m2-3h0m3 0h0m21 3h0m1 2h0m1-2h0m1-2h0m2 1h0m0-1h0m1 0h0m1 4h0m0-1h0m2 0h0m0-2h0m0-2h0m1 1h0m0 1h0m1 0h0m1 0h0m1 1h0m0 0h0m1-2h0m1 0h0m0-1h0m1 5h0m2 0h0m1 0h0m0-2h0m0 2h0m0-1h0m1-4h0m1 1h0m0-1h0m4 4h0m1-4h0m0 5h0m2-3h0m2-1h0m1 4h0m2-5h0m4 2h0m0 1h0m3 1h0m2 4h0m-1-1h0m-2 0h0m0 1h0m-1 1h0m-1-3h0m-2 4h0m0 1h0m0-5h0m-2 1h0m0 3h0m-1-1h0m-2-2h0m0-1h0m-1 3h0m-2-1h0m0 2h0m-1 0h0m0-3h0m-1 2h0m-2 0h0m0-2h0m-2 0h0m-2 0h0m-3 4h0m0-4h0m0 2h0m-2 0h0m0 2h0m-3 0h0m-4-2h0m-2-1h0m-1-1h0m-1-1h0m0 3h0m0 0h0m-3 1h0m0 1h0m-1 0h0m0-4h0m-2 3h0m0-4h0m-2 1h0m0 0h0m-1 0h0m-7 4h0m-3 0h0m-9-2h0m-1-3h0m-2 3h0m-2-2h0m-10 1h0m-1-1h0m-1 3h0m-1-3h0m-2 3h0m0-3h0m-3 0h0m-1 0h0m0 0h0m-1 4h0m0-3h0m0 3h0m0-2h0m-8-1h0m-2 3h0m-1-5h0m-2 1h0m-1-1h0m-2 1h0m-3 0h0m0-1h0m-2 2h0m0 1h0m-3-2h0m-1-1h0m0 4h0m-3-3h0m-2-1h0m0 5h0m-1-4h0m0 1h0m0 3h0m-3 0h0m-2 0h0m-5 6h0m4-4h0m0 1h0m0 3h0m2-2h0m2 0h0m7 2h0m1-2h0m0-1h0m0 1h0m2-2h0m0 3h0m1 0h0m2-1h0m1 2h0m0 0h0m1-2h0m1-3h0m2 4h0m1 0h0m1-1h0m1-2h0m6 3h0m1-2h0m3 1h0m4 2h0m1-4h0m0 2h0m0-2h0m0-1h0m1 2h0m0 2h0m1 0h0m1 0h0m0 1h0m2-4h0m3 1h0m18-1h0m1 0h0m3-1h0m1 1h0m1 1h0m0-1h0m2 0h0m1 1h0m3 0h0m4 1h0m0-1h0m1 2h0m0-2h0m1-2h0m1 5h0m1-5h0m3 2h0m0-2h0m1 0h0m0 5h0m0-2h0m0 2h0m1 0h0m0-1h0m1-1h0m1 2h0m0-3h0m0 0h0m1 1h0m1-3h0m2 2h0m0 0h0m1 1h0m0 0h0m2 0h0m1-3h0m2 5h0m0 0h0m0-5h0m1 0h0m0 0h0m1 1h0m2 0h0m1 3h0m1 0h0m0-2h0m1-1h0m7 2h0m0 2h0m0-3h0m0 3h0m1-3h0m0 3h0m1-4h0m1 1h0m0 3h0m5-2h0m1 4h0m-1 1h0m0-1h0m-1-1h0m-1 2h0m0 0h0m-1 0h0m0-2h0m-1 2h0m0-2h0m-2 0h0m-1 1h0m-2 0h0m-1 0h0m-1 0h0m-1 4h0m-1-5h0m-1 4h0m-1-2h0m-1 0h0m-1 3h0m-1-3h0m0 0h0m-1 0h0m0-1h0m-4-1h0m-1 2h0m-1 2h0m-1-1h0m-1-2h0m0-1h0m-1 4h0m0 1h0m-3 0h0m-1-5h0m-2 3h0m-6-3h0m-2 3h0m-2 0h0m-1-1h0m0 0h0m-2 1h0m0-2h0m0 4h0m0-3h0m-26 1h0m-7 2h0m0-2h0m-3 2h0m0 0h0m-2-2h0m0 0h0m-2-3h0m-1 0h0m0 1h0m-1 2h0m-1 1h0m-1-4h0m0 3h0m-1-3h0m-1 1h0m-1 1h0m-1 2h0m0-1h0m-1 2h0m0-5h0m-3 5h0m-2-1h0m0-4h0m0 4h0m-1-3h0m0-1h0m-1 4h0m0 1h0m-2 0h0m-1 0h0m-1-4h0m-4 0h0m-1 1h0m0-1h0m-5 3h0m0-4h0m-1 4h0m-1 1h0m0-4h0m-4 4h0m-1-4h0m-3 3h0m-1 0h0m-11 7h0m0 0h0m6 0h0m3-3h0m4 0h0m1 1h0m0 0h0m0 0h0m1-2h0m0 0h0m2 1h0m0 1h0m1 1h0m2-1h0m1-1h0m0 2h0m1 0h0m15 1h0m1-3h0m0-2h0m0 5h0m1-2h0m4 2h0m0 0h0m4-2h0m1 0h0m0 1h0m2-3h0m1 2h0m0 1h0m1-2h0m0-2h0m1 5h0m4-1h0m1 1h0m1 0h0m1-5h0m0 4h0m1-4h0m8 5h0m20 0h0m0 0h0m1-2h0m0 1h0m1 1h0m0 0h0m1-2h0m3 0h0m4-1h0m1-2h0m2 0h0m3 0h0m0 4h0m1 0h0m1-1h0m0-2h0m1-1h0m1 2h0m0 2h0m3-1h0m0-2h0m2-1h0m0 2h0m0 1h0m2 2h0m6-4h0m0 4h0m1-3h0m0-2h0m1 4h0m0 1h0m0 0h0m2-3h0m0 3h0m0-5h0m0 2h0m3 0h0m0 1h0m1 0h0m5 1h0m0-4h0m2 4h0m1-1h0m1 2h0m0-3h0m1 1h0m1 0h0m3 7h0m-1-4h0m-1 4h0m-1-3h0m-3 0h0m-1 0h0m-1 1h0m-1-1h0m-1 3h0m-4 0h0m-3-4h0m0 2h0m-2-1h0m-1 1h0m-1 0h0m-1 0h0m0 2h0m0-4h0m-6 1h0m-1 0h0m-7 1h0m-1 0h0m-1-1h0m-3 3h0m-2-3h0m-3 1h0m-2 1h0m0 1h0m0 0h0m-1 1h0m-1-2h0m0-2h0m0 4h0m-2-5h0m-2 5h0m-1 0h0m-1-3h0m-1 3h0m-29-1h0m0 0h0m-4-1h0m-1 0h0m0 0h0m-2 1h0m-1-4h0m0 3h0m-2 1h0m-1-4h0m-1 1h0m-1 1h0m-2 2h0m0-4h0m-1 3h0m0 2h0m0-2h0m-2 0h0m-1-3h0m-1 5h0m-4-5h0m-1 3h0m-2-1h0m-7 3h0m-1-3h0m-1 3h0m0-5h0m-1 2h0m0 3h0m-1-3h0m-1-1h0m0 1h0m-1 2h0m-1-2h0m0 1h0m-1-3h0m-1 1h0m-1 2h0m-1 0h0m-2 1h0m-1 0h0m-1-3h0m0 1h0m-1 3h0m-2-3h0m0 3h0m0-1h0m-1 0h0m-1-4h0m-1 1h0m-1-1h0m-1 2h0m-2 1h0m-4 7h0m1-2h0m0 3h0m2 0h0m2-1h0m5-3h0m1 3h0m1-3h0m0-1h0m3 1h0m1 0h0m1 2h0m0 2h0m1-1h0m3-3h0m1 3h0m2-1h0m1-3h0m1 5h0m1-1h0m1 1h0m0-2h0m1 0h0m0-1h0m0 3h0m10-5h0m5 0h0m4 2h0m1 1h0m2 0h0m0-1h0m1-1h0m1 4h0m3-1h0m1-2h0m2 0h0m0 1h0m1 0h0m1-2h0m1 4h0m2-2h0m27 0h0m1 1h0m2-4h0m1 5h0m1-3h0m6 3h0m9-4h0m0 0h0m1 3h0m1 1h0m0-3h0m10 3h0m1-1h0m1-4h0m1 5h0m1-2h0m1-2h0m0 3h0m2-1h0m0 1h0m1 1h0m0-5h0m1 0h0m3 4h0m1-2h0m0 2h0m0-4h0m0 1h0m2 2h0m0 0h0m2 1h0m0-3h0m1 1h0m1 1h0m0-2h0m1 1h0m0 2h0m4-4h0m1 0h0m2 3h0m0 1h0m2 0h0m-2 5h0m0 2h0m0-3h0m-1 0h0m0 0h0m-1 0h0m0 2h0m-1-2h0m0 2h0m0-2h0m-1 1h0m-1-2h0m0 1h0m-1 0h0m0-2h0m-1 2h0m-1 1h0m-2-2h0m-1 4h0m-1-4h0m-1-1h0m-1 2h0m-1-1h0m0 4h0m-1 0h0m0-3h0m-1 0h0m-1-2h0m0 1h0m0-1h0m0 2h0m0-1h0m-1 0h0m-2 4h0m-1 0h0m-1-3h0m0 3h0m-1-5h0m0 4h0m-1-3h0m0-1h0m-1 4h0m-1-1h0m-1-3h0m-3 4h0m-2 0h0m-4 1h0m0-3h0m-1 1h0m0-2h0m0 3h0m0-3h0m-8-1h0m0 0h0m-1 3h0m-5 0h0m-1 2h0m-1 0h0m0-3h0m-2 1h0m-1 0h0m-2 0h0m-1-1h0m-1 1h0m-1-3h0m0 2h0m-2-1h0m-22-1h0m-3 4h0m0-4h0m0 4h0m-1-2h0m-1 1h0m0 2h0m0-4h0m-1 2h0m-1 2h0m-1 0h0m-1-2h0m0-2h0m-1 3h0m-1-2h0m0 1h0m-3-1h0m0-2h0m-1 2h0m0 1h0m0-3h0m-2 4h0m0-3h0m-2 3h0m0-1h0m-1 0h0m-9 2h0m-5-3h0m-3-1h0m0 2h0m-1-1h0m0-2h0m-5 2h0m-2 0h0m0 3h0m-1-1h0m-8-1h0m0 1h0m-1-2h0m-1-1h0m0 2h0m-1-1h0m-1 0h0m-1-1h0m-1 3h0m-1-1h0m-2 0h0m-1 2h0m0-2h0m-1 1h0m0-3h0m-1 1h0m-7 7h0m3 1h0m0-3h0m1 0h0m1-1h0m0 0h0m1 1h0m2 2h0m0-1h0m2-2h0m0 0h0m2 0h0m0 1h0m0 4h0m0-4h0m1 0h0m1 0h0m0 1h0m0-1h0m1-1h0m3 1h0m0 0h0m1 4h0m7-2h0m2 1h0m0-2h0m1 2h0m1-4h0m0 5h0m1-2h0m2-2h0m1 0h0m2 2h0m1 1h0m2-4h0m1 4h0m2 1h0m3-1h0m3-2h0m1 2h0m0-2h0m5-2h0m4 0h0m6 2h0m1 1h0m1-2h0m0 3h0m2-2h0m0 3h0m2-3h0m0 2h0m1-4h0m1 2h0m0 0h0m1 1h0m1-2h0m0-1h0m1 3h0m0-1h0m0 3h0m1-4h0m0 4h0m1-3h0m0 3h0m19-5h0m2 4h0m1-4h0m0 2h0m0 1h0m0 1h0m1 1h0m0 0h0m0-2h0m2-2h0m0 4h0m2-1h0m1-1h0m0 2h0m0-1h0m1-2h0m1 2h0m1 1h0m0-1h0m1-3h0m0 1h0m1-1h0m1 4h0m1-2h0m0-3h0m4 0h0m2 4h0m0-1h0m0 0h0m2-3h0m2 1h0m2 1h0m2 1h0m1 2h0m1-4h0m0-1h0m1 4h0m0 0h0m1 0h0m0-3h0m2 4h0m0-2h0m0 0h0m1 1h0m2 1h0m2-3h0m6 2h0m2 1h0m0-4h0m1 1h0m1-2h0m1 1h0m0-1h0m0 3h0m2-3h0m1 2h0m0-1h0m1 3h0m0-3h0m0 4h0m2-2h0m0 0h0m0-1h0m0 0h0m0 3h0m1-5h0m28 5h0m14 6h0m-3 0h0m-1-2h0m-2 0h0m0 0h0m-1 0h0m0-1h0m-1 2h0m0-2h0m0-1h0m0 4h0m-1 0h0m0-5h0m-2 2h0m0 0h0m-1-2h0m0 4h0m-1 1h0m-1-1h0m-1-1h0m0 0h0m-2 1h0m-1 0h0m-2 0h0m0 0h0m-1-1h0m-1 2h0m-2 0h0m-15-1h0m-5-4h0m-2 0h0m0 2h0m-1-2h0m-1 2h0m0 0h0m-10-1h0m-3-1h0m-8 2h0m-2-2h0m0 3h0m-1-3h0m-1 0h0m0 1h0m0-1h0m-1 0h0m-2 0h0m-1 3h0m0 2h0m0-2h0m-1 0h0m-2-1h0m-2 1h0m-4 1h0m-1 0h0m-1-3h0m-2-1h0m-1 4h0m-3-1h0m0-1h0m-1 2h0m0-3h0m0 2h0m-1 0h0m-2 0h0m-14-3h0m-9 2h0m0 0h0m0 0h0m-1-2h0m0 1h0m-1 2h0m0 2h0m-3-3h0m-2-1h0m0 2h0m0-3h0m-1 2h0m-1-1h0m0 3h0m-1 0h0m-1 0h0m-1-4h0m-1 2h0m-16-1h0m0 1h0m-1 2h0m0-2h0m-2 3h0m0-2h0m0 2h0m-1-2h0m0 0h0m-1 1h0m-1-2h0m-2-1h0m0 1h0m-1-2h0m-2 4h0m-1-2h0m0-1h0m0 0h0m-1 3h0m-1-1h0m0 1h0m-1-4h0m0 1h0m-1 2h0m0 1h0m0-2h0m0-2h0m-5 1h0m-1 0h0m0 4h0m-1-3h0m-7 2h0m-1-1h0m0 1h0m-3-2h0m0-2h0m0 3h0m-2-1h0m0 3h0m-3-2h0m0 1h0m-1-2h0m0-1h0m-1 1h0m-1-2h0m-1 3h0m-4 0h0m-2 0h0m0-3h0m-1 3h0m-1 0h0m-1 0h0m4 6h0m1 2h0m0 0h0m1-1h0m0-2h0m0-1h0m0 0h0m4 4h0m1-2h0m0 0h0m1-3h0m0 0h0m2 2h0m0 1h0m3 0h0m1-3h0m2 2h0m0 1h0m0-2h0m2 3h0m4-1h0m0 0h0m1-1h0m0 1h0m0-2h0m0-1h0m0 2h0m1-2h0m2 4h0m1 1h0m0-5h0m0 1h0m8-1h0m1 0h0m10 3h0m0 1h0m1-2h0m1 3h0m0-3h0m1 2h0m0 1h0m1-1h0m20-4h0m2 1h0m0 1h0m1-1h0m31 2h0m0-3h0m0 1h0m1 4h0m1-1h0m1-3h0m1 2h0m0 1h0m1 1h0m1-1h0m2-2h0m1 3h0m1-5h0m0 1h0m0 1h0m2 2h0m2 0h0m2 0h0m0 0h0m3 1h0m4-2h0m45-1h0m0 3h0m1-5h0m1 2h0m1 3h0m0-2h0m1 2h0m1-3h0m0-2h0m0 0h0m1 5h0m0-3h0m0-1h0m0 4h0m0-1h0m2 1h0m0-3h0m0 1h0m2-2h0m0 4h0m1-2h0m0-2h0m0 2h0m1-1h0m1 3h0m1 0h0m2-3h0m1 2h0m1-2h0m0-2h0m1 5h0m1 0h0m0-2h0m0 0h0m0 0h0m0-1h0m1 2h0m0-2h0m1-2h0m2 2h0m0 1h0m1-3h0m0 1h0m1 0h0m0 3h0m0-1h0m1-1h0m1 2h0m-5 3h0m-1 0h0m0 0h0m-1 1h0m-2 0h0m-2 2h0m-1 1h0m-1 0h0m-3-4h0m0 0h0m-1 2h0m-2 2h0m-2-4h0m-1 1h0m0-1h0m-1 2h0m0-3h0m-1 5h0m0-3h0m-1-1h0m0 2h0m0-3h0m-2 1h0m-1 2h0m0-3h0m0 5h0m0-3h0m-1 0h0m-1 2h0m-48-4h0m-3 3h0m0 0h0m-1-3h0m-2 3h0m-1 1h0m-1 0h0m0 1h0m0 0h0m-1 0h0m-1-4h0m0-1h0m-1 4h0m0-2h0m-4-2h0m0 1h0m-3 2h0m-2-2h0m0 0h0m-1 1h0m-35 2h0m-18-2h0m-2-2h0m0 3h0m0 1h0m-1 1h0m-1-3h0m-3 3h0m0-1h0m-14-4h0m-2 3h0m-1 0h0m0 0h0m-2-1h0m-1-1h0m0 2h0m-2-3h0m0 1h0m-1 2h0m0-3h0m-1 2h0m-1 3h0m-1-1h0m-3-2h0m0 0h0m0 2h0m-5-2h0m0 1h0m-1-1h0m-6 0h0m41 6h0m1 1h0m1-3h0m0 3h0m5 2h0m0-3h0m2 2h0m0-3h0m0-1h0m0 5h0m0-2h0m1 2h0m1-2h0m1-3h0m8 0h0m33 0h0m9 2h0m7-2h0m0 2h0m1 0h0m1-1h0m2-1h0m3 0h0m1 1h0m23-1h0m29 2h0m0 1h0m2-3h0m1 1h0m0 0h0m1 1h0m1 0h0m0 2h0m0 0h0m1 0h0m0-3h0m1 1h0m0 1h0m1 0h0m3-2h0m0 0h0m2 0h0m1 0h0m1 3h0m1-3h0m0 0h0m0 1h0m0-2h0m2 3h0m0-1h0m-43 5h0m-1 1h0m-1-1h0m-2 2h0m0 1h0m-2 1h0m-1-5h0m-1 3h0m-2-2h0m0 0h0m-1 4h0m-1-2h0m-1-1h0m-3 0h0m0 1h0m0-2h0m-1 1h0m0 0h0m-4 2h0m-1 0h0m-3 0h0m-4 1h0m-3 0h0m-19 3h0m3 2h0m7 1h0m2-2h0m1 1h0m4-3h0m1 1h0m6 2h0m3-1h0m0-1h0m2-2h0m1 1h0m2-1h0m0 4h0m0-3h0m3 3h0m0-4h0m4 3h0m0 2h0m1-2h0m2-3h0m1 5h0m1-3h0m1 2h0m2 0h0m1-2h0m1 3h0m1-4h0m0 0h0m7 9h0m0 0h0m-1-2h0m0 2h0m-1 1h0m-1-2h0m0-3h0m-1 5h0m0-4h0m0 4h0m-3-3h0m-1 3h0m0-4h0m-1 1h0m-1 1h0m0-1h0m-1 2h0m0-4h0m-1 4h0m-1-2h0m0 0h0m-2 3h0m0-3h0m-2-2h0m-2 2h0m0 3h0m-1-3h0m-1 0h0m0 3h0m-1-4h0m0 2h0m-1 2h0m-4 0h0m-4 0h0m-3-2h0m-1-3h0m-1 2h0m0 2h0m-3-3h0m-1-1h0m0 2h0m-1 0h0m-3 1h0m0 1h0m-1-4h0m0 4h0m-3-2h0m0-1h0m-1 1h0m-1 0h0m0-1h0m0 4h0m-1 0h0m0-2h0m-1 0h0m0-2h0m-3-1h0m-1 1h0m0 4h0m-2-2h0m0 0h0m0 2h0m0-5h0m-1 5h0m-2-4h0m-35 3h0m-1 0h0m0-1h0m-4 2h0m0-1h0m-1 0h0m0-1h0m0 0h0m0 0h0m-1 2h0m0 0h0m-1-3h0m0 0h0m-1 3h0m0-3h0m-1 0h0m0 0h0m-1 3h0m0-4h0m-1 4h0m0 0h0m0 0h0m0-1h0m-1-2h0m0 1h0m0 1h0m-1-1h0m0 2h0m-1-3h0m-1 2h0m0 1h0m-1-2h0m0 1h0m-1 0h0m-1 0h0m0 0h0m-1-1h0m-17 7h0m3 1h0m0 0h0m3-4h0m0 4h0m0-1h0m3-3h0m1 0h0m0 3h0m0-3h0m1 0h0m0 2h0m1-1h0m1 3h0m0 0h0m0-2h0m0-3h0m0 4h0m1 0h0m1 0h0m1 1h0m0-5h0m0 1h0m0 4h0m0 0h0m1-5h0m0 0h0m0 3h0m2 1h0m1 1h0m0 0h0m0-4h0m0 4h0m0-2h0m0 0h0m1-1h0m0 0h0m0 3h0m0-4h0m1 2h0m1 1h0m0-4h0m0 1h0m1 1h0m0 3h0m1 0h0m1-1h0m0-1h0m2-3h0m3 2h0m0 1h0m0-1h0m2-1h0m2 0h0m0 1h0m1-1h0m1 3h0m0-1h0m0-3h0m32 4h0m2-4h0m3 3h0m2-3h0m0 1h0m0 3h0m2 1h0m1-2h0m1-2h0m1-1h0m0 0h0m0 2h0m1-2h0m5 2h0m0 3h0m2 0h0m0-2h0m1 2h0m1-2h0m1 1h0m1-3h0m1 3h0m0-2h0m4 2h0m0 1h0m0-3h0m0 3h0m0-2h0m2 2h0m1-5h0m0 2h0m1 3h0m0-5h0m1 4h0m1-3h0m2 0h0m0 2h0m0 1h0m1 1h0m2-5h0m1 4h0m1-1h0m1-2h0m1 4h0m1-1h0m1-2h0m1 1h0m1-2h0m2 1h0m1 1h0m2-1h0m0 2h0m2-3h0m0-1h0m1 1h0m1 2h0m2 1h0m0-2h0m0-1h0m3-1h0m3 4h0m0 0h0m2 1h0m0-1h0m2 5h0m-2 0h0m0 2h0m-1-2h0m-1 0h0m0-1h0m0 3h0m-1-5h0m-1 3h0m0 2h0m0-2h0m-1-1h0m-1 2h0m0-3h0m0-1h0m-1 3h0m-3-2h0m-2 3h0m-1-2h0m-1 0h0m0-2h0m-2 3h0m-1 0h0m0-3h0m-3 2h0m-1 3h0m-2-5h0m0 4h0m0-4h0m-3 1h0m-1 0h0m-1 0h0m-1-1h0m-1 4h0m-3-4h0m0 2h0m-1-2h0m-4 4h0m0-1h0m-1-1h0m-1 2h0m-1-2h0m-2 2h0m0 0h0m-3-3h0m-1 0h0m-1 3h0m-2 1h0m0-5h0m0 4h0m-1-1h0m-1 1h0m0-1h0m0 0h0m-1-3h0m0 5h0m-1 0h0m0-4h0m-2-1h0m-2 3h0m-1 0h0m0 2h0m-1-3h0m0 1h0m-1-1h0m0-2h0m0 0h0m-1 5h0m0 0h0m0 0h0m-1-2h0m-1 2h0m-3-5h0m-1 1h0m-1 0h0m0-1h0m-1 2h0m-2-2h0m0 4h0m0-1h0m-23 1h0m-3-4h0m0 1h0m-1-1h0m-5 1h0m0 2h0m-1-2h0m0 3h0m0 1h0m0-2h0m-2-2h0m-1 4h0m0-4h0m0-1h0m-1 0h0m0 0h0m0 1h0m-1 1h0m0 2h0m-1-3h0m-1 1h0m-1 1h0m0-2h0m0 1h0m0 1h0m-1 0h0m0-2h0m0-1h0m0 4h0m0 0h0m-1 1h0m0-4h0m-1 1h0m0-1h0m-1 0h0m0 4h0m-1-1h0m-1 0h0m0 0h0m0 1h0m-2-1h0m0-3h0m-1-1h0m-1 5h0m0 0h0m-1-5h0m0 4h0m0-2h0m-1-1h0m-1 0h0m-1 4h0m0-5h0m0 3h0m-1 2h0m0 0h0m-1-2h0m0-3h0m0 0h0m-2 0h0m-1 5h0m0-4h0m0-1h0m-1 4h0m-1-4h0m0 3h0m0 2h0m0-4h0m-1 1h0m-1-1h0m-1 0h0m-1 1h0m0 0h0m0 1h0m0-1h0m0-2h0m-1 2h0m0-1h0m-1-1h0m-1 2h0m0-2h0m-3 6h0m1 0h0m1 1h0m1 1h0m0-2h0m2 2h0m1 3h0m0 0h0m0-4h0m0 3h0m3-2h0m0-1h0m0 3h0m1-4h0m0 4h0m0-1h0m0 1h0m0 0h0m1-4h0m1 3h0m0-3h0m0 2h0m0-1h0m0 2h0m1-2h0m0 4h0m0-1h0m1-2h0m1-1h0m0-1h0m1 4h0m0-1h0m0 0h0m0 1h0m1-1h0m0-2h0m2 0h0m1 1h0m0 2h0m1-3h0m2 1h0m1 3h0m0-1h0m0-2h0m0 0h0m1 3h0m0-2h0m0 0h0m1 1h0m0-3h0m1 0h0m0-1h0m1 3h0m0 2h0m0-3h0m1-2h0m0 3h0m1-3h0m1 3h0m0 2h0m0 0h0m1-2h0m0 1h0m0 0h0m0-1h0m1 2h0m0-1h0m2-1h0m0 2h0m0-3h0m0 1h0m1 0h0m1-1h0m0-1h0m0 0h0m1 4h0m0-3h0m0-1h0m0 4h0m1-4h0m0-1h0m0 1h0m2-1h0m0 0h0m1 2h0m1 2h0m0 0h0m1 0h0m0 1h0m1-3h0m1 2h0m1-4h0m0 0h0m0 1h0m1-1h0m1 5h0m1-4h0m0-1h0m1 1h0m0 4h0m0-3h0m0 1h0m2 0h0m0 1h0m18-2h0m0-2h0m3 3h0m1-3h0m0 4h0m1-3h0m0 2h0m1 0h0m0 2h0m0-3h0m1 3h0m0-4h0m0 3h0m2-3h0m1-1h0m0 2h0m0 2h0m1-4h0m1 3h0m1 0h0m2-2h0m1-1h0m1 4h0m1 0h0m1-3h0m0 2h0m3 0h0m1 2h0m4-1h0m2-1h0m0-1h0m2-2h0m0 5h0m1 0h0m0-3h0m1 1h0m0-3h0m1 4h0m2-2h0m5 1h0m2 0h0m0 1h0m3-2h0m1 1h0m0 0h0m1 0h0m0-2h0m4 1h0m0 0h0m0 1h0m0 2h0m2-3h0m1-2h0m0 2h0m2-2h0m1 5h0m2-1h0m0-1h0m1-2h0m1 0h0m3 3h0m2-3h0m1 2h0m3-2h0m2-1h0m2 1h0m-5 8h0m-2-2h0m-2-1h0m-1 4h0m-1 1h0m0-3h0m-1 0h0m-1-1h0m0 0h0m-1-1h0m0 5h0m0-2h0m-1-3h0m0 2h0m-1-1h0m-1 0h0m-2 3h0m-1-2h0m-1-2h0m0 2h0m-1 2h0m-1 1h0m-1 0h0m0 0h0m-2-4h0m-1 3h0m-1 0h0m0-3h0m-2 3h0m0-4h0m-1 1h0m-2 3h0m-1-1h0m-2-1h0m-2-2h0m0 4h0m-1-2h0m0-2h0m-1 3h0m-3 0h0m-1 0h0m0-2h0m-1 3h0m0-4h0m-2 0h0m0 4h0m-2-4h0m-1 3h0m0 0h0m-2 2h0m-1-4h0m-1 2h0m0-3h0m-1 0h0m-3 3h0m-1-2h0m-3 0h0m0 4h0m-1-1h0m0 0h0m0-3h0m-2 1h0m-2 1h0m-1 1h0m-1-4h0m-2 5h0m-1-1h0m0-3h0m0 4h0m-1-5h0m0 5h0m-2-3h0m-1 3h0m0-3h0m-1-1h0m-13-1h0m-6 0h0m-1 0h0m0 0h0m0 0h0m-1 1h0m0-1h0m-1 2h0m-1 1h0m0 0h0m0 0h0m-1 1h0m-1 0h0m-1 1h0m0-5h0m-1 4h0m-1-3h0m-1 3h0m0 1h0m-1 0h0m-1-1h0m0 0h0m-1-2h0m0-1h0m-1 0h0m0 4h0m-1-4h0m0-1h0m-1 2h0m0 2h0m-1-1h0m-1 0h0m0-1h0m0 1h0m0-1h0m-1 0h0m-1 1h0m0 1h0m-1-3h0m0 0h0m-1 3h0m-1 1h0m0-1h0m0-2h0m0 3h0m-1-5h0m0 3h0m-1 0h0m-2-3h0m-11 2h0m-1-2h0m16 6h0m1 1h0m0 1h0m1-2h0m0 1h0m1-1h0m2 2h0m0 2h0m1-2h0m1 2h0m0-3h0m0 1h0m0-2h0m1 5h0m0-4h0m0 0h0m1-1h0m1 0h0m0 3h0m0-1h0m1-1h0m1-1h0m2 0h0m28 3h0m0-3h0m0 0h0m1 2h0m2 3h0m2-1h0m0-4h0m2 1h0m0 3h0m1-1h0m1-1h0m1-2h0m0 5h0m3-5h0m1 1h0m2 1h0m1 3h0m1-4h0m1 1h0m1 1h0m1-2h0m0 2h0m1 1h0m2-2h0m3 0h0m3 0h0m2-1h0m1 1h0m1 1h0m2 2h0m0-1h0m4 0h0m1-2h0m0 1h0m0-2h0m2-1h0m0 2h0m0 0h0m1 1h0m0-1h0m1-2h0m0 5h0m0-1h0m2-3h0m1 3h0m0-4h0m2 3h0m1 2h0m1-5h0m0 1h0m1 1h0m0-2h0m1 0h0m0 1h0m1 0h0m0 1h0m0 0h0m1 3h0m2-1h0m0-2h0m3 3h0m1 0h0m0-1h0m0 1h0m3-4h0m1 0h0m1 0h0m0 0h0m3-1h0m-6 8h0m-1 3h0m0-1h0m0-3h0m-1 4h0m-1-4h0m-1 0h0m0 3h0m-2 1h0m-1-3h0m0 1h0m0 1h0m0-2h0m-1 2h0m0-3h0m0-1h0m-1 1h0m0 3h0m-1-3h0m-1 0h0m0 1h0m-1 2h0m0-3h0m-2 1h0m-1-1h0m-2 0h0m-1 0h0m0-1h0m-2 5h0m-1-3h0m-1 2h0m-1 0h0m-1-3h0m-2 3h0m-1-4h0m-2 1h0m-1 3h0m0 0h0m-4-3h0m0-1h0m-1 1h0m-1-1h0m-1 0h0m-1 4h0m0-3h0m-1 2h0m0 2h0m0-5h0m-1 5h0m-1-1h0m-1-4h0m0 5h0m-1-1h0m0-4h0m0 3h0m-1 0h0m0-1h0m-1-2h0m0 1h0m0 3h0m-1-2h0m-2 3h0m0-4h0m-1 2h0m-2 2h0m-1-5h0m0 4h0m-2-4h0m-1 4h0m0-1h0m-1 0h0m-1 1h0m0-4h0m-1 3h0m0 2h0m-2-2h0m-1 2h0m-1 0h0m-1 0h0m0-4h0m0 2h0m-2 2h0m0-1h0m-1 1h0m0 0h0m-38-2h0m38 7h0m0-4h0m0 5h0m1-4h0m0 0h0m0 0h0m1 4h0m1-1h0m0 1h0m0-5h0m1 0h0m3 5h0m0-1h0m2-3h0m0 0h0m1 0h0m1 2h0m1-1h0m1 2h0m1-3h0m3 1h0m1-2h0m1 3h0m1-2h0m1-1h0m1 1h0m1 0h0m0 4h0m0-4h0m2 4h0m0 0h0m0-1h0m1-1h0m0-1h0m2 0h0m0 0h0m2-2h0m3 1h0m1 2h0m0-3h0m1 1h0m0 3h0m1 0h0m0-3h0m0-1h0m1 1h0m1 1h0m1-2h0m1 3h0m0-2h0m6 0h0m1 0h0m1 2h0m0-2h0m4 4h0m0-3h0m1 3h0m1-2h0m1 2h0m1 0h0m1-4h0m0 4h0m0-2h0m0-1h0m1 1h0m0-2h0m1-1h0m1 4h0m1-3h0m-9 5h0m-5 0h0m-1 1h0m0 1h0m-3 0h0m0-2h0m-2 2h0m0-1h0m-1 0h0m-1 2h0m-3-3h0m-1 1h0m0 1h0m-1-2h0m-2 2h0m0 2h0m-1-3h0m-2 1h0m0 3h0m0-3h0m-1-2h0m-1 0h0m-1 3h0m-1-1h0m0 0h0m0 2h0m-1-2h0m-1 3h0m0-2h0m-1-2h0m-1 4h0m0-2h0m-1 1h0m-1-3h0m-1 0h0m0 2h0m0-2h0m0 4h0m-1-3h0m0 2h0m0-2h0m0-1h0m-1 2h0m-3 2h0m-1-2h0m0 0h0m-1-3h0m-1 4h0m-1 0h0m-1 0h0m-2-3h0m-1 4h0m-1-2h0m-1 0h0m-1 2h0m0-1h0m-1-3h0m-1 1h0m2 4h0m3 1h0m2 0h0m1 4h0m0-5h0m1 1h0m4 0h0m2 2h0m1-3h0m3 3h0m1 2h0m1 0h0m2-4h0m0 0h0m1-1h0m0 0h0m1 3h0m0-2h0m1 2h0m0 2h0m2-4h0m2 1h0m0 0h0m1-2h0m0 0h0m2 2h0m1 1h0m-4 3h0m0 1h0m-5-1h0m-6 4h0m0 0h0m-1-1h0m-1-1h0m0 0h0m0 1h0m-1-3h0m0 4h0m-1-4h0m0 2h0m0 1h0m-2-2h0m-1 1h0"/>
<path stroke="#649ac7" d="m103 92h0m-47 17h0m-37 35h0m94 68h0m-6 12h0m-4 21h0"/>
<path stroke="#86bcd9" d="m58 92h0m79 8h0m27 4h0m-20 1h0m-24 9h0m-82 1h0m9 15h0m-22 6h0m13-1h0m16 1h0m-36 11h0m29-3h0m0 3h0m-23 6h0m-11 5h0m0 3h0m111 23h0m39 21h0m-57 9h0m23 12h0m-20 1h0m-19 6h0m32 1h0m-24 11h0m3-4h0m9 10h0"/>
<path stroke="#abd9e9" d="m76 82h0m-6 2h0m13 4h0m73 4h0m-9 0h0m-2-2h0m-43 1h0m-2 4h0m-16-1h0m2 3h0m2 0h0m11 4h0m0-2h0m55-3h0m4 1h0m10 10h0m-21-2h0m-13 1h0m-12 0h0m-65-3h0m-11 3h0m1 2h0m3 0h0m11 2h0m59 1h0m3 1h0m1-3h0m3 3h0m1-4h0m5 4h0m10 0h0m2-2h0m8 4h0m-84 1h0m-23 4h0m0-5h0m-1 2h0m-6 4h0m98 2h0m2 0h0m3 4h0m-13 5h0m0-5h0m-14 1h0m-48 0h0m-18-1h0m-5 1h0m-1 2h0m69 7h0m13-2h0m9-2h0m11 5h0m0-1h0m5-4h0m5 5h0m2-5h0m13 4h0m-24 7h0m-34-4h0m-57 4h0m-25-2h0m-5 2h0m-9 2h0m32 2h0m3-3h0m1 2h0m0-1h0m4 2h0m1 1h0m6-2h0m1 3h0m64-1h0m16-3h0m2 4h0m2-4h0m17 4h0m-4 4h0m-24 2h0m-8-2h0m-13-2h0m-2 2h0m-72-2h0m-6 4h0m-1-3h0m-24 6h0m3 3h0m7-4h0m41 2h0m127 1h0m-149 2h0m-22 1h0m98 5h0m9 1h0m28 7h0m1 11h0m-33-1h0m16 11h0m8-4h0m12 3h0m-21 5h0m-8-3h0m-73 3h0m-2-1h0m61 5h0m48 10h0m-23 0h0m-19-5h0m-12 0h0m-56 5h0m42 3h0m36 1h0m8 0h0m2-2h0m10 1h0m10-1h0m-14 8h0m0-1h0m-16 0h0m-13 1h0m-6-3h0m-5 2h0m-12 0h0m10 5h0m4 3h0m21 0h0m25-4h0m-48 10h0m-3-4h0m-12 1h0m16 9h0m15-4h0"/>
<path stroke="#ceeaf3" d="m75 83h0m0-1h0m-17 7h0m5-4h0m4 3h0m1 0h0m3-3h0m42 4h0m49 6h0m-2-2h0m-4-3h0m-3 0h0m-1 1h0m-2 3h0m-4-3h0m-5 3h0m-46-1h0m-16 2h0m0-3h0m-19 3h0m-12 4h0m9-1h0m10 0h0m6-1h0m6 4h0m2-4h0m2 3h0m14-2h0m7 0h0m24 3h0m2 0h0m10 0h0m0-1h0m1 0h0m11-4h0m1 1h0m11 3h0m6 3h0m0 4h0m-1-4h0m-1 4h0m0-2h0m0-2h0m-1 2h0m-2 2h0m-10-5h0m-3 5h0m-6-4h0m-3 1h0m-1-1h0m0 3h0m-3-4h0m0 1h0m-2 3h0m-9 0h0m-9 0h0m-3 1h0m-13-1h0m-13-4h0m-41 6h0m6 5h0m5 0h0m6-5h0m50 0h0m1 2h0m2 2h0m5 1h0m1-5h0m6 2h0m2 2h0m3-2h0m2 1h0m2 2h0m3-4h0m3 1h0m0 3h0m1-3h0m2-2h0m0 0h0m11 4h0m8-2h0m1 0h0m-20 8h0m0-3h0m-7 1h0m-11-2h0m-3 0h0m-2 0h0m-67 3h0m-8 0h0m-5-1h0m0 0h0m-3-2h0m-8 11h0m84-3h0m3-2h0m9 3h0m2-2h0m6 0h0m1 2h0m2 2h0m9-2h0m2-3h0m9 2h0m11 6h0m-44-2h0m-6 1h0m-6 4h0m-1-4h0m-1 3h0m-30 1h0m-26-4h0m-21 1h0m-11 1h0m-5 4h0m8 1h0m2 2h0m1 0h0m4-1h0m5-3h0m2 2h0m77-2h0m4 4h0m0 1h0m8-4h0m2-1h0m9 0h0m8 3h0m10 2h0m6-4h0m-7 7h0m-3 0h0m-3 3h0m-2-5h0m-1 0h0m-6 2h0m-1 1h0m-2 0h0m-16 0h0m-1-2h0m-7 3h0m-65 1h0m-1-4h0m-1-1h0m-4 0h0m-24 5h0m-3-5h0m0 7h0m4 4h0m1-3h0m8 0h0m6 1h0m1 0h0m2 0h0m2-2h0m1 0h0m25 1h0m8-1h0m31 3h0m1-3h0m1 0h0m8 0h0m2 4h0m3-4h0m1 3h0m13 0h0m2-4h0m3 0h0m7 2h0m7 3h0m45 4h0m-11-2h0m-2 2h0m-58 0h0m-1 2h0m-3 0h0m-10-5h0m-3 4h0m-1-1h0m-33-2h0m-2 4h0m-21-1h0m-19-3h0m-8-1h0m-1 0h0m-11 1h0m-2-1h0m-3 5h0m-1 6h0m9-3h0m6-1h0m4 3h0m0-2h0m7 2h0m20-3h0m25 0h0m2-1h0m34 1h0m2 4h0m8-3h0m5 0h0m1 1h0m0 1h0m1-1h0m63 2h0m9-3h0m3 0h0m-9 6h0m-11 3h0m-1-3h0m-8-1h0m-146 0h0m-26-1h0m144 12h0m-5 5h0m-1 0h0m-23 4h0m32 1h0m-8 6h0m-9-1h0m-2-1h0m-2 0h0m-17 2h0m-14 0h0m-2-2h0m-71 7h0m7-2h0m86 1h0m12-2h0m10 4h0m8 2h0m-22 2h0m-1-1h0m-12 1h0m-75 7h0m67 2h0m11-3h0m23-2h0m4 3h0m2 0h0m2 1h0m1-4h0m2 4h0m2 7h0m-8-1h0m-3-2h0m-19 3h0m-3-3h0m-10-2h0m0 2h0m-1 2h0m-2 1h0m-1-1h0m0-1h0m0 2h0m-1-2h0m-4-3h0m-1 0h0m-3 3h0m-1-3h0m-44 4h0m36 3h0m7 2h0m8 2h0m3-3h0m3-2h0m4 0h0m4 0h0m6 3h0m4 2h0m0-5h0m1 1h0m1 3h0m13-3h0m3 3h0m5-4h0m-4 9h0m-6 1h0m-17-4h0m-3 5h0m-1-3h0m-2 0h0m-3 3h0m-5-3h0m0-2h0m-3 3h0m-2 2h0m-7-4h0m-13 4h0m4 3h0m1-2h0m5 2h0m16 1h0m6 0h0m3-3h0m3 4h0m10 1h0m3-2h0m7-1h0m-7 4h0m-6 0h0m-9 1h0m-5 1h0m-1-1h0m-6-1h0m-4 5h0m-1-2h0m-15 6h0m3-3h0m12 5h0m10-5h0m-3 7h0m0 0h0"/>
<path stroke="#eaf7e5" d="m82 77h0m5-2h0m1 3h0m0 5h0m-5-1h0m0-1h0m-1 0h0m-2 0h0m-2-2h0m-10 4h0m-6 2h0m1 0h0m7 4h0m1 0h0m9-3h0m1 3h0m1-4h0m64 4h0m21 6h0m-6-3h0m-1-1h0m-7 3h0m-4 1h0m-3-5h0m0 2h0m-1 0h0m0 1h0m-4 2h0m-35-1h0m-19-1h0m-10 2h0m-5-2h0m-4-2h0m-8 3h0m-1-4h0m-1 3h0m0 2h0m-3 6h0m1-5h0m18 4h0m5-4h0m1 0h0m8 3h0m14 0h0m32-3h0m1 0h0m7 3h0m0 0h0m12-2h0m10-1h0m0 1h0m3-1h0m1 9h0m-6 1h0m-3-4h0m-3 2h0m-3 1h0m-11-3h0m-7 4h0m-3-2h0m-4 2h0m-4-4h0m-6 5h0m-28-5h0m-20 4h0m-10-3h0m-4 4h0m-11-1h0m8 7h0m59-3h0m1-2h0m10 4h0m2-4h0m3 3h0m3 1h0m2 0h0m1-3h0m1 2h0m1 0h0m6 2h0m4-5h0m4 0h0m2 5h0m1-2h0m0 2h0m2 0h0m10 4h0m-1-3h0m-1 4h0m-3-1h0m0 2h0m-2-5h0m-10 4h0m-2-1h0m-2 1h0m-11-1h0m-10-2h0m-1-1h0m0 2h0m-33-1h0m-8 3h0m-15-1h0m-2 2h0m-5-4h0m-5 1h0m-10 2h0m1 7h0m41-1h0m30 1h0m10-4h0m10-1h0m2 3h0m5-2h0m12 2h0m4 0h0m7 0h0m5 3h0m-4 2h0m-3 1h0m-2 1h0m-2 0h0m-3-1h0m-4-2h0m-10 4h0m0-1h0m0-1h0m-10-1h0m-1-1h0m-2 4h0m-9-3h0m-4 1h0m-31 0h0m-7-1h0m-4-1h0m-4 2h0m-4-2h0m-16 1h0m0 0h0m-1 2h0m-5-1h0m-1-1h0m-9-2h0m0 7h0m2 2h0m0-2h0m3 3h0m3-4h0m6 2h0m20 3h0m3-2h0m4 1h0m4-1h0m3 1h0m32 0h0m2 0h0m4-4h0m14 3h0m24-1h0m1 1h0m10 0h0m0 0h0m-11 4h0m-9 0h0m-1 2h0m-2-1h0m-1 3h0m-3-4h0m-6 2h0m-2 1h0m-11 1h0m-1-4h0m-35 2h0m-4 2h0m-12-5h0m-2 0h0m-2 0h0m-1 4h0m-1-4h0m-7 5h0m-2-2h0m-10-2h0m-1 1h0m-22 0h0m-4 2h0m0 1h0m5 3h0m4 1h0m2-2h0m1 0h0m3 2h0m0-1h0m8-1h0m1 1h0m7-2h0m6 5h0m2-5h0m12 1h0m18-1h0m1 2h0m21 3h0m3 0h0m1-3h0m1-2h0m4 5h0m16-1h0m4 1h0m3-5h0m3 1h0m0 1h0m1 3h0m4-5h0m1 4h0m3-2h0m5 2h0m7 0h0m31 5h0m-3 2h0m-5-1h0m-2 1h0m-32-5h0m-18 2h0m-5-2h0m-2 4h0m-2-2h0m-2-2h0m-10 2h0m-5-2h0m-25 0h0m-2 1h0m-8 0h0m-41 4h0m-13-3h0m-5 1h0m-5 1h0m-1 6h0m1-1h0m6 0h0m1-3h0m2 1h0m1 3h0m12-4h0m4 2h0m78 3h0m1-1h0m5-2h0m5 2h0m0-3h0m9-1h0m48 4h0m4-1h0m20-3h0m-20 7h0m-1 0h0m-4 0h0m-55 3h0m0 1h0m-7-1h0m-1 0h0m-2 0h0m-82-2h0m-6 1h0m-4-1h0m-7 0h0m0-1h0m44 5h0m58 1h0m2 0h0m0 0h0m2-1h0m57 0h0m17 0h0m-42 11h0m-1-2h0m-8-1h0m-1-1h0m-5 3h0m-17 5h0m0 0h0m9 0h0m5 0h0m6-3h0m4 5h0m2-3h0m2 2h0m3 0h0m0-1h0m3 6h0m-11-3h0m0 3h0m-12 1h0m0 0h0m-8-1h0m-7 2h0m-1-3h0m-14 0h0m-3-2h0m0 2h0m-69 7h0m10-2h0m6 3h0m2-4h0m47 3h0m7-3h0m4 2h0m14 3h0m9-1h0m0 1h0m2 0h0m17-2h0m3 1h0m1-2h0m1 3h0m0 5h0m-5-1h0m-1 0h0m-14-3h0m-9 5h0m-2-1h0m-2 1h0m-1-1h0m-16-1h0m-72 0h0m-4 3h0m7 3h0m9-2h0m22 1h0m4-1h0m18 4h0m15-5h0m5 1h0m11-1h0m4 2h0m16 0h0m0 1h0m12 1h0m2-4h0m2 2h0m8 2h0m-9 2h0m-4 2h0m-17 1h0m-3-1h0m-6 1h0m-10-3h0m-11 3h0m-5-1h0m-7 3h0m-2-5h0m-1 2h0m-40-1h0m10 8h0m39 2h0m2-4h0m2 0h0m7 1h0m24 1h0m6 1h0m8 1h0m8 0h0m-5 4h0m-2-2h0m-1 4h0m-6-2h0m-7 1h0m-3 0h0m0-1h0m-2 1h0m0 0h0m-1-4h0m-17 2h0m-7 0h0m0 3h0m-9 0h0m-2-1h0m-1-4h0m-4 7h0m1-1h0m0 0h0m0 0h0m2 0h0m2 3h0m1 2h0m5 0h0m7-4h0m5 1h0m8-2h0m5 5h0m3-1h0m1 1h0m1-4h0m4 0h0m2 1h0m4 2h0m1 0h0m1-4h0m-14 9h0m-1 2h0m-4-3h0m-4 2h0m-5 1h0m-1-5h0m-2 1h0m-2 3h0m-2-3h0m-6 0h0m-1 4h0m-1-5h0m-4 3h0m2 8h0m2-4h0m14 2h0m6-2h0m-8 10h0m-2 0h0m-9-5h0"/>
<path stroke="#ffffbf" d="m83 76h0m22-3h0m-22 5h0m-10 5h0m-3 0h0m-7 3h0m1-1h0m6-1h0m1 2h0m4-1h0m6 0h0m1 1h0m4-2h0m27 3h0m32 2h0m14 5h0m-63 1h0m-16 0h0m-3-2h0m-9-3h0m-7 4h0m-7 3h0m27 1h0m1 3h0m2-4h0m12 1h0m9 1h0m1 0h0m1-3h0m25 1h0m11 2h0m2-3h0m3 5h0m13-4h0m1 3h0m6 5h0m-3-2h0m-6-1h0m-10 4h0m-1 1h0m-5 0h0m-2 0h0m-7-4h0m-2-1h0m-29 2h0m-6 1h0m-7 0h0m-1-1h0m-16-1h0m-1 1h0m-17 1h0m0 4h0m5 1h0m1 1h0m9 2h0m6 0h0m7-2h0m6 1h0m31-1h0m1 2h0m13-3h0m3-2h0m6 2h0m21 1h0m3-1h0m-4 8h0m-1-2h0m-17 0h0m-2 0h0m-2-2h0m-9 1h0m-9 1h0m-1 1h0m-55-2h0m-1 0h0m0 4h0m-2-1h0m0-4h0m-2 4h0m0 1h0m-25-2h0m-7 7h0m3 0h0m9 1h0m8-4h0m0 0h0m29 1h0m4-1h0m4 1h0m54 0h0m2-2h0m0 5h0m10-4h0m1 1h0m6 9h0m-3-1h0m-12-3h0m-3-1h0m-14 0h0m0 5h0m-44-1h0m-14-3h0m-17 4h0m-7-1h0m-1-2h0m-7-2h0m-3 2h0m-4 1h0m-6 1h0m3 4h0m10-2h0m1 1h0m2-1h0m2 3h0m8 2h0m3-2h0m12-1h0m6-1h0m5-1h0m3 4h0m2-3h0m0-1h0m36 1h0m15-1h0m19 5h0m2-2h0m0 2h0m11-1h0m-4 3h0m-13 4h0m-11 0h0m-29-2h0m-19 2h0m0-2h0m-3-3h0m-5 2h0m-2 0h0m0 2h0m-2-4h0m-5 4h0m-20-4h0m-3 5h0m-1-5h0m-3 5h0m-2-5h0m-13 5h0m2 3h0m1-1h0m2 2h0m19-2h0m2 3h0m13-4h0m14 1h0m49-1h0m6 1h0m8 2h0m2 1h0m18-2h0m28 5h0m-32 2h0m-21-3h0m-7 4h0m-3 1h0m-16-5h0m-26 3h0m-27-1h0m-5 1h0m-21-1h0m-1 0h0m-4 0h0m-1 2h0m-5 1h0m-6-2h0m-4 2h0m-5-3h0m4 6h0m10-2h0m2 2h0m34 3h0m22-4h0m48 0h0m81-1h0m-17 9h0m-6-3h0m-56 0h0m-12 5h0m-58-4h0m-24 0h0m-2 4h0m-2-3h0m32 6h0m3 0h0m28 1h0m20-3h0m1 2h0m6-1h0m31 4h0m33-4h0m4 1h0m-37 6h0m0 3h0m-2-3h0m-3 0h0m-15 1h0m-27 7h0m7 0h0m5-2h0m2 0h0m8-2h0m10 5h0m1-2h0m17-3h0m2 11h0m-1-3h0m-3-2h0m0 0h0m-3 3h0m-2-1h0m-7 0h0m-1-2h0m-2 4h0m-10 0h0m0 1h0m-10-5h0m-2 0h0m-3 3h0m0 1h0m-2 1h0m-1-1h0m-3 0h0m-1 1h0m-2-3h0m-1 2h0m-60 0h0m52 7h0m11-1h0m1-2h0m1-1h0m1 1h0m1-2h0m3 3h0m2 0h0m2 2h0m2-5h0m0 2h0m2 1h0m1 2h0m5-4h0m3 4h0m1-4h0m3-1h0m6 5h0m7-5h0m5 4h0m0-4h0m1 5h0m4-4h0m9 9h0m0 1h0m-5-1h0m-1-2h0m-2-1h0m-8-1h0m-4 1h0m-3 3h0m-3-2h0m-16-1h0m-27-1h0m-2 2h0m0-2h0m-46 5h0m-4-1h0m-3 6h0m31 1h0m27-4h0m0 3h0m4-1h0m1 1h0m5-2h0m12 2h0m5-2h0m1 0h0m23-1h0m4 2h0m3-2h0m-1 8h0m-1-3h0m-3 3h0m-3-2h0m-11 1h0m-1-2h0m-2 1h0m-2-1h0m-11 5h0m-7-4h0m-1 0h0m0 1h0m-3-1h0m-11-1h0m0 3h0m-2-1h0m-5-2h0m-49 2h0m5 5h0m42 3h0m1 1h0m5-4h0m17 0h0m2-1h0m2 5h0m0 0h0m2-4h0m0-1h0m7 4h0m1 1h0m0-3h0m2 2h0m1-3h0m1 2h0m2 1h0m3-1h0m2-3h0m4 3h0m1-3h0m3 1h0m0 6h0m-2 0h0m-7 0h0m-5 2h0m-1 2h0m-8-1h0m-11-1h0m-1 1h0m-3 0h0m-2-4h0m0 1h0m-5 3h0m-7 0h0m-9 6h0m6 0h0m6-2h0m2-1h0m3 0h0m2 4h0m4-1h0m8-2h0m2-1h0m0 2h0m7-3h0m1 5h0m18-4h0m-12 5h0m-1 2h0m-13-1h0m-3 3h0m0-4h0m-1 4h0m-6 1h0m-5-5h0m-1 0h0m-3 0h0m-1 5h0m-6-2h0m-3-1h0m-2 0h0m11 6h0m5-1h0m2 0h0m1 1h0m6 0h0m-10 5h0m-4-1h0"/>
<path stroke="#feeaa0" d="m68 87h0m85 2h0m-9 2h0m-48 3h0m0-1h0m-11 2h0m-13-5h0m-14 9h0m6 1h0m15-2h0m1-1h0m1 3h0m-26 12h0m1-2h0m4-1h0m3 3h0m16-1h0m6 1h0m5 0h0m50-3h0m5-1h0m24 3h0m-91 3h0m-1 5h0m-2-4h0m-42 10h0m2-2h0m3 1h0m6-3h0m0 0h0m22 4h0m0 0h0m0-4h0m1-1h0m2 5h0m7-2h0m7 0h0m3-1h0m2 2h0m2 2h0m-4 5h0m0 0h0m-1-1h0m-19-3h0m0 0h0m-11 2h0m-30 4h0m19 3h0m6 0h0m60 0h0m13-3h0m13 2h0m23 5h0m-75 1h0m-6 1h0m0-1h0m-4-2h0m-18 1h0m-13 1h0m-17 1h0m6 5h0m24-1h0m1 1h0m3 1h0m12-2h0m10 1h0m2-3h0m8 2h0m34 1h0m26 0h0m-16 6h0m-1 0h0m-11 2h0m-37-2h0m-3-3h0m-1 4h0m-2-1h0m-2 0h0m-1 0h0m-25 2h0m-4-1h0m-5-2h0m-12 3h0m-21 4h0m3-3h0m12 1h0m8 2h0m26-3h0m70 9h0m-99 2h0m-14-5h0m-5 2h0m118 5h0m29 9h0m-3 0h0m-9-2h0m0 2h0m-8 1h0m-31 4h0m3 0h0m16-1h0m2 0h0m2 2h0m14 0h0m1-3h0m5 0h0m1 1h0m7-2h0m2 4h0m-3 6h0m-10-4h0m-5 2h0m-3 2h0m-1-1h0m-4 2h0m-1-3h0m-6 2h0m-6-3h0m-1 2h0m0 2h0m-2-4h0m-2-1h0m-2 1h0m-2 1h0m-2 0h0m-6-2h0m-3 10h0m29-4h0m3 4h0m0-2h0m1 2h0m5-3h0m4 0h0m22 1h0m-1 7h0m0 1h0m-31-1h0m-14 0h0m0-2h0m-15 0h0m-65 3h0m57 7h0m5 0h0m6 0h0m1 0h0m8-3h0m32 1h0m18-2h0m-5 5h0m0 5h0m-5 0h0m-6-4h0m-4 2h0m-14 2h0m-1-1h0m-3-1h0m-6-1h0m0-1h0m-4 0h0m-4 4h0m-8-5h0m-1 0h0m-6 5h0m-2-2h0m-3 1h0m-49-4h0m50 9h0m35-1h0m23 0h0m2-1h0m-6 7h0m-8 3h0m-15-3h0m-7-1h0m-25 10h0m5-2h0m7-3h0m5 2h0m4 0h0m2 1h0m4-3h0m4 5h0m0 0h0m18-4h0m2 2h0m-1 3h0m-26 1h0m-2 2h0m-3-2h0m-13 1h0m-1 2h0m-9-2h0m8 6h0m20 3h0m4-3h0m-18 7h0m-2-3h0"/>
<path stroke="#fecf80" d="m95 72h0m-9 8h0m-1-1h0m-20 9h0m44-3h0m-21 10h0m-14-2h0m-10 6h0m3-1h0m13-1h0m15-1h0m-7 8h0m-8-1h0m-2 1h0m-3 1h0m-2-3h0m-5 1h0m-5 2h0m-11 1h0m2 6h0m89-4h0m-56 8h0m-1 2h0m0-3h0m-6 0h0m-6 3h0m-2 1h0m-4-3h0m-1 0h0m-28 6h0m8 3h0m20-4h0m3 2h0m7-1h0m11 5h0m0-1h0m-6 4h0m-5-3h0m-2-1h0m-10 2h0m-27-1h0m-9 2h0m-2-3h0m53 10h0m-1 3h0m-6-1h0m-27 1h0m5 7h0m17-2h0m20 1h0m2-1h0m-5 10h0m-2 0h0m-49-4h0m-22 2h0m25 7h0m-3 8h0m-2-1h0m118 7h0m6 4h0m-3 1h0m-20 0h0m-27 7h0m13 0h0m6 0h0m2-3h0m2-1h0m1 3h0m19-4h0m11 2h0m1 3h0m5 6h0m-11 0h0m-5-5h0m-1 0h0m-2 4h0m-26 0h0m-4-4h0m0 4h0m-4-2h0m-5 2h0m-6 7h0m15 0h0m2-1h0m7-1h0m3 0h0m9-1h0m29 1h0m-23 3h0m-30 5h0m-3-2h0m-10 0h0m9 7h0m42-3h0m6 3h0m2-3h0m1 4h0m7-5h0m1 0h0m-5 9h0m-2 2h0m-27-3h0m-35-2h0m-3 10h0m21 0h0m26-1h0m0-1h0m-1 9h0m-4-1h0m-11-2h0m0 0h0m-19 2h0m-4 4h0m12-2h0m14 2h0m2-2h0m-27 6h0m-7 3h0m-4 5h0m14 0h0"/>
<path stroke="#fdae61" d="m70 107h0m-3 2h0m17 7h0m-6 5h0m2 3h0m5 0h0m4-2h0m-1 8h0m-18 1h0m-42 5h0m51-1h0m4-3h0m2 1h0m-9 9h0m-25-1h0m33 10h0m-1 0h0m-4 1h0m-59 3h0m-2 0h0m20 6h0m114 12h0m-20 6h0m-10 5h0m4 0h0m27 7h0m-11-3h0m-9 3h0m5 4h0m9 7h0m-41 0h0m-4 5h0m54 15h0m-28 12h0"/>
<path stroke="#f7834d" d="m69 108h0m4 20h0m80 57h0m-37 19h0m46 4h0m-65 16h0"/>
<path stroke="#ea593a" d="m70 129h0m4 12h0"/>
</g></g><use href="#t110" stroke-width="3.5"/></g>
<path d="M1379.3 1782.6V1989.2H1602" fill="none" stroke="#000" stroke-width="1.9"/>
<text x="1379.3" y="2002" font-size="9.4" text-anchor="middle" fill="#333">−50</text>
<text x="1431.1" y="2002" font-size="9.4" text-anchor="middle" fill="#333">−25</text>
<text x="1482.9" y="2002" font-size="9.4" text-anchor="middle" fill="#333">0</text>
<text x="1534.8" y="2002" font-size="9.4" text-anchor="middle" fill="#333">25</text>
<text x="1586.6" y="2002" font-size="9.4" text-anchor="middle" fill="#333">50</text>
<text x="1374.7" y="1786.6" font-size="9.4" text-anchor="end" fill="#333">50</text>
<text x="1374.7" y="1838.6" font-size="9.4" text-anchor="end" fill="#333">25</text>
<text x="1374.7" y="1890.5" font-size="9.4" text-anchor="end" fill="#333">0</text>
<text x="1374.7" y="1942.5" font-size="9.4" text-anchor="end" fill="#333">−25</text>
<path d="M1379.3 1989.2v3.2M1431.1 1989.2v3.2M1482.9 1989.2v3.2M1534.8 1989.2v3.2M1586.6 1989.2v3.2M1379.3 1783.1h-3.2M1379.3 1835.1h-3.2M1379.3 1887h-3.2M1379.3 1939h-3.2" stroke="#000" stroke-width="1.5" fill="none"/>
<text x="1490.2" y="2020.4" font-size="14" text-anchor="middle">tSNE_1</text>
<text x="1363.3" y="1885.7" font-size="14" text-anchor="middle" transform="rotate(-90 1363.3 1885.7)">tSNE_2</text>
<text x="1496.8" y="1759.7" font-size="33.5" text-anchor="middle" font-style="italic" stroke-width="0.40">Ffar2</text>
<rect x="1613.1" y="1862.3" width="11.4" height="57.4" fill="url(#rb)"/>
<text x="1613.5" y="1858.3" font-size="7.3" fill="#222">Scale.data</text>
<text x="1627.8" y="1873.7" font-size="6.1" fill="#333">4</text>
<text x="1627.8" y="1884.7" font-size="6.1" fill="#333">3</text>
<text x="1627.8" y="1895.6" font-size="6.1" fill="#333">2</text>
<text x="1627.8" y="1906.2" font-size="6.1" fill="#333">1</text>
<text x="1627.8" y="1916.9" font-size="6.1" fill="#333">0</text>
<path d="M1613.1 1871.5h2.3M1624.5 1871.5h-2.3M1613.1 1882.5h2.3M1624.5 1882.5h-2.3M1613.1 1893.4h2.3M1624.5 1893.4h-2.3M1613.1 1904h2.3M1624.5 1904h-2.3M1613.1 1914.7h2.3M1624.5 1914.7h-2.3" stroke="#fff" stroke-width="0.5" fill="none"/>
<g transform="translate(1696.1 1730.1)" fill="none" stroke-linecap="round"><g stroke-width="4.2"><g id="t111">
<path stroke="#4575b4" d="m102 64h0m4 1h0m0-1h0m14 7h0m-2-2h0m0-1h0m-1 2h0m-1-3h0m0 3h0m0 0h0m0 1h0m-1 0h0m0-4h0m-2 3h0m-1-1h0m0 2h0m-1-3h0m0 0h0m-1 0h0m-1-1h0m-1-1h0m0 5h0m0-1h0m-1-1h0m-1-3h0m-1 5h0m-2-1h0m-1 1h0m-2-5h0m0 0h0m-1 1h0m-2 3h0m-2 0h0m-13 7h0m1-1h0m4 0h0m0-1h0m0 0h0m1-1h0m1 2h0m0-1h0m1-1h0m0 2h0m2-2h0m0 2h0m2 1h0m1-5h0m0 3h0m0-2h0m1 1h0m0 2h0m0-4h0m0 5h0m2-1h0m0-2h0m0 2h0m1-4h0m0 3h0m0 1h0m1-2h0m0 1h0m1-1h0m0 0h0m2-2h0m0 5h0m1-1h0m0 1h0m0-3h0m1 2h0m0-1h0m0-2h0m1 2h0m2-3h0m1 3h0m0-1h0m0-1h0m1 0h0m0 4h0m1 0h0m0-4h0m1 2h0m1 1h0m1-2h0m1 0h0m0 2h0m2-4h0m0 5h0m1-3h0m1-2h0m0 3h0m4 8h0m-9-1h0m0-4h0m0 3h0m-1-2h0m0-1h0m0 5h0m-1 0h0m0 0h0m-1-3h0m-1 0h0m0 3h0m-1-2h0m-1 2h0m0-5h0m-3 0h0m-1 5h0m0 0h0m0-1h0m0 1h0m-1-3h0m0-2h0m0 1h0m0 2h0m-1 2h0m-1-1h0m-1 1h0m0-4h0m0 1h0m0 1h0m-1 1h0m-1 1h0m0-3h0m-1 0h0m0-1h0m0 1h0m0 2h0m0 0h0m-1-2h0m-4-1h0m0-1h0m-2 1h0m-1-1h0m-1 5h0m-1-3h0m0-2h0m0 2h0m0 2h0m-2 0h0m0 1h0m0-4h0m-1 2h0m-1-1h0m0 1h0m0-3h0m-1 3h0m-1 0h0m-1 1h0m0-4h0m0 3h0m-2-2h0m-2 3h0m-1 0h0m0 1h0m0-1h0m-1-1h0m-1 1h0m0 1h0m-2-1h0m-1 1h0m-2 0h0m-1-1h0m-9 7h0m4-4h0m1 0h0m0 1h0m0-1h0m1 0h0m0 4h0m1-3h0m0 2h0m3-1h0m0 1h0m0 0h0m2 1h0m0-5h0m0 2h0m0-2h0m1 2h0m0-1h0m0 3h0m0-4h0m0 5h0m1 0h0m0-5h0m1 3h0m1-1h0m1 3h0m0-3h0m0-1h0m0 0h0m0 2h0m2 0h0m0-3h0m1 3h0m1-3h0m1 0h0m0 2h0m0 1h0m1 2h0m0-4h0m0 2h0m1-2h0m0 1h0m0 0h0m1-2h0m0 4h0m1-3h0m2-1h0m0 1h0m1 1h0m0-2h0m0 3h0m0-2h0m1 4h0m0-1h0m0-3h0m1 1h0m8 0h0m1-2h0m1 2h0m0 3h0m0-3h0m2 2h0m0-2h0m0 0h0m0-2h0m1 3h0m0-3h0m0 1h0m0 1h0m1 0h0m0 0h0m1-2h0m0 0h0m0 0h0m0 0h0m0 2h0m1 0h0m0 3h0m1-2h0m0 1h0m0-4h0m0 3h0m3-2h0m1-1h0m0 5h0m1-4h0m1 3h0m1 1h0m0 0h0m1-2h0m31 2h0m0 0h0m1 0h0m1-1h0m3-1h0m1 0h0m3 2h0m13 6h0m-2 0h0m0 0h0m-3 0h0m-1-3h0m-1 1h0m0-2h0m-1 3h0m-1 1h0m-2-3h0m0-2h0m0 2h0m-3-2h0m0 0h0m0 4h0m-1 0h0m0-2h0m0-1h0m-2 3h0m0 1h0m-1 0h0m-1 0h0m-1-4h0m0 2h0m0-1h0m-1-2h0m0 5h0m0-3h0m-1 0h0m0 0h0m0 0h0m0 1h0m0-3h0m-1 4h0m0-3h0m-3 4h0m0-1h0m0 1h0m-1 0h0m-30-4h0m0 0h0m-1 1h0m-1 0h0m0 1h0m0-3h0m-1 4h0m-1 0h0m0-4h0m-2 3h0m-1-1h0m-1-1h0m-2 0h0m0 4h0m-1-3h0m-1-2h0m0 1h0m0 1h0m-1 3h0m0 0h0m-1-1h0m0 0h0m0-1h0m-1 2h0m0-2h0m0-3h0m-7 5h0m0-2h0m-1-1h0m0-1h0m-2 4h0m0 0h0m-1-4h0m0 3h0m-1-3h0m-3 4h0m0-4h0m-1 4h0m0-2h0m0-1h0m-2 3h0m0-2h0m-3 0h0m-1-3h0m0 3h0m-1 2h0m0-5h0m-1 3h0m-1 1h0m0-2h0m0-2h0m-1 4h0m-1-4h0m0 1h0m0 2h0m-2-2h0m-1 3h0m-2-2h0m-1 1h0m-1 1h0m0 0h0m-1 1h0m-1-5h0m-1 3h0m0-1h0m0 3h0m0-3h0m-1 2h0m-9 5h0m1 1h0m5-3h0m1 4h0m0 0h0m0-2h0m1 2h0m0-5h0m1 2h0m1 0h0m0 1h0m2-1h0m2 0h0m0 0h0m3 1h0m0 0h0m0 1h0m1-3h0m1 1h0m1-2h0m0 2h0m3 3h0m0-2h0m0-3h0m0 4h0m2-4h0m0 5h0m0-4h0m1 3h0m1 1h0m0-3h0m1-2h0m0 5h0m1-3h0m1 1h0m0 0h0m1-1h0m0-1h0m0-1h0m0 5h0m1-5h0m0 1h0m0 0h0m0 0h0m1 0h0m0 3h0m0-2h0m1 1h0m0 2h0m1-1h0m0-3h0m1 0h0m0 2h0m0 2h0m1-4h0m0-1h0m1 5h0m0-4h0m1 2h0m1 0h0m0-2h0m2 2h0m1-2h0m2-1h0m1 1h0m1-1h0m1 2h0m2 0h0m0 0h0m1 3h0m0-2h0m0-1h0m0-2h0m0 1h0m3 2h0m0 0h0m1 0h0m1-1h0m1-2h0m0 3h0m1 0h0m1-3h0m1 0h0m20 5h0m1-2h0m1 2h0m0 0h0m1-2h0m1-2h0m0 0h0m2 1h0m0-2h0m0 1h0m1-1h0m1 1h0m1 3h0m0 1h0m0-1h0m1 0h0m0-2h0m0-2h0m1 1h0m1 1h0m0 0h0m0 3h0m0-1h0m1-2h0m0 2h0m1-1h0m0 0h0m0 0h0m1 0h0m0 0h0m1-2h0m0 0h0m0-1h0m1 0h0m0 5h0m2 0h0m1 0h0m0-2h0m0 2h0m1 0h0m0-5h0m0 4h0m1-3h0m0-1h0m2 0h0m1 1h0m1-1h0m0 1h0m0 3h0m1-4h0m0 5h0m2-3h0m1-1h0m1 0h0m1 4h0m2-4h0m0 3h0m1-4h0m1 0h0m0 4h0m0-3h0m2 1h0m0 1h0m1-3h0m2 4h0m2 4h0m-1-1h0m0 4h0m0-4h0m-1 2h0m0 0h0m0-2h0m-1 0h0m0 1h0m0 3h0m0-2h0m0 2h0m0-4h0m-1 2h0m0 0h0m-1-3h0m-1 1h0m0 4h0m0 0h0m-1-3h0m0 2h0m0-4h0m-1 1h0m0 3h0m-1 0h0m0-1h0m-3-2h0m0-1h0m0 0h0m0 0h0m-1 3h0m-1-1h0m0 0h0m-1 2h0m-1 0h0m0-3h0m0-1h0m-1 3h0m-1 0h0m-1 0h0m0 2h0m0-4h0m-2 3h0m0-3h0m-1 4h0m-1-4h0m-1 2h0m-1-2h0m-1 4h0m0-4h0m0 2h0m0 0h0m-2-1h0m0 1h0m0 2h0m0 0h0m-1-4h0m0 3h0m0-4h0m-1 5h0m-1 0h0m-1-5h0m0 1h0m-2 3h0m-1-1h0m-1 1h0m-1-3h0m0 1h0m0 2h0m-1-3h0m0 2h0m-1-3h0m0 2h0m0 1h0m0-3h0m-3 4h0m0 1h0m-1 0h0m0-1h0m0 0h0m0-3h0m-2 3h0m0-4h0m-2 1h0m0-1h0m0 1h0m-1 0h0m-1 3h0m-3 0h0m-1 1h0m-2 0h0m0 0h0m-3 0h0m-9-2h0m0-3h0m-1 2h0m0 2h0m-2-1h0m-2-2h0m-2 2h0m-6 0h0m-1-3h0m0 2h0m0-2h0m-1 2h0m-1-1h0m0 1h0m-1 2h0m-1-3h0m-2 3h0m0-3h0m-3 0h0m-1 0h0m0 0h0m-1 4h0m0-3h0m0 3h0m0-2h0m-1-1h0m-3 1h0m-2-3h0m0 1h0m-1 1h0m-1 0h0m0 2h0m-2 1h0m-1-5h0m0 1h0m-2 0h0m-1-1h0m-2 1h0m0 2h0m-3-2h0m0 0h0m0-1h0m-2 2h0m0 1h0m-1-2h0m-1 4h0m-1-4h0m0 2h0m-1-3h0m0 4h0m-3-3h0m-2-1h0m0 5h0m-1-4h0m0 1h0m0 3h0m-2-1h0m-1 1h0m0-1h0m-2 1h0m-5 6h0m4-4h0m0 1h0m0 3h0m2-2h0m2 0h0m1-3h0m2 0h0m1 0h0m3 5h0m0 0h0m1-2h0m0 1h0m0-2h0m0 1h0m1 2h0m0-1h0m1-3h0m0 0h0m0 0h0m1 1h0m0 2h0m2-1h0m1 2h0m0 0h0m0-4h0m0 1h0m0 3h0m1-2h0m0 0h0m0-1h0m1-2h0m2 4h0m0 0h0m1 0h0m1-4h0m0 3h0m1-2h0m0 0h0m2-1h0m1 5h0m3-1h0m1-2h0m2 3h0m2-2h0m1 0h0m2 2h0m1-2h0m0-2h0m1 1h0m0-1h0m0 2h0m0 1h0m1 0h0m1 0h0m0 0h0m0 1h0m2-4h0m2 3h0m1 0h0m0-2h0m18-1h0m1 0h0m3-1h0m1 2h0m0-2h0m0 1h0m1 1h0m0-1h0m2 0h0m1 1h0m0-2h0m0 2h0m3 2h0m0-1h0m0 0h0m0-1h0m2 3h0m1-1h0m0 0h0m1 1h0m0-4h0m0 1h0m1 2h0m0-4h0m0 2h0m0 1h0m0-3h0m1 0h0m1 5h0m0-1h0m1-1h0m1-3h0m2 2h0m0-2h0m0 4h0m1-2h0m0-2h0m0 5h0m0 0h0m1 0h0m0-1h0m0 0h0m0 0h0m0-1h0m0 1h0m1-3h0m0 1h0m0 1h0m1-1h0m0 0h0m1 0h0m0 1h0m0 2h0m0-2h0m0 0h0m1-3h0m1 3h0m0-3h0m1 2h0m0 0h0m1 3h0m0-2h0m1 0h0m0-2h0m1 2h0m0 2h0m1-4h0m0-1h0m0 2h0m0-2h0m0 4h0m2-2h0m0 3h0m0 0h0m0-5h0m1 2h0m0-2h0m0 5h0m0-5h0m0 0h0m0 0h0m1 1h0m0 1h0m2-2h0m0 0h0m0 1h0m1 3h0m0-4h0m1 4h0m0-2h0m1 3h0m0-4h0m1 2h0m0 2h0m2 0h0m4-2h0m0 2h0m0-3h0m0 3h0m1-3h0m0 2h0m0 1h0m1-4h0m1 4h0m1-3h0m1 1h0m3 0h0m0-1h0m1 0h0m1 1h0m0-1h0m-1 5h0m-1-1h0m0 2h0m0-1h0m-1 1h0m-1 1h0m0-1h0m-1-2h0m0 2h0m0-2h0m-1 2h0m0 2h0m0 0h0m0-4h0m-1 2h0m-1-2h0m-1 3h0m0 2h0m0-4h0m-1 0h0m-1-1h0m-1 1h0m-1 0h0m-1 4h0m-2-5h0m0 4h0m-1-2h0m-1 0h0m-1 3h0m-1-1h0m0-3h0m0 1h0m0 0h0m-1 0h0m0 2h0m0-3h0m-2 2h0m-1-1h0m-1 2h0m0-4h0m-1 2h0m0 0h0m-1 2h0m0-2h0m-1-1h0m0-1h0m0 3h0m-1 2h0m0-5h0m-1 4h0m-4-4h0m-2 3h0m0 0h0m-1-2h0m0-1h0m-4 0h0m-1 0h0m-1 0h0m-1 3h0m-2-1h0m0 1h0m0-2h0m-1 1h0m0-2h0m0 3h0m0-1h0m0 0h0m-1 3h0m-1-2h0m0-2h0m0 1h0m0-2h0m-26 3h0m-5-2h0m-2 4h0m0-2h0m0-1h0m-1 2h0m0-3h0m-2 1h0m0 3h0m-2-2h0m0 0h0m-1 1h0m-1-3h0m-1 2h0m0-3h0m0 1h0m-1-1h0m-1 4h0m0 1h0m-1-5h0m0 3h0m-1-3h0m0 1h0m-1 0h0m0 3h0m-1-2h0m-1 3h0m0-1h0m0-1h0m-1 2h0m0-5h0m-2 1h0m-1 4h0m0-3h0m-1 0h0m-1-1h0m0 3h0m0-4h0m0 5h0m0-1h0m0-1h0m-1-2h0m0-1h0m-1 5h0m0-1h0m0 0h0m0-4h0m0 5h0m-2-1h0m0 1h0m0 0h0m-1 0h0m-1-4h0m-1 0h0m0 2h0m-3-2h0m-1 1h0m0-1h0m-1 1h0m-3 1h0m-1 1h0m0-4h0m-1 4h0m-1 1h0m0-4h0m-2 4h0m0-3h0m0 0h0m0-2h0m-1 2h0m-1 2h0m0 1h0m-1-4h0m0-1h0m-3 4h0m-1 0h0m-1-3h0m-1 2h0m-9 8h0m1 0h0m1-1h0m3 0h0m0 1h0m1 0h0m1-2h0m0 2h0m3-1h0m1-2h0m0-2h0m2 2h0m1 1h0m0 2h0m0-2h0m1 0h0m0-2h0m0 0h0m1 0h0m0 0h0m1 1h0m0 1h0m0 2h0m1-1h0m1 1h0m1-2h0m1-1h0m1-1h0m0 3h0m0 0h0m0-3h0m15 4h0m1-5h0m0 5h0m0 0h0m0-4h0m1 1h0m0-1h0m0 4h0m0-2h0m0-3h0m2 5h0m1-2h0m1 2h0m0 0h0m4-2h0m1 0h0m0 1h0m0-1h0m1-1h0m1-1h0m1 0h0m0 3h0m0-2h0m1 1h0m0-3h0m1 5h0m0-1h0m0-2h0m2 1h0m0-2h0m2 3h0m0 0h0m1-2h0m0 3h0m1-1h0m0 1h0m0-3h0m1 2h0m0-4h0m0 4h0m1-4h0m0 2h0m8 3h0m19 0h0m1 0h0m0 0h0m1-2h0m0 1h0m1-2h0m0 3h0m0 0h0m1-2h0m2-3h0m1 3h0m4-2h0m0 1h0m3-2h0m1 3h0m2-3h0m0 1h0m0 3h0m1 0h0m2-4h0m0 3h0m0-2h0m1 1h0m0 0h0m0-2h0m0 4h0m1-1h0m1-1h0m0-1h0m1 2h0m0 0h0m0-2h0m1 1h0m1-2h0m0 3h0m0 2h0m1-3h0m0-1h0m0-1h0m1 5h0m0 0h0m7-2h0m0-2h0m0 1h0m0 3h0m0-5h0m1 4h0m0 1h0m0 0h0m1-5h0m1 2h0m0 0h0m0-1h0m0-1h0m0 2h0m1 3h0m0-2h0m2-1h0m0 1h0m1 0h0m1 0h0m3-1h0m1-2h0m1 4h0m1 0h0m1-1h0m0 0h0m1 2h0m0-3h0m1 1h0m1 0h0m4 5h0m-1 2h0m0-4h0m-1 0h0m-1 4h0m-1-3h0m-2 1h0m-1-1h0m-1 0h0m-1 1h0m0-1h0m0 2h0m-2 1h0m0 0h0m-2 0h0m0 1h0m-2-1h0m-1-1h0m0 1h0m-2-4h0m0 2h0m-2-1h0m0 0h0m-1 1h0m-1 0h0m-1 0h0m0 2h0m0-4h0m-5 1h0m-1 0h0m0 0h0m0 3h0m-1 1h0m0-2h0m-1-3h0m0 0h0m-6 2h0m-1 0h0m-1-1h0m-1 1h0m-1 2h0m0-3h0m-2 4h0m-1 0h0m0-5h0m0 1h0m0-1h0m-1 0h0m0 5h0m-2-3h0m-1 2h0m-1-1h0m0 1h0m-1 1h0m0-4h0m-1 2h0m0-2h0m0 4h0m-1-3h0m-1-2h0m-2 5h0m-1-2h0m0-1h0m0 3h0m0 0h0m-1-4h0m-1 0h0m0 3h0m0 1h0m-25-5h0m-2 1h0m0 3h0m0-4h0m-1 4h0m-1 0h0m0 1h0m0 0h0m0-2h0m-1 2h0m0-1h0m-1 0h0m-2-1h0m0 0h0m0 1h0m-1-1h0m-2 1h0m0-2h0m-1-2h0m0 3h0m-1-2h0m-1 3h0m-1-4h0m0 1h0m0-1h0m-1 1h0m-1 1h0m-2 2h0m0-4h0m0 3h0m0 0h0m-1 0h0m0-2h0m0 2h0m0 2h0m0 0h0m-2-2h0m-1-3h0m0 1h0m0 0h0m-1 0h0m0 0h0m0 4h0m-1-3h0m-3-2h0m-1 3h0m-2-2h0m0 1h0m-4 1h0m-2 2h0m-1 0h0m-1-3h0m0 0h0m0 0h0m-1 2h0m0 1h0m0-5h0m-1 0h0m0 2h0m0 3h0m-1-3h0m-1-1h0m0 3h0m0-2h0m-1 2h0m0 0h0m-1-1h0m0-1h0m0 1h0m0-1h0m-1-1h0m0-1h0m0 2h0m-1-1h0m0 2h0m-1 0h0m-1 0h0m-2 1h0m0 0h0m-1-2h0m0-2h0m0 1h0m-1 0h0m0 1h0m-1 3h0m-1-3h0m0-2h0m-1 2h0m0 3h0m0-1h0m-1 0h0m-1-4h0m-1 1h0m0 2h0m-1-3h0m-1 2h0m-2-2h0m0 3h0m0 0h0m-2 1h0m-2 3h0m0 3h0m1-2h0m0 3h0m1-1h0m0-3h0m1 4h0m2-3h0m0 2h0m0 0h0m2-2h0m2 2h0m1-3h0m0 3h0m1 0h0m1-3h0m0 0h0m0-1h0m2 3h0m0 0h0m0-2h0m1 0h0m0 2h0m0-3h0m1 1h0m0 0h0m1 2h0m0 2h0m0-1h0m1 0h0m0-4h0m1 0h0m1 3h0m0-3h0m1 1h0m0 3h0m1-2h0m0 2h0m2-1h0m1-3h0m1 2h0m1 2h0m0 0h0m1 1h0m0 0h0m0-2h0m1 0h0m0-1h0m0 3h0m2-1h0m0-1h0m8-3h0m4 2h0m1-2h0m2 5h0m2-3h0m1-1h0m0 2h0m0 0h0m2 0h0m0-1h0m1-1h0m1 3h0m0 1h0m1-5h0m2 3h0m0 1h0m1-2h0m0 1h0m0 1h0m0 0h0m2-3h0m0-1h0m0 3h0m1-3h0m0 2h0m0 2h0m0-1h0m1-2h0m1 4h0m0-4h0m2 2h0m23 1h0m2 0h0m3 0h0m0-1h0m0 1h0m2-4h0m0 4h0m1 1h0m0-4h0m1 1h0m2-2h0m0 0h0m2 1h0m2 3h0m0-2h0m0 3h0m0 0h0m8-4h0m0-1h0m1 1h0m0 0h0m0-1h0m1 4h0m0-4h0m0 3h0m1 2h0m0-3h0m0 1h0m8-3h0m1 5h0m0-1h0m2 1h0m0-1h0m1-4h0m1 5h0m1-2h0m0-3h0m1 4h0m1-1h0m0 2h0m0-4h0m2 2h0m0 2h0m0 0h0m0-2h0m0 1h0m1-4h0m0 0h0m1 5h0m1-5h0m1 4h0m1-2h0m0 2h0m0-2h0m0-2h0m1 3h0m0-2h0m1 2h0m0 0h0m1 2h0m1-1h0m0-3h0m1 1h0m1 1h0m0 1h0m1-2h0m0 2h0m0-3h0m3 0h0m1 2h0m0-3h0m0 4h0m0-1h0m1-3h0m2 3h0m0 1h0m2 0h0m-1 4h0m-1 1h0m0 2h0m-1-3h0m0 0h0m-1 0h0m0 2h0m0 0h0m0-2h0m-1 0h0m-1 1h0m-1-2h0m0 1h0m-1 0h0m0-2h0m-1 2h0m-1 1h0m-2-2h0m-1 4h0m-1-4h0m0 1h0m0-1h0m-1-1h0m-1 2h0m0 0h0m0-1h0m-1 1h0m0-1h0m0 4h0m0-3h0m-1 3h0m-1-3h0m-1 3h0m0-5h0m0 1h0m0-1h0m0 2h0m0-1h0m-1-1h0m0 1h0m-2-1h0m0 5h0m-1 0h0m-1-3h0m0-1h0m0 4h0m-1-5h0m0 3h0m0 1h0m-1-3h0m0-1h0m-1 4h0m0-2h0m-1 1h0m0 2h0m0-3h0m0 3h0m-1-2h0m0-3h0m-1 1h0m-1 2h0m0 1h0m-3 0h0m-3-1h0m0 2h0m-1 0h0m0-3h0m-1 1h0m0-2h0m0 3h0m0-3h0m0 3h0m-8-4h0m0 3h0m0-3h0m-1 1h0m0 2h0m-2 2h0m-1-4h0m-2 2h0m-1 2h0m0 0h0m-1-3h0m0 2h0m-2-1h0m-1 0h0m-2 0h0m-1-1h0m-1-1h0m0 2h0m-1-3h0m0 2h0m-2-1h0m-1 2h0m-19 2h0m0-2h0m-1 0h0m-1-3h0m-1 0h0m-2 4h0m0-1h0m0 2h0m0-1h0m-1-2h0m-1 1h0m0 2h0m-1-3h0m0 1h0m0 2h0m-2-3h0m0 2h0m0 1h0m0-4h0m-1 3h0m0-1h0m0 0h0m0-2h0m-1-1h0m0 4h0m-1-2h0m0 2h0m0-1h0m-2-2h0m0 2h0m-1-3h0m0 2h0m0-2h0m-1 4h0m0-2h0m0 1h0m0-3h0m0 0h0m-2 4h0m0-3h0m0-1h0m-2 4h0m0-4h0m0 3h0m-1 1h0m0-1h0m-1-3h0m-7 5h0m-1 0h0m-1-2h0m-1-1h0m-1 3h0m-1 0h0m-1-4h0m0 1h0m-1-2h0m0 0h0m-2 1h0m0 2h0m-1 2h0m0-3h0m0-2h0m-1 0h0m0 0h0m-1 1h0m-1 0h0m0 1h0m-1 3h0m-1-3h0m-1 1h0m0-1h0m0-2h0m-1 5h0m-1-1h0m-8-1h0m-1-1h0m-1-1h0m0 2h0m-1 0h0m0 2h0m0-3h0m-1 0h0m-1-1h0m-1 3h0m-1-1h0m-1 2h0m-1-3h0m0 1h0m0 2h0m-1 0h0m0-2h0m-1 1h0m0-3h0m-1-1h0m0 2h0m-1 2h0m0 1h0m-6 4h0m3 1h0m0-3h0m0 0h0m1 0h0m0 2h0m1-3h0m0 0h0m0 0h0m2 1h0m0 0h0m1 2h0m0-1h0m2-2h0m0 0h0m1 2h0m0 3h0m1-5h0m0 2h0m0-1h0m0 0h0m1 0h0m1 0h0m0 1h0m0-1h0m1-1h0m0 3h0m3-2h0m0 0h0m0 1h0m0 1h0m0-2h0m1 4h0m0-4h0m1 1h0m1 1h0m0 0h0m0-1h0m5 1h0m0 0h0m1 0h0m1 1h0m0-2h0m1 2h0m0-3h0m1-1h0m0 3h0m0 2h0m0-3h0m1 1h0m0-2h0m1 0h0m1 0h0m0-1h0m0 3h0m1-2h0m0 2h0m2 0h0m1-1h0m0 2h0m0-4h0m0 0h0m1 2h0m0-1h0m1-1h0m1 1h0m0 3h0m2-2h0m0 3h0m0-2h0m1 2h0m0-2h0m0 1h0m2-4h0m0 4h0m1 0h0m2-2h0m1 0h0m1 2h0m0-2h0m0 3h0m4-5h0m1 0h0m2 1h0m1 1h0m0-2h0m0 2h0m6 0h0m1 1h0m0-2h0m1 3h0m1-3h0m1 2h0m0-1h0m0 3h0m1-4h0m1 1h0m0-2h0m0 4h0m1-4h0m1 2h0m0 0h0m1 1h0m1-2h0m0 0h0m1 2h0m0-1h0m0-2h0m0 5h0m0-5h0m1 0h0m0 2h0m0-1h0m0 4h0m1-3h0m0 3h0m1-3h0m18 2h0m0-4h0m2 5h0m0-1h0m0-3h0m1-1h0m0 2h0m0 1h0m0 1h0m1 1h0m0 0h0m0-2h0m0 2h0m1-3h0m1-1h0m0-1h0m1 5h0m2-2h0m0 1h0m0 0h0m1-2h0m0 3h0m0 0h0m1-1h0m1 1h0m0 0h0m0-1h0m1-3h0m0 1h0m1-1h0m1 4h0m0-4h0m1-1h0m0 3h0m1 1h0m0-1h0m1 1h0m2-4h0m2 4h0m0-4h0m0 3h0m0 0h0m2-3h0m2 4h0m0-3h0m2 1h0m0-1h0m1 3h0m1 1h0m0-2h0m1-3h0m0 5h0m1-4h0m0-1h0m1 4h0m0 0h0m1-3h0m0 3h0m0-3h0m0-1h0m1 0h0m1 1h0m0 4h0m0 0h0m0-2h0m0 0h0m1 1h0m0 1h0m0-2h0m0-1h0m1 2h0m1 1h0m0-4h0m2-1h0m0 2h0m1 2h0m0-2h0m1 1h0m2-1h0m2 2h0m1 1h0m1 0h0m0-4h0m1 3h0m1-2h0m0-2h0m1 1h0m0-1h0m0 3h0m2-3h0m1 5h0m0-3h0m0-1h0m1 3h0m0-3h0m0 1h0m0 3h0m1-1h0m1-1h0m0 0h0m0-1h0m0 0h0m0 3h0m1-5h0m29 5h0m13 6h0m-3 0h0m-1-2h0m-2 0h0m0 0h0m-1 1h0m0-1h0m0-1h0m-1 0h0m0-1h0m0 2h0m0 2h0m-1 0h0m0-5h0m-1 2h0m-2-2h0m0 4h0m-1 1h0m0-2h0m-1 1h0m-1-1h0m0 0h0m-1-2h0m0 4h0m-1-1h0m-1 0h0m0-3h0m-2 3h0m0 0h0m-1-1h0m0 0h0m0 1h0m-1 1h0m-1 0h0m0 0h0m-16-1h0m-5-4h0m-2 0h0m0 2h0m-1-2h0m-1 2h0m0 0h0m-1 1h0m-1 0h0m-5-3h0m-3 1h0m-3-1h0m-8 0h0m0 2h0m-2-2h0m0 3h0m-1-3h0m-1 0h0m0 2h0m0-1h0m0 4h0m0-5h0m-1 0h0m-1 3h0m-1 0h0m0-3h0m0 3h0m-1 0h0m0 2h0m0-1h0m-1-4h0m0 3h0m-1 2h0m0-2h0m-1 1h0m0 1h0m0-3h0m-2 1h0m0 0h0m-1 2h0m-1-5h0m-2 4h0m0 1h0m-1-1h0m-1-3h0m-1-1h0m-2 4h0m-2-2h0m0-2h0m-1 3h0m0-1h0m-1 2h0m0-3h0m0 2h0m0-2h0m-1 3h0m0-1h0m0-3h0m-1 3h0m0 0h0m-1 0h0m-1-3h0m-13 0h0m-9 2h0m0 0h0m0-1h0m0 1h0m-1 1h0m0-3h0m-1 3h0m0-3h0m0 5h0m-1-2h0m-2-1h0m0 2h0m0-3h0m-1 0h0m0 2h0m0-3h0m0 0h0m0 1h0m-1 3h0m0-3h0m-1 1h0m-1-1h0m0 2h0m0-2h0m0 3h0m-1 0h0m0-2h0m-1 2h0m0-1h0m0 2h0m-1-5h0m0 3h0m-1-2h0m0 1h0m-15 0h0m0 0h0m-1-1h0m-1 3h0m0-2h0m-2 2h0m0 1h0m0-2h0m0 2h0m-1-2h0m0 0h0m0 0h0m-1 1h0m-1-2h0m-2-1h0m0 4h0m0-3h0m-1-2h0m-2 4h0m-1-2h0m0 2h0m0-3h0m0 0h0m-1 3h0m-1-1h0m0 1h0m-1-4h0m0 1h0m0-1h0m-1 3h0m0 1h0m0-2h0m-1 0h0m-2-1h0m-1 0h0m-2 0h0m0 4h0m0-4h0m-1 1h0m-2 3h0m0 0h0m0-3h0m-1 0h0m0 0h0m-1-2h0m-2 5h0m-1-3h0m0 2h0m0-4h0m-1 3h0m0 1h0m0-4h0m0 4h0m-3-2h0m0-2h0m0 3h0m-2-1h0m0 3h0m0 0h0m-1-2h0m-1-1h0m-1 1h0m-1-1h0m0-1h0m-1 4h0m0-3h0m-1-1h0m0 2h0m0-3h0m-1 5h0m0-2h0m0 0h0m-1-3h0m-2 5h0m-1 0h0m0-2h0m-1 1h0m-1-2h0m0-2h0m-1 3h0m-1 0h0m0-1h0m-1 1h0m2 6h0m0-1h0m1 2h0m1-2h0m0 3h0m0-2h0m0 0h0m0 2h0m1 0h0m0-3h0m0-2h0m0 5h0m1-1h0m0-2h0m0-1h0m0 0h0m4 2h0m0 2h0m1-2h0m0-3h0m0 3h0m1-3h0m0 1h0m0-1h0m1 1h0m0 1h0m1 0h0m0 2h0m0-1h0m1-3h0m2 1h0m0 2h0m0-1h0m2-2h0m0 1h0m1 1h0m0-1h0m1 2h0m1 1h0m1 0h0m0-2h0m2 1h0m1 0h0m0 0h0m0-3h0m1 2h0m0 1h0m0-2h0m0 1h0m1-2h0m0 3h0m0-3h0m1 5h0m1-1h0m0 0h0m0-2h0m1 3h0m0-5h0m0 1h0m8-1h0m1 0h0m10 3h0m0-2h0m0 3h0m1-4h0m0 5h0m0-3h0m1 3h0m0-3h0m1 2h0m0 1h0m0-2h0m1 1h0m19-3h0m1-1h0m1 1h0m1 0h0m0 1h0m1-2h0m0 1h0m31 2h0m0-3h0m0 1h0m0 4h0m1 0h0m0-1h0m2 0h0m0-3h0m0 0h0m1 2h0m0 1h0m1 1h0m0 0h0m1-3h0m1 2h0m1-2h0m1 3h0m1-5h0m0 1h0m0 1h0m1 2h0m0-3h0m1 3h0m1-2h0m1 2h0m0-3h0m2 3h0m0 0h0m2-2h0m1 1h0m0 1h0m0 1h0m1-5h0m0 3h0m3 0h0m45 1h0m0 1h0m1-3h0m0-2h0m2 2h0m0 3h0m0-2h0m1 1h0m0 1h0m1-5h0m1 2h0m0 3h0m0-3h0m0-2h0m0 5h0m0-1h0m1-3h0m1 4h0m0-2h0m2-2h0m0 4h0m1-2h0m0-2h0m0 2h0m2 2h0m0-3h0m2 3h0m0 0h0m1-3h0m1 2h0m1-2h0m1-2h0m0 5h0m1 0h0m0-2h0m1 0h0m0 1h0m0-1h0m0-1h0m0 0h0m1-2h0m2 2h0m0 1h0m0-1h0m1-2h0m1 0h0m0 1h0m0 3h0m0-4h0m0 3h0m0-2h0m1 1h0m1 0h0m0 2h0m-4 3h0m-1 0h0m-1 1h0m0-1h0m-3 1h0m-1 0h0m-1 2h0m-1 1h0m0 0h0m-3-4h0m-1 0h0m-1 2h0m-2 2h0m0-2h0m-2 2h0m-1-3h0m0 0h0m0-1h0m0-1h0m-1 5h0m0-2h0m0-1h0m-1-1h0m0-1h0m-1 1h0m0-1h0m0 1h0m0 2h0m-2-3h0m0 2h0m0-1h0m-1 2h0m0 2h0m-1-3h0m0-1h0m-1 0h0m0 3h0m-48-4h0m-3 3h0m0 0h0m0-3h0m-1 0h0m-1 3h0m0 0h0m-1 1h0m0 1h0m-1-1h0m-1 0h0m0 1h0m0 0h0m-1 0h0m-1-4h0m0 1h0m0-2h0m-1 4h0m-2 0h0m-1 0h0m-1-4h0m0 1h0m0 4h0m-1-1h0m-2-1h0m-2-2h0m0 0h0m-1 1h0m-35 2h0m-17-3h0m-1 1h0m-2-2h0m0 3h0m0 1h0m-1 1h0m-1-3h0m-3 3h0m0-1h0m-14-4h0m0 0h0m-2 3h0m0-2h0m-1 1h0m0-1h0m0 2h0m0 0h0m-1 2h0m-1-3h0m-1-1h0m0 1h0m0 3h0m0-2h0m-1-3h0m-1 1h0m0 3h0m-1 1h0m0-2h0m0-3h0m0 3h0m-1-1h0m-1 3h0m-1-1h0m-1-2h0m-2 0h0m0 0h0m0 2h0m-5-2h0m0 1h0m0-1h0m0-1h0m-1 1h0m-1-1h0m-1-1h0m-4 2h0m-1 0h0m-1-2h0m43 8h0m2-2h0m5 5h0m2-1h0m0-3h0m0-1h0m0 5h0m1-5h0m0 3h0m1 0h0m1-1h0m0-2h0m3 2h0m5-2h0m23 3h0m10-3h0m9 2h0m0-2h0m1 0h0m1 2h0m4-1h0m1-1h0m0 2h0m1-1h0m0 0h0m0 1h0m0-1h0m1 0h0m0 0h0m1-1h0m1 0h0m3 1h0m0-1h0m1 1h0m19 4h0m2 0h0m3-5h0m1 5h0m27-3h0m0-2h0m1 3h0m1-3h0m1 1h0m1 1h0m0-1h0m1 0h0m0 3h0m0 0h0m1-2h0m0-1h0m1 3h0m0-1h0m1-1h0m0 1h0m2-1h0m1-1h0m0 0h0m2 0h0m1 0h0m1 3h0m1-3h0m0 0h0m0 1h0m0-2h0m2 0h0m0 3h0m0-1h0m-42 8h0m-1-3h0m0 4h0m-1-3h0m0 1h0m-1-2h0m0 2h0m0 1h0m0 1h0m-1-3h0m0-2h0m-1 3h0m0 1h0m0-2h0m-1 0h0m0 2h0m-1 1h0m-1-3h0m0-2h0m-1 3h0m-1-1h0m0-1h0m0 4h0m-1-4h0m0 0h0m-1 4h0m0-1h0m-1-1h0m-1-1h0m-2-1h0m0 3h0m-1-2h0m0 0h0m0 1h0m0-1h0m-3 3h0m-2-1h0m-1 0h0m-1-1h0m-2 1h0m0 0h0m-1 1h0m-3 0h0m-3 0h0m-20 6h0m1-3h0m1 2h0m0-1h0m2 1h0m1-1h0m5 1h0m1 1h0m2-2h0m0 2h0m1-3h0m0 2h0m2 0h0m0-2h0m2 2h0m0-3h0m1 4h0m0-3h0m1 1h0m0 1h0m0-1h0m0 0h0m1-1h0m0 0h0m2 0h0m0-1h0m1-1h0m1 4h0m0 0h0m1 0h0m2-2h0m1 1h0m0 0h0m1-3h0m1 1h0m2-1h0m0 4h0m0-3h0m1 2h0m1 0h0m0 2h0m1-1h0m0-4h0m4 1h0m0 4h0m0-1h0m0-4h0m1 3h0m0 0h0m2-3h0m0 0h0m1 5h0m1-3h0m0 3h0m1-4h0m0 1h0m1 0h0m0 2h0m0 1h0m1-1h0m1-2h0m0 2h0m1 1h0m1-1h0m0-3h0m0 0h0m1-1h0m0 3h0m0 1h0m1-4h0m1 2h0m1 2h0m0 1h0m5 6h0m-2-1h0m0 0h0m-1-2h0m0 2h0m-1 1h0m-1 0h0m0-4h0m0-1h0m-1 5h0m0-2h0m0 2h0m-1-3h0m-1 2h0m-1-2h0m-1-2h0m0 5h0m0-4h0m0-1h0m-1 5h0m0-3h0m0 1h0m-1-2h0m0 1h0m-1 2h0m0 1h0m0-2h0m0-3h0m-1 2h0m0 2h0m-1-2h0m0 2h0m0-2h0m0-2h0m-2 5h0m0-5h0m0 0h0m0 2h0m0 1h0m-1-3h0m0 4h0m-1-4h0m-1 5h0m-1-3h0m-1 0h0m0 0h0m0 0h0m-1-2h0m0 2h0m0 3h0m-1-4h0m0 1h0m0 1h0m-1 1h0m0 1h0m0-2h0m-1 1h0m-1-2h0m0 1h0m-2 1h0m0 0h0m0 1h0m0-3h0m-2 3h0m-1-3h0m-1 3h0m0 0h0m-2-1h0m0 1h0m-1-2h0m0 0h0m-1-3h0m-1 2h0m0 2h0m0 0h0m-3-3h0m-1-1h0m0 2h0m-1 0h0m-1 0h0m0 1h0m0-2h0m0 4h0m-1-5h0m0 4h0m0 1h0m0-5h0m-1 0h0m0 3h0m0 1h0m0 0h0m-1 0h0m0-4h0m0 1h0m-2-1h0m0 0h0m0 4h0m-1-2h0m0 1h0m0 1h0m0-3h0m-1 4h0m0-3h0m0-1h0m-1 1h0m0 3h0m0-4h0m0 4h0m-1-3h0m0 0h0m0 2h0m0-1h0m-1 0h0m0-2h0m-1 1h0m0 2h0m-1-4h0m-1 5h0m-1-4h0m0 3h0m0 1h0m-1-3h0m0 3h0m0-3h0m-1 2h0m0-1h0m0 0h0m0-3h0m0 4h0m-1-4h0m0 0h0m0 5h0m0-3h0m-1 0h0m-1-1h0m-35 3h0m-1 0h0m0-1h0m-4 2h0m0-1h0m-1 0h0m0-1h0m0 0h0m0 0h0m-1 2h0m0 0h0m-1-3h0m0 0h0m-1 3h0m0-3h0m0 0h0m-1 0h0m-1 3h0m0 0h0m0-4h0m-1 4h0m0 0h0m0-1h0m-1-2h0m0 3h0m0-2h0m0 1h0m-1-1h0m0-1h0m-1 2h0m-2-1h0m0 1h0m-1 0h0m-1 0h0m0 0h0m-1-1h0m-2 1h0m-15 6h0m2-1h0m1 2h0m0 0h0m1-2h0m2-2h0m0 4h0m0-1h0m3-3h0m0 0h0m1 0h0m0 3h0m0-3h0m1 0h0m0 2h0m1-1h0m1 3h0m0-2h0m0 1h0m1 1h0m0-4h0m0-1h0m0 4h0m1 0h0m1 1h0m0-5h0m0 1h0m0 4h0m1-5h0m0 5h0m0-2h0m1-3h0m1 4h0m1 1h0m0 0h0m0-4h0m0 4h0m0-2h0m0 0h0m1-1h0m0 0h0m0 3h0m0-4h0m0 3h0m1-4h0m0 3h0m1 1h0m0-4h0m0 1h0m1 1h0m0 3h0m1 0h0m1-2h0m1 1h0m1-4h0m3 2h0m0 1h0m1-1h0m1-1h0m2 0h0m0 1h0m1-1h0m1 3h0m0-1h0m0-3h0m30 5h0m2-1h0m0-1h0m2 2h0m0-5h0m1 4h0m3-1h0m1-3h0m0 1h0m0-1h0m0 4h0m2 0h0m0 1h0m1-3h0m0 1h0m1-2h0m0 0h0m0 1h0m1-2h0m0 2h0m0 0h0m1-2h0m0 0h0m0 0h0m3 3h0m1 2h0m1-3h0m1 2h0m0-1h0m0 2h0m1 0h0m0 0h0m0-2h0m1 2h0m1-5h0m0 3h0m0-1h0m1 2h0m1-1h0m0-2h0m1 4h0m0-1h0m0-2h0m0 3h0m1-2h0m0-1h0m3 1h0m0 1h0m0 1h0m0-3h0m0 3h0m0-2h0m1-2h0m1-1h0m0 5h0m1-3h0m1 3h0m0 0h0m0-5h0m0 0h0m1 4h0m0-2h0m0 2h0m0 1h0m0-1h0m1 0h0m0-3h0m1 0h0m0 4h0m1-5h0m0 1h0m0 4h0m0-1h0m1-1h0m0-1h0m0-2h0m0 3h0m2-3h0m0 1h0m1 3h0m1-1h0m1 2h0m0-4h0m2 3h0m0 1h0m0-4h0m2 2h0m0-1h0m1 2h0m0-3h0m2-1h0m0 2h0m1 1h0m2-1h0m0 2h0m0-1h0m2 1h0m0-4h0m0 1h0m0-1h0m1 1h0m0 3h0m0 1h0m1-3h0m0 2h0m0-1h0m2-1h0m0 3h0m0-4h0m1 0h0m2-1h0m3 4h0m0 0h0m1-2h0m1 1h0m1 2h0m0-1h0m1 6h0m0 1h0m0-2h0m-2 0h0m0 2h0m-1-2h0m-1 0h0m0 0h0m0-1h0m0 2h0m0 1h0m-1-2h0m0-3h0m0 4h0m-1-2h0m0 3h0m0-2h0m-1 1h0m0-3h0m0 1h0m-1 1h0m0-2h0m0-1h0m-2 4h0m-2-3h0m-1-1h0m0 4h0m-2-2h0m-1 0h0m0 1h0m0-3h0m0 0h0m-1 3h0m0 0h0m-2 0h0m0-3h0m-1 1h0m-2 1h0m0 2h0m-1 0h0m-2-4h0m0 2h0m0 2h0m0-4h0m0 0h0m-3 1h0m-1 0h0m-1-1h0m0 1h0m-1-1h0m-1 4h0m-1-1h0m-1 0h0m-1-3h0m0 2h0m0 0h0m-1-2h0m0 1h0m-3 2h0m-1 1h0m0 1h0m-1-3h0m0-2h0m-1 4h0m0 0h0m0-3h0m-1 1h0m-1 3h0m-1-1h0m0 0h0m0 0h0m-3-3h0m0 1h0m-1 1h0m0-2h0m0 0h0m-1 3h0m-2 1h0m0-5h0m0 4h0m-1-1h0m-1 1h0m0-1h0m0 0h0m-1-3h0m0 5h0m0 0h0m-1 0h0m0-4h0m-2 2h0m0-3h0m-2 3h0m-1 0h0m0 0h0m0 2h0m-1-3h0m0 0h0m0 1h0m-1 2h0m0-5h0m0 0h0m-1 5h0m0 0h0m0-4h0m-1 2h0m-1 2h0m-2-2h0m-1-3h0m0 0h0m-1 1h0m0-1h0m-1 2h0m0-2h0m0 1h0m-1 1h0m-2-2h0m0 4h0m0-1h0m-23 1h0m-3-4h0m0 1h0m0-1h0m-6 1h0m0 0h0m0 2h0m0 2h0m-1-1h0m0-1h0m-2-2h0m-1 4h0m0-4h0m0-1h0m-1 0h0m0 0h0m0 1h0m-1 1h0m0 2h0m-1-3h0m-1 1h0m0 1h0m-1 0h0m0-2h0m0 1h0m0 1h0m-1 0h0m0-2h0m0-1h0m0 4h0m0 0h0m0-2h0m-1 3h0m0-4h0m0 4h0m-1-3h0m0-1h0m-1 4h0m-1-1h0m-1 0h0m0 1h0m0-1h0m-2 0h0m0-3h0m-1-1h0m0 5h0m-1 0h0m-1-5h0m0 4h0m0-2h0m-1-1h0m0 0h0m-2 4h0m0-5h0m0 3h0m0 1h0m-1 1h0m0 0h0m-1-2h0m0-3h0m0 0h0m-2 0h0m0 3h0m-1 2h0m0-4h0m0-1h0m-1 4h0m-1-4h0m0 3h0m0 2h0m0-4h0m-1 0h0m0 1h0m-2-1h0m-1 1h0m0 0h0m0 1h0m0-1h0m0-1h0m0-1h0m-1 2h0m-1-2h0m-1 0h0m-3 6h0m1 0h0m1 1h0m1 1h0m0-2h0m2 2h0m1 3h0m0 0h0m0-4h0m0 3h0m3-2h0m0-2h0m0 1h0m0 3h0m1-4h0m0 4h0m0-1h0m0 1h0m0 0h0m1-4h0m1 3h0m0-3h0m0 2h0m0-1h0m0 2h0m1-2h0m0 4h0m0-1h0m1-2h0m1-1h0m0-1h0m1 4h0m0-1h0m0 0h0m0 0h0m0 1h0m1-1h0m0-2h0m2 0h0m1 1h0m0 2h0m1-3h0m1 3h0m1-1h0m0-1h0m1 3h0m0-1h0m0-2h0m0 0h0m1-1h0m0 4h0m0-2h0m0 0h0m1 1h0m0-3h0m1 0h0m0-1h0m1 3h0m0 2h0m0-3h0m1-2h0m0 3h0m1-3h0m1 3h0m0 2h0m0 0h0m1-2h0m0 1h0m0 0h0m0-1h0m1 2h0m0-1h0m2-1h0m0 2h0m0-3h0m0 1h0m1 0h0m1-1h0m0-1h0m0 0h0m1 4h0m0-3h0m0-1h0m1 0h0m0-1h0m0 1h0m2-1h0m0 0h0m1 2h0m1 2h0m0 0h0m1 0h0m0 1h0m1-3h0m1 2h0m1-2h0m0-2h0m0 0h0m0 1h0m1-1h0m1 5h0m1-4h0m0-1h0m1 1h0m0 4h0m0-3h0m0-1h0m0 2h0m2 2h0m0-2h0m0 1h0m16 1h0m2-3h0m0-2h0m3 5h0m1-5h0m0 4h0m1-3h0m0 2h0m1 0h0m0 2h0m0-3h0m1-1h0m0 3h0m1 1h0m0 0h0m0-2h0m1-2h0m0 0h0m1 3h0m0-4h0m0 2h0m0 2h0m1-4h0m1 3h0m1 0h0m0-3h0m0 3h0m1 2h0m0-1h0m1-3h0m0 4h0m1-5h0m0 4h0m1 0h0m1-3h0m0 3h0m1-3h0m0 1h0m0 1h0m1 2h0m1-4h0m1-1h0m0 3h0m1 2h0m0-3h0m4 2h0m2-1h0m0-3h0m0 2h0m2 0h0m0 2h0m0 1h0m1 0h0m0-5h0m0 2h0m1 1h0m0-3h0m1 2h0m0 2h0m2-2h0m0 0h0m1 0h0m4 1h0m2 0h0m0 1h0m3-2h0m1 1h0m0 0h0m1 0h0m1-1h0m0 1h0m0-2h0m3 1h0m0 0h0m0 1h0m0 2h0m1-5h0m1 2h0m1-2h0m0 3h0m0-1h0m2-2h0m0 3h0m1 2h0m0-4h0m1 2h0m1 1h0m0-3h0m0 2h0m1 1h0m1-4h0m0 1h0m0 3h0m0-3h0m2 3h0m0-1h0m0-3h0m1 4h0m0 0h0m0-2h0m1-1h0m1 4h0m0-4h0m0 0h0m1 2h0m1-2h0m0 3h0m2-3h0m2-1h0m0 4h0m1-3h0m0-1h0m1 0h0m0 1h0m-5 8h0m0 0h0m-2 2h0m0-5h0m0 5h0m0-4h0m0 4h0m-1-5h0m0 5h0m-1-2h0m0-3h0m-1 4h0m-1 1h0m0 0h0m0-5h0m0 2h0m-1 0h0m-1-1h0m0 4h0m0-2h0m0-2h0m0 2h0m-1-3h0m0 0h0m0 2h0m-1 0h0m-1 2h0m0-3h0m0 0h0m-1 0h0m-1 0h0m-1 3h0m0-2h0m-1 0h0m-1-2h0m0 2h0m-1 2h0m0-1h0m-1 2h0m0 0h0m-1 0h0m-2-4h0m-1 3h0m0-2h0m0-1h0m-1-1h0m0 4h0m-2-3h0m0 3h0m0 1h0m0-5h0m-1 1h0m-1 2h0m0 1h0m0-4h0m-2 2h0m0 1h0m-1-1h0m-1 0h0m0 3h0m-1-1h0m0 0h0m-1-4h0m-1 5h0m0-2h0m0-1h0m0-2h0m-1 3h0m-1 0h0m-1-1h0m0 1h0m-1 2h0m-1-2h0m0-2h0m-1 1h0m0 2h0m0-4h0m-1 1h0m-1-1h0m0 4h0m-2-4h0m0 0h0m-1 3h0m0-2h0m0 0h0m0 2h0m-1-2h0m0 1h0m0-2h0m-1 5h0m0-5h0m0 2h0m-1 2h0m0-3h0m-1-1h0m0 5h0m0-4h0m0 2h0m0-3h0m-1 5h0m0-2h0m-1 1h0m0-2h0m-1 1h0m-1 0h0m-1-2h0m-1-1h0m-1 0h0m-1 3h0m0-2h0m0 4h0m0-5h0m0 0h0m0 0h0m-1 4h0m0 0h0m0 0h0m0-3h0m-1 2h0m-1-3h0m0 3h0m0-1h0m-1-2h0m0 2h0m-1 1h0m0-1h0m-1 2h0m0-4h0m-1 0h0m0 5h0m-1 0h0m-1-2h0m-1-3h0m0 4h0m0 1h0m0-4h0m0 4h0m-1-5h0m-1 5h0m0-1h0m0-2h0m-1 0h0m-1 3h0m-1-4h0m0 1h0m-13-2h0m-6 0h0m-1 1h0m0-1h0m0 0h0m0 0h0m-1 0h0m-1 2h0m0 1h0m-1 0h0m0 0h0m-1 1h0m-1 0h0m-1 1h0m0-5h0m-1 4h0m-1 0h0m0-3h0m-1 4h0m-1 0h0m-1-1h0m0 0h0m-1 0h0m0-2h0m0-1h0m-1 0h0m0 4h0m-1-4h0m0-1h0m-1 2h0m0 2h0m-1-1h0m-1 0h0m0-1h0m0 1h0m0-1h0m-1 0h0m-1 1h0m0 1h0m-1-3h0m0 4h0m0-4h0m0 0h0m-1 3h0m-1 1h0m0-1h0m0-2h0m0 3h0m-1-5h0m0 3h0m-1-1h0m0 1h0m-2-3h0m0 0h0m-11 2h0m-1-2h0m16 6h0m1 1h0m0 1h0m1-2h0m0 1h0m1-1h0m0 1h0m2 1h0m0 2h0m2 0h0m0-2h0m0-1h0m0 1h0m0-2h0m1 5h0m0-4h0m1-1h0m0 1h0m1-1h0m0 3h0m1-1h0m0-1h0m1-1h0m1 3h0m1-3h0m28 0h0m0 0h0m1 2h0m1 0h0m1 2h0m0 1h0m1 0h0m0-4h0m1 3h0m0-4h0m0 3h0m0 1h0m2-3h0m1 3h0m0-1h0m1 2h0m0-3h0m0-1h0m1 2h0m0-3h0m0 5h0m1-4h0m2-1h0m0 1h0m1 0h0m2 1h0m1 3h0m1-4h0m0 4h0m1-3h0m1 1h0m1-2h0m0 2h0m0-1h0m0 0h0m1 2h0m2-4h0m1 2h0m1-1h0m0 3h0m2-4h0m0 0h0m0 2h0m2 3h0m0-3h0m0 3h0m2-5h0m0 1h0m0 0h0m0-1h0m1 2h0m1 1h0m2 2h0m0-1h0m2-1h0m1 1h0m0-1h0m0-1h0m1 2h0m0 1h0m0-3h0m1 1h0m0-2h0m1 1h0m0 3h0m0-1h0m0-4h0m1 0h0m0 2h0m0 0h0m1 1h0m0-2h0m0 1h0m0 1h0m0 1h0m0-3h0m1 2h0m0-3h0m0 5h0m0-1h0m1 0h0m0-1h0m1-2h0m1 3h0m0-4h0m1 3h0m0-2h0m1 3h0m0-1h0m1-3h0m0 5h0m1-5h0m0 3h0m0-2h0m1 1h0m0 0h0m0-2h0m1 0h0m0 1h0m1 0h0m0 1h0m0 1h0m1-1h0m0-2h0m0 5h0m1-4h0m1 3h0m0 1h0m0-3h0m0 0h0m1-1h0m1 3h0m1 1h0m1-1h0m0 1h0m1 0h0m0-3h0m1-1h0m1 0h0m0-1h0m1 5h0m0-4h0m2 0h0m0 0h0m0 0h0m-4 5h0m0 2h0m-1 3h0m0-1h0m0-3h0m-1 4h0m-1-2h0m0 0h0m0-2h0m-1 0h0m0 3h0m-1-3h0m0 4h0m0-4h0m-1 0h0m0 4h0m-1-3h0m0 1h0m0 1h0m0-2h0m-1 2h0m0 0h0m0-3h0m0-1h0m-1 4h0m-1-3h0m0 2h0m0-1h0m-1 2h0m0-3h0m0 1h0m-1-1h0m0 2h0m-1 2h0m-1 0h0m0-3h0m0-1h0m-1 0h0m-1 0h0m-1 3h0m0-4h0m-1 3h0m0-2h0m-1 3h0m-1 1h0m0 0h0m-1-3h0m-1 2h0m0 0h0m0-1h0m-1 1h0m-1 0h0m0 0h0m0-3h0m-1-1h0m-1 2h0m0 2h0m0-4h0m0 0h0m-1 4h0m-1-2h0m0 0h0m0 2h0m-1 1h0m0-4h0m0 1h0m-1 2h0m0-2h0m0 2h0m-2-2h0m-1-2h0m-1 1h0m-1 4h0m0-4h0m-1 0h0m0-1h0m-1 0h0m-1 3h0m0 1h0m0-3h0m-1 2h0m0 2h0m0-2h0m0-3h0m-1 2h0m0 3h0m0-5h0m-1 4h0m0-4h0m-1 5h0m0-3h0m-1 2h0m0 0h0m0-4h0m0 3h0m0 0h0m0 0h0m-1-1h0m-1-2h0m0 1h0m0-1h0m0 0h0m0 2h0m0 3h0m0-1h0m0-3h0m-2 4h0m0-1h0m-1-1h0m0 2h0m0-4h0m-1 1h0m0 0h0m0 2h0m0-2h0m0 3h0m-2 0h0m-1-5h0m0 4h0m0-3h0m-1-1h0m-2 4h0m0-1h0m0 0h0m-2 1h0m0 0h0m0-4h0m-1 3h0m0 2h0m0 0h0m-1-3h0m-1 1h0m0 1h0m-1 1h0m0-3h0m0-2h0m-1 5h0m-1 0h0m0-4h0m0 2h0m-2 2h0m0-1h0m-1 1h0m0 0h0m-38-2h0m38 7h0m0 0h0m0-4h0m0 5h0m1-4h0m0 0h0m1 4h0m0-5h0m0 0h0m0 1h0m0 0h0m1 3h0m0 1h0m0-5h0m1 0h0m0 0h0m1 5h0m0-3h0m1 2h0m0-1h0m1 1h0m0 1h0m0-5h0m1 5h0m1-4h0m1 2h0m0-2h0m1 2h0m0-1h0m1 3h0m0-3h0m0 0h0m1 2h0m1-3h0m0 0h0m0 0h0m1 1h0m2-1h0m0 1h0m0-2h0m1 4h0m0-4h0m1 5h0m0-2h0m0-2h0m1 0h0m1-1h0m2 4h0m0 1h0m0-4h0m1 0h0m1 4h0m0 0h0m0-1h0m0-2h0m1 0h0m0 1h0m0-1h0m1 1h0m0-3h0m1 3h0m0-1h0m0 0h0m2-2h0m1 2h0m1-2h0m0 0h0m1 1h0m0 2h0m0-2h0m0 2h0m1 0h0m0-3h0m1 4h0m1-3h0m0 4h0m0-4h0m0 4h0m0-5h0m1 4h0m0-4h0m0 5h0m1-3h0m0-1h0m1-1h0m0 4h0m1-4h0m0 3h0m0 1h0m0-3h0m1 4h0m0 0h0m0-3h0m1-1h0m1-1h0m3 1h0m0 0h0m1 0h0m1 2h0m0-2h0m0 1h0m2 3h0m2 0h0m0-2h0m0 1h0m1 0h0m0-2h0m1-2h0m0 3h0m0 2h0m0-4h0m1 4h0m1-2h0m0 2h0m1-2h0m0-1h0m1-1h0m0 2h0m0-2h0m0 4h0m1-3h0m0-2h0m0 1h0m1 3h0m1-3h0m3-1h0m-9 6h0m-3 0h0m0 0h0m-5 2h0m0-2h0m0 2h0m0-2h0m-1 1h0m0-1h0m-3 2h0m0-2h0m-2 2h0m0-1h0m-1 2h0m0 0h0m0-2h0m-1 4h0m-1-5h0m-1 1h0m-1-1h0m-1 1h0m0 1h0m0 0h0m-1-1h0m0-1h0m-2 2h0m0 0h0m0-2h0m0 4h0m-1 0h0m0-3h0m0-1h0m0 1h0m-1 3h0m-1 0h0m0-2h0m0-1h0m0 4h0m0-3h0m-1-2h0m-1 5h0m0-5h0m0 3h0m-1 0h0m-1-1h0m0 0h0m0-2h0m0 4h0m0-4h0m-1 1h0m0 1h0m-1 3h0m0-2h0m0-2h0m0 4h0m-1-4h0m-1 4h0m0 0h0m0-1h0m0-1h0m-1 0h0m0 1h0m-1-3h0m0 0h0m-1 0h0m0-1h0m0 3h0m0 1h0m0-3h0m0 0h0m0 4h0m-1-5h0m0 2h0m0 0h0m-1 2h0m0-4h0m0 3h0m-2-3h0m-1 5h0m0-5h0m0 5h0m0-4h0m-1 4h0m0-2h0m0 0h0m-1-1h0m0-2h0m0 0h0m-1 4h0m0 0h0m-1 0h0m0-1h0m-1 1h0m-1-1h0m0 0h0m-1-2h0m-1 4h0m-1-3h0m0 1h0m-1 0h0m0-1h0m-1 3h0m0-1h0m-1-3h0m0 1h0m0-1h0m-1 1h0m2 4h0m3 2h0m0-1h0m2 0h0m1 4h0m0 0h0m0-5h0m1 2h0m0-1h0m0-1h0m2 1h0m1 0h0m1 1h0m0 3h0m0-4h0m2 2h0m1-3h0m1 4h0m1-3h0m1 2h0m0-1h0m1 3h0m0-4h0m0 4h0m1-3h0m0 3h0m2-4h0m0 0h0m1-1h0m0 0h0m1 3h0m0 0h0m0-2h0m1 2h0m0 2h0m1-3h0m2 3h0m0-4h0m1 1h0m0 0h0m0-2h0m1 0h0m0 0h0m0 1h0m1-1h0m1 2h0m0 0h0m1 1h0m-3 4h0m-1-1h0m-3 1h0m0 0h0m-1-1h0m-3 5h0m-2 0h0m-1 0h0m-1-1h0m0 0h0m-1-1h0m-1-1h0m0 0h0m0 1h0m0-2h0m-1 2h0m0-3h0m0 2h0m0 2h0m-1-4h0m0 3h0m-2-3h0m0 1h0m0-1h0m-1 0h0m0 2h0"/>
<path stroke="#ceeaf3" d="m83 154h0"/>
<path stroke="#eaf7e5" d="m200 152h0m-7 6h0"/>
<path stroke="#ffffbf" d="m115 79h0m-32 3h0m-5 15h0m4 11h0m72 6h0m-18 5h0m-56-5h0m-43 8h0m91-2h0m-55 8h0m-47 21h0m95-4h0m-99 9h0m39 55h0"/>
<path stroke="#feeaa0" d="m67 99h0m4 8h0m-19-1h0m32 13h0m-17-4h0m81 28h0m-122-1h0m42 2h0m-56 9h0m2 8h0m175-2h0m-90 70h0m30 3h0m-30 13h0"/>
<path stroke="#fecf80" d="m80 103h0m48 5h0m-79 29h0m-23 63h0m71 7h0"/>
<path stroke="#fdae61" d="m85 79h0m-29 33h0m-27 17h0m53 10h0m-51 6h0m25 3h0m73 4h0m-77 39h0m86 6h0m7-4h0m-95 6h0m43 11h0m57 14h0m-2-1h0m-57 4h0m-1 6h0"/>
<path stroke="#f7834d" d="m67 98h0m18 40h0m-51 4h0m77 3h0m81 18h0m-136 8h0m8 2h0m-16 29h0m65 13h0m49 1h0m-46 10h0m-20 17h0"/>
<path stroke="#ea593a" d="m55 171h0m106 18h0m-2 7h0m-13 7h0m-40-1h0m-14 26h0m20 2h0"/>
<path stroke="#d73027" d="m51 141h0m10 29h0m89 9h0m-3-3h0m-55 43h0m20 10h0"/>
</g></g><use href="#t111" stroke-width="3.5"/></g>
<path d="M1696.1 1783.5V1990.1H1919.3" fill="none" stroke="#000" stroke-width="1.9"/>
<text x="1696.1" y="2002.9" font-size="9.4" text-anchor="middle" fill="#333">−50</text>
<text x="1748" y="2002.9" font-size="9.4" text-anchor="middle" fill="#333">−25</text>
<text x="1799.8" y="2002.9" font-size="9.4" text-anchor="middle" fill="#333">0</text>
<text x="1851.7" y="2002.9" font-size="9.4" text-anchor="middle" fill="#333">25</text>
<text x="1903.6" y="2002.9" font-size="9.4" text-anchor="middle" fill="#333">50</text>
<text x="1691.5" y="1787.5" font-size="9.4" text-anchor="end" fill="#333">50</text>
<text x="1691.5" y="1839.5" font-size="9.4" text-anchor="end" fill="#333">25</text>
<text x="1691.5" y="1891.4" font-size="9.4" text-anchor="end" fill="#333">0</text>
<text x="1691.5" y="1943.4" font-size="9.4" text-anchor="end" fill="#333">−25</text>
<path d="M1696.1 1990.1v3.2M1748 1990.1v3.2M1799.8 1990.1v3.2M1851.7 1990.1v3.2M1903.6 1990.1v3.2M1696.1 1784h-3.2M1696.1 1836h-3.2M1696.1 1887.9h-3.2M1696.1 1939.9h-3.2" stroke="#000" stroke-width="1.5" fill="none"/>
<text x="1806.8" y="2021.3" font-size="14" text-anchor="middle">tSNE_1</text>
<text x="1679.2" y="1886.6" font-size="14" text-anchor="middle" transform="rotate(-90 1679.2 1886.6)">tSNE_2</text>
<text x="1815.5" y="1759.7" font-size="33.5" text-anchor="middle" font-style="italic" stroke-width="0.40">Cd36</text>
<rect x="1929.9" y="1863.2" width="11.4" height="57.4" fill="url(#rb)"/>
<text x="1930.3" y="1859" font-size="7.3" fill="#222">Scale.data</text>
<text x="1944.6" y="1865.8" font-size="6.1" fill="#333">10.0</text>
<text x="1944.6" y="1880" font-size="6.1" fill="#333">7.5</text>
<text x="1944.6" y="1893.9" font-size="6.1" fill="#333">5.0</text>
<text x="1944.6" y="1908.1" font-size="6.1" fill="#333">2.5</text>
<text x="1944.6" y="1922.1" font-size="6.1" fill="#333">0.0</text>
<path d="M1929.9 1863.6h2.3M1941.3 1863.6h-2.3M1929.9 1877.8h2.3M1941.3 1877.8h-2.3M1929.9 1891.7h2.3M1941.3 1891.7h-2.3M1929.9 1905.9h2.3M1941.3 1905.9h-2.3M1929.9 1919.9h2.3M1941.3 1919.9h-2.3" stroke="#fff" stroke-width="0.5" fill="none"/>
<text x="26.5" y="1325.5" font-size="57.5" stroke-width="0.69">g</text></g>
</svg></body></html>
